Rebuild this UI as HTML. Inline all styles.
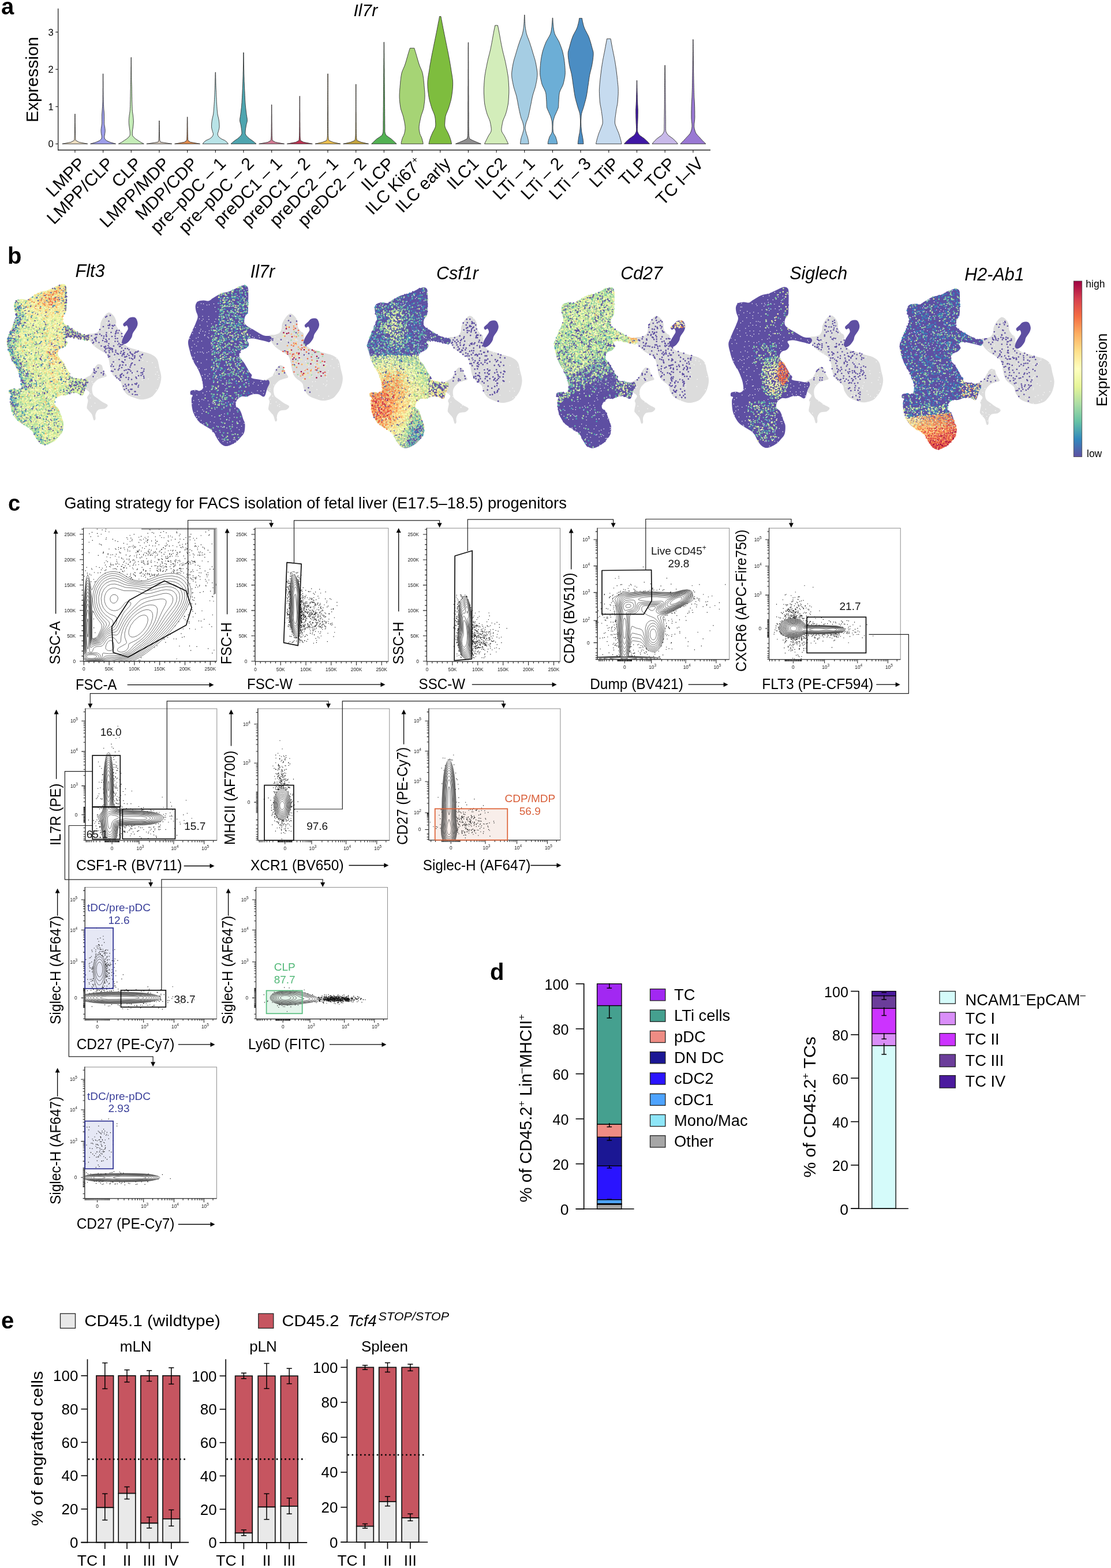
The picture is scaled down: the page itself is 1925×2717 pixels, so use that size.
<!DOCTYPE html>
<html><head><meta charset="utf-8"><title>Figure</title>
<style>html,body{margin:0;padding:0;background:#fff;}svg{display:block;}</style>
</head><body>
<svg width="1925" height="2717" viewBox="0 0 1925 2717" font-family="'Liberation Sans', Arial, Helvetica, sans-serif">
<rect width="1925" height="2717" fill="#fff"/>
<text x="2" y="25" font-size="40" font-weight="bold">a</text>
<text x="612.5" y="27.9" font-size="30" font-style="italic">Il7r</text>
<path d="M151.9 249.3 136.7 246.3 131.1 243.2 130.8 240.2 130.7 237.1 130.6 234.1 130.5 231.1 130.5 228 130.4 225 130.4 222 130.3 218.9 130.3 215.9 130.2 212.8 130.2 209.8 130.2 206.8 130.2 203.7 130.2 200.7 130.2 197.6 129.7 197.6 129.6 200.7 129.6 203.7 129.6 206.8 129.6 209.8 129.6 212.8 129.5 215.9 129.5 218.9 129.4 222 129.4 225 129.3 228 129.3 231.1 129.2 234.1 129.1 237.1 129 240.2 128.7 243.2 123.1 246.3 107.9 249.3Z" fill="#EEDFC2" stroke="#333" stroke-width="0.9" stroke-linejoin="round"/>
<path d="M200.6 249.3 190.4 246.3 184.1 243.4 181.5 240.4 180.8 237.5 181.2 234.5 181.7 231.5 182.1 228.6 182.2 225.6 181.9 222.7 181.5 219.7 180.9 216.7 180.6 213.8 180.6 210.8 180.6 207.8 180.6 204.9 180.6 201.9 180.5 199 180.4 196 180.2 193 179.9 190.1 179.7 187.1 179.6 184.2 179.4 181.2 179.3 178.2 179.2 175.3 179.1 172.3 179.1 169.4 179 166.4 179 163.4 179 160.5 178.9 157.5 178.9 154.6 178.9 151.6 178.9 148.6 178.9 145.7 178.9 142.7 178.8 139.8 178.8 136.8 178.8 133.8 178.8 130.9 178.8 127.9 178.3 127.9 178.3 130.9 178.3 133.8 178.3 136.8 178.3 139.8 178.3 142.7 178.3 145.7 178.3 148.6 178.3 151.6 178.2 154.6 178.2 157.5 178.2 160.5 178.2 163.4 178.1 166.4 178.1 169.4 178.1 172.3 178 175.3 177.9 178.2 177.7 181.2 177.6 184.2 177.4 187.1 177.2 190.1 177 193 176.8 196 176.6 199 176.6 201.9 176.6 204.9 176.6 207.8 176.6 210.8 176.6 213.8 176.2 216.7 175.7 219.7 175.3 222.7 175 225.6 175.1 228.6 175.4 231.5 176 234.5 176.4 237.5 175.7 240.4 173 243.4 166.7 246.3 156.6 249.3Z" fill="#9D9EEA" stroke="#333" stroke-width="0.9" stroke-linejoin="round"/>
<path d="M249.3 249.3 243.7 246.4 239.1 243.4 234.8 240.5 231.6 237.6 229.4 234.6 229.3 231.7 229.3 228.7 229.6 225.8 230.1 222.9 230.5 219.9 230.8 217 231.1 214.1 231.3 211.1 231.2 208.2 231 205.2 230.7 202.3 230.4 199.4 229.9 196.4 229.5 193.5 229.2 190.6 229.1 187.6 229 184.7 228.9 181.7 228.8 178.8 228.7 175.9 228.6 172.9 228.6 170 228.5 167.1 228.5 164.1 228.4 161.2 228.4 158.2 228.3 155.3 228.3 152.4 228.2 149.4 228.1 146.5 228 143.6 227.9 140.6 227.8 137.7 227.8 134.7 227.7 131.8 227.7 128.9 227.7 125.9 227.6 123 227.6 120.1 227.6 117.1 227.6 114.2 227.5 111.2 227.5 108.3 227.5 105.4 227.5 102.4 227.5 99.5 227 99.5 227 102.4 227 105.4 227 108.3 227 111.2 227 114.2 226.9 117.1 226.9 120.1 226.9 123 226.8 125.9 226.8 128.9 226.8 131.8 226.7 134.7 226.7 137.7 226.6 140.6 226.5 143.6 226.4 146.5 226.3 149.4 226.3 152.4 226.2 155.3 226.1 158.2 226.1 161.2 226 164.1 226 167.1 225.9 170 225.9 172.9 225.8 175.9 225.7 178.8 225.7 181.7 225.6 184.7 225.4 187.6 225.3 190.6 225 193.5 224.6 196.4 224.1 199.4 223.8 202.3 223.5 205.2 223.3 208.2 223.3 211.1 223.4 214.1 223.7 217 224 219.9 224.4 222.9 224.9 225.8 225.2 228.7 225.3 231.7 225.1 234.6 223 237.6 219.7 240.5 215.4 243.4 210.9 246.4 205.3 249.3Z" fill="#C5EDB8" stroke="#333" stroke-width="0.9" stroke-linejoin="round"/>
<path d="M297.9 249.3 278.1 246.2 276.8 243.1 276.7 240.1 276.6 237 276.5 233.9 276.5 230.8 276.4 227.7 276.3 224.7 276.3 221.6 276.3 218.5 276.2 215.4 276.2 212.3 276.2 209.3 275.7 209.3 275.7 212.3 275.7 215.4 275.6 218.5 275.6 221.6 275.5 224.7 275.5 227.7 275.4 230.8 275.4 233.9 275.3 237 275.2 240.1 275.1 243.1 273.8 246.2 253.9 249.3Z" fill="#D9CDBF" stroke="#333" stroke-width="0.9" stroke-linejoin="round"/>
<path d="M346.6 249.3 329.6 246.2 325.7 243.1 325.5 240 325.3 236.9 325.3 233.8 325.2 230.7 325.2 227.6 325.1 224.5 325.1 221.4 325 218.3 325 215.2 325 212.1 324.9 209 324.9 205.9 324.9 202.8 324.4 202.8 324.4 205.9 324.3 209 324.3 212.1 324.2 215.2 324.2 218.3 324.2 221.4 324.1 224.5 324.1 227.6 324 230.7 324 233.8 323.9 236.9 323.8 240 323.6 243.1 319.6 246.2 302.6 249.3Z" fill="#DE8A4C" stroke="#333" stroke-width="0.9" stroke-linejoin="round"/>
<path d="M395.5 249.3 393.2 246.3 389.6 243.4 383.1 240.4 379.4 237.5 377.5 234.5 377.1 231.6 378.1 228.6 378.9 225.7 379.7 222.7 380.1 219.8 380 216.8 379.9 213.9 379.6 210.9 379.2 208 378.6 205 377.9 202.1 377.2 199.1 376.8 196.2 376.5 193.2 376.2 190.3 376 187.3 375.8 184.4 375.6 181.4 375.4 178.5 375.2 175.5 375.1 172.6 375 169.6 374.8 166.7 374.7 163.7 374.6 160.7 374.5 157.8 374.3 154.8 374.2 151.9 374.1 148.9 374 146 373.9 143 373.9 140.1 373.8 137.1 373.7 134.2 373.7 131.2 373.6 128.3 373.6 125.3 373.1 125.3 373 128.3 372.9 131.2 372.9 134.2 372.8 137.1 372.7 140.1 372.7 143 372.6 146 372.5 148.9 372.4 151.9 372.3 154.8 372.1 157.8 372 160.7 371.9 163.7 371.8 166.7 371.6 169.6 371.5 172.6 371.4 175.5 371.2 178.5 371 181.4 370.8 184.4 370.6 187.3 370.4 190.3 370.1 193.2 369.8 196.2 369.4 199.1 368.7 202.1 368 205 367.4 208 367 210.9 366.7 213.9 366.6 216.8 366.5 219.8 366.9 222.7 367.7 225.7 368.5 228.6 369.5 231.6 369.1 234.5 367.2 237.5 363.5 240.4 357 243.4 353.4 246.3 351.1 249.3Z" fill="#B8E3E7" stroke="#333" stroke-width="0.9" stroke-linejoin="round"/>
<path d="M444 249.3 440.5 246.3 436.7 243.3 432.2 240.3 429 237.4 426.3 234.4 425 231.4 425.1 228.4 425.3 225.4 425.7 222.4 426.2 219.5 426.7 216.5 427.5 213.5 428.3 210.5 428.4 207.5 428.1 204.5 427.6 201.5 427.1 198.6 426.8 195.6 426.4 192.6 426 189.6 425.7 186.6 425.4 183.6 425.1 180.6 424.9 177.7 424.7 174.7 424.5 171.7 424.4 168.7 424.2 165.7 424.1 162.7 424 159.8 423.8 156.8 423.7 153.8 423.5 150.8 423.4 147.8 423.3 144.8 423.1 141.8 423 138.9 423 135.9 422.9 132.9 422.8 129.9 422.7 126.9 422.7 123.9 422.6 121 422.5 118 422.5 115 422.4 112 422.4 109 422.3 106 422.3 103 422.3 100.1 422.2 97.1 422.2 94.1 422.2 91.1 421.7 91.1 421.7 94.1 421.7 97.1 421.7 100.1 421.7 103 421.6 106 421.6 109 421.5 112 421.5 115 421.4 118 421.4 121 421.3 123.9 421.2 126.9 421.2 129.9 421.1 132.9 421 135.9 420.9 138.9 420.8 141.8 420.7 144.8 420.6 147.8 420.4 150.8 420.3 153.8 420.1 156.8 420 159.8 419.9 162.7 419.7 165.7 419.6 168.7 419.4 171.7 419.2 174.7 419.1 177.7 418.8 180.6 418.6 183.6 418.3 186.6 417.9 189.6 417.6 192.6 417.2 195.6 416.8 198.6 416.4 201.5 415.9 204.5 415.5 207.5 415.7 210.5 416.5 213.5 417.3 216.5 417.8 219.5 418.2 222.4 418.6 225.4 418.9 228.4 419 231.4 417.7 234.4 415 237.4 411.7 240.3 407.2 243.3 403.4 246.3 400 249.3Z" fill="#4EA5AF" stroke="#333" stroke-width="0.9" stroke-linejoin="round"/>
<path d="M492.7 249.3 477.3 246.4 472 243.4 471.7 240.5 471.5 237.5 471.3 234.6 471.3 231.6 471.2 228.7 471.2 225.7 471.2 222.8 471.1 219.8 471.1 216.9 471.1 213.9 471 211 471 208 471 205.1 471 202.1 471 199.2 470.9 196.2 470.9 193.3 470.9 190.3 470.9 187.4 470.9 184.4 470.9 181.5 470.4 181.5 470.4 184.4 470.4 187.4 470.4 190.3 470.4 193.3 470.4 196.2 470.4 199.2 470.3 202.1 470.3 205.1 470.3 208 470.3 211 470.3 213.9 470.2 216.9 470.2 219.8 470.2 222.8 470.1 225.7 470.1 228.7 470 231.6 470 234.6 469.9 237.5 469.6 240.5 469.3 243.4 464.1 246.4 448.7 249.3Z" fill="#D27A93" stroke="#333" stroke-width="0.9" stroke-linejoin="round"/>
<path d="M541.3 249.3 525.9 246.3 520.7 243.4 520.3 240.4 520.1 237.5 520 234.5 520 231.6 519.9 228.6 519.9 225.7 519.9 222.7 519.8 219.8 519.8 216.8 519.8 213.9 519.7 210.9 519.7 208 519.7 205 519.7 202.1 519.7 199.1 519.7 196.2 519.6 193.2 519.6 190.3 519.6 187.3 519.6 184.4 519.6 181.4 519.6 178.5 519.6 175.5 519.6 172.6 519.6 169.6 519.6 166.7 519.1 166.7 519.1 169.6 519.1 172.6 519.1 175.5 519.1 178.5 519.1 181.4 519.1 184.4 519.1 187.3 519 190.3 519 193.2 519 196.2 519 199.1 519 202.1 519 205 519 208 518.9 210.9 518.9 213.9 518.9 216.8 518.9 219.8 518.8 222.7 518.8 225.7 518.8 228.6 518.7 231.6 518.7 234.5 518.5 237.5 518.3 240.4 518 243.4 512.8 246.3 497.3 249.3Z" fill="#BE3352" stroke="#333" stroke-width="0.9" stroke-linejoin="round"/>
<path d="M590 249.3 576.8 246.3 569.9 243.4 569.2 240.4 568.9 237.5 568.7 234.5 568.6 231.5 568.6 228.6 568.6 225.6 568.6 222.7 568.5 219.7 568.5 216.7 568.5 213.8 568.5 210.8 568.5 207.8 568.4 204.9 568.4 201.9 568.4 199 568.4 196 568.4 193 568.4 190.1 568.4 187.1 568.4 184.2 568.3 181.2 568.3 178.2 568.3 175.3 568.3 172.3 568.3 169.4 568.3 166.4 568.3 163.4 568.3 160.5 568.3 157.5 568.3 154.6 568.3 151.6 568.3 148.6 568.3 145.7 568.3 142.7 568.3 139.8 568.3 136.8 568.3 133.8 568.3 130.9 568.3 127.9 567.8 127.9 567.8 130.9 567.8 133.8 567.8 136.8 567.8 139.8 567.8 142.7 567.8 145.7 567.8 148.6 567.8 151.6 567.8 154.6 567.8 157.5 567.7 160.5 567.7 163.4 567.7 166.4 567.7 169.4 567.7 172.3 567.7 175.3 567.7 178.2 567.7 181.2 567.7 184.2 567.7 187.1 567.7 190.1 567.7 193 567.6 196 567.6 199 567.6 201.9 567.6 204.9 567.6 207.8 567.6 210.8 567.5 213.8 567.5 216.7 567.5 219.7 567.5 222.7 567.5 225.6 567.4 228.6 567.4 231.5 567.3 234.5 567.2 237.5 566.9 240.4 566.2 243.4 559.2 246.3 546 249.3Z" fill="#EDC050" stroke="#333" stroke-width="0.9" stroke-linejoin="round"/>
<path d="M638.7 249.3 625.5 246.3 618.6 243.4 617.9 240.4 617.6 237.5 617.4 234.5 617.3 231.6 617.3 228.6 617.3 225.7 617.2 222.7 617.2 219.8 617.2 216.8 617.2 213.9 617.1 210.9 617.1 208 617.1 205 617.1 202.1 617.1 199.1 617.1 196.2 617 193.2 617 190.3 617 187.3 617 184.4 617 181.4 617 178.5 617 175.5 617 172.6 617 169.6 617 166.7 617 163.7 617 160.7 617 157.8 617 154.8 617 151.9 617 148.9 617 146 616.5 146 616.4 148.9 616.4 151.9 616.4 154.8 616.4 157.8 616.4 160.7 616.4 163.7 616.4 166.7 616.4 169.6 616.4 172.6 616.4 175.5 616.4 178.5 616.4 181.4 616.4 184.4 616.4 187.3 616.4 190.3 616.4 193.2 616.3 196.2 616.3 199.1 616.3 202.1 616.3 205 616.3 208 616.3 210.9 616.2 213.9 616.2 216.8 616.2 219.8 616.2 222.7 616.1 225.7 616.1 228.6 616.1 231.6 616 234.5 615.8 237.5 615.5 240.4 614.8 243.4 607.9 246.3 594.7 249.3Z" fill="#C4A43E" stroke="#333" stroke-width="0.9" stroke-linejoin="round"/>
<path d="M687.1 249.3 684.1 246.4 680.9 243.4 677.7 240.5 673.1 237.5 669.2 234.6 667.7 231.7 666.9 228.7 666.8 225.8 666.8 222.9 666.8 219.9 666.8 217 666.7 214 666.7 211.1 666.7 208.2 666.7 205.2 666.7 202.3 666.6 199.4 666.6 196.4 666.6 193.5 666.6 190.5 666.5 187.6 666.5 184.7 666.5 181.7 666.4 178.8 666.4 175.9 666.4 172.9 666.4 170 666.3 167 666.3 164.1 666.3 161.2 666.3 158.2 666.2 155.3 666.2 152.3 666.2 149.4 666.2 146.5 666.1 143.5 666.1 140.6 666.1 137.7 666.1 134.7 666 131.8 666 128.8 666 125.9 666 123 666 120 665.9 117.1 665.9 114.2 665.9 111.2 665.9 108.3 665.8 105.3 665.8 102.4 665.8 99.5 665.8 96.5 665.8 93.6 665.7 90.7 665.7 87.7 665.7 84.8 665.7 81.8 665.7 78.9 665.6 76 665.6 73 665.1 73 665.1 76 665.1 78.9 665.1 81.8 665.1 84.8 665 87.7 665 90.7 665 93.6 665 96.5 665 99.5 664.9 102.4 664.9 105.3 664.9 108.3 664.9 111.2 664.8 114.2 664.8 117.1 664.8 120 664.8 123 664.8 125.9 664.7 128.8 664.7 131.8 664.7 134.7 664.7 137.7 664.6 140.6 664.6 143.5 664.6 146.5 664.6 149.4 664.5 152.3 664.5 155.3 664.5 158.2 664.5 161.2 664.4 164.1 664.4 167 664.4 170 664.4 172.9 664.3 175.9 664.3 178.8 664.3 181.7 664.3 184.7 664.2 187.6 664.2 190.5 664.2 193.5 664.1 196.4 664.1 199.4 664.1 202.3 664.1 205.2 664.1 208.2 664 211.1 664 214 664 217 664 219.9 664 222.9 663.9 225.8 663.8 228.7 663 231.7 661.6 234.6 657.7 237.5 653.1 240.5 649.8 243.4 646.7 246.4 643.7 249.3Z" fill="#52B153" stroke="#333" stroke-width="0.9" stroke-linejoin="round"/>
<path d="M733.2 249.3 732.7 246.3 732 243.4 731.2 240.4 730.1 237.4 728.6 234.5 727.5 231.5 726.9 228.6 726.3 225.6 726.1 222.6 726.1 219.7 726.4 216.7 726.9 213.7 727.5 210.8 728.1 207.8 728.7 204.9 729.4 201.9 730.3 198.9 731.3 196 732.4 193 733.3 190 734.1 187.1 734.5 184.1 734.9 181.1 735.3 178.2 735.6 175.2 735.9 172.3 736 169.3 736.1 166.3 736 163.4 735.9 160.4 735.7 157.4 735.4 154.5 735.2 151.5 734.9 148.5 734.7 145.6 734.4 142.6 734.1 139.7 733.8 136.7 733.4 133.7 732.9 130.8 732.4 127.8 731.6 124.8 730.5 121.9 729.2 118.9 727.9 116 726.7 113 725.7 110 724.8 107.1 723.9 104.1 723.1 101.1 722.2 98.2 721.4 95.2 720.5 92.2 719.6 89.3 718.7 86.3 717.8 83.4 710.4 83.4 709.4 86.3 708.5 89.3 707.6 92.2 706.7 95.2 705.9 98.2 705 101.1 704.2 104.1 703.3 107.1 702.4 110 701.4 113 700.2 116 698.9 118.9 697.6 121.9 696.5 124.8 695.7 127.8 695.2 130.8 694.7 133.7 694.4 136.7 694 139.7 693.7 142.6 693.5 145.6 693.2 148.5 693 151.5 692.7 154.5 692.5 157.4 692.3 160.4 692.1 163.4 692.1 166.3 692.1 169.3 692.3 172.3 692.5 175.2 692.8 178.2 693.2 181.1 693.6 184.1 694.1 187.1 694.8 190 695.8 193 696.8 196 697.8 198.9 698.7 201.9 699.4 204.9 700 207.8 700.7 210.8 701.2 213.7 701.7 216.7 702 219.7 702.1 222.6 701.8 225.6 701.3 228.6 700.6 231.5 699.5 234.5 698.1 237.4 696.9 240.4 696.1 243.4 695.4 246.3 695 249.3Z" fill="#A6D475" stroke="#333" stroke-width="0.9" stroke-linejoin="round"/>
<path d="M782.5 249.3 781.9 246.4 781.2 243.4 780.3 240.5 779.3 237.5 778.1 234.6 776.8 231.6 775.4 228.7 773.8 225.7 772.2 222.8 771.1 219.9 770.6 216.9 770.7 214 770.9 211 771.1 208.1 771.4 205.1 771.8 202.2 772.6 199.2 773.7 196.3 774.9 193.4 776.1 190.4 777.3 187.5 778.2 184.5 779.1 181.6 779.9 178.6 780.7 175.7 781.5 172.7 782.1 169.8 782.6 166.9 783 163.9 783.4 161 783.8 158 784.1 155.1 784.3 152.1 784.5 149.2 784.6 146.2 784.6 143.3 784.5 140.4 784.2 137.4 783.8 134.5 783.4 131.5 782.9 128.6 782.4 125.6 781.9 122.7 781.5 119.7 781 116.8 780.5 113.9 780 110.9 779.5 108 779 105 778.4 102.1 777.9 99.1 777.3 96.2 776.8 93.2 776.2 90.3 775.6 87.4 775 84.4 774.4 81.5 773.8 78.5 773.2 75.6 772.6 72.6 772 69.7 771.4 66.7 770.8 63.8 770.2 60.9 769.6 57.9 769 55 768.4 52 767.8 49.1 767.3 46.1 766.7 43.2 766.1 40.2 765.6 37.3 765 34.4 764.5 31.4 763.9 28.5 761.5 28.5 761 31.4 760.5 34.4 759.9 37.3 759.3 40.2 758.8 43.2 758.2 46.1 757.6 49.1 757.1 52 756.5 55 755.9 57.9 755.3 60.9 754.7 63.8 754.1 66.7 753.5 69.7 752.9 72.6 752.3 75.6 751.7 78.5 751.1 81.5 750.5 84.4 749.9 87.4 749.3 90.3 748.7 93.2 748.1 96.2 747.6 99.1 747 102.1 746.5 105 746 108 745.4 110.9 744.9 113.9 744.5 116.8 744 119.7 743.6 122.7 743.1 125.6 742.6 128.6 742.1 131.5 741.7 134.5 741.3 137.4 741 140.4 740.9 143.3 740.9 146.2 741 149.2 741.1 152.1 741.4 155.1 741.7 158 742.1 161 742.5 163.9 742.9 166.9 743.4 169.8 744 172.7 744.7 175.7 745.6 178.6 746.4 181.6 747.3 184.5 748.2 187.5 749.3 190.4 750.6 193.4 751.8 196.3 752.8 199.2 753.6 202.2 754.1 205.1 754.4 208.1 754.6 211 754.8 214 754.8 216.9 754.4 219.9 753.2 222.8 751.7 225.7 750 228.7 748.7 231.6 747.4 234.6 746.2 237.5 745.2 240.5 744.3 243.4 743.6 246.4 742.9 249.3Z" fill="#7EBD3E" stroke="#333" stroke-width="0.9" stroke-linejoin="round"/>
<path d="M833.4 249.3 825.9 246.3 818.9 243.3 813.5 240.4 812.8 237.4 812.4 234.4 812.3 231.4 812.2 228.5 812.2 225.5 812.2 222.5 812.1 219.5 812.1 216.6 812.1 213.6 812.1 210.6 812.1 207.6 812.1 204.6 812.1 201.7 812.1 198.7 812.1 195.7 812 192.7 812 189.8 812 186.8 812 183.8 812 180.8 812 177.9 812 174.9 812 171.9 812 168.9 812 165.9 811.9 163 811.9 160 811.9 157 811.9 154 811.9 151.1 811.9 148.1 811.9 145.1 811.9 142.1 811.9 139.2 811.8 136.2 811.8 133.2 811.8 130.2 811.8 127.3 811.8 124.3 811.8 121.3 811.8 118.3 811.8 115.3 811.8 112.4 811.8 109.4 811.8 106.4 811.7 103.4 811.7 100.5 811.7 97.5 811.7 94.5 811.7 91.5 811.7 88.6 811.7 85.6 811.7 82.6 811.7 79.6 811.7 76.6 811.7 73.7 811.2 73.7 811.2 76.6 811.2 79.6 811.1 82.6 811.1 85.6 811.1 88.6 811.1 91.5 811.1 94.5 811.1 97.5 811.1 100.5 811.1 103.4 811.1 106.4 811.1 109.4 811.1 112.4 811.1 115.3 811.1 118.3 811 121.3 811 124.3 811 127.3 811 130.2 811 133.2 811 136.2 811 139.2 811 142.1 811 145.1 811 148.1 810.9 151.1 810.9 154 810.9 157 810.9 160 810.9 163 810.9 165.9 810.9 168.9 810.9 171.9 810.9 174.9 810.8 177.9 810.8 180.8 810.8 183.8 810.8 186.8 810.8 189.8 810.8 192.7 810.8 195.7 810.8 198.7 810.8 201.7 810.8 204.6 810.8 207.6 810.7 210.6 810.7 213.6 810.7 216.6 810.7 219.5 810.7 222.5 810.7 225.5 810.6 228.5 810.6 231.4 810.4 234.4 810 237.4 809.4 240.4 803.9 243.3 796.9 246.3 789.4 249.3Z" fill="#8F8F8F" stroke="#333" stroke-width="0.9" stroke-linejoin="round"/>
<path d="M880.7 249.3 879.3 246.3 877.8 243.3 876.4 240.4 874.9 237.4 873.3 234.4 871.3 231.4 869.6 228.5 868.9 225.5 869 222.5 869.4 219.5 869.9 216.6 870.5 213.6 871.1 210.6 872.1 207.6 873.3 204.7 874.6 201.7 875.8 198.7 876.8 195.7 877.6 192.8 878.4 189.8 879.1 186.8 879.7 183.8 880.3 180.9 880.7 177.9 881 174.9 881.2 171.9 881.4 169 881.5 166 881.7 163 881.8 160 881.8 157 881.8 154.1 881.7 151.1 881.5 148.1 881.4 145.1 881.2 142.2 881 139.2 880.7 136.2 880.4 133.2 880 130.3 879.5 127.3 879 124.3 878.5 121.3 877.9 118.4 877.3 115.4 876.7 112.4 876.1 109.4 875.5 106.5 874.8 103.5 874.1 100.5 873.3 97.5 872.6 94.6 871.8 91.6 871.1 88.6 870.4 85.6 869.8 82.7 869.2 79.7 868.6 76.7 868 73.7 867.5 70.7 866.9 67.8 866.4 64.8 865.9 61.8 865.3 58.8 864.8 55.9 864.2 52.9 863.6 49.9 863 46.9 862.4 44 857.8 44 857.2 46.9 856.6 49.9 856 52.9 855.4 55.9 854.9 58.8 854.3 61.8 853.8 64.8 853.3 67.8 852.7 70.7 852.2 73.7 851.6 76.7 851 79.7 850.4 82.7 849.8 85.6 849.1 88.6 848.4 91.6 847.6 94.6 846.9 97.5 846.1 100.5 845.4 103.5 844.7 106.5 844.1 109.4 843.5 112.4 842.9 115.4 842.3 118.4 841.7 121.3 841.2 124.3 840.7 127.3 840.2 130.3 839.8 133.2 839.5 136.2 839.2 139.2 839 142.2 838.8 145.1 838.7 148.1 838.5 151.1 838.4 154.1 838.4 157 838.4 160 838.5 163 838.7 166 838.8 169 839 171.9 839.2 174.9 839.5 177.9 839.9 180.9 840.5 183.8 841.1 186.8 841.8 189.8 842.6 192.8 843.4 195.7 844.4 198.7 845.6 201.7 846.9 204.7 848.1 207.6 849.1 210.6 849.7 213.6 850.3 216.6 850.8 219.5 851.2 222.5 851.3 225.5 850.6 228.5 848.9 231.4 846.9 234.4 845.3 237.4 843.8 240.4 842.4 243.3 840.9 246.3 839.5 249.3Z" fill="#D3EDBA" stroke="#333" stroke-width="0.9" stroke-linejoin="round"/>
<path d="M916.1 249.3 915.8 246.4 915.4 243.4 914.8 240.5 914.1 237.5 913 234.6 912.1 231.7 911.3 228.7 910.5 225.8 910 222.8 910.1 219.9 910.6 217 911.2 214 912.1 211.1 913.3 208.1 914.4 205.2 915.3 202.3 916 199.3 916.7 196.4 917.3 193.4 917.9 190.5 918.5 187.6 919.1 184.6 919.7 181.7 920.3 178.7 920.8 175.8 921.4 172.9 922 169.9 922.6 167 923.4 164.1 924.3 161.1 925.2 158.2 926.2 155.2 927.1 152.3 927.9 149.4 928.5 146.4 929.1 143.5 929.7 140.5 930.2 137.6 930.6 134.7 930.9 131.7 931 128.8 930.9 125.8 930.6 122.9 930.2 120 929.7 117 929.2 114.1 928.7 111.1 928.1 108.2 927.4 105.3 926.6 102.3 925.7 99.4 924.8 96.4 923.9 93.5 923 90.6 922.2 87.6 921.3 84.7 920.4 81.7 919.4 78.8 918.5 75.9 917.5 72.9 916.4 70 915.3 67 914.1 64.1 913.1 61.2 912.2 58.2 911.5 55.3 911 52.3 910.5 49.4 910.1 46.5 909.8 43.5 909.6 40.6 909.5 37.6 909.3 34.7 909.2 31.8 909.1 28.8 909.1 25.9 908.5 25.9 908.5 28.8 908.4 31.8 908.2 34.7 908.1 37.6 907.9 40.6 907.7 43.5 907.4 46.5 907 49.4 906.6 52.3 906 55.3 905.4 58.2 904.5 61.2 903.4 64.1 902.3 67 901.1 70 900.1 72.9 899.1 75.9 898.1 78.8 897.2 81.7 896.3 84.7 895.4 87.6 894.5 90.6 893.7 93.5 892.8 96.4 891.9 99.4 891 102.3 890.2 105.3 889.5 108.2 888.9 111.1 888.4 114.1 887.8 117 887.4 120 887 122.9 886.7 125.8 886.6 128.8 886.7 131.7 886.9 134.7 887.4 137.6 887.9 140.5 888.5 143.5 889.1 146.4 889.7 149.4 890.5 152.3 891.4 155.2 892.3 158.2 893.3 161.1 894.2 164.1 895 167 895.6 169.9 896.2 172.9 896.8 175.8 897.3 178.7 897.8 181.7 898.4 184.6 899 187.6 899.6 190.5 900.2 193.4 900.9 196.4 901.5 199.3 902.3 202.3 903.1 205.2 904.3 208.1 905.5 211.1 906.3 214 907 217 907.4 219.9 907.6 222.8 907.1 225.8 906.3 228.7 905.5 231.7 904.5 234.6 903.5 237.5 902.7 240.5 902.2 243.4 901.8 246.4 901.5 249.3Z" fill="#A5CDE3" stroke="#333" stroke-width="0.9" stroke-linejoin="round"/>
<path d="M965.8 249.3 965.3 246.4 964.7 243.4 963.8 240.5 962.9 237.5 961.4 234.6 959.5 231.6 958.5 228.7 958.2 225.7 958 222.8 958 219.8 958.1 216.9 958.2 213.9 958.4 211 959 208 959.8 205.1 960.7 202.1 961.9 199.2 963.3 196.2 964.6 193.3 965.9 190.3 967.1 187.4 967.7 184.4 967.8 181.5 967.9 178.5 968.1 175.6 968.2 172.6 968.4 169.7 968.6 166.7 968.9 163.8 969.3 160.8 970.3 157.9 971.6 154.9 973.1 152 974.6 149 975.8 146.1 976.6 143.1 977.2 140.2 977.9 137.2 978.5 134.3 978.9 131.3 979.2 128.4 979.3 125.4 979.2 122.5 979.1 119.5 978.9 116.6 978.7 113.6 978.4 110.7 978.1 107.7 977.7 104.8 977.3 101.8 976.8 98.9 976.2 95.9 975.6 93 974.9 90 974.1 87.1 973.1 84.1 972.1 81.2 971 78.2 969.8 75.3 968.6 72.3 967 69.4 965.3 66.4 963.6 63.5 962 60.5 960.8 57.6 960.1 54.6 959.5 51.7 959.1 48.7 958.8 45.8 958.5 42.9 958.2 39.9 958 37 957.9 34 957.8 31.1 957.2 31.1 957.1 34 956.9 37 956.7 39.9 956.4 42.9 956.2 45.8 955.8 48.7 955.4 51.7 954.9 54.6 954.1 57.6 952.9 60.5 951.3 63.5 949.6 66.4 947.9 69.4 946.3 72.3 945.1 75.3 943.9 78.2 942.8 81.2 941.8 84.1 940.8 87.1 940 90 939.3 93 938.7 95.9 938.1 98.9 937.6 101.8 937.2 104.8 936.8 107.7 936.5 110.7 936.3 113.6 936 116.6 935.9 119.5 935.7 122.5 935.7 125.4 935.7 128.4 936 131.3 936.5 134.3 937 137.2 937.7 140.2 938.3 143.1 939.1 146.1 940.3 149 941.8 152 943.3 154.9 944.6 157.9 945.6 160.8 946.1 163.8 946.3 166.7 946.5 169.7 946.7 172.6 946.9 175.6 947 178.5 947.1 181.5 947.2 184.4 947.8 187.4 949 190.3 950.4 193.3 951.6 196.2 953 199.2 954.2 202.1 955.1 205.1 955.9 208 956.5 211 956.7 213.9 956.9 216.9 956.9 219.8 956.9 222.8 956.8 225.7 956.5 228.7 955.4 231.6 953.6 234.6 952 237.5 951.1 240.5 950.2 243.4 949.6 246.4 949.2 249.3Z" fill="#6CAED6" stroke="#333" stroke-width="0.9" stroke-linejoin="round"/>
<path d="M1011 249.3 1010.7 246.4 1010.4 243.4 1010 240.5 1009.5 237.5 1009 234.6 1008.3 231.7 1007.8 228.7 1007.5 225.8 1007.2 222.8 1006.9 219.9 1006.8 217 1006.7 214 1006.6 211.1 1006.7 208.1 1006.9 205.2 1007 202.3 1007.3 199.3 1007.8 196.4 1008.6 193.4 1009.6 190.5 1010.6 187.5 1011.5 184.6 1012.3 181.7 1013.1 178.7 1013.9 175.8 1014.7 172.8 1015.4 169.9 1016.1 167 1016.6 164 1017.1 161.1 1017.6 158.1 1018 155.2 1018.4 152.3 1018.8 149.3 1019.3 146.4 1019.7 143.4 1020.1 140.5 1020.5 137.6 1020.9 134.6 1021.4 131.7 1021.9 128.7 1022.6 125.8 1023.3 122.9 1024.1 119.9 1024.8 117 1025.5 114 1026 111.1 1026.5 108.2 1027 105.2 1027.4 102.3 1027.7 99.3 1028 96.4 1028.1 93.5 1028 90.5 1027.3 87.6 1026.4 84.6 1025.6 81.7 1024.8 78.7 1024 75.8 1023.2 72.9 1022.2 69.9 1021.3 67 1020.2 64 1018.9 61.1 1017.4 58.2 1015.8 55.2 1014.3 52.3 1012.9 49.3 1011.8 46.4 1010.9 43.5 1010.2 40.5 1009.5 37.6 1008.9 34.6 1008.5 31.7 1003.7 31.7 1003.3 34.6 1002.8 37.6 1002.1 40.5 1001.3 43.5 1000.5 46.4 999.4 49.3 998 52.3 996.4 55.2 994.8 58.2 993.3 61.1 992.1 64 991 67 990 69.9 989.1 72.9 988.3 75.8 987.5 78.7 986.7 81.7 985.9 84.6 985 87.6 984.3 90.5 984.2 93.5 984.3 96.4 984.5 99.3 984.9 102.3 985.3 105.2 985.8 108.2 986.2 111.1 986.8 114 987.4 117 988.2 119.9 989 122.9 989.7 125.8 990.4 128.7 990.9 131.7 991.3 134.6 991.8 137.6 992.2 140.5 992.6 143.4 993 146.4 993.4 149.3 993.9 152.3 994.3 155.2 994.7 158.1 995.2 161.1 995.7 164 996.2 167 996.8 169.9 997.6 172.8 998.3 175.8 999.2 178.7 1000 181.7 1000.8 184.6 1001.7 187.5 1002.7 190.5 1003.7 193.4 1004.5 196.4 1005 199.3 1005.2 202.3 1005.4 205.2 1005.6 208.1 1005.6 211.1 1005.6 214 1005.5 217 1005.3 219.9 1005.1 222.8 1004.8 225.8 1004.5 228.7 1003.9 231.7 1003.3 234.6 1002.8 237.5 1002.3 240.5 1001.9 243.4 1001.6 246.4 1001.2 249.3Z" fill="#4B8DC3" stroke="#333" stroke-width="0.9" stroke-linejoin="round"/>
<path d="M1077 249.3 1076.4 246.4 1075.8 243.4 1075 240.5 1074.2 237.6 1073.3 234.6 1072.3 231.7 1071.2 228.7 1069.9 225.8 1068.7 222.9 1067.6 219.9 1066.4 217 1065.6 214.1 1065.4 211.1 1065.6 208.2 1065.8 205.2 1066.2 202.3 1066.6 199.4 1067 196.4 1067.4 193.5 1067.8 190.6 1068.4 187.6 1068.9 184.7 1069.5 181.8 1070 178.8 1070.3 175.9 1070.5 172.9 1070.7 170 1070.9 167.1 1071.1 164.1 1071.2 161.2 1071.2 158.3 1071.2 155.3 1071.1 152.4 1070.9 149.4 1070.6 146.5 1070.3 143.6 1070 140.6 1069.7 137.7 1069.4 134.8 1069.1 131.8 1068.7 128.9 1068.4 126 1068 123 1067.6 120.1 1067.2 117.1 1066.8 114.2 1066.3 111.3 1065.9 108.3 1065.4 105.4 1064.8 102.5 1064.3 99.5 1063.7 96.6 1063.1 93.6 1062.5 90.7 1061.9 87.8 1061.3 84.8 1060.7 81.9 1060.2 79 1059.6 76 1059.1 73.1 1058.6 70.1 1058 67.2 1051.6 67.2 1051.1 70.1 1050.5 73.1 1050 76 1049.4 79 1048.9 81.9 1048.3 84.8 1047.8 87.8 1047.2 90.7 1046.6 93.6 1046 96.6 1045.4 99.5 1044.8 102.5 1044.3 105.4 1043.8 108.3 1043.3 111.3 1042.9 114.2 1042.4 117.1 1042 120.1 1041.6 123 1041.3 126 1040.9 128.9 1040.6 131.8 1040.2 134.8 1039.9 137.7 1039.6 140.6 1039.3 143.6 1039 146.5 1038.8 149.4 1038.6 152.4 1038.4 155.3 1038.4 158.3 1038.5 161.2 1038.6 164.1 1038.7 167.1 1038.9 170 1039.1 172.9 1039.3 175.9 1039.7 178.8 1040.1 181.8 1040.7 184.7 1041.3 187.6 1041.8 190.6 1042.3 193.5 1042.7 196.4 1043.1 199.4 1043.5 202.3 1043.8 205.2 1044.1 208.2 1044.2 211.1 1044.1 214.1 1043.2 217 1042 219.9 1040.9 222.9 1039.7 225.8 1038.5 228.7 1037.3 231.7 1036.4 234.6 1035.5 237.6 1034.6 240.5 1033.9 243.4 1033.2 246.4 1032.6 249.3Z" fill="#C6DBEF" stroke="#333" stroke-width="0.9" stroke-linejoin="round"/>
<path d="M1125.5 249.3 1122.9 246.3 1119.9 243.4 1116.7 240.4 1112.5 237.4 1108.3 234.5 1106.2 231.5 1104.8 228.5 1104.3 225.6 1104.4 222.6 1104.5 219.6 1104.6 216.7 1104.8 213.7 1104.9 210.7 1105 207.8 1105.1 204.8 1105.2 201.8 1105.2 198.9 1105.3 195.9 1105.3 192.9 1105.3 190 1105.1 187 1105 184 1104.8 181.1 1104.7 178.1 1104.5 175.1 1104.4 172.2 1104.3 169.2 1104.3 166.2 1104.2 163.3 1104.1 160.3 1104 157.3 1104 154.4 1103.9 151.4 1103.9 148.4 1103.8 145.5 1103.8 142.5 1103.8 139.5 1103.2 139.5 1103.2 142.5 1103.2 145.5 1103.1 148.4 1103.1 151.4 1103 154.4 1103 157.3 1102.9 160.3 1102.8 163.3 1102.7 166.2 1102.7 169.2 1102.6 172.2 1102.5 175.1 1102.3 178.1 1102.2 181.1 1102 184 1101.9 187 1101.7 190 1101.7 192.9 1101.7 195.9 1101.8 198.9 1101.8 201.8 1101.9 204.8 1102 207.8 1102.1 210.7 1102.2 213.7 1102.4 216.7 1102.5 219.6 1102.6 222.6 1102.7 225.6 1102.2 228.5 1100.8 231.5 1098.7 234.5 1094.5 237.4 1090.3 240.4 1087.1 243.4 1084.1 246.3 1081.5 249.3Z" fill="#3F17A5" stroke="#333" stroke-width="0.9" stroke-linejoin="round"/>
<path d="M1174.4 249.3 1172.1 246.3 1169.3 243.4 1166.2 240.4 1162.2 237.5 1158 234.5 1155.7 231.5 1154 228.6 1153.5 225.6 1153.4 222.6 1153.4 219.7 1153.4 216.7 1153.4 213.8 1153.4 210.8 1153.4 207.8 1153.3 204.9 1153.3 201.9 1153.2 198.9 1153.2 196 1153.2 193 1153.1 190.1 1153.1 187.1 1153.1 184.1 1153.1 181.2 1153 178.2 1153 175.3 1153 172.3 1153 169.3 1153 166.4 1153 163.4 1152.9 160.4 1152.9 157.5 1152.9 154.5 1152.9 151.6 1152.8 148.6 1152.8 145.6 1152.8 142.7 1152.8 139.7 1152.7 136.8 1152.7 133.8 1152.7 130.8 1152.6 127.9 1152.6 124.9 1152.6 121.9 1152.5 119 1152.5 116 1152.4 113.1 1151.9 113.1 1151.9 116 1151.8 119 1151.8 121.9 1151.8 124.9 1151.7 127.9 1151.7 130.8 1151.7 133.8 1151.6 136.8 1151.6 139.7 1151.6 142.7 1151.5 145.6 1151.5 148.6 1151.5 151.6 1151.5 154.5 1151.4 157.5 1151.4 160.4 1151.4 163.4 1151.4 166.4 1151.4 169.3 1151.4 172.3 1151.3 175.3 1151.3 178.2 1151.3 181.2 1151.3 184.1 1151.3 187.1 1151.2 190.1 1151.2 193 1151.2 196 1151.1 198.9 1151.1 201.9 1151 204.9 1151 207.8 1151 210.8 1151 213.8 1150.9 216.7 1150.9 219.7 1150.9 222.6 1150.9 225.6 1150.3 228.6 1148.7 231.5 1146.3 234.5 1142.1 237.5 1138.1 240.4 1135 243.4 1132.3 246.3 1130 249.3Z" fill="#C8B9E9" stroke="#333" stroke-width="0.9" stroke-linejoin="round"/>
<path d="M1222.9 249.3 1219.8 246.3 1217 243.4 1214.2 240.4 1211.6 237.4 1208.7 234.5 1206.3 231.5 1204.8 228.6 1203.9 225.6 1203.1 222.6 1202.7 219.7 1202.7 216.7 1202.9 213.7 1203.3 210.8 1203.6 207.8 1203.8 204.8 1203.9 201.9 1203.8 198.9 1203.8 196 1203.8 193 1203.7 190 1203.7 187.1 1203.6 184.1 1203.5 181.1 1203.4 178.2 1203.2 175.2 1203 172.2 1202.8 169.3 1202.7 166.3 1202.6 163.3 1202.5 160.4 1202.4 157.4 1202.3 154.5 1202.2 151.5 1202.2 148.5 1202.1 145.6 1202 142.6 1202 139.6 1201.9 136.7 1201.9 133.7 1201.8 130.7 1201.8 127.8 1201.7 124.8 1201.7 121.9 1201.6 118.9 1201.6 115.9 1201.6 113 1201.5 110 1201.5 107 1201.4 104.1 1201.4 101.1 1201.4 98.1 1201.3 95.2 1201.3 92.2 1201.3 89.3 1201.2 86.3 1201.2 83.3 1201.2 80.4 1201.2 77.4 1201.1 74.4 1201.1 71.5 1201.1 68.5 1200.6 68.5 1200.6 71.5 1200.6 74.4 1200.6 77.4 1200.5 80.4 1200.5 83.3 1200.5 86.3 1200.5 89.3 1200.4 92.2 1200.4 95.2 1200.4 98.1 1200.3 101.1 1200.3 104.1 1200.2 107 1200.2 110 1200.2 113 1200.1 115.9 1200.1 118.9 1200 121.9 1200 124.8 1199.9 127.8 1199.9 130.7 1199.8 133.7 1199.8 136.7 1199.7 139.6 1199.7 142.6 1199.6 145.6 1199.5 148.5 1199.5 151.5 1199.4 154.5 1199.3 157.4 1199.2 160.4 1199.1 163.3 1199 166.3 1198.9 169.3 1198.7 172.2 1198.5 175.2 1198.3 178.2 1198.2 181.1 1198.1 184.1 1198 187.1 1198 190 1197.9 193 1197.9 196 1197.9 198.9 1197.9 201.9 1197.9 204.8 1198.1 207.8 1198.4 210.8 1198.8 213.7 1199 216.7 1199 219.7 1198.6 222.6 1197.9 225.6 1196.9 228.6 1195.5 231.5 1193 234.5 1190.2 237.4 1187.5 240.4 1184.8 243.4 1181.9 246.3 1178.9 249.3Z" fill="#9978D3" stroke="#333" stroke-width="0.9" stroke-linejoin="round"/>
<line x1="100.7" y1="14.8" x2="100.7" y2="260.6" stroke="#222" stroke-width="1.3"/>
<line x1="100.1" y1="260" x2="1231" y2="260" stroke="#222" stroke-width="1.3"/>
<line x1="96.3" y1="249.3" x2="100.7" y2="249.3" stroke="#222" stroke-width="1.2"/>
<text x="92.8" y="255.3" font-size="16.5" text-anchor="end">0</text>
<line x1="96.3" y1="184.7" x2="100.7" y2="184.7" stroke="#222" stroke-width="1.2"/>
<text x="92.8" y="190.7" font-size="16.5" text-anchor="end">1</text>
<line x1="96.3" y1="120.2" x2="100.7" y2="120.2" stroke="#222" stroke-width="1.2"/>
<text x="92.8" y="126.2" font-size="16.5" text-anchor="end">2</text>
<line x1="96.3" y1="55.6" x2="100.7" y2="55.6" stroke="#222" stroke-width="1.2"/>
<text x="92.8" y="61.6" font-size="16.5" text-anchor="end">3</text>
<text font-size="30" text-anchor="middle" transform="translate(65.6 137.9) rotate(-90)">Expression</text>
<line x1="129.9" y1="260" x2="129.9" y2="264.5" stroke="#222" stroke-width="1.2"/>
<text transform="translate(149.7 285.3) rotate(-45)" font-size="30" text-anchor="end">LMPP</text>
<line x1="178.6" y1="260" x2="178.6" y2="264.5" stroke="#222" stroke-width="1.2"/>
<text transform="translate(198.4 285.3) rotate(-45)" font-size="30" text-anchor="end">LMPP/CLP</text>
<line x1="227.3" y1="260" x2="227.3" y2="264.5" stroke="#222" stroke-width="1.2"/>
<text transform="translate(247.1 285.3) rotate(-45)" font-size="30" text-anchor="end">CLP</text>
<line x1="275.9" y1="260" x2="275.9" y2="264.5" stroke="#222" stroke-width="1.2"/>
<text transform="translate(295.7 285.3) rotate(-45)" font-size="30" text-anchor="end">LMPP/MDP</text>
<line x1="324.6" y1="260" x2="324.6" y2="264.5" stroke="#222" stroke-width="1.2"/>
<text transform="translate(344.4 285.3) rotate(-45)" font-size="30" text-anchor="end">MDP/CDP</text>
<line x1="373.3" y1="260" x2="373.3" y2="264.5" stroke="#222" stroke-width="1.2"/>
<text transform="translate(393.1 285.3) rotate(-45)" font-size="30" text-anchor="end">pre–pDC – 1</text>
<line x1="422" y1="260" x2="422" y2="264.5" stroke="#222" stroke-width="1.2"/>
<text transform="translate(441.8 285.3) rotate(-45)" font-size="30" text-anchor="end">pre–pDC – 2</text>
<line x1="470.7" y1="260" x2="470.7" y2="264.5" stroke="#222" stroke-width="1.2"/>
<text transform="translate(490.5 285.3) rotate(-45)" font-size="30" text-anchor="end">preDC1 – 1</text>
<line x1="519.3" y1="260" x2="519.3" y2="264.5" stroke="#222" stroke-width="1.2"/>
<text transform="translate(539.1 285.3) rotate(-45)" font-size="30" text-anchor="end">preDC1 – 2</text>
<line x1="568" y1="260" x2="568" y2="264.5" stroke="#222" stroke-width="1.2"/>
<text transform="translate(587.8 285.3) rotate(-45)" font-size="30" text-anchor="end">preDC2 – 1</text>
<line x1="616.7" y1="260" x2="616.7" y2="264.5" stroke="#222" stroke-width="1.2"/>
<text transform="translate(636.5 285.3) rotate(-45)" font-size="30" text-anchor="end">preDC2 – 2</text>
<line x1="665.4" y1="260" x2="665.4" y2="264.5" stroke="#222" stroke-width="1.2"/>
<text transform="translate(685.2 285.3) rotate(-45)" font-size="30" text-anchor="end">ILCP</text>
<line x1="714.1" y1="260" x2="714.1" y2="264.5" stroke="#222" stroke-width="1.2"/>
<text transform="translate(733.9 285.3) rotate(-45)" font-size="30" text-anchor="end">ILC Ki67<tspan font-size="17" dy="-11">+</tspan></text>
<line x1="762.7" y1="260" x2="762.7" y2="264.5" stroke="#222" stroke-width="1.2"/>
<text transform="translate(782.5 285.3) rotate(-45)" font-size="30" text-anchor="end">ILC early</text>
<line x1="811.4" y1="260" x2="811.4" y2="264.5" stroke="#222" stroke-width="1.2"/>
<text transform="translate(831.2 285.3) rotate(-45)" font-size="30" text-anchor="end">ILC1</text>
<line x1="860.1" y1="260" x2="860.1" y2="264.5" stroke="#222" stroke-width="1.2"/>
<text transform="translate(879.9 285.3) rotate(-45)" font-size="30" text-anchor="end">ILC2</text>
<line x1="908.8" y1="260" x2="908.8" y2="264.5" stroke="#222" stroke-width="1.2"/>
<text transform="translate(928.6 285.3) rotate(-45)" font-size="30" text-anchor="end">LTi – 1</text>
<line x1="957.5" y1="260" x2="957.5" y2="264.5" stroke="#222" stroke-width="1.2"/>
<text transform="translate(977.3 285.3) rotate(-45)" font-size="30" text-anchor="end">LTi – 2</text>
<line x1="1006.1" y1="260" x2="1006.1" y2="264.5" stroke="#222" stroke-width="1.2"/>
<text transform="translate(1025.9 285.3) rotate(-45)" font-size="30" text-anchor="end">LTi – 3</text>
<line x1="1054.8" y1="260" x2="1054.8" y2="264.5" stroke="#222" stroke-width="1.2"/>
<text transform="translate(1074.6 285.3) rotate(-45)" font-size="30" text-anchor="end">LTiP</text>
<line x1="1103.5" y1="260" x2="1103.5" y2="264.5" stroke="#222" stroke-width="1.2"/>
<text transform="translate(1123.3 285.3) rotate(-45)" font-size="30" text-anchor="end">TLP</text>
<line x1="1152.2" y1="260" x2="1152.2" y2="264.5" stroke="#222" stroke-width="1.2"/>
<text transform="translate(1172 285.3) rotate(-45)" font-size="30" text-anchor="end">TCP</text>
<line x1="1200.9" y1="260" x2="1200.9" y2="264.5" stroke="#222" stroke-width="1.2"/>
<text transform="translate(1220.7 285.3) rotate(-45)" font-size="30" text-anchor="end">TC I–IV</text>
<text x="13" y="457.3" font-size="40" font-weight="bold">b</text>
<text x="156" y="479.5" font-size="30.5" text-anchor="middle" font-style="italic">Flt3</text>
<g transform="translate(0 0)">
<path d="M151.5 580C152.2 577.5 158.5 578.8 161.5 578C164.5 577.2 167.5 576.7 169.5 575C171.5 573.3 172.7 570.7 173.5 568C174.3 565.3 173.4 562.2 174.5 559C175.6 555.8 177.6 551.8 179.9 548.9C182.2 546 185.5 542 188.3 541.6C191.1 541.2 194.6 544.5 196.7 546.8C198.8 549.1 200.1 552.3 200.9 555.2C201.7 558.1 200.6 561.2 201.5 564C202.4 566.8 204.8 570 206.5 572C208.2 574 210.5 573.3 211.5 576C212.5 578.7 211.7 584.5 212.5 588C213.3 591.5 214.7 594.7 216.5 597C218.3 599.3 220.7 600.7 223.5 602C226.3 603.3 229.8 603.8 233.5 605C237.2 606.2 240.8 607.5 245.5 609C250.2 610.5 257.2 611.6 261.6 613.8C266 616 269.7 618.2 272.1 622.2C274.5 626.2 275 632.7 276.2 637.9C277.4 643.1 279.4 648.4 279.4 653.6C279.4 658.8 277.8 664.9 276.2 669.3C274.6 673.7 272.4 676.6 270 679.8C267.6 682.9 265.6 686.1 261.6 688.2C257.6 690.3 251.1 692.3 245.9 692.3C240.7 692.3 234.6 689.8 230.2 688.2C225.8 686.6 222.7 685.5 219.7 682.9C216.7 680.3 214.1 676 212.4 672.5C210.6 669 211.5 665.1 209.2 662C206.9 658.9 201.4 656.3 198.8 653.6C196.2 650.9 194.9 649.3 193.5 646C192.1 642.7 191.4 638 190.5 634C189.6 630 189.4 625.6 188.3 622.2C187.2 618.8 186.4 616.2 184.1 613.8C181.8 611.4 177.8 609.7 174.7 607.6C171.6 605.5 168.2 603.7 165.3 601.3C162.4 598.9 159.8 596.5 157.5 593C155.2 589.5 150.8 582.5 151.5 580Z" fill="#DCDCDC"/>
<path d="M143.5 658C145.2 656 149.2 654.5 151.5 653C153.8 651.5 155.2 652 157.5 649C159.8 646 163.3 638 165.5 635C167.7 632 168.7 631.3 170.5 631C172.3 630.7 175.2 631.5 176.5 633C177.8 634.5 177.5 637.7 178.5 640C179.5 642.3 181.5 645 182.5 647C183.5 649 185.7 650.7 184.5 652C183.3 653.3 178.2 654 175.5 655C172.8 656 170.8 656.2 168.5 658C166.2 659.8 163 663.3 161.5 666C160 668.7 159.5 671 159.5 674C159.5 677 160 681.3 161.5 684C163 686.7 165.8 687.9 168.5 690C171.2 692.1 174.5 694.5 177.5 696.5C180.5 698.5 185.8 700.1 186.5 702C187.2 703.9 184.2 706.7 181.5 708C178.8 709.3 173.2 708.3 170.5 710C167.8 711.7 166.3 715.3 165.5 718C164.7 720.7 166 724.3 165.5 726C165 727.7 163.6 729.3 162.5 728C161.4 726.7 160.8 721 159.1 718C157.4 715 153.9 712 152.5 710C151.1 708 150.5 708.7 150.5 706C150.5 703.3 152.4 696.9 152.5 694C152.6 691.1 150.7 690.8 151.1 688.5C151.5 686.2 155.4 682.8 155.1 680.5C154.8 678.2 151.3 676.6 149.5 675C147.7 673.4 145.8 672.7 144.5 671C143.2 669.3 141.7 667.2 141.5 665C141.3 662.8 141.8 660 143.5 658Z" fill="#DCDCDC"/>
<defs><linearGradient id="g_Flt3" gradientUnits="userSpaceOnUse" x1="0" y1="490" x2="0" y2="775"><stop offset="0.018" stop-color="#D8E9A0"/><stop offset="0.246" stop-color="#E9EBA4"/><stop offset="0.737" stop-color="#C9E4A2"/><stop offset="0.982" stop-color="#C7E3A0"/></linearGradient></defs>
<path d="M109.9 492.4C112 492.7 113.9 493.3 114.9 495.9C115.9 498.4 115.7 502.4 115.8 507.7C115.9 513 115.5 522.1 115.4 527.4C115.2 532.6 115.8 535.9 114.9 539.2C114 542.5 110.9 544.1 109.9 547.1C108.9 550.1 108.2 554.4 108.9 557C109.6 559.6 111.4 560.9 113.9 562.9C116.4 564.9 120.4 566.8 123.7 568.8C127 570.8 130.3 572.9 133.6 574.7C136.9 576.5 140.1 578.6 143.4 579.6C146.7 580.6 151.2 579.7 153.3 580.6C155.4 581.5 156.3 583.3 156.2 585C156.1 586.7 154.1 590 152.5 590.7C150.9 591.5 149.6 590.2 146.4 589.5C143.2 588.8 137.3 587.3 133.5 586.5C129.7 585.7 127 584.5 123.7 584.5C120.4 584.5 115 584.9 113.9 586.5C112.7 588.1 117.1 591.9 116.8 594.4C116.5 596.9 114 599.6 111.9 601.3C109.8 602.9 106 602.6 104 604.3C102 605.9 100.4 608.8 100.1 611.2C99.8 613.7 100.8 616.5 102.1 619C103.4 621.5 106 623.1 108 625.9C110 628.7 112.3 632.9 113.9 635.8C115.5 638.6 116.5 641 117.8 643C119.1 645 121.2 646 121.8 647.7C122.4 649.4 119.5 651.7 121.5 653C123.5 654.3 129.6 654.9 133.6 655.6C137.6 656.4 142.6 657.4 145.4 657.5C148.2 657.6 149.3 655.8 150.5 656.5C151.7 657.2 152.8 659.6 152.5 662C152.2 664.4 150 667.1 148.5 671C147 674.9 145.9 683.4 143.4 685.1C140.9 686.8 136.9 681.9 133.6 681.2C130.3 680.6 127.3 680.6 123.7 681.2C120.1 681.9 115.2 684.5 111.9 685.1C108.6 685.8 106.6 684.1 104 685.1C101.4 686.1 97.7 688.5 96.1 691.1C94.5 693.7 93.5 698.3 94.2 700.9C94.9 703.5 98.5 704.5 100.1 706.8C101.7 709.1 102.9 711.7 104 714.7C105.1 717.7 106 721.7 107 724.6C108 727.5 109.6 728.8 109.9 732.4C110.2 736 109.9 742.6 108.9 746.2C107.9 749.8 106.5 751.1 104 754.1C101.5 757.1 98.3 761.2 94.2 764C90.1 766.8 83.5 770.2 79.4 770.9C75.3 771.5 72.5 770 69.5 767.9C66.5 765.8 63.8 761.3 61.7 758C59.6 754.7 58.7 751 56.7 748.2C54.7 745.4 52.6 743.4 49.8 741.3C47 739.2 43.3 737.5 40 735.4C36.7 733.3 33.1 731.6 30.1 728.5C27.1 725.4 24.2 720.7 22.2 716.7C20.2 712.8 19.1 709.4 18.3 704.8C17.5 700.2 17.1 692.7 17.3 689.1C17.5 685.5 19.6 684.5 19.3 683.2C19 681.9 15.9 682.5 15.4 681.2C14.9 679.9 14.7 676.5 16.3 675.3C17.9 674.1 22.7 673.8 25.2 673.8C27.7 673.8 29.1 675.9 31.1 675.3C33.1 674.7 36.2 673.3 37 670.4C37.8 667.5 36.8 661.7 36 657.6C35.2 653.5 33.6 649.5 32.1 645.7C30.6 641.9 28.7 637.8 27.2 635C25.7 632.2 24.7 631.6 23.2 628.9C21.7 626.2 19.8 622.8 18.3 619C16.8 615.2 15.5 610.8 14.4 606.2C13.2 601.6 11.4 595.5 11.4 591.4C11.4 587.3 13.1 585.2 14.4 581.6C15.7 578 17.7 573.6 19.3 569.8C20.9 566 22.7 562.7 24.2 558.9C25.7 555.1 28 550.7 28.2 547.1C28.4 543.5 25.9 540.6 25.2 537.3C24.5 534 23.7 530.2 24.2 527.4C24.7 524.6 25.9 522 28.2 520.5C30.5 519 34.9 518.7 38 518.5C41.1 518.3 44.4 520 46.9 519.5C49.4 519 50.5 517.1 52.8 515.6C55.1 514.1 57.9 512.3 60.7 510.7C63.5 509.1 66.2 507.4 69.5 506.2C72.8 505 76.6 505 80.4 503.8C84.2 502.6 88.6 500.5 92.2 498.8C95.8 497.1 99.2 495 102.1 493.9C105.1 492.8 107.8 492.1 109.9 492.4Z" fill="url(#g_Flt3)"/>
<path d="M213.4 561.5C214.1 559.8 217.8 557 219.7 555.2C221.6 553.4 222.4 551.3 224.9 550.5C227.3 549.7 232.1 549 234.4 550.5C236.7 552 238.2 556.5 238.5 559.4C238.8 562.3 237.9 564.8 236.5 567.8C235.1 570.8 231.6 574.4 230.2 577.2C228.8 580 229.5 581.9 228.1 584.5C226.7 587.1 223.9 591 221.8 592.9C219.7 594.8 217.2 596 215.5 596C213.8 596 211.6 594.8 211.3 592.9C210.9 591 212.3 587.1 213.4 584.5C214.4 581.9 216.2 579.6 217.6 577.2C219 574.8 221.4 572.1 221.8 569.9C222.1 567.7 220.8 564.7 219.7 564C218.7 563.3 216.6 566.1 215.5 565.7C214.4 565.3 212.7 563.2 213.4 561.5Z" fill="#5E4FA2"/>
<path d="M103 494.5h0m-12 5.5h0m4-0.5h0m0.5 1h0m8.5-0.5h0m5 0h0m4-3h0m0.5 2h0m-4 5.5h0m3.5-2.5h0m-35 10h0m10.5-5h0m25 5.5h0m1.5-5.5h0m-53 10h0m2-1.5h0m5-2h0m32.5 2h0m11.5-0.5h0m2.5-1h0m-87.5 7.5h0m2 1h0m19.5-3h0m16.5 1.5h0m6-1h0m5.5 4h0m25.5-5h0m3 5.5h0m4-5h0m4 4.5h0m0.5-4.5h0m0.5 4.5h0m0-3h0m0-1.5h0m-87.5 9.5h0m4-4h0m3.5 5h0m6.5 1h0m10-5.5h0m1.5 4h0m9 1h0m50.5-5.5h0m0.5 5h0m1 0h0m-86 5h0m2.5-2.5h0m1.5 1.5h0m2-1.5h0m8.5 2h0m2.5-2.5h0m8-1h0m33 5h0m5.5-4.5h0m20.5 3.5h0m1.5 2h0m0.5-3.5h0m-86 4.5h0m5 0h0m6 3h0m4.5-2.5h0m6.5 0.5h0m8 1h0m3 2.5h0m19-1.5h0m29-3h0m-81.5 7h0m0.5-1h0m1.5 0h0m0.5 1.5h0m4.5 1h0m3.5 2h0m2-0.5h0m5-4.5h0m20 1h0m13.5 2.5h0m4.5-2h0m102 3h0m6-1.5h0m-161.5 3.5h0m5.5 1h0m1 3h0m12 0.5h0m6-4.5h0m129-0.5h0m-158 9h0m5-2.5h0m0.5 3.5h0m3 1h0m1.5-3h0m1 3h0m6.5-1.5h0m2 0.5h0m16-4h0m17.5 2.5h0m0.5 2.5h0m16.5-5h0m93.5 1h0m-164.5 5.5h0m4.5 1.5h0m3.5 1h0m0.5-1.5h0m6.5 3.5h0m2-3h0m4 1h0m5 2.5h0m6.5-0.5h0m1-2.5h0m5.5 2.5h0m16.5-4h0m0.5 3h0m23.5-2h0m9 2.5h0m5-1h0m61.5 1h0m8.5-2h0m2.5-2h0m0 2h0m4.5 0h0m1.5 1h0m2.5-1.5h0m-176.5 9.5h0m0-1h0m0.5-3.5h0m1 2.5h0m1.5 2h0m2-5h0m5.5 1h0m2.5 2h0m34-1.5h0m7 2h0m15.5-3h0m9 1h0m8 1.5h0m5.5-0.5h0m0.5-2.5h0m0 4h0m1 1h0m2.5-1.5h0m2-2.5h0m1.5 1.5h0m1 1h0m2-2h0m1 3h0m47.5-1.5h0m15.5-2.5h0m6 0.5h0m8 3.5h0m4 0h0m-189 3h0m0.5 2.5h0m1-4h0m5.5 4.5h0m0.5-5h0m35.5 3.5h0m3.5-3h0m9.5 4h0m25-4.5h0m9 3h0m6-1h0m1 3.5h0m0-6h0m2.5 4h0m0.5-3.5h0m2 1.5h0m0.5 1.5h0m3.5-0.5h0m1.5-1.5h0m1.5 2h0m1.5-1.5h0m1.5 0.5h0m1 0.5h0m0 2h0m3.5-2.5h0m1 2.5h0m3.5 0h0m46-1.5h0m8-0.5h0m7.5 2.5h0m1-1.5h0m0-2.5h0m3.5 2.5h0m6.5 1h0m-191.5 1h0m2 3h0m3 0h0m4 1.5h0m4-1.5h0m1 2h0m16-3.5h0m19.5 3.5h0m29-3h0m15.5 3.5h0m2-5h0m0 4h0m0 1h0m0.5-2h0m2-3.5h0m0.5 2.5h0m0.5-2h0m0.5 3.5h0m2.5-1h0m0 2h0m1.5-2.5h0m1 1.5h0m1-4h0m1 1h0m2 3.5h0m0.5-2h0m1 1h0m1-1.5h0m1.5 2h0m0.5-3h0m1 4.5h0m1.5-2h0m0.5-1.5h0m1.5 3h0m0-1.5h0m1.5-2.5h0m1 4h0m0.5-3.5h0m2.5 2h0m2 1h0m1-3.5h0m0.5 5h0m0.5-1.5h0m2.5-1.5h0m0.5 2h0m2-2.5h0m0 2h0m0.5 0.5h0m1-3h0m0 3.5h0m5-2.5h0m7-2.5h0m1.5 5h0m1-5h0m5-0.5h0m3 2.5h0m4 1h0m4-2.5h0m0.5 3h0m0-0.5h0m9.5 0.5h0m5.5-0.5h0m12 0.5h0m-197 6.5h0m0-4h0m3 4.5h0m0-4h0m1 4h0m0.5-4h0m4.5 0.5h0m2 2h0m2 2.5h0m66-1.5h0m5.5-4.5h0m1 4h0m10-2.5h0m2.5 2h0m15.5-3h0m8 1.5h0m3.5 0.5h0m0.5-2h0m0.5 0h0m5 1.5h0m1-0.5h0m3 0.5h0m1.5 2h0m2-1.5h0m7 2h0m4-3h0m1.5 2h0m0.5-3h0m12 4.5h0m1.5-4h0m4 2h0m1.5 2.5h0m4-3h0m11-1h0m3.5 0h0m-190 10.5h0m0-5h0m1 5h0m0.5-6h0m8.5 3h0m7.5-1.5h0m32.5 3.5h0m5-1h0m16.5 0h0m3.5-1.5h0m1 3h0m2-0.5h0m21.5-4h0m0 2.5h0m1-2h0m47 2h0m1-1.5h0m4.5-2h0m5 2.5h0m10.5-1.5h0m3 0.5h0m3.5 3h0m11-4h0m4.5 0h0m2 3.5h0m2.5 2h0m3.5-3.5h0m1 3h0m1-3.5h0m-197.5 9h0m1-3.5h0m0.5 1h0m1 3h0m1.5-1h0m3.5 0.5h0m4 0.5h0m9-5h0m4.5 2h0m13 0h0m6-2.5h0m11.5 2h0m7.5-1.5h0m12.5 3h0m3-1.5h0m8 1.5h0m6 0h0m3.5-2.5h0m63 1.5h0m5 1.5h0m1.5 1.5h0m1-2.5h0m4.5-1h0m1 2.5h0m3 1.5h0m5.5-3.5h0m7.5-2.5h0m2.5 3.5h0m1.5-0.5h0m2.5 3h0m0-5.5h0m-196.5 8h0m6 0h0m21.5 2.5h0m25-4.5h0m6 2.5h0m25.5-0.5h0m83 2.5h0m1.5-3h0m2.5-1.5h0m3.5 4.5h0m0-4h0m2.5 1.5h0m2.5-1.5h0m0.5 2.5h0m0.5-2h0m5.5 2.5h0m13.5 0.5h0m3-3.5h0m4 0h0m2.5 2h0m16 2.5h0m-218 4h0m0.5-3h0m21.5 5h0m7-3h0m12 0h0m4.5-1.5h0m16.5-0.5h0m2 2h0m2.5 2h0m4-3.5h0m4 1.5h0m87.5-1h0m6 0.5h0m5.5-1.5h0m3.5 5h0m2-4.5h0m2.5 2.5h0m2 1h0m4-1.5h0m1-3h0m2.5 5h0m1.5-2h0m1 2.5h0m0.5-3.5h0m5.5 2.5h0m4.5-3.5h0m0.5 1.5h0m2 2h0m2 0.5h0m3.5-2h0m1.5-2h0m2.5 0h0m8.5 5h0m1-1h0m-226.5 5h0m1.5 0.5h0m1-1h0m1 2.5h0m2-4.5h0m1 3.5h0m4-3.5h0m1 3h0m38 1.5h0m1.5-2.5h0m12.5-0.5h0m103.5-2.5h0m0.5 3h0m2-1h0m21.5-1h0m4.5 2h0m1.5 0h0m2-1h0m4-1.5h0m1 4.5h0m3.5 0.5h0m2-4.5h0m3 4h0m0.5-4h0m0 2h0m9-1.5h0m1.5 3h0m-223.5 2h0m1 3h0m3-3h0m1 5h0m6.5-1.5h0m7 1h0m2.5-5.5h0m4.5 5h0m5.5-2.5h0m18-2h0m1.5 2h0m18.5-1.5h0m5.5 1.5h0m101.5 3.5h0m10-4h0m5 3.5h0m5-3h0m13.5-1h0m11.5 2h0m-213 7h0m4-3.5h0m2.5 2.5h0m0.5-2h0m1 1h0m0.5 2.5h0m23-2.5h0m3 2h0m10.5-1h0m16-2.5h0m7 0h0m6.5 1h0m2-1.5h0m5.5 4h0m83.5 0h0m14 1h0m4.5 0h0m0.5-5h0m1 0.5h0m4 4.5h0m8.5 0.5h0m1-2.5h0m1.5-1.5h0m4.5 3h0m-204 5h0m5.5 1h0m1-0.5h0m2-2.5h0m2 2h0m1-2.5h0m17-0.5h0m7.5 2h0m6.5-2h0m5 4h0m5.5-3h0m3-1.5h0m9 5.5h0m16.5-4h0m1.5 3.5h0m57.5-1h0m22.5-3h0m4 0.5h0m10 3.5h0m0.5-4h0m4 2.5h0m14.5-1h0m20 2h0m-211.5 2.5h0m1 1h0m5.5-2h0m1.5 3h0m6.5 2h0m2-1.5h0m7-3.5h0m55 3h0m50.5-3h0m0.5 2.5h0m3 2h0m13-0.5h0m13.5-0.5h0m2.5 0.5h0m3.5-3.5h0m6 1h0m10.5 1h0m3-1h0m2.5 4h0m1-5h0m2.5 0.5h0m2 2.5h0m11.5 0.5h0m11-0.5h0m0.5-3.5h0m-212 5.5h0m4 5h0m4-2.5h0m0 1.5h0m2-2h0m6 3.5h0m1-3h0m3 0.5h0m11.5-1h0m22-1.5h0m16.5 2h0m8 0.5h0m5 0h0m42.5-2.5h0m1.5 1h0m11-0.5h0m3.5 3.5h0m0.5-2.5h0m29 3h0m1.5-1h0m1.5-1.5h0m2.5 3h0m6.5-4h0m8.5-0.5h0m15.5 0h0m0 4.5h0m2.5-5h0m0 3h0m-213 3h0m11 0h0m2.5 0.5h0m1-0.5h0m18.5 0h0m3.5 4h0m20.5-2h0m15 2.5h0m7.5-1.5h0m0.5-1.5h0m6.5 2.5h0m0.5-3h0m3 4h0m0.5-2.5h0m1.5 2.5h0m6 0h0m29.5-4h0m39-1h0m2 3h0m3.5 2h0m2.5-5h0m0.5 2.5h0m1-0.5h0m8.5 0.5h0m4.5 0.5h0m12.5-1h0m1 2h0m3.5-4.5h0m9 1h0m0.5 3h0m-213 5h0m1.5-1.5h0m1 4h0m0.5-1h0m0.5-2.5h0m5-2h0m7 4h0m1.5-2h0m2 1.5h0m0.5-2h0m5.5 1h0m26 2h0m13.5-3.5h0m12.5 3.5h0m2.5-4h0m3 0h0m3.5 4h0m3.5-0.5h0m4.5 1.5h0m0.5-1.5h0m6 0.5h0m4-4.5h0m4.5 1.5h0m1.5-0.5h0m1.5 1.5h0m0 2.5h0m3.5 0.5h0m56-3.5h0m14.5-1.5h0m5.5 0h0m-187 6h0m2.5 0.5h0m0 3.5h0m1.5-4h0m5 5.5h0m1-2h0m3 0h0m16.5-3.5h0m4.5 1h0m4.5-1h0m14.5 0.5h0m26.5 3h0m0.5 1.5h0m1.5-0.5h0m1.5-4.5h0m0.5 2h0m4 1.5h0m2 0.5h0m1-4h0m0.5 4.5h0m0.5-5h0m1 3.5h0m1-1h0m3.5-2h0m0.5 5h0m1-5.5h0m0 3h0m3-2.5h0m0 3h0m1-1h0m1.5 2h0m2 0.5h0m0 1h0m0.5-4.5h0m1 1.5h0m2-3h0m66.5 3h0m5.5 1.5h0m0.5-1.5h0m6 0.5h0m5-1.5h0m2 1h0m1-2h0m3 3.5h0m-215.5 6.5h0m9.5 0.5h0m4.5-1h0m1.5-2h0m4.5-1.5h0m1 2.5h0m0.5-2.5h0m3 1h0m1 3h0m3-4h0m3.5 2h0m5-2h0m8-1h0m6 4.5h0m40-3h0m3.5 3h0m3-2h0m1.5-2h0m2.5 4.5h0m2-5h0m3 3.5h0m3.5 2h0m2-5h0m0.5 3.5h0m2.5-2h0m2.5 1.5h0m1.5 1.5h0m1.5-4h0m1.5 3.5h0m67.5-4.5h0m1.5 6h0m3-6h0m0.5 4h0m7.5 1.5h0m2 0h0m11-4h0m-221 8.5h0m0.5-1.5h0m3.5 2.5h0m2-1h0m1 2h0m3-1h0m8-2h0m8.5-2h0m19 3.5h0m9.5 0.5h0m4 0.5h0m4.5-1h0m22.5 0.5h0m6-1.5h0m5-3h0m0.5 1.5h0m3.5 3.5h0m2-5.5h0m1.5 5h0m0.5-3h0m0.5-1h0m3.5-0.5h0m0.5 4.5h0m7-3h0m5.5 2.5h0m0-1.5h0m2-2h0m0.5 4.5h0m3-4h0m76.5-0.5h0m1.5 3h0m9.5-0.5h0m1 0h0m-215 3.5h0m3 2h0m3.5 0.5h0m3.5-1.5h0m2.5-2h0m1.5 5.5h0m14.5-3h0m12.5 1.5h0m0 1.5h0m5.5-1h0m7.5-4h0m3.5 0.5h0m15 4h0m18-2.5h0m11-1.5h0m18.5 1.5h0m90-0.5h0m5 1h0m3 0h0m-219 5h0m1.5-1h0m3 1.5h0m3 0.5h0m2 0h0m51.5 0.5h0m1-1.5h0m7.5 2h0m-70 5.5h0m3 1.5h0m1.5-1.5h0m30-2h0m-33 5.5h0m1.5 3.5h0m1.5-2h0m0-1h0m1.5 3h0m2 0h0m0.5-1h0m1.5-2h0m2 3h0m1-3.5h0m13.5 3.5h0m30-3.5h0m11 3h0m-62 4.5h0m3 1.5h0m2 0.5h0m8-4.5h0m8.5 4.5h0m5.5 0.5h0m6-1.5h0m1-3.5h0m5.5 3.5h0m2.5 1.5h0m13-0.5h0m2.5 0.5h0m8 0.5h0m3.5-3h0m1.5 3h0m-69.5 3h0m0.5 3h0m1-5h0m3.5 2h0m0.5 3h0m7-4.5h0m6-0.5h0m34 3h0m7.5-2h0m0-1h0m1.5 5h0m4.5 0.5h0m-62.5 3h0m1 1.5h0m9-2.5h0m4 0h0m11 3.5h0m10.5 0h0m0.5-4.5h0m0.5 4.5h0m18.5-5h0m13.5 4.5h0m-62.5 4.5h0m3.5-2h0m8-1h0m0 5h0m3-4h0m16 0h0m3.5 0.5h0m2-0.5h0m10 2h0m7 0.5h0m2.5 1h0m-53.5 2.5h0m3 2.5h0m2-1.5h0m8 2h0m5-3h0m8 0.5h0m22.5 0.5h0m9.5 1h0m3 0.5h0m4.5-3h0m-46 9h0m8 2h0m7.5-2.5h0m12.5-0.5h0m0.5 2.5h0m0.5-5.5h0m10.5 1.5h0m5 2h0m6.5 1h0m-51 3h0m6.5 0h0m11.5 0.5h0m11.5 1h0m3.5-0.5h0m3.5 2.5h0m13-2.5h0m1-1h0m-46.5 10h0m40.5-3h0m5.5-2.5h0m-34 9.5h0m-3.5 8.5h0m3.5-5.5h0m6.5 4.5h0m3.5-4.5h0m4.5 3h0m7.5-3h0m-10 5.5h0" stroke="#5E4FA2" stroke-width="2.7" stroke-linecap="round" fill="none"/>
<path d="M113.5 509h0m-86 42.5h0m-3.5 75h0m3.5 2.5h0m1.5 6.5h0m11.5 11h0m-3 27h0m1.5-3h0m3-1h0m-18 13h0m54 88h0" stroke="#496AAF" stroke-width="2.7" stroke-linecap="round" fill="none"/>
<path d="M73 507h0m30 0h0m-36.5 5h0m4.5-3h0m-14.5 6h0m6.5 1.5h0m10-0.5h0m12 1h0m11.5-2h0m11 1.5h0m-80.5 8h0m17.5 0h0m36.5-4h0m2 2.5h0m13 0h0m11.5-1.5h0m2.5 0h0m-79.5 7.5h0m3 2h0m3.5-4h0m55 2.5h0m2.5 0h0m-68.5 2h0m0.5 4.5h0m4.5-4h0m1.5 3.5h0m4-1h0m0.5-1.5h0m3.5 1.5h0m30-3h0m-14.5 10h0m14.5-3h0m27.5 2h0m2.5 0.5h0m-72 6h0m6.5-4h0m4.5 3h0m16 1h0m40-3.5h0m16 0h0m-85.5 11h0m4 0h0m1.5-3.5h0m0.5-1h0m3 2h0m4-2.5h0m5.5 0h0m16.5 3h0m19.5-1.5h0m-49.5 8.5h0m0.5-4.5h0m2 3h0m24 3h0m18.5-4h0m24 4h0m-76 4h0m3.5-1h0m0 2h0m12.5-2h0m13.5-2.5h0m-29 8h0m3 1.5h0m2-3h0m1.5 2.5h0m28.5-0.5h0m17.5-1.5h0m1.5 2.5h0m30 0h0m1.5-3.5h0m7 0.5h0m-98.5 8.5h0m2.5-0.5h0m3 0h0m6.5-2h0m35 2.5h0m1-1h0m37.5 0.5h0m6-0.5h0m-94.5 8h0m3-4h0m9 0.5h0m17 0h0m0.5 2.5h0m8-3.5h0m5.5 5h0m2.5-2h0m3 2.5h0m9.5-2h0m19.5-3.5h0m18.5 0.5h0m-98 7.5h0m2 0h0m1 4h0m4-5h0m5.5 1h0m5.5 1.5h0m16.5 0.5h0m8.5-2h0m22.5 4h0m16-3.5h0m3 0.5h0m-73.5 4h0m37.5 1h0m7.5 1h0m2-2h0m37 0.5h0m-87 6.5h0m3 0.5h0m16 2.5h0m3.5 0h0m54.5-4h0m10 4h0m-94 4.5h0m2.5 1.5h0m4.5-1h0m5-2h0m61.5 1h0m8 0h0m7.5-3h0m-85.5 6h0m1 5.5h0m1-3h0m2 2h0m3-2h0m5.5-1h0m1 4h0m22-1h0m2-1h0m37 1.5h0m-56.5 1.5h0m0.5 2.5h0m9.5-2.5h0m27.5-0.5h0m8.5 4.5h0m-58.5 2.5h0m7 1h0m3.5-0.5h0m10-0.5h0m19-0.5h0m9.5 3.5h0m5 1h0m2-3h0m7.5 1.5h0m-61.5 4.5h0m2.5-1h0m1.5 2h0m13 2h0m0-4.5h0m4 4.5h0m25 0h0m11.5-1.5h0m-52 2.5h0m1 5.5h0m2-2.5h0m51 1.5h0m23.5-0.5h0m-74.5 7h0m7 0h0m5-3.5h0m-12.5 7h0m1.5 1.5h0m13.5 0.5h0m0.5-1.5h0m24 1h0m42.5-2h0m-80.5 6.5h0m3 1.5h0m0.5-2h0m4.5-1h0m8 3h0m3 2h0m3-4.5h0m0.5 2h0m13.5-3h0m16 4h0m17.5-2h0m-68 3.5h0m6.5 3h0m20 2.5h0m27-1.5h0m15.5-3h0m1.5 0.5h0m3 2.5h0m29.5-2h0m-102.5 7.5h0m1.5-1h0m3.5-1h0m7 0h0m10 0.5h0m3.5 0h0m1 2.5h0m44-3h0m-64 10h0m31.5 0h0m-58.5 3h0m3-1h0m6.5 0.5h0m6.5 0.5h0m8.5 1.5h0m9.5 0.5h0m28.5-3h0m3 0.5h0m23.5-1h0m4.5-0.5h0m3.5 4.5h0m-92.5 6.5h0m13-3.5h0m34-1.5h0m1.5 3h0m28.5-2.5h0m19 0h0m-99 9.5h0m1-4.5h0m1.5 4.5h0m6.5-0.5h0m70.5-2.5h0m-77 5.5h0m2 3.5h0m1-4.5h0m1.5 4h0m3-2.5h0m53 0h0m14 2h0m-68.5 4.5h0m10 0h0m2.5-1.5h0m24.5 3.5h0m2-1.5h0m9 3.5h0m7-4h0m-56 5.5h0m28.5 1.5h0m2.5-2.5h0m33.5 2.5h0m-57.5 6h0m6.5 2.5h0m0-2.5h0m4.5 2.5h0m1-4h0m1.5-0.5h0m-22.5 6.5h0m4.5-0.5h0m8.5 3.5h0m6.5-3h0m20 0.5h0m6.5 1.5h0m2.5-0.5h0m8.5 3h0m1.5-1h0m-45 6h0m6-0.5h0m9-1h0m1 1.5h0m22.5-2h0m18.5 2h0m0.5-2h0m3.5 1h0m-58.5 5h0m3.5-2h0m40-0.5h0m-9.5 9.5h0m-12 6h0m4-4h0m2.5 0h0m39.5 4h0m-46.5 5.5h0m5.5 2h0m0.5-4h0m35.5 4h0m-37.5 2h0m4.5 1h0m0.5 6.5h0m2.5 0h0m3.5 1h0m12.5-0.5h0m7.5-3h0m-25.5 8.5h0" stroke="#3485BC" stroke-width="2.7" stroke-linecap="round" fill="none"/>
<path d="M113 506.5h0m-78 31.5h0m1.5 8h0m-6 15.5h0m10.5 13h0m-26.5 20h0m2.5-0.5h0m46 8h0m-46 3h0m3 5h0m9 15.5h0m5.5-2h0m-3.5 12.5h0m6 11.5h0m8.5 9h0m-9 8.5h0m18.5 3h0m18.5-1h0m23.5 0h0m52 1.5h0m-106 3.5h0m3 2h0m-17.5 23.5h0m-8.5 5.5h0m8-1h0m3-0.5h0m53.5-1.5h0m2.5 11.5h0m5.5 10.5h0m-61 3.5h0m22-0.5h0m25 5h0m-9.5 6.5h0m-9.5 6.5h0m7.5 13.5h0m-3 3h0m8 5.5h0" stroke="#48A1B3" stroke-width="2.7" stroke-linecap="round" fill="none"/>
<path d="M30 535h0m3.5 7.5h0m1-1h0m-1 6h0m21 0.5h0m-21 5h0m9.5-1.5h0m-5.5 12.5h0m0.5 2.5h0m76-1h0m-83.5 6.5h0m52-1.5h0m37-2h0m-100 6.5h0m9 0.5h0m0.5-0.5h0m3 2h0m15.5-2h0m75.5 0h0m10.5 2.5h0m-117.5 2.5h0m26.5-1h0m10 4h0m-34 4.5h0m1 0h0m4 3h0m4-2h0m119 0.5h0m-125.5 3h0m28 1h0m-34.5 7.5h0m3-3h0m4.5 4h0m5.5-4h0m3 2.5h0m17.5-1.5h0m-31.5 10.5h0m1.5-2.5h0m4-2h0m5 4.5h0m40 4h0m-44.5 2.5h0m38 0h0m-37 10.5h0m4-0.5h0m0.5-3h0m2.5 9h0m0.5-2.5h0m12.5-0.5h0m43 2h0m-0.5 6h0m-51 7.5h0m11.5-2.5h0m-9.5 9h0m7-5.5h0m-4.5 10h0m88 4.5h0m-72.5 5h0m-29.5 10h0m34.5-2h0m18-1h0m55.5-0.5h0m-103 6h0m3.5 3h0m1-4.5h0m86.5 2.5h0m-101 5.5h0m9.5 1h0m61 0h0m-58 4.5h0m3.5 2h0m1.5-3.5h0m2 0h0m-15 6h0m8 5.5h0m20-5.5h0m33 0.5h0m-42.5 5.5h0m32.5 2h0m9.5 2h0m-64.5 9h0m1-1h0m2 5h0m9.5-2.5h0m23 3h0m-25.5 5h0m29.5-2h0m-29.5 8h0m5.5 0.5h0m64-3.5h0m-58.5 10.5h0m15.5 3.5h0m30 2h0m4.5 0.5h0m-32.5 6h0m14 1.5h0m2.5 2h0m-4.5 5h0m27.5 1h0m-31.5 2h0m4 5.5h0" stroke="#61BCA7" stroke-width="2.7" stroke-linecap="round" fill="none"/>
<path d="M31.5 520h0m14 2h0m-20 8h0m1-1.5h0m5.5-2.5h0m-2.5 10h0m0 5h0m10.5 1h0m-8.5 5.5h0m9.5-2h0m-2 7h0m33 0h0m-45 4h0m0.5 1.5h0m0.5 2h0m5.5-4.5h0m0.5-0.5h0m12.5 0.5h0m63 5h0m-86 3.5h0m23.5 2.5h0m36-4h0m-60 6h0m19 1.5h0m1.5 0h0m12.5-2.5h0m11.5 4.5h0m10.5-4.5h0m17.5 5h0m21-3h0m-82.5 5.5h0m10 0h0m34 9h0m3.5-2h0m63-0.5h0m-115 7.5h0m2.5-0.5h0m0.5-3h0m16.5 1h0m63-0.5h0m-86 11h0m10-5.5h0m21.5 3.5h0m2.5-3h0m6.5 4.5h0m-52 1h0m3.5 3h0m17.5-3h0m5 3h0m36.5 1h0m36-2h0m-48 8.5h0m-44.5 6h0m5.5-2h0m6-1h0m13.5 0h0m8.5-1h0m-35.5 6h0m9.5 3.5h0m11.5-4h0m2 3.5h0m1.5 0h0m-3.5 6.5h0m21.5-3.5h0m2.5 1h0m20 1h0m-51.5 6.5h0m4 2.5h0m8 1h0m1 2h0m18-0.5h0m6.5-1h0m2 0.5h0m-35 4.5h0m1.5 3.5h0m0.5-3.5h0m26 1h0m-11 7.5h0m-10.5 8.5h0m2-2h0m4-2h0m12 2.5h0m8 2h0m10.5-2h0m5 1.5h0m35.5-3.5h0m-44.5 8h0m1-0.5h0m22.5-2.5h0m34 2.5h0m-68.5 8h0m4-4.5h0m33.5-0.5h0m11 5.5h0m16.5-5.5h0m6.5 0h0m0 3h0m-90.5 6.5h0m60.5-0.5h0m10.5 2h0m1-2.5h0m8-3h0m16.5 5h0m-121.5 6.5h0m15 0h0m45.5-3h0m35.5 3h0m-94 2h0m5.5 3h0m13.5 0h0m5.5 1h0m48.5-2.5h0m-48 6h0m24.5-2.5h0m20.5 0.5h0m-68.5 8h0m6.5-2.5h0m5 4h0m26.5-3h0m5.5 4h0m1.5-5h0m2.5 4h0m12 0.5h0m-58.5 3h0m41.5-2h0m-39 7.5h0m0.5 4h0m36.5 0h0m4.5 0h0m12-2.5h0m-40.5 7h0m11.5 0.5h0m35.5 1h0m10-1h0m-64.5 5.5h0m3.5-1.5h0m5.5-2h0m12.5 5.5h0m48-4.5h0m-53 16h0m27-0.5h0m8.5 0h0m12-4.5h0m-50.5 8h0m2.5 2h0m2.5-2h0m8.5 1.5h0m14-2h0m2.5 1.5h0m4.5-2.5h0m16.5 0.5h0m2 3.5h0m-46.5 3.5h0m11.5 0h0m2.5 0.5h0m-8 6.5h0m4-2h0m0.5 4.5h0m1-3.5h0m6 3.5h0m29-5.5h0m-32.5 14h0m6.5 6h0m3 0h0m6 1.5h0m3-2.5h0" stroke="#80CCA5" stroke-width="2.7" stroke-linecap="round" fill="none"/>
<path d="M113 504.5h0m1.5 12.5h0m-81 7h0m6.5-1.5h0m-9 6h0m15.5 1.5h0m68.5-4h0m-80.5 10.5h0m8-4h0m71.5-0.5h0m-66 7.5h0m47 0.5h0m-52.5 8h0m0-4h0m8 4.5h0m-10.5 4.5h0m0.5-2h0m2.5 2h0m2 0.5h0m18-3h0m0.5 0.5h0m-25 9.5h0m27-5h0m7.5 5h0m16.5-4.5h0m2.5 1h0m-67.5 7.5h0m0-3.5h0m17.5 0h0m8 3h0m18 2.5h0m20.5-4.5h0m30.5 4h0m-73.5 2h0m8.5 3h0m10.5 1h0m7.5-3h0m26-0.5h0m-68.5 9.5h0m4-0.5h0m23-0.5h0m13.5-1.5h0m3 0h0m6 1.5h0m1 0.5h0m23.5-3h0m-86 9h0m5.5-4h0m6.5 3.5h0m14-0.5h0m13.5-3h0m0 1h0m7 1.5h0m9 2h0m4-1.5h0m34.5-1h0m1.5 0h0m-92 9h0m6.5-4.5h0m7.5 4h0m1.5-2h0m19.5 1h0m3 1.5h0m20.5-1.5h0m64.5-2h0m-125.5 8h0m1 1h0m2.5-4h0m5 2.5h0m4-0.5h0m23.5 1.5h0m25.5-0.5h0m4.5-3h0m16.5 3.5h0m15-2h0m-91.5 5h0m14 2.5h0m7-2h0m17.5-1.5h0m6.5 2h0m-44.5 9h0m3-4h0m26.5 3h0m16.5-3.5h0m4 2.5h0m-50 8h0m8.5-1h0m27.5 1h0m11.5-5.5h0m-48.5 7.5h0m5 0.5h0m69.5-1h0m-39.5 8h0m18-1h0m-45.5 5h0m14.5 1h0m21 1h0m14 2h0m-51 2h0m4.5 0h0m0.5 1h0m48.5 3h0m-44.5 4.5h0m13.5-1h0m36 0.5h0m9.5 0.5h0m-36 5h0m5 1h0m1.5-2.5h0m4 0h0m6.5 4.5h0m2-3h0m21.5-0.5h0m0 2h0m-63.5 3h0m7.5 3h0m2 1h0m5.5-3h0m21.5 3h0m31.5-2h0m16.5 0h0m4.5 2h0m-83.5 1.5h0m1 4h0m6-2.5h0m14.5 1h0m7.5 2.5h0m46.5-0.5h0m2-2.5h0m28.5 1.5h0m-111.5 4.5h0m1.5 2h0m5.5-1.5h0m5.5-1h0m6.5 0h0m1 2.5h0m14.5-3h0m15.5 1.5h0m29 3h0m17.5-5.5h0m6 1h0m-63 10h0m25.5-2h0m16 2.5h0m9.5-4.5h0m15.5 2h0m-95 5h0m8.5 2.5h0m0.5-2.5h0m29.5-1h0m6.5 4h0m7.5-2.5h0m33.5 0h0m-109.5 3.5h0m7.5 2.5h0m2-1.5h0m16.5 2.5h0m12.5-3h0m9.5 2.5h0m10-3h0m6 5h0m5.5-3.5h0m1.5 1h0m16 0h0m23-2.5h0m-113.5 9.5h0m5.5 1h0m0.5-4.5h0m4 4.5h0m11.5-1h0m4 0h0m1.5-3h0m13.5 0.5h0m3.5 0h0m3.5 4h0m0.5-2.5h0m2 1h0m-46 4.5h0m9.5-0.5h0m6.5 1h0m25.5 2h0m14.5-3.5h0m-49.5 7h0m12 1.5h0m3.5-3h0m5.5 0.5h0m4 2h0m10 1h0m-48 7h0m2-2.5h0m8.5 0.5h0m1-3.5h0m5.5 3.5h0m1-0.5h0m12 1h0m2.5 1h0m19-2h0m1 2h0m3-4.5h0m-42.5 5.5h0m3 2h0m5.5-1h0m7.5 1h0m28.5 1.5h0m3.5 1.5h0m6-3h0m11.5-1.5h0m3 1.5h0m-55 5.5h0m0.5 0.5h0m19.5 2h0m21-2h0m4.5-0.5h0m-62 8h0m0-3h0m3 4.5h0m7-2.5h0m19-2.5h0m0.5 4.5h0m3 1h0m14.5-1.5h0m16-0.5h0m-43.5 3h0m5.5 5h0m20.5-1h0m16.5 0.5h0m1 0.5h0m2-2.5h0m8-1.5h0m1-0.5h0m2.5 4h0m-59 5h0m4 0h0m7.5-2.5h0m4.5 2.5h0m0-3.5h0m38 2h0m6.5-2h0m-51.5 10h0m2.5-1.5h0m5 3h0m1.5-0.5h0m9-2.5h0m11 2.5h0m20.5-0.5h0m-45.5 1h0m2.5 3h0m3 1h0m9.5-3h0m4.5 4h0m4-3h0m9.5 1h0m-21 4.5h0m10.5 4h0m0.5-3h0m-15.5 3.5h0m6 4.5h0m7 0.5h0m2-2h0m8 1h0m2.5-1h0m-18.5 4h0" stroke="#A1D9A4" stroke-width="2.7" stroke-linecap="round" fill="none"/>
<path d="M65 510h0m-32 11h0m10.5 1h0m-1.5 4.5h0m64.5 1h0m-58 6.5h0m2-2.5h0m26 2.5h0m18 1.5h0m-68 3.5h0m5 2h0m5-4h0m24 4h0m5.5 0h0m-29.5 6.5h0m2.5-4h0m33 2h0m31.5 3h0m1-4h0m-56.5 8h0m9-1h0m16 2h0m9-3.5h0m9 3.5h0m15.5 0.5h0m-67 5.5h0m11 0h0m15.5 0.5h0m2-1.5h0m21.5 1h0m13.5-1h0m2-2.5h0m-58.5 6h0m22.5 0.5h0m4 4h0m3.5-2.5h0m13.5 0h0m20 0h0m-81.5 6h0m2.5 1h0m1-3h0m2.5 2h0m3-1h0m10.5-0.5h0m1.5 2.5h0m0.5-2.5h0m3.5 3.5h0m9.5 0h0m1.5-5h0m4.5 5.5h0m6-3h0m15-0.5h0m15-2h0m6.5 4h0m9 1.5h0m7-0.5h0m-102 3.5h0m10.5-1.5h0m11.5 4h0m4.5-0.5h0m3.5-3.5h0m11 1h0m16 3h0m3-1h0m2.5 0h0m5.5-3.5h0m12 3.5h0m22.5 1h0m1.5-3.5h0m-100.5 9.5h0m18.5-2.5h0m8.5 2.5h0m2.5-4.5h0m4.5 5h0m13-4h0m1 1h0m13 1h0m7-3h0m9.5 4.5h0m16.5-4.5h0m18 0h0m-103.5 11h0m0.5-2.5h0m2.5 2h0m6-3.5h0m3.5-0.5h0m5 4.5h0m26-5h0m11.5 0h0m19.5 2.5h0m-90.5 5.5h0m7.5 1h0m2 1h0m5.5-1h0m0.5 1.5h0m4.5-1.5h0m14.5 1.5h0m9-3.5h0m16 3.5h0m19.5-2.5h0m3.5-0.5h0m-73.5 5h0m5.5 4.5h0m15.5 0.5h0m3-1.5h0m1-3.5h0m2.5 1.5h0m2-1h0m1 1.5h0m8.5-0.5h0m17.5-0.5h0m-45 6.5h0m14.5-0.5h0m1.5-0.5h0m4 1.5h0m-29.5 4h0m3-0.5h0m1.5 2h0m6 0h0m4.5-1.5h0m2 2.5h0m10.5-2h0m8 0h0m3 0.5h0m5-1h0m8.5 3h0m-58 4.5h0m0.5 0.5h0m24.5 2h0m10-1h0m2.5 0h0m4-2.5h0m13.5 2h0m0.5-1.5h0m8.5 2h0m-56 8h0m14.5-5h0m3 3.5h0m1.5-3.5h0m8 3h0m5.5-3.5h0m5 5.5h0m14 0h0m20.5-1h0m-65 6h0m6-0.5h0m1-2h0m7-0.5h0m13.5 3h0m-22 1.5h0m3.5 0h0m5 1.5h0m4.5 2h0m2.5 0.5h0m13.5-1h0m4 0.5h0m3.5-4h0m17 5.5h0m12.5-3h0m-63 5.5h0m11 3.5h0m0-2.5h0m2.5 2h0m12-3.5h0m13.5 0.5h0m5.5 2.5h0m8-4h0m7.5 1h0m-67 9h0m15.5 0.5h0m0.5-4.5h0m18 0.5h0m19 2h0m5.5-3h0m3.5 3.5h0m9-2h0m-51 5.5h0m1.5 0.5h0m13 1.5h0m2 0h0m0.5 3h0m39.5-5.5h0m-67.5 11.5h0m4.5-0.5h0m3.5-5.5h0m6.5 3h0m16-1h0m31 0.5h0m12-2.5h0m3 4.5h0m10-3h0m3 1h0m-95 5.5h0m23.5 2.5h0m2-4.5h0m1.5 5.5h0m4.5 0h0m17-2.5h0m17.5 1h0m10.5-3h0m4 1h0m-94.5 9.5h0m21-2.5h0m1.5 2h0m5-4h0m10 4.5h0m2-2.5h0m10 1h0m10-2.5h0m2 3.5h0m12-5h0m2.5 0h0m3 3.5h0m14-1.5h0m7.5 3.5h0m14.5-4.5h0m-124.5 5h0m4 1.5h0m14.5 2.5h0m4 1h0m1.5-2.5h0m7 0h0m17-1.5h0m16 3.5h0m3-1h0m8.5 0.5h0m4.5-3.5h0m3 5.5h0m6-5h0m16.5 3h0m1.5 0h0m1.5 0h0m-108 6.5h0m8 1.5h0m24-5.5h0m5 1.5h0m14-0.5h0m0.5 3.5h0m4.5-3h0m20 0h0m14.5 0h0m3.5-0.5h0m25.5-0.5h0m-107.5 10h0m1.5-2.5h0m4 1h0m2.5-3.5h0m11.5 4.5h0m1 1h0m8-5.5h0m10.5 3h0m4 2.5h0m4-1.5h0m0.5-3.5h0m1 5h0m-50.5 1h0m14-0.5h0m3.5 0h0m5 6h0m2.5-2h0m7-1h0m8 0.5h0m0 2h0m3-1h0m0.5-4.5h0m-38 10h0m0.5-1.5h0m8.5-2h0m4.5 3.5h0m0.5-2.5h0m3.5 1h0m10.5 3.5h0m6-1h0m4 0.5h0m2-1h0m4 1h0m2-2h0m9.5-0.5h0m-73.5 5.5h0m16.5-0.5h0m7-1.5h0m5 5h0m12.5 0h0m7.5-2.5h0m4.5-2.5h0m5 5h0m6-2h0m8.5-3h0m1 0.5h0m2 2h0m1 1h0m-51 3h0m10.5-1h0m11 6h0m2.5-1.5h0m29-2h0m3 3h0m-68.5 6h0m2.5-4h0m3.5 3h0m11-1.5h0m4.5-0.5h0m17.5 1h0m2.5 1h0m1.5-1.5h0m23-0.5h0m2.5 2.5h0m-75 1.5h0m6.5 0h0m13 2h0m2 2h0m12.5 1h0m5.5-3h0m13.5-2h0m23 2.5h0m-56.5 8.5h0m13 0h0m1-2h0m1.5 2h0m14-5.5h0m-33 7h0m13.5 0.5h0m13.5 2.5h0m22-1.5h0m5.5 2.5h0m5 1h0m-48.5 3.5h0m22.5 0.5h0m2 2h0m4-4h0m1.5 3h0m8.5-3.5h0m8.5-1h0m-42.5 6h0m23 0h0m2 3h0m5-3h0m1 1.5h0m8 3h0m4.5-1.5h0m3-2.5h0m-39.5 9h0m9 0.5h0m4.5-1h0m11 0.5h0m-14 7.5h0m3.5-3h0m8.5-2h0" stroke="#BFE5A0" stroke-width="2.7" stroke-linecap="round" fill="none"/>
<path d="M94 503.5h0m3.5-1h0m11.5-1h0m-10.5 9h0m-40.5 6h0m10-0.5h0m43.5-3h0m-75 11.5h0m-8 4.5h0m10-4h0m3 4h0m10 0.5h0m1-2h0m11.5 0h0m49-0.5h0m-41 9h0m6 0h0m24 0h0m7-1h0m-79.5 3.5h0m8.5 1.5h0m0.5-1h0m3.5 1.5h0m4.5-3h0m6.5 2h0m3 0h0m9.5-1h0m11.5 4.5h0m10-3h0m-56 4.5h0m14.5 4h0m3.5-3.5h0m10 4h0m4-2.5h0m5-2.5h0m12 2h0m6-1h0m15.5 1.5h0m-47 7h0m6.5 0h0m7-4h0m5 2.5h0m1-1.5h0m4.5-0.5h0m16 2h0m1 1h0m2-0.5h0m0.5 2h0m3-1.5h0m6.5-1h0m-69.5 5h0m3.5-0.5h0m1-1h0m6 1h0m1.5 0h0m2 1h0m6-1.5h0m3.5 2.5h0m8-3.5h0m1 3.5h0m1-1.5h0m5-2h0m1 5h0m3-4h0m3.5 4.5h0m1.5-1h0m7-1.5h0m4 2h0m-63 6.5h0m11.5-3h0m4-2h0m3 5h0m9.5-1.5h0m10-2h0m4 1h0m5 1h0m8-0.5h0m5-1.5h0m6 2.5h0m7-3.5h0m-70.5 9.5h0m1-4.5h0m3.5 5h0m6 0.5h0m8.5-3h0m4 2.5h0m11.5-3.5h0m3 4h0m7-5h0m4 3.5h0m1-2h0m0-0.5h0m9 0.5h0m5.5 3h0m-66 5h0m20-0.5h0m4.5-2h0m8.5 3h0m7-4h0m0.5 2.5h0m1.5 2.5h0m1.5-3.5h0m18.5-1.5h0m2.5 3.5h0m2.5 0.5h0m0.5-3.5h0m17 1.5h0m-91.5 4h0m9 4.5h0m25.5-2.5h0m22-2.5h0m8 3.5h0m3.5-1.5h0m-62 6.5h0m9.5-2h0m0.5 1h0m2 4.5h0m1.5-5.5h0m3.5 3h0m2-2.5h0m0 1.5h0m2-1h0m4 1.5h0m2-0.5h0m7.5 1.5h0m1.5-4h0m6 1h0m7.5 4h0m6.5 0h0m2-1h0m3.5-3h0m12.5 4.5h0m0.5-2.5h0m-85 8.5h0m10 0.5h0m0.5-6h0m1 2.5h0m8.5 2h0m0-4h0m6 4h0m2-4.5h0m1 5h0m0.5-3h0m44.5 4h0m2.5-5h0m8.5 4h0m4 0.5h0m3.5-1h0m-92.5 7h0m6-1.5h0m1.5-3h0m3.5 2h0m9 1h0m4.5 1.5h0m3-1h0m5.5-2h0m1 0h0m9-1h0m12.5-0.5h0m6 3.5h0m2 1h0m13.5-0.5h0m1-4.5h0m-67 9.5h0m2.5 0h0m1.5-1h0m1.5 2.5h0m7.5-1.5h0m4-3.5h0m1.5 2.5h0m6.5 0.5h0m3-0.5h0m27 1.5h0m-62.5 3h0m9 4h0m11.5-5h0m22.5 0.5h0m5.5 4h0m1-1.5h0m4-2.5h0m2 4h0m12-4h0m-73.5 10h0m10-2.5h0m15-0.5h0m5.5-1h0m4 4h0m2.5-3h0m3 3h0m2.5-3h0m1.5 0h0m12-0.5h0m3 1.5h0m1-1.5h0m11 4h0m-57 5.5h0m16.5-2h0m2 2h0m3-1.5h0m9 0h0m10-3h0m29 3.5h0m-63 2.5h0m18 0.5h0m2.5 2.5h0m1-2.5h0m7.5-0.5h0m2.5 2h0m2-1.5h0m4-1h0m-38.5 7h0m1.5 3.5h0m7.5-2.5h0m11 1h0m8-2.5h0m7 2.5h0m20.5 0h0m4.5 0.5h0m-52.5 2.5h0m2.5 2h0m4.5 2.5h0m11-0.5h0m1.5 0h0m3-2.5h0m6 2h0m8-1.5h0m6 3.5h0m12-2h0m-62.5 7h0m3.5-3h0m7.5 3.5h0m2.5-1h0m2 1.5h0m5.5-0.5h0m5.5-3h0m6 1h0m2.5 0h0m11 2h0m0.5-2h0m0.5 3h0m12.5-4h0m9.5 3.5h0m-65.5 2h0m29 2.5h0m39-1.5h0m5.5 2h0m20 1.5h0m-92 5h0m3-1.5h0m0.5-2.5h0m1.5 3h0m5.5 1.5h0m16-4h0m1.5 1h0m1.5-2.5h0m7 3h0m16-2h0m5 4.5h0m21.5-1.5h0m10.5-3h0m8.5 0h0m1 1.5h0m4 1h0m-99.5 3h0m8.5 3.5h0m18.5 2h0m13-4h0m2.5 0.5h0m3.5 3h0m1.5-4.5h0m1-0.5h0m1 5h0m1-4.5h0m3 1.5h0m4-1.5h0m5.5 1h0m4 0.5h0m23.5 2h0m2-1h0m1 2h0m-101 0.5h0m11 2.5h0m2 2.5h0m9.5-2h0m7 3h0m11.5-1.5h0m12.5-3h0m5 0.5h0m2.5 1.5h0m3-3h0m1 4.5h0m3.5-2.5h0m2-1.5h0m18 2.5h0m6 0h0m3.5-1.5h0m2 1.5h0m-118 5.5h0m25.5-1.5h0m4.5 1.5h0m2.5 2.5h0m2.5-1h0m1-1.5h0m4.5-0.5h0m2 0.5h0m1-2.5h0m1 4h0m4.5-2.5h0m4.5 1h0m8-1.5h0m6.5 3.5h0m2-4h0m3 1.5h0m8 3h0m7.5 0h0m13.5-1.5h0m1.5-0.5h0m6.5-0.5h0m5 2h0m1-1.5h0m1.5-2.5h0m-101.5 9h0m2-2.5h0m0.5 3h0m3-0.5h0m1.5-3.5h0m7.5 5h0m10-1h0m8.5-1h0m6 1h0m1.5 0.5h0m1 0h0m4-3.5h0m4 3h0m4-4.5h0m5 5h0m16-2h0m-58.5 3.5h0m2.5 2.5h0m0-2.5h0m4 5.5h0m0.5-4.5h0m2.5 3h0m5.5-2.5h0m1.5 2h0m7.5-0.5h0m-48.5 4h0m4.5 1.5h0m0 3h0m6.5-5.5h0m0 2.5h0m0 1.5h0m8.5-2h0m1 2.5h0m9-4h0m2.5 5h0m5-6h0m1 3h0m6.5-1.5h0m0 2h0m7.5 1h0m9.5-1.5h0m-71.5 7.5h0m14.5 1h0m3-4h0m3 3h0m2.5 0h0m1.5-0.5h0m6 1h0m1.5-2h0m8-1.5h0m9.5-1h0m8.5 0.5h0m12.5 0.5h0m6 4h0m-72 3h0m15.5 3h0m13-2.5h0m7.5-2.5h0m6 4h0m1-0.5h0m7-1.5h0m4-0.5h0m3 0.5h0m6-0.5h0m13 2h0m-73.5 3.5h0m1 2h0m3-2.5h0m3.5 3h0m17-2.5h0m4.5 4.5h0m9-0.5h0m5-3h0m7 0h0m3 3h0m2.5-4h0m1.5 2h0m5.5 0.5h0m1-1.5h0m2.5-2.5h0m2.5 4h0m0.5-2.5h0m1-0.5h0m2.5 3h0m-72 7.5h0m2-4h0m4.5-1h0m12 4h0m1 0.5h0m5-4.5h0m8.5 4h0m4-3h0m13-1h0m3 1.5h0m2.5 0.5h0m3.5 0.5h0m8-1h0m3.5 2h0m0.5-1h0m2.5 1.5h0m4-1h0m1.5 1h0m-70 5h0m7.5 0h0m7-2h0m3.5 2h0m2.5-3h0m8.5 3.5h0m5-0.5h0m3 0h0m1.5-2.5h0m4.5 0h0m6.5 3.5h0m19.5-4h0m-61.5 8.5h0m3-0.5h0m3.5-1.5h0m2 0.5h0m2.5 3h0m2-2h0m3 0.5h0m1.5-1h0m3.5 1.5h0m2 1h0m0 1h0m4.5-5.5h0m5 1h0m14.5 2h0m2-2.5h0m5.5 1h0m6.5 2h0m-52.5 3.5h0m8.5 2h0m10.5 3h0m8-3.5h0m14.5 3h0m3-4h0m7 0h0m3 0h0m-54 5h0m5.5 3h0m13.5 1h0m22.5 1h0m1-1.5h0m1 1h0m3-2.5h0m3 2h0m-29 5.5h0m14-2.5h0m3.5 4.5h0m7.5-4h0m0 3h0m1.5-0.5h0m4-0.5h0m1-3h0m-42.5 7.5h0m0.5 2h0m7-1h0m4-3h0m11 5.5h0m3-1.5h0m5.5-4h0m3 0h0m-18 8h0m7.5 3h0m-15.5 2.5h0m11.5-0.5h0" stroke="#DBF09A" stroke-width="2.7" stroke-linecap="round" fill="none"/>
<path d="M111.5 494h0m-15 4.5h0m12.5-0.5h0m-29 9h0m20-5.5h0m-41 11h0m3.5-1h0m-3.5 4h0m-22.5 4h0m0 0.5h0m1 4h0m1-4h0m1 1.5h0m3 2.5h0m4 0.5h0m10.5-0.5h0m1 0.5h0m0.5-3.5h0m54-0.5h0m-69.5 9.5h0m2.5-1.5h0m10.5-2h0m3 0h0m-33.5 7h0m13.5 3.5h0m12.5-0.5h0m6-3.5h0m16.5 4h0m1-5.5h0m13 4.5h0m4.5-1h0m7.5 1.5h0m4-2.5h0m7-2h0m-51.5 10h0m28.5-2.5h0m-37 9h0m32.5-4.5h0m6 4.5h0m6.5-3.5h0m1.5 2h0m-59.5 3.5h0m4 0.5h0m10.5 3.5h0m5.5-1h0m1.5-1h0m24.5-0.5h0m4.5-2.5h0m1 3h0m4-3h0m2.5 0.5h0m1.5 0h0m1 1.5h0m5-0.5h0m5 1.5h0m-71.5 5.5h0m23.5 1.5h0m1.5 0.5h0m1-2.5h0m4.5 0h0m1 3h0m18.5-1.5h0m6.5-3.5h0m7 0h0m1.5 1.5h0m-67 9h0m7.5 0.5h0m0.5-0.5h0m8.5-3.5h0m1 3.5h0m1.5-4h0m5.5 3h0m1-2.5h0m2.5-0.5h0m1.5 4h0m1-3.5h0m2.5 3h0m4.5-3.5h0m4 2h0m10 1.5h0m5-4h0m5.5 1.5h0m5 2.5h0m12.5-1.5h0m-70 7.5h0m8.5-2.5h0m7.5-0.5h0m0 2h0m29 2h0m2.5-2.5h0m14 0.5h0m-82.5 8h0m14-5h0m0 5h0m0-2.5h0m2-0.5h0m2 2.5h0m2-2.5h0m4 0.5h0m5.5 1h0m1-3.5h0m6 1h0m11.5 0h0m12.5 0.5h0m5.5-1h0m3 4.5h0m1-2.5h0m14.5-1.5h0m1.5 3h0m-87 2.5h0m1.5 4.5h0m13.5-2.5h0m2.5 0.5h0m7.5-0.5h0m18 0h0m4.5-2h0m2.5 1.5h0m10 3.5h0m1-3h0m5-0.5h0m1 3h0m0.5-4h0m4.5 3h0m8 0h0m2 0h0m2-3.5h0m3 2.5h0m-71 8.5h0m2-2.5h0m18 2.5h0m3-0.5h0m1-2.5h0m2 2.5h0m2.5-5h0m1.5 2h0m7-1h0m0.5 4h0m5-3h0m16.5 1h0m6 2h0m0-2h0m2.5-3h0m4.5 4h0m33.5-3.5h0m-116 10h0m12-1h0m5.5 1h0m2-1.5h0m13-1h0m5 1h0m3-3.5h0m4.5 5.5h0m9-3.5h0m22.5 0.5h0m1 3h0m-59 3.5h0m12-3h0m9.5 1.5h0m1 4h0m8-0.5h0m3.5-1h0m12-3.5h0m13.5 1.5h0m-79.5 9h0m3-4.5h0m6.5 1.5h0m4.5 3.5h0m2 0.5h0m2.5-1.5h0m9.5-3h0m2.5-0.5h0m7.5 1.5h0m3.5 3h0m3-1h0m2-2h0m5.5 0.5h0m2 1h0m11-3h0m-61.5 8.5h0m10.5 2h0m0-2h0m7.5-0.5h0m11 0h0m5.5 0.5h0m34 0.5h0m-65.5 4h0m0.5-1.5h0m0.5 5.5h0m5-0.5h0m9.5-1.5h0m5.5 0h0m0.5-2h0m3.5 0.5h0m8.5 1h0m7.5 0.5h0m28.5 1h0m-65.5 2.5h0m0.5 2.5h0m2.5-2h0m7.5 2h0m2 1h0m2 1h0m5-4.5h0m10 0h0m1 1.5h0m17 0.5h0m-44.5 5h0m10.5 1.5h0m6.5-3h0m5 2h0m2-1.5h0m2.5-0.5h0m12 1h0m21.5-1h0m11.5 4.5h0m-71.5 4.5h0m10 0.5h0m2-3.5h0m2 2h0m2.5 1h0m9-4h0m1 5h0m15-3h0m7.5-1.5h0m7 2.5h0m7-2.5h0m7 2.5h0m-54 3.5h0m0.5 4.5h0m2.5-4.5h0m3 1h0m3.5 3.5h0m11.5-0.5h0m4-2h0m1 0.5h0m15-1.5h0m8.5 3h0m8-3.5h0m2.5 1.5h0m0.5 1h0m-56 4.5h0m22 0h0m12-1.5h0m0.5 5h0m6 0h0m5.5-2.5h0m1 1h0m4-0.5h0m0 2h0m7.5-3.5h0m1.5 2h0m-69 5.5h0m6.5 1h0m2.5-1h0m1 1h0m10-2.5h0m8-0.5h0m1 2h0m3 2h0m20.5-1h0m11.5-4h0m1.5 2h0m6 3.5h0m-61.5 5.5h0m4.5-4.5h0m15-1h0m0 6h0m6.5-6h0m12.5 2h0m4.5 3h0m3.5-2h0m6-1.5h0m16 0.5h0m-81 8.5h0m17-3h0m0.5 3.5h0m14 0.5h0m0-3.5h0m1.5-1h0m3 3.5h0m1.5-3.5h0m0.5 3.5h0m18 0.5h0m5-1.5h0m6-1.5h0m18 3.5h0m-92 6h0m8 0h0m16-4h0m9.5 0.5h0m11 0h0m1.5 2h0m1-3h0m16.5 1h0m15 1h0m3.5 0.5h0m3-2.5h0m-93.5 7h0m5 0h0m17.5-1h0m11 1h0m2.5 3h0m7.5-4.5h0m0.5 2.5h0m3-2h0m4.5 4.5h0m8-1.5h0m2-2.5h0m2.5 4h0m8-2h0m6.5 2.5h0m2-2h0m4-4h0m12.5 1h0m6.5 0.5h0m6.5 1h0m-108 7.5h0m6-4h0m12 2h0m5.5 0.5h0m10.5 2.5h0m34-0.5h0m0-3h0m3.5 1.5h0m-49 4h0m15.5 0.5h0m6 0h0m7 2.5h0m0.5-3h0m1.5-0.5h0m4.5 3.5h0m2-0.5h0m-64 4.5h0m4.5-1.5h0m4 5h0m4.5-3h0m0.5-1.5h0m3.5 2.5h0m5 1.5h0m4.5-2.5h0m7 1.5h0m17.5-3h0m4 1h0m1 3h0m4.5 1h0m1-3h0m0-3h0m-50 7h0m13 4.5h0m-24 3h0m0.5-1.5h0m3 1.5h0m11-1.5h0m13.5 3h0m0-2h0m2.5 0h0m19.5 2.5h0m-46 6.5h0m8.5 0.5h0m2 0h0m1.5-1h0m11.5 0h0m2 0.5h0m5 0h0m7.5 0h0m13.5-0.5h0m4.5-0.5h0m1-2.5h0m4.5 0h0m-67 7h0m9.5-1h0m11 0h0m7 1.5h0m1 1.5h0m10.5-3h0m3.5 4.5h0m4.5-1h0m19-4h0m6 1.5h0m-63.5 6.5h0m10.5 0.5h0m11.5-3.5h0m3 3.5h0m15 1.5h0m9.5-4h0m2.5 3h0m4-3.5h0m6.5 5h0m2-4.5h0m3.5 1.5h0m-72 5.5h0m15.5 2h0m14-1.5h0m6-1.5h0m1 2.5h0m2-2.5h0m1.5 4.5h0m7 0h0m1-4.5h0m4.5 3.5h0m4 1h0m7.5-5.5h0m1.5 5h0m-46 3.5h0m10 0h0m14 1h0m12-1.5h0m10-2h0m-30.5 11h0m2-2.5h0m4.5 3.5h0m5-1.5h0m1-3.5h0m8 3h0m3.5-1h0m-28 8h0m5.5-1.5h0m10.5-2.5h0m4 4h0m5.5-1h0m-14.5 5h0m9.5 1h0m0.5-1h0m5.5-1h0m0 1.5h0m4-2h0m0.5 4h0m6-4h0m-29.5 5h0m6.5 1h0m4.5 4.5h0m7-5h0m3 3.5h0m-15.5 4.5h0" stroke="#EDF8A3" stroke-width="2.7" stroke-linecap="round" fill="none"/>
<path d="M108 493h0m1 1h0m-20 8h0m-17.5 8h0m13.5-1h0m26 0h0m-42 4h0m-38 9h0m1.5 0.5h0m21.5-1h0m1.5 0.5h0m20 1h0m-25 3.5h0m6.5 0h0m10.5 4.5h0m4.5-2.5h0m10-2h0m8 0h0m12 3.5h0m3.5-0.5h0m-65.5 2.5h0m2 4h0m7 1h0m5.5-0.5h0m0.5-3h0m2 2h0m1.5-0.5h0m4-2h0m4.5 1h0m11.5-1h0m6 2.5h0m2-1h0m10-3h0m1 2.5h0m11.5 2.5h0m-65 3.5h0m6.5 2h0m2.5 0h0m8.5-5h0m15 1h0m0 3.5h0m13-4h0m2 3.5h0m1.5-2h0m12 2h0m2.5 1.5h0m-61 2h0m0.5 4.5h0m7.5-5.5h0m6 3.5h0m3-3h0m2.5 4.5h0m0 0.5h0m3.5-4.5h0m24.5 3.5h0m7.5-2.5h0m4.5 3h0m3-5.5h0m-62.5 8.5h0m5 0h0m1-0.5h0m4.5-2h0m4.5 4.5h0m5.5-2h0m2 0.5h0m3-1h0m9.5 2h0m4 0.5h0m1-0.5h0m16 1h0m-46 6.5h0m0.5-1.5h0m7-1h0m0 2h0m2-2.5h0m8-0.5h0m1 2.5h0m3-3.5h0m5.5 2.5h0m0.5-2.5h0m12.5 2.5h0m1 1h0m3.5 0h0m8.5-1.5h0m-74 6h0m6 2h0m2.5-4.5h0m1.5 0.5h0m3 3.5h0m2-1h0m6.5 2h0m8.5-2.5h0m1-0.5h0m18.5-0.5h0m8.5 2.5h0m0 1h0m1-3h0m1.5 1h0m6-3.5h0m2.5 3.5h0m1.5-1.5h0m1.5 1h0m1-0.5h0m-66 7.5h0m3.5-1h0m17-1h0m16.5 3h0m0-3h0m8.5 2h0m8-2.5h0m1 4.5h0m6-5h0m-57.5 10h0m1.5-4.5h0m4 0h0m16.5 0.5h0m19 4h0m1-4.5h0m13 4.5h0m3.5 0h0m1.5-5h0m6.5 0.5h0m-88 9.5h0m14.5 1h0m2-2.5h0m1 0h0m2 3h0m11.5-4.5h0m1.5 4.5h0m4.5-3.5h0m3 0h0m3.5 0h0m0.5-1.5h0m3 3h0m14 1h0m12.5 0.5h0m1-1.5h0m4-3h0m-61 11h0m1-2h0m1 1h0m28.5-1.5h0m9.5 3h0m2-4.5h0m6.5 0.5h0m2.5 4h0m0-4.5h0m1.5 4h0m-54 3h0m25.5-1.5h0m2 1.5h0m5.5 1.5h0m3 0h0m1.5-2.5h0m1 4.5h0m20.5-0.5h0m9-3.5h0m2.5 1.5h0m-72 3.5h0m10 3h0m2-3h0m15.5 3.5h0m5.5 1.5h0m2.5-1h0m5.5 0h0m0.5-2h0m5.5-1.5h0m2.5 3h0m6-0.5h0m16.5-2h0m-79 4.5h0m10.5 0h0m2.5 1.5h0m4.5 0.5h0m0.5 1.5h0m3 0h0m7 2h0m0-6h0m9.5 1.5h0m7 1.5h0m5-1.5h0m18 3h0m-61.5 7h0m16-4h0m2 0h0m1 3h0m0.5-1h0m1 2h0m18.5 0h0m3-1.5h0m16.5 1.5h0m-58 6h0m6-0.5h0m6-2h0m3-2.5h0m4 2h0m1 3h0m11.5-2h0m17-0.5h0m1.5 1.5h0m-46 6.5h0m1.5 0h0m14-4h0m13.5 3.5h0m3.5-0.5h0m0-1.5h0m7 3h0m1.5-3h0m3-1h0m6 1h0m8.5 1h0m3-1h0m-51 5h0m6 0.5h0m7.5 3.5h0m9.5-4.5h0m0.5 0.5h0m2 2h0m10.5-0.5h0m0 1.5h0m6.5 1.5h0m2.5-2.5h0m3.5 2h0m8-2.5h0m-65.5 7h0m1.5 1.5h0m7.5 0.5h0m7.5-1.5h0m5 1h0m4-2.5h0m6-2.5h0m0.5 4h0m5 0h0m9.5-2.5h0m2 3.5h0m1-4.5h0m5.5 4h0m2.5-2.5h0m6.5-0.5h0m2.5 2.5h0m-67 2h0m2.5 4h0m4.5 1h0m3.5-3h0m12.5-1h0m5 3h0m7.5 0h0m10-4.5h0m8 6h0m9.5-0.5h0m5.5-0.5h0m6-0.5h0m-72 1.5h0m11.5 5.5h0m13.5-1.5h0m3.5 2h0m0.5-5h0m1.5 3.5h0m6.5-4.5h0m0.5 5.5h0m5 0h0m6.5-1.5h0m6-3h0m13.5-0.5h0m-74 7.5h0m19-1h0m18 0h0m1.5 3h0m16.5 0h0m2.5-3h0m1 4.5h0m1.5-3.5h0m2.5-1.5h0m7 4.5h0m8.5-0.5h0m-60.5 2.5h0m0 2.5h0m0.5 1h0m1-1.5h0m6.5 2h0m18-0.5h0m8.5 0.5h0m11-2h0m7 3h0m2-4.5h0m5 0.5h0m1 1h0m-52 8h0m11.5-4h0m5 3h0m10 0.5h0m6.5-0.5h0m18.5-0.5h0m0-1.5h0m28.5-1.5h0m-89.5 11h0m4.5-3h0m3.5 3h0m7.5 0h0m2-2.5h0m7-2h0m15 1h0m11.5 3h0m14.5 0.5h0m11.5-2h0m-96.5 8h0m2-5h0m2.5 1.5h0m1.5 4h0m19-1h0m11.5-3h0m26.5-2h0m0.5 3.5h0m7.5-2h0m11 1h0m17 1.5h0m-85.5 5h0m5.5 0.5h0m26 0h0m6-3h0m1.5 3h0m1.5-2h0m51.5-1h0m-112.5 6.5h0m9.5 4h0m13.5-2h0m11.5 1.5h0m20-4h0m8.5 5h0m0.5-3.5h0m-64 8.5h0m16.5 0.5h0m8-2h0m2.5 1.5h0m32.5 0.5h0m4.5-1.5h0m-42.5 8h0m10-3h0m2.5 3.5h0m9-4h0m10 1h0m4.5-2h0m4 3h0m-55 7.5h0m13-5h0m5.5 0.5h0m11.5 0h0m3.5 1h0m7 4h0m15.5-1.5h0m-61 7h0m23-0.5h0m1.5-2.5h0m0.5 2.5h0m2.5-2.5h0m3.5-1.5h0m6 1h0m3.5-1.5h0m5.5 1h0m-54.5 4.5h0m3 2.5h0m27.5-0.5h0m17 2h0m4.5-3h0m16 3.5h0m2.5-2.5h0m8-0.5h0m-57.5 5h0m24 3.5h0m2 0.5h0m16.5 0h0m6-4h0m9.5 3.5h0m-61.5 6h0m3 0h0m3.5-0.5h0m9-3.5h0m12 4.5h0m10.5-1.5h0m9.5 2.5h0m0-4.5h0m4.5 1.5h0m10 0.5h0m-47 5h0m11.5 3.5h0m4-4h0m8.5 2.5h0m3.5-0.5h0m3.5-1.5h0m2 2h0m3.5 1.5h0m17.5-0.5h0m-33 2h0m3 2h0m22.5 0h0m-31.5 4h0m17 5h0m3-2.5h0m6.5-2.5h0m-17.5 6h0m1.5 1h0m1.5-2h0m7.5 2h0m11.5 1.5h0m-14 3h0m1.5 3.5h0m8-1.5h0" stroke="#F9FDB6" stroke-width="2.7" stroke-linecap="round" fill="none"/>
<path d="M101.5 497.5h0m6.5 1.5h0m-31 7.5h0m4-2h0m4-2h0m1.5 1h0m4.5-0.5h0m16.5 2.5h0m-38.5 2h0m5-0.5h0m23.5 6h0m3-3.5h0m10 3.5h0m-54 4h0m2 2h0m8.5-3h0m9 0.5h0m16-3h0m9 0.5h0m10.5 3h0m-73 4.5h0m12.5 2h0m9.5 1.5h0m2-0.5h0m11.5-4h0m29.5 3.5h0m-69 3h0m4.5 0h0m7 0h0m8.5-1h0m5 5h0m28 0h0m-49 2.5h0m6 2h0m1.5 0h0m17-2.5h0m9.5-0.5h0m6.5 1.5h0m3-2.5h0m17.5-0.5h0m-53 10h0m0.5-2.5h0m11 0.5h0m6.5 0.5h0m2.5 2.5h0m1-1.5h0m0.5-3.5h0m1 5h0m2-1.5h0m4 0.5h0m5 2h0m7.5-3.5h0m0.5 3.5h0m15-0.5h0m1.5-2.5h0m2.5-2h0m3 2h0m-65 5h0m2 3h0m7-3.5h0m10 3.5h0m6 0.5h0m4-1.5h0m1.5-1.5h0m1 3h0m1.5-4h0m8.5 3h0m5.5-2h0m5.5-1h0m8 1.5h0m2-1.5h0m-57.5 9.5h0m17 0.5h0m3-4.5h0m9.5 2h0m3 2h0m6 0h0m2.5-3h0m8.5 3.5h0m0-3.5h0m3-0.5h0m3-0.5h0m-58 9h0m2.5 1h0m2-3.5h0m2.5 3h0m17-1.5h0m15.5 2.5h0m20-4h0m-76.5 8.5h0m43 1.5h0m0.5-0.5h0m10 0h0m3-2.5h0m13-1.5h0m-43 10h0m25-4.5h0m1 3.5h0m5-3h0m4.5 5h0m3-4h0m4-0.5h0m3 4.5h0m5-6h0m-73.5 10.5h0m15.5-2h0m12 0h0m16.5-1.5h0m11.5 2h0m2-1.5h0m3 1h0m14-1h0m-80 6h0m5 0.5h0m4-0.5h0m12.5 2.5h0m34.5-2.5h0m19.5 0.5h0m7 1h0m-77 4h0m26.5 0.5h0m6 0h0m6 2h0m0.5 0h0m14-1h0m1.5-2h0m13.5 1.5h0m2.5 2.5h0m-56 3.5h0m25.5-1.5h0m2 4.5h0m10-0.5h0m1.5-3h0m5 1h0m0.5 3.5h0m3.5-2h0m6.5-1.5h0m-70 4h0m0.5 4.5h0m19-3h0m13 3h0m4.5-2.5h0m3 0h0m2.5-1.5h0m7 4h0m1-4h0m3.5 4h0m3.5 0h0m13-3.5h0m-74.5 8h0m4-1.5h0m13-0.5h0m13 1.5h0m5 2.5h0m1-4.5h0m12.5 2h0m5 1h0m3.5-2.5h0m3.5 4.5h0m6.5-5h0m-69.5 9.5h0m7.5-2.5h0m29 2h0m5-0.5h0m2.5 1.5h0m1.5-2.5h0m2-1h0m14.5 1h0m1 0h0m-51 7h0m3.5-3.5h0m2.5 3.5h0m4 1.5h0m23.5 0h0m4-2.5h0m1-1h0m2.5 4h0m12-4.5h0m7 1h0m-53.5 6.5h0m1.5-2h0m16.5 5h0m1.5-5h0m16.5 4h0m8 1.5h0m1-1h0m3.5-1.5h0m1-0.5h0m-37 7h0m12-2.5h0m7.5 3.5h0m3-3h0m2 1.5h0m7.5 2h0m6-3.5h0m2 3.5h0m7-2h0m2.5 2h0m-53 5.5h0m9-3h0m6 3.5h0m4-0.5h0m4.5-4h0m13.5 3.5h0m0-0.5h0m8.5-3.5h0m5.5 1.5h0m1 3.5h0m-49.5 4h0m12 2.5h0m2-5h0m14 3.5h0m1-4h0m0.5 4.5h0m6-4.5h0m11 3h0m1 2h0m2.5-4h0m4 1h0m-48 6.5h0m10 2.5h0m14-1h0m4-1h0m6.5 1h0m7 1h0m5-5h0m7-0.5h0m-52 7.5h0m1 1.5h0m0 1h0m2.5-1h0m16.5-0.5h0m2.5 0h0m3 3h0m3-4.5h0m0.5 4h0m3.5-1.5h0m2.5 2h0m11.5 0h0m3-4.5h0m-45 8.5h0m0.5 2h0m7-5h0m7.5 1.5h0m5.5-1.5h0m16.5 5h0m10 0h0m12.5-3.5h0m-57.5 7.5h0m4.5 0.5h0m13.5-3.5h0m13 4.5h0m6-2h0m14-0.5h0m-64 6h0m3.5 2.5h0m21.5-3.5h0m4-1h0m3 4.5h0m9 0.5h0m13.5-3.5h0m2 3.5h0m-85 5.5h0m15.5-2.5h0m3 2.5h0m6.5-4.5h0m3 0h0m7 0.5h0m8 4.5h0m14.5-5h0m1.5 2h0m7.5-1.5h0m12 1h0m-80.5 9.5h0m18.5-1.5h0m1.5-2.5h0m14.5 1h0m0.5 2.5h0m4.5 1h0m4-5h0m8.5 2.5h0m14.5-1.5h0m8 2h0m4-3h0m3 2.5h0m0.5-2.5h0m-69.5 7.5h0m6 0h0m0 3.5h0m2-2h0m5.5-1.5h0m4.5 1.5h0m2 1h0m8-0.5h0m15.5-2.5h0m4.5 0.5h0m2.5 2.5h0m-30.5 3.5h0m2.5-2h0m25 1.5h0m-40.5 10h0m1.5-3.5h0m17 2h0m0.5-4h0m8 2h0m14.5 2h0m-53.5 4.5h0m5-2h0m2.5 3.5h0m5 0h0m11 0.5h0m11.5-5h0m1 0.5h0m12.5 2h0m-22.5 6h0m3 0.5h0m9.5-1.5h0m7 1.5h0m-35 6h0m3.5 2.5h0m17-2.5h0m19 2h0m2 0h0m-47 6h0m1-5h0m16.5 3h0m25 0h0m1.5-1.5h0m2 0h0m11.5-1h0m-40.5 10h0m11-3.5h0m5 0h0m9.5 4h0m1.5-2h0m12 2.5h0m10 0h0m-56.5 3.5h0m13 2.5h0m9-4.5h0m8.5 5h0m25.5-3.5h0m-15.5 4.5h0m7.5-1h0m8 1h0m-32.5 5h0m5.5 2.5h0m9 1h0m4.5-1.5h0m9.5 3h0m-34 3h0m8-1h0m3 2h0m16.5-1.5h0m4 1.5h0m-21.5 4.5h0m-0.5 5.5h0" stroke="#FFF8B3" stroke-width="2.7" stroke-linecap="round" fill="none"/>
<path d="M108 494.5h0m-11 2.5h0m9-1h0m1 4.5h0m4.5-2h0m-40.5 8h0m5-1h0m13.5-4.5h0m4 1.5h0m8.5 3h0m-36.5 3h0m5 3h0m3.5-0.5h0m4.5-2h0m15 3.5h0m2-5h0m9 4.5h0m0.5-2h0m2.5 2h0m4-4h0m-59 9.5h0m9.5 0.5h0m5-4.5h0m13 5h0m3.5-3h0m24.5-1h0m-67 10h0m7.5 0.5h0m1.5-3h0m9-2.5h0m2 2h0m1.5 1h0m0.5-1.5h0m1-1.5h0m0.5 4h0m8 1h0m16-0.5h0m11.5 0.5h0m0.5-1h0m5-2h0m1 1.5h0m0.5 0h0m-59 8h0m10-3.5h0m10.5-1h0m1.5 0.5h0m1.5 2.5h0m4-3h0m9-1h0m0.5 4.5h0m8.5-5h0m-43.5 8.5h0m4 0h0m1.5-1h0m4 3.5h0m5.5-4h0m2.5 0h0m5.5 3.5h0m7.5 0h0m7.5-4.5h0m6 2h0m3.5 3h0m2-0.5h0m4-3.5h0m2.5 4h0m0.5-3h0m2 0.5h0m3 2.5h0m-71.5 2h0m10.5 4.5h0m11-4h0m0.5 2.5h0m9-3.5h0m2 1.5h0m1 3.5h0m7-4.5h0m4.5 2.5h0m8-2h0m0-1.5h0m0.5 6h0m17-3.5h0m-53.5 6.5h0m0.5 1.5h0m2-3h0m8 3.5h0m0-1.5h0m15.5 1.5h0m3.5-3h0m4.5-1.5h0m8.5 5h0m-20 5h0m6-4h0m4.5 0.5h0m-34.5 6h0m23.5 2h0m1 2.5h0m7-5h0m8.5 1h0m11 2h0m-36 5.5h0m38.5 1h0m-43.5 4.5h0m38-1h0m-61 8h0m18.5 1.5h0m20.5-2h0m-30 5.5h0m11.5-2.5h0m23 4h0m2.5-3.5h0m20 1.5h0m-57 9.5h0m19-1h0m28.5-3.5h0m9 3.5h0m-54.5 1.5h0m2 1h0m40 1.5h0m1-1h0m12.5 3h0m-46.5 5h0m28-1h0m7.5 1h0m8 2h0m-75.5 3h0m2 1h0m18 2h0m33.5-0.5h0m11-3.5h0m3-1h0m-51.5 10h0m5-0.5h0m26.5-1h0m1.5-1.5h0m-2.5 10.5h0m14.5-1h0m8 0h0m-19.5 2h0m14.5 4.5h0m5-3.5h0m1 3h0m5-1.5h0m-63 5h0m9.5 3h0m4 0h0m37.5-3h0m2.5 2h0m2.5-0.5h0m6 0.5h0m1-0.5h0m3.5-2h0m-49 5h0m23.5 2h0m18.5 2h0m3.5-4.5h0m-51.5 11h0m19-1h0m1-4h0m6 3.5h0m11.5-1h0m2.5-1.5h0m5-1h0m4.5 1.5h0m8-0.5h0m-29.5 8h0m11-2.5h0m5.5-0.5h0m11 4h0m-36 3.5h0m16 0.5h0m1-1.5h0m11 2h0m-37.5 3h0m12 5h0m8.5-1.5h0m10.5-0.5h0m3.5-0.5h0m8 1.5h0m3.5-2.5h0m-53 10.5h0m3-1.5h0m25.5 0.5h0m9-5h0m17 0.5h0m3 3h0m-48 7h0m2.5-2h0m12.5-2.5h0m19 3h0m0.5-2h0m15 0h0m-55.5 6h0m18.5 4.5h0m6.5-2.5h0m-1.5 6.5h0m17 1.5h0m-2.5 1.5h0m-60.5 7h0m4 2.5h0m5 0.5h0m13 0.5h0m10.5-2h0m19-3h0m-17 7.5h0m6.5 3.5h0m14-3h0m-5 8h0m1-3h0m-20.5 10h0m4.5 0.5h0m-14.5 1.5h0m25 2.5h0m-47.5 3.5h0m23 4.5h0m6.5-0.5h0m11.5-3h0m26 2.5h0m3.5 0.5h0m-33 5.5h0m15-0.5h0m-22.5 4.5h0m8.5 3h0m10-2h0m11 2h0m-27 3h0m29.5-1.5h0m-31 9.5h0m12 1h0m-1 5h0m12 5h0" stroke="#FEE99A" stroke-width="2.7" stroke-linecap="round" fill="none"/>
<path d="M99 499h0m6.5-3.5h0m4.5 2.5h0m-25 7.5h0m2-1h0m3-1.5h0m11 1h0m4.5-0.5h0m-45 7.5h0m10 0h0m10.5 1.5h0m0.5-4h0m1.5 1h0m2 1h0m14 1h0m4-2.5h0m-41.5 4.5h0m11.5 1.5h0m2.5 0h0m1-0.5h0m22 1.5h0m11.5-2h0m0 2.5h0m-61.5 4.5h0m5.5-1.5h0m13.5 4h0m0.5-4.5h0m2 0h0m2.5 4.5h0m9 0.5h0m16.5 0h0m-51.5 1.5h0m16.5 2.5h0m5 2h0m0.5-3h0m5.5 2h0m2.5 1h0m4-2.5h0m13 0h0m6 2h0m2-1h0m1-2.5h0m2.5 0.5h0m1.5 4h0m2-0.5h0m0.5-3h0m1 1.5h0m0-2h0m-54 4.5h0m8.5 5.5h0m15.5-4.5h0m3.5 4h0m10.5-0.5h0m8 0h0m5.5-2h0m-36 9.5h0m11-2h0m0.5-3.5h0m4 4.5h0m9.5-4h0m3-0.5h0m3.5 1.5h0m5.5 1h0m-60.5 3.5h0m4.5 1.5h0m4-1h0m23.5-0.5h0m9.5 2h0m1.5 3h0m11-4h0m8 0h0m-57 7.5h0m21 2.5h0m34.5-1h0m-3.5 7h0m-12.5 4.5h0m2-3.5h0m-10 7.5h0m27.5 1h0m-41.5 9h0m22 2.5h0m-15.5 8.5h0m1-5h0m1.5 1.5h0m7-0.5h0m8.5 4.5h0m4.5-3h0m8.5-1.5h0m-52 8h0m16.5 2h0m5-2h0m7.5 2h0m2-3h0m14.5-0.5h0m-4 8h0m9.5 0.5h0m0.5-2h0m-23.5 5h0m5.5 3.5h0m8 1.5h0m1 0h0m3.5-4h0m-4 6h0m-27.5 4h0m14.5 2h0m5.5 0.5h0m3.5 0.5h0m3 0h0m-38.5 7h0m26.5 2h0m15.5 1h0m-50 9h0m12 4.5h0m17-2h0m5 5h0m7-3h0m-22 6.5h0m8.5-2h0m10 1h0m0.5 2h0m11.5-1h0m11.5-1h0m6 2.5h0m-61 2.5h0m11.5 4h0m25.5-3.5h0m19.5 1.5h0m-19.5 7h0m-13.5 5h0m15.5 2h0m-10 4.5h0m4-2.5h0m-39.5 16h0m0-4.5h0m8 0.5h0m41-1h0m1 3h0m-56.5 4h0m32 1.5h0m2 6.5h0m2 4.5h0m9.5 4.5h0m-37.5 1h0m11 1h0m36 10h0m-18 14.5h0m2 11.5h0m20.5 0h0" stroke="#FED683" stroke-width="2.7" stroke-linecap="round" fill="none"/>
<path d="M83 505.5h0m7 0h0m10-3h0m2.5-1h0m3 5h0m6-5h0m0.5 3h0m-45.5 5h0m9-0.5h0m11.5 3h0m8.5-2.5h0m3.5-1h0m2 4h0m5.5-5h0m-54.5 11h0m29-2.5h0m2 2h0m5.5-4.5h0m0.5 2h0m1 3h0m7.5 0h0m5-5h0m1.5 4h0m2 1h0m-31 0.5h0m3.5 0.5h0m5 2h0m9.5-1h0m1 3.5h0m16.5-0.5h0m-72 5.5h0m40-3.5h0m4 1.5h0m0 3.5h0m7.5-1.5h0m6-2.5h0m1.5 0h0m1.5 1h0m4-1h0m-43 5.5h0m20 5h0m8.5-3.5h0m-20 4.5h0m10 0.5h0m13.5 3.5h0m7 0h0m3.5-1h0m-21 7.5h0m26 0.5h0m-31 3h0m26 18h0m-24.5 7h0m4.5-3.5h0m24 4.5h0m-71.5 5.5h0m19.5 1.5h0m26.5-5h0m19 2h0m-13.5 8.5h0m16.5-5h0m-58 9h0m46.5 0.5h0m-5 5h0m7 2h0m3 0.5h0m8.5-2h0m-66 8h0m42.5 0.5h0m0.5 2.5h0m6 5.5h0m2-1h0m1.5 9.5h0m3.5-4.5h0m1.5 1h0m1 2h0m4-1.5h0m-8 8.5h0m14.5 11.5h0m-17.5 4.5h0m2.5 11.5h0m1.5-1h0m4.5 4.5h0m-12 1h0m-50.5 25.5h0m42.5 8.5h0m17 9h0m5 5h0m-22 40h0" stroke="#FDBF6F" stroke-width="2.7" stroke-linecap="round" fill="none"/>
<path d="M101 499h0m1.5-1.5h0m-1 8h0m-24.5 2.5h0m8.5-0.5h0m2 3h0m3-0.5h0m0.5 1.5h0m6.5-4h0m7 0.5h0m3 2h0m1.5-3h0m-29 8h0m4.5 0.5h0m4 1h0m4.5 1h0m13.5-3.5h0m-54.5 6h0m17 4h0m0.5-3.5h0m2.5 0.5h0m4.5 1h0m3 0h0m7 2.5h0m6-3.5h0m2-1.5h0m6 2h0m2 0.5h0m7-2.5h0m-47 10.5h0m11.5-4.5h0m1.5 1.5h0m21.5 4h0m-49 1.5h0m13.5 2.5h0m9-1h0m14-1.5h0m13.5 0.5h0m11 15h0m-73 52h0m64 8h0m-14 5.5h0m6-1h0m-7 8.5h0m9.5-4h0m3.5 3h0m-7 10.5h0m4.5 43h0m-4 31h0" stroke="#FCA55D" stroke-width="2.7" stroke-linecap="round" fill="none"/>
<path d="M94 505h0m2.5 0h0m1.5 1.5h0m0-2.5h0m9-1.5h0m-31.5 9.5h0m17.5-4h0m-21 9.5h0m7-1.5h0m9.5 2.5h0m1-4.5h0m3.5 4h0m3-1h0m-40.5 5.5h0m3.5 1.5h0m25.5 0.5h0m3.5-3h0m-11.5 5.5h0m1.5 2h0m15.5 85.5h0m-7 16h0" stroke="#F7864E" stroke-width="2.7" stroke-linecap="round" fill="none"/>
<path d="M80.5 510h0m4 1.5h0m7.5-1h0m-6 8h0m12.5-3.5h0m1.5 4h0m-13 3h0m3 1.5h0m1 1h0m-24.5 2h0m19 1.5h0m4.5-1.5h0m-20.5 7.5h0m24.5 74.5h0m-8 2h0" stroke="#F16944" stroke-width="2.7" stroke-linecap="round" fill="none"/>
<path d="M85.5 518h0m9.5-1.5h0m0.5 4h0m-7 7.5h0" stroke="#E2524A" stroke-width="2.7" stroke-linecap="round" fill="none"/>
<path d="M105.5 506.5h0m2.5-5.5h0m2.5 4.5h0m-44.5 5.5h0m14.5-2h0m-21.5 4.5h0m3 2.5h0m19.5-1.5h0m9 0h0m8 1.5h0m7 2.5h0m8-1.5h0m-78.5 4.5h0m4.5-0.5h0m17.5-1.5h0m21 4h0m15-2h0m9 2h0m3.5 0h0m-75 6h0m4-2h0m6-1h0m12-0.5h0m7 1h0m22.5-0.5h0m7.5-1h0m8 1h0m-51 7.5h0m0 1h0m3-0.5h0m11 2h0m1-3.5h0m4.5 0h0m9.5 2h0m1.5-2.5h0m13-1.5h0m3.5 5h0m8-1h0m0.5-3.5h0m-73.5 10h0m6 0.5h0m7.5 0.5h0m7-0.5h0m11 0.5h0m25-1h0m10 0h0m1.5 1h0m13-2h0m-71 6.5h0m10 1h0m24.5-3.5h0m1 3h0m8-2.5h0m1 0.5h0m22-0.5h0m-79 9h0m5.5-3h0m9 2h0m4-2.5h0m24-0.5h0m1 3.5h0m17-3.5h0m6.5 0.5h0m87.5-0.5h0m-135 9h0m4-0.5h0m2-3.5h0m10 5.5h0m9.5-5.5h0m1.5 5h0m6-3h0m6.5-1.5h0m1.5 2.5h0m7 2.5h0m1.5-3h0m10.5-1.5h0m79 3h0m6.5-3.5h0m-132 6.5h0m16 3h0m14-2.5h0m7 1.5h0m104-2.5h0m-179 6.5h0m20.5-1h0m15.5 5.5h0m4-5.5h0m9 1.5h0m22.5 3.5h0m17-2.5h0m6.5-1h0m61.5 2h0m8.5 1.5h0m3.5-0.5h0m-156 2h0m7.5 0.5h0m14.5 2h0m31 0.5h0m9-2.5h0m1 4h0m14.5-0.5h0m22-2h0m56.5 1h0m-173.5 7h0m8-3.5h0m1.5-0.5h0m0.5 2.5h0m16.5-3h0m23 3.5h0m6.5-3h0m4.5 2h0m56.5-1.5h0m17.5 4h0m8.5 0.5h0m35.5-4.5h0m8.5 3.5h0m-122 2h0m11.5 0h0m8 1.5h0m42.5-1h0m17.5 5h0m-143 3.5h0m13-2h0m6 0h0m5.5 4h0m3.5-5.5h0m8.5 4.5h0m14.5-2h0m16 0.5h0m27-0.5h0m3-2.5h0m51.5 5.5h0m30-5h0m8.5 4.5h0m-143 6h0m0-1h0m10.5-3h0m9.5 0.5h0m4 3.5h0m6-5h0m5 3h0m7.5-0.5h0m60-1h0m13 3.5h0m10.5-1.5h0m-154 3.5h0m7.5 0.5h0m8 1.5h0m1 1.5h0m41.5-1h0m2.5 1.5h0m7-0.5h0m-64 2h0m7 2.5h0m10-1h0m16 1h0m7.5-1h0m108.5 1.5h0m10.5 1h0m23-1h0m-201.5 5.5h0m18.5-0.5h0m9 2.5h0m27.5-3.5h0m11 2.5h0m113-1h0m9 1.5h0m-151 5.5h0m19.5-1.5h0m13 1.5h0m2-0.5h0m9 0.5h0m100.5-3.5h0m1.5 5.5h0m13.5-3h0m9-1.5h0m6.5 3.5h0m13.5-5h0m4.5 3.5h0m7.5 2h0m-223 1h0m30 3h0m2 1.5h0m33-1.5h0m95 1h0m4.5-0.5h0m24 1.5h0m4.5-2.5h0m39-1.5h0m-234.5 7h0m9.5-0.5h0m0.5 3.5h0m5.5-2.5h0m8-1h0m14.5 2h0m4.5-2h0m18.5 3h0m2-3h0m4 2.5h0m16-4h0m81 5h0m5.5-2.5h0m4.5 0h0m15 0.5h0m51 0h0m-217.5 5h0m8.5 2.5h0m10 0.5h0m12.5-2.5h0m5.5 0h0m9.5 0.5h0m9.5-1.5h0m5 2h0m53-2h0m12.5 0.5h0m29.5 3h0m12.5 0.5h0m21.5-3.5h0m31 3h0m-238.5 1.5h0m7.5-0.5h0m3 3.5h0m40 0.5h0m30 1h0m6.5-1.5h0m45 0.5h0m15-4h0m14.5 1.5h0m36-0.5h0m1 1.5h0m37 0.5h0m5.5 2h0m-229 2.5h0m12 3h0m6 1h0m16.5-2h0m8.5-2h0m7 1h0m13.5-2.5h0m54.5 1.5h0m4.5 1.5h0m11.5-3h0m18.5 1h0m27-0.5h0m11.5-1h0m2 3.5h0m8-1h0m10 3h0m18.5-2h0m-215.5 7.5h0m2-3.5h0m14.5-0.5h0m21-1h0m7 3.5h0m4-2h0m8 3h0m2.5-1.5h0m5.5-2h0m23 3.5h0m7-1.5h0m5 1.5h0m65.5-4h0m21.5 1h0m27-1h0m-230.5 11h0m4-5h0m5.5 1.5h0m4.5-0.5h0m8 3.5h0m8.5 1h0m6-2.5h0m5.5 2.5h0m13-0.5h0m9-2.5h0m5.5 2h0m5-4h0m11.5 1h0m12 1h0m1-1h0m3-1.5h0m16 1h0m64-0.5h0m14 2.5h0m-199 4.5h0m4.5 0.5h0m3.5-2h0m19.5 5.5h0m9.5-5h0m8.5 4.5h0m1 0.5h0m66-1h0m-113.5 6.5h0m9-1.5h0m5-3h0m5.5 1.5h0m4-2h0m3.5 5h0m22.5 0h0m25.5-3h0m1.5 1h0m155.5-3.5h0m-234.5 7h0m10.5 1.5h0m0.5-0.5h0m11 2.5h0m21 1h0m15.5-2h0m7-3h0m12.5 0.5h0m7.5-1h0m35 1.5h0m78.5 3h0m6.5-0.5h0m-224 4h0m4 3.5h0m9.5-2h0m21 1.5h0m0.5-2h0m5-1h0m9 1h0m13-2h0m8.5 2h0m2 2h0m2-2.5h0m64 0h0m-138.5 5.5h0m43.5 0h0m7-0.5h0m8 4h0m9.5-1h0m78.5 1h0m-129.5 3h0m0 2.5h0m5.5-1.5h0m48.5 1h0m1.5-4.5h0m68 5h0m-129.5 4h0m11 2h0m3.5-4h0m3 3h0m4 0.5h0m2.5-2.5h0m2-0.5h0m6.5 3.5h0m3-2h0m8-2.5h0m5 3.5h0m8.5 0.5h0m7.5-2h0m-67.5 8h0m21 0h0m1-1h0m17 2h0m10-3h0m20.5-1h0m7 3.5h0m-74.5 5h0m1-1h0m18 0.5h0m19.5 0h0m16.5 0h0m-36.5 7.5h0m6-1h0m9 1h0m10-4h0m6 5h0m0.5-3.5h0m22.5-1.5h0m4-0.5h0m-44.5 7h0m9.5 2h0m1.5-3h0m5.5 3h0m18.5-3h0m9 1h0m1.5 2.5h0m-61.5 3h0m6.5 4.5h0m8-1.5h0m5 1h0m8-2h0m13.5-0.5h0m2.5 2.5h0m9.5-2.5h0m0.5 0.5h0m5.5 2.5h0m-29 6.5h0m2-5h0m1 2h0m29 1h0m-37.5 5.5h0m0-2h0m5.5 3h0m30 0.5h0m-21.5 4.5h0m5.5 0h0m8.5 2h0m-25.5 5.5h0m6-2h0m11.5-2h0" stroke="#FFFFFF" stroke-width="1.5" stroke-linecap="round" fill="none"/>
</g>
<text x="455" y="481.1" font-size="30.5" text-anchor="middle" font-style="italic">Il7r</text>
<g transform="translate(314.5 2)">
<path d="M151.5 580C152.2 577.5 158.5 578.8 161.5 578C164.5 577.2 167.5 576.7 169.5 575C171.5 573.3 172.7 570.7 173.5 568C174.3 565.3 173.4 562.2 174.5 559C175.6 555.8 177.6 551.8 179.9 548.9C182.2 546 185.5 542 188.3 541.6C191.1 541.2 194.6 544.5 196.7 546.8C198.8 549.1 200.1 552.3 200.9 555.2C201.7 558.1 200.6 561.2 201.5 564C202.4 566.8 204.8 570 206.5 572C208.2 574 210.5 573.3 211.5 576C212.5 578.7 211.7 584.5 212.5 588C213.3 591.5 214.7 594.7 216.5 597C218.3 599.3 220.7 600.7 223.5 602C226.3 603.3 229.8 603.8 233.5 605C237.2 606.2 240.8 607.5 245.5 609C250.2 610.5 257.2 611.6 261.6 613.8C266 616 269.7 618.2 272.1 622.2C274.5 626.2 275 632.7 276.2 637.9C277.4 643.1 279.4 648.4 279.4 653.6C279.4 658.8 277.8 664.9 276.2 669.3C274.6 673.7 272.4 676.6 270 679.8C267.6 682.9 265.6 686.1 261.6 688.2C257.6 690.3 251.1 692.3 245.9 692.3C240.7 692.3 234.6 689.8 230.2 688.2C225.8 686.6 222.7 685.5 219.7 682.9C216.7 680.3 214.1 676 212.4 672.5C210.6 669 211.5 665.1 209.2 662C206.9 658.9 201.4 656.3 198.8 653.6C196.2 650.9 194.9 649.3 193.5 646C192.1 642.7 191.4 638 190.5 634C189.6 630 189.4 625.6 188.3 622.2C187.2 618.8 186.4 616.2 184.1 613.8C181.8 611.4 177.8 609.7 174.7 607.6C171.6 605.5 168.2 603.7 165.3 601.3C162.4 598.9 159.8 596.5 157.5 593C155.2 589.5 150.8 582.5 151.5 580Z" fill="#DCDCDC"/>
<path d="M143.5 658C145.2 656 149.2 654.5 151.5 653C153.8 651.5 155.2 652 157.5 649C159.8 646 163.3 638 165.5 635C167.7 632 168.7 631.3 170.5 631C172.3 630.7 175.2 631.5 176.5 633C177.8 634.5 177.5 637.7 178.5 640C179.5 642.3 181.5 645 182.5 647C183.5 649 185.7 650.7 184.5 652C183.3 653.3 178.2 654 175.5 655C172.8 656 170.8 656.2 168.5 658C166.2 659.8 163 663.3 161.5 666C160 668.7 159.5 671 159.5 674C159.5 677 160 681.3 161.5 684C163 686.7 165.8 687.9 168.5 690C171.2 692.1 174.5 694.5 177.5 696.5C180.5 698.5 185.8 700.1 186.5 702C187.2 703.9 184.2 706.7 181.5 708C178.8 709.3 173.2 708.3 170.5 710C167.8 711.7 166.3 715.3 165.5 718C164.7 720.7 166 724.3 165.5 726C165 727.7 163.6 729.3 162.5 728C161.4 726.7 160.8 721 159.1 718C157.4 715 153.9 712 152.5 710C151.1 708 150.5 708.7 150.5 706C150.5 703.3 152.4 696.9 152.5 694C152.6 691.1 150.7 690.8 151.1 688.5C151.5 686.2 155.4 682.8 155.1 680.5C154.8 678.2 151.3 676.6 149.5 675C147.7 673.4 145.8 672.7 144.5 671C143.2 669.3 141.7 667.2 141.5 665C141.3 662.8 141.8 660 143.5 658Z" fill="#DCDCDC"/>
<defs><linearGradient id="g_Il7r" gradientUnits="userSpaceOnUse" x1="0" y1="490" x2="0" y2="775"><stop offset="0" stop-color="#5E4FA2"/><stop offset="1" stop-color="#5E4FA2"/></linearGradient></defs>
<path d="M109.9 492.4C112 492.7 113.9 493.3 114.9 495.9C115.9 498.4 115.7 502.4 115.8 507.7C115.9 513 115.5 522.1 115.4 527.4C115.2 532.6 115.8 535.9 114.9 539.2C114 542.5 110.9 544.1 109.9 547.1C108.9 550.1 108.2 554.4 108.9 557C109.6 559.6 111.4 560.9 113.9 562.9C116.4 564.9 120.4 566.8 123.7 568.8C127 570.8 130.3 572.9 133.6 574.7C136.9 576.5 140.1 578.6 143.4 579.6C146.7 580.6 151.2 579.7 153.3 580.6C155.4 581.5 156.3 583.3 156.2 585C156.1 586.7 154.1 590 152.5 590.7C150.9 591.5 149.6 590.2 146.4 589.5C143.2 588.8 137.3 587.3 133.5 586.5C129.7 585.7 127 584.5 123.7 584.5C120.4 584.5 115 584.9 113.9 586.5C112.7 588.1 117.1 591.9 116.8 594.4C116.5 596.9 114 599.6 111.9 601.3C109.8 602.9 106 602.6 104 604.3C102 605.9 100.4 608.8 100.1 611.2C99.8 613.7 100.8 616.5 102.1 619C103.4 621.5 106 623.1 108 625.9C110 628.7 112.3 632.9 113.9 635.8C115.5 638.6 116.5 641 117.8 643C119.1 645 121.2 646 121.8 647.7C122.4 649.4 119.5 651.7 121.5 653C123.5 654.3 129.6 654.9 133.6 655.6C137.6 656.4 142.6 657.4 145.4 657.5C148.2 657.6 149.3 655.8 150.5 656.5C151.7 657.2 152.8 659.6 152.5 662C152.2 664.4 150 667.1 148.5 671C147 674.9 145.9 683.4 143.4 685.1C140.9 686.8 136.9 681.9 133.6 681.2C130.3 680.6 127.3 680.6 123.7 681.2C120.1 681.9 115.2 684.5 111.9 685.1C108.6 685.8 106.6 684.1 104 685.1C101.4 686.1 97.7 688.5 96.1 691.1C94.5 693.7 93.5 698.3 94.2 700.9C94.9 703.5 98.5 704.5 100.1 706.8C101.7 709.1 102.9 711.7 104 714.7C105.1 717.7 106 721.7 107 724.6C108 727.5 109.6 728.8 109.9 732.4C110.2 736 109.9 742.6 108.9 746.2C107.9 749.8 106.5 751.1 104 754.1C101.5 757.1 98.3 761.2 94.2 764C90.1 766.8 83.5 770.2 79.4 770.9C75.3 771.5 72.5 770 69.5 767.9C66.5 765.8 63.8 761.3 61.7 758C59.6 754.7 58.7 751 56.7 748.2C54.7 745.4 52.6 743.4 49.8 741.3C47 739.2 43.3 737.5 40 735.4C36.7 733.3 33.1 731.6 30.1 728.5C27.1 725.4 24.2 720.7 22.2 716.7C20.2 712.8 19.1 709.4 18.3 704.8C17.5 700.2 17.1 692.7 17.3 689.1C17.5 685.5 19.6 684.5 19.3 683.2C19 681.9 15.9 682.5 15.4 681.2C14.9 679.9 14.7 676.5 16.3 675.3C17.9 674.1 22.7 673.8 25.2 673.8C27.7 673.8 29.1 675.9 31.1 675.3C33.1 674.7 36.2 673.3 37 670.4C37.8 667.5 36.8 661.7 36 657.6C35.2 653.5 33.6 649.5 32.1 645.7C30.6 641.9 28.7 637.8 27.2 635C25.7 632.2 24.7 631.6 23.2 628.9C21.7 626.2 19.8 622.8 18.3 619C16.8 615.2 15.5 610.8 14.4 606.2C13.2 601.6 11.4 595.5 11.4 591.4C11.4 587.3 13.1 585.2 14.4 581.6C15.7 578 17.7 573.6 19.3 569.8C20.9 566 22.7 562.7 24.2 558.9C25.7 555.1 28 550.7 28.2 547.1C28.4 543.5 25.9 540.6 25.2 537.3C24.5 534 23.7 530.2 24.2 527.4C24.7 524.6 25.9 522 28.2 520.5C30.5 519 34.9 518.7 38 518.5C41.1 518.3 44.4 520 46.9 519.5C49.4 519 50.5 517.1 52.8 515.6C55.1 514.1 57.9 512.3 60.7 510.7C63.5 509.1 66.2 507.4 69.5 506.2C72.8 505 76.6 505 80.4 503.8C84.2 502.6 88.6 500.5 92.2 498.8C95.8 497.1 99.2 495 102.1 493.9C105.1 492.8 107.8 492.1 109.9 492.4Z" fill="url(#g_Il7r)"/>
<path d="M213.4 561.5C214.1 559.8 217.8 557 219.7 555.2C221.6 553.4 222.4 551.3 224.9 550.5C227.3 549.7 232.1 549 234.4 550.5C236.7 552 238.2 556.5 238.5 559.4C238.8 562.3 237.9 564.8 236.5 567.8C235.1 570.8 231.6 574.4 230.2 577.2C228.8 580 229.5 581.9 228.1 584.5C226.7 587.1 223.9 591 221.8 592.9C219.7 594.8 217.2 596 215.5 596C213.8 596 211.6 594.8 211.3 592.9C210.9 591 212.3 587.1 213.4 584.5C214.4 581.9 216.2 579.6 217.6 577.2C219 574.8 221.4 572.1 221.8 569.9C222.1 567.7 220.8 564.7 219.7 564C218.7 563.3 216.6 566.1 215.5 565.7C214.4 565.3 212.7 563.2 213.4 561.5Z" fill="#5E4FA2"/>
<path d="M91 502.5h0m1.5 3h0m9.5-1h0m5.5 2h0m-38.5 6.5h0m19.5-3h0m17.5 1h0m-30.5 6.5h0m15.5-1h0m5.5 0h0m-68.5 5.5h0m0.5 0.5h0m2.5-0.5h0m16.5 1h0m3-1.5h0m6.5-2.5h0m1.5 4h0m52-0.5h0m-27 6.5h0m6 1.5h0m-54.5 4h0m11 2.5h0m1-4.5h0m43 3.5h0m-57.5 7h0m6-5.5h0m0.5 0h0m2.5 4.5h0m9.5-2h0m8 1h0m5 0.5h0m3.5 0.5h0m38 1.5h0m2 3.5h0m81-1.5h0m-155.5 7.5h0m13.5 0h0m39.5 0.5h0m21.5 0h0m78 0h0m14 1h0m-165 6h0m14.5 0.5h0m3.5-5.5h0m8 5h0m9-0.5h0m9-4h0m1 5h0m14-3h0m3.5-1h0m92-0.5h0m-153.5 6.5h0m11 2h0m13.5 0h0m22.5-0.5h0m98-3h0m-132.5 7h0m45 3.5h0m-63.5 5.5h0m2-2.5h0m24.5-0.5h0m2 3.5h0m39.5-0.5h0m23-1.5h0m14.5 2.5h0m63.5-4h0m-183.5 7.5h0m30.5 2.5h0m1-5h0m1-0.5h0m19.5 5.5h0m4.5-4.5h0m9.5 1.5h0m2.5-1.5h0m39.5 2h0m9-2h0m26 5h0m-144 5.5h0m1.5-3.5h0m10.5 2h0m1-4h0m3 5.5h0m18-5.5h0m15 1.5h0m14.5 3.5h0m1 1h0m2.5-4.5h0m2.5 0.5h0m8.5 3h0m66-2.5h0m14.5-1h0m-138.5 5.5h0m4 3.5h0m12 1h0m21.5-2.5h0m0 1.5h0m24.5-3h0m15 3h0m55-1.5h0m19.5-2.5h0m-168 8h0m18.5 1.5h0m2-1.5h0m9.5-0.5h0m168-2h0m-171.5 11.5h0m3-4.5h0m0.5 2h0m0 3h0m7-5.5h0m13.5 3.5h0m1 1.5h0m18-2h0m14.5 2h0m77.5-2.5h0m52 2.5h0m-202.5 4.5h0m11.5 0.5h0m6.5 0h0m8 0h0m9-2h0m149 1.5h0m8-2.5h0m-188 8h0m165.5 2h0m39.5-2h0m-204 2.5h0m12.5 5.5h0m4.5-2h0m22.5 0h0m8 1h0m13 0.5h0m-65.5 4.5h0m14-1h0m24.5 3h0m128.5-2.5h0m-166.5 6h0m2.5-0.5h0m11.5 0h0m15.5 0h0m4.5 3h0m10-5.5h0m9.5 4h0m82 2h0m4.5-5h0m-123.5 10h0m6-5h0m55 1.5h0m72 3.5h0m56-4.5h0m-196 9.5h0m12 1h0m42.5 0.5h0m76-4.5h0m-132.5 10.5h0m12.5-3.5h0m24-1.5h0m4 2.5h0m2.5 0.5h0m1 1h0m18.5-1h0m10 0h0m10.5 1.5h0m-81.5 6h0m12.5-0.5h0m0-4h0m8 5h0m6-2.5h0m6.5-2.5h0m43.5 5h0m21.5-2h0m4-2.5h0m2.5 4.5h0m1.5-5h0m-96 6h0m15.5 1h0m26 0.5h0m6.5 4h0m18.5-5h0m4.5-0.5h0m3 3h0m1 2h0m10-4h0m-81.5 5.5h0m19-1h0m15.5 0.5h0m25.5 4.5h0m5.5-4h0m5-1h0m10 4h0m82 1.5h0m6-4.5h0m-195 5.5h0m47.5 3h0m10 1h0m0-2.5h0m25-0.5h0m6.5 1.5h0m108.5-0.5h0m-184 4.5h0m1 4h0m37.5-4.5h0m6.5 1h0m31 1.5h0m-86.5 3.5h0m20 4h0m2-1h0m5.5-3h0m12.5 5.5h0m5-1.5h0m-52 3.5h0m22 1.5h0m0 1h0m12.5-0.5h0m12.5-2h0m18 0.5h0m3 1h0m-61.5 7h0m20 0.5h0m18-1h0m5.5 0h0m18.5 0.5h0m1-4h0m-12 7h0m5.5 1.5h0m3 3h0m4.5-4.5h0m1 4h0m-68 0.5h0m12.5 3h0m14.5 0h0m10-2h0m9.5-0.5h0m22.5 3h0m-69.5 3.5h0m23.5 4.5h0m8.5-4h0m7 0h0m10.5-1.5h0m8 1.5h0m-53 5.5h0m26.5 3h0m24 0.5h0m5-1.5h0m7.5-1.5h0m-58.5 5.5h0m1.5-0.5h0m7.5 3.5h0m5-2h0m10 2.5h0m8-3h0m13.5 1.5h0m1-2h0m25-0.5h0m-37.5 7.5h0m7-1h0m28.5 0.5h0m2.5 1h0m0.5 2.5h0m-51 5.5h0m6.5-4h0m6.5 0.5h0m2.5 2h0m24.5-2.5h0m10.5 2.5h0m1.5 3h0m-46.5 5.5h0m6-2.5h0m18.5-1.5h0m14 0h0m0.5 3.5h0m6.5-2.5h0m-39 5.5h0m4 0.5h0m6.5 2.5h0m17 0h0m5-4h0m-6.5 9h0m1 0.5h0m-17.5 4h0m4-1.5h0m9.5 0h0" stroke="#5E4FA2" stroke-width="2.7" stroke-linecap="round" fill="none"/>
<path d="M110 500h0m-44.5 11h0m11 0h0m35.5-2.5h0m-15 5h0m10 7h0m-25 12h0m5 1h0m5 2.5h0m-20.5 11h0m7-3h0m-12.5 5.5h0m10.5 5h0m-9 0.5h0m17 1.5h0m17.5 2.5h0m-38.5 15.5h0m10.5 6.5h0m30 0h0m10 0.5h0m1 15.5h0m-34.5 9.5h0m-27.5 18h0m50.5-2.5h0m-36 16.5h0m-2.5 6.5h0m4 9.5h0m25 5h0m6 7.5h0m12 13h0m3.5-3h0m-42 12.5h0" stroke="#496AAF" stroke-width="2.7" stroke-linecap="round" fill="none"/>
<path d="M102 508.5h0m-36.5 7.5h0m20-1.5h0m17.5-1h0m-39 9.5h0m5-1.5h0m9.5 1.5h0m25.5-3.5h0m11 3h0m-41.5 5.5h0m2-2h0m30 0.5h0m-29 7.5h0m27 2h0m5.5 0.5h0m4-3.5h0m-42.5 9.5h0m22.5-2.5h0m21 0.5h0m-20 7.5h0m2-3h0m8 8.5h0m3.5-3h0m-43 9.5h0m0.5-3h0m34.5 3h0m-9.5 3.5h0m5-2h0m0.5 2h0m15 0.5h0m-24 4.5h0m6 2.5h0m9 13.5h0m9.5 0h0m-58 4h0m16.5 1h0m22.5-2h0m13.5 12h0m6.5 0.5h0m-36 7.5h0m23.5-3.5h0m-26.5 7h0m1.5 5h0m11 7h0m-9 7.5h0m21 1h0m0-3.5h0m2 1.5h0m-32.5 6h0m9 2.5h0m10-2.5h0m22.5-1h0m-56 5.5h0m5 4h0m57-4h0m-45.5 9.5h0m45-3h0m1 3.5h0m-51.5 1.5h0m30.5 7.5h0m22.5 0h0m-7 8.5h0m-48 9h0m55 3h0m-60 5.5h0m4 7h0m2.5 0.5h0m16 4h0m8.5 0h0m-8 3.5h0" stroke="#3485BC" stroke-width="2.7" stroke-linecap="round" fill="none"/>
<path d="M88.5 501h0m7.5 0.5h0m8.5 4.5h0m0-1.5h0m6.5-1h0m-39 4h0m16 0.5h0m4.5-0.5h0m10.5 3h0m3.5 2h0m4.5-3.5h0m-42.5 5h0m6 3.5h0m4-3h0m12.5 0h0m2.5 0h0m3-0.5h0m17.5 4.5h0m-33.5 4.5h0m9 1.5h0m7-3.5h0m2.5 2h0m3.5 1.5h0m-23.5 5h0m5.5-1.5h0m16 2h0m5-0.5h0m1-4h0m-36.5 11h0m18.5-2.5h0m17-1.5h0m-39.5 10h0m2-5h0m3 0h0m17 2h0m19.5 0h0m-30 7h0m26 2.5h0m7-5.5h0m-44.5 10h0m6-4h0m3 4.5h0m9 1h0m2-2h0m20 1.5h0m-35.5 4.5h0m5-0.5h0m9.5 2h0m6.5-0.5h0m6.5-1h0m6 1.5h0m-42 6h0m19-2.5h0m-26 7h0m7-1.5h0m3.5 1h0m10 2h0m2.5-2.5h0m16-2.5h0m0.5 1.5h0m6.5 4h0m8-0.5h0m-51 4h0m8.5 0h0m5.5 1h0m-3 6.5h0m18.5-4h0m1 5h0m26.5-1.5h0m-54 5h0m5.5 1.5h0m9.5-2h0m2-1.5h0m13.5-1.5h0m8 1.5h0m-44.5 6.5h0m47.5 4h0m1.5-4h0m-46.5 6h0m2.5 2h0m5.5-1.5h0m5-0.5h0m8-0.5h0m11 4.5h0m8-0.5h0m15.5-5h0m-57 8.5h0m2 1.5h0m2.5-3.5h0m2.5 4.5h0m13.5-4.5h0m6 3.5h0m24-4.5h0m-20.5 6h0m-28.5 11h0m3.5 0h0m25.5-1.5h0m-30.5 7h0m17.5-3.5h0m27.5-0.5h0m-48 11h0m13-5h0m-3 9h0m6.5 1h0m22 2.5h0m6 1h0m-39.5 6.5h0m23 0.5h0m16.5 1h0m9-2.5h0m-52 6h0m11.5 4h0m-10.5 1h0m26.5 1.5h0m13.5 3.5h0m6.5 4.5h0m2 8h0m-25.5 6h0m21-5h0m-46.5 10.5h0m49.5-2.5h0m1-1.5h0m8.5 2h0m-24.5 2.5h0m-15.5 6.5h0m-2 13.5h0m30 1.5h0m-20 7.5h0" stroke="#48A1B3" stroke-width="2.7" stroke-linecap="round" fill="none"/>
<path d="M109.5 492.5h0m2 2h0m-9.5 5h0m1.5 0.5h0m1-4.5h0m-32 11h0m9.5-0.5h0m5.5 2.5h0m2.5 3.5h0m4.5-5h0m16 1h0m-29 6.5h0m2 4h0m4.5-5h0m10.5 2h0m5 1h0m5 0.5h0m-7 2.5h0m12.5 2.5h0m-46.5 5.5h0m3-1h0m3 2.5h0m14-4h0m13 1.5h0m3.5 0h0m11-0.5h0m-51 7.5h0m3 2h0m2.5-3.5h0m5 1.5h0m11.5 2.5h0m21.5-4.5h0m6 3h0m-46.5 3.5h0m1 5h0m13-4h0m2 2.5h0m12-3h0m11 1.5h0m-16.5 6h0m2-2.5h0m4.5 3h0m2.5 2.5h0m0.5-3h0m-29 5.5h0m18 1h0m6.5-2.5h0m6.5-0.5h0m4.5 1h0m1 0.5h0m-33.5 10h0m4.5-5h0m5 1h0m9-2h0m8 1h0m2 3.5h0m-35.5 6h0m3.5 1.5h0m2-1.5h0m16-3.5h0m2 2.5h0m9.5-2h0m7 2h0m10.5 2h0m-38.5 6h0m9.5-4h0m8.5 4.5h0m17-4h0m-53 8.5h0m3.5-1h0m-8 7.5h0m11.5-1.5h0m1.5-3h0m2 0.5h0m7 4.5h0m18-0.5h0m6.5-5h0m5 3h0m2 0.5h0m-54.5 6h0m1-1h0m4.5-1.5h0m6 0h0m1 1.5h0m16-1.5h0m20.5 0.5h0m7 3h0m2.5 1h0m-57 6.5h0m8-2.5h0m2.5-2.5h0m4.5 0h0m9.5 2.5h0m23.5 2.5h0m1.5-3.5h0m8.5-0.5h0m0 0h0m-58.5 5.5h0m8.5-1.5h0m17.5 3.5h0m13.5-0.5h0m11.5 0h0m3-2.5h0m2.5 0.5h0m-38.5 10h0m17.5-1h0m9-3.5h0m-46.5 7h0m0.5 1.5h0m3-0.5h0m35.5-2.5h0m-32 10h0m4.5 2h0m9.5-3.5h0m15 2h0m-22.5 3.5h0m10-2h0m20 1h0m-40.5 9.5h0m4-3h0m1-0.5h0m2.5 4h0m1-3h0m17-1h0m-22 10h0m10.5-1.5h0m30 1.5h0m4 0.5h0m0.5-3.5h0m-30.5 6h0m11 2.5h0m3.5 1.5h0m9.5-0.5h0m4-3.5h0m9.5 4h0m-56.5 4.5h0m11.5-1.5h0m10-1.5h0m10.5 2.5h0m1-3h0m5.5 2h0m-26 4h0m15 4.5h0m23-3.5h0m8 2.5h0m-61 11.5h0m32 0.5h0m23-3h0m1-1h0m-50.5 9h0m20-1.5h0m-24.5 13.5h0m1-3h0m17.5 0.5h0m0.5 2h0m6 2.5h0m16-4.5h0m-40 7.5h0m10.5 0.5h0m12.5-0.5h0m10.5-1.5h0m-18 11h0m14-1h0m-27 6.5h0m28-2.5h0m-39 12h0m33.5 0h0m17.5-2.5h0m5 8.5h0m-31.5 10.5h0m-26 5h0m40 5.5h0m-19 3h0m7 4h0m2 10.5h0m4 1.5h0" stroke="#61BCA7" stroke-width="2.7" stroke-linecap="round" fill="none"/>
<path d="M99.5 495.5h0m2 1h0m-11.5 4.5h0m10.5 1h0m1 3.5h0m9-0.5h0m-17 6.5h0m-21 3.5h0m2 3.5h0m2.5-0.5h0m3-4.5h0m26.5 1.5h0m-32 6h0m6.5 0.5h0m1.5 3.5h0m6.5-2.5h0m9.5-1h0m3 2.5h0m-21.5 4h0m11-1.5h0m-19.5 8h0m21.5 0h0m3-3h0m2.5 3.5h0m3-3h0m-29 8.5h0m12-1.5h0m2 0h0m4 1h0m18.5-2h0m2.5 0.5h0m-41.5 10.5h0m2.5-3h0m4.5-2.5h0m2 5.5h0m3-3.5h0m0.5-1.5h0m4.5 6h0m13.5 2.5h0m-14 8h0m0.5-2.5h0m4 0h0m-39 8h0m2-2.5h0m1 1.5h0m4-0.5h0m9.5 0h0m13.5-1h0m11.5 2h0m4.5-3.5h0m14 4h0m-60 4h0m4 0.5h0m8.5 0h0m14-3h0m1.5 4h0m1-4h0m6.5 4.5h0m9-4h0m1 0h0m8 0h0m3-1h0m-49.5 8h0m10 0h0m10 2.5h0m0.5-1h0m14.5 2.5h0m0-5h0m3.5 3.5h0m-40.5 2.5h0m17 4.5h0m18.5-4h0m17.5-1h0m7.5 2.5h0m-54.5 8h0m5 1h0m19.5-3.5h0m7.5-0.5h0m-37.5 5h0m10 3h0m14.5-2.5h0m5 2.5h0m6-1.5h0m7.5 2.5h0m0.5-1h0m9.5-3.5h0m-49 6h0m5 1.5h0m2 4h0m4-2.5h0m11-0.5h0m12-1h0m-38.5 10h0m32-4.5h0m-24 4.5h0m3 4h0m9.5-1h0m15.5 0.5h0m-24 6h0m8.5-2.5h0m2.5 4h0m16-0.5h0m2.5-1.5h0m-38 4h0m3 0h0m14.5 5h0m6-4.5h0m6-0.5h0m2 2.5h0m9.5-2h0m0.5 3.5h0m-18.5 2.5h0m2.5 0.5h0m8 3h0m5.5-4h0m-43.5 7.5h0m13 0h0m17-1h0m2.5 3h0m18.5-1.5h0m-34 8.5h0m14.5-2h0m-31 2.5h0m14.5 4h0m3-0.5h0m9-2.5h0m11.5 2h0m20.5 3h0m-40 3h0m16.5 0.5h0m-35.5 5h0m15 3.5h0m11-1h0m2.5-0.5h0m20.5-3h0m11.5 4.5h0m-64.5 10h0m1.5-2.5h0m9 4h0m39.5-5.5h0m-50 11.5h0m26.5-4.5h0m14 2.5h0m15.5 1h0m-51.5 2h0m11 3h0m31.5-2.5h0m0 2.5h0m-40.5 7.5h0m2.5-5h0m6.5 5h0m10-5h0m-12 10.5h0m4 0h0m4 1h0m-12 5.5h0m1.5-4.5h0m10.5 4h0m4.5-2h0m6 6h0m-18.5 11h0m30.5 3h0m-17.5 3.5h0m10 3.5h0m-45.5 2.5h0m54 1h0m-42 7.5h0m8.5-2h0m20-0.5h0m-13 15h0m17.5-1h0m-10.5 5h0m21.5 0h0m-25.5 3.5h0" stroke="#80CCA5" stroke-width="2.7" stroke-linecap="round" fill="none"/>
<path d="M102.5 495h0m-22 10.5h0m6.5 0.5h0m18-0.5h0m-39.5 3.5h0m3.5 0.5h0m7 0h0m2 0h0m9.5 2.5h0m4.5 0h0m-26.5 1h0m44.5 2h0m-42.5 4.5h0m5 3h0m11.5 2.5h0m2.5-4.5h0m22 4.5h0m1.5-3.5h0m3.5 2h0m-43 4h0m5 1.5h0m3-0.5h0m5 0h0m5.5-0.5h0m1 0.5h0m17.5-1.5h0m4.5-1.5h0m-32.5 11.5h0m14-1.5h0m5-2.5h0m10 0.5h0m-38.5 8h0m3.5-3.5h0m14-0.5h0m6 3.5h0m5.5-2h0m13.5-1.5h0m-46.5 9h0m3.5-0.5h0m32-0.5h0m-37 6h0m6 2.5h0m10-1h0m4-1h0m4 1h0m14.5-1.5h0m-24 6.5h0m3 0h0m19-1h0m3.5-1.5h0m4 3h0m-49 3h0m11.5 1.5h0m14 0.5h0m6 2h0m10.5-1.5h0m13 2.5h0m-53.5 6h0m7.5-4h0m19-1h0m-15.5 9h0m20-0.5h0m6.5 2.5h0m10.5-2h0m2-3h0m84.5-0.5h0m5.5 4h0m-149 4h0m19.5 1h0m1 2.5h0m42-5.5h0m3.5 4h0m84.5-3h0m-148.5 6.5h0m4 0.5h0m11.5 0.5h0m3.5 1.5h0m13.5 0.5h0m103.5-2h0m-128.5 9.5h0m14-3.5h0m1.5 3h0m3-1h0m3.5-1.5h0m19-3h0m9 2h0m101.5 1.5h0m-158 6.5h0m12-0.5h0m25.5-2.5h0m10.5 4.5h0m-36 3h0m16.5-2.5h0m10.5 1.5h0m108.5-1h0m33 4h0m2.5 0h0m-185 5h0m7.5-3h0m166 3h0m-168.5 3.5h0m44.5 3.5h0m132-0.5h0m10-3.5h0m-191.5 6h0m6.5 2.5h0m44.5 1h0m97.5-2h0m39.5 3h0m-185 1.5h0m140 4.5h0m23-4.5h0m-155.5 6.5h0m33.5 0.5h0m79 4h0m-103.5 5h0m11.5-4.5h0m17.5 3h0m14 0.5h0m123.5-1h0m-163.5 5h0m15 0h0m4.5-1h0m3.5 4h0m103-2.5h0m24 1h0m-138 7h0m13-3.5h0m2.5 4h0m7.5 1h0m-32.5 5h0m-23 6h0m27.5 0.5h0m-23.5 1.5h0m12.5 9.5h0m2 1h0m21.5-1.5h0m-33 3h0m9 3.5h0m-14.5 7h0m14-4.5h0m4.5 0h0m-17.5 8h0m-9.5 7h0m4.5 3h0m14 13h0m-21.5 15h0m51.5-2.5h0m-23 7h0m14.5-0.5h0m-37 4.5h0m29 6.5h0m13 1.5h0m4.5 1h0m-17 9h0" stroke="#A1D9A4" stroke-width="2.7" stroke-linecap="round" fill="none"/>
<path d="M89 503.5h0m26 0h0m-26 14h0m2.5 0.5h0m17 0.5h0m-33 3h0m-4.5 9h0m35.5-3h0m8 1h0m-45.5 6.5h0m34 5h0m-29.5 8h0m19.5-2h0m-8.5 5h0m-18 9h0m1-4h0m20.5 1.5h0m-13 7.5h0m1 0h0m17-2.5h0m-36 8.5h0m2-0.5h0m17.5-1h0m25-2.5h0m1 2h0m10 2.5h0m-43.5 3.5h0m6.5 0.5h0m6-1h0m2.5 4.5h0m22-2h0m-47 6.5h0m2 0h0m20.5-1h0m7.5 0h0m18.5-1.5h0m-33.5 6h0m20.5-1h0m14.5-0.5h0m1.5 1.5h0m-58.5 6.5h0m34.5 2h0m17-3.5h0m-40.5 9h0m35.5-2h0m-31.5 16h0m4-3h0m4.5-2.5h0m4.5 2h0m4.5 9h0m7-2.5h0m-19.5 3h0m5.5 4h0m7 6h0m-29.5 7.5h0m35.5 4h0m1.5-3.5h0m15.5 5h0m-47 5.5h0m44 0.5h0m-45.5 2.5h0m3.5 8h0m1.5 6.5h0m27 2h0m20.5-0.5h0m-2 7.5h0m-68.5 12h0m34.5 2h0m18.5-0.5h0m-39 4h0m3.5 5h0m7.5-5h0m18.5 6h0m-41.5 12.5h0m32 19.5h0m4.5 22.5h0m12 2.5h0" stroke="#BFE5A0" stroke-width="2.7" stroke-linecap="round" fill="none"/>
<path d="M97.5 496.5h0m-28 10h0m18-3.5h0m-13 11h0m-0.5 8.5h0m9-2.5h0m-8 7.5h0m19 0h0m0 3h0m4-2.5h0m-1 10h0m-24 16h0m37.5 18.5h0m-46.5 4h0m20.5-2.5h0m23.5-0.5h0m-21 6h0m11 2.5h0m-9 7.5h0m-13.5 9.5h0m28.5 0.5h0m-36.5 20h0m4.5-3h0m11 3h0m-21.5 12.5h0m18-1.5h0m14-2h0m7.5 2.5h0m-49 3.5h0m28.5 3.5h0m-10 7.5h0m29 13.5h0m-14.5 25h0m-20 16h0" stroke="#DBF09A" stroke-width="2.7" stroke-linecap="round" fill="none"/>
<path d="M105 497.5h0m-29.5 10h0m-11 5.5h0m119 51.5h0m-5.5 12.5h0m-1.5 4h0m-112 8h0m-4 9h0m1.5 5h0m124.5 0.5h0m2.5 3.5h0m-104 9.5h0m122.5 4.5h0m21.5 3h0m-35 8h0m-95 5h0m149.5-4h0m-73.5 10.5h0m49 0.5h0m-11.5 11.5h0m9.5-3.5h0m-161.5 19h0" stroke="#EDF8A3" stroke-width="2.7" stroke-linecap="round" fill="none"/>
<path d="M104.5 575.5h0m9.5 1.5h0" stroke="#F9FDB6" stroke-width="2.7" stroke-linecap="round" fill="none"/>
<path d="M72 518h0" stroke="#FFF8B3" stroke-width="2.7" stroke-linecap="round" fill="none"/>
<path d="M195.5 586h0m3.5 5h0m-10.5 13h0m27.5-1h0m-17 8h0m-9 6.5h0m8-1h0m11.5 12.5h0m7.5 1h0m21 0.5h0m-25 18h0m2.5-2h0" stroke="#FEE99A" stroke-width="2.7" stroke-linecap="round" fill="none"/>
<path d="M190.5 577h0m5 3.5h0m0 14.5h0m3.5 0h0m16 5.5h0m-32 9.5h0m15.5 16.5h0m36.5 2h0m-10 10h0m13-2.5h0m-19 8.5h0m-11 0.5h0m5 0.5h0" stroke="#FDBF6F" stroke-width="2.7" stroke-linecap="round" fill="none"/>
<path d="M182 564.5h0m12.5-1.5h0m8 12h0m6.5 4.5h0m-25.5 17.5h0m19 2.5h0m3 2.5h0m-17.5 9h0m9 4h0m-4 9.5h0m15.5 5h0m5.5 10h0m-7.5 10h0" stroke="#FCA55D" stroke-width="2.7" stroke-linecap="round" fill="none"/>
<path d="M194.5 566h0m0 3h0m-15.5 11.5h0m20 1h0m11.5 6h0m-20 8.5h0m4-3.5h0m18 7h0m-31 7.5h0m10.5 8h0m34 7h0m-33.5 8h0m7 4.5h0m-21.5 6.5h0m46-0.5h0m13 3h0m12 5h0" stroke="#F7864E" stroke-width="2.7" stroke-linecap="round" fill="none"/>
<path d="M199.5 560h0m-13 5h0m16 5.5h0m6.5 17.5h0m-11 5h0m-4 4.5h0m22.5 10.5h0m4-3.5h0m8.5 1.5h0m-34.5 5.5h0m5.5-2h0m43 2h0m-24.5 8h0m25.5 4.5h0m-26 14h0m14.5-4h0m0 5h0m-57.5 2h0m20 1.5h0" stroke="#F16944" stroke-width="2.7" stroke-linecap="round" fill="none"/>
<path d="M197.5 567h0m10.5 29h0m1 5h0m-33 6h0m31.5-3h0m25 4h0m-40 4h0m10.5 0h0m42 0h0m-20 4.5h0m-48 18.5h0m58.5 1.5h0m13 6.5h0m-38.5 4.5h0m4 7h0" stroke="#E2524A" stroke-width="2.7" stroke-linecap="round" fill="none"/>
<path d="M185.5 575h0m6 6.5h0m-1 23h0m-6.5 7h0m11 6.5h0m9 0h0m31 5.5h0m13 1.5h0m-45 3h0m8.5 17h0m34-0.5h0" stroke="#B81E48" stroke-width="2.7" stroke-linecap="round" fill="none"/>
<path d="M181.5 567.5h0m-4.5 7h0m5.5 1.5h0m1.5 32h0m28.5-4h0m14 0.5h0m-23 5.5h0m-10.5 10.5h0m41.5-5h0m-10.5 13h0m22.5 2.5h0m-39 11h0m33.5 0h0m1 7.5h0m-8 3h0" stroke="#9E0142" stroke-width="2.7" stroke-linecap="round" fill="none"/>
<path d="M99 496h0m7.5 2.5h0m7 1h0m-25 2.5h0m20-0.5h0m-36 6.5h0m24 2h0m3.5 2h0m6.5 1h0m5-3.5h0m1.5 2.5h0m-62.5 5h0m17.5-1h0m11-2.5h0m0 4h0m-45 6.5h0m4 0.5h0m18 0h0m7.5-0.5h0m3.5-0.5h0m17.5 0.5h0m16.5 0.5h0m12-3.5h0m-85 9.5h0m16-4h0m4-0.5h0m10 4.5h0m15-1h0m9 0h0m5-0.5h0m5 1.5h0m21.5-5.5h0m-77 9.5h0m31 0.5h0m18 1.5h0m11.5-1.5h0m2-2.5h0m8 1.5h0m5-1.5h0m-52.5 5.5h0m30 0.5h0m-53 7.5h0m10.5 0.5h0m18 0h0m9 1h0m6.5-4h0m2.5 5.5h0m4.5-4h0m6.5 1.5h0m2.5-3.5h0m10.5 1h0m-76 6.5h0m4.5 3h0m2-2.5h0m10 0.5h0m12-0.5h0m26.5 0h0m13 4h0m1.5-4.5h0m82 1h0m-138.5 4h0m8 3.5h0m5.5-3.5h0m10 0.5h0m6.5 0.5h0m5 1.5h0m1-0.5h0m6 0h0m9 1.5h0m14 1.5h0m85-1h0m-170 6h0m8-4h0m13 1.5h0m16-2h0m116.5 1h0m16.5 4.5h0m-174.5 5h0m13 0h0m1-3h0m3.5 3.5h0m4.5 1h0m6.5-2h0m8-1.5h0m4.5-2h0m5.5 1h0m3.5 2.5h0m3.5 1h0m13-4h0m10.5 0.5h0m23.5 0h0m56 0.5h0m6.5 3h0m-163.5 4h0m11.5-1.5h0m0.5 1h0m9.5 2.5h0m7-2.5h0m16.5 2h0m7.5-0.5h0m17.5 1.5h0m30 0h0m84-2.5h0m-188.5 8.5h0m11-0.5h0m3.5-1.5h0m11-3h0m5.5 2.5h0m1.5 1.5h0m6-4.5h0m36.5 1.5h0m6 4h0m20.5-0.5h0m7-2.5h0m3 1.5h0m8-3.5h0m1 3.5h0m27-1.5h0m-142.5 7h0m9 1.5h0m6.5-1h0m19 1h0m3.5-4.5h0m28 3.5h0m15 1.5h0m6.5-4.5h0m6 4.5h0m41-4h0m6 0.5h0m7.5-1.5h0m5 4h0m10.5-2h0m15.5-1.5h0m0 1.5h0m2.5 0h0m-178.5 7h0m29-3h0m1 5.5h0m1.5-2h0m8-2h0m8.5-1.5h0m24 2.5h0m15.5-2.5h0m52.5 5h0m24.5-5.5h0m18.5 2.5h0m-187.5 6h0m8-2h0m11 3.5h0m27 0.5h0m8-0.5h0m30-2.5h0m4.5-1.5h0m-89.5 8h0m11 3h0m4.5 0h0m3.5 0h0m11-0.5h0m4.5-3.5h0m1.5 3.5h0m1.5-1.5h0m9 1h0m22.5 0h0m9.5-1.5h0m114.5 2.5h0m-187 2h0m15 0h0m6-1h0m19.5 2h0m8.5-1.5h0m2.5 4.5h0m8-4.5h0m6-0.5h0m109 6h0m17-1h0m-196 3h0m3.5 0h0m35.5-1.5h0m10.5 4.5h0m3.5-2h0m19 2h0m5.5-4h0m4 0h0m0.5 2.5h0m104.5-3h0m33.5 4.5h0m22.5 0.5h0m7.5-1h0m-248 3.5h0m7 2h0m0.5-0.5h0m6 2.5h0m9.5-6h0m12.5 5h0m25.5-1.5h0m15 1.5h0m107.5-2h0m11 0.5h0m31.5 2.5h0m-185.5 2h0m13.5 2h0m21.5 1.5h0m1.5-2h0m92.5-1.5h0m7-1h0m2.5 1.5h0m21 3h0m10-2.5h0m10 0h0m8-3h0m3 3h0m7 2h0m13.5-3h0m0 4h0m-241.5 3.5h0m10 2h0m2.5-0.5h0m13-1.5h0m0-1.5h0m26 1h0m4.5-0.5h0m4.5 1h0m122 2h0m21.5-2.5h0m29.5-0.5h0m-205 6.5h0m1.5-1.5h0m7-1h0m37.5 1h0m3.5 1h0m5.5-0.5h0m49 3h0m64.5-5h0m26 4.5h0m1-3h0m-218.5 8h0m4.5-1.5h0m5 2.5h0m3-3.5h0m11.5 4.5h0m6-3h0m0.5 0h0m14-2h0m2.5 4h0m75-0.5h0m5.5-2.5h0m33.5-1.5h0m6 5h0m23.5-0.5h0m7.5-3.5h0m8.5 1.5h0m9-1h0m-210.5 7.5h0m8 0.5h0m13 0h0m26.5 2h0m14-3h0m0.5 1.5h0m8 1h0m99 0h0m41-4.5h0m12.5 2.5h0m-208 7h0m7.5-2h0m5.5-1.5h0m9.5 0.5h0m9 4h0m8-4h0m16.5 3h0m1 0.5h0m13-1h0m12-2h0m2.5 4h0m87-3h0m5-0.5h0m20-1h0m-210 10h0m21.5 1h0m9-5.5h0m3 2h0m2.5-1.5h0m24 4h0m15-1.5h0m7-3.5h0m9 2.5h0m27-0.5h0m66.5 2h0m19.5-3.5h0m4 3h0m1.5-2h0m-228.5 10.5h0m14-5h0m16 2.5h0m11 1.5h0m12.5-2h0m23.5-2h0m53 4.5h0m0-3h0m81.5 1.5h0m-197.5 6h0m6.5-2.5h0m5.5-0.5h0m26.5-1h0m4 1.5h0m42 1.5h0m2.5 2h0m7.5-5h0m6 0.5h0m4.5 4.5h0m1-5h0m-116.5 7.5h0m14.5 0h0m26 0h0m9 1h0m6.5 0h0m13 3.5h0m2.5-5.5h0m1 5h0m59-2h0m80-1h0m17 1h0m-234 7.5h0m8.5-1.5h0m6-0.5h0m3 1h0m7.5 1.5h0m14-1h0m11.5-1h0m82-0.5h0m92-1.5h0m-227 9h0m11.5 1.5h0m1-5.5h0m17 5h0m5.5-2.5h0m1.5 1.5h0m1.5-2h0m13-1.5h0m7 2h0m5-1.5h0m7.5 3.5h0m1.5-3.5h0m3.5 0.5h0m60.5 2.5h0m9.5-3h0m-130 9h0m39.5 1.5h0m21.5-2h0m71.5-2h0m3-2h0m0.5 3.5h0m-142.5 8h0m9-2.5h0m2 2.5h0m5.5-4.5h0m6 3.5h0m8-2.5h0m26 3h0m8.5-4h0m4 3h0m-73.5 4h0m12.5 1.5h0m33.5 2h0m5.5-1.5h0m16 0h0m67.5 2h0m-132 2.5h0m4 1h0m22.5-2h0m5 2h0m16.5-1h0m9.5 2.5h0m8-1h0m74 1h0m-138.5 1.5h0m7 3h0m33.5-2.5h0m10.5 1.5h0m4.5 0.5h0m18.5 1.5h0m-62.5 5h0m11.5-3.5h0m6.5 1.5h0m12.5-1h0m19 4.5h0m8-5h0m2 2.5h0m10.5 0h0m-47.5 5h0m7.5 0.5h0m2.5 1.5h0m3-1.5h0m4.5 2.5h0m17.5-0.5h0m8-2.5h0m-44.5 9.5h0m27-1h0m13.5-2.5h0m-33 4.5h0m23 4h0m15.5-2.5h0m-41.5 9h0m6.5 1.5h0m1.5-5h0m0 9h0m3-1.5h0m9 2h0m6-4h0m2.5 0h0m2.5 2.5h0m-15.5 3h0" stroke="#FFFFFF" stroke-width="1.5" stroke-linecap="round" fill="none"/>
</g>
<text x="792.5" y="484.1" font-size="30.5" text-anchor="middle" font-style="italic">Csf1r</text>
<g transform="translate(625.2 5.7)">
<path d="M151.5 580C152.2 577.5 158.5 578.8 161.5 578C164.5 577.2 167.5 576.7 169.5 575C171.5 573.3 172.7 570.7 173.5 568C174.3 565.3 173.4 562.2 174.5 559C175.6 555.8 177.6 551.8 179.9 548.9C182.2 546 185.5 542 188.3 541.6C191.1 541.2 194.6 544.5 196.7 546.8C198.8 549.1 200.1 552.3 200.9 555.2C201.7 558.1 200.6 561.2 201.5 564C202.4 566.8 204.8 570 206.5 572C208.2 574 210.5 573.3 211.5 576C212.5 578.7 211.7 584.5 212.5 588C213.3 591.5 214.7 594.7 216.5 597C218.3 599.3 220.7 600.7 223.5 602C226.3 603.3 229.8 603.8 233.5 605C237.2 606.2 240.8 607.5 245.5 609C250.2 610.5 257.2 611.6 261.6 613.8C266 616 269.7 618.2 272.1 622.2C274.5 626.2 275 632.7 276.2 637.9C277.4 643.1 279.4 648.4 279.4 653.6C279.4 658.8 277.8 664.9 276.2 669.3C274.6 673.7 272.4 676.6 270 679.8C267.6 682.9 265.6 686.1 261.6 688.2C257.6 690.3 251.1 692.3 245.9 692.3C240.7 692.3 234.6 689.8 230.2 688.2C225.8 686.6 222.7 685.5 219.7 682.9C216.7 680.3 214.1 676 212.4 672.5C210.6 669 211.5 665.1 209.2 662C206.9 658.9 201.4 656.3 198.8 653.6C196.2 650.9 194.9 649.3 193.5 646C192.1 642.7 191.4 638 190.5 634C189.6 630 189.4 625.6 188.3 622.2C187.2 618.8 186.4 616.2 184.1 613.8C181.8 611.4 177.8 609.7 174.7 607.6C171.6 605.5 168.2 603.7 165.3 601.3C162.4 598.9 159.8 596.5 157.5 593C155.2 589.5 150.8 582.5 151.5 580Z" fill="#DCDCDC"/>
<path d="M143.5 658C145.2 656 149.2 654.5 151.5 653C153.8 651.5 155.2 652 157.5 649C159.8 646 163.3 638 165.5 635C167.7 632 168.7 631.3 170.5 631C172.3 630.7 175.2 631.5 176.5 633C177.8 634.5 177.5 637.7 178.5 640C179.5 642.3 181.5 645 182.5 647C183.5 649 185.7 650.7 184.5 652C183.3 653.3 178.2 654 175.5 655C172.8 656 170.8 656.2 168.5 658C166.2 659.8 163 663.3 161.5 666C160 668.7 159.5 671 159.5 674C159.5 677 160 681.3 161.5 684C163 686.7 165.8 687.9 168.5 690C171.2 692.1 174.5 694.5 177.5 696.5C180.5 698.5 185.8 700.1 186.5 702C187.2 703.9 184.2 706.7 181.5 708C178.8 709.3 173.2 708.3 170.5 710C167.8 711.7 166.3 715.3 165.5 718C164.7 720.7 166 724.3 165.5 726C165 727.7 163.6 729.3 162.5 728C161.4 726.7 160.8 721 159.1 718C157.4 715 153.9 712 152.5 710C151.1 708 150.5 708.7 150.5 706C150.5 703.3 152.4 696.9 152.5 694C152.6 691.1 150.7 690.8 151.1 688.5C151.5 686.2 155.4 682.8 155.1 680.5C154.8 678.2 151.3 676.6 149.5 675C147.7 673.4 145.8 672.7 144.5 671C143.2 669.3 141.7 667.2 141.5 665C141.3 662.8 141.8 660 143.5 658Z" fill="#DCDCDC"/>
<defs><linearGradient id="g_Csf1r" gradientUnits="userSpaceOnUse" x1="0" y1="490" x2="0" y2="775"><stop offset="0.018" stop-color="#5A5AA5"/><stop offset="0.386" stop-color="#6474AC"/><stop offset="0.526" stop-color="#A9D6A4"/><stop offset="0.737" stop-color="#F4C27A"/><stop offset="0.877" stop-color="#D9DFA0"/><stop offset="1" stop-color="#7C8BB0"/></linearGradient></defs>
<path d="M109.9 492.4C112 492.7 113.9 493.3 114.9 495.9C115.9 498.4 115.7 502.4 115.8 507.7C115.9 513 115.5 522.1 115.4 527.4C115.2 532.6 115.8 535.9 114.9 539.2C114 542.5 110.9 544.1 109.9 547.1C108.9 550.1 108.2 554.4 108.9 557C109.6 559.6 111.4 560.9 113.9 562.9C116.4 564.9 120.4 566.8 123.7 568.8C127 570.8 130.3 572.9 133.6 574.7C136.9 576.5 140.1 578.6 143.4 579.6C146.7 580.6 151.2 579.7 153.3 580.6C155.4 581.5 156.3 583.3 156.2 585C156.1 586.7 154.1 590 152.5 590.7C150.9 591.5 149.6 590.2 146.4 589.5C143.2 588.8 137.3 587.3 133.5 586.5C129.7 585.7 127 584.5 123.7 584.5C120.4 584.5 115 584.9 113.9 586.5C112.7 588.1 117.1 591.9 116.8 594.4C116.5 596.9 114 599.6 111.9 601.3C109.8 602.9 106 602.6 104 604.3C102 605.9 100.4 608.8 100.1 611.2C99.8 613.7 100.8 616.5 102.1 619C103.4 621.5 106 623.1 108 625.9C110 628.7 112.3 632.9 113.9 635.8C115.5 638.6 116.5 641 117.8 643C119.1 645 121.2 646 121.8 647.7C122.4 649.4 119.5 651.7 121.5 653C123.5 654.3 129.6 654.9 133.6 655.6C137.6 656.4 142.6 657.4 145.4 657.5C148.2 657.6 149.3 655.8 150.5 656.5C151.7 657.2 152.8 659.6 152.5 662C152.2 664.4 150 667.1 148.5 671C147 674.9 145.9 683.4 143.4 685.1C140.9 686.8 136.9 681.9 133.6 681.2C130.3 680.6 127.3 680.6 123.7 681.2C120.1 681.9 115.2 684.5 111.9 685.1C108.6 685.8 106.6 684.1 104 685.1C101.4 686.1 97.7 688.5 96.1 691.1C94.5 693.7 93.5 698.3 94.2 700.9C94.9 703.5 98.5 704.5 100.1 706.8C101.7 709.1 102.9 711.7 104 714.7C105.1 717.7 106 721.7 107 724.6C108 727.5 109.6 728.8 109.9 732.4C110.2 736 109.9 742.6 108.9 746.2C107.9 749.8 106.5 751.1 104 754.1C101.5 757.1 98.3 761.2 94.2 764C90.1 766.8 83.5 770.2 79.4 770.9C75.3 771.5 72.5 770 69.5 767.9C66.5 765.8 63.8 761.3 61.7 758C59.6 754.7 58.7 751 56.7 748.2C54.7 745.4 52.6 743.4 49.8 741.3C47 739.2 43.3 737.5 40 735.4C36.7 733.3 33.1 731.6 30.1 728.5C27.1 725.4 24.2 720.7 22.2 716.7C20.2 712.8 19.1 709.4 18.3 704.8C17.5 700.2 17.1 692.7 17.3 689.1C17.5 685.5 19.6 684.5 19.3 683.2C19 681.9 15.9 682.5 15.4 681.2C14.9 679.9 14.7 676.5 16.3 675.3C17.9 674.1 22.7 673.8 25.2 673.8C27.7 673.8 29.1 675.9 31.1 675.3C33.1 674.7 36.2 673.3 37 670.4C37.8 667.5 36.8 661.7 36 657.6C35.2 653.5 33.6 649.5 32.1 645.7C30.6 641.9 28.7 637.8 27.2 635C25.7 632.2 24.7 631.6 23.2 628.9C21.7 626.2 19.8 622.8 18.3 619C16.8 615.2 15.5 610.8 14.4 606.2C13.2 601.6 11.4 595.5 11.4 591.4C11.4 587.3 13.1 585.2 14.4 581.6C15.7 578 17.7 573.6 19.3 569.8C20.9 566 22.7 562.7 24.2 558.9C25.7 555.1 28 550.7 28.2 547.1C28.4 543.5 25.9 540.6 25.2 537.3C24.5 534 23.7 530.2 24.2 527.4C24.7 524.6 25.9 522 28.2 520.5C30.5 519 34.9 518.7 38 518.5C41.1 518.3 44.4 520 46.9 519.5C49.4 519 50.5 517.1 52.8 515.6C55.1 514.1 57.9 512.3 60.7 510.7C63.5 509.1 66.2 507.4 69.5 506.2C72.8 505 76.6 505 80.4 503.8C84.2 502.6 88.6 500.5 92.2 498.8C95.8 497.1 99.2 495 102.1 493.9C105.1 492.8 107.8 492.1 109.9 492.4Z" fill="url(#g_Csf1r)"/>
<path d="M213.4 561.5C214.1 559.8 217.8 557 219.7 555.2C221.6 553.4 222.4 551.3 224.9 550.5C227.3 549.7 232.1 549 234.4 550.5C236.7 552 238.2 556.5 238.5 559.4C238.8 562.3 237.9 564.8 236.5 567.8C235.1 570.8 231.6 574.4 230.2 577.2C228.8 580 229.5 581.9 228.1 584.5C226.7 587.1 223.9 591 221.8 592.9C219.7 594.8 217.2 596 215.5 596C213.8 596 211.6 594.8 211.3 592.9C210.9 591 212.3 587.1 213.4 584.5C214.4 581.9 216.2 579.6 217.6 577.2C219 574.8 221.4 572.1 221.8 569.9C222.1 567.7 220.8 564.7 219.7 564C218.7 563.3 216.6 566.1 215.5 565.7C214.4 565.3 212.7 563.2 213.4 561.5Z" fill="#5E4FA2"/>
<path d="M101.5 494.5h0m6.5 0.5h0m-18 5h0m0.5 1h0m4-1.5h0m1.5 1h0m1-1.5h0m2-2.5h0m1 3h0m0 1h0m1-0.5h0m0.5-4h0m1 1.5h0m2.5 2.5h0m0-4.5h0m0 0.5h0m2.5 4h0m2.5-2h0m1.5-2.5h0m0.5 3.5h0m0.5-3h0m-36.5 9h0m2.5 0h0m1-0.5h0m2.5 0h0m2-0.5h0m1.5 2.5h0m0.5-3.5h0m2.5 0h0m0 3.5h0m2.5-0.5h0m3-4.5h0m2.5 3.5h0m0.5-1h0m0 3h0m0.5-1h0m0-4h0m2.5 1h0m1 3.5h0m0-3h0m1.5-2h0m2.5 1h0m1.5-1.5h0m0.5 3.5h0m0 0.5h0m3-4h0m0 4.5h0m2-1.5h0m0.5 1h0m0-3.5h0m1 5.5h0m-55 6h0m6-1h0m1.5-1h0m1.5-2h0m4.5-1.5h0m1 2h0m1 2.5h0m0.5-4.5h0m1 4.5h0m1-3.5h0m0.5 2h0m2.5-3h0m0.5 3h0m2 1.5h0m1.5-2h0m1-1.5h0m1.5 2h0m0.5-2.5h0m0 3.5h0m2-2.5h0m3.5 2.5h0m0-4.5h0m1.5 3h0m0.5-3h0m1.5 5.5h0m0.5 0h0m0.5-1.5h0m2-2h0m2 0.5h0m1.5 0.5h0m3.5-2.5h0m0 3h0m0.5 2.5h0m1.5-5h0m1-1h0m1.5 4h0m1-4h0m2 3h0m2 2h0m-65.5 6.5h0m3-0.5h0m2.5-1h0m2-1.5h0m1 1h0m1-1h0m1 3h0m1-2.5h0m2 2.5h0m0-4h0m1 2h0m1.5-0.5h0m2.5 0.5h0m0.5-3.5h0m0 5.5h0m0.5 0.5h0m0.5-5.5h0m2 4h0m0.5-2.5h0m4-1h0m1.5 0h0m2 5h0m1.5-2.5h0m0.5-1.5h0m1.5 1h0m0.5-1.5h0m0.5-1.5h0m1 5.5h0m2-1h0m0-3h0m1.5 4.5h0m0.5-1.5h0m1-3.5h0m0.5 4h0m1-2h0m1-1h0m2-1.5h0m0 2.5h0m3 1.5h0m1-2.5h0m0 2h0m2 1.5h0m0.5-4h0m4 2h0m1.5 1.5h0m0-4h0m0.5 3.5h0m1.5-2h0m1-2h0m0.5 2.5h0m0 2h0m2.5-1h0m1.5-2h0m-86.5 7.5h0m0.5 1.5h0m3-2.5h0m1.5-1h0m2-0.5h0m0 3h0m1.5 1h0m0-2.5h0m2.5-1h0m0 3h0m0.5 1.5h0m3-3h0m1 2h0m0.5-3h0m1 2h0m1.5 1.5h0m0-2.5h0m0.5 1h0m1-1.5h0m3 1.5h0m5.5-3h0m1.5 2.5h0m2.5-0.5h0m4 1.5h0m2.5-2h0m1.5 3h0m1-3.5h0m0 3h0m4.5-1h0m0-3.5h0m1 0h0m0.5 1h0m0.5 0.5h0m2.5 0h0m0.5-2h0m2 1.5h0m0 2.5h0m4.5-2h0m2.5-1h0m1 2.5h0m3 1.5h0m1-1.5h0m0-2h0m0 4.5h0m1-3.5h0m1.5 2.5h0m1-4h0m0.5-0.5h0m3 2.5h0m0-1.5h0m3 3.5h0m0 0.5h0m0-3.5h0m1.5-1h0m0 1.5h0m2.5 1h0m0.5-1.5h0m0.5-2h0m1.5 3.5h0m0.5-0.5h0m1 0.5h0m1-1h0m2 1.5h0m1-3h0m0.5 0.5h0m0 2.5h0m-86.5 3h0m0.5 2h0m3.5-0.5h0m1 1.5h0m0.5-3h0m0 5h0m4-1.5h0m2-2h0m1.5-1h0m0 2.5h0m2.5-2h0m2.5 3.5h0m3-3h0m0.5-2.5h0m0 6h0m2-3h0m2 2h0m1.5-5h0m1 4.5h0m1-1.5h0m1.5-2h0m1.5 1.5h0m0-1h0m1 3h0m2-3h0m2.5 1h0m0 1.5h0m0.5-2.5h0m1.5 1h0m2 2.5h0m2 1h0m1-2h0m0-3h0m2.5 1.5h0m0.5-1.5h0m2 1.5h0m2-1.5h0m4 1h0m0-2h0m0.5 4.5h0m2 1h0m0.5-4.5h0m0.5 2.5h0m1 2.5h0m1-5.5h0m1.5 3.5h0m1-1h0m2 1h0m2-1.5h0m0 1.5h0m1.5-1h0m0-3h0m1 5h0m1-4h0m1.5 2.5h0m2.5 0h0m0-2h0m2.5 0.5h0m0 3.5h0m4.5 0.5h0m0-3h0m2-1.5h0m0.5 1.5h0m0.5 1h0m1.5-3.5h0m-88.5 9h0m0.5-2h0m2 3h0m1.5-0.5h0m0.5 1.5h0m2.5-1h0m1-3.5h0m0.5 1.5h0m2.5-1h0m1 1h0m3-1.5h0m1 3.5h0m3-1h0m2 1.5h0m0-3.5h0m1.5-1.5h0m0 2h0m0.5 0h0m3-1.5h0m6.5 2.5h0m5-3h0m4 5h0m1-1h0m5.5-1h0m0.5-2.5h0m2 3h0m2 0h0m0.5-3.5h0m1.5 1h0m0.5 2h0m2-0.5h0m3 0h0m0.5 2h0m2-1h0m0.5-1.5h0m2 1.5h0m3 0h0m1.5 0h0m0.5-2h0m2-1h0m0 3h0m2.5-0.5h0m0-1h0m3 1h0m0-1h0m1-2h0m1 3.5h0m2 1h0m1 0h0m1-2.5h0m1.5 1h0m0.5 2.5h0m1-1h0m0-3h0m2 1.5h0m-89.5 4h0m1.5 1h0m5.5 2h0m2-3.5h0m2 0h0m0.5 3h0m0.5-1h0m4-1.5h0m0.5 2.5h0m0.5-0.5h0m5.5 1.5h0m0.5-0.5h0m2.5 0.5h0m1.5-4h0m0.5 0h0m4 3.5h0m3 1.5h0m2-1h0m0.5-2.5h0m1.5 3h0m1.5-4h0m2.5 3h0m1.5 1h0m3.5 1h0m0.5-5.5h0m2 0h0m0.5 2.5h0m0-1h0m2 1.5h0m1.5-3h0m1.5-0.5h0m0 4.5h0m1 0.5h0m0.5-2h0m3 2h0m0-4.5h0m0.5 1.5h0m2.5 0.5h0m4 0h0m0-2h0m1 3.5h0m0.5-1h0m2.5 1.5h0m0-3h0m1.5 3h0m0 0.5h0m2-4h0m1.5-0.5h0m0 2.5h0m4-0.5h0m0.5 2.5h0m0-3h0m0.5-1.5h0m0.5 5h0m0.5-0.5h0m2.5-2h0m1.5-0.5h0m-82.5 7.5h0m1-0.5h0m1 2h0m0.5-5.5h0m0.5 2h0m2-0.5h0m1.5 4h0m2.5-0.5h0m1-4h0m0.5 2.5h0m2 1h0m1.5 0h0m1-4.5h0m0.5 3.5h0m1.5 0h0m0-1h0m4.5-0.5h0m10 4h0m3-2.5h0m0.5 1h0m0.5 1.5h0m2-4h0m0.5-1.5h0m5 3h0m3.5-0.5h0m3 0.5h0m2 1.5h0m1.5-3.5h0m4 4h0m1-4.5h0m3.5 2.5h0m3-2.5h0m1.5 2h0m0.5 1.5h0m2.5-3h0m0.5-0.5h0m1.5 3h0m1.5 0h0m0-3.5h0m0.5 3h0m3 2h0m1-4h0m1 2.5h0m3-2.5h0m73.5 3h0m5.5 0h0m-162.5 5.5h0m1-2h0m1.5-1h0m5 4.5h0m0.5-5.5h0m2.5 0.5h0m0.5 2.5h0m3-2h0m0 2.5h0m2-2.5h0m1-1h0m1 2.5h0m6 2h0m0.5-1h0m5.5-3h0m6 2.5h0m1 0.5h0m1.5 1.5h0m1.5-5h0m0.5 2h0m3 0h0m1 1.5h0m0 2h0m1-0.5h0m3-1h0m0.5 0h0m0.5-3h0m1 0h0m0.5 5h0m2-4.5h0m1.5 2.5h0m1.5 1.5h0m2-5.5h0m0.5 4.5h0m0-2h0m3.5-2h0m0.5 5h0m0.5-4h0m0.5 4.5h0m3-5h0m1 1h0m2.5-0.5h0m1 3.5h0m1-4h0m1.5 1h0m2 3.5h0m2-2h0m2.5-1h0m1 3h0m0-5h0m70 4.5h0m7-0.5h0m8 1.5h0m0-3h0m1.5 2h0m2.5 0.5h0m-172.5 4.5h0m2-3h0m1 4.5h0m0.5-4.5h0m0 3h0m3 1h0m0.5-3.5h0m0 1h0m1.5 3h0m0-4.5h0m3 1.5h0m2.5-2h0m6 0h0m3 3.5h0m1.5-0.5h0m0.5 2h0m2.5-5h0m4 2.5h0m1 1h0m4-1h0m3.5 2h0m0.5-1h0m8.5 1h0m0-4h0m0 2h0m5 2.5h0m1-2h0m3-0.5h0m0-0.5h0m2.5 3.5h0m1-1h0m1-1h0m1-1.5h0m1-0.5h0m1 1.5h0m1.5 2h0m1.5-5h0m1 0h0m0.5 2h0m0 2.5h0m2-4.5h0m0 2.5h0m2 1h0m1.5-3.5h0m2 2h0m1 1h0m1.5 1.5h0m2-4.5h0m0 0.5h0m0.5 1.5h0m1 3h0m0.5-2h0m2 2.5h0m72.5-3.5h0m6 2.5h0m0.5-1.5h0m2 1.5h0m4.5 1h0m3.5-3.5h0m-175.5 3.5h0m1 5.5h0m3-3.5h0m1 1.5h0m2.5 0h0m0.5 2h0m8.5 0.5h0m0.5-4.5h0m1 2h0m1.5-1h0m5-1h0m0 4h0m2.5-1.5h0m2-2h0m3.5 3.5h0m0.5-2.5h0m3.5 2.5h0m4.5-1h0m2.5-0.5h0m1 0h0m1.5-2.5h0m2.5 3.5h0m1 0h0m0.5 0.5h0m0-4h0m3.5 3h0m1.5-2h0m1.5 0.5h0m1-2.5h0m2 4.5h0m0.5-3h0m2-0.5h0m1 2.5h0m2.5-3h0m1 1h0m0.5 2h0m3.5-1.5h0m2.5-1.5h0m1.5 0.5h0m1.5-1.5h0m0 5h0m1.5-3.5h0m0.5 2.5h0m2-1h0m0 2.5h0m1.5-2h0m0.5 2h0m2-3.5h0m1 3.5h0m0-1h0m2.5-2.5h0m3.5 1.5h0m0-1h0m3.5 3h0m60.5-0.5h0m4.5-3h0m1.5 4h0m0.5-5h0m6.5 5h0m0.5-2.5h0m2-2h0m6.5 2h0m-181 5.5h0m1-1.5h0m0.5 4.5h0m1.5-4h0m2 2h0m1.5-2.5h0m1-1.5h0m0.5 5h0m1.5-4.5h0m2 3h0m3-0.5h0m2-2.5h0m0.5 5h0m1-3h0m7 2h0m2 0h0m6.5 0h0m1-2h0m1-1.5h0m6 3h0m0.5 1h0m2.5-0.5h0m1.5-1.5h0m3-0.5h0m4 0.5h0m1 2h0m1-4.5h0m2.5 1.5h0m1.5 2.5h0m0.5-3h0m1 3h0m2.5 0h0m1-4h0m1.5 1.5h0m1-2h0m1.5 4h0m0.5-2.5h0m2 2h0m0 0.5h0m0.5-2.5h0m2.5 4.5h0m0.5-6h0m1 2h0m2 3h0m0.5 0.5h0m0.5-4h0m2.5 1h0m1-2h0m3 4h0m0.5-3h0m4.5 4h0m1-1h0m0.5-2.5h0m1.5-0.5h0m1.5-1h0m0.5 2h0m2-1h0m0 4h0m1.5-4.5h0m0.5 2.5h0m0.5 2.5h0m0.5-4h0m1-1h0m1.5 2h0m0.5 2h0m2 0.5h0m2 0h0m58.5-2h0m3-3h0m3.5 2h0m6-2.5h0m2 4h0m0.5-0.5h0m-182.5 8.5h0m2.5-3.5h0m2.5 0.5h0m1 2.5h0m3-3.5h0m1.5-0.5h0m1.5 2.5h0m1-2h0m1.5 4h0m1-2.5h0m1.5-3h0m0 2h0m1 2h0m1.5-2.5h0m1.5-1h0m2 0.5h0m3 1.5h0m0.5-3h0m0.5 5h0m0.5-1h0m1 1h0m1-3.5h0m1 1.5h0m1-1.5h0m0.5 1.5h0m3.5 2.5h0m2.5-1h0m3.5 0.5h0m2-2h0m1-3h0m2.5 5h0m2 0.5h0m2-3.5h0m1.5 0.5h0m1.5-2h0m1 3.5h0m3-0.5h0m2-2.5h0m0 4h0m1.5-2h0m1.5 0h0m2-2.5h0m2.5 1.5h0m2.5 0h0m1.5-1.5h0m1 5.5h0m2-5.5h0m0 2h0m1.5 0.5h0m0.5 2.5h0m1-5h0m1.5 1h0m1.5 1.5h0m1-1h0m2.5-1.5h0m0 3.5h0m3.5 1.5h0m2-1.5h0m0.5 1h0m1.5-1h0m3-0.5h0m1.5-3.5h0m0 1.5h0m1 0.5h0m3 1h0m0.5 2.5h0m0.5-5h0m1 2h0m1.5-1.5h0m0.5 1.5h0m1-0.5h0m1 2.5h0m1.5-1h0m1-3.5h0m0.5 3h0m0.5-1h0m1.5 4h0m2-1.5h0m0.5-3h0m0.5 1.5h0m1.5-1.5h0m0.5 4h0m1-1h0m1.5 0h0m1.5 0.5h0m2 0.5h0m32.5-2h0m7.5 1.5h0m11-2.5h0m10 1.5h0m1-2h0m2 0h0m4.5 0.5h0m-192.5 8.5h0m1.5-3.5h0m0 4.5h0m3-4h0m0.5 1.5h0m1.5 2h0m2-0.5h0m2 0h0m1-3h0m0.5-1.5h0m1.5 4.5h0m1-4h0m2 1.5h0m0 3h0m2-0.5h0m0-4.5h0m3.5 0h0m0.5 2.5h0m2.5-1.5h0m1 2.5h0m1.5-1.5h0m6 1.5h0m1-3.5h0m0 5h0m2-2h0m2 0h0m2.5-3h0m0.5 4.5h0m3-4h0m4 3.5h0m2-2.5h0m4 3h0m2-0.5h0m4-2.5h0m0.5 3.5h0m1-3h0m3 0.5h0m7.5 1.5h0m0-3.5h0m2.5 0h0m1-0.5h0m0.5 5h0m0.5-1.5h0m1.5-1.5h0m2-1.5h0m2 1.5h0m0-2h0m1.5 3h0m0.5-1.5h0m1 3h0m4 0.5h0m0-0.5h0m1-4h0m1.5 3h0m2-2.5h0m0.5-1h0m1 2.5h0m0.5-1.5h0m1.5 1.5h0m0 2.5h0m0-3h0m0.5-2h0m1 2.5h0m1-3h0m0 0.5h0m2 4.5h0m1.5-4h0m0.5-0.5h0m1 4.5h0m0.5-3.5h0m0 4.5h0m1.5-2h0m2-0.5h0m0.5 2h0m0.5-3.5h0m3-1h0m0 3.5h0m2.5 1h0m0.5-2.5h0m0.5-2h0m1 0h0m1 2h0m0.5 0h0m1.5-2.5h0m1 5h0m0-5h0m0.5 3h0m3 0.5h0m1.5-2h0m0-2h0m1 3.5h0m1-2.5h0m2.5 3.5h0m1.5-3h0m1.5 3h0m0.5 0h0m2-2h0m0.5 2h0m0.5 1h0m1 0h0m6.5-1h0m2.5-4h0m4 3.5h0m6.5 1.5h0m1.5-2h0m3.5-2h0m21.5-1h0m2.5 0h0m3.5 4.5h0m-191.5 3h0m1.5 3.5h0m3.5-0.5h0m3-0.5h0m1.5-0.5h0m1.5-0.5h0m1-2.5h0m0 3.5h0m3.5-2h0m3 1h0m0.5 1.5h0m2-3h0m1 3.5h0m3-4h0m3 4.5h0m0.5-6h0m0.5 3h0m1 2.5h0m2.5-5.5h0m1 3.5h0m3 2.5h0m6-0.5h0m1-2h0m1.5-2.5h0m1.5 4h0m2-0.5h0m3.5 0.5h0m1.5-2.5h0m5 0h0m1.5 0.5h0m1.5 0.5h0m0.5 2.5h0m2.5-5.5h0m1.5 4.5h0m3-0.5h0m1-1.5h0m0.5-2.5h0m0.5 5h0m0.5-4h0m0.5 3.5h0m1.5 0.5h0m0.5-5h0m5 4h0m0.5-4h0m0 1.5h0m1-1h0m0 4h0m3-2h0m0 1h0m1.5-2.5h0m0.5 3.5h0m3-2h0m1 0.5h0m0.5-2h0m2.5 3.5h0m0-5h0m1 5h0m0.5-2h0m1-2h0m1-0.5h0m0 1.5h0m2.5 0h0m1.5 3.5h0m15-5.5h0m4 1h0m3.5 0.5h0m2.5-0.5h0m0.5-0.5h0m2 0.5h0m0.5 2.5h0m2-2.5h0m1 2h0m1-2h0m0.5 3h0m1-3h0m2 0h0m2 3.5h0m1-3h0m5 2.5h0m1-1.5h0m4.5-1.5h0m2.5 2.5h0m3-2.5h0m3.5 2.5h0m8-3h0m10.5 4.5h0m2-1h0m3.5 1.5h0m1.5-2h0m7-1.5h0m4 1h0m1.5 0.5h0m-198 3.5h0m0 3h0m3 1.5h0m1-4.5h0m1.5 3h0m0.5-4h0m2.5 3.5h0m1-2h0m0.5 4h0m1.5-4h0m2 2.5h0m1.5-3h0m0.5 3h0m0.5 0.5h0m1.5-2.5h0m4.5-2h0m0.5 3h0m1-1.5h0m1.5 1.5h0m0.5-2h0m2 2.5h0m2 2.5h0m1.5-0.5h0m0.5-4.5h0m1.5 1.5h0m1.5-2h0m7.5 4.5h0m1 0.5h0m3.5-3h0m0.5 0.5h0m0 2h0m4-4h0m1 3.5h0m2.5-2.5h0m2 2.5h0m1.5-1.5h0m1-1.5h0m3.5 1.5h0m2 0h0m1.5-2.5h0m3 4h0m0-0.5h0m1-2h0m0.5-1.5h0m1.5 4h0m2-0.5h0m0.5 0.5h0m1-3h0m1.5 4h0m0-3h0m0.5-1h0m0.5 1h0m4-1h0m1 3h0m0-2.5h0m3 2.5h0m0-1.5h0m3 2h0m0-4.5h0m2.5 3.5h0m0.5 1.5h0m1-4h0m1.5 2h0m0 1h0m1-2h0m0.5-2h0m1.5 5h0m0.5-5h0m1 1.5h0m2-1.5h0m0.5 2h0m2-2h0m43.5 0.5h0m2.5 5h0m5-5h0m2 3.5h0m4-3h0m5.5 0.5h0m1-1.5h0m9.5 1.5h0m4-2h0m9 2h0m4.5 3.5h0m0-2.5h0m5-0.5h0m-197.5 4.5h0m2-0.5h0m0.5 3h0m1.5 0.5h0m2-1.5h0m0 0.5h0m1 2.5h0m5-1h0m1.5 0h0m3.5 0h0m1-2h0m1 2.5h0m1-4h0m0.5-1h0m0.5 5h0m1-1h0m0.5-2h0m1.5 3h0m0.5-1.5h0m1 2.5h0m2-1h0m1-1h0m0.5-1.5h0m1-1.5h0m4.5 0h0m0.5 3h0m1.5 0h0m0.5-4h0m0 0.5h0m1 1.5h0m4.5 2.5h0m1.5 0.5h0m1-3.5h0m0.5 2h0m1.5 0h0m1-3h0m0.5 4.5h0m3.5-2h0m1.5-0.5h0m3-0.5h0m0.5 2h0m1 1.5h0m0-3.5h0m2 1h0m0.5-1h0m0.5 3.5h0m1.5-2h0m2.5-3h0m1.5 2h0m3.5 2h0m2.5-4h0m1 0.5h0m0 4h0m0.5-2.5h0m2 1.5h0m2-1.5h0m0.5 1h0m0-1.5h0m4 0.5h0m1 0.5h0m3-1h0m2-0.5h0m0.5 2h0m0 1.5h0m2.5-4.5h0m2.5 4.5h0m0.5-2.5h0m0.5 0h0m0.5 0.5h0m3.5-2h0m0.5-1h0m55 4h0m2.5-2.5h0m0 1h0m4.5 1.5h0m1 0.5h0m1.5-4h0m3.5 3h0m1.5-3h0m6 5.5h0m3.5-1h0m3.5-4.5h0m0 4.5h0m12 0.5h0m-191 3.5h0m0-1h0m0.5-1.5h0m1.5 2.5h0m0 3h0m1.5-6h0m0 5h0m0.5-3h0m0.5 2h0m2-3.5h0m0 2h0m0 1h0m4.5 1.5h0m1 0.5h0m0-1.5h0m0.5-1h0m2.5-1h0m0.5 3h0m0.5 0.5h0m2-0.5h0m1-2h0m2.5 1h0m2.5-2h0m2 4h0m1-4.5h0m1.5 4h0m1-4.5h0m3 1h0m1 0.5h0m2-2h0m2 0.5h0m1.5 4h0m1-3.5h0m1 2.5h0m1.5-2.5h0m1 4.5h0m1-4h0m1.5 1.5h0m1.5 0.5h0m0.5-3.5h0m3 0.5h0m2 4h0m0-4.5h0m0.5 5h0m2-4.5h0m1 4h0m1-3.5h0m2.5-0.5h0m2 3.5h0m0.5-3h0m1.5 2h0m1.5-1h0m0 3.5h0m0.5-2h0m2-3h0m0.5 0.5h0m0.5 2.5h0m3-0.5h0m1.5 1.5h0m2-3.5h0m1.5 4h0m0-2.5h0m2-2.5h0m0.5 5h0m1.5-3h0m0.5-2h0m0.5 4.5h0m1-2h0m2 0h0m3.5-2.5h0m67 1h0m1.5-0.5h0m3.5 4.5h0m5-2.5h0m3.5 1.5h0m9-1.5h0m5.5 2.5h0m5-0.5h0m4 0h0m4-3h0m1 0h0m6-1h0m0-1h0m18 5h0m-220.5 4h0m2-3h0m6 5h0m4-3h0m0.5-2h0m9 1h0m7.5 3h0m1.5-4h0m4.5 3h0m6.5-1.5h0m2.5 4.5h0m2-2h0m7.5-3h0m15.5-1h0m1 2h0m1-1h0m10.5-0.5h0m82 2h0m3-0.5h0m3.5 0h0m4-2h0m1.5 6h0m5-5.5h0m4 0h0m0 1.5h0m13.5 0h0m2.5 0h0m9-1h0m14.5 4h0m1-4.5h0m7 5h0m-227.5 3h0m17-0.5h0m26.5 1.5h0m5-2h0m0.5 4h0m18-5h0m9.5 2.5h0m89-1h0m6.5 0.5h0m4 2h0m7.5-0.5h0m0.5-4h0m9 3.5h0m2.5 0h0m2.5-2h0m13 1h0m2 3.5h0m2-2h0m-211 5h0m19-0.5h0m10 2.5h0m9.5 0h0m5 0h0m14 1h0m20-3h0m85.5 0.5h0m2.5 0h0m4.5-2h0m6 1.5h0m1-1.5h0m1.5 3.5h0m4-2.5h0m3 2.5h0m3.5-4h0m4 2h0m4.5-3h0m15 5.5h0m4-4.5h0m-199.5 7.5h0m16.5-2h0m8 2h0m0.5 3h0m1.5 0h0m123.5-4.5h0m8.5 0.5h0m2 1h0m28-2h0m9 1.5h0m7-1.5h0m-204 11h0m18-5.5h0m3 3h0m9-1.5h0m1 4.5h0m89-0.5h0m9.5-5h0m0.5 3.5h0m3.5 0h0m20.5-3h0m4.5-0.5h0m12 1.5h0m5.5-1h0m2 3h0m2-1h0m11.5-1h0m1 4h0m12-1.5h0m1.5 1h0m-211 2.5h0m4.5-1h0m8.5 0h0m10.5 3.5h0m7-2h0m18.5-0.5h0m11.5 0h0m4-1h0m8.5 2h0m5 1h0m47.5 0h0m35-1.5h0m5.5 3.5h0m1-4.5h0m9.5 0h0m4.5 0h0m2 2.5h0m1-0.5h0m9.5-2h0m5.5 3h0m5-3.5h0m4.5 2.5h0m-205.5 3.5h0m8.5 2.5h0m15.5-3.5h0m15.5 4h0m9-3.5h0m2.5 4h0m23 0.5h0m5-2h0m0 2h0m1 0h0m39.5-1.5h0m8.5 2.5h0m10.5-5h0m1 4.5h0m15-1.5h0m0-2h0m3-0.5h0m0.5 4h0m3-5.5h0m3.5 2h0m1 3.5h0m8.5 0h0m1-3.5h0m2.5 0h0m4.5 3.5h0m5.5-3h0m3.5 2.5h0m6 0h0m0-4h0m2.5 1.5h0m5.5 0h0m-200 8.5h0m6.5-1h0m28.5-1h0m14.5-0.5h0m21.5-2h0m1 3h0m0.5 2h0m6.5-0.5h0m34.5-1.5h0m9-0.5h0m3-1h0m30 3h0m1.5 0h0m0.5-4h0m0.5 2h0m6 1.5h0m9-1.5h0m11-1h0m0.5-1h0m3 2.5h0m2.5-2h0m10 1.5h0m1.5 1h0m-206.5 3h0m3.5-0.5h0m39-0.5h0m5.5 4.5h0m5 0.5h0m0.5-3h0m22 1h0m2.5 1.5h0m4 1h0m1-2.5h0m0.5-3h0m2.5 1.5h0m0.5 3h0m1.5-2h0m1.5 1.5h0m2 0.5h0m2.5 1h0m1.5-1h0m0-2.5h0m1.5 2h0m2-4h0m2 5h0m2-4h0m4.5 3.5h0m0 0.5h0m64.5-4h0m22.5 4.5h0m0-4h0m1 0h0m-197.5 9h0m2-3.5h0m1-0.5h0m4.5 3h0m11-2.5h0m13.5 3h0m5.5 1.5h0m41-4.5h0m0.5 4.5h0m2.5-4.5h0m3.5 1.5h0m1.5 0.5h0m2-1h0m0 3.5h0m1.5-5h0m3 3h0m2-1.5h0m1 1h0m1.5-1.5h0m0.5 2h0m2 1.5h0m0-3h0m2 2.5h0m0.5 1h0m3-1h0m0-4h0m0.5 1h0m0.5-1.5h0m1 3.5h0m2.5-2h0m1 0h0m70-1h0m6.5 3.5h0m5-3h0m7 4.5h0m-190.5 2h0m7 4h0m11.5-2h0m29.5 2h0m2.5-4.5h0m19 3h0m2-1h0m1.5 1h0m1.5-3h0m0 0h0m2.5 2.5h0m0.5-2h0m1.5 4.5h0m1.5-0.5h0m0.5 0h0m1-4.5h0m0 4.5h0m0.5-3.5h0m9.5-0.5h0m1.5 0.5h0m2.5-2h0m3 2.5h0m65 0h0m7-1.5h0m12 3.5h0m4.5 0.5h0m1-2h0m0-1h0m-217 5h0m1 4.5h0m1-4.5h0m5.5 1h0m5-2h0m3 1.5h0m31-1h0m16 1.5h0m1.5 3.5h0m1-2.5h0m12 2h0m15.5-2.5h0m7.5-0.5h0m1.5 0.5h0m3.5 2.5h0m3.5-1.5h0m2 0.5h0m0.5 1.5h0m1.5-0.5h0m4-1h0m0 1h0m3.5-3.5h0m1.5 2h0m2 2h0m0-5.5h0m80.5 3.5h0m4-0.5h0m4-2.5h0m-207 5.5h0m11 1.5h0m2 2.5h0m5-0.5h0m7-3.5h0m3 3h0m12.5 1h0m3.5-2h0m4 1.5h0m3-2.5h0m43.5-1h0m18.5 0.5h0m2.5 2h0m0.5-2.5h0m2.5 2h0m-98 5h0m25.5 3h0m26.5-3h0m140.5 1.5h0m-195 9h0m5.5 0h0m9.5-4.5h0m26.5 4h0m-58.5 2.5h0m7.5-1h0m38.5-0.5h0m6.5 5h0m4-4h0m11 4.5h0m-67.5 4.5h0m5.5-4h0m24.5 2.5h0m2.5-2.5h0m27 5h0m2.5-1.5h0m7 1.5h0m2.5-2h0m-74 6h0m6-0.5h0m11 0h0m15.5 3h0m31-1.5h0m0.5-1h0m1.5 2.5h0m8-0.5h0m5-1h0m-79 2.5h0m14 5h0m7-2h0m14 1.5h0m6-2h0m2.5-2.5h0m17.5 1.5h0m1-1.5h0m-40 8.5h0m23 2h0m4-2h0m15.5 0h0m0.5 2.5h0m2-4h0m15.5-1h0m-51.5 9h0m9-2.5h0m2.5 1.5h0m15.5-0.5h0m3.5-1.5h0m4 4h0m4-1h0m6 0h0m3 2.5h0m2-2.5h0m0 2h0m4-4.5h0m-49.5 10h0m16 1h0m1.5-3.5h0m9.5 0h0m0.5 0h0m7 0.5h0m0.5 0h0m1 3h0m2-2h0m1.5 1h0m0.5-2h0m4-1h0m2-0.5h0m3.5 1h0m-55.5 4h0m7.5 1.5h0m8 3.5h0m20-5.5h0m3 4h0m5.5-0.5h0m2-1h0m0.5-1.5h0m7-0.5h0m1 0.5h0m-46.5 7h0m1.5 0h0m4.5 2.5h0m5-4h0m12.5 2h0m1.5 2.5h0m2-3.5h0m4.5 0.5h0m3.5-2h0m6 5h0m1-1.5h0m1.5-2h0m0 1.5h0m-28.5 4.5h0m5.5 2.5h0m0.5-3.5h0m2 4h0m2.5-0.5h0m1.5-2h0m1 1.5h0m1.5 1.5h0m1.5-3.5h0m1-0.5h0m0.5 3h0m2.5 1h0m2-2.5h0m2-0.5h0m4.5-1.5h0m-24 6.5h0m2.5-0.5h0m2 2h0m1 2.5h0m3.5-3h0m1 2h0m2-2.5h0m1.5 1h0m-20 4h0m1.5 0h0" stroke="#5E4FA2" stroke-width="2.7" stroke-linecap="round" fill="none"/>
<path d="M109.5 504h0m-38 7h0m7.5 1h0m-1.5 4.5h0m24-0.5h0m-70.5 9h0m40-4h0m11-1.5h0m1 4.5h0m-57 3.5h0m67.5 4h0m0.5 14.5h0m-41 4.5h0m48.5-1h0m-24.5 7.5h0m27-1h0m-10 10.5h0m9-5.5h0m9 4.5h0m-6 3.5h0m-84 4.5h0m21 10.5h0m-13 6h0m52.5-4.5h0m-59 12h0m26.5 5h0m43-3h0m1 3h0m-18.5 4.5h0m-12.5 2.5h0m15 0h0m22.5 116.5h0m-3.5 8h0m2.5 3.5h0m1.5 2.5h0m2 1h0m2-2h0m0.5-3.5h0m-12 8.5h0m6.5-0.5h0m8-0.5h0" stroke="#496AAF" stroke-width="2.7" stroke-linecap="round" fill="none"/>
<path d="M106.5 498h0m-25.5 7.5h0m3.5-3h0m10 0.5h0m-4.5 8h0m9-3.5h0m3-0.5h0m5 4h0m-21 3.5h0m17 0.5h0m-77 9.5h0m25.5-1h0m26.5-1.5h0m7 2.5h0m4-3.5h0m5 5h0m14 0h0m2-1h0m-83 10h0m2.5-2h0m55-1.5h0m7 4h0m13.5-2.5h0m-71.5 9h0m77.5-1h0m-82.5 2.5h0m13.5 3h0m37 1h0m7.5-1h0m6-2.5h0m15.5 2h0m-15 6h0m9 0h0m2.5-2h0m-20 7h0m4 2h0m7.5-4h0m6.5 0.5h0m-12.5 6.5h0m1 4.5h0m15.5-3.5h0m-87 9h0m16-2h0m52 2.5h0m14-3.5h0m-80 10h0m58.5-1h0m5-1h0m3 0.5h0m-71.5 4.5h0m6-2h0m11.5 1h0m0 2.5h0m7.5-4h0m40.5 1.5h0m1.5 2h0m5.5-0.5h0m13.5-2.5h0m-77.5 10.5h0m4-4h0m17.5 1h0m44.5 2h0m-59.5 3h0m14.5 3.5h0m2.5 0h0m31.5-0.5h0m-53.5 7h0m26-2h0m10.5-0.5h0m1.5-0.5h0m18 1.5h0m-35.5 2.5h0m21 4.5h0m15.5 1h0m-43 1h0m29.5 9h0m36 21h0m-21 94.5h0m15.5-3.5h0m0.5-1.5h0m5 3h0m-16 3.5h0m0 3.5h0m19 0.5h0m-18 2h0m3.5 0.5h0m1.5-0.5h0m6.5 2h0m-13 3h0m4 2.5h0m1 0h0m2 1.5h0m3.5 0.5h0m7-2.5h0m-12.5 4h0m-10.5 7h0m7 4h0m2.5-4h0m-6 5.5h0" stroke="#3485BC" stroke-width="2.7" stroke-linecap="round" fill="none"/>
<path d="M109 496.5h0m-17 7.5h0m11 1.5h0m-41 7h0m20.5-5h0m6.5-0.5h0m12.5 4.5h0m10 1h0m-58.5 8h0m8 0h0m4.5-1h0m33-0.5h0m-74 8h0m10 2.5h0m8 0.5h0m5.5-5h0m28.5 5h0m4.5-3.5h0m5.5 1h0m21 0.5h0m-75.5 4.5h0m9 2.5h0m47-2h0m-54 9.5h0m14.5-5.5h0m1.5 2.5h0m3.5 2.5h0m17.5-1h0m29 0h0m-70.5 6h0m7-0.5h0m50.5 0h0m14-0.5h0m3-2.5h0m-74.5 11.5h0m46.5-2h0m10.5-1h0m-56.5 5.5h0m62.5-2.5h0m-69 11.5h0m72.5-4.5h0m2 4.5h0m-69 6.5h0m4-0.5h0m52 0h0m7-3h0m5.5-2h0m9 4h0m-80 4.5h0m55.5-0.5h0m-62.5 9h0m5-4h0m0-1h0m2 3h0m11.5-3h0m8.5 3.5h0m3-2h0m25.5 2.5h0m11-4h0m16.5-0.5h0m-87.5 11h0m4.5-2.5h0m9.5-1.5h0m11 4h0m1.5-3.5h0m25 4.5h0m6-0.5h0m7.5-4.5h0m8.5 2.5h0m-77 4.5h0m2 1h0m4-1h0m7 1h0m14 2h0m8-1h0m1.5-2h0m48-1h0m2.5 4.5h0m-38 6h0m6.5-5h0m14 5h0m17.5-2.5h0m13-1.5h0m-76.5 10h0m3.5-3.5h0m2.5 3h0m6.5-1h0m1.5-1h0m3 2h0m8.5 0h0m3.5-2h0m18-2.5h0m14 2.5h0m5.5 0h0m-45 3h0m17.5 0.5h0m31 31h0m-6.5 5.5h0m8.5 17h0m31.5 14.5h0m-45 36.5h0m1.5 8.5h0m3.5-4h0m0.5 4.5h0m3-2h0m-16 7.5h0m6.5-0.5h0m3.5-4.5h0m10.5 2h0m-9.5 9h0m1.5-4h0m3 3.5h0m5-2h0m-18 6.5h0m13.5 2h0m-20 4.5h0m20.5 0.5h0m5 1h0m-18 4.5h0m7.5-1.5h0m8.5-2h0m-21 8h0m17 0h0m-31.5 9h0m13.5 2.5h0" stroke="#48A1B3" stroke-width="2.7" stroke-linecap="round" fill="none"/>
<path d="M106 506h0m-40 3.5h0m4.5 0h0m18.5 2.5h0m14.5 0h0m-35.5 2.5h0m10.5 3h0m-40 2h0m5.5 5.5h0m11-0.5h0m9-3h0m4.5 3.5h0m23.5-5h0m7 4h0m-51.5 3.5h0m6-1h0m16 1.5h0m1.5-2h0m1 1h0m8.5 3.5h0m1-2.5h0m-36.5 5h0m50 2.5h0m7 1h0m7.5-4h0m-80.5 9h0m7 1.5h0m3.5-3h0m7 2h0m32 1h0m5.5-4.5h0m-43.5 4.5h0m7.5 5.5h0m22-3h0m4.5 2h0m1-0.5h0m1.5-3.5h0m11 0h0m4.5 5h0m5-2h0m-66 5.5h0m0 1.5h0m7.5 0.5h0m41.5-2.5h0m15.5 1.5h0m5.5 2h0m0.5-5.5h0m-77 10.5h0m-1.5 2.5h0m12 3.5h0m44-0.5h0m28.5 0.5h0m-68 5h0m2 1.5h0m69-5h0m-93.5 8.5h0m2-3h0m17.5 4h0m43-2.5h0m15.5 1.5h0m7 0.5h0m1.5-3h0m2 1h0m3.5 0h0m-80 7.5h0m6 2h0m30.5-1.5h0m16.5-3.5h0m14.5 5h0m2 0.5h0m4-2h0m-80.5 6h0m15.5-3.5h0m1 0h0m6.5 1.5h0m5 1h0m5-1h0m6 1h0m0 3.5h0m14-2.5h0m6-1.5h0m11 1h0m-73.5 5.5h0m11 2.5h0m5 1h0m7-3.5h0m12.5 0.5h0m7.5 0h0m0 3h0m14-0.5h0m16.5-4.5h0m7-1h0m0.5 2.5h0m-86.5 6.5h0m12.5-2h0m6 2.5h0m36-1h0m12-0.5h0m19 0.5h0m2.5 3h0m3-2h0m-76 2.5h0m10 4.5h0m7-4h0m45.5-0.5h0m-51 9.5h0m11.5-3h0m25 5.5h0m0-5.5h0m17.5 2h0m-27 9.5h0m19 0h0m13 0.5h0m-2.5 11h0m18.5 9h0m-1.5 18.5h0m12 8.5h0m-37 34.5h0m6.5 10h0m5 1h0m-5.5 5.5h0m5 3h0m-9 3.5h0m1.5 1.5h0m6 0.5h0m0.5-5h0m4 7.5h0m-18 8.5h0m3.5 0.5h0m4.5-4h0m3.5 0.5h0m12-0.5h0m-28 9.5h0m4.5-2h0m2.5 3h0m1.5-3h0m0-1h0m7.5 4.5h0m-11 6.5h0m2.5-1.5h0m1 1.5h0m5-2.5h0m7-3h0m-32 7.5h0m19 2h0m7-3h0m4.5 0h0m0 2.5h0m-18 5h0m5.5 0.5h0m0 2.5h0m5-2h0m-12.5 3h0" stroke="#61BCA7" stroke-width="2.7" stroke-linecap="round" fill="none"/>
<path d="M110 499h0m-17.5 6.5h0m8 6h0m-45 3h0m9 0h0m47.5 0h0m-79 10h0m21.5-5h0m7.5 4.5h0m-31.5 6h0m6-3.5h0m28 0h0m-7 5.5h0m7.5 4.5h0m2.5-5h0m4-0.5h0m-44 6.5h0m3 0.5h0m1.5 1.5h0m4-0.5h0m9.5-1.5h0m1 1.5h0m11-0.5h0m3 3h0m11 1h0m3-3h0m7.5-2h0m1 0h0m1.5 4.5h0m4.5 0h0m1.5-2h0m13 0h0m-71.5 7h0m57 0.5h0m-56.5 4h0m2.5 0h0m12 1.5h0m0 0.5h0m2-4h0m0 2h0m30.5 1h0m4-3.5h0m6 3h0m-54 7.5h0m17-2h0m12-2h0m1.5 5.5h0m5.5-3.5h0m4.5 0.5h0m-53.5 8h0m6-3.5h0m4.5 1.5h0m0.5-1h0m0 1h0m1 2.5h0m8.5-0.5h0m38 1h0m-48.5 5.5h0m12.5-5h0m13.5 1h0m7-1.5h0m2 5h0m2-5h0m11.5 1.5h0m19 3.5h0m-75 4.5h0m15 0h0m24.5 0h0m9.5 1.5h0m26.5 0h0m-85 1h0m31.5 2h0m4 4h0m11.5-5h0m9-0.5h0m5.5 3.5h0m3.5 0.5h0m0.5-2h0m4-1.5h0m8.5 3.5h0m-58.5 6.5h0m11-1h0m21-3.5h0m3.5 5h0m3-4.5h0m5 3h0m33.5 1h0m-63.5 3h0m4-2h0m6 0.5h0m11 0h0m-48.5 5.5h0m1.5 2h0m0.5 1.5h0m17-3h0m6 3.5h0m31.5 1h0m5.5-4.5h0m-58 7.5h0m7 0.5h0m24-2h0m12.5 1.5h0m-49 7.5h0m3-3.5h0m9 6h0m3.5-2.5h0m10.5-0.5h0m50-3h0m-69.5 7h0m22 4.5h0m33-2.5h0m13.5-1h0m-4.5 6h0m15 8h0m-7.5 7.5h0m9-2.5h0m2.5 5.5h0m5.5 0.5h0m1 10.5h0m1 0h0m9 8.5h0m6.5 1.5h0m-25 2h0m36.5 8.5h0m-51 5h0m21.5-1.5h0m2-0.5h0m-26 25h0m2.5 0.5h0m0.5-0.5h0m1 6h0m-3 9.5h0m1.5 0.5h0m3-2h0m-18.5 6h0m14-1.5h0m10-0.5h0m2-1h0m-11.5 7.5h0m6.5 2h0m5-3h0m1 2.5h0m0.5 1.5h0m-17.5 2.5h0m7.5 1h0m0.5 0.5h0m-16 8.5h0m4-6h0m-1.5 7.5h0m0 3.5h0m1.5 0.5h0m2.5-2h0m23.5-3h0m-44 11h0m11-2.5h0m4.5 0.5h0m10.5 0h0m0 2h0m-12 2h0m-6 6h0m6 0.5h0m1 2h0m6.5-3.5h0m3.5-0.5h0m4.5 1.5h0m-18.5 8h0m10-1.5h0" stroke="#80CCA5" stroke-width="2.7" stroke-linecap="round" fill="none"/>
<path d="M108.5 494.5h0m6.5 9.5h0m-40 5h0m-21.5 8.5h0m19.5-1h0m42.5-2.5h0m-64.5 8h0m24 1.5h0m-37 4.5h0m3.5-2h0m17 3.5h0m31-3h0m23.5 4h0m-63 3h0m5 2h0m0.5-3h0m0.5 1h0m9.5 1h0m5.5-1.5h0m5.5-2h0m2 4.5h0m5-2h0m14 4h0m15 4.5h0m-48.5 2h0m21 3.5h0m-41.5 6.5h0m-7.5 4h0m3.5 1h0m2.5-3.5h0m10.5 1h0m16 2.5h0m10-0.5h0m0-2.5h0m-42.5 7h0m1 2h0m1.5-3.5h0m9 5.5h0m2.5-5h0m4.5 2h0m15-3h0m3 0h0m4.5 0h0m4 5h0m-40 3.5h0m8.5-0.5h0m14 0h0m31.5-0.5h0m30.5 2h0m-73.5 5h0m1-2h0m5 3h0m15-1.5h0m39.5 0.5h0m13.5 3h0m3-1h0m-77.5 2h0m15.5 0.5h0m1.5-0.5h0m2 5.5h0m52-5.5h0m17 1.5h0m-120.5 5.5h0m31.5 3.5h0m2-0.5h0m1.5-0.5h0m0.5-3.5h0m13.5 4.5h0m11.5-3h0m37.5-1.5h0m33.5 3h0m-98.5 6h0m18.5 2h0m2.5-3.5h0m0.5 2.5h0m1-3h0m17.5 2.5h0m1-2h0m23.5 0.5h0m-88.5 4.5h0m14.5 1.5h0m11 0h0m7.5-1h0m5.5 4h0m20.5 2h0m1.5 0.5h0m-69.5 8h0m5.5-1.5h0m1.5-1h0m12.5 2.5h0m9-2.5h0m5 3h0m9 0.5h0m5 0h0m4.5-2h0m7.5 2h0m-56.5 2.5h0m0.5 4h0m4.5-0.5h0m3.5-2h0m2.5 1.5h0m17.5-4h0m14 0h0m8.5 2.5h0m3 2.5h0m0.5-2.5h0m3 1h0m4 0.5h0m5-2.5h0m11-1h0m-37.5 11h0m20-3h0m5.5 2h0m8.5-3.5h0m3 2.5h0m0.5-3.5h0m-17 6.5h0m13 1.5h0m2 3h0m4-4h0m4 1.5h0m4.5 2.5h0m-21 3h0m1 3h0m8-3.5h0m1.5-0.5h0m7.5 4h0m1.5-2.5h0m2.5 1.5h0m-15.5 7h0m11.5-1.5h0m10.5 0.5h0m-26.5 3.5h0m15.5-1.5h0m3 1h0m0 2h0m2.5 2h0m2.5-5h0m0.5 1h0m-11 5.5h0m4.5 0.5h0m3 0h0m0.5 1h0m-10.5 6h0m8-2h0m7.5 0h0m12-0.5h0m18 4.5h0m-33.5 3h0m2.5 3h0m26-1.5h0m-29 6.5h0m23.5 0.5h0m-42 7.5h0m9.5-0.5h0m4-2.5h0m8.5 3h0m20-5.5h0m-36 11h0m4-2.5h0m11-0.5h0m-23.5 13.5h0m3 6h0m1 3h0m2.5-0.5h0m0.5 5h0m1-2.5h0m-8.5 5h0m8.5 3h0m2.5-1.5h0m-20.5 7h0m3.5 2h0m1.5-1h0m1.5-2h0m2.5 1h0m2 1.5h0m2.5-4.5h0m5-0.5h0m3 2h0m-27.5 6h0m2.5 2.5h0m2.5 0h0m2.5-3h0m10.5-0.5h0m1 4h0m1.5-2h0m-15 7h0m0.5-3h0m5 2.5h0m0.5 1.5h0m18.5-5h0m-29 10.5h0m5-0.5h0m-9.5 7h0m19.5-0.5h0m-34 4h0m14.5-2h0m4 0.5h0m2 2h0m20-3h0m-32.5 9h0m5.5-1h0m-1 7h0m3 2.5h0m8.5 0h0m-3 2h0m3.5 1.5h0" stroke="#A1D9A4" stroke-width="2.7" stroke-linecap="round" fill="none"/>
<path d="M57.5 520h0m1 2h0m-31.5 7.5h0m27.5-2.5h0m10 3.5h0m-25 2.5h0m2.5 2.5h0m17.5-4h0m1 4.5h0m0.5-1h0m1.5-1.5h0m1 1.5h0m6.5 0.5h0m-16 6.5h0m4-4.5h0m11 1h0m1.5 1h0m-20.5 4h0m1.5 2.5h0m0 0.5h0m4 0h0m0 2h0m2.5-4h0m1 1.5h0m12.5 2h0m8-2h0m31-3h0m-55.5 7h0m0.5 3.5h0m14-0.5h0m2.5-3.5h0m-30.5 8h0m1 1h0m2 1h0m0 1h0m4.5-4.5h0m12.5 0h0m1.5 1.5h0m4-0.5h0m2.5 0h0m1.5 2.5h0m-36 2h0m6 5h0m8 0h0m11-5h0m8.5 1h0m7.5 1.5h0m-48 6.5h0m27-0.5h0m0.5 3h0m0.5 0h0m11.5-5.5h0m3 5.5h0m2.5-3.5h0m1 2.5h0m3.5-3.5h0m-18.5 6.5h0m8.5 1h0m-12.5 4.5h0m1.5-0.5h0m4 3.5h0m8.5-2h0m-27.5 9h0m12.5-4h0m7.5-0.5h0m2.5 0h0m-33 7.5h0m-2.5 21h0m4-3h0m9.5 2h0m14.5-2.5h0m3 3h0m9 0h0m5 0.5h0m7.5-3h0m1.5 1.5h0m3.5-0.5h0m0.5 2h0m3 0h0m1.5-1.5h0m3.5 0h0m4.5 1.5h0m-72.5 5h0m3-3h0m2 3h0m2 0.5h0m5.5-1.5h0m5.5 0h0m12.5-2.5h0m3.5 3h0m0.5 1h0m10-3h0m7-1h0m3 0.5h0m2-0.5h0m1.5 1.5h0m2 1.5h0m2 1.5h0m2.5-2.5h0m0.5-2.5h0m1.5 1.5h0m5.5 2.5h0m-74 2h0m5 2h0m10.5-1h0m15.5 4h0m4-1.5h0m9.5-2h0m10.5 1.5h0m1-2h0m11.5 1.5h0m2.5-1.5h0m0-1.5h0m1 3.5h0m9.5-1h0m3 3h0m-80.5 4h0m0-3.5h0m17 5.5h0m34-1.5h0m6.5-1.5h0m14 2.5h0m5-4h0m0 0.5h0m-27.5 4.5h0m20 4.5h0m15-3h0m-17 8.5h0m8-4h0m6.5 6h0m0-3h0m-25 6.5h0m2-3h0m18.5 5h0m8 0.5h0m-17 0h0m5.5 2h0m4 4h0m0.5-2h0m5.5 1h0m3 0h0m-27.5 5h0m16.5 1.5h0m3.5-5h0m12.5 3h0m13-3h0m-26 9.5h0m1.5-2h0m6.5 2.5h0m3.5-4h0m14.5 1.5h0m-54 6.5h0m14.5 2.5h0m12 0h0m1.5-5h0m1 3h0m1 2.5h0m2.5-2h0m0.5 0h0m3-0.5h0m2.5-0.5h0m-15.5 4h0m8 4.5h0m0.5-1h0m1.5-3.5h0m3.5 5h0m0.5-3.5h0m30.5 0.5h0m-65 8.5h0m6.5-1.5h0m17.5-2.5h0m11 2h0m-28 4h0m4.5 2.5h0m-3 10.5h0m6 3h0m-6 6h0m2-0.5h0m2 0.5h0m0 0.5h0m7.5-2h0m-23 3.5h0m2.5 4.5h0m2-4.5h0m3 1h0m4.5 2.5h0m7-4.5h0m2 2.5h0m-17.5 5.5h0m18.5 0h0m-23.5 5.5h0m4 1h0m2.5 2h0m15 1h0m-30.5 4h0m6.5-3h0m9.5 3.5h0m1.5-1h0m6-0.5h0m2 0.5h0m-19.5 7h0m5.5-2.5h0m-6.5 6.5h0m0 2h0m5.5 1.5h0m0-1.5h0m28.5-2h0m-34 8h0m2-2.5h0m6.5 1h0m-18.5 8.5h0m1.5-4h0m4.5 0h0m2 4.5h0m6-1h0m0.5-2h0m4-0.5h0m3-1h0m-11.5 5.5h0m7 8.5h0" stroke="#BFE5A0" stroke-width="2.7" stroke-linecap="round" fill="none"/>
<path d="M101 529.5h0m-47.5 4h0m15.5 3h0m-29 0.5h0m8.5 1h0m24.5 3h0m-13.5 2h0m6 1.5h0m0.5 3.5h0m-30 7h0m10.5-4.5h0m5.5 4h0m8 0h0m1.5-1h0m7 1.5h0m-27 6h0m13.5-5h0m-11.5 6h0m5.5 1h0m6.5 2.5h0m0.5-3.5h0m4 3h0m5-1.5h0m-21 7h0m2 0h0m3.5 1.5h0m7-1h0m5 7h0m5.5-3h0m-23 4.5h0m9 1.5h0m20.5-1h0m11-0.5h0m-20.5 7h0m5.5 1h0m-5 7.5h0m-42.5 18h0m0.5-0.5h0m2.5-2h0m17.5 3h0m6.5-2h0m0.5 3h0m1.5-0.5h0m2.5-2.5h0m5.5 0h0m2.5 1h0m4.5-0.5h0m6 1h0m0.5-2h0m3.5 2h0m1.5-1h0m13-1.5h0m-69 8h0m8.5 1.5h0m6.5-1.5h0m0.5 1.5h0m5.5-2h0m0-2h0m0 4h0m2.5 0h0m8 0h0m0.5-2h0m2 0h0m12-2.5h0m5.5 4h0m0.5-4h0m1 1h0m4 3h0m2 0.5h0m4-3.5h0m8.5 3.5h0m6-4.5h0m2 3h0m-71 7h0m3.5-1.5h0m1 1h0m10-0.5h0m3.5-2h0m7.5 0h0m2-0.5h0m5 2h0m3-2h0m1 3h0m2.5 1h0m2.5 0.5h0m3-1.5h0m2.5-1.5h0m8-2h0m1.5 1h0m13.5 4h0m1.5-1.5h0m-77.5 5h0m2-2.5h0m3.5 3h0m5.5-2.5h0m2.5 0h0m6 0.5h0m5 1.5h0m6.5-0.5h0m0.5 3h0m13.5-2h0m3 2h0m4-3h0m4-1h0m5.5 2.5h0m3-2.5h0m2 1h0m3 0.5h0m4-0.5h0m0-1.5h0m3.5 3.5h0m6.5-2h0m-64.5 4h0m3.5 0h0m8 3.5h0m6-3h0m22 2h0m3.5 0h0m0-1.5h0m6 4h0m8-2h0m1 1h0m2.5-4h0m0 3.5h0m9-1.5h0m0.5 1.5h0m-34 2.5h0m16.5 0.5h0m7 3h0m15.5 1.5h0m-29.5 2.5h0m4-1h0m1.5 2.5h0m6 1h0m0-2h0m1.5 3h0m1-0.5h0m2.5-3h0m1.5 1.5h0m3.5-1h0m7 1.5h0m-42 7.5h0m19-5h0m4.5 3.5h0m2-1.5h0m1.5 2.5h0m5-2h0m0.5-1.5h0m1 3h0m-30 1.5h0m8.5 4.5h0m5-4h0m3 2.5h0m1 2h0m8-1h0m5.5-0.5h0m3.5 1.5h0m2-3h0m10.5 2.5h0m8.5-4h0m6.5 5h0m9-1.5h0m-47.5 3h0m3.5 2.5h0m6.5 1h0m15-3h0m3.5 1.5h0m5 2.5h0m-42.5 6.5h0m7-3h0m1-2h0m7.5 3.5h0m38-3.5h0m-77.5 5.5h0m19.5 3h0m6.5-2h0m1 2.5h0m1-1.5h0m2 1.5h0m1.5-3.5h0m3.5-0.5h0m3.5 5h0m5 0h0m9.5-3.5h0m11 2h0m-43 8h0m4.5 0h0m0.5-2.5h0m4 0.5h0m0 1.5h0m2-3.5h0m1.5 1h0m9 1h0m-28 5.5h0m4 2h0m4.5-2.5h0m-2 7.5h0m4-3.5h0m-14.5 9.5h0m6.5 6h0m4.5-2h0m4.5 1.5h0m-14 7.5h0m-3 1h0m9.5 2.5h0m9.5-0.5h0m-12 7.5h0m1.5-3.5h0m-18.5 9.5h0m5.5-1h0m0.5 1.5h0m-8.5 2h0m2 1.5h0m2 2.5h0m1-3.5h0m7 0h0m2 3h0m1-2h0m0 1h0m-16.5 8h0m12-1.5h0m1.5-1h0m-18.5 9h0m4.5-1h0m6 1.5h0m16-4h0m-17.5 8h0m3.5 1h0m2-3.5h0m5.5-0.5h0m-14.5 6h0m1.5 1h0m1 0h0m2-1.5h0m5.5 2h0m-4.5 6.5h0m0.5-0.5h0m0 1h0m7-3h0" stroke="#DBF09A" stroke-width="2.7" stroke-linecap="round" fill="none"/>
<path d="M63 536h0m-14 6h0m8-4.5h0m3.5 0.5h0m-7 10h0m14.5 0h0m-14 4h0m4 1h0m3.5-3.5h0m-15 6.5h0m10 3.5h0m-10 6h0m7.5-4.5h0m5.5 3.5h0m2.5-2.5h0m-11 7h0m0.5-2h0m8.5 6h0m3-4.5h0m-11 6.5h0m12-1h0m-7 9h0m0.5-0.5h0m-40 31h0m15.5-0.5h0m9-0.5h0m14 2h0m9.5-4h0m2 1h0m15 1h0m2 1.5h0m6.5-3.5h0m6.5 3.5h0m1-2h0m-80 6h0m5-2h0m8-0.5h0m6 1h0m13.5 2.5h0m6 1h0m33.5 0.5h0m7-2.5h0m-75.5 5h0m0 1h0m2.5-0.5h0m10.5 0.5h0m18-0.5h0m8.5-1h0m1-1.5h0m2 5.5h0m0-3h0m1.5 2.5h0m8-3.5h0m3.5 2.5h0m15-3.5h0m1 5h0m8-4.5h0m-75.5 10h0m7 0.5h0m12-4h0m8-1h0m24.5 3h0m14.5 1h0m0.5-4.5h0m9 1h0m4 5h0m-70.5 0h0m4 2.5h0m11-1.5h0m15.5 2h0m11.5 0h0m3-2.5h0m2.5 1.5h0m6-0.5h0m2 2h0m1-2h0m3 1.5h0m3-0.5h0m9 3h0m3-4h0m-74.5 5.5h0m26 3h0m22.5-4h0m1.5 1.5h0m3.5 2h0m9.5 0h0m4 2h0m3.5-0.5h0m-9 5h0m1 2h0m6-5h0m10 0.5h0m1.5 4h0m2.5-3.5h0m-42.5 4.5h0m9.5 2.5h0m5 2.5h0m3-2h0m0 1.5h0m4-1h0m7.5-1h0m12 2.5h0m5 0h0m7-1.5h0m-46.5 6.5h0m7.5 0h0m8-4h0m5.5-0.5h0m9 3h0m11-1.5h0m22 1.5h0m-70.5 3.5h0m4.5 4h0m9.5 0h0m0.5-2h0m2.5-1h0m1 4h0m1-5h0m7.5 2.5h0m10.5 2.5h0m0.5-3h0m1.5 3h0m2.5-5h0m1 2.5h0m-29.5 7h0m9 1.5h0m9-3.5h0m4.5-1.5h0m6.5 3h0m17-1h0m5.5-0.5h0m-48.5 8.5h0m1 1.5h0m10-3h0m6 0.5h0m18.5-3h0m0.5 2.5h0m8 1h0m2-3h0m3.5 3h0m3.5-2h0m-65 9.5h0m0.5-4h0m6.5 3.5h0m4.5-2.5h0m3-0.5h0m0 2.5h0m3.5-2h0m12.5-1.5h0m6-0.5h0m-34.5 7h0m8.5-1h0m2 4.5h0m4.5 0h0m4.5-3.5h0m-20 9h0m1.5-1h0m6 2h0m4-3.5h0m-17 8h0m10.5-1.5h0m0.5-0.5h0m-6.5 6.5h0m0.5 3h0m3-3.5h0m0.5 2.5h0m1.5-2.5h0m7.5-1h0m-19.5 5.5h0m1.5 1.5h0m2.5 2.5h0m8-4.5h0m8 4h0m-15.5 6h0m4.5 1.5h0m2.5-4h0m-13 7h0m6.5 3h0m5-4.5h0m-25 7.5h0m3.5 0.5h0m3.5 1h0m6.5 1h0m4-3.5h0m3 1h0m0 1.5h0m-19.5 4.5h0m9.5 3.5h0m6.5-1.5h0m1-4.5h0m-15.5 8h0m7 0.5h0m2.5 2h0m-1 3.5h0m0 1.5h0m5 1h0m3 1h0m-14.5 1.5h0m17 3.5h0m-13.5 3.5h0m6.5 2.5h0m2-2h0m0.5 7h0" stroke="#EDF8A3" stroke-width="2.7" stroke-linecap="round" fill="none"/>
<path d="M45 541h0m11.5 2.5h0m3 4h0m1.5 1h0m-5 4.5h0m0 0.5h0m3 7.5h0m-14.5 2.5h0m17 13h0m-26.5 37h0m2.5-3h0m9-0.5h0m1 5h0m47-4h0m-76 5.5h0m22.5 1h0m8.5 3.5h0m11-4.5h0m4 1h0m0.5 3h0m29-2h0m-66.5 4h0m2.5 4.5h0m7-1.5h0m1-3h0m5-1h0m3.5 5h0m0-1.5h0m4 1h0m0.5-4h0m3.5-0.5h0m1.5 3h0m23 2h0m0-3h0m7 2h0m5.5 0h0m10.5-4.5h0m-74.5 7.5h0m4 1h0m1-1.5h0m5 2h0m11 1.5h0m3-4.5h0m0 5h0m10.5-3.5h0m0.5 2.5h0m4.5 2h0m5.5-3.5h0m1-1.5h0m3.5-0.5h0m9 0h0m2 1h0m0 2.5h0m5-0.5h0m0 2h0m-63.5 2h0m2-0.5h0m3 3.5h0m16-1.5h0m18 3h0m4-0.5h0m5.5-5h0m0.5 2h0m4.5 1.5h0m2 0h0m16-1.5h0m-49.5 3.5h0m25 4h0m10-1h0m3-1.5h0m1 2h0m1 1.5h0m1.5-1h0m2 1.5h0m1.5-5h0m2.5 5h0m2.5-2.5h0m-62.5 5h0m18.5-1h0m23.5-0.5h0m3.5 0.5h0m2 2.5h0m2 2h0m1.5-2h0m0.5 2h0m4.5-4h0m-18.5 7h0m8.5-1.5h0m2 1.5h0m8 0h0m7 1.5h0m3 6.5h0m1-1h0m5.5-3h0m10.5 3h0m16.5-2.5h0m3 3h0m-54 6h0m4.5 0.5h0m1.5 0h0m2.5-2.5h0m4 1h0m1.5 0.5h0m7 0h0m12.5 1h0m7.5-0.5h0m-55.5 2.5h0m5 5.5h0m4-0.5h0m1-4h0m2-1h0m2 2.5h0m1 2.5h0m3-3.5h0m4-1h0m2 1h0m0.5 3.5h0m3-1h0m12.5 1h0m3-4.5h0m4.5-0.5h0m7.5 2h0m6-2h0m12.5-0.5h0m-60.5 11h0m15.5 0h0m1.5-1.5h0m16.5 0.5h0m0.5 1h0m1.5-0.5h0m-49.5 6.5h0m11-1.5h0m2-1.5h0m7.5 3.5h0m4-2.5h0m10-2h0m2.5 2.5h0m13-3h0m-56.5 9h0m11-2.5h0m2 3h0m2.5-1.5h0m3.5 3.5h0m1.5-2h0m0.5 1.5h0m2.5-4.5h0m3 4.5h0m2.5-4.5h0m-34 11h0m11.5-4.5h0m7-0.5h0m5 1h0m2 0h0m2.5 0h0m0-1h0m2.5 4h0m-15 3h0m0 1.5h0m9 2.5h0m2-1h0m4.5-0.5h0m-28.5 7.5h0m0.5-3h0m7.5 1h0m15.5-2h0m-23.5 8.5h0m4.5-2.5h0m9.5-1h0m-31 8.5h0m25.5 2.5h0m8-5.5h0m-20 11h0m21.5-1.5h0m-25 4h0m12.5 1h0m4 2.5h0m6.5-1h0m-24.5 1.5h0m2 3.5h0m4 2.5h0m0-1.5h0m0.5-1.5h0m4.5 3h0m2-5h0m2 2h0m-9 8.5h0m3.5-3.5h0m9 3h0m7 0h0m-22.5 2h0m3.5 2.5h0m1 4.5h0m14 5.5h0" stroke="#F9FDB6" stroke-width="2.7" stroke-linecap="round" fill="none"/>
<path d="M59.5 556h0m-6 54.5h0m-25.5 9h0m5.5-4h0m5 4.5h0m6.5-3h0m2.5 1.5h0m4.5-3h0m2 1h0m5 1h0m-34.5 8h0m7-1.5h0m7 0h0m3 1.5h0m7.5 0.5h0m22.5-2.5h0m0.5 0.5h0m-35.5 4h0m2 2h0m0.5 2.5h0m2-1h0m3.5 1h0m2-3.5h0m0.5 2.5h0m11.5-2.5h0m0 3.5h0m6-3.5h0m0 4h0m1-2h0m11.5 1.5h0m5.5-1.5h0m2.5-0.5h0m21.5 0h0m-80 2.5h0m4 5h0m2.5-1.5h0m4.5 1.5h0m9.5 0.5h0m9-2.5h0m2-1.5h0m0 2h0m2 0h0m9-1h0m2 1h0m3.5 0.5h0m5.5 0.5h0m8.5 1h0m-58.5 0.5h0m7 3.5h0m2.5 0h0m1.5-1h0m9 2.5h0m9-3.5h0m13.5-1.5h0m3.5 0h0m5.5 1.5h0m2.5 1h0m1 3h0m7.5-4.5h0m-57.5 7h0m36-1h0m6.5 4h0m2 0h0m3.5 1h0m-14 5h0m8 0.5h0m2-5h0m4.5 3.5h0m4.5 0.5h0m1.5-1h0m-37 7h0m20.5-4h0m5 3.5h0m14 1h0m6-1h0m2.5-4h0m19.5 1h0m-47 7.5h0m7.5-2h0m3 4.5h0m1-0.5h0m0.5-4h0m11.5 3.5h0m1-1.5h0m5 3h0m6.5-5h0m12.5 2.5h0m19-2.5h0m10 2.5h0m-82.5 3.5h0m17.5 5h0m4.5-3.5h0m0.5-2h0m4.5 1.5h0m9 4h0m18.5-1.5h0m-47 2h0m1.5 6h0m4-4h0m1-0.5h0m8 0.5h0m42.5 0h0m-92.5 6.5h0m36 2h0m6-4h0m0 4.5h0m5-2.5h0m3 0h0m7.5-1h0m14.5-0.5h0m-37 7h0m-6 9h0m5.5-2h0m6.5 3h0m13-1.5h0m-27.5 4.5h0m1-2.5h0m3 5.5h0m5.5-1h0m1.5-3.5h0m3.5 0.5h0m1.5 3h0m-15 1h0m0 5.5h0m13-2h0m-55.5 2.5h0m41 2.5h0m5-0.5h0m3.5-1h0m0 3.5h0m4.5-2.5h0m4 0h0m-30.5 7.5h0m13.5-1h0m1.5 2.5h0m2-1h0m5-1.5h0m4.5-0.5h0m-21.5 6.5h0m4 2h0m2.5-2.5h0m2 3h0m6.5-3.5h0m4 1.5h0m-21 7.5h0m-8 5h0m1.5 2h0m5-3.5h0m10.5 0h0m0.5 2.5h0m6.5-1h0m2-1.5h0m-21 6.5h0m0.5-0.5h0m1.5 1.5h0m1 1.5h0m7-1h0m3.5 0h0m4 0h0m-5 4.5h0m1.5 14h0" stroke="#FFF8B3" stroke-width="2.7" stroke-linecap="round" fill="none"/>
<path d="M56.5 592.5h0m-16.5 34h0m-8.5 5h0m20-2h0m4 3h0m5-3.5h0m13.5 3h0m9-1.5h0m-54.5 6h0m8-1h0m4-2h0m1.5 2.5h0m9.5-1h0m1.5 1h0m8 2h0m-28.5 2h0m0.5 4h0m20.5-4.5h0m1 3h0m3.5 0.5h0m3.5-2h0m9.5 0h0m3 3h0m1.5-2h0m36-2.5h0m-78.5 8.5h0m2 1.5h0m0-4.5h0m4 0.5h0m2 3.5h0m2.5-0.5h0m6 0.5h0m4.5-3.5h0m2 2h0m3 3h0m0.5-2h0m2-2h0m2.5 4h0m0.5-3.5h0m6.5 3.5h0m1.5-3.5h0m6 0h0m3.5 0h0m29-1.5h0m-75.5 6.5h0m2.5 1h0m8 0.5h0m3-0.5h0m2.5-0.5h0m0 4.5h0m20-4.5h0m7-0.5h0m0 1.5h0m0.5 2.5h0m6-0.5h0m20.5-3h0m18.5 3.5h0m8-0.5h0m-82 7h0m3-3h0m7 0.5h0m6.5-3h0m8.5 2h0m8 1.5h0m0.5 1.5h0m2.5 0.5h0m1.5-4.5h0m0.5-1h0m5 4.5h0m54-4h0m-87 6.5h0m7.5 1.5h0m9.5-1h0m3.5 2h0m18.5-3h0m-62 6.5h0m14 0.5h0m6 4.5h0m3-0.5h0m4.5-5.5h0m11 2h0m0 2h0m12 1.5h0m0.5-5.5h0m2.5 4.5h0m11-2.5h0m34.5 0h0m3 2.5h0m10-4h0m-86 7.5h0m2.5 0h0m3 2.5h0m3.5-1.5h0m6.5 0.5h0m1 2.5h0m1.5-0.5h0m43.5-2h0m21-3h0m-126 11h0m4-2.5h0m37-0.5h0m9.5 0.5h0m11-1.5h0m47.5-1.5h0m7.5 1h0m-74 8.5h0m5.5 1.5h0m2-3.5h0m4 4h0m2-2h0m5 2h0m-14 3.5h0m0.5 1h0m3-2h0m1.5 2h0m4.5-3.5h0m-25.5 8h0m21.5 1h0m14-0.5h0m-28 3.5h0m7 0.5h0m8.5 2.5h0m5-0.5h0m-28.5 8h0m5.5-4.5h0m2.5 2.5h0m1-1.5h0m0.5 4h0m3-2.5h0m12.5-0.5h0m8 1h0m-38.5 3h0m14 2.5h0m4 3h0m2-0.5h0m3-2h0m4.5-1h0m4-1.5h0m-29.5 8.5h0m2.5 1.5h0m2.5 1h0m4-6h0m6.5 5h0m1.5-0.5h0m2-0.5h0m2.5 0.5h0m2-4h0m-26 9h0m2.5 0h0m1.5 1.5h0m12.5 0h0m-10.5 1.5h0m0.5 2h0m1.5 2h0m2.5 0h0m7-0.5h0m0-2.5h0m-5.5 6h0m12.5-0.5h0" stroke="#FEE99A" stroke-width="2.7" stroke-linecap="round" fill="none"/>
<path d="M60 562.5h0m-7.5 62.5h0m-16.5 5.5h0m18.5 1h0m7 1h0m-32 2.5h0m3 4h0m3.5-4.5h0m4.5 2.5h0m1 0.5h0m0-2.5h0m5 0.5h0m1.5 1.5h0m1.5 2h0m7-1h0m12.5 0h0m8 1h0m-45 3.5h0m9 2h0m1-1h0m2 0h0m3.5 1h0m4.5-3h0m4-1.5h0m12 4h0m0.5-0.5h0m1-1h0m10 1h0m-43 2.5h0m1.5 4h0m16.5-1.5h0m4-3h0m2.5 2.5h0m0.5-2.5h0m4 3h0m2-1h0m0.5 3h0m1-1.5h0m1.5-0.5h0m5-1h0m2-2h0m0.5 0h0m3 1h0m-45.5 6h0m0.5-1h0m0.5 3.5h0m6-2h0m4-1.5h0m25.5 5.5h0m0-1.5h0m52-1.5h0m-83 8h0m8-3h0m5.5 1h0m1.5 2h0m0-3h0m11.5 0h0m5 1.5h0m3.5 1h0m1-4h0m1.5 5.5h0m2-4.5h0m-34.5 6.5h0m5-0.5h0m11 3h0m7.5-3h0m1.5 4.5h0m3.5-4.5h0m0.5 4h0m-13 2.5h0m7.5 3.5h0m2-3h0m9.5-0.5h0m53.5 3.5h0m8-1h0m5-1h0m-131.5 4.5h0m35-1h0m2 3.5h0m5.5 1h0m4.5-1h0m0.5-3h0m9.5 4h0m10.5-3.5h0m-38.5 6h0m7-0.5h0m7.5 3.5h0m2-5h0m5 1.5h0m4.5 2h0m4.5 0h0m3 0.5h0m2.5 0.5h0m62-1.5h0m-89 4h0m12.5 4h0m0.5-2.5h0m5.5 2.5h0m11-1.5h0m-66 3h0m15.5 4.5h0m15.5-4.5h0m4.5 3h0m4.5 1.5h0m2-2.5h0m8.5-2h0m5 1.5h0m2.5 2h0m2.5-2.5h0m-58 6h0m39.5 4.5h0m6.5-1.5h0m4.5-4h0m10.5 1.5h0m-17 7.5h0m3 1.5h0m0.5-1h0m1.5-2.5h0m2-1h0m0.5 0h0m3 2h0m1 0h0m4-2h0m-29 5.5h0m4 6h0m6.5-5h0m7.5 2.5h0m2 0h0m2.5 2.5h0m-34 3.5h0m13-2h0m5.5 0h0m7-1h0m-27 7h0m3.5 0.5h0m5.5-2h0m3 0h0m3.5 1h0m2.5 2.5h0m0.5-1.5h0m4.5 2.5h0m0-3.5h0m5.5 0.5h0m7.5-0.5h0m2-1h0m-35.5 6.5h0m0.5 5.5h0m6.5-5h0m3.5 2.5h0m2.5-3h0m0 5h0m5-1h0m11-1.5h0m3-2.5h0m-15.5 6.5h0m3-1h0m-2 9h0m2 1.5h0m6 9h0" stroke="#FED683" stroke-width="2.7" stroke-linecap="round" fill="none"/>
<path d="M64 638.5h0m-21.5 5.5h0m3 0.5h0m0.5-4.5h0m2 3.5h0m16-1.5h0m3-1.5h0m3 3.5h0m2.5-0.5h0m-31.5 7h0m5.5-0.5h0m2 0.5h0m6.5 0h0m5-1.5h0m14.5 0.5h0m-34 2.5h0m2 5h0m2.5-5.5h0m8 0h0m4 1.5h0m3 2.5h0m2 1.5h0m3.5-3h0m0.5 3h0m2.5-2.5h0m4.5 0h0m-36.5 3h0m1.5 5h0m5-2h0m0.5 0h0m0.5-2h0m13 1h0m9 3.5h0m3-6h0m-32 8h0m1.5 3h0m11.5-1.5h0m7.5-3h0m6.5 4h0m5.5-1.5h0m7 0.5h0m4-2h0m2 0h0m-48.5 9.5h0m8 0h0m6 0.5h0m13.5-4.5h0m2.5 2h0m2 0.5h0m2-1.5h0m6.5 1h0m5.5-3h0m0.5 4.5h0m28 1h0m-92 2.5h0m8-1.5h0m2.5 1h0m19-0.5h0m2 0h0m2 3h0m2-2h0m1-1.5h0m6 0h0m11.5 4h0m0-3h0m4-1h0m-27 6.5h0m2.5-1h0m0.5 3.5h0m7-1h0m4 1.5h0m2.5-3.5h0m0.5 4.5h0m5 0h0m-34 6.5h0m13.5-4.5h0m8.5 1h0m5.5-1h0m5.5-1h0m3.5 1.5h0m8.5 1.5h0m-39.5 7.5h0m6-2.5h0m7.5 0h0m0.5-1h0m1.5 3h0m1-0.5h0m4.5-3h0m0.5 1h0m0.5 3.5h0m2-3h0m9 2.5h0m-55.5 6h0m10-1.5h0m24.5 3h0m0.5-3.5h0m2 3h0m2-5.5h0m1.5 3h0m4-0.5h0m-43 4.5h0m11 3h0m29.5-1h0m2-2.5h0m0 1h0m13.5 1.5h0m-50.5 7.5h0m10-3h0m18.5 0h0m0.5 4h0m6.5-1h0m5.5 0h0m-33 4.5h0m7.5-0.5h0m19-2h0m1 2.5h0m-31 3h0m5 4.5h0m8-1.5h0m9-1.5h0m6.5 0h0m-11 10h0m3-3.5h0m1.5-0.5h0m-8 5h0" stroke="#FDBF6F" stroke-width="2.7" stroke-linecap="round" fill="none"/>
<path d="M61.5 637.5h0m-27 4.5h0m15-1h0m0 2h0m15-2.5h0m-19.5 7.5h0m1.5-1.5h0m18 3.5h0m-26 6h0m17.5-0.5h0m0.5-4h0m1 1.5h0m5-0.5h0m4.5 4h0m4-2.5h0m-34 7h0m15.5-2.5h0m5-1.5h0m4 3.5h0m1.5-3h0m7.5 2.5h0m1 2h0m-31.5 6.5h0m3-0.5h0m1-2.5h0m1 3h0m2.5-1.5h0m3.5-3h0m3.5 4h0m3.5-2h0m3.5-2h0m6.5-0.5h0m6.5 3.5h0m-33.5 5h0m2.5 1.5h0m4.5-3.5h0m3.5 2.5h0m1-3h0m4.5 0h0m3 0h0m2 5.5h0m1-0.5h0m15-0.5h0m-59.5 1.5h0m9.5 4.5h0m5.5-2.5h0m26 1h0m6 2h0m1-2.5h0m3.5-1h0m4.5 1.5h0m-50.5 7h0m2-4.5h0m2.5 0h0m4.5 0h0m25 6h0m4.5-1h0m0-1.5h0m0.5-2h0m9-0.5h0m-47 8.5h0m9-1h0m2.5-2h0m2.5 2h0m3.5 0.5h0m5 0.5h0m2 0.5h0m2-1.5h0m2.5 2h0m2.5-2h0m2.5 2h0m-35 2.5h0m0.5 1.5h0m3 0h0m2.5-1h0m2 1.5h0m1.5 0.5h0m10-3h0m1.5 0h0m6 0.5h0m-25 8h0m1.5 3h0m10-5h0m0.5 4.5h0m1.5-1.5h0m0.5-2.5h0m1 4h0m4-2.5h0m10 0h0m4-1.5h0m2.5 2.5h0m3.5-3.5h0m3 2h0m-47 8h0m3.5-3.5h0m3 0h0m7 1.5h0m7.5 0.5h0m1.5-3h0m7 5h0m1-2h0m6 0h0m1.5 2.5h0m-29.5 0.5h0m0.5 5.5h0m3.5 0h0m1.5-1h0m2.5 1.5h0m4.5-4h0m2.5 0h0m0-1.5h0m4.5 5h0m-18.5 3h0m4 2.5h0m11.5-4h0m10.5 2.5h0m3 2.5h0m10.5-6h0m-40.5 9.5h0m7 1.5h0m3.5-0.5h0m4 0.5h0m0.5-4h0m0.5 0.5h0m-7.5 5.5h0m1-1h0m1 3h0m1.5 3h0m3-4.5h0m2.5-0.5h0m9.5-1h0" stroke="#FCA55D" stroke-width="2.7" stroke-linecap="round" fill="none"/>
<path d="M57 644.5h0m-8.5 2h0m4 0h0m10-1h0m-9 7.5h0m1.5 3h0m7-2h0m2 0h0m-16.5 6h0m1.5 1h0m11.5-2h0m0.5 3.5h0m3-3h0m0 2.5h0m-14 7h0m5.5-1h0m1-2h0m9-0.5h0m-33 9h0m6.5-0.5h0m3.5-4.5h0m1.5 0.5h0m10 2.5h0m1 0h0m3 2h0m7.5-3.5h0m6.5 3h0m-54 6h0m2-3h0m4 3h0m1-2h0m6.5-2.5h0m0.5 3.5h0m5.5 0h0m0-4h0m0.5 5.5h0m1.5-1h0m3.5 0.5h0m2-1h0m9-2h0m4.5 1.5h0m-39.5 3.5h0m1.5 2.5h0m5.5-1.5h0m2.5 2h0m3.5-3h0m8.5 0.5h0m2-0.5h0m1 3.5h0m14-3.5h0m-39 6.5h0m2.5 2.5h0m10-1h0m0 0h0m3.5 1h0m0.5-2h0m3.5 2.5h0m3-3h0m2 1.5h0m0.5 0.5h0m8-3h0m2.5 0.5h0m0 5h0m2.5-1h0m3.5-4h0m-39.5 8h0m1.5 2.5h0m6.5-4.5h0m3.5-1h0m7 5.5h0m5.5-4h0m7.5 4.5h0m1.5 0h0m9-3.5h0m-41 5h0m0.5 3.5h0m10-1.5h0m2.5 2h0m4 0.5h0m2-5h0m1.5 1.5h0m4.5-1h0m1 1h0m2-0.5h0m2-2h0m10 2h0m-39.5 5.5h0m17.5 3h0m0-3h0m9-1h0m3.5 5h0m0.5-3h0m0.5 1h0m8.5-2h0m-39.5 8.5h0m4.5-2h0m3.5 2h0m3.5-3.5h0m2.5 1.5h0m2.5 2h0m4.5 0.5h0m4.5-2h0m1.5 0h0m2-1.5h0m-19.5 6.5h0m3.5 1h0m3.5 3.5h0m4-1h0m7.5-1h0m0 5.5h0m1 0h0m-18.5 3h0m5 2.5h0m2.5 2h0m2.5-3h0m2 7h0" stroke="#F7864E" stroke-width="2.7" stroke-linecap="round" fill="none"/>
<path d="M56.5 650h0m-6.5 5.5h0m-10.5 5h0m5.5 2.5h0m4-1h0m-10.5 4h0m15.5-1h0m11 0.5h0m-27 7.5h0m0.5-1h0m7-1.5h0m4.5 3.5h0m9.5-2.5h0m-39 6h0m9 2h0m0-2h0m10 0h0m1-1.5h0m0.5 3h0m1-2.5h0m-13.5 10h0m3.5-0.5h0m1-1h0m1.5-2.5h0m-14.5 9.5h0m0.5 0.5h0m1.5-5.5h0m8 5.5h0m4-5h0m16-0.5h0m2.5 5h0m-24.5 5h0m7.5 0h0m2-1h0m12.5 0.5h0m0.5 1.5h0m-31 4h0m5-2h0m5 0h0m14.5 0.5h0m2.5 3.5h0m-26.5 4h0m4 3h0m1-3h0m4 1h0m2.5-1.5h0m5 2.5h0m5.5-4h0m4.5 0h0m-20 10.5h0m15 0h0m1 0h0m5.5-4.5h0m1.5 5h0m-23 2h0m1.5 1h0m4 3h0m12-1.5h0m4.5-2h0m3 0h0m0.5 2h0m9.5-3.5h0m-30.5 8h0m0-1.5h0m1.5-0.5h0m4.5 1.5h0" stroke="#F16944" stroke-width="2.7" stroke-linecap="round" fill="none"/>
<path d="M44 656.5h0m-5.5 1.5h0m-3 21h0m9-2h0m-22 5h0m8.5 3.5h0m7.5 0.5h0m7-1h0m3 0h0m8.5-1h0m-36 5h0m2 0.5h0m3 3.5h0m1-5.5h0m0.5 2h0m2.5 1h0m-9.5 7.5h0m4-0.5h0m14-2.5h0m8.5 4h0m-25 3.5h0m3 1.5h0m6.5-3h0m7.5 5h0m4 4h0m2.5-1.5h0m1-0.5h0m2-0.5h0m3-2h0m-29.5 7.5h0m5.5 2.5h0m4-1.5h0m7-2.5h0m1 5h0m1.5-4.5h0m-14.5 9h0m9.5 4.5h0" stroke="#E2524A" stroke-width="2.7" stroke-linecap="round" fill="none"/>
<path d="M40.5 653.5h0m6 25h0m1 1.5h0m9.5-0.5h0m-32 5h0m11 1h0m6.5 1.5h0m-17.5 3h0m12.5 3h0m0.5-2h0m2.5 3h0m-10 10h0m0.5-2h0m10 1h0m-8 4h0m0.5 3h0m2.5-1h0m-7.5 2.5h0m5.5 5.5h0" stroke="#D23B4E" stroke-width="2.7" stroke-linecap="round" fill="none"/>
<path d="M55.5 682h0m-29 9.5h0m20-4h0m-27 9h0m10 0h0m12.5-0.5h0m-6 7h0m10 11.5h0" stroke="#B81E48" stroke-width="2.7" stroke-linecap="round" fill="none"/>
<path d="M107.5 500.5h0m7.5 0h0m-23.5 3.5h0m1 2.5h0m10.5-5h0m12 0h0m-47.5 11h0m7-2h0m14-2h0m6 3h0m2-2h0m-16.5 7h0m29.5-1h0m-82.5 8.5h0m7.5-3h0m2.5 2.5h0m1.5-1h0m5 1h0m8.5-2h0m10-1h0m7.5 0h0m3.5 4h0m0.5-5h0m3.5 2h0m7.5 2h0m16.5-0.5h0m3 0h0m-50.5 3h0m12.5 1h0m7.5 3h0m24.5-0.5h0m7.5-4h0m-69.5 10.5h0m3-1.5h0m15.5 2.5h0m7.5-5h0m-34 8h0m12.5 0.5h0m28.5-0.5h0m2 1h0m8-1h0m5.5 0h0m-50 6.5h0m1.5-1.5h0m13.5 4h0m8-3h0m1.5 0.5h0m7-2.5h0m3 4.5h0m7-1.5h0m24.5-1.5h0m5-0.5h0m89.5 1h0m-148.5 7.5h0m17-3h0m24 1h0m11.5 0h0m6.5-1.5h0m74.5 4.5h0m-155 4.5h0m9.5-1h0m10.5 3h0m9.5-1.5h0m9.5 1.5h0m7-1h0m3.5-5h0m5 3.5h0m4-1.5h0m4.5 1h0m5-1h0m9.5 1.5h0m-55 4h0m5.5 0.5h0m8.5 0h0m28.5 4h0m10-0.5h0m8.5-1.5h0m80-0.5h0m-158.5 4h0m6 2.5h0m15-3h0m1.5 0.5h0m4 3h0m9.5 1h0m8-2h0m6.5 1.5h0m12-3.5h0m0.5 3.5h0m7.5-4h0m5.5 1h0m14.5 2h0m56.5-3h0m25 1h0m-181 9h0m20 0h0m21-1.5h0m16-2h0m15 3.5h0m15.5-1h0m1.5 1.5h0m11-2.5h0m13-1h0m58.5 3.5h0m19 0h0m-188.5 3.5h0m7 2.5h0m10-3.5h0m2.5-1.5h0m19.5 4h0m5 0.5h0m17-4.5h0m5 2.5h0m5 1h0m16-3.5h0m3 1h0m7.5 3h0m2-3.5h0m43 1.5h0m-145 4h0m9.5 5h0m2-2.5h0m12-2.5h0m7.5 0h0m4.5 3h0m9.5 1h0m14-4.5h0m5.5 0.5h0m5 2.5h0m9 2h0m1.5-4.5h0m40-0.5h0m2.5 2h0m43.5 0.5h0m-147.5 8h0m8.5 1h0m10.5 0h0m4.5-5h0m7.5 5h0m4-5h0m8 1.5h0m10.5-1.5h0m3 1h0m5 4.5h0m3.5-4h0m3.5 0h0m50.5-2h0m27.5 3.5h0m15-3h0m9 5h0m-195 2h0m6.5-1.5h0m15 5h0m13-3.5h0m13-0.5h0m1 4.5h0m4-1.5h0m3.5-2h0m15 3h0m6.5-1h0m6.5 1.5h0m4-3h0m8.5 1h0m75 1.5h0m18-2h0m2.5-0.5h0m-187.5 8h0m12-1.5h0m5.5-0.5h0m2.5 2.5h0m8.5-3.5h0m25 2.5h0m17-2h0m9.5 3.5h0m1.5-2h0m111.5 1.5h0m17.5-3h0m-213.5 6.5h0m3.5 3h0m0.5-3h0m6.5 0.5h0m19.5 1.5h0m2.5 1.5h0m7.5-2h0m6.5-2.5h0m5 4h0m8-3.5h0m5 0.5h0m4.5-1h0m5 0h0m116 0h0m15 2h0m7-3.5h0m-191.5 7.5h0m18.5 4h0m11-5h0m31.5 3h0m2.5 1.5h0m93.5-3.5h0m26.5 3.5h0m19.5-2.5h0m-212.5 5.5h0m21-1.5h0m12.5 3h0m20.5 0.5h0m3-0.5h0m4.5-0.5h0m3.5-1.5h0m131 2.5h0m7.5-2h0m5.5 1h0m-209.5 3h0m9 3.5h0m21 0h0m13-2h0m18.5-0.5h0m3.5 4.5h0m4-3.5h0m7.5 1h0m87-0.5h0m7-2.5h0m1 4h0m20.5-0.5h0m40-3h0m13.5 3h0m-238 7.5h0m5.5-1h0m2-1.5h0m16-2h0m3.5 3.5h0m4-1h0m19.5-2h0m3 1.5h0m10.5 0.5h0m2-1.5h0m8.5 0.5h0m3 1h0m88 2h0m14-4.5h0m32 0h0m-213.5 9.5h0m14.5-3.5h0m9 2.5h0m4 1h0m19.5-1.5h0m7-0.5h0m3 4h0m5.5-0.5h0m18.5-0.5h0m52-4.5h0m3 4h0m10.5-3.5h0m61.5 1.5h0m33.5 1.5h0m-233 3h0m10 4h0m0.5-5h0m19 1h0m1.5 4h0m6.5 0.5h0m2-0.5h0m3-3h0m31.5 0h0m4-0.5h0m45 4.5h0m13.5-3.5h0m34.5-0.5h0m17.5 3.5h0m-184.5 5.5h0m10.5-4.5h0m5.5 4.5h0m4.5-4h0m22 0h0m1.5 1.5h0m1.5 0h0m7.5 1h0m7-2.5h0m5.5 0.5h0m110.5-1h0m26.5-0.5h0m10.5 5h0m-217.5 2.5h0m15.5-1h0m8.5 2h0m5.5-0.5h0m4.5 0.5h0m9 1.5h0m7 0h0m25.5-3h0m22.5 4h0m3.5-1h0m7.5-4h0m84.5 0h0m4 5.5h0m6-3h0m-205.5 5h0m29 0h0m6.5 1.5h0m8 3h0m2.5-1h0m10-4h0m14-1h0m3 3h0m10.5-3h0m22 3h0m0.5 2h0m5.5-3h0m63 0.5h0m9 2h0m41.5-0.5h0m-214.5 6h0m6 1.5h0m4-5h0m20 3h0m8.5-0.5h0m11.5 2h0m4.5-2.5h0m17 3h0m5-5h0m4.5 2h0m15.5 2h0m2 1.5h0m111-3h0m8 0h0m-246.5 6h0m14.5 3h0m5-4h0m40 2.5h0m6-4.5h0m2 2h0m14-1h0m6-1h0m6 5.5h0m40-5h0m64 0.5h0m6.5 0h0m0.5 5h0m17-2h0m-207.5 2h0m3.5 4h0m7.5 2h0m9-3.5h0m5 2h0m24-3h0m4.5 4.5h0m34.5-6h0m21.5 1h0m16.5-0.5h0m104 2h0m4-2h0m-249.5 10h0m2 0.5h0m0.5 0.5h0m8.5-2h0m8.5-3h0m11 4.5h0m9.5 0h0m29.5-2h0m68.5 1h0m-128 5h0m11 1h0m7-3h0m4 0h0m5 5h0m22-5.5h0m9.5-0.5h0m89.5 3.5h0m-147 6h0m0.5 2h0m10.5-2h0m25-3h0m6.5 4h0m9 1.5h0m93-5h0m-139 6h0m8.5-1h0m4 5.5h0m2-1h0m6.5-2.5h0m3 4h0m17.5-3h0m12.5-2.5h0m-63.5 9h0m6-2.5h0m9.5-0.5h0m14.5 1.5h0m42-1h0m4.5 5h0m-64 2.5h0m3 0.5h0m4 3h0m2-4h0m6.5 1.5h0m11-1h0m4.5-1h0m6 2.5h0m12.5 1h0m-55 6.5h0m8.5-2h0m26.5 1h0m2.5-2h0m10 0h0m24.5-2h0m-63.5 8h0m7 0h0m33 3h0m1-3.5h0m6.5-0.5h0m4.5 4h0m8.5-3.5h0m-50 7h0m1-1.5h0m6 3h0m11.5-2h0m35.5-2h0m-30 10h0m9-3.5h0m7 0.5h0m12 1.5h0m-41 7h0m6-0.5h0m8 1.5h0m12.5 0.5h0m5.5-5h0m-20.5 8.5h0m-6.5 4h0m1.5-0.5h0m10 3.5h0m1.5-3h0" stroke="#FFFFFF" stroke-width="1.5" stroke-linecap="round" fill="none"/>
</g>
<text x="1111.6" y="484.1" font-size="30.5" text-anchor="middle" font-style="italic">Cd27</text>
<g transform="translate(948.7 5.7)">
<path d="M151.5 580C152.2 577.5 158.5 578.8 161.5 578C164.5 577.2 167.5 576.7 169.5 575C171.5 573.3 172.7 570.7 173.5 568C174.3 565.3 173.4 562.2 174.5 559C175.6 555.8 177.6 551.8 179.9 548.9C182.2 546 185.5 542 188.3 541.6C191.1 541.2 194.6 544.5 196.7 546.8C198.8 549.1 200.1 552.3 200.9 555.2C201.7 558.1 200.6 561.2 201.5 564C202.4 566.8 204.8 570 206.5 572C208.2 574 210.5 573.3 211.5 576C212.5 578.7 211.7 584.5 212.5 588C213.3 591.5 214.7 594.7 216.5 597C218.3 599.3 220.7 600.7 223.5 602C226.3 603.3 229.8 603.8 233.5 605C237.2 606.2 240.8 607.5 245.5 609C250.2 610.5 257.2 611.6 261.6 613.8C266 616 269.7 618.2 272.1 622.2C274.5 626.2 275 632.7 276.2 637.9C277.4 643.1 279.4 648.4 279.4 653.6C279.4 658.8 277.8 664.9 276.2 669.3C274.6 673.7 272.4 676.6 270 679.8C267.6 682.9 265.6 686.1 261.6 688.2C257.6 690.3 251.1 692.3 245.9 692.3C240.7 692.3 234.6 689.8 230.2 688.2C225.8 686.6 222.7 685.5 219.7 682.9C216.7 680.3 214.1 676 212.4 672.5C210.6 669 211.5 665.1 209.2 662C206.9 658.9 201.4 656.3 198.8 653.6C196.2 650.9 194.9 649.3 193.5 646C192.1 642.7 191.4 638 190.5 634C189.6 630 189.4 625.6 188.3 622.2C187.2 618.8 186.4 616.2 184.1 613.8C181.8 611.4 177.8 609.7 174.7 607.6C171.6 605.5 168.2 603.7 165.3 601.3C162.4 598.9 159.8 596.5 157.5 593C155.2 589.5 150.8 582.5 151.5 580Z" fill="#DCDCDC"/>
<path d="M143.5 658C145.2 656 149.2 654.5 151.5 653C153.8 651.5 155.2 652 157.5 649C159.8 646 163.3 638 165.5 635C167.7 632 168.7 631.3 170.5 631C172.3 630.7 175.2 631.5 176.5 633C177.8 634.5 177.5 637.7 178.5 640C179.5 642.3 181.5 645 182.5 647C183.5 649 185.7 650.7 184.5 652C183.3 653.3 178.2 654 175.5 655C172.8 656 170.8 656.2 168.5 658C166.2 659.8 163 663.3 161.5 666C160 668.7 159.5 671 159.5 674C159.5 677 160 681.3 161.5 684C163 686.7 165.8 687.9 168.5 690C171.2 692.1 174.5 694.5 177.5 696.5C180.5 698.5 185.8 700.1 186.5 702C187.2 703.9 184.2 706.7 181.5 708C178.8 709.3 173.2 708.3 170.5 710C167.8 711.7 166.3 715.3 165.5 718C164.7 720.7 166 724.3 165.5 726C165 727.7 163.6 729.3 162.5 728C161.4 726.7 160.8 721 159.1 718C157.4 715 153.9 712 152.5 710C151.1 708 150.5 708.7 150.5 706C150.5 703.3 152.4 696.9 152.5 694C152.6 691.1 150.7 690.8 151.1 688.5C151.5 686.2 155.4 682.8 155.1 680.5C154.8 678.2 151.3 676.6 149.5 675C147.7 673.4 145.8 672.7 144.5 671C143.2 669.3 141.7 667.2 141.5 665C141.3 662.8 141.8 660 143.5 658Z" fill="#DCDCDC"/>
<defs><linearGradient id="g_Cd27" gradientUnits="userSpaceOnUse" x1="0" y1="490" x2="0" y2="775"><stop offset="0.018" stop-color="#A5D6A6"/><stop offset="0.421" stop-color="#9FD3A6"/><stop offset="0.561" stop-color="#7A86AC"/><stop offset="0.667" stop-color="#5E4FA2"/><stop offset="1" stop-color="#5E4FA2"/></linearGradient></defs>
<path d="M109.9 492.4C112 492.7 113.9 493.3 114.9 495.9C115.9 498.4 115.7 502.4 115.8 507.7C115.9 513 115.5 522.1 115.4 527.4C115.2 532.6 115.8 535.9 114.9 539.2C114 542.5 110.9 544.1 109.9 547.1C108.9 550.1 108.2 554.4 108.9 557C109.6 559.6 111.4 560.9 113.9 562.9C116.4 564.9 120.4 566.8 123.7 568.8C127 570.8 130.3 572.9 133.6 574.7C136.9 576.5 140.1 578.6 143.4 579.6C146.7 580.6 151.2 579.7 153.3 580.6C155.4 581.5 156.3 583.3 156.2 585C156.1 586.7 154.1 590 152.5 590.7C150.9 591.5 149.6 590.2 146.4 589.5C143.2 588.8 137.3 587.3 133.5 586.5C129.7 585.7 127 584.5 123.7 584.5C120.4 584.5 115 584.9 113.9 586.5C112.7 588.1 117.1 591.9 116.8 594.4C116.5 596.9 114 599.6 111.9 601.3C109.8 602.9 106 602.6 104 604.3C102 605.9 100.4 608.8 100.1 611.2C99.8 613.7 100.8 616.5 102.1 619C103.4 621.5 106 623.1 108 625.9C110 628.7 112.3 632.9 113.9 635.8C115.5 638.6 116.5 641 117.8 643C119.1 645 121.2 646 121.8 647.7C122.4 649.4 119.5 651.7 121.5 653C123.5 654.3 129.6 654.9 133.6 655.6C137.6 656.4 142.6 657.4 145.4 657.5C148.2 657.6 149.3 655.8 150.5 656.5C151.7 657.2 152.8 659.6 152.5 662C152.2 664.4 150 667.1 148.5 671C147 674.9 145.9 683.4 143.4 685.1C140.9 686.8 136.9 681.9 133.6 681.2C130.3 680.6 127.3 680.6 123.7 681.2C120.1 681.9 115.2 684.5 111.9 685.1C108.6 685.8 106.6 684.1 104 685.1C101.4 686.1 97.7 688.5 96.1 691.1C94.5 693.7 93.5 698.3 94.2 700.9C94.9 703.5 98.5 704.5 100.1 706.8C101.7 709.1 102.9 711.7 104 714.7C105.1 717.7 106 721.7 107 724.6C108 727.5 109.6 728.8 109.9 732.4C110.2 736 109.9 742.6 108.9 746.2C107.9 749.8 106.5 751.1 104 754.1C101.5 757.1 98.3 761.2 94.2 764C90.1 766.8 83.5 770.2 79.4 770.9C75.3 771.5 72.5 770 69.5 767.9C66.5 765.8 63.8 761.3 61.7 758C59.6 754.7 58.7 751 56.7 748.2C54.7 745.4 52.6 743.4 49.8 741.3C47 739.2 43.3 737.5 40 735.4C36.7 733.3 33.1 731.6 30.1 728.5C27.1 725.4 24.2 720.7 22.2 716.7C20.2 712.8 19.1 709.4 18.3 704.8C17.5 700.2 17.1 692.7 17.3 689.1C17.5 685.5 19.6 684.5 19.3 683.2C19 681.9 15.9 682.5 15.4 681.2C14.9 679.9 14.7 676.5 16.3 675.3C17.9 674.1 22.7 673.8 25.2 673.8C27.7 673.8 29.1 675.9 31.1 675.3C33.1 674.7 36.2 673.3 37 670.4C37.8 667.5 36.8 661.7 36 657.6C35.2 653.5 33.6 649.5 32.1 645.7C30.6 641.9 28.7 637.8 27.2 635C25.7 632.2 24.7 631.6 23.2 628.9C21.7 626.2 19.8 622.8 18.3 619C16.8 615.2 15.5 610.8 14.4 606.2C13.2 601.6 11.4 595.5 11.4 591.4C11.4 587.3 13.1 585.2 14.4 581.6C15.7 578 17.7 573.6 19.3 569.8C20.9 566 22.7 562.7 24.2 558.9C25.7 555.1 28 550.7 28.2 547.1C28.4 543.5 25.9 540.6 25.2 537.3C24.5 534 23.7 530.2 24.2 527.4C24.7 524.6 25.9 522 28.2 520.5C30.5 519 34.9 518.7 38 518.5C41.1 518.3 44.4 520 46.9 519.5C49.4 519 50.5 517.1 52.8 515.6C55.1 514.1 57.9 512.3 60.7 510.7C63.5 509.1 66.2 507.4 69.5 506.2C72.8 505 76.6 505 80.4 503.8C84.2 502.6 88.6 500.5 92.2 498.8C95.8 497.1 99.2 495 102.1 493.9C105.1 492.8 107.8 492.1 109.9 492.4Z" fill="url(#g_Cd27)"/>
<path d="M213.4 561.5C214.1 559.8 217.8 557 219.7 555.2C221.6 553.4 222.4 551.3 224.9 550.5C227.3 549.7 232.1 549 234.4 550.5C236.7 552 238.2 556.5 238.5 559.4C238.8 562.3 237.9 564.8 236.5 567.8C235.1 570.8 231.6 574.4 230.2 577.2C228.8 580 229.5 581.9 228.1 584.5C226.7 587.1 223.9 591 221.8 592.9C219.7 594.8 217.2 596 215.5 596C213.8 596 211.6 594.8 211.3 592.9C210.9 591 212.3 587.1 213.4 584.5C214.4 581.9 216.2 579.6 217.6 577.2C219 574.8 221.4 572.1 221.8 569.9C222.1 567.7 220.8 564.7 219.7 564C218.7 563.3 216.6 566.1 215.5 565.7C214.4 565.3 212.7 563.2 213.4 561.5Z" fill="#5E4FA2"/>
<path d="M107.5 494h0m-5.5 6h0m1.5 0h0m1-4.5h0m1.5 2h0m1 3h0m2.5-4.5h0m0.5 3h0m3.5-3h0m-34 9.5h0m9-4h0m2.5 3.5h0m0.5 2h0m3.5-4.5h0m16.5-1h0m-42.5 9h0m4 0h0m1.5 0h0m3-1.5h0m1-0.5h0m2 0h0m6.5 4.5h0m0.5-2h0m4.5 1h0m1.5-1h0m1.5-3.5h0m0 3.5h0m9 1.5h0m4.5-3.5h0m-57.5 9h0m6-1.5h0m6-3h0m3.5 4.5h0m4 0.5h0m10-2.5h0m15 0.5h0m3-0.5h0m1.5-1.5h0m5 0h0m2.5 1.5h0m-73.5 7h0m4 1.5h0m0.5-4h0m1-1h0m5.5 0h0m4.5 3h0m6-1h0m10 2h0m3-1h0m3 0.5h0m1-4h0m9.5 5.5h0m11.5-1.5h0m0.5-1.5h0m1-2.5h0m1.5 3.5h0m1 1h0m5-0.5h0m8.5-3h0m1.5 2h0m-82.5 4h0m2 0h0m2 3h0m0.5-2.5h0m4.5 3.5h0m5-5h0m9.5 4.5h0m0.5-4h0m8.5-0.5h0m1.5 5h0m0.5-2.5h0m5 2.5h0m0.5-3.5h0m2.5 2h0m0.5-2h0m4-1h0m0.5 2h0m4 0.5h0m3 0h0m0 1.5h0m6-1.5h0m8 0h0m2-1h0m3.5-0.5h0m0 3.5h0m8.5 0h0m-87 6h0m2.5-4.5h0m2.5-0.5h0m0.5 0h0m0.5 4.5h0m8.5-0.5h0m8.5-3h0m2 5h0m1.5-3h0m0 1.5h0m1.5-2.5h0m3-0.5h0m12.5 1h0m2 3h0m6 0h0m6.5-2.5h0m1.5-1h0m7.5 0h0m3-1h0m2 0h0m1 3h0m7.5-2.5h0m6.5 2h0m-80 8h0m3-2.5h0m5 1h0m2-1.5h0m2 2.5h0m10.5-0.5h0m11-1.5h0m2 1.5h0m3-3.5h0m1 4.5h0m10.5-5h0m2.5 3.5h0m2 1h0m4.5-4.5h0m1.5 2.5h0m3-2.5h0m0.5 4h0m5-2.5h0m5.5-2h0m4.5 3h0m-83 3h0m8 1.5h0m3 2h0m2.5 1h0m8.5-0.5h0m13-1h0m6 0h0m13 1.5h0m0.5-3h0m4.5 1h0m0.5-2.5h0m2.5 5.5h0m3-3.5h0m2 2h0m0.5-3h0m6.5 2.5h0m1 0h0m4 1h0m1-0.5h0m1-3h0m71.5 4.5h0m6.5-3h0m1.5-2h0m-162.5 10.5h0m5.5-4.5h0m4 1h0m4 3h0m0.5-2.5h0m1.5 2.5h0m0.5-0.5h0m0-3h0m3 3.5h0m3-3h0m14-0.5h0m12.5 5h0m5-2h0m0 1.5h0m3.5-3h0m0-1.5h0m2.5 0.5h0m0 2.5h0m9.5-3.5h0m2 4h0m3-2h0m4.5 0h0m3 1.5h0m75 1.5h0m5.5-5h0m1.5 4h0m3-1.5h0m3-2h0m2.5 2h0m-166 6h0m1 3h0m5.5-4.5h0m0.5 2.5h0m6-3.5h0m2.5 0.5h0m12 1.5h0m10.5-1h0m0 3.5h0m0.5-1.5h0m19 1h0m2.5 1h0m4.5-3.5h0m9.5 0h0m2.5 0.5h0m66.5 0h0m1-1h0m10.5 3.5h0m8.5-1.5h0m2.5 2h0m-168.5 2h0m5-0.5h0m6-1h0m7.5 5.5h0m2 0h0m1-3h0m2 2h0m7.5-2h0m2.5-0.5h0m1.5-2h0m1 3h0m10.5 0h0m0-2.5h0m1 1h0m5 2h0m1 0h0m5.5-0.5h0m6.5-2h0m8.5-1h0m8 0h0m5.5 4h0m58.5-3.5h0m6 3h0m3.5 0.5h0m5-3.5h0m0.5 2h0m6.5 0h0m-176 8h0m5.5-1.5h0m5 2h0m5.5-1h0m3-4h0m10 1.5h0m0 2.5h0m2-3h0m0.5 4.5h0m1.5-5.5h0m1.5 6h0m0.5-4h0m6-0.5h0m0 1.5h0m0 1h0m4.5 0.5h0m1.5-2.5h0m2.5-0.5h0m3 4h0m6-5.5h0m7 1h0m3.5 4h0m4.5-3.5h0m2 4h0m1 0.5h0m0.5-5.5h0m3.5 0.5h0m1 1h0m1-2h0m4 4.5h0m0-1h0m11.5 0h0m7.5 1.5h0m50-2h0m5.5-0.5h0m1.5 3.5h0m1.5-1h0m0.5-1.5h0m3.5-0.5h0m10-2.5h0m1 2h0m1.5 0.5h0m-177 6.5h0m1.5-1.5h0m6 3h0m4.5-3.5h0m2.5 3h0m3.5-2.5h0m1-1h0m2 1.5h0m2.5 1.5h0m2.5 1h0m7-2.5h0m1-1.5h0m2.5 1h0m7 1h0m3.5 2.5h0m9-2.5h0m3-0.5h0m4.5 1h0m4-2.5h0m7.5 2h0m0.5-2h0m18.5 2h0m3.5-0.5h0m5.5-0.5h0m8.5 1h0m29 2h0m9-3.5h0m5 1h0m0.5-1.5h0m2 4.5h0m6-3h0m1.5 2.5h0m9.5 0h0m-182.5 7h0m2-2h0m13 1.5h0m9-0.5h0m2.5-2.5h0m10.5-0.5h0m2.5-0.5h0m0.5 3h0m2-2.5h0m0.5-1.5h0m14.5 3h0m0 2.5h0m2 0h0m1-2h0m1-1.5h0m2.5 0.5h0m3 2.5h0m4.5-5h0m2 4h0m4-3h0m0.5 4h0m4 0h0m3.5-2.5h0m10-0.5h0m8.5-0.5h0m2-0.5h0m7.5-1h0m1 0.5h0m9.5 1h0m10.5 3h0m8-0.5h0m1.5 1h0m4.5-3h0m7.5 0h0m0.5 2h0m11-4h0m1.5 3h0m4.5-0.5h0m7.5 0h0m9.5-0.5h0m3.5-0.5h0m2.5 0.5h0m-198.5 9h0m2-0.5h0m4-0.5h0m2-1h0m4.5 1.5h0m10-4h0m1 3h0m4.5 1.5h0m2.5-4h0m0.5 4h0m2-1h0m2-3.5h0m7.5 0.5h0m2.5 0.5h0m0 2.5h0m1-3.5h0m1 1.5h0m3 3h0m4.5 0h0m4.5-3h0m0 3h0m3.5-3.5h0m5.5 0h0m2.5 0h0m0.5 2.5h0m4.5-4h0m3 2h0m3.5 0.5h0m6 2h0m0-4.5h0m1.5 1h0m2 3h0m9 1.5h0m20-6h0m9 3.5h0m3.5-3h0m19.5 2.5h0m4 2.5h0m1-1.5h0m18-3h0m9.5 0.5h0m3.5-1h0m1.5 3.5h0m0.5 1h0m5 0h0m2.5-1.5h0m0.5-2h0m-194.5 6.5h0m2.5 1h0m8 0.5h0m0.5 1.5h0m1.5-0.5h0m4-4h0m4.5 1.5h0m3.5 2h0m3-3h0m4 0.5h0m1.5 2h0m13.5-2.5h0m4.5 5h0m2-3.5h0m0.5 2h0m1.5-2.5h0m1.5 2.5h0m1.5 0h0m0-3.5h0m12 0.5h0m3.5 1h0m5.5 2h0m3-4h0m2.5 5.5h0m1.5-3h0m0.5-2h0m2 1h0m0.5-2h0m2.5 0.5h0m0 2.5h0m1.5-1h0m3.5 0.5h0m2 0.5h0m43 0h0m8-0.5h0m3 0.5h0m4 0h0m3 0.5h0m4.5 1.5h0m4 0h0m1-4h0m2.5 0h0m2 2.5h0m3.5-0.5h0m9-0.5h0m0.5 1h0m2.5-1.5h0m4 1h0m0 0.5h0m6 2.5h0m-192 5h0m6.5 0.5h0m0.5-3.5h0m2.5 2h0m1-1h0m3.5-3h0m4 2h0m5.5-2h0m1.5 2h0m9.5-1.5h0m9.5 3.5h0m3-1.5h0m5 3h0m9-1h0m3 1h0m4-3.5h0m10.5 1.5h0m1.5 1.5h0m3.5-4h0m56.5-1h0m3 2.5h0m13 3h0m10.5-4.5h0m1.5 4h0m4-0.5h0m8.5 0h0m4-2.5h0m5.5 2h0m-198 4.5h0m2.5 1.5h0m1.5-2h0m1-1.5h0m4 3.5h0m1-3h0m2.5 4h0m2-4h0m2.5 1h0m3-0.5h0m3.5 0.5h0m1.5 3h0m3 0.5h0m3-1.5h0m1-0.5h0m8-2h0m6.5 0.5h0m2.5-1h0m3.5 4.5h0m2-3h0m2 3.5h0m2.5-5h0m2.5 5h0m0-1.5h0m3.5 1.5h0m3.5-3h0m0.5 2.5h0m1.5-3h0m2.5-1h0m1-1h0m1 3h0m2-3h0m5.5 4.5h0m1-2h0m0-0.5h0m77.5 3h0m12.5-0.5h0m8.5-1h0m2-2.5h0m2 3h0m2.5-2.5h0m0.5 2.5h0m5.5-1h0m7-1h0m8.5-2h0m9.5 3h0m-219 6h0m3-1.5h0m0.5 4h0m7.5-5.5h0m6 2.5h0m0 1h0m3.5 1.5h0m5-3h0m1 0h0m14 2.5h0m1.5-5h0m3 4h0m2.5-1h0m1.5 1.5h0m11.5-4.5h0m1 5h0m3.5 0h0m5.5-0.5h0m3.5-4h0m4.5 3.5h0m4.5-3.5h0m83.5 0.5h0m1.5 3h0m1 2h0m12.5-1.5h0m2.5-4h0m8 1.5h0m3.5-1.5h0m2 0h0m13 0.5h0m3 3.5h0m18.5 1h0m0.5-4h0m-231 6h0m3-0.5h0m4.5 3.5h0m3-2.5h0m5-1.5h0m0 4h0m3 1h0m0.5-3h0m1.5-0.5h0m0 4h0m2.5-2.5h0m1.5-2.5h0m18 3h0m3-3.5h0m3-0.5h0m7 2h0m0 3.5h0m3-3.5h0m4 1.5h0m2.5 1h0m5.5-1.5h0m2.5 0h0m2 2.5h0m0.5-5h0m2.5 0.5h0m1.5 4.5h0m96.5-4h0m3 1h0m3 1h0m9.5-1h0m5 2h0m0.5-3h0m1.5 1.5h0m13 2.5h0m5.5-4h0m3 3h0m5-4h0m4 0h0m0.5 2.5h0m-221 6h0m1.5 1.5h0m3.5 0h0m8-3.5h0m1.5 2h0m2.5-3h0m1 2.5h0m1.5-2h0m1.5 1.5h0m5.5 0h0m3 2h0m2.5 0.5h0m12-4.5h0m1.5 1.5h0m4 2h0m2-2h0m1.5 3.5h0m0.5-5h0m0.5 2.5h0m0.5 0.5h0m2.5-0.5h0m2.5-1h0m0 4h0m2.5-5h0m2.5 4.5h0m0.5-1h0m0.5-2.5h0m2 3h0m1.5-3h0m1 2h0m1.5 1.5h0m1-2h0m0.5-2h0m2.5 4.5h0m1.5-1.5h0m1-2.5h0m1 1.5h0m1 2.5h0m94-5h0m0.5 1.5h0m15.5 3.5h0m4.5-4.5h0m6 5h0m14-3h0m3-2.5h0m1 3.5h0m-218 7.5h0m5.5-4h0m3-1h0m1.5 3.5h0m4 1h0m3.5-2h0m7.5 0h0m3 2.5h0m0-4h0m9 3h0m2.5-2.5h0m0 3h0m3.5-2.5h0m0.5 2h0m1-3.5h0m2.5-0.5h0m0 0.5h0m4 4.5h0m1.5-3h0m1-1.5h0m0 3h0m3-0.5h0m0.5-2h0m2.5 0.5h0m3.5-0.5h0m2.5 1h0m4.5 2h0m0.5 1.5h0m0.5-4.5h0m2.5-0.5h0m7.5 1.5h0m0.5-1.5h0m0.5 3.5h0m81-4h0m7 1.5h0m5.5 3h0m2.5-1.5h0m5-2.5h0m2 0h0m0.5 4.5h0m0.5-1h0m1-4.5h0m3.5 5.5h0m6-3h0m4.5 0h0m6-2.5h0m2.5 5h0m3.5-3h0m2 2h0m4.5 1h0m-218 6.5h0m0-2h0m10 0h0m2-2h0m15.5 4h0m0.5-2.5h0m4-3h0m0 4h0m1.5-1.5h0m1 3h0m2-4.5h0m0.5 3h0m0.5-0.5h0m0 1.5h0m0.5-4.5h0m1 3h0m4-3h0m4 1.5h0m2.5 1h0m1.5 1.5h0m0-4.5h0m2 4h0m1.5-2h0m1.5-0.5h0m3 0.5h0m0 3h0m1-3h0m2.5 1h0m2.5-3h0m2 1h0m0 2.5h0m4-1h0m0 2.5h0m2-2h0m0.5 1h0m0.5-2.5h0m4 2.5h0m1.5-2.5h0m1 3h0m2-2h0m0-2h0m3 4h0m57.5 1.5h0m1-5h0m20 1.5h0m3.5 2.5h0m0.5-4.5h0m18 5h0m3-4h0m6.5 0h0m5 4.5h0m6-4.5h0m6 0.5h0m1-2h0m1.5 5.5h0m-213.5 2h0m3-0.5h0m3 2.5h0m2.5-3.5h0m0.5 2.5h0m1.5 3h0m4-1.5h0m1.5-0.5h0m5-2.5h0m0 3.5h0m1-4h0m2.5 4h0m0.5-3.5h0m0.5 2h0m1 1h0m0.5-2h0m0.5 3h0m3 1h0m0.5-5h0m2.5 2.5h0m1.5 2.5h0m0-4h0m1.5 1h0m3 1.5h0m1-0.5h0m2.5-1h0m0.5 1h0m0.5-3h0m1.5-1h0m0 0.5h0m1 3.5h0m0-4h0m6.5 1h0m3.5 0h0m0.5 2h0m1-2h0m1.5 3h0m1.5 1h0m0.5-2h0m3.5-1.5h0m1.5 4h0m2.5-1h0m2-1.5h0m3-2h0m0.5 5h0m1-1.5h0m1.5-3h0m0.5 1.5h0m0.5 2h0m2-4.5h0m0 3.5h0m1.5-1.5h0m1.5-0.5h0m0.5 2h0m0.5 1.5h0m3 0h0m46.5-0.5h0m0-2.5h0m5 1.5h0m30-2.5h0m3 3h0m6-3h0m3.5 1h0m2 2h0m4.5-4h0m16 4h0m0-2h0m2 1.5h0m-202 6h0m1-2h0m1 2.5h0m5.5-1.5h0m0 2.5h0m2.5 0h0m1.5-4.5h0m0 3.5h0m1-4h0m1.5 4.5h0m1-4h0m0.5 4.5h0m2-5h0m2-0.5h0m4.5 4h0m3.5-1.5h0m3 0h0m2 0.5h0m0.5 0.5h0m1-3h0m1.5 4.5h0m0 1h0m0.5-5h0m1.5 0h0m2.5 4h0m0-4.5h0m2 5h0m1-5h0m1 0.5h0m0 4h0m2 0.5h0m1-3.5h0m0 1h0m1.5-1.5h0m1 2.5h0m2.5 1.5h0m0-2h0m1-0.5h0m3 2.5h0m2-4h0m3 1.5h0m2.5 0.5h0m1 0h0m0.5-2h0m2 2.5h0m0.5-3.5h0m0 2.5h0m2-1.5h0m1 3h0m2-1h0m0-3h0m0 2.5h0m2.5-1.5h0m0.5 3.5h0m1-3.5h0m1 3.5h0m0.5-4.5h0m2 2h0m1 2h0m2-3.5h0m1.5 3h0m2.5-2h0m37 2h0m10 1.5h0m12-5.5h0m16.5 2.5h0m1.5-2h0m16 4.5h0m1-2h0m2 2.5h0m1-3h0m19.5-1h0m4 0h0m5.5 0.5h0m-210.5 4.5h0m3 2h0m0.5-1.5h0m0.5 3.5h0m5-0.5h0m0.5-4h0m0.5 5.5h0m2-2h0m3.5 1h0m4 0h0m1.5-3.5h0m0 5h0m1.5-4.5h0m0 1.5h0m3 0h0m1-1.5h0m1.5 2.5h0m2-0.5h0m0 1h0m2.5-1.5h0m1 1.5h0m1.5-4.5h0m1 5.5h0m2.5-2.5h0m1 3h0m2.5-2h0m0-3h0m2 3.5h0m2.5 0.5h0m0.5-2.5h0m2 2.5h0m1-2.5h0m2 0h0m0-1h0m1.5 3.5h0m1-3h0m1 3.5h0m2-2h0m2-1h0m0.5 2.5h0m0-4.5h0m2 2h0m0 2.5h0m0.5-4h0m1 5h0m3-4h0m0-1h0m0.5 3h0m0.5-1.5h0m1-2.5h0m1 5h0m0.5-3h0m1-1.5h0m1 2.5h0m1 1.5h0m1.5 0h0m0.5-4h0m0.5 1h0m0.5-0.5h0m1 3h0m1.5-1h0m0-2.5h0m0.5 3.5h0m2-2h0m0.5 2.5h0m1-3h0m2 0h0m1 4h0m0.5-1.5h0m7 1h0m1.5 0h0m24.5-3.5h0m14 0.5h0m32.5-0.5h0m12.5 0h0m1 2h0m5 2.5h0m2-2.5h0m3.5 2h0m3.5-4.5h0m4.5 1h0m0.5 3.5h0m2-1h0m7.5-4.5h0m-207.5 6.5h0m4 1h0m2.5 0h0m3.5 0.5h0m1.5-0.5h0m0 2.5h0m3.5-3h0m1 2h0m1 2.5h0m0-4h0m1 1.5h0m3 0h0m0.5 2.5h0m0-5h0m2 5h0m4.5-4.5h0m2 3.5h0m0-1.5h0m1-2h0m3 0h0m0 3h0m1.5-1h0m2.5 3h0m1.5-3.5h0m1.5 2h0m0-1h0m1.5-2.5h0m0 2h0m3.5-2h0m1 4.5h0m0-1.5h0m1-3h0m0.5 3h0m1.5-2h0m0.5 0.5h0m1-1.5h0m1 4.5h0m1.5-2.5h0m1.5-3h0m0.5 3.5h0m0 2.5h0m2-4h0m1 1.5h0m2 1h0m0-4.5h0m1 4h0m0.5 2h0m1-4h0m1-2h0m2.5 5.5h0m0.5-3h0m1-0.5h0m0.5 2h0m2-1.5h0m0 2.5h0m0.5-5h0m0.5 5.5h0m1.5-5.5h0m1 3h0m2 1.5h0m0-3.5h0m0 4h0m1-4h0m1.5 3h0m2.5-2.5h0m1 1.5h0m3.5 3h0m2-0.5h0m0.5-5h0m2 3.5h0m2 0.5h0m0.5-2h0m2 0h0m1.5-1.5h0m1.5 5h0m3.5-4h0m4 0.5h0m0-0.5h0m3.5 2.5h0m0-2h0m1-0.5h0m0.5-0.5h0m1.5 3.5h0m1-4.5h0m62 4h0m1.5-3.5h0m3 4.5h0m4.5-4.5h0m15 5h0m0.5-3h0m1-1.5h0m-200 6.5h0m0 0.5h0m3 2h0m0 1h0m2-1.5h0m1-2.5h0m0.5 4h0m2-5.5h0m0 3h0m2-1h0m0 3.5h0m1-2.5h0m0.5-3h0m2 3.5h0m1.5 2h0m0.5-2.5h0m2 1.5h0m3-0.5h0m0.5-2h0m0.5 0.5h0m1 1.5h0m2.5 2h0m2.5-3.5h0m2-1.5h0m0.5 4h0m0 0.5h0m1-2.5h0m0.5-2.5h0m1.5 1.5h0m0.5 3h0m0.5-0.5h0m1-4.5h0m0.5 4.5h0m0.5-2.5h0m1.5 0.5h0m2 0h0m0.5 1.5h0m2-3.5h0m0.5 2.5h0m0.5-3h0m1 4h0m1.5-2.5h0m3 0h0m1 2h0m0.5-1h0m0-2h0m1 3.5h0m1-2.5h0m1.5 2.5h0m2-1.5h0m1-2h0m1 4h0m1-2.5h0m0 4h0m0-2h0m1-1.5h0m1.5 1h0m0 2.5h0m2.5-4h0m0.5 3h0m0-4.5h0m1.5 4.5h0m0.5-4h0m0.5 2h0m0.5 2.5h0m1-4.5h0m2 2h0m1-2h0m0.5 3.5h0m1.5 1.5h0m1.5-3.5h0m1 2.5h0m2-5h0m0.5 3.5h0m0.5 2h0m0.5-5h0m0-0.5h0m0.5 3.5h0m2-1.5h0m2-1h0m0.5 4h0m2.5 0h0m1.5 0h0m2-1h0m0.5-2.5h0m6-0.5h0m1 3.5h0m2-4h0m1 4.5h0m1.5-4.5h0m0.5 1h0m0.5 3h0m2-1.5h0m0.5-3h0m1.5 1h0m0.5 3.5h0m2-1.5h0m0.5 0h0m0.5-0.5h0m2.5 1h0m0.5-3.5h0m1 0h0m62 0.5h0m6.5 2h0m1.5-2.5h0m8.5 5.5h0m-203 6h0m9-3h0m1 3h0m0.5-3h0m3 3h0m0 0h0m0-5h0m2.5 2.5h0m0.5 2.5h0m4.5-4h0m0 4h0m4.5-1.5h0m0.5 1h0m2.5-2.5h0m0.5 3.5h0m1.5-6h0m0.5 5h0m0.5-2.5h0m0.5 3h0m0.5-4.5h0m1 3.5h0m1-2.5h0m1 0h0m0 2h0m2-2.5h0m1 2.5h0m0-3.5h0m1.5 4h0m1-1.5h0m1.5 2h0m0.5-2.5h0m2.5 3h0m0-5h0m0.5 2h0m1-2.5h0m1.5 5h0m0.5-2h0m1-3h0m0.5 5h0m0.5 1h0m2-5h0m1 0.5h0m1-1h0m1.5 4.5h0m1-2h0m1-2.5h0m0 3.5h0m1.5-1.5h0m0.5-0.5h0m0 3h0m0.5-4h0m2.5 4.5h0m0 0.5h0m0.5-5h0m0.5-0.5h0m0.5 1h0m0.5 4.5h0m1-5h0m0 3h0m1.5 1.5h0m0.5-2.5h0m1.5 2.5h0m1-1.5h0m1.5-3h0m1.5 3.5h0m0 1h0m1.5-3h0m0.5 3h0m0-5h0m2 5h0m1-4h0m2-0.5h0m0.5 2h0m0 1h0m2 1.5h0m0.5-3h0m1 3h0m2-4h0m2 4h0m1.5-2h0m0-1h0m1 3.5h0m1-5.5h0m0 1.5h0m1.5 0.5h0m1.5 1.5h0m2.5-1.5h0m0.5 3h0m0.5-3.5h0m2-2h0m0.5 1.5h0m3 4h0m1 0h0m0.5-4.5h0m1.5 0.5h0m2 3.5h0m3-1.5h0m0.5-3h0m0 2.5h0m2 2h0m0.5-4h0m0.5 0h0m2 2h0m1.5-2h0m1-1h0m70.5 1.5h0m1.5 2.5h0m2 1h0m0-1.5h0m1.5-1.5h0m10 2.5h0m4-2h0m-219 8h0m1-2h0m0.5 3h0m1.5-2.5h0m1.5 1.5h0m1.5-4h0m0 1.5h0m0.5 3h0m2.5-0.5h0m2.5 1h0m0-4h0m2 4h0m3-2h0m6-1h0m0.5 2.5h0m2.5 0.5h0m1.5-3h0m0 2.5h0m1.5-1.5h0m0.5-2.5h0m1.5 2.5h0m2.5-2.5h0m0.5 4h0m0-2h0m1.5 2.5h0m1-4h0m0.5 0.5h0m1.5 2h0m0.5 1.5h0m0.5-1h0m2.5-3h0m1 0.5h0m0.5 1h0m0 2h0m1.5-3.5h0m1 3h0m1.5-2h0m1.5-1.5h0m1-0.5h0m0 2.5h0m1 0.5h0m2-3h0m2 3h0m1-3h0m1.5 3.5h0m1-2.5h0m0 2.5h0m0.5 1.5h0m2 0.5h0m1-3.5h0m2 1.5h0m0-3.5h0m1.5 4.5h0m1-5h0m1 2.5h0m1.5 3.5h0m0.5-5h0m1.5-0.5h0m0 2h0m0 3h0m1-2.5h0m2 2h0m1.5-2h0m0.5 3h0m2-3h0m0 2h0m1-1h0m2.5-2.5h0m0.5 4.5h0m1.5-3.5h0m1.5 2h0m0-2h0m1.5-1.5h0m1 3h0m2.5 1h0m0-5h0m2 0.5h0m0.5 4h0m0.5-2.5h0m0.5 4h0m0.5-4.5h0m1.5 1h0m0.5-2.5h0m0.5 5.5h0m2-2h0m0-2h0m3 1h0m1 1.5h0m0.5-0.5h0m1-2h0m0.5 3h0m3-3h0m3 1.5h0m0.5 1h0m0.5-2.5h0m4 1h0m0.5 3.5h0m2-5.5h0m1.5 2h0m0.5 2.5h0m1-4h0m1 4.5h0m6-5h0m0 1.5h0m70.5-1.5h0m13 3.5h0m6 1h0m2.5-2.5h0m-222 3.5h0m4 0.5h0m1 4.5h0m5-4h0m4 3h0m3.5 0h0m0.5 1.5h0m0.5-1h0m2-2h0m1 1.5h0m0 1.5h0m2-4h0m0 4.5h0m2.5-2.5h0m0.5-3h0m0 4h0m1.5-4h0m1 4h0m1.5 1.5h0m1-5.5h0m1.5 4h0m0.5-4.5h0m0.5 2h0m0.5 3h0m0.5-2h0m2.5 1h0m0.5-2.5h0m1.5 4.5h0m0.5-2.5h0m1.5 1h0m1-4h0m1 2h0m1 3.5h0m0-4h0m0.5 1h0m1-0.5h0m0 3.5h0m2-4h0m0.5 2h0m0 0.5h0m2.5-0.5h0m0-4h0m1.5 0h0m1 5h0m0-1.5h0m0.5-3h0m2 2.5h0m1-2.5h0m1.5 4.5h0m0.5-2h0m1-2.5h0m1 1.5h0m0 2h0m1.5-1h0m0 2.5h0m1.5-3.5h0m2-2h0m0.5 4h0m0-3.5h0m1 3.5h0m1-4h0m1.5 5.5h0m1.5-2h0m1-2.5h0m1 0.5h0m0.5 1.5h0m0.5 2.5h0m1-2.5h0m2 2h0m0.5-3.5h0m0.5 3h0m1-3.5h0m0.5 1.5h0m2 2.5h0m0.5-3h0m1-1h0m1 4.5h0m1.5-2h0m0.5-3h0m2 2.5h0m0.5-3h0m1 2h0m2.5 0h0m0 1h0m1.5-2h0m3 2.5h0m0.5-1.5h0m1.5-0.5h0m17.5-1.5h0m10 1.5h0m0 1.5h0m1.5-2.5h0m78.5 1h0m10 0.5h0m6 0.5h0m-220.5 9h0m1-4.5h0m1-1h0m1 5.5h0m5.5-2.5h0m1-3h0m1 4h0m0-2h0m0 4h0m1.5-5h0m0 1h0m1.5 3.5h0m1-5h0m0 3.5h0m0-1h0m1.5 0.5h0m1.5-2h0m2 0h0m0 1.5h0m1.5 2h0m1-1h0m1.5-2h0m0.5 1.5h0m1.5-3h0m2 4.5h0m1-3h0m1 3.5h0m1-3h0m1.5 3h0m0.5-1.5h0m0-1h0m1.5 0.5h0m0.5-1h0m1 2.5h0m1.5-2h0m2.5 2h0m1-2h0m0.5 1h0m2 1.5h0m1-4.5h0m1 2.5h0m0.5-2.5h0m1 2.5h0m2 0h0m0.5-2.5h0m0 1h0m1 3.5h0m1-2.5h0m1 1.5h0m0.5 1h0m1-3h0m0-2h0m0 3h0m2 2.5h0m0.5-4.5h0m2 2.5h0m0.5-3h0m1.5 1h0m0.5 3h0m2-4.5h0m0 1.5h0m0.5 1.5h0m1.5 2.5h0m0-3h0m0.5-2.5h0m0 1.5h0m3 3h0m1.5-2h0m1 0.5h0m0-2.5h0m0.5-1h0m0.5 4.5h0m2-3h0m1.5 2.5h0m0.5-1.5h0m1 3h0m1-4.5h0m0 3.5h0m2-2h0m1.5-0.5h0m-81 9.5h0m3-2h0m1-2.5h0m1.5 5h0m0.5-4.5h0m0.5 4h0m0.5-4h0m1.5 4.5h0m0.5-3h0m0 2.5h0m2.5-1h0m1-2.5h0m2 0h0m1 2.5h0m0-3.5h0m1 2h0m0.5 0.5h0m0.5-3h0m1.5 1.5h0m1.5 3h0m2-2h0m0.5-1.5h0m0.5 2.5h0m1-2h0m0-1h0m1 2.5h0m0.5 2h0m1-5h0m1.5 3.5h0m0.5-1.5h0m1 2h0m1-4.5h0m0.5 2.5h0m0 3.5h0m2-1.5h0m0.5-3h0m1 0h0m0 3h0m1.5-2h0m2.5 1.5h0m0-2.5h0m1 1.5h0m0.5-1.5h0m0 2.5h0m1-2h0m1 3.5h0m3-2.5h0m0.5 1h0m0.5-3h0m1 2h0m1 0h0m0-1.5h0m1 3h0m2-1h0m0 2h0m1-1.5h0m3 2h0m0-3h0m0.5-0.5h0m2-1.5h0m1 4.5h0m0.5-2h0m1.5-1.5h0m0 3h0m0-3.5h0m2 4h0m1.5-2.5h0m0.5-2h0m1 2.5h0m1.5-1h0m1-1h0m1 4h0m0.5-3h0m1 2.5h0m0-4h0m1 1h0m2.5 2.5h0m0-3.5h0m1.5 0.5h0m-75 9.5h0m0.5-1.5h0m1-2h0m1 3h0m1.5-2.5h0m1 3h0m1-4.5h0m1.5 3.5h0m0.5-1h0m1.5 3h0m0.5-4.5h0m1.5 1.5h0m0.5-2.5h0m0.5 5h0m1.5-2.5h0m0.5 2.5h0m0.5-3.5h0m1.5 2.5h0m1 0.5h0m1.5-4h0m0 2.5h0m2-2.5h0m1.5-0.5h0m1.5 4h0m0-1h0m1.5-3h0m2 1h0m0.5 2h0m1 2h0m0.5-3h0m1 3h0m2-4h0m0.5 1h0m0.5 1.5h0m0.5 1.5h0m2.5-1h0m1-1h0m0.5-2h0m0.5 4.5h0m1.5-3.5h0m0.5-2.5h0m1 5.5h0m0.5-1h0m0.5-3.5h0m2 3h0m0.5 1h0m1.5-1.5h0m0.5-1.5h0m0.5 3.5h0m1-5.5h0m2 4h0m1.5-1.5h0m1.5-0.5h0m1.5 1h0m1.5 1h0m0.5-2.5h0m0.5 0h0m0.5 3h0m2.5 0h0m0-3h0m1.5 4h0m0.5-2h0m0.5-3h0m1.5 2h0m1 3h0m1.5-3.5h0m0.5 0h0m0.5-1.5h0m1.5 3.5h0m1 1h0m1.5-4.5h0m0 3.5h0m1.5-2h0m1 3h0m-73 1.5h0m0.5 5.5h0m1.5-2h0m2 1h0m0.5-0.5h0m1 0h0m0-3h0m2.5 0h0m0 2.5h0m2.5-0.5h0m0.5-1.5h0m1.5 3h0m1-3h0m0 1h0m1.5-1.5h0m0.5 2.5h0m2.5 1.5h0m0-5.5h0m0 3.5h0m0.5-1.5h0m2.5 0.5h0m0.5 2h0m2-4h0m0.5-0.5h0m1 2.5h0m0-1h0m1 3.5h0m2-3h0m1.5 1.5h0m0-1.5h0m3 2h0m1 0.5h0m0.5-2h0m1.5-0.5h0m2 0.5h0m0.5 2h0m1.5-3h0m1 3h0m1.5-1h0m1.5 0.5h0m0-2h0m3-0.5h0m1 3.5h0m0-1h0m1.5-3.5h0m0.5 0.5h0m2-0.5h0m1.5 4h0m0.5-3.5h0m1.5 0h0m0.5 3h0m0.5-4h0m0.5 3h0m0.5 2h0m2-1h0m0.5 1.5h0m0-3h0m1.5-1.5h0m0.5 3.5h0m1-4h0m2 3.5h0m2-2h0m0-1.5h0m1.5 0.5h0m1 4.5h0m2-1.5h0m0.5-2h0m0.5 1h0m0.5-2.5h0m1.5 0h0m0.5 4h0m3-3.5h0m0.5 0h0m0 4h0m1.5 0h0m2 0.5h0m-81 2h0m1.5-1.5h0m0.5 4.5h0m0-3h0m3 0h0m0.5 2h0m1.5-3h0m0 3h0m0.5-2h0m1 3.5h0m0-4h0m2.5 3h0m0.5-1.5h0m3-1.5h0m1 3.5h0m0.5 1.5h0m1-4.5h0m0.5 3h0m1-3h0m0.5-1.5h0m2.5 1h0m0 2.5h0m0.5-3h0m2.5 2.5h0m0.5 1h0m0-3h0m0.5 2h0m2.5-3h0m1.5 3h0m0.5-2.5h0m1 3h0m1 0h0m0.5-3h0m0.5 4h0m0-1h0m2-3h0m0.5 3h0m0.5-2h0m1-0.5h0m1 2.5h0m0.5-2.5h0m2.5-1h0m1 3h0m1 2h0m0-4h0m0.5 1.5h0m0.5-2h0m1.5 4h0m2-1.5h0m1 1.5h0m0.5-3.5h0m0 5h0m0.5-5.5h0m1 4.5h0m1.5 0h0m0.5-2h0m1.5-2h0m0.5 0.5h0m0 4.5h0m0.5-2.5h0m1.5-1.5h0m1.5 2.5h0m1.5-3h0m1.5 3h0m0.5-4.5h0m1 1h0m0.5 4.5h0m1-2.5h0m1-2.5h0m0.5 4h0m1.5-3h0m1 3h0m0.5-2h0m2.5-2.5h0m0.5 3.5h0m0 0.5h0m2 1h0m0.5-1.5h0m0-3.5h0m1 0h0m1 3h0m0.5 2h0m1 0.5h0m1.5-5.5h0m1 5h0m0.5-3h0m-76.5 4.5h0m1 2.5h0m0.5-2.5h0m1 4h0m0.5-3h0m0.5 4h0m0.5-3.5h0m1.5 1.5h0m1.5-2h0m0.5 3h0m2-1.5h0m1 1.5h0m2.5-0.5h0m0.5 2h0m0-5h0m0 2h0m2 0.5h0m1 2h0m0.5-4.5h0m1 0.5h0m0.5 3.5h0m1-4h0m2 0.5h0m0.5-1h0m0.5 3.5h0m0 1.5h0m1.5-4h0m2.5 3.5h0m1-4.5h0m0.5 2h0m1 2.5h0m0.5-4.5h0m0.5 2h0m1.5-1h0m2 3.5h0m0.5 0h0m0.5-2.5h0m0.5-2h0m2.5 4h0m0.5-4h0m1 3h0m1-1.5h0m0 3.5h0m0.5-3h0m1 2.5h0m0.5-3.5h0m2 0.5h0m1 4h0m0.5-2.5h0m2-2.5h0m0.5 4h0m0.5-2h0m0.5 2.5h0m1.5-3h0m2.5 3.5h0m0.5-3h0m1.5 1.5h0m0-3h0m1 2h0m1 1h0m0.5-4.5h0m2 4h0m0-2.5h0m1.5 1h0m0 1.5h0m2 0.5h0m1-3h0m0.5 0h0m0.5 2.5h0m0.5-0.5h0m2.5-3.5h0m0 4h0m2-3h0m0 2h0m1.5 2.5h0m1-5h0m0 2.5h0m0.5 1.5h0m1.5-2h0m1.5-0.5h0m0.5-0.5h0m0 2.5h0m1.5-4h0m1 4.5h0m1-0.5h0m0.5 0h0m-77.5 4h0m2-1.5h0m0 2h0m1.5 2h0m0.5 1h0m1-1h0m1-3h0m1 0h0m0 1h0m1 0h0m1 3.5h0m0.5-5.5h0m2.5 3.5h0m1-3.5h0m0.5 4h0m3-2.5h0m0.5 2.5h0m1-4.5h0m0.5 3h0m1.5-3h0m0 5.5h0m1.5-5.5h0m0.5 4h0m0 1h0m1-3h0m1 1h0m1 3h0m0-4h0m1.5 1h0m0.5-1h0m1.5 4h0m1-2.5h0m0.5-3h0m1 4h0m1-1.5h0m1.5-1h0m0 4h0m0.5-1.5h0m1-2.5h0m2.5 1h0m0.5-2h0m2 2h0m1-1.5h0m0.5 3h0m1 0.5h0m0.5-2h0m0.5-2.5h0m2 3h0m0.5-3.5h0m1 3h0m0.5-1.5h0m1.5 3.5h0m1-2.5h0m1.5 3h0m0-4h0m1 2h0m1.5-1.5h0m0.5 3.5h0m1-1.5h0m1 1h0m0.5-1.5h0m2-2.5h0m0.5 4h0m0.5-1.5h0m1.5 1h0m0.5-3h0m1 2.5h0m0.5-4h0m0 0.5h0m1 2.5h0m0.5 2h0m0.5-0.5h0m1.5-3.5h0m1.5 3h0m0.5-2.5h0m0.5 3h0m2-4.5h0m2 4h0m0.5-1.5h0m1 0h0m2-0.5h0m1-1h0m0.5 2h0m1 2.5h0m-72.5 2h0m0-0.5h0m2.5 1.5h0m0.5 2.5h0m0.5-3h0m1.5 3.5h0m0.5-0.5h0m0.5-4.5h0m0.5 0.5h0m1 0h0m0 2.5h0m1.5 2h0m0.5-3.5h0m0.5 2h0m2-3.5h0m0.5 2h0m2.5 2.5h0m0.5-2.5h0m2 2.5h0m0-4h0m2 0h0m1 4h0m1.5-3h0m2 1h0m0.5-1h0m0.5 4h0m2-1h0m1.5-3h0m0-1.5h0m0.5 2.5h0m0.5 1.5h0m1 1h0m0.5-1.5h0m1-3.5h0m1 0.5h0m1 2h0m1.5-0.5h0m0.5 1.5h0m2-1.5h0m1-2.5h0m0.5 3h0m1 0h0m0.5-1h0m2.5 3h0m0-3.5h0m0.5 4.5h0m1-4h0m1.5 2h0m1.5-1h0m1.5 0.5h0m0.5-1h0m2 1.5h0m0 1.5h0m1-1h0m0.5-1.5h0m2 0.5h0m0.5 2h0m0.5-4h0m2.5-0.5h0m1.5 2h0m0 3h0m0-2h0m0.5-3h0m1-0.5h0m2 0.5h0m0.5 2h0m0-2.5h0m1 5h0m0.5-0.5h0m0-3h0m1.5-2h0m0 1h0m1 4h0m1-5h0m2 2.5h0m0.5 3h0m0.5-3.5h0m0.5 3h0m1-1h0m-67 2.5h0m3 2.5h0m1.5 1.5h0m0.5-4h0m0.5 1.5h0m2 4h0m0.5-1.5h0m0.5-4.5h0m0 6h0m0.5-3h0m0 1.5h0m0.5-4h0m2 1.5h0m0.5 3.5h0m0.5-4.5h0m1 0.5h0m1 4h0m1-5h0m0 3h0m3.5 1.5h0m0.5-3.5h0m0.5-0.5h0m0 4.5h0m1-4h0m1 3h0m2 1.5h0m1-5.5h0m0.5 4.5h0m2-1h0m0.5-1h0m1-2h0m0.5 5h0m0-1h0m0.5-4h0m1.5 1h0m1-1.5h0m0 4h0m0.5 1.5h0m2.5-3.5h0m0 2.5h0m2.5-3.5h0m0.5 3.5h0m0-3.5h0m1.5 0h0m1 1.5h0m0.5 0.5h0m0-3h0m2.5 5h0m0-5.5h0m1.5 2.5h0m0.5 1.5h0m2-2.5h0m0 3h0m1.5-2.5h0m1.5-1.5h0m0 1.5h0m0 2.5h0m2 0h0m0.5 1.5h0m0.5-3.5h0m1 2h0m1.5-2.5h0m0.5-1h0m2.5 3.5h0m0.5-3.5h0m0.5 5h0m0-3h0m0.5 1.5h0m0.5-2h0m2.5-2.5h0m0 4.5h0m0.5-3h0m2.5 3h0m-55 3h0m0.5 1h0m1.5-1.5h0m1 2.5h0m0 2h0m1-0.5h0m1.5-1h0m0-2h0m1.5-2h0m1 5h0m0-1.5h0m0.5-2.5h0m3 5h0m0.5-3.5h0m1.5-1h0m0.5 1h0m1.5 1h0m0 2h0m1-0.5h0m3-1h0m0.5 0.5h0m0.5-1.5h0m1.5-1.5h0m2.5 1h0m0-1.5h0m2 2.5h0m1.5-2h0m1.5 3.5h0m0-2.5h0m0.5-1h0m0.5 1h0m1 2h0m2-3h0m0.5 1.5h0m2-1.5h0m0.5 1h0m1-1.5h0m2.5 3h0m0.5 0.5h0m0.5-1h0m1-2h0m0 4h0m2.5-2h0m0-3h0m0 4h0m2.5-0.5h0m1.5-2h0m2 3h0m0.5-3h0m0 1h0m2-1.5h0m0.5 1.5h0m0.5 2h0m-48.5 5.5h0m0.5-3h0m1.5 2.5h0m1.5 2h0m0-4h0m1 3h0m0.5-5h0m0.5 5.5h0m0.5-4.5h0m1 3.5h0m1-2.5h0m1.5 1h0m0.5 2h0m1.5-2.5h0m1 2.5h0m0.5-3.5h0m0 2h0m1 0h0m1 2h0m1-5h0m0 2.5h0m1.5-1.5h0m1.5 3.5h0m0.5-0.5h0m1-4.5h0m0.5 6h0m0.5-2h0m0-3h0m0.5 0.5h0m2.5 1.5h0m0-1h0m0.5 3.5h0m1-2h0m2-1.5h0m1.5 1h0m0-2.5h0m0.5 1.5h0m0 4h0m3-1.5h0m0.5-3.5h0m1 1.5h0m1-2h0m1 5.5h0m1-2h0m1-3h0m1.5 3.5h0m1-3.5h0m1 4h0m0 1h0m0.5-5.5h0m1 5h0m0.5-4.5h0m1.5 1h0m-45 4.5h0m1.5 2h0m2 1h0m0-0.5h0m2-1.5h0m2 4h0m0.5-4.5h0m1.5 0.5h0m2.5 0.5h0m0 3h0m1-2h0m1 0.5h0m3.5 1.5h0m0-2.5h0m1.5-1.5h0m2 4h0m0.5-2.5h0m1.5 2.5h0m0-4h0m1 2h0m2.5 1h0m0.5-3h0m0.5 2h0m0 2.5h0m1.5 0.5h0m0.5-2h0m0-2h0m1.5-1h0m2.5-1h0m0 4h0m0-1h0m1.5 0.5h0m1-0.5h0m1 2h0m1.5-4h0m1 5h0m0-3h0m0.5 0.5h0m1.5-1h0m-37 4h0m1.5 1h0m0.5 3h0m1.5-1h0m1-2h0m0 3h0m0.5-1h0m1 2h0m0.5-4h0m2.5 2.5h0m1.5-1.5h0m0-2h0m0.5 0h0m0 4.5h0m1.5-1.5h0m2 2.5h0m0.5-4.5h0m0.5 2.5h0m1-3h0m1 5h0m0.5-3.5h0m1 1.5h0m0.5-3h0m2.5 2.5h0m0.5-2h0m0.5 3.5h0m1.5 0.5h0m0-3h0m0.5 0h0m2.5 1h0m0.5 0.5h0m0-3h0m1-1h0m3 2h0m1.5-1.5h0m-30 6.5h0m1.5 1.5h0m0 0h0m3.5-1h0m2.5 0.5h0m0.5 1h0m3-2h0m2 2h0m0-1.5h0m1-1.5h0m2.5 2.5h0m1.5-0.5h0m2-0.5h0" stroke="#5E4FA2" stroke-width="2.7" stroke-linecap="round" fill="none"/>
<path d="M55.5 648.5h0" stroke="#496AAF" stroke-width="2.7" stroke-linecap="round" fill="none"/>
<path d="M42 528.5h0m12 6.5h0m45 41h0m16.5 5h0m-102 16.5h0m22 11h0m43 11h0m11.5 8h0m15.5 10h0m-67 11.5h0m23.5 2h0m3 1h0m-8 10h0m-26 57h0" stroke="#3485BC" stroke-width="2.7" stroke-linecap="round" fill="none"/>
<path d="M100 496h0m-69.5 33.5h0m-5.5 34h0m7.5 7h0m8.5-1.5h0m66.5 9h0m-92 1.5h0m7.5 3h0m0 7h0m66.5-1.5h0m-71.5 8.5h0m77.5 1.5h0m11 1h0m-69.5 8h0m57.5 4.5h0m-8.5 3.5h0m9 3h0m2.5 8h0m-23 5h0m4-2.5h0m21 3.5h0m8-1h0m-37 8.5h0m19.5 9.5h0m-36 3.5h0m39-0.5h0m28 8h0m-81 5.5h0m44.5 2h0m-43.5 3.5h0m77 9h0m-90.5 24h0m14-2h0m21.5 2h0m-13 16h0m35 4.5h0m-3.5 22.5h0m-10.5 11h0m-5.5 4h0m7.5 3h0" stroke="#48A1B3" stroke-width="2.7" stroke-linecap="round" fill="none"/>
<path d="M106 500h0m-16 2h0m11 4.5h0m3-3.5h0m-27.5 10h0m-43.5 8.5h0m11 0.5h0m33-2h0m8 1h0m-58.5 6h0m18 0.5h0m48.5 9.5h0m-62 1.5h0m2 2h0m2.5 2h0m18 0.5h0m25 3h0m1 1.5h0m-11.5 6.5h0m0 3.5h0m25-0.5h0m-44 7h0m61-2.5h0m-69 10h0m1.5-2.5h0m18.5-0.5h0m3.5 0h0m22.5 3.5h0m4-4h0m22 4.5h0m-92.5 5.5h0m17-4h0m18.5 0h0m18 4.5h0m2-0.5h0m-55 6.5h0m44-3.5h0m1.5 1.5h0m1 2h0m58-4.5h0m-107.5 6.5h0m8 1h0m4.5 0h0m32.5-1h0m30 3h0m4.5-2h0m11-2h0m-62 8h0m13 0.5h0m18 0h0m-22 6.5h0m19.5-0.5h0m10-0.5h0m21 0h0m-77 6h0m38 3h0m28 0h0m-75 1h0m36 5.5h0m13.5-2h0m1-1h0m12.5-1.5h0m-35 8.5h0m4.5 1h0m1-1h0m18.5 0h0m11-1.5h0m15.5-1h0m0.5 1.5h0m3 2h0m-75 3h0m23.5-1.5h0m5 2.5h0m-30.5 3h0m51.5 5.5h0m8-4.5h0m6 3h0m-61 4h0m5.5-1.5h0m4.5 2h0m43.5 2h0m13.5 0.5h0m-61 6h0m25.5-2.5h0m27.5 2.5h0m26.5-0.5h0m-65 6.5h0m13.5-1h0m12 0h0m9-3.5h0m5.5 1h0m11.5 4.5h0m-31.5 3.5h0m-28.5 8h0m0.5-3h0m1 3h0m14-4h0m8 0.5h0m-28 9.5h0m13-4.5h0m1 0h0m28.5 0.5h0m34 0h0m14.5-1h0m-109.5 13h0m20.5 0.5h0m33.5 2.5h0m35-0.5h0m36.5-2h0m-125 13h0m23.5-1.5h0m-23.5 7.5h0m0.5 1h0m36.5 4h0m26 3.5h0m-59 1.5h0m46 1.5h0m-19.5 8.5h0m27.5 1h0m-29.5 15.5h0" stroke="#61BCA7" stroke-width="2.7" stroke-linecap="round" fill="none"/>
<path d="M84.5 505.5h0m16.5-2.5h0m8 0.5h0m2.5 2h0m1.5 0h0m-53.5 7h0m19 0.5h0m5.5-1h0m2.5-3h0m22 0.5h0m-33 5.5h0m3-0.5h0m2 4.5h0m13.5-5h0m4 4h0m-52 3h0m22-2h0m42 4.5h0m-62 2h0m17.5 0h0m41 4h0m1.5-2.5h0m-74.5 9.5h0m3.5-2h0m60 1h0m4-3.5h0m-52.5 7.5h0m11.5-0.5h0m11 1h0m19-2.5h0m20 4.5h0m-81.5 3h0m5 0h0m4 3h0m53-0.5h0m4-4h0m-40.5 8.5h0m15.5 1h0m4 0.5h0m-39.5 4.5h0m24-1h0m15.5 1h0m2 1.5h0m27-0.5h0m2.5-3h0m-77 5.5h0m41.5-0.5h0m2 3.5h0m20 1.5h0m2.5-2.5h0m3.5 1h0m5-2.5h0m5.5 0h0m-77 8h0m4.5-1.5h0m56 1h0m7.5 1.5h0m5.5-3h0m0.5 0.5h0m9.5 1.5h0m-86 5.5h0m9.5 2h0m42-2.5h0m15-1.5h0m1 3.5h0m8 1.5h0m7.5-2.5h0m3.5-1.5h0m-80.5 5.5h0m4 3.5h0m23-4h0m5 2h0m1.5 1.5h0m11 0.5h0m3.5-1.5h0m0.5-2h0m23 0h0m2.5 0.5h0m-70 8h0m4-3h0m2.5 2h0m9 0.5h0m11.5 1.5h0m23 0.5h0m2.5-1.5h0m2.5 2.5h0m3.5-2h0m13-3.5h0m-97 9.5h0m20.5 2h0m0-3h0m1.5 2.5h0m16 0h0m19.5-5h0m27-0.5h0m-78 11.5h0m3.5-3h0m5.5-1h0m2 3h0m4.5 1.5h0m25-3h0m12 2.5h0m3.5 0h0m2.5-2h0m6.5-0.5h0m20.5 1.5h0m6.5-3.5h0m-73.5 10.5h0m5.5-3h0m1-1.5h0m7.5-0.5h0m33.5 3h0m9-2h0m1.5 4.5h0m-69 2h0m13-1h0m1 5h0m5.5-2.5h0m9-0.5h0m44 1h0m-71 6h0m1 1.5h0m2-5h0m23.5 5.5h0m1-2h0m34 1h0m6-1.5h0m-50.5 8.5h0m11-6h0m0 1.5h0m10.5 1.5h0m2.5 2.5h0m24-5h0m9.5 1.5h0m-69 6h0m38.5 1h0m11 0h0m13-0.5h0m6.5 2.5h0m1 0.5h0m-42 2h0m22 0.5h0m0.5 2h0m20-2.5h0m-73 7.5h0m1 3h0m32.5-5h0m3 1h0m11-1h0m7.5 5h0m5-4.5h0m-53 4.5h0m1.5 4.5h0m2.5-4h0m11 1h0m0.5 3h0m5-3.5h0m8 4.5h0m52.5-1.5h0m-84.5 5h0m1.5 1h0m7-2h0m7.5 1h0m29.5 0.5h0m7 1.5h0m45.5-0.5h0m-93 4.5h0m83-1.5h0m9.5 4h0m2-4.5h0m-89 6h0m9.5 0.5h0m9 3h0m-23.5 5h0m5.5 1h0m32-1h0m40-2.5h0m2 4h0m19 1h0m4.5-2.5h0m-120 2.5h0m8.5 2.5h0m3-0.5h0m1.5 1h0m7.5-2.5h0m1 0h0m79 2h0m17 1.5h0m1-2.5h0m-117.5 6h0m27.5 4h0m46.5-2.5h0m20.5-1.5h0m-93 5.5h0m43.5 12h0m0.5 9h0m17-0.5h0m-47 6h0m41.5-0.5h0m-20.5 5.5h0m5 17.5h0m4.5 1h0m-16 8h0m37.5 1h0" stroke="#80CCA5" stroke-width="2.7" stroke-linecap="round" fill="none"/>
<path d="M112 494h0m-16.5 5.5h0m0.5-1h0m4.5 1h0m-17 3.5h0m4 1.5h0m10.5-3h0m0 5h0m0.5-4h0m-28 6h0m26.5-0.5h0m17.5 1h0m-54 8h0m22-2h0m13.5-1h0m12.5-0.5h0m1 0h0m2 3h0m-84 7h0m8.5-4.5h0m1.5 3.5h0m2.5 2h0m1-4.5h0m18 2.5h0m10-1.5h0m5 3h0m7-1h0m2 0h0m7-1.5h0m1 0.5h0m7.5 2.5h0m17-2.5h0m-69 4.5h0m0.5 4h0m6-3.5h0m28 2h0m16-4h0m5.5 1.5h0m12.5 3h0m-88.5 4h0m17.5 1.5h0m3.5 0.5h0m19.5-4h0m3 0.5h0m5 4.5h0m5-4.5h0m1 3.5h0m21.5-4h0m-61.5 10.5h0m5-1h0m4 1.5h0m8-3.5h0m4-2h0m32.5 1.5h0m-59 9h0m31 0h0m10.5 1h0m23-3h0m3 0.5h0m3.5 3h0m-77 4h0m23.5 1h0m4-0.5h0m14-2h0m11.5 3h0m7 0h0m1.5-3h0m1.5-1h0m14 4h0m-76 1h0m9.5 2h0m3-1.5h0m4.5 1.5h0m17-2h0m2 4.5h0m8-2.5h0m4 0.5h0m-57.5 8.5h0m5-5h0m1.5 5h0m11.5-2.5h0m5 0.5h0m13.5-1.5h0m6.5 2.5h0m4.5-0.5h0m5-2.5h0m4 3.5h0m3-3h0m14 4h0m-75 5.5h0m4-4.5h0m3.5 1.5h0m11.5 2h0m2.5-4.5h0m5.5 4h0m11.5-1h0m18.5 1h0m0-2h0m10 3.5h0m22-5h0m1 3h0m-82.5 5h0m7-1.5h0m7 3.5h0m4 0h0m11 0h0m4.5-0.5h0m0-4h0m2.5 1h0m11 0.5h0m23.5 4h0m4-1h0m2-3.5h0m23 4.5h0m4-5h0m-101.5 6h0m16.5 2.5h0m0 2h0m13-1.5h0m2.5 0.5h0m1-3h0m2.5-1h0m19 5h0m5-4.5h0m15.5 1.5h0m3.5 2.5h0m6-3h0m17.5 3.5h0m4-0.5h0m-123 6h0m1-3h0m9.5 0h0m9.5 4h0m19-4h0m23 0.5h0m12.5 1h0m15-1.5h0m6 1.5h0m4.5 2.5h0m1-2.5h0m-97 3.5h0m1.5 2.5h0m6.5 2.5h0m4.5-4.5h0m11.5 4h0m12.5 0h0m1.5-1h0m1.5-2h0m8 0.5h0m3 2h0m15-4.5h0m6.5 0.5h0m3.5 4h0m3-1h0m0 0.5h0m3.5-2h0m3.5 2h0m6.5 2h0m-90.5 5.5h0m4.5-4h0m2.5 1h0m11.5-1h0m1.5 1.5h0m18-2h0m4 2h0m2-2.5h0m13.5 0h0m-51.5 8.5h0m0 2h0m3.5-4h0m26 1h0m20 1.5h0m2 2h0m6.5-5h0m1 1.5h0m1 3h0m18.5-2.5h0m-85 3.5h0m9 6h0m6-3.5h0m11 3h0m14-4h0m11-1.5h0m20 5.5h0m1-4.5h0m8.5 4.5h0m-76.5 4h0m0 2h0m6.5-4.5h0m4 1.5h0m1 0.5h0m17-2.5h0m10 1h0m16-1h0m10 5h0m1-1h0m2.5-2.5h0m2.5-1h0m-69 6.5h0m16.5-0.5h0m3.5 0.5h0m7 2.5h0m8-3h0m7 2h0m21.5 1.5h0m-59.5 6.5h0m3-4.5h0m1 3h0m6.5 2.5h0m9.5 0h0m4-1.5h0m5-4.5h0m2.5 1h0m18-0.5h0m10 4h0m2.5 1h0m6-5.5h0m-63.5 11h0m3-2h0m1 2.5h0m3.5-4h0m6.5 1h0m3 2h0m3-1.5h0m0.5 1h0m2.5 2h0m3.5-5.5h0m0 3.5h0m3 0h0m9-2.5h0m1.5 3.5h0m3-3h0m4.5 0h0m19.5 3.5h0m12 0h0m0-2h0m-48 6h0m34.5-1h0m0.5 1.5h0m0.5-2.5h0m-50.5 7.5h0m35.5 2.5h0m9.5-2h0m1.5-3h0m25.5 2h0m-81 5h0m3.5 2.5h0m34.5 1.5h0m0-3.5h0m49.5 3.5h0m-87.5 5h0m0-2h0m12.5 0.5h0m12 1h0m38-1.5h0m22.5 0.5h0m5-2.5h0m9.5 0h0m3.5 1.5h0m3.5 1h0m-89 9h0m57-1.5h0m16.5-1.5h0m12.5-2h0m-107.5 10.5h0m47-1h0m24-3.5h0m32-1h0m10 4h0m-119.5 5h0m7.5 2.5h0m31.5 0h0m6.5 0.5h0m53.5-4h0m0-1.5h0m-105 9.5h0m1.5 1h0m12.5-3h0m6.5 4h0m95.5-5.5h0m1.5 0.5h0m-118 8.5h0m14 22.5h0m-1 5h0m42.5 27h0m-11.5 11.5h0m14 12.5h0" stroke="#A1D9A4" stroke-width="2.7" stroke-linecap="round" fill="none"/>
<path d="M101 494.5h0m8-1h0m-16 6h0m5-3.5h0m-27 10.5h0m12-0.5h0m9.5-1h0m11 0h0m4.5-1h0m-41 7h0m15.5-0.5h0m2-1.5h0m5.5 2.5h0m3-1h0m9 1h0m2-4.5h0m3.5 2h0m2.5 2h0m-43.5 4.5h0m10 1.5h0m3.5 0h0m7.5-1.5h0m2-0.5h0m4 1.5h0m3.5-2.5h0m6.5 2h0m5 2h0m2-4h0m-79 8h0m1.5 0.5h0m11.5 0.5h0m2-0.5h0m6.5 0.5h0m2.5 0h0m1 2h0m5-3.5h0m2 0h0m19-2h0m3.5 1h0m14-1h0m-72.5 6.5h0m8 4h0m2-3h0m13 0h0m1.5-0.5h0m18.5 3.5h0m0-5h0m3.5 5.5h0m11.5-5h0m7 1.5h0m3 1.5h0m11.5-1h0m2-2h0m4.5 0h0m-77 7h0m7.5-1.5h0m4.5 3.5h0m6.5-0.5h0m15.5 0.5h0m1.5 1h0m1.5-4h0m4 3.5h0m4-1h0m4-0.5h0m3 0h0m0.5-1h0m5-1h0m6.5 4.5h0m5.5-2h0m2-2h0m2.5 1h0m3.5 2h0m-87 7h0m1.5-3.5h0m5.5 3h0m41 0.5h0m5.5 0.5h0m15.5-4h0m-65.5 5h0m2.5 5h0m15.5 0h0m4.5-1.5h0m1.5 1.5h0m0-3h0m3.5 0.5h0m3-2.5h0m1.5 0h0m5.5 4h0m3-0.5h0m9-1h0m6-2h0m4.5 2.5h0m0.5-3h0m8 0h0m6 2h0m-74 5.5h0m1 3.5h0m2 0.5h0m4-1.5h0m2-2.5h0m6 3.5h0m5.5-2.5h0m3.5 0.5h0m5.5-0.5h0m0 2h0m8.5-3h0m0 2.5h0m13-2h0m6-1.5h0m1.5 2.5h0m13 0.5h0m6-3h0m-82.5 7h0m19.5 1.5h0m3 0.5h0m17-1.5h0m15 2.5h0m3-4h0m2.5 5h0m1.5-1.5h0m2.5 1h0m2-1h0m4 0h0m10-1.5h0m1.5 1.5h0m-77.5 2.5h0m1 1.5h0m1 2.5h0m3 0.5h0m0-0.5h0m1.5 0.5h0m10.5-5h0m6.5 0h0m11 5.5h0m4-0.5h0m17.5-4.5h0m2.5 1.5h0m9-1.5h0m3.5 2.5h0m5-1.5h0m5.5 1.5h0m2.5-1.5h0m-87 9.5h0m8.5-1h0m9.5-1.5h0m9.5 0.5h0m16 1.5h0m17-4.5h0m24.5 0.5h0m0 1.5h0m-91.5 7h0m6.5-2.5h0m1 4.5h0m5.5-1h0m5 0h0m9.5-3.5h0m1 1h0m4.5 0h0m0 3.5h0m25-1.5h0m0.5 1.5h0m6 0h0m9.5 0h0m12-2.5h0m3.5-3h0m0.5 5h0m9 0h0m9.5-2.5h0m7 2.5h0m0.5-0.5h0m-118 6.5h0m0.5-2.5h0m7.5-2h0m4 0h0m5.5 0h0m2 1.5h0m8.5 1.5h0m0.5 2.5h0m21-5.5h0m16.5 1h0m3-0.5h0m2.5 4h0m1.5-0.5h0m3.5 0h0m0.5-3h0m5-1h0m23 5h0m15-0.5h0m-116.5 4.5h0m11.5-1.5h0m1-1h0m0 3.5h0m3-2h0m6 3.5h0m5.5-1h0m2 0h0m3.5-4.5h0m1 5h0m6-5h0m2.5-0.5h0m2.5 2h0m3 0h0m0 2.5h0m8.5 1h0m0.5-0.5h0m1-1.5h0m6.5-3h0m5 5.5h0m12 0h0m5.5-4.5h0m4.5 3.5h0m18.5-4h0m6-0.5h0m-121.5 11.5h0m4-1h0m3.5-5h0m3.5 4h0m12-3h0m3.5 5h0m3.5-1.5h0m9.5 0h0m6-3.5h0m4.5 0h0m8 0.5h0m9 2.5h0m1.5-3.5h0m4 5.5h0m10.5-1.5h0m10 1.5h0m-93.5 3.5h0m0.5-1h0m9.5-0.5h0m1.5 1h0m11.5 2.5h0m2-4h0m3 2.5h0m1.5 1.5h0m1-5h0m3 2h0m3.5-1h0m1.5 4h0m0.5-1h0m2-3.5h0m6.5 3h0m1.5-2h0m11.5 2.5h0m10.5-1h0m7 0h0m5.5 1h0m0.5-4h0m2 4h0m8.5-1.5h0m-93 7.5h0m5.5 0h0m9.5 0.5h0m3.5-1.5h0m19.5 1.5h0m13.5-4h0m14.5-0.5h0m8.5 2h0m1 2h0m3.5-2h0m-73 4.5h0m2 1.5h0m4 0h0m4.5-2h0m2.5 4h0m13.5 0h0m11-1.5h0m2.5-2.5h0m11.5 5h0m2-2h0m4.5-2h0m3.5-1.5h0m0 2h0m3.5 0.5h0m-70.5 3.5h0m5 3.5h0m14.5-3h0m5.5 3h0m10-3h0m6.5 5.5h0m4.5-3h0m2 2.5h0m0.5-1.5h0m5.5-3.5h0m8.5 0.5h0m2-1h0m6 6h0m7.5-1.5h0m6 1h0m-77.5 4h0m2.5-1h0m4-2h0m3 0h0m6.5 3h0m0 2h0m11.5-1h0m17.5-2.5h0m3 1h0m3-1h0m2-1h0m10 2.5h0m-57.5 5h0m9-1.5h0m18.5 0h0m4 4h0m4.5-3h0m37.5-1h0m3 0.5h0m-76.5 8.5h0m5.5 0h0m9 0.5h0m27-0.5h0m1 1.5h0m2.5-4h0m12 2.5h0m3-3h0m15 3h0m-69 6h0m2-2h0m6.5-0.5h0m5 1.5h0m33.5 2h0m1-2.5h0m9.5-2.5h0m7.5 1.5h0m1.5 0h0m-58 10h0m12.5-2.5h0m4 2h0m2.5-4.5h0m8 3.5h0m5-2h0m-25.5 8.5h0m1-4h0m4.5 2.5h0m4.5 1.5h0m2-1h0m17.5-1.5h0m-43 4.5h0m8.5 4h0m14.5-2h0m0.5-2.5h0m3 4.5h0m-14.5 6.5h0m1.5-4.5h0m12.5 1.5h0m61.5 0h0m-79.5 6h0m6.5-0.5h0m75.5 8.5h0m12 0h0m-118 3h0m1 2h0m3.5-0.5h0m2 0.5h0m1-2.5h0m24 1h0m9.5 32.5h0" stroke="#BFE5A0" stroke-width="2.7" stroke-linecap="round" fill="none"/>
<path d="M93.5 500.5h0m2.5 0.5h0m6.5-4.5h0m-26.5 8.5h0m1 0h0m19.5-2h0m4.5-1h0m13.5 2.5h0m0.5 1h0m-51 4.5h0m3-1.5h0m1 4h0m2.5 0h0m6-4.5h0m4.5 1h0m3.5-0.5h0m13 2h0m2.5 0.5h0m1.5-2.5h0m1.5 1.5h0m4 2.5h0m4.5-5.5h0m2 4h0m-61 5h0m8.5-0.5h0m1.5-0.5h0m1.5 3.5h0m7-4.5h0m3-1h0m0.5 5h0m18-2.5h0m1 3h0m9-3h0m0 1h0m8 0h0m3.5-1h0m-85.5 7h0m6.5-2h0m4 3h0m8.5-1.5h0m3-2h0m4.5-1h0m4.5 0.5h0m19.5 2.5h0m10 2.5h0m1-4.5h0m0.5 4.5h0m9-4h0m0.5 3.5h0m1-2h0m4.5-2.5h0m2.5 4h0m-82.5 7h0m5-3.5h0m9 0.5h0m9.5 1.5h0m9-0.5h0m3.5 0.5h0m1-1h0m16 2.5h0m5-2h0m29-2.5h0m-85.5 9h0m6-1h0m1.5-1h0m11.5-1.5h0m6.5 0.5h0m2.5 4h0m8-4h0m0.5 2h0m4.5 1.5h0m6-0.5h0m2.5-2h0m6 2.5h0m3.5-4.5h0m0 5h0m28-3h0m0 4h0m-84 0h0m3 2.5h0m6-2h0m2.5 2h0m4.5 0.5h0m3 0h0m9.5 2.5h0m6-5h0m1.5 0.5h0m1.5 4.5h0m22-2h0m8 1h0m8.5-3h0m1 4h0m-78.5 5h0m12.5 1h0m0-4h0m8 0.5h0m7-1.5h0m2.5 4.5h0m5.5-3h0m4.5 0h0m5.5 1h0m2-2.5h0m8.5 2.5h0m0 1h0m10.5-2h0m4 2h0m11.5-2.5h0m-81.5 5.5h0m4 1h0m1-0.5h0m30.5-0.5h0m1.5 1.5h0m7.5 1h0m3.5-3h0m4 0h0m7.5 5h0m8.5-4h0m12 4h0m-82 1h0m3.5 4h0m6 0h0m5-1.5h0m9-2h0m4 0h0m2 4.5h0m3-0.5h0m7.5-4.5h0m15 0h0m1.5 3.5h0m11.5 2h0m6.5-4h0m-76 6h0m2 2.5h0m6-2.5h0m6.5 3h0m5-2.5h0m1 1h0m1.5-1h0m7.5 0.5h0m1-1.5h0m6-0.5h0m0 3h0m8-1.5h0m13.5 3h0m0-4h0m7.5 0.5h0m3 3.5h0m5-2h0m3.5-3.5h0m9 2.5h0m2.5 0.5h0m-90 8.5h0m14.5-2h0m11.5 2.5h0m1.5-2.5h0m5 2h0m14.5-4h0m4.5 0h0m3-0.5h0m7.5 2h0m6.5 2h0m4.5-3.5h0m6 4h0m20 0.5h0m-102 1.5h0m10.5 2.5h0m10-4h0m13 2h0m0.5 1.5h0m14-3h0m4 2h0m13 1.5h0m3.5 0h0m0.5-4h0m12 1h0m7 1.5h0m16-0.5h0m-107.5 5h0m2.5 3.5h0m2-2.5h0m2 0h0m1.5-1h0m1 2.5h0m3.5 0h0m1-1h0m9.5 1.5h0m3.5 0h0m3-1h0m1 0h0m2-0.5h0m4 1.5h0m15.5 1h0m20-4h0m3-0.5h0m2.5 5h0m1.5-2h0m2-0.5h0m7 1h0m1.5 2h0m10-2h0m1 1.5h0m5.5-1h0m9-0.5h0m5-3h0m2 2.5h0m3 0.5h0m-114 7.5h0m1-4.5h0m6 4.5h0m1-2.5h0m4.5-1.5h0m8 1.5h0m4-2.5h0m24-0.5h0m6 5.5h0m17-4h0m3 4h0m4.5-1h0m26.5-3h0m-113 7.5h0m4 0.5h0m0-3.5h0m5.5 1h0m2.5 1h0m11.5 1.5h0m8.5-1.5h0m23 0.5h0m2 2h0m5 1.5h0m3-3.5h0m6 0.5h0m22.5 2.5h0m-95 2h0m10 4h0m4.5-3h0m12 2.5h0m3.5-0.5h0m2-0.5h0m7.5-4h0m3.5 2h0m1.5 3h0m3-1.5h0m2-3h0m3 4h0m6-2.5h0m10-1h0m8.5 4h0m2.5 0h0m3.5 0h0m-64 4h0m3-2h0m7.5 4.5h0m1.5 0h0m2 0h0m3.5-1.5h0m3.5 0h0m0.5-3h0m2.5 3.5h0m5 0h0m21.5 0.5h0m5.5 0.5h0m-72 4h0m5.5 1h0m2 0h0m1-3.5h0m19 5h0m3.5 0h0m4.5-4h0m6 2h0m4.5-2h0m2-1.5h0m1.5 5h0m1-3h0m3.5 2.5h0m8.5 0h0m4.5-3.5h0m3 3.5h0m-69.5 6.5h0m1-4h0m10.5 2h0m8.5 1.5h0m1-5h0m2 0.5h0m9.5 1h0m6 4h0m7-2h0m2-2.5h0m8 1h0m0.5 3h0m-53.5 1h0m2 5h0m7.5-2h0m2 0.5h0m6 2.5h0m2-3h0m3 1.5h0m2.5-2h0m12 2.5h0m13.5-1.5h0m4 0h0m-53.5 6h0m6.5 1.5h0m2-0.5h0m2.5-1.5h0m4 0h0m2 2h0m3-2h0m0 0.5h0m3-1.5h0m1-1.5h0m0 5.5h0m3-0.5h0m1-5h0m6 2h0m6.5-2.5h0m0.5 4.5h0m27.5 0h0m4.5 1.5h0m-62.5 5.5h0m12-1h0m4-2.5h0m38 3.5h0m3.5-3h0m-55 4h0m2 2.5h0m5-2.5h0m32.5 4h0m23.5-1h0m-64.5 3.5h0m2 0h0m9.5 0h0m35 0h0m10.5 1.5h0m-27 9.5h0m6.5 1.5h0m46-1h0m29.5 4h0m-29.5 5h0m3 1.5h0m2-2h0m10.5-1h0m-100.5 9.5h0m3 0.5h0m16-4h0m73.5 3.5h0m3-5.5h0m2 1.5h0m5.5-0.5h0m-108 7.5h0m99.5 0h0m13.5 3h0m-112 1.5h0m-14 7h0m5.5 0.5h0m0 1.5h0" stroke="#DBF09A" stroke-width="2.7" stroke-linecap="round" fill="none"/>
<path d="M105 500h0m1-1h0m-16 5h0m1-0.5h0m5 2h0m-35.5 6h0m20 1.5h0m7.5-4.5h0m2.5 2h0m9-2h0m6.5 0.5h0m-56.5 10h0m9.5-3h0m4 0.5h0m1.5-2h0m15.5 0h0m3.5 2h0m15-3.5h0m3.5 5.5h0m-59 5h0m14-4h0m0.5 2.5h0m5-2.5h0m0.5 3h0m2.5-2h0m6.5 0.5h0m24.5 1h0m11.5 2.5h0m2-3h0m2.5 1h0m-78.5 5.5h0m7 1.5h0m6.5-1h0m4 2h0m2.5-3h0m4.5 1.5h0m0-4h0m9 6h0m16-5h0m10 3h0m3 0.5h0m3 0h0m2.5-0.5h0m8.5 0h0m-75.5 5.5h0m9 2.5h0m2-2h0m13-3h0m0.5 3.5h0m5-4h0m25 0.5h0m11.5 1.5h0m2.5 1h0m3 1.5h0m-76 5.5h0m5.5-1.5h0m5 3h0m9-5h0m1.5 3.5h0m5-2.5h0m1.5 1.5h0m1.5 0h0m2.5-0.5h0m7.5-2h0m9 4.5h0m5.5-5h0m0.5 5h0m14.5-5h0m6 0.5h0m1 3h0m4.5-1h0m-78 6h0m5.5-2h0m8.5 4h0m1-4.5h0m11 5.5h0m2-2h0m2.5 0h0m11.5-3h0m19.5 3h0m3-2.5h0m7-0.5h0m4.5 2h0m-70 6.5h0m9.5-2.5h0m1.5 3.5h0m5.5 1h0m11 0h0m6-4.5h0m4.5 3h0m2 0.5h0m7.5-0.5h0m12 0h0m-71.5 4.5h0m10-1h0m15 4h0m4.5-4h0m7 3h0m6.5-3.5h0m30 1.5h0m-68.5 7.5h0m6.5-2.5h0m5.5-0.5h0m0.5 0h0m6 2.5h0m9.5 0.5h0m5.5-2h0m2.5 0h0m6.5 3.5h0m10-5h0m11.5 4h0m6.5-2h0m3 2h0m4 1h0m-88.5 2.5h0m9 2.5h0m1-3.5h0m14 4.5h0m3.5-3h0m17.5 3.5h0m8-4.5h0m1.5 0.5h0m5 0h0m9.5 1h0m10.5 3h0m16-5h0m1.5 1.5h0m0.5-1.5h0m1.5 3h0m-100 5h0m24.5 2.5h0m21.5-3h0m1.5-2h0m3 3.5h0m2-3.5h0m9 4h0m6-4h0m7 2h0m2.5-2.5h0m3 5.5h0m8-3.5h0m5 3.5h0m0.5-4.5h0m2.5 4h0m3 0h0m0-3h0m3.5-0.5h0m2 4.5h0m0.5-2h0m6-1.5h0m-114 7.5h0m1-4h0m11 5h0m5-2h0m31 2h0m8.5-2h0m1-1.5h0m24-1h0m11.5 4h0m14.5-3.5h0m3 3h0m3-3h0m3-0.5h0m2 1h0m-109.5 6h0m0.5-0.5h0m32 4h0m18-1.5h0m6-2.5h0m34-0.5h0m-95 7h0m4.5 3h0m11-2.5h0m4.5-1.5h0m11 1h0m1.5-0.5h0m4 2h0m0.5-2.5h0m7.5 3h0m15.5 0h0m7 1h0m0-2h0m24.5 1.5h0m-97.5 7.5h0m4-2.5h0m1.5 1.5h0m20-0.5h0m4-2.5h0m22.5-1h0m13 1h0m9 3h0m1-2h0m7 1h0m1-2h0m6 0h0m-88.5 6.5h0m10 3.5h0m12-5h0m8 3.5h0m3.5-1h0m4 1.5h0m5-1.5h0m1.5-2.5h0m5 3.5h0m9-2.5h0m8 3.5h0m-63 6h0m25.5-4.5h0m1.5 3.5h0m49-2h0m-43.5 7.5h0m7-1.5h0m2 2h0m14 1.5h0m-35.5 6.5h0m10.5-0.5h0m18-5h0m1.5 0h0m2 3.5h0m21.5 0.5h0m-66.5 2.5h0m20.5 5h0m13-2h0m2-3.5h0m1 2h0m-17.5 6h0m9.5 0h0m-17.5 6h0m11.5-1.5h0m34 0h0m2.5 2.5h0m-28.5 4h0m22.5-1.5h0m-33 9.5h0m8-0.5h0m80 7h0m3.5-1h0m-4.5 4.5h0m5.5 8h0m-99.5 7.5h0" stroke="#EDF8A3" stroke-width="2.7" stroke-linecap="round" fill="none"/>
<path d="M109 497h0m-4 9h0m3-1h0m4.5-2.5h0m1-1.5h0m-50 9.5h0m6-3h0m27.5 5h0m15.5-0.5h0m2 0.5h0m-56.5 2h0m11 2.5h0m2.5 0.5h0m3.5-2h0m3.5 3.5h0m6-5.5h0m3.5 2.5h0m-14.5 5h0m9 0.5h0m3.5 0.5h0m1 2h0m16.5-3h0m3 0h0m8.5 2h0m-53 3.5h0m8.5 0h0m5.5 1.5h0m1 1.5h0m10-2.5h0m8-1.5h0m9 1h0m6.5 2.5h0m-81 6.5h0m9-4h0m23 4h0m5-1.5h0m12-1h0m32 3.5h0m-73.5 1h0m5.5 4.5h0m0-4.5h0m1 4.5h0m20-2h0m9.5 1h0m3-3h0m2.5 3.5h0m1.5-1.5h0m9.5-2.5h0m10.5 1h0m3 4h0m0.5-5.5h0m5.5 3.5h0m-78.5 7h0m29-3h0m14 1.5h0m13 2h0m15 1h0m-73 3h0m7.5 1h0m9 0h0m6.5-2.5h0m7.5 1.5h0m1-2.5h0m4.5 2.5h0m3.5-1.5h0m7.5 0h0m15-0.5h0m11 3.5h0m1.5-3h0m131 4h0m-185 6h0m4.5-2h0m20.5 1.5h0m3.5-4h0m1 3.5h0m7-0.5h0m4-2h0m1.5-0.5h0m2.5-1h0m2.5-0.5h0m1 5h0m2.5-1h0m122 1.5h0m3.5-5h0m4 5h0m1-2h0m6-1.5h0m-210.5 8.5h0m53.5-1h0m8 1.5h0m19.5-4.5h0m1.5 3h0m122-3.5h0m-197 7.5h0m47.5 0h0m0.5 4h0m2.5-3h0m0 2h0m23-0.5h0m15-1.5h0m6.5 2h0m-105.5 6.5h0m8-3h0m15.5-1.5h0m16.5 2h0m4 3h0m9-3h0m9-1h0m29.5 2.5h0m3-1.5h0m8.5 2h0m-90 5.5h0m3-2.5h0m11.5 3h0m25.5-4h0m12 3.5h0m25 0h0m2-1h0m5.5 1.5h0m8.5 1h0m14-3.5h0m-128 6h0m12.5 1h0m29.5-2h0m24 3.5h0m14.5 0h0m9-2.5h0m36-2h0m11.5 4.5h0m2.5-2.5h0m-84 4h0m34.5 5h0m-79.5 2h0m22 3h0m16.5 1h0m18.5-2.5h0m-41.5 6.5h0m9.5 0h0m-26.5 9h0m14.5-4h0m12 0.5h0m1-0.5h0m11-2h0m1.5 2h0m11.5-0.5h0m22 2h0m-65.5 7.5h0m13.5-1.5h0m17-3.5h0m-28.5 10.5h0m28-3h0m1 1.5h0m1-2.5h0m40.5 5h0m-56.5 4.5h0m9 0.5h0m-25 2.5h0m18 2.5h0m-8 3h0m77.5 22.5h0m10-4.5h0m2.5 9.5h0m-7.5 13h0m9-3.5h0" stroke="#F9FDB6" stroke-width="2.7" stroke-linecap="round" fill="none"/>
<path d="M112.5 500h0m-26 2.5h0m-14 13h0m13 2.5h0m-27.5 4.5h0m13 0.5h0m6 0.5h0m13 0.5h0m-64 1h0m6.5 2h0m11.5 3h0m12 1h0m32.5-0.5h0m25-2h0m-72 4.5h0m16 3.5h0m2-3h0m23-0.5h0m4.5 3.5h0m8-3h0m14 0h0m-54.5 4.5h0m18.5 1h0m6 0.5h0m22 2.5h0m3.5-1.5h0m-59 4.5h0m2.5 0h0m5 0h0m14-2h0m-23.5 7h0m50 3h0m130 0.5h0m2-0.5h0m2 0.5h0m2.5-2.5h0m1.5 3h0m-198.5 2h0m4.5 4h0m15.5-1.5h0m3 0.5h0m23-3.5h0m1 3h0m6.5-3h0m12.5 3h0m1 2h0m114.5 0h0m11.5-1h0m0.5-3.5h0m2-0.5h0m-205 10.5h0m15-1.5h0m74 2.5h0m115.5-5h0m-205.5 8h0m21.5-2h0m31 3h0m41 1h0m5.5 1h0m-17.5 2.5h0m6-1h0m17 1h0m6 1.5h0m-74 3h0m66.5 2.5h0m-11.5 4h0m0-0.5h0m-102 5h0m50.5 5.5h0m4-3.5h0m15.5 3.5h0m30.5-5.5h0m-54.5 11.5h0m24-3h0m-12.5 6.5h0m9 0h0m-39.5 5.5h0m-11.5 21.5h0" stroke="#FFF8B3" stroke-width="2.7" stroke-linecap="round" fill="none"/>
<path d="M115 501.5h0m-27.5 14h0m27-1h0m-62 7h0m53 1.5h0m8-3h0m-52.5 8.5h0m7-1.5h0m24 3.5h0m-14 3.5h0m-39.5 5h0m48 1h0m-30.5 7h0m17.5 1.5h0m-11 6h0m38.5-2h0m-40.5 6h0m160.5 3.5h0m-164 5.5h0m9 1.5h0m-44 5h0m25.5 4.5h0m34.5-3.5h0m-12 6h0m77 2h0m-2 2.5h0m4 4h0m1.5-1.5h0m2.5-2h0m2 0.5h0m-63 14h0m-58.5 27h0" stroke="#FEE99A" stroke-width="2.7" stroke-linecap="round" fill="none"/>
<path d="M67 513h0m6-5h0m15.5 10h0m-60 11.5h0m49.5-3.5h0m-29.5 25h0m175.5 6h0m1 3h0m12 0.5h0m-21.5 1h0m-138.5 13.5h0m43-1h0m30 8h0m2 0.5h0m2.5 0.5h0m-13.5 5h0m5.5-0.5h0m6-1.5h0m-81.5 16h0" stroke="#FED683" stroke-width="2.7" stroke-linecap="round" fill="none"/>
<path d="M83 540h0m58 39h0m3 1.5h0m1.5 2.5h0m5-2h0m-9 4.5h0" stroke="#FDBF6F" stroke-width="2.7" stroke-linecap="round" fill="none"/>
<path d="M232.5 551h0m-11.5 6.5h0m10 3h0m-84.5 21h0m2-0.5h0m5 0.5h0m-5.5 5h0" stroke="#FCA55D" stroke-width="2.7" stroke-linecap="round" fill="none"/>
<path d="M233 561.5h0" stroke="#F7864E" stroke-width="2.7" stroke-linecap="round" fill="none"/>
<path d="M97.5 501h0m15.5-5h0m-31 11h0m11 0h0m11-3.5h0m7.5 3h0m-45.5 3h0m6 2.5h0m27-0.5h0m3.5 0h0m-29 7h0m5.5-1h0m4 0h0m14.5 0.5h0m6.5-2.5h0m3.5-2h0m7.5 5h0m-49.5 1h0m12 3h0m10-2.5h0m0.5 4.5h0m3.5-5h0m16 3.5h0m2.5 0.5h0m4 1.5h0m-81.5 2h0m36 2h0m4-3.5h0m2.5 4.5h0m1-4.5h0m4.5 3h0m17.5 1h0m3-2h0m-63.5 7.5h0m7.5-1h0m3 2.5h0m14.5-1h0m14-3.5h0m23 3h0m-71 2.5h0m6.5 0.5h0m8.5 3h0m1 0h0m1-3h0m5 2.5h0m9 0h0m15-1h0m3 1.5h0m12 1h0m9-2.5h0m1.5 2.5h0m-68.5 1h0m15.5 5.5h0m10 0.5h0m3-0.5h0m13-5.5h0m23 6h0m7.5-3h0m-65 5.5h0m20 0.5h0m19 1.5h0m3.5-4h0m20 3h0m86.5 0.5h0m0.5-1h0m-155.5 5.5h0m5 3h0m5.5 0h0m38.5-0.5h0m7.5-1.5h0m1.5-2.5h0m97.5 1h0m-166 10h0m6.5-4h0m20 0.5h0m4.5-0.5h0m3.5-1.5h0m19 0h0m6.5 2h0m10 2h0m6-4h0m1-0.5h0m2 2.5h0m2.5 2h0m90 1h0m4-2.5h0m5 2.5h0m-166 4h0m6.5-2.5h0m9.5 1.5h0m7 2.5h0m12-1.5h0m6 1h0m26-2.5h0m21 3h0m-97 6.5h0m12-4.5h0m13.5 0.5h0m20 2.5h0m7-2.5h0m3-0.5h0m44.5 2h0m1.5 1h0m40.5 0h0m-153.5 5h0m32-1h0m29.5 0h0m10.5-1h0m16.5-0.5h0m7.5 0h0m2.5 5h0m10.5-1h0m6-3h0m40-0.5h0m25.5 3h0m-171.5 5.5h0m11 2.5h0m4.5-2.5h0m28.5-2.5h0m2.5 3h0m5 0h0m0.5 1.5h0m17-5.5h0m2 2h0m4-2h0m42.5 0.5h0m7 4h0m-128.5 2h0m2.5 5h0m9.5-4h0m16 1.5h0m2 3h0m8-2.5h0m19 2.5h0m8-0.5h0m8.5-1.5h0m5.5-2.5h0m10.5-1h0m-95.5 8h0m17.5-1.5h0m26-0.5h0m17 4.5h0m97.5 0h0m46.5 1h0m-200 0h0m13.5 3.5h0m11-3h0m11 0.5h0m3 4h0m13.5-0.5h0m23.5 0h0m92.5-4h0m3.5 3.5h0m18.5-1.5h0m3-2.5h0m7 3h0m-201 8h0m3.5 0h0m13.5-1.5h0m4-2h0m30 1h0m14.5 1.5h0m105.5 1.5h0m15-1.5h0m28-1.5h0m-206.5 8.5h0m30.5-1.5h0m7-1h0m2.5 2h0m10.5-2h0m11.5-1.5h0m3 3h0m116.5-1h0m18.5-1h0m30.5 2h0m0.5-3h0m5.5 4h0m-224 5.5h0m0.5-1.5h0m5.5-1h0m1 3.5h0m6.5-2h0m4-3.5h0m24 1h0m146.5-0.5h0m3 3h0m21 0h0m3.5 2h0m11-1.5h0m7.5-0.5h0m-245.5 5h0m24.5 3.5h0m5.5-3.5h0m5 0.5h0m1.5 2.5h0m7-4.5h0m4.5 3h0m5.5-3h0m19.5 2.5h0m-71.5 5.5h0m0.5-2.5h0m12.5 1h0m3 3.5h0m4-1.5h0m45-2h0m6.5 2.5h0m12 0.5h0m56-1.5h0m7.5 0h0m2 2h0m22-3.5h0m12 3h0m-178.5 4.5h0m3.5-2.5h0m31.5-0.5h0m8 5h0m12 0.5h0m8.5-1.5h0m2-2.5h0m69-1.5h0m37 3.5h0m31.5-2.5h0m12-0.5h0m-214.5 9h0m5-1h0m6 2.5h0m4 0.5h0m64-3h0m51 2h0m9.5 1h0m56.5-5h0m1 3h0m19-2.5h0m26.5 1h0m-237.5 8.5h0m8.5-1.5h0m13-1h0m1-1.5h0m6 1.5h0m13.5-1h0m3.5 1h0m4.5 0h0m4 2h0m8-2.5h0m2 0h0m17 2h0m14 2h0m32-5h0m65 1h0m29-1h0m-207.5 8.5h0m9-2h0m12 0h0m10.5 2h0m7.5 0.5h0m13.5 1.5h0m1-4.5h0m24 2h0m3 1h0m14.5 1h0m60.5-3.5h0m7.5 3.5h0m3.5-3.5h0m21 2.5h0m-197 4.5h0m3-1.5h0m4.5 1.5h0m24.5 3h0m7-0.5h0m10 0h0m7-1h0m11-1h0m32.5-2h0m2 2h0m9.5 0.5h0m2-1.5h0m84-0.5h0m0 2.5h0m19-2.5h0m-212.5 6.5h0m7 0.5h0m2-0.5h0m8-1h0m20 0h0m5.5 5h0m4.5-3h0m33.5-1h0m5-0.5h0m13.5 3.5h0m84-3h0m3 4.5h0m41.5-5.5h0m-254.5 9.5h0m9-1h0m10.5-3h0m17 1.5h0m8-1h0m0 0.5h0m13 1.5h0m9.5 1.5h0m22.5 0.5h0m17-4.5h0m5 5.5h0m7-5.5h0m1 6h0m3.5-5.5h0m17.5 2h0m62-1h0m5-0.5h0m5.5 2h0m6 1.5h0m-215 7.5h0m21.5-4h0m7-0.5h0m5.5 3h0m16.5-4.5h0m12 3h0m1.5 3h0m15.5-4.5h0m6-0.5h0m121.5 2.5h0m-204.5 5.5h0m21-0.5h0m6.5 0.5h0m18 2.5h0m10.5-3h0m87.5 1.5h0m61.5-3.5h0m-201.5 11h0m9.5-0.5h0m4-1h0m22 1h0m9-1.5h0m6.5 0h0m14.5 1h0m62 0.5h0m-135 5.5h0m22.5 0h0m4.5 0.5h0m0.5-4h0m11.5 0h0m5.5 0.5h0m10 2.5h0m6-2.5h0m91.5 2h0m-151 3h0m7.5 0h0m32.5-0.5h0m11.5 0.5h0m9 3h0m0.5 1.5h0m7-1.5h0m68-2h0m-134.5 6h0m4.5 3h0m9-3.5h0m2 3h0m4-3h0m2 2h0m2 1.5h0m3-1h0m16.5 2h0m3-4.5h0m9 2.5h0m16-1.5h0m1.5 2.5h0m1-3h0m-61 8.5h0m7.5 0h0m16-3h0m7.5 4h0m17-1.5h0m4.5-0.5h0m0.5 0h0m15 0h0m-45.5 9h0m-3.5 4.5h0m11.5-2h0m17.5 0.5h0m-42 3.5h0m6.5 1.5h0m14-1h0m17.5 1.5h0m9 3.5h0m3.5-1.5h0m4.5-2h0m11-2.5h0m0.5 3.5h0m-52.5 4.5h0m12 4h0m3-4h0m2 1h0m33 0.5h0m-38 7.5h0m6 0h0m9.5-4h0m1.5-1h0m4 4.5h0m3.5-1h0m2-3h0m2 1.5h0m-31 5.5h0m23.5 4h0m11-4.5h0m2.5 1h0m0-1.5h0m-36 9h0m9-1.5h0m14.5 4.5h0" stroke="#FFFFFF" stroke-width="1.5" stroke-linecap="round" fill="none"/>
</g>
<text x="1418.2" y="483.5" font-size="30.5" text-anchor="middle" font-style="italic">Siglech</text>
<g transform="translate(1250.8 5)">
<path d="M151.5 580C152.2 577.5 158.5 578.8 161.5 578C164.5 577.2 167.5 576.7 169.5 575C171.5 573.3 172.7 570.7 173.5 568C174.3 565.3 173.4 562.2 174.5 559C175.6 555.8 177.6 551.8 179.9 548.9C182.2 546 185.5 542 188.3 541.6C191.1 541.2 194.6 544.5 196.7 546.8C198.8 549.1 200.1 552.3 200.9 555.2C201.7 558.1 200.6 561.2 201.5 564C202.4 566.8 204.8 570 206.5 572C208.2 574 210.5 573.3 211.5 576C212.5 578.7 211.7 584.5 212.5 588C213.3 591.5 214.7 594.7 216.5 597C218.3 599.3 220.7 600.7 223.5 602C226.3 603.3 229.8 603.8 233.5 605C237.2 606.2 240.8 607.5 245.5 609C250.2 610.5 257.2 611.6 261.6 613.8C266 616 269.7 618.2 272.1 622.2C274.5 626.2 275 632.7 276.2 637.9C277.4 643.1 279.4 648.4 279.4 653.6C279.4 658.8 277.8 664.9 276.2 669.3C274.6 673.7 272.4 676.6 270 679.8C267.6 682.9 265.6 686.1 261.6 688.2C257.6 690.3 251.1 692.3 245.9 692.3C240.7 692.3 234.6 689.8 230.2 688.2C225.8 686.6 222.7 685.5 219.7 682.9C216.7 680.3 214.1 676 212.4 672.5C210.6 669 211.5 665.1 209.2 662C206.9 658.9 201.4 656.3 198.8 653.6C196.2 650.9 194.9 649.3 193.5 646C192.1 642.7 191.4 638 190.5 634C189.6 630 189.4 625.6 188.3 622.2C187.2 618.8 186.4 616.2 184.1 613.8C181.8 611.4 177.8 609.7 174.7 607.6C171.6 605.5 168.2 603.7 165.3 601.3C162.4 598.9 159.8 596.5 157.5 593C155.2 589.5 150.8 582.5 151.5 580Z" fill="#DCDCDC"/>
<path d="M143.5 658C145.2 656 149.2 654.5 151.5 653C153.8 651.5 155.2 652 157.5 649C159.8 646 163.3 638 165.5 635C167.7 632 168.7 631.3 170.5 631C172.3 630.7 175.2 631.5 176.5 633C177.8 634.5 177.5 637.7 178.5 640C179.5 642.3 181.5 645 182.5 647C183.5 649 185.7 650.7 184.5 652C183.3 653.3 178.2 654 175.5 655C172.8 656 170.8 656.2 168.5 658C166.2 659.8 163 663.3 161.5 666C160 668.7 159.5 671 159.5 674C159.5 677 160 681.3 161.5 684C163 686.7 165.8 687.9 168.5 690C171.2 692.1 174.5 694.5 177.5 696.5C180.5 698.5 185.8 700.1 186.5 702C187.2 703.9 184.2 706.7 181.5 708C178.8 709.3 173.2 708.3 170.5 710C167.8 711.7 166.3 715.3 165.5 718C164.7 720.7 166 724.3 165.5 726C165 727.7 163.6 729.3 162.5 728C161.4 726.7 160.8 721 159.1 718C157.4 715 153.9 712 152.5 710C151.1 708 150.5 708.7 150.5 706C150.5 703.3 152.4 696.9 152.5 694C152.6 691.1 150.7 690.8 151.1 688.5C151.5 686.2 155.4 682.8 155.1 680.5C154.8 678.2 151.3 676.6 149.5 675C147.7 673.4 145.8 672.7 144.5 671C143.2 669.3 141.7 667.2 141.5 665C141.3 662.8 141.8 660 143.5 658Z" fill="#DCDCDC"/>
<defs><linearGradient id="g_Siglech" gradientUnits="userSpaceOnUse" x1="0" y1="490" x2="0" y2="775"><stop offset="0" stop-color="#5E4FA2"/><stop offset="1" stop-color="#5E4FA2"/></linearGradient></defs>
<path d="M109.9 492.4C112 492.7 113.9 493.3 114.9 495.9C115.9 498.4 115.7 502.4 115.8 507.7C115.9 513 115.5 522.1 115.4 527.4C115.2 532.6 115.8 535.9 114.9 539.2C114 542.5 110.9 544.1 109.9 547.1C108.9 550.1 108.2 554.4 108.9 557C109.6 559.6 111.4 560.9 113.9 562.9C116.4 564.9 120.4 566.8 123.7 568.8C127 570.8 130.3 572.9 133.6 574.7C136.9 576.5 140.1 578.6 143.4 579.6C146.7 580.6 151.2 579.7 153.3 580.6C155.4 581.5 156.3 583.3 156.2 585C156.1 586.7 154.1 590 152.5 590.7C150.9 591.5 149.6 590.2 146.4 589.5C143.2 588.8 137.3 587.3 133.5 586.5C129.7 585.7 127 584.5 123.7 584.5C120.4 584.5 115 584.9 113.9 586.5C112.7 588.1 117.1 591.9 116.8 594.4C116.5 596.9 114 599.6 111.9 601.3C109.8 602.9 106 602.6 104 604.3C102 605.9 100.4 608.8 100.1 611.2C99.8 613.7 100.8 616.5 102.1 619C103.4 621.5 106 623.1 108 625.9C110 628.7 112.3 632.9 113.9 635.8C115.5 638.6 116.5 641 117.8 643C119.1 645 121.2 646 121.8 647.7C122.4 649.4 119.5 651.7 121.5 653C123.5 654.3 129.6 654.9 133.6 655.6C137.6 656.4 142.6 657.4 145.4 657.5C148.2 657.6 149.3 655.8 150.5 656.5C151.7 657.2 152.8 659.6 152.5 662C152.2 664.4 150 667.1 148.5 671C147 674.9 145.9 683.4 143.4 685.1C140.9 686.8 136.9 681.9 133.6 681.2C130.3 680.6 127.3 680.6 123.7 681.2C120.1 681.9 115.2 684.5 111.9 685.1C108.6 685.8 106.6 684.1 104 685.1C101.4 686.1 97.7 688.5 96.1 691.1C94.5 693.7 93.5 698.3 94.2 700.9C94.9 703.5 98.5 704.5 100.1 706.8C101.7 709.1 102.9 711.7 104 714.7C105.1 717.7 106 721.7 107 724.6C108 727.5 109.6 728.8 109.9 732.4C110.2 736 109.9 742.6 108.9 746.2C107.9 749.8 106.5 751.1 104 754.1C101.5 757.1 98.3 761.2 94.2 764C90.1 766.8 83.5 770.2 79.4 770.9C75.3 771.5 72.5 770 69.5 767.9C66.5 765.8 63.8 761.3 61.7 758C59.6 754.7 58.7 751 56.7 748.2C54.7 745.4 52.6 743.4 49.8 741.3C47 739.2 43.3 737.5 40 735.4C36.7 733.3 33.1 731.6 30.1 728.5C27.1 725.4 24.2 720.7 22.2 716.7C20.2 712.8 19.1 709.4 18.3 704.8C17.5 700.2 17.1 692.7 17.3 689.1C17.5 685.5 19.6 684.5 19.3 683.2C19 681.9 15.9 682.5 15.4 681.2C14.9 679.9 14.7 676.5 16.3 675.3C17.9 674.1 22.7 673.8 25.2 673.8C27.7 673.8 29.1 675.9 31.1 675.3C33.1 674.7 36.2 673.3 37 670.4C37.8 667.5 36.8 661.7 36 657.6C35.2 653.5 33.6 649.5 32.1 645.7C30.6 641.9 28.7 637.8 27.2 635C25.7 632.2 24.7 631.6 23.2 628.9C21.7 626.2 19.8 622.8 18.3 619C16.8 615.2 15.5 610.8 14.4 606.2C13.2 601.6 11.4 595.5 11.4 591.4C11.4 587.3 13.1 585.2 14.4 581.6C15.7 578 17.7 573.6 19.3 569.8C20.9 566 22.7 562.7 24.2 558.9C25.7 555.1 28 550.7 28.2 547.1C28.4 543.5 25.9 540.6 25.2 537.3C24.5 534 23.7 530.2 24.2 527.4C24.7 524.6 25.9 522 28.2 520.5C30.5 519 34.9 518.7 38 518.5C41.1 518.3 44.4 520 46.9 519.5C49.4 519 50.5 517.1 52.8 515.6C55.1 514.1 57.9 512.3 60.7 510.7C63.5 509.1 66.2 507.4 69.5 506.2C72.8 505 76.6 505 80.4 503.8C84.2 502.6 88.6 500.5 92.2 498.8C95.8 497.1 99.2 495 102.1 493.9C105.1 492.8 107.8 492.1 109.9 492.4Z" fill="url(#g_Siglech)"/>
<path d="M213.4 561.5C214.1 559.8 217.8 557 219.7 555.2C221.6 553.4 222.4 551.3 224.9 550.5C227.3 549.7 232.1 549 234.4 550.5C236.7 552 238.2 556.5 238.5 559.4C238.8 562.3 237.9 564.8 236.5 567.8C235.1 570.8 231.6 574.4 230.2 577.2C228.8 580 229.5 581.9 228.1 584.5C226.7 587.1 223.9 591 221.8 592.9C219.7 594.8 217.2 596 215.5 596C213.8 596 211.6 594.8 211.3 592.9C210.9 591 212.3 587.1 213.4 584.5C214.4 581.9 216.2 579.6 217.6 577.2C219 574.8 221.4 572.1 221.8 569.9C222.1 567.7 220.8 564.7 219.7 564C218.7 563.3 216.6 566.1 215.5 565.7C214.4 565.3 212.7 563.2 213.4 561.5Z" fill="#5E4FA2"/>
<path d="M96 500h0m13.5 0.5h0m-18.5 4h0m-11 6.5h0m1.5-3.5h0m9.5 0h0m0 10.5h0m4.5 0.5h0m6.5-2h0m-74 4.5h0m9.5-1h0m25-0.5h0m16 1h0m5 2h0m6-2.5h0m25.5 3.5h0m-89 3.5h0m3-1h0m31.5-0.5h0m2.5 2.5h0m4.5 0.5h0m18 0.5h0m1-2.5h0m11 1.5h0m-68 8h0m5.5-0.5h0m23 1h0m2.5-0.5h0m9 0.5h0m2.5-4.5h0m12.5 3h0m5-3h0m13 2.5h0m-68.5 7.5h0m14.5-0.5h0m35-4h0m15 0h0m3.5 1.5h0m85 4h0m-127 6h0m25-5h0m0.5 2h0m-49 6h0m10.5 3h0m17.5-2.5h0m38.5-3h0m77 4h0m4.5-4h0m7.5 2.5h0m3-2h0m0.5 4h0m-169 3.5h0m7.5-1.5h0m28 0.5h0m11.5 1.5h0m34.5 0h0m71 1.5h0m2 1h0m11-4.5h0m2 3h0m3 0.5h0m-155.5 1.5h0m7.5 5h0m6-0.5h0m0-4h0m10.5 2h0m113 3h0m7-5h0m4 0h0m4 5h0m1-3h0m5 1.5h0m-174.5 4.5h0m19.5-1.5h0m16 4.5h0m1 0h0m15-3.5h0m8.5 2.5h0m9.5-0.5h0m3.5 2h0m83-2.5h0m3-1.5h0m4.5-0.5h0m2 3.5h0m8-3h0m2.5 2h0m-143.5 6h0m18-1h0m14.5-3h0m12.5 5.5h0m3.5 0.5h0m15.5-4.5h0m12 3h0m44.5-2h0m0 2h0m-159.5 7.5h0m8-1.5h0m12.5-4h0m20.5 0h0m17.5 0.5h0m14-0.5h0m3 5.5h0m11.5 0h0m5.5-3.5h0m0 2.5h0m2.5-4.5h0m7 3.5h0m9-3h0m14 3h0m22 0h0m0.5-3h0m0.5 4h0m2 1h0m3-1h0m17-5h0m2.5 3.5h0m2 1h0m1-2.5h0m3 0.5h0m15 3h0m-191.5 6h0m22-5h0m4.5 0.5h0m9.5 1.5h0m39.5 0h0m44-1h0m6 0h0m1 2h0m13.5 1.5h0m7 0.5h0m6 0.5h0m7.5-2h0m17.5 1.5h0m8-3h0m-191 6.5h0m7.5-2h0m10 1h0m6 2h0m13.5-2h0m12.5 2h0m12.5 2h0m0.5-1h0m18-2h0m7.5 2.5h0m2-5h0m9.5 1h0m42.5 0.5h0m3.5 2.5h0m3 1h0m1.5-4h0m1 3.5h0m3-4h0m4 2h0m10 1.5h0m1.5 0h0m11 0.5h0m2 0.5h0m0.5-1.5h0m4.5-2.5h0m0.5-1h0m5.5 0.5h0m5.5 3.5h0m-200 2h0m31.5 0.5h0m3.5 2h0m3.5 2.5h0m0.5-5h0m4 4.5h0m39.5-2.5h0m8 1.5h0m61-4h0m2 2.5h0m4 1.5h0m1.5-4h0m12 2.5h0m20.5-0.5h0m10 0.5h0m-194 9h0m162.5-3.5h0m6 0h0m2 2h0m1.5 1h0m6.5-2.5h0m8-1h0m9 2.5h0m5.5-1.5h0m3-0.5h0m2-0.5h0m1.5 3.5h0m9.5-1h0m3.5 1.5h0m-216 6h0m3 0h0m5.5-1.5h0m3.5-2h0m4.5 2.5h0m27.5-1h0m18-2h0m7 1h0m3-0.5h0m87.5-0.5h0m5.5-0.5h0m9.5 4h0m4.5-2.5h0m7-1.5h0m6.5 2h0m1.5 1h0m3 1.5h0m2-2h0m1-1.5h0m7.5-1.5h0m6.5 2h0m2 3.5h0m-215 3h0m8.5 0h0m20 0.5h0m1 1.5h0m130.5-0.5h0m1-4h0m3.5 0h0m0.5-0.5h0m3 2.5h0m2.5 2h0m1.5 1.5h0m5.5-5h0m8.5-0.5h0m0.5 3h0m0.5 2.5h0m6-2h0m3-3.5h0m9.5 1h0m9 1.5h0m3.5-2.5h0m-224.5 6.5h0m17 0h0m13 4h0m47-0.5h0m99.5-1h0m14.5 0.5h0m0-2h0m5-0.5h0m0.5 4.5h0m9.5-3.5h0m2 2.5h0m9 0h0m-212 6h0m1.5-1h0m7.5-1h0m6.5-2h0m7 3.5h0m14.5-2.5h0m110 3h0m1 0.5h0m25.5-3.5h0m7 2.5h0m9.5-2h0m15 2h0m0-2.5h0m3.5 2.5h0m6.5 0h0m4.5-2h0m3.5 1.5h0m-209 3h0m18-0.5h0m106 5h0m1.5-2h0m2-1.5h0m7.5 3.5h0m16-4.5h0m8.5-0.5h0m1.5 5h0m1-3h0m3 2h0m2.5-2.5h0m7 1.5h0m6.5-2h0m5 3h0m3.5 0h0m11.5-2h0m0.5 1h0m3 1h0m-173.5 7h0m107.5-4.5h0m18 3h0m0.5 1h0m3.5-4h0m7 2h0m11-2.5h0m1 2.5h0m2-3h0m5 2h0m3.5-1.5h0m2 2h0m3 1.5h0m4-1h0m2-3h0m2.5 5.5h0m1-1.5h0m1.5-2.5h0m-201.5 6h0m26.5 4h0m13.5 0.5h0m9-3h0m2.5-1h0m64 3h0m10-0.5h0m4 0h0m20.5-3h0m4.5 3.5h0m11.5 0.5h0m0.5-4h0m10 1h0m8.5 0.5h0m1.5-0.5h0m1 3.5h0m4.5-3h0m2.5-2h0m9.5 0h0m0.5 4.5h0m-126 6h0m36.5-3.5h0m10 0.5h0m4 0h0m27.5-1h0m3.5 1h0m1.5-1h0m7 3h0m2.5-3.5h0m3.5 2h0m6-3h0m1.5 4h0m1-2h0m12-1h0m-198 5.5h0m6 0.5h0m2.5 0h0m6.5 0.5h0m70.5 2.5h0m4.5-3.5h0m12 3.5h0m62.5-3.5h0m14 1.5h0m1.5-1h0m3 0.5h0m5.5 1h0m5.5-1h0m-186 4.5h0m8 2h0m22.5 2.5h0m4.5-1h0m135 2h0m2-1.5h0m9 0h0m1-3.5h0m6 4h0m-198.5 5h0m1-2h0m5.5 4h0m16.5-1.5h0m7.5 0.5h0m45 0h0m27.5-3.5h0m81.5 2h0m7-1h0m5.5 0.5h0m3.5 3h0m-198.5 4.5h0m16.5 1h0m8 0h0m6-5h0m28.5 3h0m25.5 2.5h0m3 0h0m5-1h0m1-1h0m98 2h0m4.5-4h0m2.5 2h0m-189 8h0m2.5-4h0m15.5 1h0m158-0.5h0m12 0h0m-212 7h0m3.5 0h0m0 2h0m9-0.5h0m12.5-2.5h0m11.5 1.5h0m0-2.5h0m2-0.5h0m170 0.5h0m0-0.5h0m1 1h0m3-1h0m-202.5 8h0m-15.5 9h0m4.5-1.5h0m8-2h0m-8.5 4.5h0m31.5 4.5h0m-32 6h0m51-5h0m3.5 5.5h0m18.5-3h0m-69.5 7h0m0-3h0m3 3.5h0m11.5 1h0m2.5-2.5h0m0.5 2.5h0m11.5-4.5h0m23.5 1h0m14 1.5h0m-41.5 5h0m31 3h0m13 0.5h0m9.5-3h0m-65.5 7h0m15-0.5h0m30 2h0m12.5 0.5h0m5.5-5h0m-24.5 9h0m17 2.5h0m-23 9.5h0m8-2.5h0m5.5-1h0m9 3h0m-24 3.5h0m4.5 6h0m19.5 1.5h0m-17 8h0" stroke="#5E4FA2" stroke-width="2.7" stroke-linecap="round" fill="none"/>
<path d="M77 562h0m12.5 123h0m-18.5 18.5h0m-20.5 5.5h0m15.5 0h0m-12 9h0m38 0.5h0m-42.5 18.5h0m2.5-0.5h0" stroke="#496AAF" stroke-width="2.7" stroke-linecap="round" fill="none"/>
<path d="M83.5 530h0m-18 61h0m22-1h0m-2.5 5h0m1.5 6h0m-29 11.5h0m27 4.5h0m2.5 3.5h0m-17.5 15h0m1 4h0m11.5 51.5h0m1 5.5h0m-19.5 10h0m18.5 5.5h0m-19.5 9h0m15 1.5h0m2.5 2.5h0m12.5 4h0m-42 3h0m23.5 10h0m16 1.5h0m-4 13h0" stroke="#3485BC" stroke-width="2.7" stroke-linecap="round" fill="none"/>
<path d="M109.5 537.5h0m-34.5 54h0m18.5 1h0m-11 10.5h0m2-5.5h0m-28.5 5.5h0m32 0h0m-4.5 11h0m-9.5 4.5h0m3-2.5h0m6 0h0m-14 26h0m0.5 2.5h0m5.5 29.5h0m23.5 1.5h0m-41.5 17.5h0m15.5-1h0m2 4h0m4.5 2h0m-27.5 2.5h0m16 4.5h0m3.5 5.5h0m7.5-4.5h0m10 1h0m-15 21.5h0m-19.5 0.5h0m19.5 4.5h0m3.5 8h0m2.5 1h0m-21 6h0m9 2h0m3.5 4h0m19 1.5h0" stroke="#48A1B3" stroke-width="2.7" stroke-linecap="round" fill="none"/>
<path d="M79 523.5h0m6-1.5h0m-5.5 19h0m29 0.5h0m-10.5 4.5h0m-25.5 49h0m11.5-1h0m-8.5 14.5h0m18-4h0m0 4h0m-30.5 6.5h0m29.5-2.5h0m0 8.5h0m-35 3.5h0m12-1h0m14 7h0m-11 20h0m43-1h0m-46 15h0m40.5 2h0m-32 6h0m16 0.5h0m-12 6.5h0m1-1.5h0m5 2h0m-2.5 1.5h0m-17.5 11h0m2-1h0m4.5 0.5h0m-24.5 2h0m9 4.5h0m29-4.5h0m-42.5 10.5h0m11-2.5h0m-5.5 6h0m20.5-1h0m6 1.5h0m7-1.5h0m5.5-1.5h0m-18 13h0m3.5 3.5h0m1-3.5h0m5.5 4h0m-32 4.5h0m11.5-3.5h0m1 3h0m7-0.5h0m7.5 7h0m1.5-2h0m3 9.5h0m8.5-0.5h0m-20 3h0m8.5 2h0m-1 9h0m3.5 5h0" stroke="#61BCA7" stroke-width="2.7" stroke-linecap="round" fill="none"/>
<path d="M93 511h0m12 3.5h0m-24 8h0m21.5 8h0m-11 15h0m11.5 13h0m2.5-3h0m-2 11.5h0m19.5 3.5h0m-50 20h0m-17.5 4.5h0m0.5 2h0m32-3h0m0 1.5h0m6 0.5h0m-20 2h0m2.5-0.5h0m8 6.5h0m-17 6.5h0m24 3.5h0m2 0.5h0m-28 4h0m1-2.5h0m9 0.5h0m1.5 2h0m2 1.5h0m0.5-4.5h0m1.5 2h0m11.5-1h0m-17 5.5h0m3.5 0h0m3 1.5h0m0.5 2h0m1 1.5h0m13.5-0.5h0m-23.5 13h0m-0.5 9.5h0m4.5 2.5h0m2 5h0m34.5-3h0m-44 13.5h0m2-2h0m5 0.5h0m-4.5 7.5h0m4.5-1h0m2.5-2.5h0m21.5 2.5h0m-25 5h0m11.5-0.5h0m7.5 2.5h0m2.5-0.5h0m3.5 1h0m-17 5h0m3.5 1h0m8-3h0m-31.5 10.5h0m0-2.5h0m-13 6.5h0m19.5-4h0m3.5 5h0m-28 2h0m4 1h0m22-2h0m3.5 6h0m5-3.5h0m3.5 2.5h0m2-3.5h0m8 3h0m-40 6h0m25.5 0.5h0m-15 3h0m16.5 0.5h0m3.5 1.5h0m8-3h0m-27.5 6h0m13.5-1h0m-23.5 8.5h0m32 0h0m-38.5 8.5h0m5-1.5h0m4.5 1h0m-4 7h0m10.5-5h0m7.5 4.5h0m12.5-5h0m1.5 2.5h0m8 0.5h0m-32.5 5.5h0m5 2.5h0m3-0.5h0m7.5 0h0m6-3.5h0m5.5 1.5h0m-27 7.5h0m4-2.5h0m3 4.5h0m7.5-3.5h0m1.5 3.5h0m1.5-6h0m13 0.5h0m-25 9h0m19.5-0.5h0" stroke="#80CCA5" stroke-width="2.7" stroke-linecap="round" fill="none"/>
<path d="M101 502h0m-7 11h0m-16 19h0m-2 7h0m0.5 13h0m2 7.5h0m11-1h0m-7.5 16.5h0m14.5-2h0m-7 17.5h0m-29.5 5.5h0m30.5-1h0m-22 2h0m1.5 2h0m10 2h0m0-3h0m-20.5 7.5h0m1.5-1h0m18.5-1h0m12 0.5h0m-26.5 8h0m22 2.5h0m8 0.5h0m-34.5 1h0m25.5 1h0m0.5 4h0m2.5-3.5h0m3.5 0h0m4.5 1.5h0m-41.5 4h0m21.5 1h0m2.5-2.5h0m4.5 1h0m11 3h0m2-4h0m-24 9h0m1-2.5h0m4 1h0m1.5-1.5h0m11 3h0m3.5-3h0m-23 10h0m9-3h0m-5 8.5h0m0.5-2.5h0m3 4.5h0m10.5-5.5h0m-21 11h0m7.5-4h0m41 0h0m-46 9.5h0m5.5-4.5h0m-5 8h0m0-0.5h0m3.5-0.5h0m1.5-1.5h0m4 2.5h0m3.5 0h0m17.5 2h0m8.5 0.5h0m4-0.5h0m-37.5 5h0m20.5 0h0m11 0.5h0m-33.5 3h0m22.5 1h0m7.5 1h0m4 1.5h0m1.5-3h0m-30.5 8.5h0m13-1.5h0m1 6h0m1 1.5h0m-36.5 7h0m11 2.5h0m14-0.5h0m3.5-0.5h0m7 0h0m-35.5 11h0m6-5h0m26 3h0m3.5-1.5h0m-47.5 6.5h0m31-1h0m-21 6h0m9 8.5h0m-14 4.5h0m7 1.5h0m0-3h0m34 2h0m-28.5 8h0m8-4.5h0m8.5-0.5h0m2 4h0m-17.5 5.5h0m30.5-3.5h0m-29 9h0m8 0h0m0.5 0.5h0m-13.5 4h0m34 3.5h0m-18 6h0" stroke="#A1D9A4" stroke-width="2.7" stroke-linecap="round" fill="none"/>
<path d="M106.5 495h0m-10 11h0m17-4h0m-3.5 32h0m2 9.5h0m-35.5 6h0m11 3.5h0m-2.5 5h0m31.5 14.5h0m5-1h0m-51 22.5h0m7 0.5h0m11-3.5h0m-16.5 10.5h0m12.5 5.5h0m-12 4h0m11.5-1h0m5.5 1h0m6.5 2.5h0m-24.5 4.5h0m18 1.5h0m10-4h0m-25 10h0m16-2.5h0m1-1h0m-15.5 6.5h0m10 0h0m3-1h0m1 5.5h0m5.5-1h0m-24.5 2h0m2 4.5h0m-4.5 4.5h0m9.5 0h0m4 7h0m4.5 2.5h0m-1.5 8.5h0m2 0.5h0m5.5 1.5h0m7-1.5h0m-10 3h0m6 2.5h0m8.5-2h0m8 1h0m1-1.5h0m-35 6.5h0m3.5 4h0m2-3h0m4-0.5h0m-3 6h0m18 0.5h0m-5 4h0m0 3h0m4-3.5h0m-49.5 13.5h0m35.5 2h0m1.5 0h0m-24.5 4.5h0m7 1.5h0m-10.5 5.5h0m3.5-3.5h0m2.5 5.5h0m2-3h0m21.5 3h0m-42.5 6.5h0m29.5-4h0m10.5 2.5h0m4-0.5h0m-45.5 7.5h0m41 4.5h0m-37 3.5h0m10 4h0m29.5-3h0m1 1h0m-24 7.5h0m15.5-3.5h0m4.5-0.5h0m1 2h0m0.5 1.5h0m-24.5 2h0m0.5 6h0m11 3.5h0m13.5 0h0m-19 3h0" stroke="#BFE5A0" stroke-width="2.7" stroke-linecap="round" fill="none"/>
<path d="M111 505h0m-0.5 4.5h0m-5 11.5h0m7.5 9.5h0m-37 32.5h0m-7 52h0m10.5 3h0m6.5 0.5h0m13-2.5h0m2.5 2h0m-42 4h0m14 1.5h0m7.5 1h0m11 0h0m-20.5 6h0m11-1.5h0m8-2h0m-19.5 8.5h0m2.5 0h0m3-1.5h0m2 3h0m3.5-2h0m2.5-1.5h0m3 5.5h0m-9.5 2h0m9.5 0h0m3.5 2.5h0m25 1h0m-46.5 1.5h0m2 3h0m1.5-2h0m7.5-1.5h0m6.5 0h0m-11.5 9h0m5-3h0m4 4.5h0m5.5-3.5h0m5 4h0m20-1h0m-25.5 3h0m-16.5 10h0m9.5-1.5h0m9.5 0h0m10 0.5h0m5.5-2.5h0m-22 8.5h0m2.5-3.5h0m6 2h0m3.5-2h0m4 0h0m9 3h0m-34 4h0m12.5-2h0m1.5 3.5h0m2 1h0m11-4.5h0m-10.5 9.5h0m-36 14h0m4 3.5h0m7.5 7h0m1 0.5h0m25.5-1h0m-36 8h0m4-3.5h0m23 7.5h0m8.5 2.5h0m-38.5 14h0m36 14.5h0m-20.5 6h0" stroke="#DBF09A" stroke-width="2.7" stroke-linecap="round" fill="none"/>
<path d="M106 500.5h0m-19.5 50.5h0m6-1h0m22 15h0m-32.5 41h0m8.5 18.5h0m-11 6h0m11.5-0.5h0m1.5-1.5h0m4.5 3h0m-20.5 4.5h0m16 1h0m4-1.5h0m-16 12.5h0m10-1h0m5.5 2.5h0m-23 7h0m22.5-2h0m-11.5 8.5h0m1-5h0m8.5 3.5h0m6.5 1h0m-7 1h0m2 4.5h0m5-2.5h0m2.5 3.5h0m-22.5 5.5h0m7.5-0.5h0m10.5 0h0m-9.5 3.5h0m6.5-1h0m4.5 3.5h0m-38.5 18.5h0m15 3.5h0m4.5 2h0m5.5 23.5h0m-23.5 7h0m18.5-4h0m-10.5 5.5h0m14.5 15.5h0m-22.5 7.5h0m12-5h0" stroke="#EDF8A3" stroke-width="2.7" stroke-linecap="round" fill="none"/>
<path d="M111 526.5h0m-19 46.5h0m-27.5 37.5h0m32.5 19h0m-16 7.5h0m3 2h0m4-5.5h0m2 5h0m2.5-5h0m2 5.5h0m-12 1.5h0m0.5 1h0m1 0h0m1.5-2.5h0m6.5 1h0m3.5 11h0m-11.5 3h0m-2.5 8h0m6.5-1h0m6-2h0m5 1h0m-13 3.5h0m0.5 4.5h0m1.5-3.5h0m5.5 3.5h0m4-2.5h0m-6.5 5.5h0m7 4h0m-14.5 4h0m-35.5 13h0m7.5 7h0m-7.5 25h0m21.5 15h0m18 19h0" stroke="#F9FDB6" stroke-width="2.7" stroke-linecap="round" fill="none"/>
<path d="M97 539h0m-9.5 90h0m-7.5 8h0m6-1.5h0m8.5-1.5h0m-20 5h0m9.5 5.5h0m0.5 4.5h0m3-2h0m4-1.5h0m-12 7.5h0m2.5-1h0m1 3.5h0m9.5-1.5h0m-16.5 7.5h0m2.5 0h0m1-3.5h0m15 2.5h0m4.5-3h0m-16.5 7h0m2.5 4h0m11-5.5h0" stroke="#FFF8B3" stroke-width="2.7" stroke-linecap="round" fill="none"/>
<path d="M93.5 644.5h0m3-2h0m-7.5 7h0m4.5 1h0m-2.5 2h0m5 6.5h0m-12.5 14h0m7.5 0.5h0" stroke="#FEE99A" stroke-width="2.7" stroke-linecap="round" fill="none"/>
<path d="M94 544.5h0m1 95.5h0m17 1.5h0m-23.5 10h0" stroke="#FED683" stroke-width="2.7" stroke-linecap="round" fill="none"/>
<path d="M99.5 623.5h0m1.5-2h0m5.5 3h0m-14 13h0m17.5 17h0m-7.5 4h0m1.5 1.5h0m-15 12h0" stroke="#FDBF6F" stroke-width="2.7" stroke-linecap="round" fill="none"/>
<path d="M98.5 626h0m3 0h0m6.5 0.5h0m-8 6h0m4.5-1.5h0m5 1.5h0m-11.5 1.5h0m1.5 5h0m5-2.5h0m6.5 2.5h0m-13 2.5h0m1.5-1.5h0m1 4h0m8.5-1h0m-14 7.5h0m9-1h0m-5 2h0m1.5 3.5h0m8 2h0m3-4h0m1-1.5h0m-5.5 7h0" stroke="#FCA55D" stroke-width="2.7" stroke-linecap="round" fill="none"/>
<path d="M101 625.5h0m0.5-1.5h0m3.5-0.5h0m-5 4.5h0m3.5 2h0m1.5-1h0m-7.5 9.5h0m2-5h0m6-0.5h0m0.5 4h0m3.5 0.5h0m0.5-2.5h0m-12 8h0m2.5 0.5h0m4 0h0m1-2h0m0 3h0m1-5h0m2.5 5h0m1-5h0m-12.5 6h0m4 3h0m0.5-3h0m3.5 0.5h0m5.5 4.5h0m1.5-0.5h0m-13 3h0m3.5 0h0m0.5 2.5h0m4-1.5h0m-2.5 7.5h0m1.5-0.5h0m1 0h0" stroke="#F7864E" stroke-width="2.7" stroke-linecap="round" fill="none"/>
<path d="M104 628h0m2 2.5h0m-6.5 6h0m2.5-3.5h0m0.5 5h0m10.5-1.5h0m-10 3h0m1 1.5h0m2.5-2h0m4.5 3.5h0m3-3.5h0m0.5 1h0m-15.5 7.5h0m1.5 2h0m0-1.5h0m2-1.5h0m0.5 4h0m3-0.5h0m2-2.5h0m0.5 2h0m1.5-2.5h0m4.5 0.5h0m-15 4.5h0m4.5 2h0m1-2.5h0m3-0.5h0m-3 7.5h0" stroke="#F16944" stroke-width="2.7" stroke-linecap="round" fill="none"/>
<path d="M103.5 624.5h0m-2 6.5h0m7.5-1.5h0m-7 7h0m8.5-3h0m-4.5 11.5h0m7-2h0m-7.5 12.5h0m4.5 0.5h0m3-1h0m-3.5 2.5h0" stroke="#E2524A" stroke-width="2.7" stroke-linecap="round" fill="none"/>
<path d="M108.5 634.5h0m4.5 11h0" stroke="#D23B4E" stroke-width="2.7" stroke-linecap="round" fill="none"/>
<path d="M114 645h0" stroke="#B81E48" stroke-width="2.7" stroke-linecap="round" fill="none"/>
<path d="M81.5 504h0m10-2.5h0m6.5 4h0m16.5-1h0m-43 4h0m10.5-1h0m15.5 2h0m8-1.5h0m2.5 4.5h0m1.5-3h0m-30 5h0m1 4.5h0m8-4.5h0m14.5 1.5h0m-69 4.5h0m18.5 0.5h0m7 1h0m1.5 2.5h0m8-3.5h0m5-0.5h0m1 2.5h0m9.5-2h0m6.5 1h0m11.5-2.5h0m-70 7.5h0m2 0h0m38.5-1.5h0m3.5 5.5h0m4.5-2h0m4 1.5h0m7.5-0.5h0m6.5-4h0m1 0h0m-68 7h0m6 4h0m6-2.5h0m11 1.5h0m14.5-4h0m12.5 1h0m17.5-1h0m-70 8.5h0m19-3h0m5 4.5h0m9.5-4.5h0m5 5.5h0m9-4h0m30.5-1h0m-64.5 7.5h0m10.5 1h0m38-1h0m0.5 0.5h0m9.5 1.5h0m85.5-0.5h0m-154.5 7.5h0m3.5-3h0m13.5 3h0m10-2.5h0m3.5 0h0m3 1h0m11.5-1.5h0m14 3h0m15.5-2h0m75 2h0m-135.5 5.5h0m7-1.5h0m6 0h0m124.5 1h0m10-2.5h0m2 2h0m-169.5 5.5h0m14.5-0.5h0m25.5-3h0m12.5 0.5h0m2 1.5h0m12-2h0m9 3h0m87 0.5h0m7-0.5h0m-165 4h0m10.5 4h0m7-3.5h0m6.5 0h0m11 0h0m8.5 0h0m9.5 1h0m5 3.5h0m6-5.5h0m4.5 5h0m16.5-5h0m69.5-0.5h0m-158.5 7.5h0m5 3.5h0m11.5-2h0m6 0.5h0m3 1.5h0m3-4h0m8.5-0.5h0m20.5 3.5h0m17-2h0m21.5-1h0m45.5 2h0m34.5-1.5h0m-187 6.5h0m7 3h0m46.5-0.5h0m9.5-1h0m3-1.5h0m16 1.5h0m9.5-3h0m12.5 1h0m7.5 1.5h0m9.5 0h0m11.5 2.5h0m16.5 0.5h0m29-1.5h0m5-1.5h0m10.5 0h0m-192 8.5h0m8-0.5h0m15-3h0m6-0.5h0m9 2h0m5 0.5h0m3.5-2h0m19.5 0.5h0m8.5 1.5h0m7.5 0.5h0m6-4h0m44.5 1.5h0m6.5 1.5h0m9-1h0m10.5-2.5h0m11 5h0m-148 6h0m8.5-1.5h0m23.5-2.5h0m7 4h0m16.5-2.5h0m9 0.5h0m81-1.5h0m-131 6h0m9 1h0m1.5 2h0m22.5 0.5h0m3-1h0m10.5-2.5h0m2 4h0m77 0h0m25.5-4h0m-186.5 4.5h0m14.5 2h0m8-2h0m4 2h0m15.5 3h0m24 1h0m92.5-2h0m-140 5.5h0m10 1h0m5.5-2h0m38.5-1.5h0m6.5 2h0m95.5 1h0m15-2h0m18.5 3.5h0m2.5 0.5h0m21.5-1h0m-230 2h0m0.5 5h0m8-0.5h0m3-2.5h0m3 1.5h0m4-1.5h0m5.5-2h0m12.5 2.5h0m22.5-0.5h0m14 1h0m5.5-0.5h0m98-1h0m2.5-2h0m14.5 3h0m-175 6h0m14.5 0h0m4.5-2.5h0m10.5 2.5h0m0.5 0.5h0m3.5-0.5h0m9.5-3.5h0m4 0h0m0 5h0m104 1h0m17-0.5h0m22-3h0m6-2h0m5.5 3h0m27.5-2.5h0m-231.5 8.5h0m11 1.5h0m12-3.5h0m25.5 1.5h0m120-1h0m33.5-2h0m2 3.5h0m-208 4.5h0m11 0h0m13 3h0m5-4.5h0m8.5 2.5h0m0.5-1h0m22 1.5h0m14-2.5h0m5 2.5h0m87.5 1h0m48.5-2.5h0m9 2.5h0m-218 2.5h0m27 4h0m5-3h0m3.5 0h0m9 2h0m15-2h0m5.5-1.5h0m4-0.5h0m12 5.5h0m55-4.5h0m3.5 5h0m25-5h0m1.5 2.5h0m7.5 1.5h0m17-2h0m28.5 0.5h0m16.5-2h0m-230.5 5.5h0m6.5 1.5h0m25.5 0h0m10 1h0m5.5-3h0m0 2.5h0m13.5-0.5h0m61.5-2h0m2.5 3.5h0m6.5-2h0m48.5-1.5h0m1.5 2.5h0m9 3h0m39-2h0m-230.5 7.5h0m2.5-2.5h0m8-1h0m21.5 3.5h0m20-3h0m18.5 0.5h0m39.5 1h0m9-4h0m49.5 2.5h0m4.5 3h0m1.5-2.5h0m54.5-0.5h0m-228 6.5h0m36-2.5h0m6 1h0m4.5 0h0m7 0.5h0m22.5 1h0m15-2.5h0m2 4.5h0m7.5-0.5h0m4-4h0m14.5 4h0m84.5-4h0m13 0.5h0m15 2h0m-234 8.5h0m12.5-4.5h0m1.5-0.5h0m18 3.5h0m39 1h0m8-1h0m5-3h0m9 3.5h0m10-2h0m4.5-1h0m67 0h0m22.5-1h0m5.5 3h0m1 1.5h0m0.5-4.5h0m-206.5 7h0m19.5-1h0m4.5-0.5h0m1.5 3h0m2-3h0m25 0.5h0m28 4h0m10 0.5h0m7.5 0h0m5-0.5h0m92-2h0m18.5 1h0m21-1h0m-249 3.5h0m11.5 4.5h0m13.5-0.5h0m4.5 0.5h0m4.5-1h0m20.5 0h0m9.5-2.5h0m14 2h0m12 1.5h0m8.5-1.5h0m7 0.5h0m7.5 0h0m88 1.5h0m1-4h0m4 4.5h0m0.5-3.5h0m4.5 3h0m19-1.5h0m15.5 0h0m-243.5 6h0m21-3.5h0m8 3.5h0m25.5 2.5h0m7-2.5h0m36.5-3.5h0m21 0h0m79.5 0.5h0m33.5 0h0m7 2h0m-243 4h0m51.5 2h0m23.5-1h0m56 2.5h0m15-1h0m-147 5h0m22 3h0m5-3h0m12 2.5h0m0.5 1h0m5.5-1h0m4 0.5h0m11.5 0h0m9-5h0m85.5 2.5h0m-151 4.5h0m3-1h0m1 6h0m6.5-4.5h0m11.5-1.5h0m5 4h0m12 1h0m-41.5 6h0m2-3h0m15.5 2.5h0m6.5-3h0m51 4h0m60 0.5h0m-135.5 3.5h0m21.5 2.5h0m23-2h0m9.5-0.5h0m11 0.5h0m17.5 1h0m-74.5 1.5h0m20 5h0m5-0.5h0m22.5-4h0m1 5h0m14-5h0m2.5 4h0m1-1.5h0m-60.5 4.5h0m5.5-1h0m25.5 3.5h0m2.5-3h0m14.5 0h0m3 1.5h0m16-0.5h0m2 3.5h0m0-3.5h0m-67 6h0m1 1.5h0m8-3.5h0m1 5h0m20.5 0.5h0m4.5-2.5h0m0.5-2.5h0m1.5 1h0m19.5-1h0m-35.5 7h0m10 3h0m12-3h0m12.5 3.5h0m2.5-4h0m4.5 1h0m-46.5 5.5h0m29.5 3h0m6-3.5h0m3.5 0.5h0m13.5 0h0m-32.5 9h0m2.5-2.5h0m23 3.5h0m-14 0.5h0m5 3h0m2-3h0m6.5 0.5h0m-23.5 6h0m2.5 0h0m14.5-0.5h0m5 1.5h0m-14 7h0" stroke="#FFFFFF" stroke-width="1.5" stroke-linecap="round" fill="none"/>
</g>
<text x="1723" y="485.9" font-size="30.5" text-anchor="middle" font-style="italic">H2-Ab1</text>
<g transform="translate(1547.3 8)">
<path d="M151.5 580C152.2 577.5 158.5 578.8 161.5 578C164.5 577.2 167.5 576.7 169.5 575C171.5 573.3 172.7 570.7 173.5 568C174.3 565.3 173.4 562.2 174.5 559C175.6 555.8 177.6 551.8 179.9 548.9C182.2 546 185.5 542 188.3 541.6C191.1 541.2 194.6 544.5 196.7 546.8C198.8 549.1 200.1 552.3 200.9 555.2C201.7 558.1 200.6 561.2 201.5 564C202.4 566.8 204.8 570 206.5 572C208.2 574 210.5 573.3 211.5 576C212.5 578.7 211.7 584.5 212.5 588C213.3 591.5 214.7 594.7 216.5 597C218.3 599.3 220.7 600.7 223.5 602C226.3 603.3 229.8 603.8 233.5 605C237.2 606.2 240.8 607.5 245.5 609C250.2 610.5 257.2 611.6 261.6 613.8C266 616 269.7 618.2 272.1 622.2C274.5 626.2 275 632.7 276.2 637.9C277.4 643.1 279.4 648.4 279.4 653.6C279.4 658.8 277.8 664.9 276.2 669.3C274.6 673.7 272.4 676.6 270 679.8C267.6 682.9 265.6 686.1 261.6 688.2C257.6 690.3 251.1 692.3 245.9 692.3C240.7 692.3 234.6 689.8 230.2 688.2C225.8 686.6 222.7 685.5 219.7 682.9C216.7 680.3 214.1 676 212.4 672.5C210.6 669 211.5 665.1 209.2 662C206.9 658.9 201.4 656.3 198.8 653.6C196.2 650.9 194.9 649.3 193.5 646C192.1 642.7 191.4 638 190.5 634C189.6 630 189.4 625.6 188.3 622.2C187.2 618.8 186.4 616.2 184.1 613.8C181.8 611.4 177.8 609.7 174.7 607.6C171.6 605.5 168.2 603.7 165.3 601.3C162.4 598.9 159.8 596.5 157.5 593C155.2 589.5 150.8 582.5 151.5 580Z" fill="#DCDCDC"/>
<path d="M143.5 658C145.2 656 149.2 654.5 151.5 653C153.8 651.5 155.2 652 157.5 649C159.8 646 163.3 638 165.5 635C167.7 632 168.7 631.3 170.5 631C172.3 630.7 175.2 631.5 176.5 633C177.8 634.5 177.5 637.7 178.5 640C179.5 642.3 181.5 645 182.5 647C183.5 649 185.7 650.7 184.5 652C183.3 653.3 178.2 654 175.5 655C172.8 656 170.8 656.2 168.5 658C166.2 659.8 163 663.3 161.5 666C160 668.7 159.5 671 159.5 674C159.5 677 160 681.3 161.5 684C163 686.7 165.8 687.9 168.5 690C171.2 692.1 174.5 694.5 177.5 696.5C180.5 698.5 185.8 700.1 186.5 702C187.2 703.9 184.2 706.7 181.5 708C178.8 709.3 173.2 708.3 170.5 710C167.8 711.7 166.3 715.3 165.5 718C164.7 720.7 166 724.3 165.5 726C165 727.7 163.6 729.3 162.5 728C161.4 726.7 160.8 721 159.1 718C157.4 715 153.9 712 152.5 710C151.1 708 150.5 708.7 150.5 706C150.5 703.3 152.4 696.9 152.5 694C152.6 691.1 150.7 690.8 151.1 688.5C151.5 686.2 155.4 682.8 155.1 680.5C154.8 678.2 151.3 676.6 149.5 675C147.7 673.4 145.8 672.7 144.5 671C143.2 669.3 141.7 667.2 141.5 665C141.3 662.8 141.8 660 143.5 658Z" fill="#DCDCDC"/>
<defs><linearGradient id="g_H2Ab1" gradientUnits="userSpaceOnUse" x1="0" y1="490" x2="0" y2="775"><stop offset="0" stop-color="#5B52A4"/><stop offset="0.779" stop-color="#6058A6"/><stop offset="0.86" stop-color="#F6D98C"/><stop offset="0.947" stop-color="#F07A4E"/><stop offset="1" stop-color="#E05A45"/></linearGradient></defs>
<path d="M109.9 492.4C112 492.7 113.9 493.3 114.9 495.9C115.9 498.4 115.7 502.4 115.8 507.7C115.9 513 115.5 522.1 115.4 527.4C115.2 532.6 115.8 535.9 114.9 539.2C114 542.5 110.9 544.1 109.9 547.1C108.9 550.1 108.2 554.4 108.9 557C109.6 559.6 111.4 560.9 113.9 562.9C116.4 564.9 120.4 566.8 123.7 568.8C127 570.8 130.3 572.9 133.6 574.7C136.9 576.5 140.1 578.6 143.4 579.6C146.7 580.6 151.2 579.7 153.3 580.6C155.4 581.5 156.3 583.3 156.2 585C156.1 586.7 154.1 590 152.5 590.7C150.9 591.5 149.6 590.2 146.4 589.5C143.2 588.8 137.3 587.3 133.5 586.5C129.7 585.7 127 584.5 123.7 584.5C120.4 584.5 115 584.9 113.9 586.5C112.7 588.1 117.1 591.9 116.8 594.4C116.5 596.9 114 599.6 111.9 601.3C109.8 602.9 106 602.6 104 604.3C102 605.9 100.4 608.8 100.1 611.2C99.8 613.7 100.8 616.5 102.1 619C103.4 621.5 106 623.1 108 625.9C110 628.7 112.3 632.9 113.9 635.8C115.5 638.6 116.5 641 117.8 643C119.1 645 121.2 646 121.8 647.7C122.4 649.4 119.5 651.7 121.5 653C123.5 654.3 129.6 654.9 133.6 655.6C137.6 656.4 142.6 657.4 145.4 657.5C148.2 657.6 149.3 655.8 150.5 656.5C151.7 657.2 152.8 659.6 152.5 662C152.2 664.4 150 667.1 148.5 671C147 674.9 145.9 683.4 143.4 685.1C140.9 686.8 136.9 681.9 133.6 681.2C130.3 680.6 127.3 680.6 123.7 681.2C120.1 681.9 115.2 684.5 111.9 685.1C108.6 685.8 106.6 684.1 104 685.1C101.4 686.1 97.7 688.5 96.1 691.1C94.5 693.7 93.5 698.3 94.2 700.9C94.9 703.5 98.5 704.5 100.1 706.8C101.7 709.1 102.9 711.7 104 714.7C105.1 717.7 106 721.7 107 724.6C108 727.5 109.6 728.8 109.9 732.4C110.2 736 109.9 742.6 108.9 746.2C107.9 749.8 106.5 751.1 104 754.1C101.5 757.1 98.3 761.2 94.2 764C90.1 766.8 83.5 770.2 79.4 770.9C75.3 771.5 72.5 770 69.5 767.9C66.5 765.8 63.8 761.3 61.7 758C59.6 754.7 58.7 751 56.7 748.2C54.7 745.4 52.6 743.4 49.8 741.3C47 739.2 43.3 737.5 40 735.4C36.7 733.3 33.1 731.6 30.1 728.5C27.1 725.4 24.2 720.7 22.2 716.7C20.2 712.8 19.1 709.4 18.3 704.8C17.5 700.2 17.1 692.7 17.3 689.1C17.5 685.5 19.6 684.5 19.3 683.2C19 681.9 15.9 682.5 15.4 681.2C14.9 679.9 14.7 676.5 16.3 675.3C17.9 674.1 22.7 673.8 25.2 673.8C27.7 673.8 29.1 675.9 31.1 675.3C33.1 674.7 36.2 673.3 37 670.4C37.8 667.5 36.8 661.7 36 657.6C35.2 653.5 33.6 649.5 32.1 645.7C30.6 641.9 28.7 637.8 27.2 635C25.7 632.2 24.7 631.6 23.2 628.9C21.7 626.2 19.8 622.8 18.3 619C16.8 615.2 15.5 610.8 14.4 606.2C13.2 601.6 11.4 595.5 11.4 591.4C11.4 587.3 13.1 585.2 14.4 581.6C15.7 578 17.7 573.6 19.3 569.8C20.9 566 22.7 562.7 24.2 558.9C25.7 555.1 28 550.7 28.2 547.1C28.4 543.5 25.9 540.6 25.2 537.3C24.5 534 23.7 530.2 24.2 527.4C24.7 524.6 25.9 522 28.2 520.5C30.5 519 34.9 518.7 38 518.5C41.1 518.3 44.4 520 46.9 519.5C49.4 519 50.5 517.1 52.8 515.6C55.1 514.1 57.9 512.3 60.7 510.7C63.5 509.1 66.2 507.4 69.5 506.2C72.8 505 76.6 505 80.4 503.8C84.2 502.6 88.6 500.5 92.2 498.8C95.8 497.1 99.2 495 102.1 493.9C105.1 492.8 107.8 492.1 109.9 492.4Z" fill="url(#g_H2Ab1)"/>
<path d="M213.4 561.5C214.1 559.8 217.8 557 219.7 555.2C221.6 553.4 222.4 551.3 224.9 550.5C227.3 549.7 232.1 549 234.4 550.5C236.7 552 238.2 556.5 238.5 559.4C238.8 562.3 237.9 564.8 236.5 567.8C235.1 570.8 231.6 574.4 230.2 577.2C228.8 580 229.5 581.9 228.1 584.5C226.7 587.1 223.9 591 221.8 592.9C219.7 594.8 217.2 596 215.5 596C213.8 596 211.6 594.8 211.3 592.9C210.9 591 212.3 587.1 213.4 584.5C214.4 581.9 216.2 579.6 217.6 577.2C219 574.8 221.4 572.1 221.8 569.9C222.1 567.7 220.8 564.7 219.7 564C218.7 563.3 216.6 566.1 215.5 565.7C214.4 565.3 212.7 563.2 213.4 561.5Z" fill="#5E4FA2"/>
<path d="M90 500.5h0m2.5-1.5h0m1.5-1h0m2.5-1h0m1 3h0m5-2.5h0m0.5 2.5h0m0.5 0.5h0m0-5h0m2.5 1.5h0m1.5 0.5h0m0 1h0m2.5 1h0m1 1.5h0m0-3.5h0m2-2h0m1 2.5h0m-40.5 8.5h0m1.5-0.5h0m3-1h0m2-1h0m2 2.5h0m1-2h0m6-3h0m0 4h0m1.5 0h0m1-2.5h0m2 2.5h0m1.5-1h0m1.5 2.5h0m0-4h0m0-1.5h0m2.5 1h0m1 2h0m4 2h0m1 0h0m2-3h0m1 2h0m1-3.5h0m0 1.5h0m3-0.5h0m1.5 2h0m1-1.5h0m-49.5 6.5h0m2 3h0m0.5-3.5h0m1.5-0.5h0m1.5-1h0m3 3h0m1-1h0m2 2.5h0m0-4h0m1.5 2.5h0m0.5 0h0m2.5-4h0m1.5 4.5h0m0.5-2.5h0m0.5-0.5h0m1.5 3h0m1.5-1.5h0m0 2.5h0m1-4.5h0m3 3.5h0m2 1h0m2.5-1.5h0m2-0.5h0m5.5-3.5h0m1.5 0h0m3.5 4.5h0m0-2.5h0m1 2h0m1.5-3h0m1.5 3.5h0m0-1.5h0m3-0.5h0m-64.5 9.5h0m4-2.5h0m2 0h0m1.5-1h0m0.5 2.5h0m0.5 0h0m2-0.5h0m1.5 1.5h0m1-1.5h0m0.5-3h0m1-1h0m0 5.5h0m0.5-4.5h0m1 3h0m1.5 0.5h0m0.5-3.5h0m1-1h0m0.5 4h0m0 1h0m1-4h0m1 2h0m0.5-3.5h0m0 1h0m0.5 4.5h0m1-2h0m1-3h0m2.5 1.5h0m1 3h0m0-0.5h0m2 1h0m1-3.5h0m0.5-1h0m3 1.5h0m1-0.5h0m1 1h0m2 0h0m0.5-2h0m1.5 1h0m1 0.5h0m3.5 0.5h0m1-0.5h0m0 3h0m3-3.5h0m2.5 4h0m0-4.5h0m2 0.5h0m0.5 4h0m1-2h0m2 1h0m0.5 0.5h0m0-4h0m2.5 3.5h0m3-4.5h0m1.5-0.5h0m0.5 0.5h0m-86 9h0m3.5 2h0m0.5-4.5h0m0 5h0m2.5-3h0m0.5 2h0m3-4h0m1 4h0m1.5-3.5h0m0.5 2h0m2-1h0m0.5 3h0m0-1h0m1.5-2.5h0m1.5 1.5h0m1.5 0h0m0-0.5h0m1-1.5h0m2.5-0.5h0m0.5 3.5h0m2.5-0.5h0m1-1h0m1 2h0m0.5-2.5h0m0.5 2h0m1-4h0m2 1h0m4 4h0m1.5-3.5h0m1.5 0h0m1 1.5h0m4.5-3h0m0.5 1h0m3 3h0m2-2h0m1.5 2.5h0m1-1.5h0m0.5-1h0m3.5 1h0m1-1h0m2.5 0.5h0m1 1.5h0m2.5-0.5h0m0-1.5h0m2 2.5h0m1-2.5h0m1.5 1.5h0m5 1h0m2.5-5h0m0.5 5h0m1-2h0m0.5 3h0m1-1h0m4.5-3.5h0m0 4h0m1-5.5h0m0.5 5.5h0m1.5-1.5h0m-89 4h0m1 4h0m1-4h0m0-0.5h0m2.5 2.5h0m0 0.5h0m1 0h0m4 0h0m1-3h0m1.5-1h0m1 3.5h0m1-1h0m1-1h0m2 0h0m1.5-1h0m1.5 3.5h0m0.5-2h0m0.5 3.5h0m1.5-3.5h0m2.5-1h0m2.5 3h0m0.5-3.5h0m1 1h0m1.5 3.5h0m0.5-3h0m0 1.5h0m3.5-1h0m0.5-0.5h0m0.5 2h0m0.5-3h0m0-1.5h0m1 4.5h0m4-3.5h0m1.5 3.5h0m1-2.5h0m1 3.5h0m2.5-2.5h0m1-0.5h0m0.5-1h0m1.5 2.5h0m0.5-2h0m0.5-2h0m1 0h0m0.5 6h0m0.5-3h0m2 3h0m1-3h0m1 2h0m1-1.5h0m0.5-2h0m0.5-1h0m1 5.5h0m0.5-3h0m2-3h0m0.5 5h0m0-2h0m4.5-1.5h0m0 3.5h0m0-1.5h0m2.5-3h0m1 2h0m1 2.5h0m1.5-3h0m1 4h0m2-2h0m1-3h0m1 3.5h0m1.5 0.5h0m0-3.5h0m2.5 3.5h0m0.5-3.5h0m1 1h0m2.5 0h0m1.5 2h0m-89.5 6h0m1 0h0m0.5-3h0m1.5 1h0m1.5 0h0m0.5-2.5h0m1 0.5h0m1 4.5h0m4-2.5h0m0 3h0m1-5.5h0m2.5 0h0m0.5 3.5h0m4-0.5h0m0.5-2h0m1 2h0m1 1.5h0m2-0.5h0m0-2h0m4-2h0m1.5 4h0m1.5 1.5h0m1.5-2.5h0m0.5-1h0m1 2h0m0-3h0m1.5 3h0m1.5-2h0m2 0.5h0m1 2.5h0m0.5-3h0m0.5 1h0m5.5 2.5h0m0-4h0m1.5 2.5h0m1-3h0m0 3.5h0m1-0.5h0m0.5-3.5h0m1 2h0m1-1.5h0m1.5 2h0m0.5-1h0m4-1.5h0m2 0h0m1 5h0m1-5h0m1 4.5h0m0.5-1h0m2-3.5h0m2-0.5h0m1 4.5h0m5.5-4.5h0m1.5 3h0m1 2h0m0.5-4h0m0 3h0m1-2h0m1.5 1.5h0m3 2.5h0m1-5.5h0m2.5 1.5h0m2 3h0m1-2h0m0.5-2h0m-87 9.5h0m1.5-4h0m0 0.5h0m2.5 1.5h0m1-1.5h0m0 4h0m2 0h0m0-4.5h0m0.5 5h0m3-1.5h0m2-2h0m0 2h0m2 0.5h0m0.5-2.5h0m1.5 1.5h0m3-2h0m1 3.5h0m0.5-3h0m0.5 1h0m3.5-3h0m1.5 2.5h0m4 1h0m1-0.5h0m0-1h0m2.5 1h0m1-2.5h0m1.5 2.5h0m0.5 1h0m1.5-3h0m2.5-0.5h0m0.5 0.5h0m2.5 5h0m1-5h0m0.5 3.5h0m1.5 0h0m0.5-4h0m1.5 3h0m1-1.5h0m2-1.5h0m0 5h0m4-0.5h0m3.5-4h0m1 2.5h0m1 2h0m0.5-3.5h0m1-1.5h0m0 1.5h0m1.5 1.5h0m3.5 0.5h0m2-4h0m2 2h0m1.5 1.5h0m0.5-1h0m2.5 0.5h0m1-1h0m0 2h0m2-2h0m2 1.5h0m0.5-2h0m0 2h0m3.5-1.5h0m-85 9.5h0m0.5-5.5h0m1 4h0m1.5-2h0m2 2.5h0m0.5-2.5h0m0.5-1h0m2 3.5h0m1.5-4h0m0.5 5h0m0-3h0m0.5 0.5h0m2.5 2.5h0m1-3h0m1-2h0m1 3.5h0m1 0h0m1-3h0m1 2h0m1.5-3h0m0.5 2.5h0m1 3h0m3.5-4.5h0m0.5 1.5h0m1 3h0m2-2.5h0m2 2h0m0.5-3h0m0.5 2h0m3-0.5h0m0.5-3.5h0m1 5.5h0m2-4.5h0m0.5 1.5h0m1-2.5h0m1.5 2.5h0m0.5 2h0m2.5 0h0m1-4.5h0m1 4.5h0m0-3h0m2-1.5h0m1 5.5h0m0.5-3.5h0m2 1.5h0m1-1.5h0m1.5-0.5h0m1 4h0m2-4.5h0m0.5 2h0m0.5 3h0m2-1h0m2 0.5h0m1-4h0m2.5 2h0m1-3h0m0.5 3.5h0m0 0h0m0.5-1.5h0m3 1h0m0-3.5h0m1 5.5h0m1.5-3.5h0m0-1.5h0m0.5 4.5h0m3.5-3.5h0m2.5 0h0m0-0.5h0m0.5 3h0m0.5-3.5h0m85 5.5h0m-167 4h0m1 0.5h0m1.5-3.5h0m1.5 0h0m2 3.5h0m0.5-1h0m1-1.5h0m0.5 4h0m2-0.5h0m0-5h0m1.5 3h0m2.5-1h0m0.5 2.5h0m0-4h0m5 1h0m1.5-0.5h0m1.5 1.5h0m0.5 0h0m0 2h0m2.5-2h0m0.5-1h0m0 3h0m1.5 1h0m2-2.5h0m0.5-2h0m0.5 1.5h0m0.5 2h0m2-4.5h0m1.5 0.5h0m0.5 1.5h0m0.5 2h0m2.5-2h0m1 2h0m0-4h0m1 0h0m1 5h0m1-3h0m1.5 0h0m0-1.5h0m1.5 0h0m1 3.5h0m2.5-3h0m0.5 3.5h0m1 0h0m0-4.5h0m0.5 2.5h0m2 2.5h0m0-1.5h0m1-0.5h0m0.5-3h0m2 3.5h0m1-3h0m0 2.5h0m2.5-1.5h0m0 2.5h0m0.5 1h0m1-4.5h0m3 1.5h0m1.5-2h0m2.5 4.5h0m0.5-3h0m0.5 1.5h0m3-1.5h0m3 2h0m1-3h0m1.5 4.5h0m0-3h0m0.5 2.5h0m1-1.5h0m2.5-2.5h0m0 2h0m71 2h0m5.5 0h0m6.5-2h0m1.5 2.5h0m1.5-3.5h0m-170 6.5h0m2 0.5h0m1-1h0m1.5 3.5h0m3.5-3.5h0m0.5 2.5h0m0 0.5h0m1.5-0.5h0m1.5-1.5h0m0-1.5h0m0.5 4.5h0m1.5-1h0m1-4h0m1 2h0m1-0.5h0m0.5 1.5h0m2-2h0m0 1.5h0m1-3.5h0m1.5 4h0m2 1h0m0.5-4h0m3 1.5h0m2.5-0.5h0m0.5 3h0m1.5-3.5h0m0.5 4h0m1-2h0m2 2h0m1-5.5h0m0.5 5h0m5.5-0.5h0m3-3.5h0m0 4h0m1 1h0m0.5-2.5h0m1-2h0m1.5 3.5h0m3 0.5h0m0.5-4h0m1.5-0.5h0m0 4.5h0m0-1h0m2-3h0m2.5 3h0m0.5 0.5h0m0.5-4h0m1.5 1h0m0.5 1.5h0m2.5-0.5h0m1.5-2.5h0m0.5 2.5h0m1.5-1h0m0 3h0m0.5-1h0m2.5-3h0m2.5 2.5h0m2 2.5h0m0.5-2.5h0m0.5-1.5h0m0.5-1.5h0m0.5 5h0m2-2.5h0m1.5 1h0m1 0.5h0m1.5 0h0m1.5-4h0m1.5 5.5h0m73-2h0m15-2h0m-175 5h0m1.5 5h0m1-1h0m2-3h0m0.5 4h0m0-1h0m1-4h0m0.5 2.5h0m2-2h0m1 2.5h0m0.5-2h0m1.5 1h0m4.5 0.5h0m0.5-2.5h0m0.5 0h0m1 0h0m2 4h0m1-3.5h0m0.5-1.5h0m1.5 3h0m1 1.5h0m2.5-1.5h0m2.5 0h0m1.5 1h0m1.5-2h0m0 3h0m1.5-4h0m1.5 4h0m1.5-3h0m0.5 3.5h0m0.5-1.5h0m2-3h0m0.5 2.5h0m0-1h0m1 0h0m1.5 3h0m1-4.5h0m1.5 0h0m0 3h0m1.5 1.5h0m2 0h0m0.5-0.5h0m3-4h0m1.5 0.5h0m1 3.5h0m2.5-2h0m2.5-1h0m2 0.5h0m0 1.5h0m2.5 0.5h0m0.5-2.5h0m2.5-1h0m1.5 3.5h0m1-2.5h0m1-2h0m0.5 5h0m1-3h0m2.5-0.5h0m1 3h0m1.5-3.5h0m0.5 4h0m2.5-4h0m0.5 1.5h0m2 3h0m0-3h0m1.5 0.5h0m0.5 2h0m1.5-3h0m1 3h0m2 0.5h0m0.5-1.5h0m0.5-2.5h0m2 4h0m0.5-0.5h0m2.5 0.5h0m57 0.5h0m14.5-3h0m1 0.5h0m-172.5 8.5h0m2-0.5h0m3-3h0m0.5 1.5h0m0.5-1h0m2-1.5h0m3 3h0m1-1.5h0m0-1.5h0m2 3h0m0.5-1h0m0.5 0.5h0m0.5-4h0m2.5 4h0m0-0.5h0m2-1h0m0.5 1.5h0m0-3h0m2 3.5h0m2.5-1h0m2-2h0m0.5-0.5h0m0 2.5h0m2.5-2h0m0.5 3.5h0m2-0.5h0m3.5-3h0m3.5 3h0m0-4h0m1.5 4h0m2-2h0m0.5 3.5h0m2-4h0m0-0.5h0m0.5 4h0m1.5-3.5h0m2.5 3h0m4.5 0.5h0m1-5.5h0m0.5 2h0m1 1.5h0m1-3.5h0m3.5 1h0m0.5 1.5h0m1.5-1h0m2.5 0.5h0m2.5 1.5h0m0 0.5h0m2-4h0m0 2.5h0m2 1h0m4 0h0m1.5-3h0m0.5 0.5h0m1 5h0m1-2.5h0m1 0.5h0m1 0h0m2.5-3h0m0.5 2h0m2 3h0m0.5-3h0m1 1.5h0m1.5-4h0m0 2h0m4 1h0m1-2h0m1-0.5h0m1 3.5h0m1-1.5h0m3 2.5h0m5 0h0m3.5 0.5h0m60-1h0m5.5-3h0m-171.5 7.5h0m1 0.5h0m2-2.5h0m0.5 3.5h0m0-1h0m1.5-3h0m2 0.5h0m0 2.5h0m2.5-1h0m2 0.5h0m1-2h0m3 1.5h0m1.5-1.5h0m0.5 0h0m0.5 2h0m1-1h0m0.5-2h0m1.5 2.5h0m2.5-2.5h0m2.5 0h0m0 2h0m1 3h0m0.5-1h0m1-4.5h0m2 5h0m3-0.5h0m1.5-2h0m1-0.5h0m1 2h0m0.5 0.5h0m0-3h0m1.5 2h0m2 1.5h0m0.5-5h0m0 4h0m2 1.5h0m1-4.5h0m1 3.5h0m1.5-0.5h0m0-3.5h0m1.5 0.5h0m1 2.5h0m2.5-1.5h0m2 4h0m1-4.5h0m0.5-1h0m0 3.5h0m5-3.5h0m0.5 2h0m1 0.5h0m2-1h0m3 2h0m1.5-3.5h0m1 5.5h0m1.5-5h0m2 3h0m1.5 1h0m0-1.5h0m1.5 1.5h0m1.5-4h0m1 3.5h0m3-3h0m0 2h0m5-3.5h0m1.5 5.5h0m1-3.5h0m0 2.5h0m1 0.5h0m1 0.5h0m0.5-3.5h0m3 3.5h0m1-1.5h0m1.5-2h0m3 2.5h0m2.5 1h0m0.5-5.5h0m3.5 2.5h0m0.5-0.5h0m3 0h0m0.5 3.5h0m2.5-2h0m0.5 2h0m2.5-1h0m2.5 1h0m18.5 0.5h0m2.5 0h0m10.5-1.5h0m3.5-3.5h0m1 2h0m1 2.5h0m4.5 0.5h0m4.5-2.5h0m1.5-3.5h0m2 4.5h0m1 0.5h0m4.5-1.5h0m3 1h0m0 0.5h0m-185.5 7h0m2.5-2.5h0m2 0h0m0-2h0m1.5-1h0m1.5 1h0m1.5 3.5h0m2.5-4.5h0m0 2.5h0m2 0.5h0m0.5-3h0m1 1h0m3.5 3h0m1.5-4h0m1 2h0m0.5 1.5h0m1-4h0m2 1h0m0-0.5h0m2 0h0m4 2.5h0m0.5-1h0m0.5 3h0m1-4h0m2 2h0m0.5-0.5h0m1 2.5h0m1 0h0m1.5-4h0m1 4h0m2 0h0m0.5-2.5h0m4 0h0m1 3h0m0.5-2h0m1-2.5h0m1.5 3.5h0m3.5-2h0m0.5 1h0m0.5 2h0m0.5-1.5h0m2 1h0m3-1.5h0m0-1.5h0m2 0h0m1 1.5h0m2.5-2.5h0m0.5-0.5h0m2 3.5h0m0.5-4h0m1 0.5h0m1.5 4h0m1-3h0m0.5 3h0m1-3h0m1.5 3h0m1.5-3.5h0m2 2.5h0m1.5-1h0m1 2h0m0-3h0m2.5 3h0m1-2h0m2.5 0.5h0m0.5-2h0m0.5 2.5h0m1 2h0m1.5-4.5h0m0.5 3.5h0m0-3.5h0m0.5 4.5h0m3-1.5h0m3.5-2.5h0m2 4h0m2.5-3h0m1 1.5h0m1.5 0.5h0m0.5-2h0m3 0h0m1.5 2h0m0.5-3.5h0m0.5 4.5h0m1.5-2.5h0m0.5-2.5h0m1 3h0m1.5 0.5h0m0.5 1h0m0.5-4.5h0m1.5 5h0m0-3h0m1.5 2.5h0m1-1h0m0.5 1h0m2.5 0h0m1.5-3.5h0m2.5 3h0m1-2h0m0.5 3h0m1-2h0m1.5-1h0m0.5 1h0m0.5 2h0m0.5-4h0m0.5 2.5h0m2 1h0m0.5-3.5h0m1.5 0h0m1 4h0m7-4h0m14-0.5h0m1.5 1h0m4 0h0m3 1h0m8-1.5h0m6-0.5h0m0.5 0.5h0m2 4h0m1.5-0.5h0m3-1.5h0m2.5-0.5h0m0-2.5h0m-191.5 8h0m3.5 3.5h0m0.5-5h0m0 3h0m1.5-1h0m0.5-1h0m3.5 2.5h0m2-3.5h0m1 1.5h0m0.5-2h0m1 5h0m0.5-3h0m2.5 2h0m1-3h0m0 3h0m1.5-2.5h0m0.5 2.5h0m0.5-4.5h0m2 2h0m0 3.5h0m0.5-4.5h0m0 4.5h0m4-5h0m0 1.5h0m0 3h0m0.5 0.5h0m0.5-4.5h0m2 1.5h0m0.5 2.5h0m0.5-4h0m1.5 3h0m0.5-1.5h0m1 3.5h0m1-3h0m1 1.5h0m2-4.5h0m3 1h0m0.5 1h0m0.5 2.5h0m0 1.5h0m1.5-1.5h0m1.5-1.5h0m3 0.5h0m0.5 2.5h0m0.5-5.5h0m2 0.5h0m0.5 3h0m2.5-1.5h0m0.5 1h0m1-1h0m1 3h0m1.5-3.5h0m0.5 2h0m0.5-3.5h0m2 1.5h0m1.5 2h0m1.5-3.5h0m0.5 5h0m1-2h0m0.5 1.5h0m0.5-4h0m3.5 3h0m2.5-4h0m1.5 4.5h0m0.5-4h0m1.5 4.5h0m1.5-4h0m1 1h0m9 0.5h0m0.5 2h0m2.5 0.5h0m0.5-3.5h0m2.5 4h0m0-4h0m1.5-0.5h0m0 2.5h0m0 1.5h0m2-4h0m1 4h0m1.5 0h0m22.5-5h0m4 1.5h0m4 0h0m1-1h0m1 1.5h0m2 1.5h0m2-1.5h0m4 0h0m1.5-1h0m11-0.5h0m3.5 3h0m3-3.5h0m16 3.5h0m9 0h0m5.5 1h0m-190.5 3h0m1 1h0m1-1h0m0.5 4h0m1.5-3.5h0m2 1.5h0m1-3h0m0.5 4.5h0m2-0.5h0m0-1.5h0m1-3h0m2 5.5h0m0.5-3.5h0m0.5 1h0m2 1.5h0m2-0.5h0m1-1.5h0m0-1h0m3 2h0m3.5-2h0m2.5 3h0m0.5-1.5h0m0.5-1h0m2.5-0.5h0m1 1h0m1.5-0.5h0m0.5 3.5h0m1-1.5h0m1.5 1h0m1.5-1h0m0-3h0m0 2h0m1-0.5h0m2 2.5h0m0.5-4.5h0m2 4h0m2.5-1.5h0m1 2h0m2-0.5h0m2-1.5h0m0.5-1h0m1 1.5h0m0.5-2.5h0m2 0h0m1 2.5h0m0.5-1.5h0m0.5 2.5h0m2-4h0m1 5.5h0m0.5-5.5h0m0 2.5h0m2 1h0m1.5 1h0m1.5-4h0m0.5 1.5h0m2.5-2h0m1 1.5h0m1-2h0m1 5h0m1-3h0m0.5 3.5h0m1.5-5h0m1 0h0m1 2h0m1.5 3.5h0m2.5-3h0m0-3h0m0.5 2h0m4.5 0h0m0.5-2h0m1.5 3.5h0m0.5 2h0m1-4.5h0m2.5-0.5h0m0.5 3h0m3 0.5h0m3-2.5h0m1 1.5h0m0-1.5h0m0.5 4h0m1-3h0m3 1.5h0m0 0h0m55.5 0.5h0m27.5-2h0m9.5 3h0m-194 3h0m1 3h0m1.5-2h0m2 2h0m0.5-2h0m0.5-3h0m2 0h0m1.5 2h0m3-1h0m0 3h0m0.5-1h0m2.5-1h0m2 0h0m0 2.5h0m0.5-0.5h0m1.5-4.5h0m1 1.5h0m0.5 1.5h0m2.5-1h0m1.5 2.5h0m0.5 1.5h0m0.5-5.5h0m1 4h0m2 0.5h0m2-2.5h0m1-2h0m4 0h0m1.5 4.5h0m0-4h0m2 2.5h0m2 0.5h0m2 0h0m0.5-1.5h0m1-2h0m1 5.5h0m1-1.5h0m1.5-3h0m0.5 2.5h0m2-3.5h0m0-0.5h0m0.5 4h0m0.5 0.5h0m2-2h0m0-1h0m4 1h0m1.5 1h0m2-3h0m1.5 3.5h0m1.5 2h0m0-5.5h0m0.5 2.5h0m2.5 0.5h0m0.5-1h0m1 0.5h0m2.5-1.5h0m0 2.5h0m0.5 2h0m2.5-5h0m1.5 2.5h0m0.5 0.5h0m0.5 1h0m2.5-3h0m2.5 2h0m3 0.5h0m0 0h0m2-4h0m1 3.5h0m0.5 1h0m1.5-0.5h0m1.5 1.5h0m0-4h0m2.5 1h0m1 0h0m5-2.5h0m62.5 3h0m0.5 1h0m8.5-1.5h0m2 2.5h0m1.5-5.5h0m9.5 6h0m0.5-3h0m0.5-1h0m11.5 1h0m-195.5 7.5h0m3-3.5h0m0.5 2.5h0m1.5 2.5h0m0.5-3.5h0m1.5-1h0m2.5 3.5h0m0.5-4h0m1-1h0m0.5 4h0m1-2.5h0m0.5-1.5h0m1 4.5h0m2.5-0.5h0m1-1h0m1 1.5h0m1.5-4.5h0m0 2.5h0m0.5-2h0m5.5 3h0m0.5-2.5h0m1 0h0m1.5-1h0m0 5h0m2-2h0m1-1.5h0m2-1h0m0.5 1.5h0m1.5 2h0m3.5-1.5h0m0.5 1h0m1 0.5h0m1 2h0m0-5.5h0m1 0.5h0m1.5 2.5h0m1-2h0m1-1.5h0m1.5 4.5h0m1-2.5h0m0 1.5h0m1-1.5h0m2 3h0m1-4h0m1 3.5h0m0.5-1.5h0m0.5 2.5h0m0.5-4.5h0m0-0.5h0m2.5 0.5h0m0 2.5h0m2.5-2.5h0m1 1.5h0m1.5 2.5h0m1.5-4h0m1 4.5h0m0-2h0m0.5-2.5h0m1 0h0m1 3h0m0-3h0m1 3.5h0m2-1.5h0m2 0.5h0m0.5-2h0m2.5 0.5h0m0.5-1h0m1.5 3.5h0m1-2h0m0.5 3h0m0.5-0.5h0m0.5-3h0m0.5 4h0m2-2.5h0m2-2.5h0m73.5 0.5h0m11 1h0m0.5 1.5h0m8 1.5h0m6.5-5h0m14.5 0h0m6 2h0m5.5 3h0m2-4.5h0m4.5 3h0m-214.5 3h0m0.5 4.5h0m2 0h0m2-4.5h0m0.5 5h0m1.5-0.5h0m1.5-1.5h0m1 0.5h0m2.5-2h0m0.5 2h0m3-2.5h0m0 3.5h0m2.5-3.5h0m0-0.5h0m1.5 0.5h0m1.5 1.5h0m0.5-2.5h0m0.5 0.5h0m0.5 3h0m0.5-3.5h0m0.5 2h0m2-1.5h0m1 3.5h0m1-3h0m1.5 1h0m0-2h0m1.5 4h0m2-1h0m2-0.5h0m1-2h0m0 2.5h0m2.5-1.5h0m3.5 1.5h0m1-2h0m0.5 4h0m1.5-4h0m0.5-2h0m0.5 5.5h0m2.5-1.5h0m0.5 0h0m2-1h0m0-2h0m3 2h0m0 3h0m0.5-4h0m2 2h0m3.5-0.5h0m0.5 1.5h0m1.5 1h0m2.5-1.5h0m2.5-0.5h0m2-0.5h0m0-3h0m0.5 5h0m2-3h0m0-2h0m4.5 3h0m0 1.5h0m0.5-0.5h0m3-0.5h0m2-3h0m1 4h0m0.5-1.5h0m81.5-1h0m2-2.5h0m4.5 1h0m7.5 2.5h0m2.5 2h0m2.5-5h0m1 4.5h0m2 0h0m4-3h0m1.5 2h0m1-0.5h0m3.5 0h0m0 2.5h0m0.5-0.5h0m3.5-4h0m9 1.5h0m11-1h0m4 0h0m3-1.5h0m0 1.5h0m2.5 4h0m-227 2h0m0 3h0m1-0.5h0m1 0h0m0-2.5h0m1.5 2.5h0m0 0h0m0.5-4.5h0m0.5 3h0m1 2h0m2-3h0m2 4h0m0.5-4.5h0m0.5 2.5h0m4 1.5h0m0-2.5h0m2 3h0m1-3h0m2.5-1h0m0.5 1.5h0m2-3h0m0.5 5h0m1-3.5h0m1-1h0m1.5 2.5h0m1 2h0m1.5-3h0m1 3.5h0m3-6h0m1.5 4h0m0.5-3.5h0m0 2h0m2.5 3h0m2.5-2h0m1-3h0m0.5-0.5h0m0.5 5.5h0m2-4h0m2.5 1h0m1-0.5h0m0.5 1.5h0m1 2.5h0m0.5-5h0m2 1.5h0m2 2.5h0m1-1h0m2.5 1.5h0m0.5-3.5h0m1 0h0m1 2.5h0m0.5-4h0m0.5 4h0m2 1.5h0m1.5-3.5h0m1 3.5h0m0-6h0m2 2.5h0m1 1.5h0m1-3h0m2 2.5h0m0 1.5h0m0.5-4.5h0m1 0h0m1.5 3.5h0m0.5-3h0m1.5 3.5h0m1-1.5h0m1.5-0.5h0m0.5 2.5h0m1.5-0.5h0m88-1h0m2 1h0m27 0h0m9-4h0m7 0.5h0m3 1.5h0m-214 6.5h0m3.5-1h0m1.5 3h0m3 0h0m1-1.5h0m2 1h0m0-2.5h0m1-1h0m3 2h0m1 0.5h0m1-3.5h0m1 1h0m2.5 1h0m3 2.5h0m0.5-4h0m1 5h0m1.5-4h0m1.5 2.5h0m0.5-2h0m0 3h0m1.5-2h0m3-0.5h0m1.5 3h0m1.5-3h0m3.5-1h0m1 1.5h0m0-1h0m2.5 0h0m0 1.5h0m0.5 1.5h0m4.5-0.5h0m1.5 1h0m0.5-1h0m1-2h0m1 2.5h0m0 0h0m1.5-2.5h0m0-2.5h0m1 3h0m1.5-2h0m2 2.5h0m1.5 2.5h0m0.5-2h0m2 1h0m0.5-4h0m2.5 0h0m1.5-1h0m1 6h0m1-1h0m1.5-4.5h0m0.5 2.5h0m0.5-2.5h0m3 4h0m2-1h0m0.5-1h0m3.5-1.5h0m1 3.5h0m1-2h0m0.5 3.5h0m2-2h0m83-2h0m8-0.5h0m1-0.5h0m3 1h0m4.5 2h0m12.5 1.5h0m3-3h0m4 2h0m1-3.5h0m3-0.5h0m3.5 0h0m14 3.5h0m2-2.5h0m-225 4.5h0m0.5 3.5h0m1-0.5h0m1.5 0.5h0m0-3.5h0m5 3.5h0m0.5-1.5h0m2 0h0m0 2.5h0m1.5-4h0m1 0.5h0m1.5 3.5h0m0-2h0m0.5-2h0m1.5 2.5h0m1 1.5h0m0.5-1h0m1.5-3h0m2 5h0m0-4.5h0m1.5 0.5h0m3 0h0m0.5 1.5h0m1.5-2h0m1.5 4.5h0m1-4.5h0m0.5 3.5h0m1-1.5h0m0.5 2.5h0m2-5h0m1 4h0m3.5-2h0m1.5 1.5h0m3.5-2.5h0m0.5 2h0m0-0.5h0m0.5 2.5h0m1-1.5h0m1.5-1.5h0m2.5 3h0m1-4h0m1.5 2.5h0m2-0.5h0m2.5-1h0m0.5 2.5h0m3-0.5h0m0.5-3.5h0m1.5 3.5h0m3-1.5h0m1.5 1h0m2-2.5h0m4-1.5h0m1.5 3h0m1.5-2.5h0m0 4h0m1-2h0m2 1h0m1-1h0m2 2.5h0m0.5-4h0m0.5 1h0m1.5 4h0m1-1h0m82.5-4h0m2.5-1h0m5.5 3h0m0.5 2.5h0m0.5-3.5h0m13 3h0m17 0h0m3-3h0m8 3h0m-215 1h0m1 2.5h0m1-1.5h0m1.5 2.5h0m0.5-3h0m2 5.5h0m3.5-5.5h0m0.5 5h0m2.5 0h0m0.5-5h0m0 2.5h0m2 1.5h0m2.5 1h0m1-2.5h0m1.5-0.5h0m1-1h0m3 2.5h0m0.5-2.5h0m1.5 0h0m0.5 1h0m2.5-0.5h0m2.5 0.5h0m3 1h0m0 1h0m0.5-3h0m1.5 0.5h0m0.5-0.5h0m0 2.5h0m3 2h0m2-3.5h0m1.5 1h0m1.5-3.5h0m0 4.5h0m2.5 1.5h0m0-5h0m0.5 2h0m3 1h0m1 1.5h0m3 0h0m2.5-5.5h0m0.5 4h0m1-2h0m0.5-0.5h0m1.5 1.5h0m4-0.5h0m1 2h0m0-3.5h0m1 3h0m1 0.5h0m0.5-4h0m1.5 4h0m3-1h0m0.5 0h0m0.5 1.5h0m1-3.5h0m1.5 4h0m0.5-1.5h0m1-3.5h0m0.5 2.5h0m3.5-0.5h0m2 1h0m2.5 1.5h0m80-1.5h0m8 1h0m5.5-4h0m2 4h0m9 1h0m9.5 0h0m8-1h0m10-3h0m-216.5 5h0m3 4h0m2-2h0m0.5 3h0m0.5-3h0m2 1.5h0m0.5-2h0m1 2h0m2.5-2h0m2 3h0m0.5-2.5h0m2.5-2h0m0.5 5h0m1-3h0m1.5 2h0m1-3h0m1 2.5h0m3.5 0.5h0m0.5-2h0m3-2h0m1 3.5h0m0.5-2h0m2 0.5h0m2.5 0h0m1 1.5h0m0-3.5h0m2.5 4h0m2.5-0.5h0m1.5 2h0m1.5 0h0m0-2h0m1-1h0m2.5 2.5h0m0-4.5h0m0 3.5h0m2-0.5h0m1.5-1.5h0m3 0h0m1 0h0m1.5 0.5h0m0.5 1.5h0m1.5-0.5h0m0.5 1.5h0m1.5-2h0m0.5-3h0m0.5 0.5h0m0.5 4.5h0m0.5-3h0m3 2h0m0.5-2h0m0 2h0m2-0.5h0m0.5-3.5h0m1 1h0m3.5-0.5h0m0.5 4h0m0.5 0h0m0.5-2h0m2 1.5h0m0-4.5h0m3 3h0m1-3h0m0.5 3h0m1.5-1.5h0m5 4h0m48.5-1h0m2.5-1.5h0m8 2h0m19.5 0.5h0m6-2h0m3.5 0.5h0m9 1h0m13-3.5h0m5.5-1h0m4 5h0m13 0h0m-216 2.5h0m0 1.5h0m4.5 2h0m2.5-4.5h0m1 4h0m1.5-0.5h0m2.5 0.5h0m2-4.5h0m3 3h0m0-0.5h0m1-2h0m1.5 3.5h0m0-3.5h0m2 5h0m1.5-5h0m0.5 4h0m2-1h0m1.5-3.5h0m2 0h0m0.5 3.5h0m0-3h0m2 1h0m1.5 3.5h0m0.5-4.5h0m0.5 1h0m1.5-1.5h0m1.5 2.5h0m1-1.5h0m3 4h0m2-3h0m2-2h0m2.5 1.5h0m0.5-2h0m0 3h0m0.5 0h0m2-3h0m1 2.5h0m2 2.5h0m1-3.5h0m0.5 1.5h0m1.5 3h0m1-4.5h0m0.5 2.5h0m3-0.5h0m1-1.5h0m0-1h0m0 5h0m1-1.5h0m2.5-1.5h0m0.5 1h0m1.5-2h0m2 1h0m0.5-1h0m1.5 1.5h0m0.5-2h0m1.5 3h0m1-4h0m1.5 0h0m0.5 4h0m0-2.5h0m3.5-1h0m1.5 3h0m0.5-4h0m2.5 5h0m1.5-2.5h0m0 1h0m39 0.5h0m6-1.5h0m35-0.5h0m9 0h0m0.5 4h0m2.5-2.5h0m7-1h0m2.5-0.5h0m4-2h0m7 5h0m8.5 0.5h0m-204 4.5h0m2-0.5h0m0 0.5h0m1-3.5h0m2-0.5h0m4 5h0m0.5-1.5h0m0.5-0.5h0m0.5 3h0m0-5.5h0m1 3h0m0.5-2.5h0m0.5 3h0m2.5 1.5h0m2.5 0h0m2.5-5h0m1 5h0m1-3h0m0.5-1h0m1.5 3h0m1.5-1.5h0m1 2.5h0m2-3.5h0m1.5-0.5h0m4.5 3.5h0m2-0.5h0m0-2.5h0m0-1.5h0m1.5 5h0m3.5-0.5h0m0.5-4.5h0m1.5-0.5h0m0.5 2.5h0m1 2h0m2-3h0m0 1h0m0 2h0m1 1h0m0-5.5h0m1 2.5h0m1.5 2.5h0m2.5 1h0m3.5-1h0m2.5 0.5h0m1-2h0m0.5-2.5h0m1 4h0m1-3.5h0m2.5-1h0m1 1.5h0m0.5-0.5h0m0.5 2.5h0m1-2h0m1-1h0m1.5 1.5h0m1.5-2h0m0 3h0m0.5 0.5h0m2-0.5h0m0.5 2h0m1-5h0m1.5 5h0m1-4.5h0m2 1h0m7.5 2h0m1.5 0.5h0m2.5 1h0m5.5 0h0m2-0.5h0m16.5-3h0m11-1h0m6 1.5h0m8-2h0m25.5 0.5h0m7.5 4.5h0m2.5-1h0m20-4h0m6 2h0m-202 7h0m0.5-2h0m1 4.5h0m1.5-4.5h0m4.5-1h0m1 2h0m2-1h0m1 4h0m1.5-4.5h0m1.5 4h0m2 0.5h0m0.5-3.5h0m0.5 0h0m3 0.5h0m1-2.5h0m0 5.5h0m1.5-1h0m1.5-3h0m3 1.5h0m0.5-2.5h0m0 4h0m2-2h0m2.5-2h0m1 0.5h0m0.5 2h0m0 1.5h0m1.5-0.5h0m0.5 2h0m0.5-4h0m2 3h0m0.5-3h0m0.5-1.5h0m1 3.5h0m1.5-2.5h0m0.5 3.5h0m1.5-1.5h0m1.5-2.5h0m0.5 4h0m1-3.5h0m1.5 2h0m0.5-2.5h0m5 1.5h0m1 1h0m1-2h0m0-0.5h0m3 4h0m0-3h0m2.5-1h0m0 2h0m1.5 1.5h0m1.5-1h0m1-2.5h0m1.5 2.5h0m2 0h0m0.5-3h0m5.5 2h0m3.5-2.5h0m0.5 2.5h0m1.5-1.5h0m0 1.5h0m2.5 0h0m4.5 0h0m0.5 2.5h0m3.5-1.5h0m1.5-1h0m3.5 0h0m3.5-2h0m0.5 4.5h0m0.5-1.5h0m3.5-2.5h0m4-0.5h0m0.5 1.5h0m0 2.5h0m3-1h0m1.5 2h0m1-2h0m71-3h0m0.5 3h0m5 1h0m1-2.5h0m6 0h0m2.5 2h0m2-1h0m-202 8.5h0m5.5-1h0m0-3h0m2.5 1h0m1-1.5h0m1 4.5h0m0.5-2.5h0m1.5 2.5h0m0.5-4.5h0m3 2.5h0m1.5 2h0m2-4h0m0.5 3.5h0m1-1.5h0m3-3.5h0m0.5 1h0m0 4.5h0m0-0.5h0m1.5-5h0m1.5 5h0m1.5 0h0m0.5 0h0m0.5-3h0m0.5-1.5h0m0.5 4h0m2 1h0m4.5-2h0m1-2.5h0m2 0.5h0m3.5 2h0m1.5-3h0m0 5h0m1-0.5h0m2-4.5h0m1.5 0h0m2.5 2.5h0m0-1h0m1 4h0m0.5-5.5h0m1.5 3.5h0m1-3h0m4 3h0m0.5-2.5h0m5-1.5h0m0.5 2.5h0m2 2.5h0m1.5-1h0m2.5-4h0m1 1h0m0 1.5h0m1 1.5h0m1.5 1h0m1.5-3h0m0.5 0h0m1 2h0m0.5-4h0m5 0.5h0m0.5 0h0m1 4.5h0m0-3h0m2.5-1h0m0.5 3h0m2-0.5h0m2.5-0.5h0m5.5 1.5h0m1 1h0m1-1h0m1.5-2.5h0m0 3h0m4.5-1h0m2.5-1h0m69.5 2.5h0m2.5-3h0m5-2h0m1.5 3h0m5.5 1.5h0m3.5-2h0m2-2.5h0m-210 11h0m6.5 0.5h0m4-3.5h0m2.5 3h0m1-4.5h0m1.5 1h0m1 0.5h0m0.5 1h0m2-2.5h0m0.5 4.5h0m1-2h0m3.5 2.5h0m0.5-2h0m2-3.5h0m1.5 1.5h0m1.5 1h0m2 1h0m0-1h0m8 2.5h0m1-2h0m0.5-3.5h0m1.5 5.5h0m0.5-2.5h0m0 2h0m3.5 0h0m0.5-5h0m1.5 0.5h0m0.5 1h0m2.5-0.5h0m2 1h0m0.5-2h0m1.5 5h0m3-1h0m4 1.5h0m1-2.5h0m3.5-1.5h0m0.5 0.5h0m1 1.5h0m2-3h0m0 5h0m1.5-2h0m0.5-2.5h0m0 0h0m2 4h0m0-4.5h0m1.5 0.5h0m4 4h0m0.5-1.5h0m1 2h0m1-2.5h0m0.5-3h0m2 0.5h0m2 2.5h0m1.5 0.5h0m0.5-0.5h0m0.5 0.5h0m1.5 0h0m1-2.5h0m1 2.5h0m0.5-1.5h0m3-2h0m0.5 2h0m12.5 1.5h0m0-2h0m1.5 0.5h0m2.5 2.5h0m2.5 0.5h0m2-4h0m1 0.5h0m1 3h0m67.5-4.5h0m8.5 0.5h0m-203.5 8.5h0m2-1h0m0 3h0m1-4h0m1 4h0m2-3.5h0m0 4h0m0-2h0m3.5-2h0m1 1.5h0m2 2.5h0m0.5-5h0m2 4h0m0.5-1h0m2 2h0m0.5-5h0m0.5 3h0m0.5 2h0m1.5-3.5h0m3.5-1.5h0m1.5 1.5h0m0 3h0m1-3.5h0m3-1h0m1 3.5h0m0.5-1h0m1.5 3h0m2.5-5.5h0m1 2h0m1.5 3h0m1-4h0m0 1h0m2.5-1h0m1 2.5h0m1-3.5h0m0.5 4.5h0m0.5-1h0m4 1h0m0.5-4h0m1.5 2.5h0m0.5-2h0m0.5 3h0m1-1h0m1 1.5h0m0.5-3h0m1 2.5h0m3-2h0m2.5 1h0m1.5 2h0m1-5.5h0m1.5 6h0m0-3h0m2.5-2h0m0.5 1.5h0m1.5-1h0m2 0h0m0.5 3h0m1.5-2h0m0 3.5h0m1-2.5h0m3 0.5h0m1-1.5h0m1.5 3h0m0.5-1.5h0m1.5-3.5h0m1.5 5h0m0.5-2.5h0m1-2.5h0m0.5 2h0m1.5 2h0m0-2h0m3.5-0.5h0m0 3.5h0m1.5-5h0m1 2h0m1.5-0.5h0m1.5-0.5h0m0.5 3h0m2.5-4h0m0 4.5h0m2.5-2h0m2.5 0h0m4 2.5h0m1 0h0m0.5-2h0m0.5-0.5h0m3-2.5h0m1 3.5h0m0 1.5h0m4.5-3.5h0m0-1h0m0.5 0h0m2 3.5h0m0.5-1.5h0m2.5-1h0m0.5 3h0m4.5-4h0m71.5 3h0m9-3.5h0m9 5h0m-216.5 6h0m1.5-1.5h0m1-2.5h0m2 3.5h0m0.5-1h0m0.5-3h0m1.5-0.5h0m3.5 2h0m2-1h0m1 3h0m2-4h0m1 2h0m0.5 2.5h0m1-3.5h0m0 2h0m3-1h0m1.5 1h0m2 2h0m0.5-1h0m3-1.5h0m0.5-2.5h0m1 5.5h0m1.5-5h0m0.5 2.5h0m1-1h0m2 0h0m0.5 0.5h0m3 2.5h0m0-5h0m1.5 2h0m0.5-1h0m2 0h0m2 2.5h0m2-2.5h0m1.5 1.5h0m1 2h0m1-1h0m3.5-1.5h0m0.5 2h0m0.5-3.5h0m1-1h0m0.5 5.5h0m2-3.5h0m0.5 2.5h0m1 0.5h0m2-4.5h0m1.5 3.5h0m1-4h0m0.5 5h0m1.5-1h0m1 1.5h0m0-1.5h0m0.5-3.5h0m1 1.5h0m1 1.5h0m5 2.5h0m0.5-5.5h0m1 2h0m0.5 3h0m0.5-4.5h0m2 0.5h0m1 4h0m1-4h0m2.5 0.5h0m2 1.5h0m1-3h0m3-0.5h0m1.5 3h0m2.5-0.5h0m2-2h0m2 0.5h0m1.5-0.5h0m-99 8h0m1-1h0m1.5 2h0m2.5 2.5h0m0-1.5h0m0-3h0m1 4h0m0-4h0m2 2.5h0m0.5-3h0m1.5 4.5h0m5-1.5h0m1.5-4h0m0 2h0m1 2h0m0.5-2h0m2.5 2h0m3.5-3.5h0m0 3h0m1.5-2.5h0m0.5 3.5h0m2.5-2h0m2.5-1.5h0m2 4h0m0.5-5h0m1 2h0m1-2h0m4 4h0m0.5-2.5h0m0-1h0m2 5h0m0.5-4.5h0m2.5 0.5h0m0.5-1h0m2 2.5h0m0 2.5h0m1.5-4.5h0m0 2.5h0m4-2.5h0m1 2h0m0.5 0h0m1 2.5h0m0 0h0m3.5-2h0m2-3.5h0m2 1.5h0m0.5 4h0m0.5-0.5h0m1.5-4h0m0.5 2.5h0m2 0.5h0m0.5-1h0m0.5-3h0m1 1.5h0m2-1.5h0m0.5 4h0m2 1h0m1.5-1.5h0m0-2h0m1 1.5h0m138.5-3h0m-216 10h0m1-0.5h0m1 1.5h0m0.5-4h0m0.5 1h0m2.5 1.5h0m2 1.5h0m1-1h0m5.5-1h0m0.5-2.5h0m0 3.5h0m1.5-1.5h0m3.5 0h0m0.5 2.5h0m1.5-3h0m3 1h0m0.5-2.5h0m0 1h0m0 2.5h0m2-4h0m2 2.5h0m0.5-2.5h0m0.5 4.5h0m3-2h0m2.5-2.5h0m1 3h0m3-1h0m3 2.5h0m3-1h0m3.5 0h0m3-3h0m0.5 2h0m4-0.5h0m1.5 2h0m1-0.5h0m1.5-3h0m4 1h0m1-1h0m7 2.5h0m1.5 1.5h0m2.5-3h0m-74.5 9h0m1-2.5h0m2.5-1.5h0m0.5 2h0m2.5 1h0m0 1.5h0m3-3.5h0m1 3.5h0m3.5-0.5h0m3-3h0m0.5 2h0m3.5 1.5h0m3 0.5h0m2-1.5h0m1.5-3h0m1 2h0m1.5 0h0m0.5-1h0m3.5-1.5h0m1 1.5h0m2 0h0m8.5 3.5h0m4.5-5h0m8 4.5h0m0.5-0.5h0m2-1h0m0-3.5h0m1 1h0m1 2.5h0m2 1.5h0m8.5-0.5h0m3 1h0m-76.5 1.5h0m1 3.5h0m0.5-2.5h0m2-2h0m0.5 3.5h0m5 1.5h0m0-3h0m1-0.5h0m3.5 2.5h0m1.5-1.5h0m2.5 1.5h0m3 0h0m0.5-3.5h0m1.5 5.5h0m1-4.5h0m2.5 1h0m0.5-1.5h0m4-0.5h0m1 3h0m1 2h0m1-3h0m1 1h0m0.5-3h0m1.5 0h0m0.5-0.5h0m1 1.5h0m0 2h0m2 1h0m0 1.5h0m7-1h0m1-3.5h0m4.5 3.5h0m6.5-0.5h0m3.5-4h0m0 1h0m1 1h0m2 1.5h0m2.5 0h0m0-4h0m2 1h0m0.5-0.5h0m4 1.5h0m5.5 0.5h0m-72 7.5h0m7.5-3h0m3.5 0h0m1.5 1h0m4.5-1.5h0" stroke="#5E4FA2" stroke-width="2.7" stroke-linecap="round" fill="none"/>
<path d="M34 713h0" stroke="#496AAF" stroke-width="2.7" stroke-linecap="round" fill="none"/>
<path d="M106.5 493.5h0m-1.5 6.5h0m0.5 0.5h0m4.5-5.5h0m1.5 4h0m2.5 2h0m-34 4.5h0m5 0h0m4.5-3h0m3-1h0m2 5.5h0m5-4.5h0m5.5 1h0m-31.5 4h0m1 5.5h0m5-6h0m10 2h0m3 1.5h0m2 2.5h0m3.5-5h0m2.5 3.5h0m4 0h0m6-0.5h0m-51.5 4.5h0m23.5 2h0m7.5 0.5h0m8.5-2.5h0m8-1.5h0m3.5 4h0m1-4h0m0.5 2h0m-80.5 4.5h0m2.5 2.5h0m8-3.5h0m11.5 2h0m19.5 3h0m1-2h0m1 0.5h0m1.5-1h0m7-2.5h0m2.5-0.5h0m3 4h0m12.5 1.5h0m2.5-2.5h0m6-1.5h0m5.5 1.5h0m0.5-2.5h0m-91 10.5h0m10-2h0m2.5-1.5h0m4-1h0m2.5 5h0m4-5h0m3 4.5h0m2.5-1.5h0m12.5-1.5h0m8 3.5h0m7-5h0m11.5 0h0m4 4h0m0.5-1h0m-62.5 5.5h0m0.5-2h0m10 4h0m2.5-5h0m2 5h0m3-2.5h0m8.5 2.5h0m19.5 0.5h0m1.5-1.5h0m3.5 0h0m6-4h0m2 2h0m0.5 2.5h0m11.5 1h0m4.5-1.5h0m-72.5 4h0m4-2h0m11.5 3.5h0m2.5 1h0m0.5-3h0m4 4h0m1-4h0m6 3.5h0m11.5-4.5h0m4.5 5h0m1-5.5h0m2 4.5h0m4.5-0.5h0m6.5-3.5h0m7.5 0h0m8.5 3h0m-82.5 4h0m0 1h0m18 2.5h0m0.5 1h0m2.5-5.5h0m0.5 1h0m5.5-0.5h0m8.5 3h0m24 2h0m7-5h0m4.5 4.5h0m2-3.5h0m0.5 3.5h0m3-1h0m-73 1.5h0m9.5 2.5h0m4.5 2.5h0m7.5-4h0m14 4.5h0m4-3h0m16 1h0m2 2h0m2.5-0.5h0m3.5-3h0m-71.5 10h0m4.5-2.5h0m1-1.5h0m12 3h0m3.5-3h0m12.5-1h0m0.5 4h0m2.5-1h0m2.5-1.5h0m1 1.5h0m0.5-3.5h0m8.5 0.5h0m1.5 3h0m19 0.5h0m2.5 1h0m3.5-4h0m5-1h0m-84 10.5h0m15-3.5h0m3.5 3.5h0m2 0.5h0m3.5-1.5h0m4 0h0m2.5 1.5h0m11 0.5h0m9.5-2h0m0-3h0m9 0h0m14 3h0m8.5 1h0m-84.5 3h0m7 2.5h0m9-3.5h0m4 1.5h0m12.5-1h0m1 3h0m2.5-2h0m2.5 1h0m20.5 2.5h0m4-2h0m7-3h0m6.5 4.5h0m0-3.5h0m13.5 2h0m9 0h0m0.5-1.5h0m3.5 2.5h0m0.5-1.5h0m1-1h0m-108 7.5h0m0 1h0m3.5-3.5h0m2.5 3.5h0m1-4.5h0m8 4h0m11.5 1h0m3.5-0.5h0m0.5-1.5h0m7.5-1h0m3.5 2h0m10.5-0.5h0m6.5-1.5h0m5.5 1h0m3 2h0m3-1h0m1.5-1h0m0.5-1.5h0m6.5 3h0m6.5 0h0m3-1h0m1 1h0m13-3.5h0m3 3.5h0m0.5-4h0m5 2.5h0m0-3h0m-111.5 8.5h0m4.5 2.5h0m11.5-2.5h0m1.5-1h0m4.5 3h0m20-3h0m0 1h0m7.5 2h0m4.5-2h0m6.5 2.5h0m19.5 0h0m17-3h0m0.5 1.5h0m15.5-1.5h0m5.5-1h0m20 1.5h0m-139.5 7.5h0m6 0h0m1.5-1.5h0m6.5-2h0m26 0.5h0m7.5 1h0m19.5-0.5h0m1-1.5h0m2 3.5h0m4-2h0m4.5-1h0m3 3.5h0m4.5-2.5h0m1-2h0m5 4.5h0m8.5-3.5h0m-97.5 10h0m9.5-4h0m5.5-0.5h0m6 4h0m3-3h0m16.5 0h0m18.5-1.5h0m5.5 5.5h0m8-3.5h0m7-1.5h0m7 1.5h0m3.5 3.5h0m-90.5 1h0m3.5 4.5h0m2.5 0h0m7-5h0m2.5 2h0m10 0.5h0m4.5 1h0m25-1h0m6-0.5h0m2-0.5h0m14.5 3h0m2.5-4h0m4 0.5h0m1.5 0h0m9.5-0.5h0m-91.5 9h0m11 2h0m6.5-2h0m1.5 1.5h0m7 0h0m7-3.5h0m18.5-0.5h0m4 5h0m4-3h0m4.5 2.5h0m17-3h0m-85 6.5h0m3.5-1h0m5.5 1.5h0m0-3.5h0m3 0.5h0m6.5 4h0m2.5 1.5h0m10-5h0m8.5 3h0m5-3h0m13.5-0.5h0m1.5 1h0m2.5 0h0m1.5 1h0m3 1.5h0m5.5 0h0m2.5-1h0m4 0.5h0m-64 3.5h0m1 1h0m12.5 2.5h0m6 0h0m0-3.5h0m6.5 0h0m2 2h0m1 2.5h0m2.5-2h0m5.5 1.5h0m30-3h0m-76.5 5h0m2 3h0m5-3.5h0m1 2.5h0m4 2h0m10.5-1.5h0m8.5-1h0m5 1.5h0m2.5-0.5h0m4.5-3.5h0m2 3.5h0m3 2h0m18.5-2.5h0m5 2h0m2 0h0m1.5-4h0m5 2h0m-72.5 6h0m8-1.5h0m7 0h0m7.5 3.5h0m6.5 0.5h0m6.5-5.5h0m2.5 4h0m18.5-2.5h0m5 2h0m6-1h0m4.5-2.5h0m10 5.5h0m-78.5 5h0m0.5-1h0m2 0h0m8-1.5h0m0.5-1.5h0m4 0h0m2.5 4.5h0m1.5-1h0m14-1h0m4.5 1.5h0m12.5-2.5h0m2 1.5h0m13.5-0.5h0m1-2h0m1 0h0m8 3.5h0m2.5-3.5h0m-77.5 11h0m6-0.5h0m3.5-1h0m15.5 0.5h0m12.5-3h0m4.5-1h0m5 0h0m6 0h0m26.5 2.5h0m2-1.5h0m0.5 1h0m-82.5 4h0m9 0.5h0m3.5 4h0m0.5-4.5h0m10 1.5h0m5.5-1h0m8.5 2h0m2 0.5h0m3-0.5h0m3.5-1h0m6 3h0m9-3h0m16-1.5h0m2.5-0.5h0m4 1h0m4.5 0.5h0m-84 7.5h0m6.5 2h0m1.5-3.5h0m8-1h0m12 4h0m3.5 0h0m3.5-3.5h0m8 0h0m8-1.5h0m3 3h0m3-1h0m7.5 3.5h0m5-0.5h0m8.5-2.5h0m-73 7h0m2.5 2.5h0m4.5-2h0m1.5-2h0m7 3.5h0m5.5-1h0m21.5-1.5h0m6.5 2h0m4 0h0m3-4.5h0m7 5.5h0m1-4.5h0m2.5 4h0m1-2.5h0m4.5-1.5h0m1 1.5h0m5-1.5h0m16 2.5h0m7-0.5h0m-104.5 5h0m1-1h0m3 2.5h0m3.5 1h0m10-3h0m0.5 1.5h0m4.5 2h0m10-3.5h0m2 1.5h0m7.5 0.5h0m0.5-2.5h0m3-0.5h0m4.5 4.5h0m7.5-2.5h0m1.5-2h0m4 3h0m1-3h0m1 3h0m33.5-3.5h0m5.5 5h0m10-4.5h0m-127.5 10.5h0m1 0h0m12.5-4h0m4-1h0m6 1.5h0m2.5 0.5h0m10.5-0.5h0m0.5 2.5h0m2 1h0m14-1.5h0m10.5-1h0m5.5 2.5h0m3-3.5h0m7 3.5h0m4-5h0m4 5h0m12-1h0m5-4.5h0m2 2h0m16.5 1h0m-114 6.5h0m7-2.5h0m1.5 3.5h0m1-2h0m16 3h0m4-3.5h0m3.5 1.5h0m6-3h0m5 4.5h0m3-3.5h0m2 1h0m12.5-2h0m10.5 1.5h0m6 2.5h0m1.5-0.5h0m1.5-0.5h0m9 1.5h0m-101 6.5h0m1-2.5h0m6.5 0.5h0m17-0.5h0m1.5 2.5h0m9.5-2.5h0m4 0h0m5.5-1h0m4 3h0m2 0h0m13.5-5h0m5 0h0m0 4h0m8 0.5h0m1-4.5h0m1 4h0m-82.5 6h0m7-4h0m4 4.5h0m0.5 1h0m0.5-3h0m2.5 0.5h0m6.5-2.5h0m2 5.5h0m4.5-3h0m2 2h0m11-1h0m5.5-0.5h0m5.5-0.5h0m9.5-0.5h0m1.5 1h0m-54.5 5.5h0m9-2h0m3-1h0m12.5 1h0m8.5 5h0m0-1h0m9.5-4.5h0m3 3h0m4-2h0m16.5 0.5h0m-54 8.5h0m14-0.5h0m7 1h0m6.5-4.5h0m6.5 4h0m17-1.5h0m3 1h0m-48 5h0m11 3h0m10-4h0m1.5 3h0m6.5-0.5h0m1-4h0m-48.5 8h0m5-1.5h0m1.5-0.5h0m7.5 0.5h0" stroke="#3485BC" stroke-width="2.7" stroke-linecap="round" fill="none"/>
<path d="M86.5 503h0m11 3.5h0m4 11h0m-39 6.5h0m21 17.5h0m-14 21h0m19.5 2.5h0m-42.5 7.5h0m3-5h0m20 2h0m5.5 2h0m-10.5 8.5h0m30 6.5h0m1.5 1h0m56.5 2h0m-63.5 6h0m0 8h0m-31 9h0m42 3.5h0m-22 11h0m-39 8h0m22 3.5h0m-9 21h0m60 3h0m-74.5 5.5h0m17 11h0m87 3.5h0m-81.5 13h0m27 3h0m-67 4h0m25.5-2.5h0m1.5 4h0m6-0.5h0m14-0.5h0m-35.5 6.5h0m38.5-2h0m22.5-2h0m-69 8.5h0m4.5-2.5h0m1 2.5h0" stroke="#48A1B3" stroke-width="2.7" stroke-linecap="round" fill="none"/>
<path d="M111.5 505.5h0m-50.5 6.5h0m42-0.5h0m11.5-3h0m-37 8h0m16.5-3h0m-3 8.5h0m7.5-2h0m3.5 0h0m-60 12.5h0m15.5 3.5h0m47.5-4.5h0m-55 7.5h0m23.5 0.5h0m-21 8h0m13-2.5h0m6.5 0h0m-28 5h0m62.5-0.5h0m-45.5 6h0m42.5 0h0m-35 11h0m-16.5 2h0m18.5 4.5h0m10.5-2h0m3.5-2.5h0m17-1h0m-44.5 7.5h0m37 0.5h0m-51.5 4.5h0m28-0.5h0m8 3.5h0m36 0.5h0m10.5-4h0m25 4h0m-89 6h0m8.5-3.5h0m7.5 0.5h0m-39 7h0m35 2h0m7.5-2.5h0m-56 6.5h0m29-0.5h0m-14.5 7h0m-18 5h0m25.5 3h0m4-4h0m2.5 9.5h0m18.5-2.5h0m-16.5 4h0m14 1.5h0m-9 7h0m41 1.5h0m-45.5 7h0m22-0.5h0m-45.5 2.5h0m35.5-0.5h0m34 2h0m3.5-1h0m-27.5 8h0m-9.5 4.5h0m41 6h0m15-0.5h0m-16 6.5h0m8.5 1.5h0m-27 7.5h0m3-4.5h0m11.5 1h0m40 1h0m-97 7.5h0m-17 4h0m11.5-1.5h0m70 0.5h0m-55.5 15.5h0m1-4h0m22.5 4h0m1-0.5h0m8.5-4h0m3.5 0h0m-70.5 10h0m11.5-3.5h0m2 3.5h0m4.5-1h0m32.5-2h0m4.5 3.5h0m17-4h0m-60 6.5h0m31 2.5h0m26.5-1h0m-41.5 3.5h0" stroke="#61BCA7" stroke-width="2.7" stroke-linecap="round" fill="none"/>
<path d="M100.5 496h0m-31.5 10.5h0m26.5 0.5h0m6-3.5h0m-22 7h0m9 0.5h0m2.5-4h0m4.5 4.5h0m9.5-0.5h0m-8.5 5h0m17.5 0.5h0m-80 4h0m4-0.5h0m1 2h0m24.5-1.5h0m2 4h0m5-4.5h0m14 0.5h0m14.5-1.5h0m2.5 5h0m10.5-1.5h0m-55.5 3.5h0m2-0.5h0m8 2h0m32-1h0m13.5 0h0m-74 7h0m16-2h0m14 0.5h0m18.5 3.5h0m11.5-1h0m13.5 0h0m-82.5 7.5h0m41-2h0m9.5 0h0m1.5-1h0m4-0.5h0m10-1h0m-8 10h0m4-3h0m-51 6.5h0m0.5 3h0m-11 1.5h0m22.5 4.5h0m1-0.5h0m34 1h0m10-4.5h0m-66 5.5h0m44.5 3.5h0m34.5 1.5h0m-89 1.5h0m60.5 5h0m8.5-1.5h0m24 1h0m-95 4h0m33.5 0.5h0m21.5 1h0m16 1h0m25-3.5h0m4.5 3.5h0m1.5-2.5h0m13 0.5h0m-15 7h0m17-4h0m-120 8h0m3 1.5h0m27.5-3.5h0m10 0h0m27.5 1.5h0m27.5 0h0m28-1.5h0m-116 7h0m31 1h0m9.5 2h0m31-2.5h0m-51 3.5h0m1 0.5h0m2.5 5.5h0m2.5-2h0m20.5-2h0m-56 7h0m17-0.5h0m19 1.5h0m24.5 0.5h0m14.5 0h0m11-1h0m1-3.5h0m-69 7.5h0m34.5-0.5h0m2.5 3.5h0m22-4.5h0m-64.5 9h0m6-1.5h0m15 0h0m-24 7h0m6.5-1.5h0m7.5 0h0m17.5 2.5h0m25.5-1h0m8.5 0.5h0m-54 8.5h0m29-3.5h0m20.5-1h0m2 2.5h0m-8 2.5h0m10.5 0h0m16.5 4h0m-65 6.5h0m7-4.5h0m6 1.5h0m4 2h0m52.5-3h0m-62 9h0m3-1.5h0m9 2h0m51.5 0.5h0m-58 3h0m8-1h0m14 1h0m19 1.5h0m16.5-1.5h0m5 2.5h0m-76.5 7.5h0m15-5h0m33 2h0m1.5-2h0m33.5 1.5h0m-76.5 4.5h0m0.5 3.5h0m4.5-1h0m9-1h0m26.5 3h0m1-3.5h0m27 4.5h0m29.5-3.5h0m5.5 1h0m-113.5 6.5h0m17 1.5h0m9-0.5h0m1-3h0m17.5 3h0m0.5-3.5h0m3 1.5h0m1.5-2.5h0m40 4.5h0m6-5h0m-104 10.5h0m24.5-2h0m21.5-2.5h0m13.5 2.5h0m20.5 0h0m7 0h0m4-2h0m12.5 1h0m-35 8h0m3 2h0m-51 5h0m6 0.5h0m0.5-3.5h0m8.5-1h0m29 1.5h0m-51 10h0m9-3h0m0 2h0m8-4h0m3.5 2h0m1-3h0m7.5 4.5h0m15-1.5h0m9 2h0m-65.5 6.5h0m1.5-2h0m8.5-3h0m3.5 1.5h0m20.5 3h0m6.5 0.5h0m8-4h0m-50.5 9.5h0m9.5-5h0m38 2.5h0m1 0h0m0.5 0.5h0m3-0.5h0m-48 7h0m23-2h0" stroke="#80CCA5" stroke-width="2.7" stroke-linecap="round" fill="none"/>
<path d="M109 492.5h0m-11.5 4.5h0m2.5 2.5h0m-0.5 2.5h0m-8.5 8h0m10.5-1h0m-42.5 4.5h0m35 4.5h0m-64 6.5h0m25.5-5h0m33-0.5h0m21.5 6h0m-71.5 4h0m74.5 1h0m-74 5.5h0m57.5 1.5h0m10-3h0m-66.5 10h0m22-0.5h0m27 1.5h0m21 0.5h0m-78.5 6.5h0m31.5 1h0m-13 7h0m5.5-1.5h0m18-0.5h0m6.5 1h0m19-4h0m-16.5 9.5h0m5.5-3h0m-59 8h0m15.5 2h0m33.5-1h0m14.5-2.5h0m1.5 4h0m8.5 0.5h0m-75 6h0m6.5-4.5h0m8 3.5h0m10.5-3h0m44.5 0h0m6 0h0m4-1h0m0 5.5h0m1.5-2.5h0m5-2h0m-92.5 9.5h0m10.5 0h0m50-3.5h0m17.5 4.5h0m10-4.5h0m1.5 1.5h0m-89.5 3h0m32 5.5h0m33-4h0m7.5 3.5h0m4.5 0h0m-63 6.5h0m23-1.5h0m38 0.5h0m-53.5 3.5h0m13 3h0m35.5-3.5h0m4-1h0m13 1.5h0m-12 5h0m1.5 7.5h0m-64.5 8.5h0m42.5-3h0m6.5-1.5h0m0 2.5h0m-10 4h0m4.5 4h0m-45.5 5h0m16.5-0.5h0m14-2.5h0m16 1.5h0m3 0h0m17.5 1.5h0m4-1.5h0m-45 9.5h0m2.5-5h0m7 1h0m6 1h0m8-1h0m0.5-1h0m-35 9h0m10-2h0m32.5-2h0m2 0h0m8 5.5h0m-63 5.5h0m2-4h0m42 3h0m13 1.5h0m-52.5 3h0m11.5-0.5h0m13 1.5h0m5-2.5h0m-29 7.5h0m22.5-1h0m52 4h0m14 0h0m-76 2h0m11-0.5h0m11.5 2.5h0m30-1.5h0m26.5 0.5h0m12.5 2.5h0m-92.5 5h0m23.5 0h0m1-2h0m16.5 4h0m-75 4.5h0m9-2h0m14-2h0m34.5 0.5h0m-46 10.5h0m17.5-5.5h0m22.5 1h0m10 1.5h0m-48.5 4h0m10 1.5h0m21 2.5h0m-31.5 6h0m33.5-1.5h0m4.5 2h0m16.5 0h0m2-2.5h0m-55.5 4h0m18 0h0m21 3.5h0m3.5-1h0m0.5-1h0m-49 4.5h0m45.5 1.5h0m27-0.5h0m-51.5 6h0" stroke="#A1D9A4" stroke-width="2.7" stroke-linecap="round" fill="none"/>
<path d="M112.5 507h0m-10.5 3.5h0m-34.5 12h0m-2.5 8h0m3 3.5h0m27.5-2h0m15 4h0m-72.5 3.5h0m60.5 2h0m7 1.5h0m-60 3.5h0m35 1.5h0m-9 21.5h0m13 2.5h0m46.5 4h0m-92 12h0m11 0.5h0m55 8.5h0m3.5-0.5h0m-14 1h0m-39.5 11.5h0m-6 3h0m44.5 7.5h0m-52.5 6h0m52 6h0m-52 2h0m2 6h0m5 8.5h0m-11 3.5h0m18 2.5h0m9-1.5h0m57.5-0.5h0m10.5 6h0m10-0.5h0m-69.5 8.5h0m74 2.5h0m-45 2h0m-18.5 10.5h0m36-0.5h0m17 0.5h0m-103.5 9h0m43.5-1.5h0m-52.5 8.5h0m6.5-2h0m15.5 3.5h0m43.5 0h0m-62 1.5h0m30.5 3h0m3.5-1.5h0m6.5-0.5h0m0.5 1.5h0m0.5 1h0m-44 6.5h0m25 1h0m0-2h0m11.5-1.5h0m2.5-1h0m20 2.5h0m11.5-1h0m-72.5 8h0m14-2.5h0" stroke="#BFE5A0" stroke-width="2.7" stroke-linecap="round" fill="none"/>
<path d="M70.5 510h0m23 41.5h0m-53 30.5h0m-27 17h0m137.5 59h0m-29.5 16h0m12-1.5h0m10 2h0m-4.5 5.5h0m-93.5 3h0m29.5 15.5h0m-56.5 4h0m31 2h0m12-5h0m1.5 2h0m23-2h0m1.5 1.5h0m-49 5.5h0m3.5 3.5h0m7-3.5h0m31-1.5h0m-21.5 6.5h0" stroke="#DBF09A" stroke-width="2.7" stroke-linecap="round" fill="none"/>
<path d="M120 653.5h0m25 7.5h0m-4 2.5h0m-70 8h0m56.5-0.5h0m13.5 4h0m-2 7.5h0m-103 16.5h0m51-5h0m-67 6.5h0m21-0.5h0m45.5 7h0m-50 11h0m0 8h0" stroke="#EDF8A3" stroke-width="2.7" stroke-linecap="round" fill="none"/>
<path d="M118.5 651h0m9.5 10.5h0m7 11h0m-81 24.5h0m27.5-1h0m-47.5 5.5h0m-14 8h0m2.5 4h0m8.5 2.5h0m16 0h0m-19 4.5h0m10.5-2.5h0m7 0.5h0m-12.5 8h0m2 1.5h0m12-1h0" stroke="#F9FDB6" stroke-width="2.7" stroke-linecap="round" fill="none"/>
<path d="M121 655.5h0m3.5-1.5h0m-4 7.5h0m6-1h0m16.5 2.5h0m-17.5 6h0m2-3.5h0m20.5 3h0m-18 6h0m-3 0.5h0m14.5 9.5h0m-74.5 13.5h0m-48 6h0m67.5-1.5h0m3-2.5h0m-66 10.5h0m39.5-2h0m15 0h0m-53 6.5h0m13.5 1.5h0m2 0h0m4-2.5h0m-20.5 4.5h0m2 0.5h0m1.5-0.5h0m2.5-0.5h0m4.5 1.5h0m11 2h0m3-1h0m-18 6h0m2.5-3.5h0m9.5 3h0m42.5 2h0m-45.5 4h0m22.5-1.5h0" stroke="#FFF8B3" stroke-width="2.7" stroke-linecap="round" fill="none"/>
<path d="M119 655h0m17 3h0m-4 10h0m9.5-2.5h0m7-1h0m-8 7.5h0m-10.5 8h0m14.5-2h0m-122 39h0m9.5-1.5h0m16.5-1h0m3 1.5h0m8.5-3h0m25 1h0m-59 7.5h0m3.5-1.5h0m8 0.5h0m1 0.5h0m1-0.5h0m4-1h0m7-1h0m16.5 1.5h0m-38.5 3h0m0.5 2h0m4.5-2h0m0.5 6h0m0.5-1.5h0m2-3h0m2.5 0.5h0m12.5-1h0m1.5 0.5h0m3 1h0m13-2h0m-32.5 9h0m3-2.5h0m0.5-1h0m25.5 2h0m-17.5 6.5h0" stroke="#FEE99A" stroke-width="2.7" stroke-linecap="round" fill="none"/>
<path d="M126.5 657.5h0m4 1.5h0m17-0.5h0m0 3h0m-29.5 2.5h0m22 3h0m7 1h0m-21 3.5h0m5 2h0m-7 2h0m-40 34.5h0m15.5-0.5h0m-64.5 6.5h0m8.5-1h0m9.5-1h0m1 0.5h0m3 2.5h0m3.5-0.5h0m11-5h0m3 1.5h0m0.5 2.5h0m2.5-2.5h0m-46.5 9.5h0m3-2.5h0m3.5 3h0m5-5.5h0m0.5 4.5h0m2-1.5h0m1 2h0m3-1.5h0m6.5 1h0m2.5-2.5h0m2.5 0.5h0m13 0h0m11.5 2.5h0m0-3h0m-44.5 6h0m2-0.5h0m10.5 0.5h0m3-2.5h0m0.5 5.5h0m4.5-4h0m6.5 1h0m-28.5 8h0m3.5-2h0m3.5 2h0m0-4h0m5.5 4.5h0m20-4h0m0 3h0m15-2h0m-44.5 5.5h0m3.5 0.5h0m8.5-0.5h0m3-0.5h0m7.5 5h0m6 3.5h0m-10.5 9.5h0" stroke="#FED683" stroke-width="2.7" stroke-linecap="round" fill="none"/>
<path d="M145 673h0m-23.5 3.5h0m1.5 1.5h0m10-0.5h0m-56 33h0m11.5 0.5h0m1.5-1.5h0m-40 4h0m6.5 0.5h0m6.5-2h0m1.5 4h0m0.5-3.5h0m1.5 3.5h0m2-0.5h0m5-3.5h0m4.5 3h0m1-3h0m10 2.5h0m1.5-2h0m2.5 4h0m0.5-2h0m6.5-0.5h0m-68.5 4.5h0m15-1h0m5 3.5h0m1.5 0.5h0m1-1h0m1-3h0m10 0h0m2.5 3h0m7-2.5h0m11.5 2h0m4 1h0m4.5-1.5h0m1.5-2h0m2 0h0m-67.5 8h0m10.5-0.5h0m3 3.5h0m0-1.5h0m1-2h0m9 1.5h0m5 2h0m0.5-4h0m3 0.5h0m3-0.5h0m0.5 1.5h0m9.5-3h0m11.5 1h0m4 2h0m-38.5 7h0m6.5-1h0m4-2h0m2.5 3.5h0m11.5-4.5h0m2.5 1.5h0m1.5 3h0m9-4.5h0m17.5 3.5h0m-67.5 2.5h0m1 0.5h0m11 4h0m7-2.5h0m19.5 4h0m-26.5 1.5h0m0.5 0.5h0m13.5 1h0m10-2.5h0m2 20h0" stroke="#FDBF6F" stroke-width="2.7" stroke-linecap="round" fill="none"/>
<path d="M132 661.5h0m-12 6h0m13.5-3h0m-12 5h0m22 11.5h0m-57 29.5h0m6-1.5h0m6.5 2h0m-44 5h0m2.5 0h0m5-2.5h0m13.5 2.5h0m5-1.5h0m2-0.5h0m4.5 0h0m4.5-2.5h0m0.5 4.5h0m0.5-2h0m4.5 2h0m1.5-1.5h0m-64 3h0m25 4.5h0m0.5-3.5h0m2.5 3.5h0m3.5 0.5h0m3-5.5h0m2.5 4.5h0m0-3.5h0m3 4.5h0m1.5-2.5h0m1.5 1h0m3-2.5h0m1.5 3.5h0m1-3.5h0m1-1.5h0m2.5 4h0m2.5-0.5h0m2 0.5h0m6.5 0.5h0m2 1.5h0m0.5-5h0m3 3h0m1.5-0.5h0m-67 8.5h0m11-4.5h0m0.5 1h0m3.5 2.5h0m14.5 0h0m2.5-1h0m2.5-0.5h0m5.5-1h0m1.5 0h0m8.5 0h0m0.5-0.5h0m2.5 0h0m5-1.5h0m4 2.5h0m3 2h0m-66.5 3h0m7 0h0m4.5 3h0m1-2h0m0.5-2.5h0m2.5 1.5h0m2-1h0m2.5 0.5h0m0 2h0m4-2.5h0m1 3h0m2 0h0m3.5-4h0m1.5 1.5h0m0.5 0.5h0m9.5-1.5h0m0 5h0m3.5-3.5h0m5 3.5h0m3-1.5h0m2-0.5h0m2.5-2h0m-42.5 7h0m16.5 1h0m3.5-0.5h0m3.5 1.5h0m3-2.5h0m1-1.5h0m4.5 2.5h0m2.5 3h0m0.5-3h0m8 1h0m-39.5 5h0m1.5 0h0m2 0h0m0.5 2.5h0m6.5-3.5h0m3 3.5h0m7-1.5h0m-16.5 3.5h0m6.5-0.5h0m7.5 3.5h0m26.5-1.5h0m-33.5 8h0m5-2.5h0m14 2.5h0m6 5h0" stroke="#FCA55D" stroke-width="2.7" stroke-linecap="round" fill="none"/>
<path d="M137 665h0m-3 4h0m-36 40h0m-56 5h0m26.5-2h0m0.5 0h0m8.5 5h0m2-4h0m2-2h0m1.5 4h0m11-3h0m-37.5 9h0m5-2.5h0m3 2h0m0 2h0m3-5.5h0m3.5 4.5h0m0-2h0m8 2.5h0m2 0h0m9-4.5h0m3.5 3.5h0m12 0.5h0m-49.5 3.5h0m3.5 2h0m4-1.5h0m7.5-0.5h0m3-1h0m0.5 2.5h0m2.5 0h0m4-2h0m1 1.5h0m2.5-0.5h0m2.5 3h0m18-2h0m-62 7h0m6 1h0m6.5 0h0m3-2h0m10.5 1h0m0.5 0.5h0m4.5-0.5h0m5 0.5h0m10.5-2.5h0m7 2h0m5-3.5h0m-54.5 6h0m8 2.5h0m6 1.5h0m4.5-1.5h0m4 0h0m2.5 0h0m9 0h0m2 2h0m2.5-1h0m4 1h0m3-3h0m1 2.5h0m-37.5 1.5h0m7.5 4.5h0m9 0h0m0.5-4.5h0m8.5 0.5h0m5 2h0m3-0.5h0m5-2h0m8 2.5h0m-33 6.5h0m1-1h0m6.5-1h0m0.5 3.5h0m3-1h0m5.5-2.5h0m4 0.5h0m3 3.5h0m1.5-3h0m0.5-2h0m7.5 4h0m-39 4h0m11.5 2h0m7-4h0m6.5 3.5h0m-4 4.5h0m-6.5 5h0" stroke="#F7864E" stroke-width="2.7" stroke-linecap="round" fill="none"/>
<path d="M70.5 714h0m25.5-0.5h0m-44.5 3.5h0m30.5 4h0m5.5-3h0m9 4h0m5-3h0m1-0.5h0m-31.5 10h0m2-1h0m9.5 1h0m1.5-4.5h0m9 2h0m1-1h0m2.5 2h0m1.5-1h0m5-2.5h0m-56.5 8h0m19.5 3h0m8-3h0m0.5 3h0m3-3.5h0m15-1.5h0m1 4.5h0m1 0h0m4.5-0.5h0m2.5 1h0m3.5-0.5h0m1.5-2h0m-62 3.5h0m5.5 4.5h0m6.5 0h0m5.5-3h0m0.5 2h0m1-1h0m2 1h0m2.5 0h0m10.5 0h0m2 1h0m4.5-4.5h0m3.5 3h0m6-1h0m2 1h0m5-1h0m8-0.5h0m-50.5 5.5h0m2-1.5h0m2.5 3.5h0m5-1.5h0m3 2h0m4.5-1.5h0m4 1.5h0m2-1h0m10-1h0m9.5 1.5h0m6 0h0m-51 2.5h0m1.5 4h0m8.5 0.5h0m1.5-2h0m2-0.5h0m1.5-1.5h0m1 4.5h0m12.5-1h0m17-3.5h0m-34 11.5h0m5-3h0m8-3h0m10 1h0m4.5 2.5h0m2-1.5h0m1 0.5h0m2-2h0m-29 6.5h0m2 0h0m0.5 4h0m3-4.5h0m1 0h0m3 5h0m-1 5.5h0m1-1h0m2.5-2.5h0" stroke="#F16944" stroke-width="2.7" stroke-linecap="round" fill="none"/>
<path d="M97.5 710.5h0m-26.5 4.5h0m14.5 0.5h0m12.5-1h0m3.5 0h0m-3 5h0m-47 9h0m49-4h0m2.5 2h0m2.5 1h0m2 0.5h0m-48 6.5h0m3.5 0h0m20.5-1h0m4.5-3.5h0m5.5 1.5h0m1.5-2h0m3.5 0.5h0m0.5-0.5h0m5 2h0m4.5-1.5h0m-56.5 6h0m3.5 4.5h0m11.5-5h0m8.5 1.5h0m17.5-2h0m5 1h0m1 1h0m0 2h0m7-2h0m1.5 4h0m-54 0.5h0m15 2.5h0m10 0h0m4 2.5h0m2-4h0m4-0.5h0m2.5 4.5h0m2.5-0.5h0m1.5-2.5h0m2.5 0h0m0.5 3.5h0m1.5-4h0m3 3.5h0m1.5 0h0m4-0.5h0m1-4h0m-51 7.5h0m2.5 2.5h0m1.5 0.5h0m3-1h0m0.5 1h0m1.5 0h0m3-0.5h0m3-5h0m1 5h0m1.5-4.5h0m2 3h0m1.5 1h0m8.5-0.5h0m8.5 0.5h0m0.5 1h0m0.5-3h0m5.5 0h0m4.5-1h0m-45.5 7.5h0m2 2.5h0m6-2h0m7 1.5h0m2-3.5h0m4 1h0m1 3.5h0m1-5.5h0m2 1h0m3.5 0h0m3.5 4.5h0m3.5-6h0m4 1.5h0m-37.5 5h0m3 3h0m4 2.5h0m12-4.5h0m4 0h0m4.5 0h0m-19 7.5h0m5 1h0m6.5-1h0m5-2.5h0" stroke="#E2524A" stroke-width="2.7" stroke-linecap="round" fill="none"/>
<path d="M96 720.5h0m0.5 7.5h0m8-4h0m-29 8h0m10.5 2h0m15-1h0m-27 5.5h0m7.5-3h0m6 3.5h0m2.5-3.5h0m9.5 5h0m4.5-1.5h0m1-0.5h0m0.5-2.5h0m3.5-0.5h0m-48 11h0m5.5 0.5h0m5.5-4.5h0m11.5 3.5h0m2 1h0m3-1h0m0-1h0m4-2h0m3.5-1.5h0m3.5 5h0m1.5-4.5h0m4.5 3h0m-43 2.5h0m16 0h0m2.5 0.5h0m7.5 4.5h0m3-1h0m1-3h0m12.5-0.5h0m-24 10.5h0m2.5-2.5h0m7.5-2h0m9 4h0m-34 2h0m1.5 3.5h0m2 0h0m3.5-3h0m6.5 3h0m8-2.5h0m0 4h0m0.5-5h0m1.5 4h0m4.5-3h0m-24.5 5.5h0m3.5-1h0m1.5-0.5h0m6 0.5h0" stroke="#D23B4E" stroke-width="2.7" stroke-linecap="round" fill="none"/>
<path d="M72.5 734.5h0m30 2h0m4.5 4h0m2-1h0m-25.5 8.5h0m5 1.5h0m0 0.5h0m15.5 3h0m-39.5 5h0m1-2.5h0m4 0h0m3 1.5h0m11 0h0m7.5 0.5h0m1.5 0h0m1-1h0m5 0.5h0m-22.5 4.5h0m0.5 2.5h0m2.5-2h0m13 2.5h0m3-2h0m-20.5 5.5h0m4.5 2.5h0m1-2.5h0m5.5-3h0" stroke="#B81E48" stroke-width="2.7" stroke-linecap="round" fill="none"/>
<path d="M103.5 742h0m1 9h0m-27 3.5h0m19 4h0m-26 3.5h0m12 0h0m2.5 1.5h0" stroke="#9E0142" stroke-width="2.7" stroke-linecap="round" fill="none"/>
<path d="M103 495.5h0m-41.5 15.5h0m2 0h0m-4.5 2h0m12.5 2h0m25.5 3.5h0m12.5-1.5h0m-75 7h0m18.5-1h0m7 0.5h0m7-1h0m11 1.5h0m3.5-3.5h0m11.5 1h0m12 1.5h0m-79.5 2h0m11.5 4h0m14.5-3.5h0m3.5 0h0m20.5 3.5h0m7.5-0.5h0m8-2.5h0m4.5 1h0m2 2h0m-58.5 5.5h0m6-2.5h0m2 2.5h0m5-2.5h0m6 0.5h0m6-1.5h0m7.5 4.5h0m9.5-4h0m6.5-0.5h0m2.5 4h0m16 1h0m-80 2.5h0m4.5 4h0m4-2h0m29 0h0m0.5-0.5h0m8 2.5h0m21-2.5h0m10.5-2h0m10 2.5h0m-70.5 7.5h0m18.5-1.5h0m1-3.5h0m18.5 0h0m0.5 4.5h0m18.5 1h0m2.5-2.5h0m-62.5 4.5h0m6 2.5h0m4.5-4h0m2 6h0m36-1h0m2 1h0m7 0h0m10-1h0m74.5-3.5h0m6-0.5h0m3.5 2.5h0m-144 5h0m25-1h0m27.5 0.5h0m84.5 3.5h0m14.5-1.5h0m-173 3h0m9.5 0.5h0m1.5 4h0m10.5-1h0m6-2h0m6 1.5h0m19.5 0.5h0m7-2.5h0m1 4h0m2.5-1h0m8.5-3.5h0m-70.5 8.5h0m5-2.5h0m5.5-0.5h0m1 4.5h0m3.5-4h0m5.5 2h0m18 0.5h0m3-3.5h0m1.5 0h0m12.5 1h0m7.5 0h0m8.5 4h0m2.5-3.5h0m11-0.5h0m62.5 1h0m2.5-0.5h0m-151 7h0m13.5-1h0m14.5-1.5h0m4.5 0.5h0m7 4h0m11.5-5h0m38.5 2h0m7.5 0.5h0m1-2h0m56.5 0h0m13 0.5h0m15.5 1.5h0m2 1h0m-198 8h0m5.5-3h0m7.5-0.5h0m3-1h0m8 3h0m17-3h0m18.5 2.5h0m4 0h0m9.5-3.5h0m3.5 5h0m7 0.5h0m21.5-3h0m8.5-1h0m41 1.5h0m-153 5.5h0m16 0.5h0m12.5-1.5h0m7 3.5h0m11-3.5h0m1.5 4.5h0m5-2h0m20.5-3h0m2.5 2h0m8 0h0m9.5 2.5h0m6-2h0m27-2.5h0m3 1h0m31 3h0m35-5h0m-187 9.5h0m9-1.5h0m6 4h0m2-5h0m16.5-1h0m13 3.5h0m5-3.5h0m6 0h0m2 6h0m6 0h0m9-5h0m7 1.5h0m63.5 3h0m24-2.5h0m3.5 2.5h0m-174.5 6h0m19 0.5h0m4.5-4.5h0m15 0.5h0m11.5-1h0m15.5 1h0m78-1h0m3 1.5h0m55.5 3.5h0m-207.5 3.5h0m15-3.5h0m10.5 3.5h0m15.5-0.5h0m25-2.5h0m12.5 5.5h0m4-4.5h0m93.5 3h0m13 1h0m4-3.5h0m21 0.5h0m-203.5 5h0m8 1.5h0m16 3h0m5-3h0m142.5-0.5h0m8.5-2.5h0m50 4.5h0m-230.5 2h0m20 0.5h0m4.5 4h0m14-4h0m2.5-0.5h0m2.5 5.5h0m9-4.5h0m2 0.5h0m19.5 2h0m2-1h0m112 2.5h0m15.5-5h0m9 4h0m15-2h0m2.5-1h0m-232.5 6h0m2-1h0m9.5 5h0m21.5-1.5h0m17.5-3.5h0m10.5 3h0m2.5 0h0m8 0h0m8.5 0h0m100-2h0m28 4.5h0m11-4h0m2.5 0.5h0m7-1.5h0m18.5 0h0m-248 5h0m8.5 3h0m1.5 0.5h0m52.5 0h0m17-1.5h0m71.5 3h0m16.5-3h0m6 1h0m16-2.5h0m7 3.5h0m1-3h0m7.5 0h0m-198.5 9h0m26.5-3h0m11 2h0m5 0h0m9 1.5h0m1-1.5h0m6 2.5h0m7.5-5.5h0m10.5 3.5h0m3.5-0.5h0m55 2h0m7.5-3.5h0m28 2h0m37-1h0m-176 6h0m22.5 1.5h0m15-2.5h0m6 1h0m4.5 0.5h0m10 2.5h0m84 0h0m42.5-1h0m-211 2.5h0m18 0.5h0m13.5 1h0m12.5-2h0m13.5 1h0m20.5-1h0m63 1.5h0m4 0h0m63.5 0.5h0m1-1.5h0m-203.5 9.5h0m5 0.5h0m19-3.5h0m16 4.5h0m2-4.5h0m3.5 1.5h0m20-2.5h0m5.5-0.5h0m7.5 3.5h0m35.5 1.5h0m21.5-4h0m50 4h0m24.5 1h0m23.5-4.5h0m-237 5.5h0m2 3h0m36-2h0m11.5 2.5h0m14-3.5h0m33 0.5h0m6.5 2h0m75-1.5h0m1.5 2.5h0m38.5-1.5h0m-216 8h0m3.5-4h0m8.5-1h0m4 2.5h0m3.5 0.5h0m7.5-2h0m1.5 4h0m3-4.5h0m9 3.5h0m8.5-2h0m12.5 3.5h0m3-5.5h0m13 0.5h0m6.5 2h0m11.5-0.5h0m4.5-1h0m5.5 3.5h0m3 0h0m3-2.5h0m9.5 0h0m83.5 2h0m0.5-2.5h0m-181 10.5h0m2-1.5h0m7.5 1h0m3-5h0m3 0h0m3.5 4h0m13.5-3.5h0m7.5-0.5h0m18 3h0m10.5 1.5h0m8.5-1.5h0m16-0.5h0m73 0.5h0m33.5-0.5h0m9.5-1.5h0m-238 9h0m4.5-4.5h0m5 0.5h0m12 0.5h0m29 1.5h0m7.5-1.5h0m5.5 4.5h0m14-4.5h0m7.5 0h0m14-0.5h0m5 3h0m109 1h0m5-2.5h0m8.5-1h0m-236.5 10h0m6.5-2h0m10-1.5h0m20 2h0m2.5 0.5h0m20.5-0.5h0m14-3h0m133 0h0m27.5 3.5h0m-237.5 5h0m27.5-2.5h0m25.5-0.5h0m2.5 0h0m1 4h0m12 1h0m3.5-2.5h0m60-2h0m91 3.5h0m10.5-3.5h0m-229 11h0m22-3h0m7 1.5h0m114.5-3h0m-142 9h0m17-4h0m13 2.5h0m10 2.5h0m7.5-3.5h0m8-1h0m5 4h0m74-2.5h0m17 2.5h0m8-1.5h0m-152.5 3.5h0m3.5 3h0m5.5 0.5h0m3-2.5h0m8 0.5h0m16 3.5h0m2.5-5h0m0 5.5h0m83.5-5.5h0m1 1.5h0m5 0.5h0m5.5 3h0m-144.5 3.5h0m3 1.5h0m26-4h0m50 4h0m54.5-4h0m7 2h0m-133 5h0m14 0.5h0m1.5 1.5h0m5-1h0m11.5-1h0m12.5 2.5h0m17.5 1h0m8 0h0m64-0.5h0m-131 6.5h0m8-2h0m3.5-2.5h0m19.5 1h0m9 2h0m7.5-0.5h0m16.5 0h0m-44.5 5h0m3.5 0h0m2.5 2h0m11-1h0m4.5-0.5h0m4 0h0m25.5 0h0m4-2h0m-48.5 11.5h0m4.5-1.5h0m7.5 0h0m3.5-3.5h0m12 2.5h0m1-1.5h0m15-0.5h0m-47 9.5h0m2.5-2h0m14.5 1h0m8.5 0.5h0m6.5-1.5h0m14 3h0m4.5-3.5h0m3.5-0.5h0m-49.5 7.5h0m9.5-1.5h0m14 3h0m17-1h0m-28 3.5h0m5 1h0m13-1h0m-13 7h0m0 7.5h0" stroke="#FFFFFF" stroke-width="1.5" stroke-linecap="round" fill="none"/>
</g>
<defs><linearGradient id="cb" x1="0" y1="0" x2="0" y2="1"><stop offset="0" stop-color="#9E0142"/><stop offset="0.1" stop-color="#D53E4F"/><stop offset="0.2" stop-color="#F46D43"/><stop offset="0.3" stop-color="#FDAE61"/><stop offset="0.4" stop-color="#FEE08B"/><stop offset="0.5" stop-color="#FFFFBF"/><stop offset="0.6" stop-color="#E6F598"/><stop offset="0.7" stop-color="#ABDDA4"/><stop offset="0.8" stop-color="#66C2A5"/><stop offset="0.9" stop-color="#3288BD"/><stop offset="1" stop-color="#5E4FA2"/></linearGradient></defs>
<rect x="1860.3" y="487" width="14.4" height="304.5" fill="url(#cb)" stroke="#444" stroke-width="0.8"/>
<text x="1881.3" y="497.5" font-size="17.5">high</text>
<text x="1883" y="791.5" font-size="17.5">low</text>
<text font-size="25.5" text-anchor="middle" textLength="126.6" lengthAdjust="spacingAndGlyphs" transform="translate(1918 640.9) rotate(-90)">Expression</text>
<text x="14" y="885.3" font-size="38" font-weight="bold">c</text>
<text x="111.2" y="881" font-size="27.4" textLength="870.7" lengthAdjust="spacingAndGlyphs">Gating strategy for FACS isolation of fetal liver (E17.5–18.5) progenitors</text>
<path d="M163 1140.7 159 1141.1 152.5 1140.7 150.3 1139.2 150 1137.2 151 1135.7 153 1134.7 160.5 1134.5 164.5 1135.1 167 1136.3 167.6 1138.2 166 1139.7Z M232.5 1103.7 229 1104 226.5 1103.3 224.5 1101.6 223.3 1099.2 222.9 1096.2 223.3 1092.2 226.5 1083.7 232.5 1075.4 240 1069 244 1066.9 247.5 1065.9 250.5 1065.8 253 1066.6 254.5 1067.8 255.7 1069.7 256.4 1074.2 255.3 1079.7 252.5 1086.2 248.4 1092.2 243.2 1097.7 237.5 1101.7Z M152 1103.7 151 1097.7 150.8 1088.2 151 1078.6 152 1072.3 153 1078.6 153.2 1088.2 153 1097.7Z M162.5 1142.2 151.5 1142.1 148.1 1139.7 147.6 1137.2 150 1134.2 152.5 1132.8 163 1132.9 167 1133.6 170.6 1135.7 171.3 1137.2 170.9 1138.7 168 1140.9Z M213 1129.8 209.5 1130.1 206 1129.3 203.9 1127.7 203.4 1125.7 204.1 1124.2 206.4 1122.2 217.8 1115.7 219.3 1114.2 219.1 1112.2 216.2 1104.2 216 1097.2 218.7 1087.7 223.8 1078.2 227.9 1072.7 232.5 1067.9 237.5 1063.6 243 1060 248 1057.7 253 1056.5 257.5 1056.6 261 1058.1 263 1060.2 264.3 1063.2 264.7 1066.7 264.4 1070.7 261.6 1080.2 256.2 1090.2 249.9 1098.2 242.5 1105 236 1109.3 223.9 1115.2 223 1116.7 222.3 1121.7 220.8 1124.7 217.5 1127.8Z M152.5 1124.4 152 1124.3 151.5 1122.9 150.9 1118.7 149.5 1090.7 150.2 1067.2 151 1059.5 152 1056.8 153 1059.4 153.6 1064.7 154.5 1085.2 154 1106.2 153.2 1121.2Z M192 1127.3 188.5 1127.5 185.5 1126.5 183.6 1124.7 182.9 1122.2 183.9 1117.7 186.2 1113.2 188.6 1110.7 191.5 1109.7 194 1110.4 195.7 1112.2 196.9 1115.2 197.4 1119.7 197.2 1122.7 196.3 1124.7 194.6 1126.2Z M163 1143.2 151.5 1143.4 146.3 1140.2 145.3 1138.7 145.3 1137.2 152 1130.3 156.5 1131.7 165 1130.9 168.5 1131.4 171.5 1133 173.4 1134.7 174.3 1136.7 174.1 1138.2 173 1139.7 170.5 1141.3Z M144.5 1135.3 148.9 1131.7 150.1 1128.7 148.8 1099.7 148.8 1076.7 150 1055.3 151 1048.7 152 1046.7 153 1048.6 153.8 1053.2 155 1070.2 155 1127.7 155.5 1129.3 157 1130.1 159 1129.7 160.3 1128.7 161.8 1123.7 164.5 1121.3 168 1120.3 175 1119.9 177.6 1118.7 179.5 1116.7 185 1108.1 187.5 1105.8 190 1104.5 193.5 1104 197 1105.1 200.6 1108.2 204.2 1114.2 206 1114.7 207.8 1113.7 209.2 1111.2 209.9 1102.2 211.7 1094.2 214.7 1086.2 218.4 1079.2 223.1 1072.2 229 1065.3 235.5 1059.4 242.5 1054.4 248 1051.4 254 1049.2 259.5 1048.2 264.5 1048.3 268 1049.2 270.8 1051.2 272.4 1054.2 272.8 1058.2 271.7 1066.2 268.8 1075.7 264.2 1085.2 258.6 1093.7 248.9 1104.7 243 1109.7 232 1117.7 224.6 1126.2 220.4 1129.7 215 1132.3 209 1133.4 198 1132.3 188.5 1132.8 179 1131.6 177.5 1132.7 177.4 1137.2 175.8 1139.7 171.5 1142.2 165 1143.9 152 1144.7 144.5 1140.6 M144.5 1133.8 148 1131.3 149 1128.7 148.1 1095.2 148.3 1069.7 149.8 1047.2 151 1040.3 152 1038.7 153 1040.2 153.7 1043.2 155.1 1057.2 155.9 1081.2 155.7 1113.7 156.2 1119.2 157.5 1122 164 1118.3 173.3 1116.7 176 1115.5 178.3 1113.2 184 1104.7 189 1100.9 194 1099.8 201.5 1100.5 204 1099.4 206.5 1095.8 214.4 1078.7 221.4 1068.2 226.5 1062.3 232.5 1056.6 239.5 1050.8 245.5 1046.6 251.5 1043.6 258 1041.4 267 1039.5 278 1037.9 282.5 1037.9 285.6 1038.7 287.5 1040.5 288.1 1043.2 286.9 1047.7 281 1059.2 272.7 1077.7 268.3 1085.7 263 1093.7 256.9 1101.2 250.5 1107.8 235.1 1120.2 223.9 1130.2 218 1133.5 211 1135.5 197.5 1135.7 183 1136.9 174.5 1142.2 166 1144.5 156.5 1145.1 152 1146 144.5 1142.1 M144.5 1132.7 147.3 1130.7 148.2 1128.2 147.5 1091.2 147.9 1064.7 149.6 1040.7 150.7 1034.2 152 1031.7 153 1033 153.8 1036.2 155.3 1049.2 156.4 1075.2 156.3 1112.2 157 1116.8 157.5 1117.7 158.5 1118.2 164 1116 174.1 1113.7 176.9 1111.2 182.5 1102.7 186.5 1099 190.5 1097 199 1095.4 202.2 1093.7 205 1089.9 213.1 1073.7 218.8 1065.2 240 1042.8 244 1039.4 251 1036.6 283 1028.4 288 1028.1 291.9 1028.7 295 1030 297.6 1032.2 299.4 1035.7 299.7 1039.7 298.6 1044.2 296.3 1048.7 285.5 1063.6 274.1 1083.2 266.6 1094.2 256.4 1106.2 245.5 1116.1 226.5 1131 221.5 1134 216.5 1136 209.5 1137.6 198.6 1138.2 184 1139.8 170 1144.6 155.2 1146.2 M197 1045.2 194.5 1044.7 192.5 1043.1 191.1 1040.2 190.8 1037.2 191.5 1034.4 193 1032.2 195.2 1030.7 198 1030.2 200.5 1030.8 202.5 1032.2 203.9 1034.2 204.4 1036.7 203.7 1039.7 201.8 1042.7 199.5 1044.6Z M144.5 1131.7 146.6 1130.2 147.5 1127.7 147 1085.2 147.7 1056.7 149.5 1034.2 150.6 1028.2 152 1025.5 153 1026.7 154 1030.5 155.7 1044.7 156.8 1072.2 156.9 1110.2 157.5 1114.5 159 1115.7 171 1112.7 173.2 1111.7 175.8 1109.2 181.4 1100.7 185 1097.1 189.5 1094.3 198 1091.2 200.5 1089.4 203.9 1084.2 213.6 1063.2 216.9 1058.7 224.5 1050.7 226.6 1047.2 226.7 1045.2 225.5 1043.4 223 1042.5 220.5 1042.6 216.5 1044.8 209.4 1053.7 204.5 1057 200.5 1058.1 196.5 1058.1 192.5 1057.1 189 1055.1 185.5 1051.8 183 1047.7 181.3 1042.7 180.9 1037.7 181.5 1032.6 183.3 1027.7 186 1023.7 189.5 1020.8 194 1019 199.5 1018.8 215 1023.6 234 1023.8 239 1025 248 1028.2 253 1029 261 1028.1 279 1023.1 287 1021.8 295 1022.4 298.5 1023.6 301.5 1025.5 305 1029.7 306.5 1035.7 305.6 1042.2 302.7 1048.7 288.5 1067.9 277.1 1085.2 270.2 1094.7 260.8 1105.7 251 1115.1 229.5 1131.5 223.5 1135 218 1137.4 209.5 1139.3 182 1142.3 170 1145.3 162.8 1146.2 M144.5 1130.8 146.3 1129.2 146.8 1126.7 146.6 1077.2 147.7 1045.7 149.4 1028.2 150.5 1022.6 151.5 1020.3 152.5 1020.2 153.8 1023.7 155.8 1037.7 157.2 1067.7 157.4 1108.7 158 1112.8 159.5 1113.8 169.9 1111.2 173 1109.5 179.8 1099.7 183.5 1095.6 187 1092.8 195 1088.5 198 1086.2 200.3 1082.7 202 1078.2 202.7 1072.7 201.5 1069.3 199.3 1067.7 189.5 1063.6 184.1 1059.7 179 1053.2 176.1 1045.7 175.2 1036.7 176.9 1027.7 180.8 1020.2 186.5 1014.8 192.5 1012.3 199 1012 203.5 1013 217 1017.8 236 1019.3 254.5 1023.4 262 1022.7 279 1017.9 288 1016.5 297 1017.1 304 1020 306.7 1022.2 309 1025 310.6 1028.2 311.5 1031.7 311.3 1039.2 308.3 1047.7 303.4 1055.7 276.9 1091.2 266.8 1103.2 257 1113.2 247.5 1121.3 235.5 1130.1 227.5 1135.1 220 1138.5 212.5 1140.6 191.5 1143.8 180 1144.2 168.8 1146.2 M144.5 1129.9 145.7 1128.7 146.1 1126.2 146.2 1075.2 147.3 1044.2 149.2 1023.7 150.4 1017.7 151.5 1015.1 152.5 1015 153 1015.7 154 1018.8 156.2 1034.7 157.6 1065.7 157.8 1107.7 158.5 1111.3 160 1112.1 169 1109.8 172 1108.1 180.5 1095.9 185 1091.4 193.1 1085.2 195 1082.7 196 1080.2 196 1077.2 194.5 1074.2 183 1065.7 177.1 1059.2 173.4 1052.2 171.3 1044.7 170.9 1034.7 173.1 1024.7 175.1 1020.2 177.7 1016.2 180.5 1013.1 184 1010.2 191 1007 195 1006.4 199 1006.5 204.5 1007.9 215 1012.5 220 1014 237 1016 254 1018.9 261.5 1018.3 278.5 1013.3 288 1011.7 298 1012.2 302.5 1013.5 306 1015.1 309.5 1017.6 312.3 1020.7 314.3 1024.2 315.6 1028.2 316.2 1032.7 315.9 1037.2 313.1 1046.7 306.6 1057.7 286.2 1084.7 275.1 1098.2 263.8 1110.2 253.5 1119.6 243.5 1127.4 232 1134.9 222.5 1139.5 214 1142 201.5 1143.8 191.5 1145.9 187.5 1146.2 179.5 1145.5 173.2 1146.2 M144.5 1128.8 145.4 1126.2 145.9 1114.7 145.8 1076.7 146.8 1043.7 148.8 1020.7 150 1014.1 151.5 1010.2 152 1009.9 153 1010.8 154.3 1014.7 156.8 1033.2 157.9 1057.2 158.2 1105.7 158.6 1109.2 160 1110.6 167.9 1108.7 171.2 1106.7 178.5 1095.6 187.8 1085.2 189.6 1081.7 189.6 1079.2 188.3 1076.7 178 1067 172.6 1059.7 169.1 1051.7 167.2 1042.7 167.3 1032.2 169.9 1022.2 174.8 1013.2 178 1009.5 181.5 1006.5 185.5 1004.2 190 1002.5 194.5 1001.7 199 1001.8 205.5 1003.5 217.1 1009.2 222.9 1011.2 253 1015.2 261 1014.3 276.5 1009.4 286 1007.4 295 1007 303 1008.5 310 1011.8 315.6 1017.2 319.1 1024.2 320.2 1032.2 319.1 1040.2 315.8 1049.2 310.8 1057.7 302.2 1069.7 288.3 1087.7 275.9 1101.7 261.5 1115.9 248 1127 235.5 1135.3 224 1141 214.5 1143.8 199.6 1146.2 M144.5 1126.9 145.5 1113.7 145.6 1069.2 146.7 1038.2 148.8 1015.7 150 1009.3 151.5 1005.7 152 1005.4 153 1006.2 154.5 1010.8 157.3 1031.2 158.4 1051.7 158.6 1104.2 159 1108 159.5 1108.9 160.5 1109.2 167.5 1107.4 170.6 1105.2 176.7 1095.2 182.7 1086.7 184.3 1083.2 184.3 1080.7 183.1 1078.2 173.7 1067.7 168.6 1059.7 165.2 1050.7 163.7 1041.2 164.3 1029.7 167.3 1019.2 172.5 1010.2 176 1006.2 179.5 1003.2 184 1000.4 189 998.5 194 997.6 199.5 997.7 207.5 1000 219.5 1006.6 225 1008.7 233.5 1010.2 251 1012 259.5 1010.8 275.5 1005.4 285.5 1003 295.5 1002.4 304 1003.7 311 1006.6 317 1011.5 321.2 1017.7 323.5 1024.7 323.9 1032.7 322.4 1041.2 319.1 1049.7 313.7 1059.2 301.3 1076.7 289.2 1091.7 275.5 1106.2 261 1119.6 248 1129.9 235.5 1137.9 223.5 1143.4 212.8 1146.2 M144.5 1119.7 145.2 1111.7 145.2 1070.2 146.3 1037.2 148.7 1011.7 150 1004.8 151.5 1001.4 152 1001.2 153 1001.9 154.8 1007.7 159.3 1038.7 158.9 1103.2 159.5 1107.1 161 1107.9 166.8 1106.2 170 1103.7 178.6 1088.7 180.1 1084.7 180.1 1082.2 179 1079.7 169.9 1068.2 165.1 1059.7 161.8 1049.7 160.3 1039.7 161.6 1027.2 165.2 1016.2 170.6 1007.2 174 1003.3 178 999.9 183 996.8 188.5 994.8 194 993.8 200 994 204.5 995 209 996.8 221.5 1004.2 226.1 1006.2 235.5 1008.1 248 1009.1 257 1008 276 1001.1 287 998.5 298 997.9 308 999.8 315 1003.3 320.5 1008.2 324.6 1014.7 327.1 1022.7 327.5 1030.7 326.2 1039.2 323.2 1048.2 318.3 1057.7 308.7 1072.2 297.6 1086.7 287 1098.7 274.2 1111.2 259.5 1124 246 1134 233.5 1141.4 222.3 1146.2 M144.5 1115.5 145.1 1059.2 146.2 1031.7 148.6 1007.2 150 1000.6 151.5 997.3 152 997.1 153 997.8 154.2 1000.7 158 1020 159 1022.4 160 1021.3 165.5 1009.2 172 1000.9 176 997.3 180.5 994.4 185.5 992.1 190.5 990.8 198 990.3 205 991.6 212 994.6 222.9 1001.7 227 1003.8 234 1005.7 243 1006.6 249 1006.5 254.5 1005.5 275.5 997.4 288 994.2 294.5 993.5 300.5 993.5 306 994.3 311 995.7 318 999.3 323.8 1004.7 327.8 1011.2 330.4 1019.2 331.1 1027.7 329.9 1037.2 327.2 1046.2 322.2 1056.7 314.2 1069.7 303.6 1084.2 293.8 1095.7 283.1 1106.7 268 1120.1 253.5 1131.5 240.5 1140.1 228.6 1146.2 M163.2 1106.2 167 1104.5 169.6 1101.7 175.6 1089.7 176.7 1084.7 175.3 1080.7 167.2 1069.7 161.5 1059 160.5 1058.1 159.5 1067.5 159.4 1103.2 159.8 1105.7 160.5 1106.6Z" fill="none" stroke="#3a3a3a" stroke-width="0.7" stroke-linejoin="round"/>
<path d="M168.4 916.9h0m8.7 1.2h0m6.4-1.2h0m75.3 0h0m1.2 1.2h0m15.7-1h0m31.5-0.2h0m6.1-0.9h0m48.5 3.1h0m-206.9 5.7h0m4.6-2.5h0m9.1 2h0m6.7 1.4h0m7.5-5.4h0m6.1 1.4h0m36.3 6h0m7.1-1.8h0m23.8-1.8h0m7.5-1.5h0m2.8 1.3h0m12.2-1.3h0m4.9-1.8h0m4.6 2.3h0m17.7-0.1h0m0.3-1.8h0m0.7 2h0m5.3 2.4h0m18.7 0h0m25.7-3.8h0m5.2 5.9h0m1.1-1.1h0m-205.6 3.3h0m12.8-0.8h0m13.7 5.2h0m0.6-2.6h0m11.1 2.7h0m24.5-2.8h0m1.3 2.6h0m5.6-1.8h0m2.2 2.2h0m11.6-3.6h0m2.1 4.4h0m1.9-6.1h0m4 4.9h0m2.7-3h0m1.7 2.3h0m2.8 2.3h0m0.6-0.8h0m0.4-4.8h0m12.5-0.2h0m0.2 5.8h0m7.7-7.7h0m2.8 3.4h0m4.1 0.2h0m7.5-3.2h0m0.2 2.2h0m3.6-2h0m1.4 7h0m1.7-5h0m5.1 3.7h0m7.1-6.1h0m1.3 5.8h0m6.4 0.5h0m3.6-3.1h0m5.9-1.2h0m1.4 5.2h0m0.4-5.4h0m5.5 2.6h0m2.2 3.3h0m3.3-3.1h0m7.6-4.9h0m23.5 2.4h0m-217.5 9.1h0m5.9-3.2h0m12.1 6.3h0m2.6 0.7h0m24.8-6.5h0m4.4 1.6h0m10.2 2.9h0m6 1.7h0m5.1-4.8h0m3.2-1.4h0m12 3h0m4.4-3.8h0m5.2 4.6h0m2.9-2.9h0m2.3 2.2h0m0.1-2.9h0m7.1 0.4h0m7.2 2.8h0m0.1 1.3h0m1.8-3.3h0m0.9-0.2h0m2.7 5.8h0m13-2.6h0m1.5 2.5h0m1.1-6.7h0m1.2 0.9h0m17.1 2.5h0m1.6-1.4h0m5.4 4.2h0m5.5-0.2h0m0.2-0.7h0m2.7-1.1h0m13.5 0.3h0m10.3 2.4h0m18.8-1.4h0m-191.4 2.2h0m13.2 6.5h0m10.9-0.5h0m1.1 1.1h0m4.2 0.2h0m0.2-3.4h0m3.4 1.5h0m0.9-0.4h0m5.3-0.4h0m6 2.5h0m1.9-3.7h0m2.3-0.8h0m3.8-0.3h0m1.8-2h0m0.6 4.7h0m0.9-2.9h0m1.4 1.6h0m1.3-0.7h0m7.8-2.2h0m3.9 3.9h0m3.8 1.1h0m2.6-3.6h0m5.7-2h0m5.8 0.9h0m4.3 0.2h0m2.5 5.4h0m9.2 0.5h0m2.3-2.7h0m0.2-0.6h0m3-2.9h0m0.1 5.1h0m1.1-4.1h0m1.4-1.7h0m4.6 1h0m0.1 0.4h0m6.1-0.9h0m7 2h0m5.1-2.6h0m1.3 3.6h0m1.5 0.5h0m2.1-2.1h0m0.6 1.8h0m5.1 1h0m1.9 1.1h0m0.8 0.5h0m12.7-4.5h0m0.8-1.2h0m1.7 1h0m2.2 3.1h0m1.3-3h0m7.7 1.4h0m2.4 0.9h0m0.7 1.9h0m-200 6.8h0m24.1 0.8h0m0.7-2.1h0m0 1.5h0m8 1.5h0m19.8-3.4h0m0.5 1.7h0m1.5 0.4h0m7-5.9h0m5.5 2.4h0m3.4 0.2h0m10.7 2.9h0m2-2.9h0m0.4 2.2h0m0.7-1.6h0m1 1h0m0.3-2.2h0m1.4-1.3h0m3.3 2.1h0m6.5 2.7h0m2.8 0.5h0m0.3 0.6h0m2.4-3.3h0m0.3-0.6h0m0.2 0.2h0m0.4 2.7h0m0.8-5.7h0m0.9 6.5h0m0.5-2.4h0m2.3-2.9h0m3.2 5.8h0m1.3-2.5h0m1.5 0.9h0m1.3-1.9h0m1.1 2.5h0m5.6-2h0m1.3-1.6h0m2-2.4h0m0 5.4h0m0.5 0.2h0m6.1-0.7h0m5.5-2.8h0m2.4 5.1h0m2-5.8h0m3.2 1.4h0m0.7-1.6h0m0.1 5.5h0m4.4-4.9h0m2.5 3.2h0m0.9 1.5h0m3.5-1.7h0m0.9-0.6h0m7.9-3.4h0m2.2-0.6h0m1.4 4.7h0m1 1.6h0m3.6-1.1h0m0.9-5.1h0m3.2 2h0m2.4 5.2h0m7.6-7.1h0m1.9 4h0m1.2 1.7h0m1.8-1.8h0m3.1 1.4h0m10.1-4.5h0m3.4 3.9h0m-193.5 5.2h0m14.8 2.6h0m2-4.1h0m4 5.3h0m0.8-4.7h0m3.2-0.4h0m4.6 2.6h0m1.7-3.4h0m4.7 4.9h0m4.5 1.5h0m0.5 0.8h0m7.4-5.9h0m5.8 2.6h0m1.3-1.4h0m7.2 0.4h0m3.7 0.3h0m0.3 2.6h0m0.3-4.9h0m4.5-0.6h0m1.1 5.7h0m0.1 0.6h0m2.8-1.9h0m0.1 0.4h0m2.8-3.6h0m0.3-1.6h0m3.6 2.8h0m1.6 4.8h0m2.4-6.1h0m0.5-0.4h0m3.2 0.4h0m1.1 0.7h0m0.9-2.2h0m2 2.2h0m4.6 3.8h0m0.3-2.5h0m3.4-1.3h0m0.8-2.2h0m6.6 7.3h0m0.5-4h0m3.8-3.1h0m0.2 0.1h0m2.9 6.3h0m0.1-2.4h0m1.8 3.1h0m0.4 0.3h0m1-4h0m0.4 3.2h0m0.5-1h0m2.4-5.6h0m0.6 4.2h0m0.5-1.4h0m2-2.3h0m0.3-0.5h0m1.2 3.3h0m6.5-0.2h0m0.7-2.9h0m1.7 0.6h0m1.1 3h0m9.8-0.8h0m2.3 4.5h0m8.5-5.9h0m6.4 3.2h0m0.9-3.6h0m6.5 0.3h0m2.7-0.5h0m0.2 1.1h0m2.4-0.5h0m3.1-0.4h0m3.4-1.2h0m0.2 5.2h0m-173.7 9.6h0m3-3.5h0m2.3 1.6h0m15.7-3.3h0m0.4 3.1h0m1.2 2.7h0m9.6-6.8h0m1 5.4h0m1.1-2h0m3.3 3.6h0m1.2-7.2h0m3.8 1.5h0m0-1.8h0m1.7 5.9h0m0.6-1.5h0m4.3-1.6h0m0.7-1.7h0m2.1 1.2h0m1.1 3.1h0m5.5-0.8h0m5.4-1.1h0m0 2.5h0m1.2-0.5h0m1.8-2.4h0m0.3 4h0m0.4-2.7h0m6.8 1h0m0.8-1.8h0m0.7 3.6h0m4.5-2.7h0m0.3 1.6h0m0.2-3.6h0m6 2.2h0m4.6 1.6h0m1.1-5.8h0m1.4 1.6h0m0.4-1.3h0m4.7 3.9h0m0.5-3.8h0m0.4 4.9h0m0.2-5h0m5.4 2.7h0m4 0.1h0m0.5 0.5h0m0.4-0.4h0m0.9 0.7h0m3-1.1h0m0.5 0.2h0m0.1 2.3h0m6.4-2.5h0m1 1.9h0m0.5-0.1h0m0.5-2.4h0m0.2-1.4h0m2.9 5.1h0m1.1-3.4h0m2.4-0.7h0m0.6 2h0m5.3 3.1h0m6.5-0.8h0m0.9-1.2h0m2.1 2h0m0-3.3h0m2.3 1.2h0m0.6 1.2h0m2.6-3.5h0m2.3 1h0m0.1 0.8h0m2 0h0m0.9-1.2h0m0.4 1.4h0m0.3 1.4h0m12.2-2.9h0m10.2 1.4h0m-210.4 9.7h0m16.8-1.4h0m5.3 1.6h0m10.3-4.2h0m2 3.3h0m5.2-0.8h0m1.8 0.6h0m0.2-3.6h0m0-2.5h0m1.1 2.7h0m2.6-0.1h0m1 0.3h0m4.4-1.9h0m0.4 0.6h0m2.4 3.9h0m2.7-3.9h0m3.9 3.6h0m1 0.2h0m1.4-3h0m2 4.8h0m0.6 0.3h0m1.8-3.1h0m5-2.6h0m0.6 0h0m2.4 2.9h0m5.6-1.2h0m0.9-1.9h0m0.9-1.7h0m2.7 3h0m5.1-0.8h0m5.9 4.9h0m3.9-7h0m1 2.2h0m4-0.6h0m0.5-0.6h0m1.5 0.6h0m0.1 0h0m5.6 3.6h0m5.5-0.9h0m2.1-0.3h0m3 2.2h0m0.5-1.3h0m3-0.4h0m1.1-2.7h0m0.8 3.1h0m0.6 1.4h0m1.9-6.1h0m1.1 4.3h0m3.4 1.8h0m0-5.9h0m1.5 4.5h0m0.5-3.8h0m0.5 4.4h0m0.3-3.6h0m0.1 5h0m6.1-1.2h0m1.6-3.4h0m3.2-1.8h0m0.7-0.1h0m0.2 1.2h0m0.5 4.7h0m0.7-1.2h0m0.4-1.2h0m1.2-2.6h0m0.8 2.4h0m7.3-1h0m2.6-2.1h0m1.5 3.3h0m1.2-1.4h0m0.2 0.2h0m2-0.1h0m1.8-2.1h0m1.7-0.2h0m0.5 0.3h0m4.3 0.7h0m3.4 0h0m3.7-1.4h0m4.1 3h0m4.8 0.6h0m2.9 1.7h0m0.2 0h0m21.3 0.6h0m5.3 0.8h0m-224.6 6.1h0m10.5-3.8h0m0.7 1.7h0m16.1 0.6h0m1.8-2.8h0m4.6 4.1h0m1.7-1.2h0m12.5-1.7h0m2.4-0.3h0m2.1 0h0m1.4 1.3h0m5.4 4.8h0m1.6-5.3h0m1.3 0.8h0m2.1 2.6h0m0.8 1.1h0m0.8-6.6h0m1.7 5.1h0m3.7-4.9h0m10.2-0.3h0m1.3 2h0m1.9 6h0m4.6-4.9h0m0.8-1.2h0m6.9 5.2h0m3.2-4.4h0m0.2 1.7h0m0.2-1.9h0m3.4 3.5h0m0.6-1.5h0m0.1 1.5h0m0-1.3h0m7.3 0.3h0m0-3.6h0m11.8 3h0m0.5-3.6h0m0.6 3.9h0m0.7 1.5h0m0-0.1h0m1.4-3.9h0m2.3 2.8h0m0.5-1.7h0m0.1-1.5h0m0.3 3.6h0m3.6 0.8h0m0.7-0.3h0m0.3-5.7h0m0.5 4.1h0m3.4 1.8h0m0.1 0h0m1.2-2.5h0m1.1-0.5h0m7.2-1.7h0m0.8 6.4h0m2.5-2h0m1.2-2.6h0m0.3 3.5h0m0.4-2.4h0m0.8 0.5h0m4.1-0.6h0m0.5 3.4h0m0.9-4.1h0m2.9-2.2h0m0.6-0.7h0m1 3.4h0m0.7-3.4h0m0 5.4h0m0.5-4.2h0m1.5 4.3h0m2-4.6h0m6.4-0.4h0m2.8 2.1h0m3.7 4h0m2.3-0.6h0m1.5-2.9h0m1.5 2.8h0m6.2-2.2h0m5-3.2h0m8.8 4.3h0m8.5-3h0m5.8 0h0m-223.5 12.1h0m5.2-5.4h0m0.5 2.9h0m3.7-1.1h0m2.4 1.6h0m5.6-4.5h0m6.3 0.6h0m4.2-0.2h0m8.2 0.8h0m37.2 5.9h0m1-4h0m3.6 4.4h0m1.9-0.7h0m0.2-2.6h0m0.3-2.4h0m4.8 0.8h0m1.2 1.6h0m1.8 0.9h0m0.2-4.6h0m0.2 5.9h0m7.6-5.1h0m0.8-0.1h0m1.6-0.5h0m0.3 5.5h0m2.9-3.7h0m0.7 4.3h0m1.7-2.7h0m0.8 0.5h0m1.4-2.8h0m2.7 2h0m0.4-2.4h0m0.4 0.9h0m2.5-0.1h0m0.2 0.7h0m0.5 0.7h0m1 3.1h0m0.8-0.2h0m1.4-3.7h0m1.2 2.9h0m0.2-1.6h0m2.1 0.2h0m1.7-0.3h0m0.1 1.6h0m0.6-2.4h0m3.4 1.7h0m0.8-0.6h0m2-1.1h0m0.3-1h0m26.2-2.1h0m6 1.4h0m2.1-0.8h0m1.7-0.5h0m2.2 1h0m5.2-0.4h0m5.6 2.4h0m0.4-0.5h0m0.8 2.7h0m0.7-0.5h0m1.8-1h0m2-0.1h0m5.1 1.8h0m9.6-0.3h0m1.1-4.8h0m1.3 6.9h0m1.8-6.8h0m9.4 2.5h0m0.8 1.6h0m0.4 2.8h0m1.4-7.1h0m0.5 3.6h0m-203 11.8h0m4.5-3.8h0m3.6 3.7h0m60.2-4.3h0m1.3-1.8h0m0.1-1.1h0m2 3.5h0m0.1-0.1h0m11.2-0.4h0m4.4 2.7h0m7-6.1h0m3.6 3h0m67.8-3h0m2.5 0.8h0m3.6 0.7h0m1.8 0.9h0m0.4 1.7h0m2.4-0.1h0m0.4-3.6h0m0.1 6.3h0m2.9-5.3h0m0.5-1.3h0m0.7 2.9h0m0.6-1.2h0m1-1.9h0m6.4 4h0m9.1 0.1h0m1.2 3h0m4.7-2.1h0m-198 3.2h0m165.1 3.3h0m10-2.9h0m1.3 5.3h0m5.1 1.8h0m0.4-1.6h0m10.8 0.1h0m0.3 1.3h0m2.4-5.5h0m8.5-0.1h0m6.3 2.4h0m0 1.9h0m-41.4 6.2h0m5.9-2.6h0m4.1-0.6h0m26.3 1.3h0m-35.9 9h0m1-0.7h0m12.5-0.2h0m5.8-1.5h0m12.3-0.7h0m6 5h0m-40.1 4.6h0m2.9 0.4h0m0.3 5h0m3.2-3.5h0m30.8-2.5h0m1 0.7h0m-41.3 12.9h0m1.2-3.2h0m1.3 1.8h0m2.3 0.8h0m3.7-6.1h0m2.5 6.3h0m0.5-0.1h0m24.6-5.5h0m6.4 0.7h0m-208 19h0m161.1-4.7h0m7.1 1h0m2.8-0.6h0m1 3h0m4.6 3.5h0m11.4-4.4h0m-31.7 12.7h0m0.9-3.3h0m1.2 0.3h0m5.8-2.8h0m8.3 3.6h0m33.8-3.5h0m-205.9 7h0m147.5 4.7h0m11-3.4h0m2.9 2.3h0m3.8 1.3h0m0.1 2.5h0m16.8-4h0m3.9 0.2h0m5.4-3h0m-191.2 14.7h0m140.9-3.3h0m46.2 2.2h0m13.2-4.9h0m3.9 4h0m-49.5 3.9h0m11.2-0.4h0m10 0.9h0m-173.7 6h0m130.7 2.8h0m18.5-1.1h0m5.3 5.5h0m-34.8 3.9h0m6-2.8h0m10.7 2.5h0m4.1 0.1h0m10.4-2.7h0m-43.6 14.5h0m14.8-5.8h0m24 6.4h0m17.6-0.1h0m-60.7 2.6h0m62.8 5.1h0m10.4-6.8h0m19.7 3.6h0m10.2 2.6h0m-3 5.1h0m-127.2 12.2h0m3.8-4.2h0m61.7 2.1h0m-63.3 2.3h0" stroke="#111" stroke-width="1.15" stroke-linecap="square" fill="none"/>
<rect x="370.3" y="916" width="3.6" height="113" fill="#8a8a8a"/>
<rect x="245" y="915.6" width="129" height="1.8" fill="#777"/>
<rect x="144.5" y="915.2" width="230.9" height="230.7" fill="none" stroke="#8c8c8c" stroke-width="1"/>
<line x1="144.5" y1="914.7" x2="144.5" y2="1145.9" stroke="#222" stroke-width="1.1"/>
<line x1="144.5" y1="1145.9" x2="375.4" y2="1145.9" stroke="#222" stroke-width="1.1"/>
<text x="145.3" y="1162.4" font-size="8.3" text-anchor="middle" fill="#222">0</text>
<text x="189.1" y="1162.4" font-size="8.3" text-anchor="middle" fill="#222">50K</text>
<text x="232.9" y="1162.4" font-size="8.3" text-anchor="middle" fill="#222">100K</text>
<text x="276.7" y="1162.4" font-size="8.3" text-anchor="middle" fill="#222">150K</text>
<text x="320.5" y="1162.4" font-size="8.3" text-anchor="middle" fill="#222">200K</text>
<text x="364.3" y="1162.4" font-size="8.3" text-anchor="middle" fill="#222">250K</text>
<path d="M145.3 1145.9v6.5M154.1 1145.9v3.2M162.8 1145.9v3.2M171.6 1145.9v3.2M180.3 1145.9v3.2M189.1 1145.9v6.5M197.9 1145.9v3.2M206.6 1145.9v3.2M215.4 1145.9v3.2M224.1 1145.9v3.2M232.9 1145.9v6.5M241.7 1145.9v3.2M250.4 1145.9v3.2M259.2 1145.9v3.2M267.9 1145.9v3.2M276.7 1145.9v6.5M285.5 1145.9v3.2M294.2 1145.9v3.2M303 1145.9v3.2M311.7 1145.9v3.2M320.5 1145.9v6.5M329.3 1145.9v3.2M338 1145.9v3.2M346.8 1145.9v3.2M355.5 1145.9v3.2M364.3 1145.9v6.5M373.1 1145.9v3.2" stroke="#222" stroke-width="1.1" fill="none"/>
<text x="131" y="1148.7" font-size="8.3" text-anchor="end" fill="#222">0</text>
<text x="131" y="1104.7" font-size="8.3" text-anchor="end" fill="#222">50K</text>
<text x="131" y="1060.7" font-size="8.3" text-anchor="end" fill="#222">100K</text>
<text x="131" y="1016.7" font-size="8.3" text-anchor="end" fill="#222">150K</text>
<text x="131" y="972.7" font-size="8.3" text-anchor="end" fill="#222">200K</text>
<text x="131" y="928.7" font-size="8.3" text-anchor="end" fill="#222">250K</text>
<path d="M138 1145.7h6.5M141.3 1136.9h3.2M141.3 1128.1h3.2M141.3 1119.3h3.2M141.3 1110.5h3.2M138 1101.7h6.5M141.3 1092.9h3.2M141.3 1084.1h3.2M141.3 1075.3h3.2M141.3 1066.5h3.2M138 1057.7h6.5M141.3 1048.9h3.2M141.3 1040.1h3.2M141.3 1031.3h3.2M141.3 1022.5h3.2M138 1013.7h6.5M141.3 1004.9h3.2M141.3 996.1h3.2M141.3 987.3h3.2M141.3 978.5h3.2M138 969.7h6.5M141.3 960.9h3.2M141.3 952.1h3.2M141.3 943.3h3.2M141.3 934.5h3.2M138 925.7h6.5M141.3 916.9h3.2" stroke="#222" stroke-width="1.1" fill="none"/>
<path d="M284.8 1006.4 322.2 1023.7 332.1 1052.7 322.6 1083.3 221.7 1138.8 196.1 1130.5 193.7 1086.2 223.7 1040.3Z" fill="none" stroke="#111" stroke-width="1.7" stroke-linejoin="round"/>
<text transform="translate(104 1113.8) rotate(-90)" font-size="25" text-anchor="middle" textLength="74.8" lengthAdjust="spacingAndGlyphs">SSC-A</text>
<line x1="96.6" y1="1063.5" x2="96.6" y2="921.5" stroke="#000" stroke-width="1.3"/><path d="M96.6 916.7 92.6 924.7 100.6 924.7Z" fill="#000"/>
<text x="131" y="1194.6" font-size="25" textLength="71.4" lengthAdjust="spacingAndGlyphs">FSC-A</text>
<line x1="220.7" y1="1186.7" x2="365.7" y2="1186.7" stroke="#000" stroke-width="1.3"/><path d="M370.5 1186.7 362.5 1182.7 362.5 1190.7Z" fill="#000"/>
<path d="M512.4 1080.2 510.9 1080.3 509.8 1078.7 508.8 1075.2 508.4 1070.7 509.1 1057.2 509 1038.2 509.9 1032.7 511.4 1029.7 511.9 1029.8 512.4 1032.3 514.5 1062.7 514.1 1074.7 513.4 1078.4Z M512.9 1084.8 511.9 1085.2 510.9 1084.8 508.9 1081.7 507.6 1076.7 507 1070.2 507.9 1055.3 508 1031.2 509.9 1020.4 510.9 1017.7 511.9 1016.9 512.9 1017.7 513.9 1019.9 515 1026.2 514.6 1041.7 515.7 1065.7 515.1 1078.7 514.2 1082.7Z M512.9 1088.5 511.9 1088.6 510.4 1087.6 508.2 1083.7 506.7 1077.7 506 1070.2 507 1054.2 506.7 1035.7 507.2 1026.7 509 1016.2 509.9 1013.7 511.4 1012.4 512.9 1013.5 514.7 1017.7 515.8 1023.2 516.4 1029.7 515.7 1043.7 516.6 1065.2 516.5 1076.2 515.3 1084.7 514.2 1087.2Z M513.4 1091.3 511.9 1091.4 510.4 1090.4 508 1086.2 506 1079.2 505.2 1070.7 506.2 1052.2 506 1033.2 506.4 1023.2 508.3 1012.7 509.4 1010.2 510.9 1009.1 512.9 1010.4 515 1015.2 516.5 1022.2 517.2 1029.7 516.5 1045.7 517.4 1067.2 517.2 1078.7 515.9 1087.3 514.9 1089.8Z M513.9 1093.8 512.4 1094 510.9 1093.2 507.7 1088.2 505.6 1080.7 504.5 1071.2 505.6 1051.2 505.3 1031.7 505.8 1020.7 507.6 1010.2 508.9 1007.4 510.4 1006.3 511.4 1006.4 512.9 1007.9 515.2 1013.2 517.1 1021.7 517.9 1030.2 517.3 1047.2 518.1 1069.2 517.8 1080.7 516.5 1089.7 515.4 1092.3Z M513.9 1096.3 512.4 1096.2 510.4 1094.8 507.1 1089.2 504.8 1080.2 503.8 1070.2 505 1050.2 504.6 1029.2 505.2 1017.7 507.2 1007.2 508.9 1004.4 510.4 1003.8 512.9 1005.8 515.6 1012.2 517.6 1021.2 518.6 1031.2 517.9 1048.7 518.7 1070.2 518.5 1082.2 516.9 1092.2 515.4 1095.2Z M514.9 1098.2 512.9 1098.4 510.9 1097.2 507.3 1091.7 504.6 1082.7 503.2 1071.2 503.2 1063.2 504.4 1048.7 504 1027.7 504.6 1015.7 506.6 1005.2 507.9 1002.7 509.9 1001.5 511.4 1002.1 512.9 1003.8 515.7 1010.2 518.1 1020.7 519.1 1030.7 518.6 1050.2 519.3 1071.2 519.1 1083.2 517.6 1093.7 516.4 1096.6Z M515.4 1100.3 513.4 1100.6 511.4 1099.5 509.3 1097.2 507.1 1093.2 504.1 1083.2 502.7 1071.7 502.7 1063.2 503.8 1047.7 503.5 1026.2 504.1 1013.7 506.1 1003.2 507.4 1000.6 509.4 999.3 510.9 999.8 512.4 1001.3 515.7 1008.2 518.1 1018.2 519.6 1030.2 519.2 1051.2 519.9 1071.7 519.7 1084.2 518.2 1095.2 516.9 1098.6Z M514.9 1102.7 512.9 1102.3 510.4 1100.3 506.5 1093.7 503.7 1083.7 502.2 1071.7 502.1 1062.7 503.3 1046.7 503 1025.2 503.5 1012.2 505.5 1001.2 506.9 998.5 508.9 997.3 510.4 997.7 512.4 999.6 516.1 1007.7 518.7 1018.7 520.1 1031.2 519.7 1051.7 520.4 1074.2 520.1 1086.7 519.3 1094.2 518.2 1098.7 516.9 1101.4Z M515.4 1104.8 513.4 1104.4 510.9 1102.4 508.7 1099.7 506.7 1095.7 503.6 1085.7 501.7 1071.7 501.6 1062.2 502.8 1046.2 502.4 1023.7 503.1 1010.2 505.1 999.2 506.4 996.6 508.4 995.3 510.4 995.9 512.4 998 516.2 1006.2 519.1 1018.7 520.5 1031.2 520.3 1053.7 521 1076.7 520.6 1088.2 518.8 1100.2 517.4 1103.4Z" fill="none" stroke="#3a3a3a" stroke-width="0.7" stroke-linejoin="round"/>
<path d="M499.3 991.4h0m5.8 0.5h0m2.7-1.3h0m2.2 0.3h0m5.9 0.9h0m-13.1 6.4h0m0.3-5.5h0m0.4 0.1h0m0.2 2h0m0.2 3.6h0m0-3.4h0m2 2.1h0m0.3-2.9h0m4.6 1.6h0m2.2-3.1h0m1.5 0.3h0m1.1 6.4h0m0.7-1.7h0m5.6-1.1h0m-24.4 11.1h0m1.6-2.4h0m1.2 1.8h0m0.5 0.7h0m2-4.9h0m13.8 1.8h0m1.1 1.7h0m0.3-5.7h0m0 7h0m0.3-7h0m0.9 2.4h0m0.9 4.4h0m-23.4 0.9h0m1.5 0.7h0m1 2.2h0m1.4-1.1h0m0.5 0.6h0m0.4 4.1h0m0.6 0h0m0.6-3.6h0m14.1-2.6h0m0.4 1.5h0m0.6 2.1h0m0.4-0.4h0m1.9 2.5h0m-23.8 7.2h0m0.9-4.3h0m1.2-0.2h0m1 2.5h0m0.5-1.3h0m0.2-2.2h0m0 5.7h0m0.7-1.1h0m0 0.5h0m0.5 2.5h0m1.1-6.7h0m17.8 5.9h0m0.2-6.2h0m1.3 6.2h0m1.4-0.9h0m2.2-3.7h0m4.4 4.6h0m10-2.7h0m14 1h0m-57.7 6.1h0m1.1-3.1h0m1.6 7.2h0m0-1.6h0m1.4-4.3h0m0 2.9h0m0.4-2h0m0.8 1.6h0m0.1 0h0m0.1-2.2h0m0.2-1.5h0m0 7h0m0.2 0h0m0.2-0.9h0m0.1-5.8h0m0.1 6.3h0m0.2-1.4h0m0.1-3.4h0m17.7 3h0m0.3-1.6h0m0.1 3.7h0m0.1-4.3h0m1.1-2.6h0m0.3 6.2h0m1.7-5.7h0m0.6 3.6h0m0.1 3.2h0m5.6-0.1h0m4.1-6.6h0m1.3 0.5h0m2.4-0.4h0m5.1 3.1h0m1.7 1.5h0m1.8-3.7h0m9 1.9h0m8.5-2.2h0m-66.7 10.2h0m1 2h0m0.1-0.6h0m1.1-2.9h0m1.1 0.1h0m0.4-0.4h0m0.3 4.6h0m1.1-1.5h0m18.5 0.6h0m0.3-0.5h0m1.7-2.1h0m1.1 1.4h0m0.2-3h0m0.7 5.3h0m0.4-3.1h0m1.4-1.6h0m1.3 3.1h0m0.7-3.1h0m0.7 0.1h0m3.1 1.6h0m3 3.1h0m1.1-2.6h0m2.3 0.3h0m0.1 1.6h0m0.9 0.9h0m1.3-2h0m1.2 2.6h0m1.2-4.2h0m4.1 3.6h0m3.2-6h0m1.5 3.4h0m11.2 1.1h0m8.1-0.2h0m1.9 1.3h0m-76.5 7h0m0.4-2.9h0m0.6-2.5h0m1.1 1.1h0m1.4 4.1h0m0.6 1.2h0m0.1-4.8h0m0.2 5.9h0m0.3-3.2h0m0.2-2.9h0m18.1 5.6h0m0.4-0.3h0m0.2-4.3h0m0.2-2.3h0m0 6.4h0m0.1 0.7h0m0.4-3.7h0m0.4-1.3h0m0 4.5h0m0.2-5.5h0m0.2 3.2h0m0.3-4.2h0m0.1 0.5h0m0.1 3.8h0m0.3-2.9h0m1.2 1.5h0m0.7-2.6h0m0 2.6h0m0.3 2.8h0m1.3-0.5h0m0.2 1.6h0m0.1-2.5h0m1.8 0.5h0m0.3 2.2h0m0.7-2.3h0m0.1-2.6h0m0 2.1h0m2-1.5h0m0.1 2.4h0m4.1-0.3h0m1.5-1.1h0m0.4 1.1h0m0.9-2.3h0m1.5 0h0m0.7-0.2h0m0.2 1.3h0m0.9 0h0m0.9-0.8h0m0.8 0.6h0m0-3h0m1 3.5h0m0.4 2.4h0m1.3 0.5h0m0.3-1.1h0m2.8 1.6h0m0.7-1.4h0m0.5-1.8h0m0.1 0.4h0m3.3 2.9h0m0.5-0.4h0m0.2-2h0m7.1 2.5h0m4-3.9h0m0.5-2.6h0m17.4 2.2h0m-86.3 12.1h0m3.2-2.2h0m0.2-1.8h0m0-3.2h0m0.1 0.7h0m0.8 5.6h0m0-4.6h0m0.1 3.3h0m0.4-0.7h0m18-1h0m0.2-3.4h0m0.2 7.5h0m0-0.6h0m0.2-6.3h0m0 3.5h0m0.2-3.7h0m0 6.3h0m0.1-0.5h0m0.2-0.4h0m0-4.3h0m0.1 2h0m0-0.1h0m0.3 1.1h0m0.4 1.6h0m1.9-2.8h0m0.1 3.4h0m0.4-7h0m1.8 5.2h0m0.1 1.5h0m0-0.2h0m0.3-1.9h0m0.1-3.9h0m0 0.6h0m0.4 2.4h0m0.2-1.6h0m0.5 0h0m0.2 4h0m1.3-4.6h0m0 2.3h0m1-1.9h0m0.8 5.3h0m0.1-3.3h0m0.6-0.3h0m0.5-2.4h0m0.6 2.4h0m0.2-2.5h0m0.6-0.4h0m0 1.3h0m0.6 5.3h0m0.5-4.4h0m0.6-2.8h0m1.8 4.9h0m0.2-1.1h0m0.1 0h0m1.2-0.1h0m3.9-0.3h0m1.3 3.1h0m0.8-5.4h0m0.2 2.6h0m1.6-2.8h0m0.2-0.8h0m2.3 7.6h0m2.6-3.2h0m0.8-3.3h0m2.7 3.1h0m0.3-0.1h0m0 1.7h0m0.3-3h0m0.8 3.6h0m3-1.6h0m7-1.3h0m1.7-1.7h0m5.6 5.4h0m3.2 0.3h0m0.1-1.2h0m6.6-5.2h0m-87 11.9h0m1.2-5.3h0m0.1 6.6h0m0.1 0.8h0m0.2-5h0m0.3 1.9h0m0.1-1.6h0m21.8 2.8h0m0.2-2.1h0m0.2 1h0m0 0.1h0m0.1-3.8h0m0.2 4.5h0m0.1-2.3h0m0 3h0m0.4-4.2h0m0-1h0m0.1-0.6h0m0.1 5.9h0m0.6-3.3h0m0 1.3h0m0.2 0.9h0m0.2 2.5h0m0.4-4.4h0m0.1 0.8h0m0.3-1h0m1 2.3h0m0.5 1.5h0m0-5.3h0m0.3 5h0m1-6.1h0m0.8 1.2h0m0.3 4.8h0m0.2-2h0m0.1-1h0m0.3 0.4h0m0.8 0.7h0m0.8-0.3h0m0.4-2.8h0m0.3-0.6h0m0.6 4.2h0m0.6 0.3h0m0.5 1.9h0m0.2-1.1h0m0.6-2.6h0m0 2.3h0m1.7-1.2h0m0.6 0.8h0m0.6-4h0m0.1 0.7h0m0.1 5.7h0m1.1-0.5h0m0.9-5.5h0m0 3.4h0m0.9 2.7h0m0.2-3.2h0m1.3 1.8h0m0.1 0.9h0m0.1-6.2h0m0.3 6.7h0m0.9-6.2h0m0.3 1.7h0m0.4 1.3h0m1.1-1.2h0m1.6 3.9h0m0-1.3h0m0.5 1.6h0m0.5-2.1h0m0.4-2.3h0m0.4 3.4h0m0.2-1.1h0m0.7 0.9h0m1.7-0.4h0m2.1-5h0m0.4-0.4h0m1.2 4.5h0m0.6 1.3h0m0.9-2h0m1.7-1.8h0m0.3 4.3h0m1.7-6.1h0m0.3 1.7h0m0.1-0.5h0m3.6 3.8h0m1.4 1.4h0m5.4 0.5h0m1.2-0.1h0m3.8-3.4h0m-77.7 10.8h0m0.6-6.8h0m0.9 1.9h0m0.2-1.3h0m0.5 6h0m0.9-6.1h0m0 0.5h0m0.8-0.5h0m0.3 5.2h0m0-3.9h0m0.2 2.3h0m19.4 1.9h0m0.1 0.3h0m0.1-1h0m0.1-4.8h0m0.1 3.6h0m0.1-0.9h0m0.3-1.2h0m0.2 5.5h0m0-5.6h0m0 4.8h0m0.3-3h0m0-1h0m0.4 0.7h0m0.1 3.4h0m0.1-0.1h0m0.2-3.9h0m0.1-1.1h0m0.1 0.8h0m0.2-0.8h0m0.3 4.4h0m0.9-6.3h0m0.2 1.5h0m0.6-0.2h0m0 3.4h0m0.4-0.2h0m0-3.5h0m0.2 1.3h0m0.2-0.2h0m0.1 5h0m0.1-4h0m0.2-2.2h0m0.5 4.2h0m0.1-0.1h0m0.6 0.1h0m0.3 0.9h0m0.1-4.1h0m0.1 0.6h0m0.7 1.1h0m0.3 1.5h0m0.5 0h0m0.1-1.2h0m0 1.6h0m1.2 1.6h0m0.7 0.8h0m2.2-3.4h0m0.5-1h0m0.5-3.3h0m0.1 3.2h0m0.8-1.8h0m0.7 3.8h0m0.3-2h0m0.1 0.7h0m0 0.6h0m0.7 2.8h0m0.3-6.3h0m0.2 0.3h0m0.5 1.4h0m1.5-2.5h0m0.5 0.6h0m0.3-0.9h0m0.1 5.5h0m0.9 1.3h0m0.5-2.6h0m0.8-3.1h0m0.6 4.9h0m0.2-5h0m0.3 0.3h0m0.1 5.2h0m0.7-2h0m0.1-4h0m1.2 0.3h0m0.3 2.4h0m2.9-2.2h0m0.9 4.6h0m0.4-1.9h0m0.3 1.5h0m0.7-2.3h0m0.2-2.2h0m2.6 6.5h0m0-2.8h0m0.3-1.4h0m1.1-2.4h0m0.6 5.9h0m1.9-4.7h0m1.8 0.2h0m0.2 2.3h0m1.5-1.9h0m0.6 2.6h0m0.7-0.4h0m1.2 0h0m14.8 1.5h0m-85.7 8.7h0m6.4-4.2h0m0.6 3.6h0m0.6 0.4h0m0.1-6.3h0m0.3 3.7h0m0.2-0.3h0m0 1.7h0m19.5-1.4h0m0.2-3h0m0.1 1.4h0m0 2.1h0m0-1.4h0m0.3 4.7h0m0.1-1.2h0m0-1.8h0m0.2-4.2h0m0 5.1h0m0.1-2.2h0m0.1 2.4h0m0.1-5.3h0m0.2-0.1h0m0.3 5.8h0m0.1-0.7h0m0.7 1h0m0.4-4.6h0m0.9-0.9h0m0.2-0.8h0m1 6.8h0m0.3-5.8h0m0.8 4.5h0m1.8-0.5h0m0.1-5.4h0m0.1 3.3h0m0-1.6h0m0.2 1.9h0m0.2-0.3h0m0-1h0m5.9 3.4h0m0.6 0.5h0m0.8 0.1h0m0.7-1.4h0m1-4.5h0m1.9 1.6h0m0.8 5.9h0m0-1.5h0m0.9 0.7h0m1.2-4.5h0m0.8-1.4h0m0.4-0.8h0m1.6 1.2h0m0.2 4.6h0m0.3-4h0m0.2-2h0m0.8 2h0m0.3 5.1h0m0.1-3.7h0m0.9 3.1h0m0 1h0m1.9-0.8h0m0.3-2.9h0m0.6-1.9h0m0.4-0.1h0m1 3.3h0m0.8-1.1h0m1.2-3.2h0m2.6 4.9h0m0.9-4.8h0m0.2 4.9h0m0.1-1.6h0m2.9-0.3h0m1.2 0.7h0m1.3 1.9h0m0.7-1h0m3.2-0.9h0m1.3-3.9h0m5.7 7h0m-76.4 5h0m0.8 1.1h0m0-3.6h0m1.4 0.8h0m1 2.8h0m0.7-2.6h0m1 3.8h0m16.8-3.5h0m0.1 0.5h0m0.2 3.3h0m0.3-4.4h0m0.4 1h0m0 3.2h0m0.6-2.4h0m0.2 2.1h0m0.3 0.1h0m0.5-1.7h0m0.5-2.7h0m1.6 3.4h0m0.1-2.4h0m0.3 0.1h0m0.4 0.4h0m0.3 1.5h0m0.4-3.6h0m0.1 2.4h0m0 1.3h0m0.4-1h0m0.9 2.9h0m0.5-4.3h0m0.1-1.9h0m2.3 5.9h0m0.2 0.4h0m1.2-7.2h0m0.2 1.7h0m0.2 5.2h0m0.1-3.3h0m0.1-3h0m0.2 6.6h0m0.2-2.3h0m1.5-3.2h0m0.1 2.8h0m0 1.2h0m0.2-2.2h0m0.2 0.8h0m0.1 2.4h0m1.3-0.8h0m0.9-5.4h0m1.1 0.4h0m0 5.7h0m0.9-3.8h0m1.6 2.9h0m0.1 1h0m2.2-1.1h0m1.6-1.5h0m0.3 1.4h0m0.2-1.4h0m1 0h0m0.5-1.7h0m0.4 0.9h0m0.2-2.4h0m1.2 0h0m2 3.5h0m1.6-0.6h0m0.1 2.4h0m0.7-4.8h0m0.5 3.6h0m0.2-4.3h0m0.6-1.2h0m0.1 5.8h0m0.2 0.6h0m1.3 1.1h0m0.5-2.9h0m0.7-2.1h0m0.8 4.1h0m0.6-5.9h0m0.3 1.8h0m1.4-1.1h0m1.4 2.7h0m0.8 1.2h0m1.4 0.4h0m0.2-5.7h0m4.7 0.2h0m3 1.1h0m1.1-1.1h0m0.4 2.9h0m2.1-0.7h0m4.5 4.5h0m-77.8 3.2h0m2.7 4.6h0m0.7 0.3h0m14.5-2.4h0m0.8-2.1h0m0.1 1.1h0m0.2 2h0m0.5 1.3h0m0.2 0.2h0m0.2-2.2h0m1.3-2.7h0m0.4 2h0m0.5-1.8h0m2-1.5h0m0.3 5.5h0m0.1-5.2h0m0.2 2.1h0m1.6-0.6h0m0.2-1.9h0m0.1 0.4h0m7.4 0.7h0m1 3.1h0m3.9-3.2h0m0 5.9h0m0.2-3.4h0m1.2 0.6h0m1-1.7h0m0.2-1.7h0m2.3 4.5h0m0.4-4.1h0m1.3-1.6h0m3.4 6.3h0m3.9 0.2h0m1.3-6.7h0m1.9 2.3h0m4.6-0.5h0m0.8-1.9h0m15.5 7.6h0m-77.8 6.7h0m2.2 0.5h0m0.5-0.1h0m1.5-3.8h0m2.4 2.3h0m1.5 2.5h0m7.7-0.9h0m0.7-1.2h0m1-3.4h0m0.2 2.4h0m0.4 2.2h0m0.9-6h0m0.7-0.2h0m1.5 2.5h0m0 4.1h0m0.7-6.1h0m0.3-0.9h0m1.2 4.4h0m2.7 2.8h0m1.1-1.2h0m1.7-2.7h0m1.8 1.2h0m4.9-3.8h0m0.2 0.5h0m3.4 0.8h0m3.4 1.4h0m0.1 0.4h0m6.3 3.5h0m3.6-6h0m1.9 4.4h0m11.7-4.8h0m9.9 5.9h0m-69.7 8.8h0m1.4-1.8h0m0.3-5.1h0m1.8 0.5h0m1-0.4h0m0.1-0.8h0m0.3 0.2h0m0.5 6.3h0m0.7-5.3h0m3.4-1.1h0m0.5 2.5h0m0.7 0.3h0m0.4 3.8h0m0.1-2.9h0m0.2 1.2h0m0-0.3h0m0.8 1h0m0.7-5.6h0m1.4 5h0m0.7 1.5h0m4.5-1.2h0m0.1 0.8h0m3.4 0.9h0m1.9-3.6h0m13.9-1.4h0m1.5 3.3h0m4.4-4.2h0m14.3 6.1h0m-67.2 2.2h0m2.4-1.7h0m3.4 1.4h0m1.3-0.6h0m12.2 0.3h0m5-1.1h0m0.7 1.4h0m18.3 1h0m5-1.2h0" stroke="#111" stroke-width="1.15" stroke-linecap="square" fill="none"/>
<rect x="441.9" y="915.2" width="231" height="231" fill="none" stroke="#8c8c8c" stroke-width="1"/>
<line x1="441.9" y1="914.7" x2="441.9" y2="1146.2" stroke="#222" stroke-width="1.1"/>
<line x1="441.9" y1="1146.2" x2="672.9" y2="1146.2" stroke="#222" stroke-width="1.1"/>
<text x="442.5" y="1162.7" font-size="8.3" text-anchor="middle" fill="#222">0</text>
<text x="486.2" y="1162.7" font-size="8.3" text-anchor="middle" fill="#222">50K</text>
<text x="530" y="1162.7" font-size="8.3" text-anchor="middle" fill="#222">100K</text>
<text x="573.8" y="1162.7" font-size="8.3" text-anchor="middle" fill="#222">150K</text>
<text x="617.5" y="1162.7" font-size="8.3" text-anchor="middle" fill="#222">200K</text>
<text x="661.2" y="1162.7" font-size="8.3" text-anchor="middle" fill="#222">250K</text>
<path d="M442.5 1146.2v6.5M451.2 1146.2v3.2M460 1146.2v3.2M468.8 1146.2v3.2M477.5 1146.2v3.2M486.2 1146.2v6.5M495 1146.2v3.2M503.8 1146.2v3.2M512.5 1146.2v3.2M521.2 1146.2v3.2M530 1146.2v6.5M538.8 1146.2v3.2M547.5 1146.2v3.2M556.2 1146.2v3.2M565 1146.2v3.2M573.8 1146.2v6.5M582.5 1146.2v3.2M591.2 1146.2v3.2M600 1146.2v3.2M608.8 1146.2v3.2M617.5 1146.2v6.5M626.2 1146.2v3.2M635 1146.2v3.2M643.8 1146.2v3.2M652.5 1146.2v3.2M661.2 1146.2v6.5M670 1146.2v3.2" stroke="#222" stroke-width="1.1" fill="none"/>
<text x="428.4" y="1148.8" font-size="8.3" text-anchor="end" fill="#222">0</text>
<text x="428.4" y="1104.8" font-size="8.3" text-anchor="end" fill="#222">50K</text>
<text x="428.4" y="1060.9" font-size="8.3" text-anchor="end" fill="#222">100K</text>
<text x="428.4" y="1016.9" font-size="8.3" text-anchor="end" fill="#222">150K</text>
<text x="428.4" y="973" font-size="8.3" text-anchor="end" fill="#222">200K</text>
<text x="428.4" y="929" font-size="8.3" text-anchor="end" fill="#222">250K</text>
<path d="M435.4 1145.8h6.5M438.7 1137h3.2M438.7 1128.2h3.2M438.7 1119.4h3.2M438.7 1110.6h3.2M435.4 1101.8h6.5M438.7 1093.1h3.2M438.7 1084.3h3.2M438.7 1075.5h3.2M438.7 1066.7h3.2M435.4 1057.9h6.5M438.7 1049.1h3.2M438.7 1040.3h3.2M438.7 1031.5h3.2M438.7 1022.7h3.2M435.4 1013.9h6.5M438.7 1005.2h3.2M438.7 996.4h3.2M438.7 987.6h3.2M438.7 978.8h3.2M435.4 970h6.5M438.7 961.2h3.2M438.7 952.4h3.2M438.7 943.6h3.2M438.7 934.8h3.2M435.4 926h6.5M438.7 917.3h3.2" stroke="#222" stroke-width="1.1" fill="none"/>
<path d="M497.1 974.7 522.1 977.1 516.4 1118.6 491.6 1113.7Z" fill="none" stroke="#111" stroke-width="1.7" stroke-linejoin="round"/>
<text transform="translate(401 1114.7) rotate(-90)" font-size="25" text-anchor="middle" textLength="72.9" lengthAdjust="spacingAndGlyphs">FSC-H</text>
<line x1="393.6" y1="1064.4" x2="393.6" y2="920.4" stroke="#000" stroke-width="1.3"/><path d="M393.6 915.6 389.6 923.6 397.6 923.6Z" fill="#000"/>
<text x="428.1" y="1194.4" font-size="25" textLength="78.9" lengthAdjust="spacingAndGlyphs">FSC-W</text>
<line x1="517.8" y1="1186.2" x2="662.7" y2="1186.2" stroke="#000" stroke-width="1.3"/><path d="M667.5 1186.2 659.5 1182.2 659.5 1190.2Z" fill="#000"/>
<path d="M804.9 1121.7 803.4 1121.3 801.9 1119.3 800.8 1115.7 800.3 1111.7 800.8 1107.2 803.1 1099.2 802.7 1079.7 803.4 1075.3 804.4 1074.6 806.4 1078 807.9 1084.2 809.1 1092.7 809.6 1101.2 809.3 1108.7 808.4 1115.4 806.9 1119.8Z M809.9 1062.7 809.3 1061.2 809.4 1058.7 810.3 1060.7Z M805.9 1125.3 803.4 1124.9 801.4 1122.3 799.7 1117.7 798.9 1111.7 799.2 1106.2 801.7 1095.7 801.4 1072.7 802.3 1068.7 803.4 1067.5 804.4 1067.9 805.7 1069.7 807.7 1075.7 809.8 1087.7 810.9 1100.7 810.9 1110.2 810 1117.7 808.3 1122.7Z M805.9 1128.3 804.4 1128.1 802.9 1127.2 800.1 1122.7 798.3 1115.7 797.8 1108.7 798.3 1104.2 800.6 1094.2 800 1074.7 800.7 1066.2 801.4 1063.7 802.4 1062.3 805.4 1062.6 806 1062.2 807.2 1053.2 808.4 1050.9 809.4 1051.3 810.9 1054.2 812.5 1062.7 812.1 1068.7 811.4 1070.6 809.9 1072.3 809.4 1074.7 811.7 1097.7 812.1 1111.2 811.5 1118.2 810.3 1123.2 808.4 1126.7Z M805.9 1130.7 803.9 1130.2 802.4 1129 799.6 1124.2 797.6 1116.7 796.9 1107.7 799.6 1092.2 799.1 1072.2 799.9 1062.2 801.4 1058.2 804.4 1056.6 806.6 1048.7 807.4 1047.4 808.4 1047.1 809.9 1048.6 811.5 1052.2 813.5 1063.2 813.4 1070.7 811.4 1076.8 811.1 1079.7 812.8 1100.7 813 1113.2 812.4 1120.7 811 1126.2 808.9 1129.4Z M807.4 1132.7 805.4 1132.8 803.4 1131.9 801.4 1129.7 799.7 1126.7 797.1 1118.2 796.1 1108.2 796.6 1102.2 798.8 1091.2 798.2 1070.2 799 1059.2 800.4 1055 803.7 1052.2 806 1045.7 806.9 1044.4 807.9 1044.1 808.9 1044.7 810.4 1046.8 812.5 1052.7 814 1060.7 814.5 1068.2 814.1 1073.2 812.2 1082.7 813.8 1106.2 813.5 1120.7 812.7 1125.7 811.5 1129.2 809.9 1131.4Z M807.9 1134.8 805.4 1134.7 803.4 1133.7 801.4 1131.6 799.4 1128.2 796.6 1119.2 795.4 1108.2 795.8 1101.7 798 1089.7 797.4 1068.2 798.2 1056.7 799.9 1051.5 802.9 1049 805.8 1042.7 807.4 1041.6 808.4 1042 809.9 1043.7 812.7 1050.7 814.6 1060.2 815.2 1068.7 814.8 1074.7 813.1 1084.7 814.7 1108.7 814.2 1123.2 813.4 1128.2 812.1 1131.7 810.4 1133.7Z M808.9 1136.7 806.4 1136.7 803.9 1135.7 801.7 1133.7 799.5 1130.2 796.1 1120.2 794.8 1108.7 795.1 1101.2 797.3 1088.7 796.7 1066.2 797.6 1053.7 799.4 1048.3 802.4 1045.8 805.4 1040.4 806.9 1039.4 808.4 1039.9 809.9 1041.8 812.6 1048.2 814.8 1057.7 815.8 1068.7 815.6 1075.2 814 1086.2 815.4 1109.7 815 1124.2 814.2 1129.7 812.9 1133.6 811.3 1135.7Z M809.9 1138.7 806.4 1138.4 803.9 1137.3 801.4 1134.8 799.1 1131.2 795.6 1120.7 794.2 1108.7 794.5 1100.7 796.6 1088.2 796 1064.2 797 1051.2 798.9 1045.4 802.4 1042.5 805.4 1038 806.9 1037.4 808.4 1038.1 809.9 1040 813.1 1047.7 815.2 1057.2 816.3 1068.7 816.2 1076.2 814.7 1087.7 816.1 1111.7 815.8 1125.7 814.9 1131.7 813.6 1135.7 811.9 1138Z M811.4 1140.8 807.9 1140.5 804.4 1139.1 801.9 1136.9 799.6 1133.7 797.5 1129.2 795.6 1123.2 793.7 1109.7 793.8 1101.2 795.9 1086.9 795.3 1063.7 796.3 1049.7 798.5 1042.7 802.4 1039.6 804.9 1036.3 806.4 1035.5 807.9 1036 809.4 1037.6 812.7 1044.7 815.2 1054.7 816.8 1067.7 816.8 1076.2 815.5 1089.2 816.7 1111.2 816.6 1125.7 814.7 1136.7 813.4 1139.3Z M812.4 1142.9 809.9 1142.9 804.9 1140.8 802.3 1138.7 799.7 1135.2 797.1 1129.7 795.2 1123.7 793.2 1110.2 793.3 1100.7 795.2 1086.2 794.6 1062.2 795.7 1047.7 796.8 1042.7 798.3 1039.7 801.9 1037.4 804.4 1034.7 805.9 1033.8 807.4 1034.1 809.4 1036.1 812.7 1043.2 815.7 1054.7 817.2 1067.2 817.3 1076.7 816.2 1090.2 817.4 1111.7 817.2 1126.7 815.5 1138.2 814.2 1141.2Z" fill="none" stroke="#3a3a3a" stroke-width="0.7" stroke-linejoin="round"/>
<path d="M791.1 1031.4h0m6.5-0.7h0m1.5 0.2h0m6.7 0.1h0m-15.1 3.7h0m1.5 2.8h0m1.5 2.3h0m5.3-6.2h0m0.1-1.1h0m0.3 6.2h0m1.1-2.9h0m0.6-1.7h0m0.3 2.7h0m1-2.5h0m1.8-1h0m2.7-0.1h0m1.2 1h0m0.3-1.4h0m0.1 1.3h0m0.9 0.3h0m1.8 4.8h0m-24.6 8.1h0m1.9-5.5h0m4.5 5h0m0 0.6h0m1-4.1h0m0.3 2h0m1.1-2.7h0m0.7-0.3h0m0.2 1.5h0m-8.4 10.7h0m0.1-2h0m4 1.5h0m0.6-2.9h0m0.1 4.2h0m0.3-3.6h0m0.2 1.5h0m1.5-2.8h0m0.1-1.5h0m0.2 1.9h0m19.6-2.5h0m1.1 4.3h0m-28.5 9.8h0m1.7-3.8h0m2.7 1.6h0m0.8 0h0m1.5-2.4h0m23 1.7h0m1.5-1.6h0m5.1 4.3h0m6.6-2.2h0m17 2h0m-58.3 2.3h0m1.9 7h0m0.5-3h0m0.2 3.5h0m0.7-1.3h0m0.2-2.7h0m2.1-3.1h0m0.1 4.7h0m0.1-2.9h0m24.5 4.4h0m1.1-1.5h0m1.1-2.4h0m6.6 3.4h0m2.5-2.4h0m17.7-0.9h0m-60.9 5.2h0m0.6 3.8h0m1.6-0.7h0m2 1.5h0m0 0.9h0m1.3-0.8h0m0.4-3.3h0m0.4 0.2h0m0.1 4.6h0m0.8-1.5h0m0.2-1.8h0m0.2 2.4h0m0.2-0.8h0m22.2-0.9h0m0.2 0.3h0m0.2-0.4h0m2 1.9h0m0.9 1.3h0m0.2-2.3h0m1 1.8h0m1.7-0.9h0m2.8-4.1h0m17.4 4h0m2.8-4h0m5.8 6h0m8.9-1.1h0m-75 8.5h0m2.7-3.3h0m1 0.2h0m1.8 0.5h0m1.2-3.2h0m0.3 0h0m0.2 0.5h0m1-0.8h0m0.1 5.3h0m0.2-4.1h0m0.4-1.3h0m21.8 5.3h0m0.9 0.2h0m0.2-1.8h0m0.6-2.6h0m0.5 1.7h0m0.1-0.8h0m0.1 4.7h0m1.1-0.7h0m0.5-2h0m0.2-1.9h0m1.1 5h0m0.3-1.4h0m0.3 1h0m0.2-6.6h0m0.2 3.6h0m0.2 0.5h0m0.6-0.1h0m1.3-1.6h0m0.3 1.4h0m0.5 0.3h0m0.4-1.9h0m0.2 2.1h0m1-0.9h0m0.3-0.2h0m2 2.4h0m0.2-1.6h0m0.3-4.4h0m1.8 5.8h0m3.2-3.4h0m1.1 2.6h0m0-0.1h0m4.6 1.8h0m3-3.1h0m0.5 1.1h0m2.4 0.7h0m2.6-1.8h0m7.7-2.9h0m7.9 1h0m0.2 5.1h0m-79.1 1.3h0m1.5 2.6h0m1.2-1.8h0m3.9 3.3h0m0.2-0.4h0m0.3-2.8h0m0.1 2.3h0m0.1 3.4h0m0-5.9h0m0.4 1.6h0m0.1 4.4h0m0.2-6.2h0m0.2 2.4h0m0.5-2h0m21.7 3.9h0m0.2-2.5h0m0.1 3.9h0m0.1 0.4h0m0.1-3.1h0m0.5 2.8h0m0.4-6h0m0.1 2.9h0m0.2-1.3h0m0 3.7h0m0.1-4.6h0m0.6 5.8h0m0.8-6.3h0m1.7 2.7h0m0.9 3.6h0m0.5-4.5h0m0.6 1.2h0m0.3-0.2h0m0.8 0.6h0m0.7-4.1h0m0.6 6h0m0.3 0.7h0m0-2.1h0m0.3 0.4h0m0.5 0.9h0m1.5 1.1h0m0-4h0m0.4-0.6h0m4.3 3.5h0m0.5-2.8h0m0.9 2.1h0m0.6-3.4h0m0.2 3.8h0m0.7-0.3h0m0.2 0.3h0m0.5 1.8h0m0.8-7.4h0m0.8 6.5h0m1.3-1.8h0m0.6 2.7h0m0.1-5.1h0m2.7 4h0m2.9 0.6h0m1.7-0.6h0m1.3 0.1h0m0.7-3h0m4.5-1h0m4.7 1.8h0m4.2 1.1h0m14.9-4.7h0m-87.9 12.8h0m0.2 2.1h0m0.8-7.4h0m0.8 4.1h0m0.6 3.2h0m0.1-6.6h0m0.7 0.2h0m23.3 0.4h0m0 4.7h0m0.1-5h0m0.1 4.3h0m0.1-2.7h0m0.1-1.8h0m0 5.2h0m0.2-0.8h0m0.1-4h0m0.1 6.1h0m0.1-4.2h0m0-3.2h0m0.3 2.5h0m0 3.5h0m0.1-2.3h0m0.1 1.9h0m0 1.4h0m0.3-0.6h0m0.7-5h0m0.3 0.8h0m0.3 3.4h0m1.2-1.5h0m0.3-3.2h0m0.2 5h0m0.1-2.6h0m0.4 2.9h0m0.6 0.2h0m0.1 1.1h0m0-3.4h0m0.2-2.1h0m0 3h0m0-4.8h0m0.2 1.9h0m0.4 3.7h0m0.1-1h0m0.9-1.1h0m0.4 1.9h0m1.1 1.5h0m0-0.7h0m0.5 1.1h0m0-6.5h0m0.8 5.9h0m0.7-1.6h0m0.1-4.2h0m0.5 2.9h0m0.2 0h0m0.9 2h0m0.1-4.8h0m0.4 5.7h0m0.1 0.6h0m0.3-3.5h0m1-1.6h0m0.4-1h0m0.7 6h0m0.2-4.1h0m0.8-0.8h0m1 1.3h0m1.3-3.1h0m0.1 0.2h0m0.2 0.9h0m0.8 3.2h0m0.1 1.9h0m0 0.1h0m1.6-1.8h0m0.1-1.8h0m0.7 3.4h0m1.2-2.2h0m1.2 1.9h0m0.1-1.9h0m0.2-0.2h0m0.3-3.8h0m1.1 2.4h0m0.7 0.9h0m2.7-2.9h0m2.3 2.6h0m0.9-2.5h0m0.7 5.5h0m3.5-1h0m0.1-4.5h0m0.4-1.4h0m6 7.9h0m0.8-4.7h0m6.9 4.8h0m-80.7 2.6h0m2 1.9h0m1.9-2.5h0m0.3 3.1h0m0.3-0.6h0m0.4-2.8h0m24.4 3h0m0-0.1h0m0.1-4.2h0m0.3 5.5h0m0-2.1h0m0.3-0.1h0m0.1 4.1h0m0.6-1.1h0m0.1-6.1h0m0.1 5.8h0m0.7-0.7h0m0.6 1.3h0m0.3-6.8h0m0.1 0.2h0m0.1 4.1h0m0.5 3.1h0m0.8-4.6h0m0.5-0.8h0m0.3 0h0m0.5 5.4h0m0.7 0.1h0m1.5-3.5h0m0.1 3.7h0m0.5-6.8h0m0 0.6h0m0.4-0.7h0m0.1 6.4h0m0.6-1.2h0m0.5 1.1h0m1.7-6.6h0m0.3 4h0m0.1 1.6h0m0-5.5h0m1.6 4.7h0m0.7 2h0m0.5-6.7h0m0 1.5h0m0.1-1.9h0m1.2 0.2h0m0.5 3.3h0m1 0.8h0m0.4-4.1h0m1.5 7.3h0m0.5-1.8h0m0.4-4.7h0m0.2-1.2h0m0.2 2.2h0m0.8-0.2h0m0.1 5.2h0m0.5-6h0m1.4 3h0m0.9 1.3h0m0.5-3.8h0m0.7 0.9h0m1.9 2.9h0m1-3.9h0m1.2-1h0m0.2 4.3h0m0-4.3h0m0.4 2.8h0m0.2-2.1h0m0.4 0.4h0m0.8 2.3h0m2 1.9h0m0.8 1.4h0m0.6-5.7h0m0.5 5.5h0m1.7-0.2h0m0.5-0.8h0m9.4-4.6h0m-73.8 8.1h0m0.3-1.2h0m1.2 0.3h0m0.2 6h0m0.7-1.9h0m0.5 0.8h0m23.4-5.6h0m0.7 5.8h0m0.4-2.7h0m0 0.8h0m0.1-1.6h0m0.8-1.5h0m0.1-1h0m0.5 0h0m0.1 4.2h0m0.1-2.5h0m0.1 6.2h0m1.6-6.9h0m0.4 1.3h0m0.3 1h0m0.4-1.8h0m0.7 5.9h0m0-3h0m0.2 2.6h0m0.1-3.6h0m1-2.1h0m0.4-0.8h0m0.1 6.4h0m0.2 0.2h0m0.3-4.7h0m0.6 3.6h0m1.1-2.3h0m0 2.3h0m0.3-4.9h0m2.2 1h0m0-1.5h0m0.1 4.4h0m1.3-0.6h0m0.2 1.4h0m0.6-1.1h0m0.1-2.7h0m0.1 4.2h0m0.1-3.7h0m1.2-1.5h0m0.1-0.3h0m0.3 0.6h0m0.6 1.5h0m0.2 0h0m1.6 1.4h0m0.4-2.1h0m0.8-0.3h0m0.5 0.5h0m0.4 1.5h0m0.1 1.4h0m1-2.3h0m0.3 3.4h0m0.4-3.3h0m0.1-0.9h0m0.1 2.8h0m0.1 1h0m0.4-1h0m0.6 0.3h0m0.2 1.4h0m0.1-2.4h0m0.1-3.5h0m1 6.7h0m0.4-5.6h0m2 2.9h0m2.1 1.5h0m1-2.1h0m0.5 3.7h0m0.5-5.3h0m0 1.2h0m8.7-3.1h0m2.7 4.2h0m7.6-3.2h0m-82.4 6.5h0m7.7 1.9h0m0.6 4.7h0m23.1 0.1h0m0.6-2.2h0m0.1 2.5h0m1.1-1.1h0m0.5-2.6h0m2.1-2.2h0m0.5-1.1h0m0.2 3h0m0.5 4.8h0m0.4-7.7h0m0.2 4.3h0m0.3-1.5h0m0.2 1.3h0m0.2-3.1h0m0.1 3h0m1.4-2.4h0m0.8 1.8h0m0.5-0.9h0m0.5-1h0m0.8-0.7h0m0 6.7h0m0.4-6.2h0m0.6 1.1h0m0.1-1.1h0m1 0.8h0m1.8-0.5h0m0.7 0.2h0m1.3 3.1h0m0.7-4.3h0m0.4-0.5h0m0.5 2.9h0m0.3-1.7h0m0.8 4h0m0.8-0.6h0m1.7 1.8h0m5.7-1.9h0m4.1-1.7h0m3 2.9h0m4.2-2.8h0m3.2-0.7h0m4.9 1.3h0m-73.3 9.3h0m3.1-4.7h0m0.3 7.1h0m1.2-7.3h0m2 5.2h0m0.2 1h0m18.8-5.5h0m0.5 2.7h0m0.1 2h0m0.4-0.9h0m0.6-1.2h0m0.2 2.7h0m1.1 0.4h0m0.1 1h0m0.3-7.1h0m1.8 4h0m0.2-2.3h0m1.4 2.4h0m1.9 0.6h0m0.8-3.5h0m1.4-0.3h0m1.9 3.4h0m0.3-2.2h0m1.4-1.4h0m7.8 5.3h0m0.5-1.7h0m4.5-3.5h0m5.2 4.3h0m10-3.9h0m-67.9 7h0m6.1 1.9h0m1.5 0.8h0m0.6-3.1h0m15.3 2.9h0m1.2-3h0m0.9 1.9h0m2.6 1.3h0m1.5 0.4h0m2.6-2.1h0m10.9 1.9h0m3.3 0.2h0m1.9-2h0" stroke="#111" stroke-width="1.15" stroke-linecap="square" fill="none"/>
<rect x="739.4" y="915.2" width="231.1" height="231" fill="none" stroke="#8c8c8c" stroke-width="1"/>
<line x1="739.4" y1="914.7" x2="739.4" y2="1146.2" stroke="#222" stroke-width="1.1"/>
<line x1="739.4" y1="1146.2" x2="970.5" y2="1146.2" stroke="#222" stroke-width="1.1"/>
<text x="740" y="1162.7" font-size="8.3" text-anchor="middle" fill="#222">0</text>
<text x="783.9" y="1162.7" font-size="8.3" text-anchor="middle" fill="#222">50K</text>
<text x="827.8" y="1162.7" font-size="8.3" text-anchor="middle" fill="#222">100K</text>
<text x="871.7" y="1162.7" font-size="8.3" text-anchor="middle" fill="#222">150K</text>
<text x="915.6" y="1162.7" font-size="8.3" text-anchor="middle" fill="#222">200K</text>
<text x="959.5" y="1162.7" font-size="8.3" text-anchor="middle" fill="#222">250K</text>
<path d="M740 1146.2v6.5M748.8 1146.2v3.2M757.6 1146.2v3.2M766.3 1146.2v3.2M775.1 1146.2v3.2M783.9 1146.2v6.5M792.7 1146.2v3.2M801.5 1146.2v3.2M810.2 1146.2v3.2M819 1146.2v3.2M827.8 1146.2v6.5M836.6 1146.2v3.2M845.4 1146.2v3.2M854.1 1146.2v3.2M862.9 1146.2v3.2M871.7 1146.2v6.5M880.5 1146.2v3.2M889.3 1146.2v3.2M898 1146.2v3.2M906.8 1146.2v3.2M915.6 1146.2v6.5M924.4 1146.2v3.2M933.2 1146.2v3.2M941.9 1146.2v3.2M950.7 1146.2v3.2M959.5 1146.2v6.5M968.3 1146.2v3.2" stroke="#222" stroke-width="1.1" fill="none"/>
<text x="725.9" y="1148.8" font-size="8.3" text-anchor="end" fill="#222">0</text>
<text x="725.9" y="1104.8" font-size="8.3" text-anchor="end" fill="#222">50K</text>
<text x="725.9" y="1060.9" font-size="8.3" text-anchor="end" fill="#222">100K</text>
<text x="725.9" y="1016.9" font-size="8.3" text-anchor="end" fill="#222">150K</text>
<text x="725.9" y="973" font-size="8.3" text-anchor="end" fill="#222">200K</text>
<text x="725.9" y="929" font-size="8.3" text-anchor="end" fill="#222">250K</text>
<path d="M732.9 1145.8h6.5M736.2 1137h3.2M736.2 1128.2h3.2M736.2 1119.4h3.2M736.2 1110.6h3.2M732.9 1101.8h6.5M736.2 1093.1h3.2M736.2 1084.3h3.2M736.2 1075.5h3.2M736.2 1066.7h3.2M732.9 1057.9h6.5M736.2 1049.1h3.2M736.2 1040.3h3.2M736.2 1031.5h3.2M736.2 1022.7h3.2M732.9 1013.9h6.5M736.2 1005.2h3.2M736.2 996.4h3.2M736.2 987.6h3.2M736.2 978.8h3.2M732.9 970h6.5M736.2 961.2h3.2M736.2 952.4h3.2M736.2 943.6h3.2M736.2 934.8h3.2M732.9 926h6.5M736.2 917.3h3.2" stroke="#222" stroke-width="1.1" fill="none"/>
<path d="M788.2 963.3 818.2 954.2 817.4 1141.8 787.2 1144.6Z" fill="none" stroke="#111" stroke-width="1.7" stroke-linejoin="round"/>
<text transform="translate(699 1114.2) rotate(-90)" font-size="25" text-anchor="middle" textLength="73.9" lengthAdjust="spacingAndGlyphs">SSC-H</text>
<line x1="690.7" y1="1059.5" x2="690.7" y2="919.8" stroke="#000" stroke-width="1.3"/><path d="M690.7 915 686.7 923 694.7 923Z" fill="#000"/>
<text x="725.6" y="1194.4" font-size="25" textLength="80.4" lengthAdjust="spacingAndGlyphs">SSC-W</text>
<line x1="817.8" y1="1186.2" x2="959.8" y2="1186.2" stroke="#000" stroke-width="1.3"/><path d="M964.6 1186.2 956.6 1182.2 956.6 1190.2Z" fill="#000"/>
<path d="M1165 1047.3 1161.5 1047.2 1160.8 1045.7 1162.5 1042.7 1166.1 1039.7 1171.3 1036.7 1176 1035 1179.5 1034.6 1181.7 1035.7 1181.4 1038.2 1177.9 1041.7 1172 1045Z M1160.5 1050.7 1156.6 1050.2 1155.8 1049.2 1155.8 1047.7 1158 1043.7 1162.4 1039.7 1169 1035.9 1176.5 1033 1181.5 1032.4 1184.6 1033.7 1185.1 1035.7 1184.3 1037.7 1182.4 1040.2 1179.5 1042.6 1169.5 1047.9Z M1160 1052.7 1154.5 1053 1153 1052.2 1152.2 1050.7 1152.6 1048.2 1154.1 1045.2 1159 1039.8 1167 1035.4 1177 1031.5 1183 1030.7 1185.2 1031.2 1186.7 1032.2 1187.4 1034.2 1186.9 1036.7 1184.8 1039.7 1182 1042.3 1171.5 1048.4Z M1090 1052.7 1087 1053 1085 1052.4 1084.1 1050.7 1084.5 1049.1 1086 1047.8 1088 1047.1 1090.5 1047.2 1092 1047.8 1093.1 1049.2 1093 1050.7 1092 1051.9Z M1158 1054.7 1152 1054.9 1150 1053.7 1149.3 1052.2 1149.6 1049.7 1151.2 1046.2 1153.6 1041.7 1156 1039.2 1166 1034.4 1178.5 1030 1185 1029.4 1187 1030 1188.6 1031.2 1189.4 1033.7 1188.6 1036.7 1186.5 1039.7 1183 1042.9 1177.5 1046.5 1170.5 1050.1 1163.5 1053.1Z M1084.5 1057.8 1083 1057.8 1082 1057.1 1080.1 1053.2 1080.1 1049.2 1081.8 1045.7 1084.5 1043.8 1089 1043 1093 1043.3 1096 1044.9 1097.4 1046.7 1098.1 1049.2 1097.9 1051.2 1096.8 1053.2 1093.5 1055.5Z M1082 1106.9 1081 1105.8 1079.9 1101.7 1079 1088.7 1079.9 1076.2 1081 1072 1082 1070.9 1083 1071.7 1084.2 1075.7 1085.1 1088.2 1084.2 1101.7 1083 1105.9Z M1154.5 1056.7 1150 1056.6 1148 1055.7 1147.2 1054.7 1146.9 1051.7 1149.4 1044.2 1149 1042.7 1148 1042 1145 1041.7 1129.5 1042.3 1119.5 1041.8 1109.2 1040.2 1106.4 1039.2 1106.1 1038.2 1108.4 1036.7 1112.5 1035.5 1125 1034 1138.5 1034.1 1156 1035.9 1163 1034.2 1179 1028.8 1184 1028.1 1188 1028.7 1190.6 1030.7 1191 1034.2 1189.2 1038.2 1185.4 1042.2 1178.5 1046.9 1169 1051.9 1161.5 1055Z M1082 1116.8 1080.5 1115.2 1079.3 1111.7 1077.6 1097.7 1077.5 1079.7 1079.6 1062.2 1077.8 1052.7 1077.9 1048.7 1080 1043.7 1083.5 1040.8 1091 1039.6 1097.5 1039.8 1099.6 1040.7 1100.3 1042.2 1101.2 1049.2 1100.2 1053.2 1098.6 1055.2 1096.5 1056.8 1087.5 1059.9 1086.1 1061.2 1085.3 1063.2 1086.8 1081.7 1086.6 1096.7 1084.8 1111.2 1083.5 1115.3Z M1132.5 1108.8 1130.5 1108.5 1128.5 1106.8 1127 1103.8 1126.3 1100.2 1126.5 1096.6 1127.5 1093.2 1129.4 1090.7 1131.5 1089.9 1133.5 1090.4 1135.5 1092.4 1136.7 1095.2 1137.3 1098.7 1137.1 1102.2 1136 1105.6 1134.5 1107.7Z M1085 1141.7 1080.5 1141.9 1075.3 1141.2 1075.6 1140.7 1078.6 1140.2 1083 1140 1087.5 1140.7 1087.7 1141.2Z M1082.5 1123.8 1081.5 1123.8 1080.2 1122.2 1078.2 1115.7 1076.8 1105.2 1076.1 1092.2 1076.2 1078.7 1077.5 1062.2 1076 1049.7 1077.5 1043.9 1080.6 1039.2 1084.5 1037.3 1115.5 1032.6 1135 1032 1158.5 1033.5 1164 1032.6 1177 1028.4 1182.5 1027.2 1188 1027.3 1191.6 1029.2 1192.7 1032.2 1191.8 1036.2 1189.4 1039.7 1185.5 1043.3 1178.5 1047.9 1168.5 1053.1 1160.5 1056.4 1154.5 1058 1148.5 1058.2 1146.5 1057.6 1145 1056.2 1144.5 1053.2 1146.4 1046.2 1146 1045.2 1144.5 1044.4 1110.5 1043.7 1107.5 1043.9 1105.5 1044.8 1104.3 1046.7 1102.9 1053.2 1100.9 1056.2 1097 1058.9 1089.7 1061.2 1087.7 1063.7 1087.3 1067.2 1088.3 1086.2 1087.6 1102.2 1085.5 1117.2 1084 1121.9Z M1132.5 1113.7 1129 1112.9 1126.3 1110.2 1124.2 1105.7 1123.2 1099.7 1123.5 1094.2 1125.1 1089.2 1127.8 1085.7 1131 1084.4 1134.5 1085.3 1137.3 1088.2 1139.3 1092.7 1140.2 1098.2 1139.9 1103.7 1138.2 1108.7 1135.5 1112.3Z M1084.5 1142.7 1064 1142 1056.5 1141.2 1056.9 1140.7 1060.8 1140.2 1083 1139 1099.3 1140.2 1103.3 1140.7 1103.6 1141.2Z M1082.5 1129.8 1081 1129.5 1080 1128.1 1077.8 1121.2 1076.1 1110.2 1075 1094.7 1075 1079.7 1076.1 1062.7 1074.4 1049.2 1076.3 1041.7 1079.5 1036.7 1083.5 1034.8 1114.5 1031 1135 1030.5 1160 1032 1165.5 1031.2 1178 1027.3 1184 1026.1 1189.5 1026.4 1192.8 1028.2 1194.1 1031.2 1193.5 1035.2 1191.2 1039.2 1187.6 1042.7 1180.5 1047.6 1170.5 1053 1162 1056.9 1155 1059.1 1148 1059.8 1145 1059.3 1143.3 1058.2 1142.4 1056.7 1142.2 1054.7 1143.9 1047.7 1143.4 1046.7 1142 1046.1 1113 1045.7 1109.5 1046.2 1107.7 1047.2 1106.7 1048.7 1104.8 1054.7 1102.5 1057.9 1098.5 1060.5 1091 1063 1089.3 1065.2 1089.6 1087.7 1088.3 1107.7 1085.8 1123.2 1084 1128.1Z M1133 1117.3 1129 1116.7 1125 1113.1 1122.1 1107.2 1120.7 1099.7 1121 1092.2 1123 1085.8 1126.5 1081.4 1130.5 1079.8 1133 1080.1 1135 1081.1 1138.5 1084.6 1141.1 1090.2 1142.3 1096.7 1142.1 1103.7 1140.3 1110.2 1137 1115.1Z M1077.6 1143.2 1053.1 1142.2 1048.1 1141.7 1046 1141.2 1046.2 1140.7 1054.5 1139.7 1082 1138.2 1106.5 1139.8 1113.9 1140.7 1114.1 1141.2 1113 1141.5 1108 1142.1 1086.1 1143.2 M1083 1134.7 1081.5 1135 1080 1133.5 1077.6 1126.7 1075.6 1115.2 1074.2 1098.7 1073.9 1082.2 1074.8 1062.7 1073 1049.2 1074.9 1039.7 1077.8 1035.2 1080.5 1033.4 1083 1032.6 1090 1032.4 1112.5 1029.8 1135 1029.3 1161 1030.7 1167.5 1029.7 1178.5 1026.4 1184.5 1025.2 1190 1025.4 1193.8 1027.2 1195.4 1030.2 1195.3 1033.7 1193.7 1037.7 1190.7 1041.2 1186 1044.9 1178.5 1049.6 1168.5 1054.8 1160.5 1058.3 1151 1061 1144 1061.1 1141.1 1059.7 1140 1057.7 1140 1055.2 1141.6 1049.7 1141.5 1048.7 1140.5 1047.8 1136 1047.3 1113.5 1047.7 1111 1048.4 1109.5 1049.6 1106.9 1056.7 1103.5 1060.8 1100 1062.9 1093.5 1064.6 1092 1065.5 1091 1068.2 1091.1 1086.2 1088.7 1113.7 1086.1 1128.2 1084.5 1132.6Z M1133 1120.3 1130.5 1120.2 1128 1119.3 1125.5 1117.4 1123.3 1114.7 1119.9 1107.2 1118.2 1098.2 1118.2 1088.7 1120.1 1081.7 1121.7 1079.2 1124 1077 1126.5 1075.7 1129 1075.2 1132 1075.5 1134.5 1076.5 1139 1080.6 1142.4 1087.2 1144.1 1095.2 1143.9 1104.2 1141.8 1111.7 1138 1117.6 1135.5 1119.4Z M1062.9 1143.2 1043.5 1142.2 1039.5 1141.6 1038.1 1141.2 1038.2 1140.7 1049 1139.4 1074.5 1138.4 1082 1137 1089.5 1138.5 1112.5 1139.5 1122 1140.7 1122.2 1141.2 1120.5 1141.7 1116.6 1142.2 1097.3 1143.2 M1035 1139.9 1048.5 1138.9 1073 1138.1 1076.5 1137.7 1078.5 1136.7 1075.6 1122.7 1073.8 1106.2 1072.9 1084.7 1073.6 1062.7 1071.5 1050.2 1072.7 1038.7 1074.1 1036.2 1077.5 1033 1080 1031.5 1082.5 1030.7 1090 1030.9 1117 1028.4 1137 1028.2 1163.5 1029.5 1168.2 1028.7 1181.5 1024.9 1188.5 1024.2 1193.5 1025.4 1195.2 1026.7 1196.4 1028.7 1196.8 1031.7 1196.4 1034.7 1193.7 1039.7 1189 1043.8 1180 1049.5 1168 1055.9 1158.5 1060 1147 1062.8 1142.5 1062.9 1139 1062.1 1137.5 1060.7 1136.9 1058.7 1139.1 1050.2 1137 1048.9 1117 1049.6 1114.3 1050.2 1112.5 1051.7 1111.9 1053.7 1111.9 1057.2 1113.5 1060.5 1122.4 1066.2 1133 1070.4 1137 1073.6 1140 1077.1 1142.6 1081.7 1144.4 1086.7 1145.6 1093.2 1145.9 1099.2 1144.4 1109.7 1142.6 1114.2 1140.6 1117.7 1138 1120.5 1135.5 1122.2 1132.5 1123 1129.5 1122.6 1124.7 1119.7 1120.7 1114.2 1117.7 1107.2 1114 1094.5 1112.3 1091.7 1110 1090.2 1101.9 1088.2 1096 1085.1 1094.5 1085.7 1092.5 1092.5 1088.6 1121.7 1085.4 1136.2 1086.5 1137.3 1090.5 1138.1 1115.5 1139.1 1128 1140.4 1129 1141.2 1126 1141.9 1110.2 1143.2 M1035 1139.2 1073 1137.8 1076 1137.2 1077 1136.2 1074.7 1122.7 1072.8 1104.7 1071.8 1083.2 1072.3 1063.2 1070.1 1052.2 1069.4 1039.7 1070.3 1036.7 1073 1034.2 1079 1030.1 1082.5 1028.9 1090.5 1029.5 1108.5 1027.8 1126.5 1027.1 1163.5 1028.5 1169.1 1027.7 1182.5 1023.9 1189.5 1023.3 1192.5 1023.8 1195 1024.9 1196.8 1026.7 1197.7 1028.7 1198 1032.2 1197.3 1036.2 1196.1 1038.7 1193.9 1041.2 1184 1047.9 1166.5 1057.4 1155.5 1062 1141.8 1065.7 1139.5 1067.2 1139.5 1069.7 1143.7 1078.2 1145.9 1084.7 1147.2 1091.7 1147.5 1098.7 1146.7 1106.2 1144.8 1113.2 1141.7 1119.2 1138 1123.1 1135 1124.8 1131.5 1125.4 1128 1124.5 1125 1122.7 1120.2 1117.2 1113.5 1103.8 1110.5 1100.5 1096.5 1097 1095 1097.3 1094 1098.4 1092 1105.5 1087 1135.2 1087.2 1136.7 1091 1137.8 1120 1138.8 1133.4 1140.2 1134.9 1140.7 1135 1141.2 1133.7 1141.7 1119 1143.2 M1131.6 1057.7 1135.1 1054.2 1135.8 1052.2 1135.3 1051.2 1133 1050.8 1128.5 1051.2 1124.7 1052.2 1123.4 1053.2 1123.7 1054.7 1126.9 1057.2 1129.5 1058.1Z M1035 1138.7 1071.5 1137.5 1074.2 1137.2 1075.8 1136.2 1073.2 1117.2 1070.8 1090.2 1070.3 1078.2 1070.7 1062.2 1068.7 1053.7 1068 1045.2 1065.5 1038.7 1066.2 1036.7 1067.7 1035.2 1079.5 1028 1082 1027.1 1090.5 1028.2 1111 1026.6 1129 1026.2 1164 1027.6 1170.1 1026.7 1183.5 1023 1190 1022.5 1195.5 1023.9 1197.2 1025.2 1198.5 1027.2 1199.3 1030.7 1199.2 1035.7 1198.5 1038.2 1197.1 1040.2 1191 1044.5 1172.5 1055.1 1161.5 1060.5 1147.3 1066.2 1144.5 1068.7 1144.4 1071.2 1147.1 1080.2 1148.5 1087.7 1149.1 1094.7 1148.8 1101.7 1147.7 1108.7 1145.6 1115.2 1142.7 1120.7 1139.5 1124.3 1137 1126.1 1134 1127.3 1131 1127.5 1128 1126.8 1125 1125.2 1121.7 1122.2 1113.5 1110.1 1110.5 1107.3 1107.5 1106.2 1097 1104.4 1095.5 1104.5 1094 1106 1091.5 1115.7 1088.2 1135.2 1088.6 1136.7 1092.5 1137.5 1121.5 1138.5 1136.3 1139.7 1140.1 1140.7 1140.2 1141.2 1139 1141.7 1126.4 1143.2 M1035 1138.3 1071.8 1137.2 1074.1 1136.7 1074.9 1135.7 1068.1 1081.7 1067.7 1074.2 1068.5 1063.2 1066.5 1048.2 1065.5 1044.9 1062.2 1040.7 1061.4 1038.7 1061.9 1036.7 1063.5 1035.1 1073.5 1030.2 1079.5 1026 1082 1025 1090.5 1027 1109.5 1025.6 1123.5 1025.2 1164.5 1026.8 1169.5 1026.1 1183.5 1022.4 1191 1021.7 1196 1022.9 1198 1024.3 1199.4 1026.2 1201.5 1036.7 1201.2 1038.7 1200.1 1040.2 1196.6 1042.7 1169.5 1057.4 1152.4 1065.7 1149 1068.7 1148.7 1071.2 1150.2 1081.7 1150.8 1090.7 1149.9 1104.7 1148.3 1111.7 1146.3 1117.2 1143.8 1121.7 1140.5 1125.7 1138 1127.7 1135 1129.1 1132 1129.6 1128.5 1129.1 1125 1127.5 1122.1 1125.2 1113.5 1114.9 1110.5 1112.6 1107.5 1111.7 1097 1110.2 1095.5 1110.5 1094 1112 1092 1119 1089.3 1134.7 1089.3 1136.2 1089.9 1136.7 1093 1137.3 1128.5 1138.4 1140 1139.5 1143.6 1140.2 1144.9 1141.2 1141.6 1142.2 1132.8 1143.2" fill="none" stroke="#3a3a3a" stroke-width="0.7" stroke-linejoin="round"/>
<path d="M1114.5 982.4h0m-42.4 16.3h0m-5.9 3.5h0m6.1-0.5h0m83.1 0.2h0m-86.2 13h0m6.2-1.8h0m2-0.3h0m12.8 2.2h0m2.3-2.8h0m1.2 1.4h0m6.6 2.1h0m16-6.8h0m10.9 2.8h0m17.9 3.7h0m17.7-3.3h0m36.5 2.6h0m12.6-1.9h0m44.9 0.1h0m-193.3 6.1h0m16.9 2.2h0m3 0.9h0m5-2.6h0m9.9 1.4h0m1.7 1.4h0m3.3-4.8h0m14.6 6.3h0m8.3-0.9h0m2.9-3.7h0m0.6 4.8h0m0.4-2.9h0m0.8-2.1h0m0.2 0.6h0m1.7 2.8h0m5.4 0.3h0m4.4-1.6h0m5.8 1.7h0m2-1.2h0m21.3-0.8h0m30 2.8h0m-154.7 7h0m0.4-1.1h0m9.3-1.5h0m5.6 2.7h0m7.1-2.7h0m2.1 2.6h0m0.3-4.2h0m0.7 2.8h0m1.9-3.1h0m1-1.9h0m0.6 3.9h0m3.3-3.1h0m9.4-1h0m1.8 0.1h0m9.4 0.7h0m1.2-0.8h0m2.4 0.5h0m5.7-0.3h0m6.2 0.1h0m7.8 0.1h0m38.4 2.2h0m0.5-1.1h0m41.5 0.4h0m15.1 4.1h0m-162.9 5.9h0m0.4-1.2h0m1.3-1.1h0m3.7-1.5h0m0.4 4.7h0m141.1 0.1h0m0.7-3.1h0m0.3 4h0m4.2-1.5h0m2.2 0.9h0m0.3 2.4h0m1.7-1.8h0m15.3-3.6h0m6.3-1.5h0m-192.8 11.6h0m6.4 2.3h0m9.9 1h0m2.2-3.1h0m1.7-2.3h0m129.7 3.9h0m7.6 0.8h0m5.8-0.5h0m1.5-3.9h0m6.4-1.3h0m10.8 1.6h0m1.7 5.1h0m1.4-5.5h0m20.4 2h0m-205 10.5h0m2.1-0.9h0m7 0.4h0m2.8 0.7h0m4.8-5.9h0m4.7 0.5h0m0.1 5.6h0m0.6-2.8h0m2.6-3h0m112.9 3.1h0m6.1-1.7h0m3.1-1.4h0m8 4.2h0m10.6-2h0m0.5-3.5h0m10.9 2.9h0m6.2-2.4h0m5.8 3.6h0m8.5-2.8h0m7.7 6h0m-210 2.9h0m7.4 4.5h0m4.9 0.9h0m8.8-6h0m3.3 5.9h0m3.5-4.8h0m0.4 3.5h0m0.4-2.1h0m98.2 2.2h0m1.8 0.2h0m2.3-4.2h0m1.4 2.6h0m0.4 1.6h0m2.2-3.9h0m20.2 4.1h0m2.4-3.7h0m0 2.3h0m5.4-4.2h0m1 4.1h0m24.9-0.2h0m-189 8.8h0m2.6-1.8h0m5-2.2h0m0.3 0.5h0m2.6 3.5h0m4.6 1.2h0m0.6-2.1h0m1 2.1h0m4.2-5.1h0m1 3.3h0m7.3-3.6h0m85.3 3.9h0m3.2-3.2h0m2.5-0.4h0m16.2 0.5h0m15.2 1.7h0m-151.2 9.9h0m5.9 1.8h0m5.9-5.7h0m1.2 0.9h0m8.7 2.6h0m3.9 0.3h0m3.7-2.1h0m0.2 1.4h0m0.4-0.6h0m0.1-2.6h0m0.9 1.2h0m82.7-1.7h0m2.1 2h0m0.1-2.6h0m6.1 2.4h0m5.3-2.5h0m0.5 6.8h0m0.4-3.5h0m6.4 2.1h0m6.2-4.6h0m11.4 1.3h0m-136.9 8.7h0m3.6 3.8h0m4-0.3h0m1.4-1h0m3.3-3.5h0m1.1 4.8h0m2.8-5.3h0m0.3 4h0m84.2 1.7h0m1.8-2.7h0m0.2-5.3h0m0.2 3.8h0m3.4 1.9h0m0.3 1.6h0m0.7 0.4h0m17.2-0.8h0m59.5-3.1h0m-182.6 4.9h0m0.9 3.8h0m5 0.9h0m0.3-3.5h0m2.2 3.7h0m3-2.2h0m1.9-1.9h0m86 4h0m0.1-3.6h0m6.9-0.9h0m0.4 0.4h0m13.4-1.3h0m4.4 6.2h0m31.3 1.2h0m21-2.5h0m-183.3 4.4h0m2.2-1.2h0m3.8 7.5h0m5.8-3.8h0m2.1 0.2h0m2.9-1.1h0m2.1 0.3h0m2.4-0.6h0m1.8 0.1h0m0.2 4.3h0m0-2.4h0m0.1-4.3h0m83.2 2.4h0m1.6 2.7h0m1.1-2h0m2.6 1.7h0m5 1.4h0m0.4-2.9h0m5.3-0.9h0m8.5-2h0m-138.4 9.1h0m4.8-0.5h0m3.1-0.8h0m4.6 7h0m11.6-6.7h0m2.5 0.6h0m0.5-1.1h0m0.2 4.5h0m2.6-2.3h0m0.5-0.6h0m79.6 2.2h0m0.3-1.5h0m6.3 0.5h0m31.8-1.9h0m4.5 6.5h0m25.8-5h0m-163.8 11.4h0m7.8-1.7h0m1.4-2h0m1.8 4h0m0.6-1.4h0m1.4 1.6h0m0.2-3.4h0m1.3 4.1h0m1.2-6.1h0m1.1 5.2h0m26.5-1.4h0m7.2 0.3h0m1.9-1.2h0m3.8 2.4h0m3.1 1h0m3.5 0h0m28.9-0.2h0m2.2-6h0m0.4-0.7h0m14.2 1.7h0m0.5-1.1h0m28.5 6.2h0m23.4-0.1h0m-175.1 5.1h0m22.7-1.9h0m0.6 3.7h0m8-5.2h0m0.3-0.5h0m0 0.9h0m0.2 6.2h0m19.8-6.7h0m0.3-0.2h0m0.2 6.8h0m1.4-7.2h0m3.9 6.1h0m10.2-4.2h0m2.6 0.1h0m2 3.3h0m1.6-3.6h0m1 4.6h0m4.5-3.8h0m0.3 1.1h0m0.9 1.4h0m2.4 2.1h0m31.2-2.3h0m0.4-4h0m4.4 2.7h0m5.2 0.6h0m39.1 1.4h0m-159.1 8.4h0m10.9-3.2h0m6.4 3.2h0m7.3 1.5h0m3.7-1.9h0m0.9-3.9h0m16.8-1h0m1.1 0.1h0m1.8 1.2h0m0.8 3h0m3.1-0.8h0m1.4-0.3h0m0.6-0.9h0m0.8 0.5h0m6.2-3.5h0m3.2 2.8h0m0.5 2.8h0m1.5-5.8h0m5.1 3h0m1.5 1.2h0m1.5-3.2h0m0.7 1.1h0m1.7 3.8h0m12.9-3.4h0m0 3.1h0m6.5-5.5h0m7.4 6.7h0m-79.2 1.4h0m4.5 0.1h0m19.8 0.1h0m0-0.4h0m2.1 0.3h0m3.7-0.3h0m25.5 1.2h0m7.6 0.1h0m9.2 0.5h0m1.3 0.3h0" stroke="#111" stroke-width="1.15" stroke-linecap="square" fill="none"/>
<rect x="1035" y="915.2" width="228.6" height="227.6" fill="none" stroke="#8c8c8c" stroke-width="1"/>
<line x1="1035" y1="914.7" x2="1035" y2="1142.8" stroke="#222" stroke-width="1.1"/>
<line x1="1035" y1="1142.8" x2="1263.6" y2="1142.8" stroke="#222" stroke-width="1.1"/>
<path d="M1146.5 1142.8v3.2M1128.6 1142.8v6.5M1037.7 1142.8v3.2M1039.7 1142.8v3.2M1041.9 1142.8v3.2M1044.4 1142.8v3.2M1047.4 1142.8v3.2M1051 1142.8v3.2M1055.5 1142.8v3.2M1061.5 1142.8v3.2M1070.1 1142.8v3.2M1071.1 1142.8v3.2M1072.2 1142.8v3.2M1073.4 1142.8v3.2M1074.6 1142.8v3.2M1075.8 1142.8v3.2M1077.1 1142.8v3.2M1078.3 1142.8v3.2M1079.6 1142.8v3.2M1081 1142.8v3.2M1082.3 1142.8v6.5M1083.6 1142.8v3.2M1085 1142.8v3.2M1086.3 1142.8v3.2M1087.5 1142.8v3.2M1088.8 1142.8v3.2M1090 1142.8v3.2M1091.2 1142.8v3.2M1092.4 1142.8v3.2M1093.5 1142.8v3.2M1094.5 1142.8v3.2M1103.1 1142.8v3.2M1109.1 1142.8v3.2M1113.6 1142.8v3.2M1117.2 1142.8v3.2M1120.2 1142.8v3.2M1122.7 1142.8v3.2M1124.9 1142.8v3.2M1126.9 1142.8v3.2M1128.6 1142.8v6.5M1146.5 1142.8v3.2M1157 1142.8v3.2M1164.4 1142.8v3.2M1170.2 1142.8v3.2M1174.9 1142.8v3.2M1178.9 1142.8v3.2M1182.3 1142.8v3.2M1185.4 1142.8v3.2M1188.1 1142.8v6.5M1204 1142.8v3.2M1213.3 1142.8v3.2M1219.9 1142.8v3.2M1225 1142.8v3.2M1229.2 1142.8v3.2M1232.7 1142.8v3.2M1235.8 1142.8v3.2M1238.5 1142.8v3.2M1240.9 1142.8v6.5M1256.8 1142.8v3.2" stroke="#222" stroke-width="1.05" fill="none"/>
<text x="1082.3" y="1159.3" font-size="8.3" text-anchor="middle" fill="#222">0</text>
<text x="1130.6" y="1159.3" font-size="8.3" text-anchor="middle" fill="#222">10<tspan font-size="6.5" dy="-4">3</tspan></text>
<text x="1190.1" y="1159.3" font-size="8.3" text-anchor="middle" fill="#222">10<tspan font-size="6.5" dy="-4">4</tspan></text>
<text x="1242.9" y="1159.3" font-size="8.3" text-anchor="middle" fill="#222">10<tspan font-size="6.5" dy="-4">5</tspan></text>
<path d="M1031.8 1012.8h3.2M1028.5 1026.6h6.5M1031.8 1028.8h3.2M1031.8 1031.3h3.2M1031.8 1034.1h3.2M1031.8 1037.4h3.2M1031.8 1041.2h3.2M1031.8 1045.9h3.2M1031.8 1052h3.2M1031.8 1060.6h3.2M1028.5 1075.2h6.5M1031.8 1142.6h3.2M1031.8 1139.6h3.2M1031.8 1135.9h3.2M1031.8 1130.9h3.2M1031.8 1123.7h3.2M1028.5 1113.6h6.5M1031.8 1103.5h3.2M1031.8 1096.3h3.2M1031.8 1091.3h3.2M1031.8 1087.6h3.2M1031.8 1084.6h3.2M1031.8 1082.2h3.2M1031.8 1080.1h3.2M1031.8 1078.3h3.2M1031.8 1076.6h3.2M1028.5 1075.2h6.5M1031.8 1060.6h3.2M1031.8 1052h3.2M1031.8 1045.9h3.2M1031.8 1041.2h3.2M1031.8 1037.4h3.2M1031.8 1034.1h3.2M1031.8 1031.3h3.2M1031.8 1028.8h3.2M1028.5 1026.6h6.5M1031.8 1012.8h3.2M1031.8 1004.7h3.2M1031.8 998.9h3.2M1031.8 994.4h3.2M1031.8 990.8h3.2M1031.8 987.7h3.2M1031.8 985.1h3.2M1031.8 982.7h3.2M1028.5 980.6h6.5M1031.8 966.8h3.2M1031.8 958.8h3.2M1031.8 953.1h3.2M1031.8 948.7h3.2M1031.8 945h3.2M1031.8 942h3.2M1031.8 939.3h3.2M1031.8 937h3.2M1028.5 934.9h6.5M1031.8 921.1h3.2" stroke="#222" stroke-width="1.05" fill="none"/>
<text x="1021.5" y="1116.6" font-size="8.3" text-anchor="end" fill="#222">0</text>
<text x="1022" y="1078.2" font-size="8.3" text-anchor="end" fill="#222">10<tspan font-size="6.5" dy="-4">2</tspan></text>
<text x="1022" y="1029.6" font-size="8.3" text-anchor="end" fill="#222">10<tspan font-size="6.5" dy="-4">3</tspan></text>
<text x="1022" y="983.6" font-size="8.3" text-anchor="end" fill="#222">10<tspan font-size="6.5" dy="-4">4</tspan></text>
<text x="1022" y="937.9" font-size="8.3" text-anchor="end" fill="#222">10<tspan font-size="6.5" dy="-4">5</tspan></text>
<path d="M1043 988.5 1128.6 987.5 1129.2 1040.7 1115.4 1064.4 1043 1064.4Z" fill="none" stroke="#111" stroke-width="1.7" stroke-linejoin="round"/>
<text x="1175.9" y="960.9" font-size="19" text-anchor="middle" fill="#111">Live CD45<tspan font-size="12" dy="-8">+</tspan></text>
<text x="1175.9" y="982.6" font-size="19" text-anchor="middle" fill="#111">29.8</text>
<text transform="translate(995 1071.3) rotate(-90)" font-size="25" text-anchor="middle" textLength="157.5" lengthAdjust="spacingAndGlyphs">CD45 (BV510)</text>
<line x1="989.7" y1="986.6" x2="989.7" y2="920.4" stroke="#000" stroke-width="1.3"/><path d="M989.7 915.6 985.7 923.6 993.7 923.6Z" fill="#000"/>
<text x="1022.2" y="1194.4" font-size="25" textLength="161.6" lengthAdjust="spacingAndGlyphs">Dump (BV421)</text>
<line x1="1192.7" y1="1186.2" x2="1256.8" y2="1186.2" stroke="#000" stroke-width="1.3"/><path d="M1261.6 1186.2 1253.6 1182.2 1253.6 1190.2Z" fill="#000"/>
<path d="M1377.5 1092.8 1374 1093.1 1370.5 1091.8 1369 1089.2 1369.9 1086.7 1372 1085.2 1374.5 1084.7 1377 1085 1379.3 1086.2 1380.5 1087.7 1380.7 1089.7 1379.5 1091.7Z M1377 1094.8 1372 1094.6 1367.9 1092.2 1366.9 1090.7 1366.5 1088.7 1367.1 1086.7 1368.5 1085 1371.5 1083.3 1375.5 1082.9 1379 1083.7 1381.8 1085.7 1383.3 1088.7 1382.8 1091.2 1380.5 1093.4Z M1376.5 1096.2 1373 1096.2 1370 1095.4 1367.5 1094.1 1365.7 1092.2 1364.7 1090.2 1364.7 1087.7 1365.9 1085.2 1368 1083.3 1372.5 1081.6 1377 1081.6 1381.2 1083.2 1384.3 1086.2 1385.4 1089.7 1384.4 1092.2 1381 1094.9Z M1377.5 1097.3 1373.5 1097.4 1370 1096.8 1367 1095.4 1364.5 1093.2 1363.1 1090.7 1362.9 1087.7 1363.9 1085.2 1366 1082.9 1370.5 1080.7 1376 1080.2 1381 1081.6 1385 1084.7 1387.3 1088.7 1386.9 1091.7 1383 1095.2Z M1378 1098.2 1373.5 1098.5 1369.5 1097.8 1366 1096.2 1363.1 1093.7 1361.5 1090.7 1361.3 1087.7 1362.5 1084.7 1364.5 1082.4 1370 1079.6 1376 1079.1 1382 1080.7 1386.3 1084.2 1389.5 1089.2 1389.6 1091.2 1387.8 1093.2 1384 1095.9Z M1418.5 1093.2 1409 1092.9 1403 1091.7 1402.4 1090.7 1403.2 1090.2 1410 1089 1419.5 1088.8 1431.5 1089.9 1444 1088.8 1448 1089.4 1450.1 1090.7 1449 1092.2 1445 1093.1 1431.5 1092.1Z M1378 1099.2 1372.5 1099.4 1367 1098 1362.8 1095.2 1360.2 1091.2 1360 1086.7 1362.3 1082.7 1366.5 1079.6 1372 1078.1 1378 1078.3 1383 1080 1386.5 1082.6 1391 1088 1394 1089.4 1412.5 1087.7 1432 1088.3 1443.5 1087.9 1449.8 1088.7 1452 1089.7 1452.9 1090.7 1452.5 1091.9 1450.5 1093.1 1444 1094.1 1432 1093.7 1411.5 1094.3 1393.5 1092.3 1390 1093.5 1382.5 1097.9Z M1377.5 1100.2 1371 1100.2 1365.5 1098.4 1361.1 1095.2 1358.6 1090.7 1358.7 1086.2 1361.4 1081.7 1366 1078.6 1371.5 1077.1 1377.5 1077.2 1383 1078.8 1387 1081.5 1391.5 1086.5 1394.5 1087.7 1414.5 1086.8 1445 1087.2 1452 1088.4 1454 1089.4 1455 1090.7 1454.5 1092.2 1452.5 1093.4 1445 1094.8 1414 1095.2 1393 1094 1389.5 1095.1 1382.5 1098.9Z M1376.5 1101.2 1370 1100.9 1364 1098.8 1359.5 1095.2 1357.1 1090.7 1357.4 1085.7 1360.1 1081.2 1365 1077.8 1371 1076.1 1377 1076.1 1383 1077.7 1387.5 1080.6 1392.4 1085.7 1395 1086.7 1416 1086.1 1445.5 1086.6 1453.5 1088.1 1455.7 1089.2 1456.8 1090.7 1456.4 1092.2 1454 1093.7 1445.5 1095.4 1415 1095.9 1393 1095.1 1389.5 1096.2 1382.5 1099.9Z M1379 1101.7 1371.5 1102 1364.5 1100.1 1358.8 1096.2 1356.9 1093.7 1355.9 1091.2 1355.5 1088.7 1355.9 1085.7 1358.8 1080.7 1364 1077 1370.5 1075.2 1377 1075.1 1383.5 1076.9 1388 1079.6 1392.9 1084.7 1395.5 1085.8 1417.5 1085.4 1446 1086.1 1454.5 1087.7 1457.5 1089.2 1458.5 1090.7 1458 1092.2 1455.5 1093.9 1452 1095 1446.5 1095.8 1416.5 1096.6 1393.5 1095.9 1390.5 1096.7 1383.5 1100.4Z M1378 1102.7 1370.5 1102.8 1363 1100.5 1357.7 1096.7 1354.6 1091.7 1354.1 1089.2 1354.3 1086.2 1355.4 1083.2 1357.1 1080.7 1362.5 1076.5 1369.5 1074.3 1376.5 1074.1 1383.5 1075.8 1388.5 1078.7 1393.9 1084.2 1396.5 1085.1 1419 1084.9 1448 1085.8 1456 1087.5 1459 1089.1 1460 1090.7 1459.6 1092.2 1457.5 1093.8 1450 1096 1418.5 1097.1 1394.5 1096.6 1391 1097.4 1383 1101.5Z M1376.5 1103.7 1369 1103.4 1361.5 1100.8 1356.2 1096.7 1354.3 1094.2 1353.1 1091.2 1352.7 1088.2 1353.2 1085.2 1354.5 1082.2 1356.3 1079.7 1362 1075.5 1369 1073.3 1376.5 1073.1 1384 1075 1389 1077.9 1394.5 1083.4 1397 1084.5 1420.5 1084.4 1448.5 1085.4 1457.5 1087.4 1460.5 1089.1 1461.5 1090.7 1461.1 1092.2 1459 1093.9 1455 1095.5 1450.5 1096.4 1420 1097.6 1395.1 1097.2 1391.3 1098.2 1383 1102.4Z M1379 1104.2 1370.5 1104.5 1362 1102.1 1358.5 1100.2 1355.6 1097.7 1353.2 1094.7 1351.8 1091.7 1351.4 1088.7 1351.6 1085.7 1352.7 1082.7 1354.7 1079.7 1357.2 1077.2 1360.5 1075.1 1368.5 1072.4 1376 1072.1 1384 1074 1389.5 1077 1395.1 1082.7 1397.5 1083.8 1421.5 1084 1449 1085 1458.5 1087.1 1461.5 1088.7 1462.9 1090.7 1462.6 1092.2 1460.5 1094 1452.5 1096.5 1444.5 1097.3 1422 1098 1396 1097.7 1392 1098.7 1384 1102.9Z M1377.5 1105.3 1368.5 1105 1360.5 1102.5 1357 1100.3 1354 1097.7 1351.8 1094.7 1350.5 1091.7 1350 1088.7 1350.4 1085.2 1351.8 1081.7 1353.9 1078.7 1360 1074.1 1368 1071.5 1376 1071.2 1384 1072.9 1389.5 1075.8 1396 1082.2 1398.5 1083.3 1422 1083.5 1449 1084.6 1454.5 1085.4 1459.5 1086.8 1463 1088.7 1464.4 1090.7 1463.6 1092.7 1461.5 1094.2 1457.5 1095.8 1452.5 1097 1444 1097.8 1422.5 1098.5 1396.5 1098.3 1392.8 1099.2 1384.5 1103.6Z" fill="none" stroke="#3a3a3a" stroke-width="0.7" stroke-linejoin="round"/>
<path d="M1394 1014.7h0m14.8 2.8h0m-48.4 13.4h0m1.7-0.9h0m16.2-4h0m-21.9 13.2h0m14.3-7.2h0m3.2 7.3h0m0.3-3.4h0m3.1-0.7h0m5.3 3.2h0m0.2 0.4h0m0.2-4.2h0m0.8-0.9h0m1.4 0.4h0m-39.7 13h0m12.5 0.1h0m3.6 0.7h0m1.6 0.1h0m1.5-0.2h0m4.5-1.5h0m2.7 1.4h0m0.2-4.7h0m0.2-1h0m1.8-0.3h0m4.1 4.4h0m2.5-2.7h0m1.2 1.2h0m1.3 3.4h0m2.5-5.9h0m1.6 4.1h0m1 1.7h0m0.2-6.8h0m3.4-0.7h0m7.5 5.8h0m-42.2 8.2h0m5.9-4.7h0m2.1 6h0m0.8-1.5h0m0.4 1.4h0m2.1-2.9h0m0.3 3.2h0m1.4-3.6h0m0 0.9h0m0.5-2h0m0-3.1h0m1.7 6.7h0m4-5.2h0m1.6 4.6h0m0.7 1.4h0m2.2-3.5h0m0.2 1.2h0m0.2-0.4h0m1.8-4.4h0m0.8 2.3h0m0.1-1.3h0m1.3 4.9h0m1.2-5.2h0m2.5 1.9h0m1.8 1.3h0m0.9 1.7h0m0.5-0.1h0m0.3 1h0m2.7-4.6h0m0.1-1.2h0m1.5 4.3h0m3 2.2h0m1.7 0h0m1.6-5.9h0m2.8 1.9h0m-52.2 9.6h0m1.6 1.4h0m0.3 0.7h0m1.9-2.5h0m3.9-2.3h0m0.9 0.9h0m0.5 4.3h0m0.8-6.8h0m0.4 1.2h0m0.4-1h0m1.3 2.6h0m0.2-3h0m0.3 7h0m0.3-4.3h0m1 0.8h0m0.1-2.9h0m1 0.7h0m0.6 1.6h0m0.7 0.3h0m1.1 0.5h0m0.3 1h0m0-4.6h0m1.1 3.8h0m1-3h0m0.3 4.7h0m0.2-4h0m0.4 0.8h0m0.1-0.9h0m0 3.1h0m0.8-2.5h0m0-1.1h0m0.6 5.7h0m1.1-3.4h0m0.6 1.2h0m0.1 0.9h0m0-6h0m0.9 4.7h0m0.5 0.3h0m0-0.3h0m0.2-4.2h0m0.4 2.8h0m2.2 1.2h0m0.1 1.5h0m0.7-2.2h0m0.2-2h0m0.8 3h0m0.9 2.8h0m2-7.7h0m0 7.1h0m5.7-0.7h0m1.8-1.5h0m1.6 1.2h0m1.6-0.6h0m4.3-4.4h0m1.5 5.8h0m1.7-2.9h0m15.3-1.6h0m-74.3 10.3h0m3.8 0.9h0m1.8 1.3h0m1.4-0.3h0m4.5 0.5h0m2-6.1h0m0.2 2.8h0m1.2-0.8h0m0.3 4.8h0m0.1-4.3h0m0.7-0.7h0m0.2 2.7h0m0.4-4.8h0m2.5-0.7h0m0.8 2.2h0m0.1 3.8h0m0-3.2h0m1.1 4.3h0m0.3-2h0m1.6-2.8h0m0 2.9h0m0.4 0.5h0m0.4 1.5h0m0.8-3.9h0m0.1-2.2h0m0.7 2.6h0m0.4 0h0m0.8-1.9h0m0.3 1.4h0m1 2.4h0m0.9 0.3h0m0.1-4h0m0.3 2.9h0m0.1 0h0m0.2 1.7h0m0-2.2h0m0.1-2h0m0.3-0.4h0m0.5-1.7h0m0.4 5.5h0m0-0.8h0m0-2.8h0m0.1 1.8h0m0.2 2.1h0m0.4 1.2h0m0.3-0.2h0m0.4-3.1h0m0.2 2.7h0m0.5-5.9h0m0.1 4.4h0m0 0.9h0m0.1-1.7h0m0.6-1.2h0m0.9 0.6h0m0.2 2.2h0m0 0.2h0m0.2-0.1h0m0.5-3.6h0m2.3 3.5h0m1.5-1.9h0m0.1 2.6h0m1-3.6h0m0.1 3.2h0m0.9-2.2h0m0.3-2.3h0m0.5 1h0m1.1-0.5h0m0.3 4.2h0m0.1-2.7h0m0.3-0.7h0m0.9 4.2h0m2.2 0.1h0m0.4 0.2h0m4.2-4.3h0m0.8 4.1h0m0.9-0.9h0m0.3-1h0m0.6-1.1h0m0.3 1.1h0m3.9-4.6h0m7.3 4.1h0m1.8 2.7h0m10.1-1.3h0m-71.2 6.8h0m2.1 0.5h0m0.6-1.7h0m0.2-0.7h0m4-1.7h0m27.1-0.4h0m5.1-0.8h0m0.8 2.8h0m4.1 0.5h0m0.4 3.8h0m0.1-3.5h0m1.5-2.1h0m0.9 2.7h0m3.5 2.2h0m0.9-2.1h0m0.3 0.6h0m0.4-0.7h0m4.5 1.1h0m14.7 0.5h0m3-4.8h0m10.1 2.2h0m2.2 1.4h0m0.4 1h0m5.3-0.1h0m3.1-0.2h0m0.7 1.6h0m9.7-3.4h0m1.4 1.9h0m1 0.2h0m7.2-2.6h0m2.9 0.4h0m10.2 2.3h0m-136 6.6h0m0.1-0.3h0m1.6-4h0m0.3 1.1h0m1.4 0.5h0m0.5 4.9h0m0.7 0.4h0m1.4-6.7h0m0.7 0.6h0m46.3 0.6h0m1 1.4h0m0.8-0.6h0m1.2 0h0m0.6-2h0m5.2 1.5h0m2.1-2h0m1.3 1h0m1.7-0.6h0m2.5 2.9h0m1.2-2h0m4.3 1.9h0m7.7-1.6h0m0.6 0.5h0m1.7-1.5h0m4.2 0h0m0-0.2h0m8.9 1.1h0m11.5-0.3h0m2.1 1.8h0m1.8-2.2h0m2.1 5.6h0m2.5-5.1h0m1.5 0.3h0m4.2 0.4h0m1.9 4.6h0m2.7-1.3h0m5-2.7h0m12.5 2.1h0m11.7-2.5h0m-160.3 13.3h0m1.1-4.2h0m1.5-3.3h0m0.9 5h0m1.5-0.1h0m2.1-3h0m0.5-0.3h0m1.1 4.8h0m1.2 1.1h0m107.8-0.2h0m3.2-1.7h0m0.1 2h0m2.3-6.5h0m0 4.9h0m2.7 1.7h0m0.4-1.8h0m0.1 1.5h0m1.5-6.5h0m1 2.3h0m0.2 2.9h0m1.7-4.5h0m5.4 2.9h0m3.1 2.8h0m0.4-5h0m1.3 5.2h0m3-6.7h0m0.6 4.5h0m2.7 1.6h0m-148 3.8h0m11.8-0.8h0m0-1.1h0m0.4 1.7h0m1.2 0.4h0m1.9 1.2h0m0.2 0.9h0m4.5 2.6h0m24.8 0.2h0m2.2-1.2h0m1.5-0.1h0m2.3 0.2h0m0.6 0.9h0m1-3.9h0m1.7 2.1h0m1.5-3.4h0m0 3h0m3.8-0.6h0m0.4 0.8h0m0.1-2.5h0m4.3 0h0m1.4 3.4h0m0.6-1.9h0m1.3 0.2h0m1.2-1.6h0m1.7 2.9h0m2-1.8h0m0.4 0.5h0m0.9-1.7h0m2.8-0.5h0m1.4 1.7h0m1.5 1.6h0m4 0h0m0.3-1.4h0m1.1-1.1h0m0.8-0.3h0m0.3 4.7h0m1.4-5h0m0.8 1.5h0m4.5-1.2h0m0.4 2.9h0m1.2-1.3h0m3.2-2.1h0m0.6 2.5h0m0.9-0.8h0m0.2-0.1h0m0-1.5h0m1.8 1.1h0m2.3-0.6h0m0.1 2.3h0m1.3-1.6h0m0.1 2.9h0m0.7-0.5h0m0.3-4.3h0m0.6 1.6h0m1-1.3h0m0.1 3.9h0m0.1-4.2h0m0.8 5h0m0.3 0.2h0m0-3.7h0m0.5 0.6h0m1.6-0.4h0m0.6 4.1h0m0.7-6.5h0m0.6 3.6h0m0.5-2.2h0m2.1 3.9h0m1.8-6.5h0m3.5 1.5h0m5.1-0.4h0m2.2 0.6h0m1.9-1.7h0m0.5 0.9h0m1.2 5.8h0m4.4-5.9h0m1.3 2.8h0m6.7-0.3h0m2.7-0.2h0m9.9 1.9h0m15.1 0.8h0m-165.8 5.7h0m10 1.4h0m3.7-1.9h0m0 4h0m0.1 0.1h0m1.2-1.8h0m0.1-2.9h0m0.9 3.7h0m2.3-5h0m0.5 0.5h0m0.1-0.6h0m0.4-0.5h0m3.8 1.3h0m0.1 5.9h0m0.5-4.1h0m1.2-0.6h0m0.5-1.3h0m0 2h0m1.1 1.8h0m0.5-2.7h0m0.6 4.1h0m0.2-4.6h0m0.3-1h0m0.3 0h0m0.2 2.9h0m1-1.5h0m0.8 2.1h0m1.3 1.2h0m0.1-1.9h0m0.5-1.4h0m0.9 0.9h0m0-2.5h0m0.4 2.2h0m0.4 4.3h0m0-3.5h0m1-3.3h0m0.5 1.7h0m0.2-0.5h0m1.1 5.3h0m1-4.8h0m0.3-1.8h0m0.2 6.5h0m0.2-4.7h0m2.6-1h0m0.4 2.6h0m0.4 0.2h0m0.1-3.6h0m0.1 0.8h0m0.3 4.2h0m0-1.6h0m0.2-0.4h0m0-1.6h0m3.2 0.2h0m0.3-0.5h0m0.7-1.1h0m1.8 1.5h0m0.7-0.9h0m3.1 2.8h0m11.6 2.5h0m0.1-5.9h0m1.2 0h0m0.3 0.6h0m3.8 1.3h0m0.7 1.3h0m0.9-2.3h0m2-0.5h0m6 5.6h0m7.1-6.8h0m5 0.5h0m3.7 1.4h0m3.2 4.4h0m1.5-1.3h0m3.6-5h0m11.9 1.1h0m32.3-0.1h0m-134.6 8.7h0m1.8-1.5h0m4.2 7.5h0m2.9-1.7h0m0.9-1.9h0m1.9 2.7h0m0.4-6.7h0m1.8 4.1h0m0.2-3.4h0m0 6.5h0m0.8-6h0m0.4 4h0m1.3-1.6h0m1.5-2.3h0m1.9 1.1h0m0.9-1.7h0m0.6 3.9h0m0.4-2.5h0m3.2-0.1h0m1-1.5h0m0.3 6h0m0.2-1.5h0m3.4-2.7h0m0.8 0h0m0.3 2.7h0m1.5 1h0m0.3-5.5h0m0.8-0.1h0m0.7 3.8h0m2-2.2h0m1.6-0.7h0m1.6 0.2h0m6.1 0.5h0m8.1 0.3h0m56.8-0.8h0m-111.3 8.9h0m6.8-2.1h0m0 1.2h0m1 5.3h0m2.5-1.8h0m0.8-3h0m0.1 1.1h0m0.3 4.5h0m1.8-1.9h0m0.8 0.9h0m1.1-4.4h0m2.9 2.9h0m7.6-1.6h0m0.2 1.5h0m0.1-1.4h0m0.5 0.6h0m0.3-4.3h0m6.7 4.1h0m0.2 3.1h0m0.4-4.1h0m3 0h0m2.1-3h0m43.4 1.7h0m-81 9.7h0m17-1.6h0m2.1 5.3h0m2.7-0.8h0m7.8-4.1h0m-16.5 10.1h0m2.9 1.2h0m6.6-5.5h0m1.5 1.7h0m3.5 3.4h0m0.7-3.8h0" stroke="#111" stroke-width="1.15" stroke-linecap="square" fill="none"/>
<rect x="1332.5" y="915.2" width="227.7" height="227.6" fill="none" stroke="#8c8c8c" stroke-width="1"/>
<line x1="1332.5" y1="914.7" x2="1332.5" y2="1142.8" stroke="#222" stroke-width="1.1"/>
<line x1="1332.5" y1="1142.8" x2="1560.2" y2="1142.8" stroke="#222" stroke-width="1.1"/>
<path d="M1445.8 1142.8v3.2M1428.6 1142.8v6.5M1333.5 1142.8v3.2M1337.7 1142.8v3.2M1343 1142.8v3.2M1350 1142.8v3.2M1360.1 1142.8v3.2M1361.3 1142.8v3.2M1362.6 1142.8v3.2M1364 1142.8v3.2M1365.4 1142.8v3.2M1366.8 1142.8v3.2M1368.3 1142.8v3.2M1369.8 1142.8v3.2M1371.3 1142.8v3.2M1372.8 1142.8v3.2M1374.4 1142.8v6.5M1376 1142.8v3.2M1377.5 1142.8v3.2M1379 1142.8v3.2M1380.5 1142.8v3.2M1382 1142.8v3.2M1383.4 1142.8v3.2M1384.8 1142.8v3.2M1386.2 1142.8v3.2M1387.5 1142.8v3.2M1388.7 1142.8v3.2M1398.8 1142.8v3.2M1405.8 1142.8v3.2M1411.1 1142.8v3.2M1415.3 1142.8v3.2M1418.8 1142.8v3.2M1421.7 1142.8v3.2M1424.3 1142.8v3.2M1426.6 1142.8v3.2M1428.6 1142.8v6.5M1445.8 1142.8v3.2M1455.9 1142.8v3.2M1463 1142.8v3.2M1468.6 1142.8v3.2M1473.1 1142.8v3.2M1476.9 1142.8v3.2M1480.3 1142.8v3.2M1483.2 1142.8v3.2M1485.8 1142.8v6.5M1501.6 1142.8v3.2M1510.9 1142.8v3.2M1517.5 1142.8v3.2M1522.6 1142.8v3.2M1526.7 1142.8v3.2M1530.3 1142.8v3.2M1533.3 1142.8v3.2M1536 1142.8v3.2M1538.4 1142.8v6.5M1554.2 1142.8v3.2" stroke="#222" stroke-width="1.05" fill="none"/>
<text x="1374.4" y="1159.3" font-size="8.3" text-anchor="middle" fill="#222">0</text>
<text x="1430.6" y="1159.3" font-size="8.3" text-anchor="middle" fill="#222">10<tspan font-size="6.5" dy="-4">3</tspan></text>
<text x="1487.8" y="1159.3" font-size="8.3" text-anchor="middle" fill="#222">10<tspan font-size="6.5" dy="-4">4</tspan></text>
<text x="1540.4" y="1159.3" font-size="8.3" text-anchor="middle" fill="#222">10<tspan font-size="6.5" dy="-4">5</tspan></text>
<path d="M1329.3 1016h3.2M1326 1031.1h6.5M1329.3 1142.3h3.2M1329.3 1139.5h3.2M1329.3 1136.4h3.2M1329.3 1132.7h3.2M1329.3 1128.2h3.2M1329.3 1122.6h3.2M1329.3 1115h3.2M1329.3 1104.3h3.2M1329.3 1103h3.2M1329.3 1101.6h3.2M1329.3 1100.1h3.2M1329.3 1098.7h3.2M1329.3 1097.1h3.2M1329.3 1095.6h3.2M1329.3 1094h3.2M1329.3 1092.3h3.2M1329.3 1090.7h3.2M1326 1089h6.5M1329.3 1087.3h3.2M1329.3 1085.7h3.2M1329.3 1084h3.2M1329.3 1082.4h3.2M1329.3 1080.9h3.2M1329.3 1079.3h3.2M1329.3 1077.9h3.2M1329.3 1076.4h3.2M1329.3 1075h3.2M1329.3 1073.7h3.2M1329.3 1063h3.2M1329.3 1055.4h3.2M1329.3 1049.8h3.2M1329.3 1045.3h3.2M1329.3 1041.6h3.2M1329.3 1038.5h3.2M1329.3 1035.7h3.2M1329.3 1033.3h3.2M1326 1031.1h6.5M1329.3 1016h3.2M1329.3 1007.2h3.2M1329.3 1000.9h3.2M1329.3 996.1h3.2M1329.3 992.1h3.2M1329.3 988.8h3.2M1329.3 985.9h3.2M1329.3 983.3h3.2M1326 981h6.5M1329.3 967.1h3.2M1329.3 959h3.2M1329.3 953.2h3.2M1329.3 948.8h3.2M1329.3 945.1h3.2M1329.3 942h3.2M1329.3 939.4h3.2M1329.3 937h3.2M1326 934.9h6.5M1329.3 921h3.2" stroke="#222" stroke-width="1.05" fill="none"/>
<text x="1319" y="1092" font-size="8.3" text-anchor="end" fill="#222">0</text>
<text x="1319.5" y="1034.1" font-size="8.3" text-anchor="end" fill="#222">10<tspan font-size="6.5" dy="-4">3</tspan></text>
<text x="1319.5" y="984" font-size="8.3" text-anchor="end" fill="#222">10<tspan font-size="6.5" dy="-4">4</tspan></text>
<text x="1319.5" y="937.9" font-size="8.3" text-anchor="end" fill="#222">10<tspan font-size="6.5" dy="-4">5</tspan></text>
<rect x="1398.1" y="1069.3" width="102.4" height="62.1" fill="none" stroke="#111" stroke-width="1.7"/>
<text x="1473" y="1056.5" font-size="19" text-anchor="middle" fill="#111">21.7</text>
<text transform="translate(1293 1040.8) rotate(-90)" font-size="25" text-anchor="middle" textLength="246.3" lengthAdjust="spacingAndGlyphs">CXCR6 (APC-Fire750)</text>
<text x="1320.2" y="1194.4" font-size="25" textLength="193.1" lengthAdjust="spacingAndGlyphs">FLT3 (PE-CF594)</text>
<line x1="1518.3" y1="1186.2" x2="1554.9" y2="1186.2" stroke="#000" stroke-width="1.3"/><path d="M1559.7 1186.2 1551.7 1182.2 1551.7 1190.2Z" fill="#000"/>
<path d="M188.3 1370 187.8 1370.2 187.3 1368.8 186.8 1364 186.9 1358 187.8 1353.8 188.3 1354 188.8 1355.7 189.2 1360.5 189 1366.5Z M190.8 1435.7 189.8 1436 188.5 1435 187 1430.5 186.2 1419 186.6 1416 187.6 1414 189.8 1412.1 192.3 1411.7 201 1413.5 204.6 1415 205.7 1416.5 205.2 1417.5 197.8 1420.8 195 1423.5 193.9 1426 192.3 1433.3Z M187.8 1382 186.8 1380.4 185.8 1375.6 185 1362 185.8 1348.4 186.8 1343.6 187.8 1342 188.9 1343 190.1 1347.5 191 1362 190.1 1376.5 188.9 1381Z M190.8 1442.1 189.3 1442.2 188.3 1441.6 186.5 1439 185.1 1434.5 184.4 1429 184 1419.5 184.3 1416 186 1412 188.8 1409.3 192.8 1409.2 204.8 1411.8 216.3 1415.1 244.8 1414.4 251.6 1415.5 253.8 1416.5 254.6 1417.5 254.2 1418.5 252.5 1419.5 247.3 1420.5 239.3 1420.4 216.8 1418.7 200.3 1422.3 198.2 1423.5 196.7 1425.5 194.1 1437.5 192.7 1440.5Z M187.8 1389.5 186.3 1386.8 185 1380.5 183.9 1362 185 1343.5 186.3 1337.4 187.8 1335 189.3 1336.3 190.8 1342.4 191.7 1351 192.1 1362 191.7 1373 190.8 1381.7 189.3 1388Z M190.3 1446.5 188.8 1446.3 187.1 1445 184.4 1439.5 183.1 1432.5 182.4 1420.5 182.5 1416.5 183.5 1413 185.8 1408.9 188.3 1406.3 190.3 1406.1 197.8 1408.6 215.3 1412.2 239.8 1412.3 250.8 1413.1 257.3 1414.7 260.5 1417 260.4 1418.5 258.8 1420 255.3 1421.3 250.8 1422.2 241.8 1422.5 215.3 1421.5 205.8 1422.7 200.8 1424 198.8 1425.5 197.8 1427.5 196.1 1437.5 194.5 1442.5 192.4 1445.5Z M190.3 1450 188.3 1449.6 186.5 1448 183.5 1442 181.8 1434 180.9 1419 181.9 1413 186.4 1404 187.7 1400 185.3 1389.8 184.2 1382.5 183.1 1362 183.5 1349.5 184.4 1339.5 185.9 1332.5 186.8 1330.3 187.8 1329.4 189.3 1330.5 190.8 1335.2 192.7 1352.5 192.9 1365.5 192.2 1378.5 191.1 1388 188.9 1399 189.5 1401 190.9 1403 193.8 1405.3 197.6 1407 213.8 1410.4 242.3 1410.9 254.8 1412.2 262.1 1414.5 264.1 1416 264.8 1417.5 263.9 1419.5 261.8 1421 257.8 1422.4 252.8 1423.4 242.8 1423.9 214.8 1423.2 206.7 1424 202.2 1425 200.3 1426.2 199.2 1428 197.3 1439 195.3 1445.2 192.8 1448.8Z M189.8 1453 187.8 1452.3 185.8 1450.5 182.4 1443.5 180.8 1435 179.6 1418.5 180.2 1414 184.1 1405 185.1 1400.5 182.7 1374.5 182.5 1353.5 183.2 1343 184.5 1333 186 1327 187.8 1324.6 189.3 1325.6 190.9 1330 193.1 1346 193.5 1370 191.4 1396.5 191.9 1400 193.3 1402.5 195.6 1404.5 198.8 1406 213.4 1409 243.3 1409.8 256.8 1411.3 265.1 1414 267.2 1415.5 268.2 1417.5 267.3 1419.7 264.3 1421.8 259.8 1423.3 254.3 1424.4 243.3 1425 214.4 1424.5 206.8 1425.2 202.8 1426.1 201.3 1427.1 200.2 1429 198.2 1441 196 1447.5 193.3 1451.5 191.8 1452.6Z M190.8 1455.6 188.3 1455.3 185.8 1453.4 183.5 1450 181.9 1446 179.9 1437 178.3 1418 178.9 1414 182.8 1405 183.8 1400.5 181.9 1371.5 182.1 1349 184.2 1329 185.8 1323.1 187.8 1320.4 189.3 1321.3 191 1325.5 193.4 1341.5 194.2 1366.5 192.7 1395 193.3 1399 195 1402 197.3 1404 200.3 1405.3 214.3 1408 243.3 1408.8 258.3 1410.4 263.8 1411.8 267.7 1413.5 270.3 1415.5 271.1 1417.5 270.1 1420 266.8 1422.3 262.3 1423.9 255.8 1425.2 244.3 1425.9 214.3 1425.6 206.8 1426.3 203.3 1427.2 201.8 1428.4 201.1 1430 199.2 1442 196.9 1449 194.1 1453.5Z M186.3 1456.5 182.8 1451.5 180.1 1443.5 178.9 1437 177 1417.5 177.6 1414 181.8 1404.5 182.8 1400 181.2 1368 181.6 1346 182.6 1334.5 184 1325 185.8 1319 187.8 1316.6 189.3 1317.4 191.1 1321.5 193.7 1336.5 194.8 1362 193.6 1393.5 194.3 1398 196.3 1401.4 198.8 1403.5 201.3 1404.5 214.2 1407 243.8 1407.9 260.3 1409.8 265.8 1411.2 270.3 1413.2 273.1 1415.5 273.8 1417.5 272.8 1420 269.4 1422.5 264.8 1424.3 257.8 1425.8 244.8 1426.8 213.8 1426.6 207.3 1427.2 204.1 1428 202.8 1429 201.9 1431 200.5 1441 198.5 1448.5 196.3 1453.3 193.7 1456.5 M184.1 1456.5 181.1 1450.5 179.1 1443.5 178 1436.5 177.3 1426 175.6 1417 176.4 1413.5 180.8 1404.4 181.9 1399.5 180.7 1364.5 181.4 1340.5 182.5 1329.5 184 1321 185.8 1315.3 187.8 1313.1 188.8 1313.3 189.8 1314.5 191.3 1318.3 194 1334 195.3 1360 194.4 1392.5 195.3 1397.2 197.3 1400.6 201.3 1403.5 213.8 1406 246.3 1407.2 262.3 1409.2 268.3 1410.9 272.8 1412.9 275.3 1415 276.4 1417.5 275.4 1420 271.8 1422.8 266.8 1424.8 259.8 1426.4 245.3 1427.6 213.5 1427.5 207.7 1428 204.8 1428.8 202.8 1431.2 200.1 1447 198.1 1452.5 195.9 1456.5 M182.5 1456.5 180.1 1451 178.5 1445 177.2 1437 176.3 1425.5 174.1 1417 175 1413.5 179.8 1404.4 181.2 1399 181.4 1393 180.1 1363 181 1338.5 183.7 1318.5 185.7 1312 187.8 1309.8 188.8 1310 189.8 1311.2 191.3 1314.6 194.1 1329.5 195.8 1355.5 195.1 1391.5 196 1396 198.3 1400 200.3 1401.9 202.7 1403 214.3 1405.2 245.8 1406.3 263.8 1408.6 269.8 1410.3 274.3 1412.2 277.4 1414.5 278.8 1417 277.8 1420 274 1423 268.3 1425.3 260.3 1427.1 246.3 1428.3 213.3 1428.3 205.5 1429.5 204.2 1430.5 203.5 1432 201.1 1447 197.5 1456.5 M181.3 1456.5 179.1 1451 177.5 1444.5 175.3 1425.1 172.3 1417 173.1 1414 178.3 1405.7 180.4 1398.5 180.8 1392.5 179.7 1361.5 180.6 1337 182 1324 183.6 1315 185.6 1309 187.8 1306.7 189.8 1308 191.6 1312 194.5 1327.5 196.2 1354 195.8 1390.5 196.8 1395.2 199.7 1400 201.5 1401.5 203.8 1402.4 214.6 1404.5 246.8 1405.7 263.8 1407.8 271.3 1409.7 276.3 1411.8 279.9 1414.5 281.1 1417 280.2 1420 276.3 1423.1 269.8 1425.8 261.8 1427.6 249.3 1428.9 215.3 1429 206.3 1430.1 205 1431 204.3 1432.5 202.1 1446.5 198.7 1456.5 M180.1 1456.5 178.1 1450.5 176.6 1444 174.8 1426.5 173.8 1423.8 170.6 1419 170.1 1417 171.1 1414 177.3 1405.8 179.8 1398 180.2 1391.5 179.3 1359 180.4 1332.5 181.6 1322 183.5 1312 185.6 1306 187.8 1303.8 189.8 1305 191.5 1308.5 193.1 1314.5 194.6 1323.5 196.6 1351.5 196.3 1389.1 197.3 1393.8 200.5 1399.5 204.3 1401.8 215.8 1403.9 245.3 1404.9 265.3 1407.3 272.8 1409.2 278.3 1411.5 281.9 1414 283.5 1417 283.1 1419 282.1 1420.5 278 1423.5 271.3 1426.2 262.8 1428.2 248.8 1429.6 214.8 1429.8 206.8 1430.8 205.4 1432 204.8 1433.5 203 1446 199.9 1456.5" fill="none" stroke="#3a3a3a" stroke-width="0.7" stroke-linejoin="round"/>
<path d="M204.2 1258.2h0m-8.8 15.4h0m5.5 5.9h0m6.1-1.5h0m-14 11.4h0m0.9 4.8h0m-14.2 2.3h0m16.6 0.1h0m3.3 6.3h0m6.5-1.3h0m-6.9 8.6h0m-6.3 2.9h0m3.8-1h0m0.7 4h0m-26.9 4.1h0m2.4 7.6h0m23.8-3.3h0m2.4 0h0m1.9 2.2h0m0.2-6.2h0m1.3 6.5h0m-26.6 4.5h0m20.1 1.9h0m1.5-3.8h0m3.6 0.3h0m0.1-0.7h0m1.3 6.1h0m0.6-0.7h0m0.7-3.3h0m0.4-0.1h0m-26.7 11.3h0m0.7-0.7h0m18.3-2.4h0m0.4-1.1h0m0.1 5.6h0m3.7-4h0m7.2-2.5h0m1.9 2.6h0m-32.9 11.8h0m20.7-2.2h0m2.1-3.7h0m0.7 0.7h0m1.8 3.1h0m0.9-1.3h0m4.2 2.6h0m-35.5 4.2h0m3.9 0.4h0m3.4-0.4h0m19.6-2.3h0m2.3 5.6h0m1.5-3h0m6.2 3.8h0m1.5-0.4h0m-40.6 7.3h0m4.3-1.2h0m5.1 2.2h0m18.8-7.1h0m0.3 2.4h0m1.1 2.6h0m0.4-1.6h0m1.5 2.6h0m0.1-4.7h0m0.5 2.5h0m1.5 1.7h0m4.3-3.5h0m10 4.7h0m-46 8.7h0m7.9-1.4h0m17.3-1.5h0m0.2-1.2h0m0.2 2.4h0m1.6 0.7h0m2.6-0.1h0m2.4-5.2h0m9.7 2.3h0m15-0.8h0m-61.4 13.2h0m1.7-1.8h0m1.2-2.7h0m4.5 4.5h0m21.7-1.6h0m1.4-2.8h0m2.1-2.8h0m0.4-0.2h0m0 2.2h0m1.4 5h0m1.7-3.5h0m3.2 1.9h0m2.9-3.9h0m7.7-1.2h0m64.3 4.2h0m-104.7 3.8h0m0.5-1h0m19.6 1.5h0m2.1 2.4h0m2.2 3.5h0m1.2-6.3h0m0.8 1.4h0m0.2 1h0m3.3-1.2h0m7.4 1.1h0m81.7 2.8h0m27-3.5h0m-152.3 12.5h0m7.6-3.1h0m2.1-1.6h0m18.4-0.5h0m1.2 3.4h0m2.7-5h0m0.8-0.1h0m1.6 6.5h0m0.2-5.1h0m0.8-1.2h0m1.5 5.5h0m2.4-1.3h0m2.1 1.7h0m3.6-6.1h0m5.3 0.6h0m6.4-0.3h0m13.5 5.1h0m8.1 1.6h0m34.5-0.3h0m14.3-2.2h0m-124.7 4.8h0m2.8-1.1h0m2.7 0.5h0m24.5-0.7h0m7.8 1h0m0.8 1.5h0m7.8-2.2h0m7.3 0.6h0m3.7 1.7h0m4.3-0.7h0m10.8-1.9h0m0.4 3.8h0m1.4-0.7h0m1.9-0.4h0m6.7 2.7h0m5.7-2h0m0.8 1.3h0m4.5-0.5h0m5.3 3h0m4.1 0.2h0m23.6-4.2h0m-139 6.3h0m8 2.3h0m0.4 3h0m0.8-3.1h0m113.7-0.8h0m2.8 2.3h0m1.3-3.4h0m7.1 4.3h0m0.2-5.9h0m2.5 4.3h0m0.5 1.8h0m20-2.8h0m6.6-2.6h0m-171 11.7h0m8.8 0.7h0m3.6 2.3h0m2.1-3.3h0m3.1 3.1h0m0.1-0.1h0m1.9-0.8h0m104.9 1h0m4.4 0h0m1.9-7.5h0m1.5 3.9h0m1.2-3.9h0m9.7 2.7h0m4.1 4h0m5.9-3.6h0m12.4 2.2h0m13.3-3.6h0m-168.3 8.7h0m2.3 4.4h0m4.5-4.4h0m1 0.1h0m36.1 3.9h0m3.2 1.2h0m3.7-0.3h0m3.3-1h0m1.1-0.1h0m2.6-0.7h0m2 1.8h0m3.6-1.2h0m1.6 1.2h0m1.7-1.1h0m2.6-0.7h0m36.8-1.6h0m4.4-0.8h0m3.4 2.2h0m14-4.9h0m19.9 0h0m0.6 3.2h0m6.9-1.1h0m-159 5.9h0m7.4 3.2h0m0.1 0.1h0m2.9 3.5h0m1.7-7h0m0.5 0.9h0m0.8-0.4h0m0.1-0.7h0m0.1 6.7h0m32.8-5h0m1.9 1h0m0.1 0.4h0m3 1.6h0m3.5 2.9h0m0.4-6.8h0m1.2 1.5h0m1.2-2h0m5.6 6.6h0m1.3-1.6h0m1.5-2.9h0m0.6 1.2h0m0.6-3.7h0m1.1 3.9h0m5.3-1h0m5 4.8h0m1.5-7.3h0m0.1 6.5h0m3.1-4.8h0m3.1-0.1h0m2.1 3.3h0m9.3-3.5h0m0.2-0.7h0m1.8 5.4h0m0.7-5h0m1.2 2.9h0m4.2-2.8h0m0.3-1.6h0m1.5 6h0m0.4-2.1h0m5.9-3h0m0.6 3.4h0m0.5 1.4h0m0.3-5.9h0m1 1h0m0.2-0.1h0m0.8 4.2h0m0-0.1h0m9.3 0.3h0m15.2-1.6h0m-128.5 7.4h0m0.9-1h0m1.2 4.4h0m31-0.2h0m1.9 1.7h0m1.5-3.4h0m2.6-4.6h0m1.9 0.9h0m0.1 0.2h0m0.7 0.5h0m1.1-1.4h0m0.2 1.9h0m3.8-0.2h0m6.6 3h0m3.3-3.4h0m2.1 3.9h0m5.3-4.8h0m15.6 1.1h0m3.5 1.9h0m0.6-2.1h0m3.3 3.5h0m4.6-4.2h0m0.8 0.4h0m0.2 5.6h0m39.9 0.6h0m-104.1 3.4h0m0.9-2.6h0m4.2 0.4h0m1.2 2h0m5.9 3.2h0m11.2-5.6h0m16.6 1.4h0m2.4 2.5h0m11.9 0.4h0m13.7-3.9h0m0.6 2.6h0m0.3-0.6h0m15.2 4.7h0" stroke="#111" stroke-width="1.15" stroke-linecap="square" fill="none"/>
<rect x="147.8" y="1228" width="228" height="228.2" fill="none" stroke="#8c8c8c" stroke-width="1"/>
<line x1="147.8" y1="1227.5" x2="147.8" y2="1456.2" stroke="#222" stroke-width="1.1"/>
<line x1="147.8" y1="1456.2" x2="375.8" y2="1456.2" stroke="#222" stroke-width="1.1"/>
<path d="M259 1456.2v3.2M241 1456.2v6.5M149 1456.2v3.2M150.9 1456.2v3.2M153.2 1456.2v3.2M155.7 1456.2v3.2M158.7 1456.2v3.2M162.3 1456.2v3.2M166.9 1456.2v3.2M173 1456.2v3.2M181.7 1456.2v3.2M182.8 1456.2v3.2M183.9 1456.2v3.2M185.1 1456.2v3.2M186.3 1456.2v3.2M187.5 1456.2v3.2M188.8 1456.2v3.2M190.1 1456.2v3.2M191.4 1456.2v3.2M192.8 1456.2v3.2M194.1 1456.2v6.5M195.4 1456.2v3.2M196.8 1456.2v3.2M198.1 1456.2v3.2M199.4 1456.2v3.2M200.7 1456.2v3.2M201.9 1456.2v3.2M203.1 1456.2v3.2M204.3 1456.2v3.2M205.4 1456.2v3.2M206.5 1456.2v3.2M215.2 1456.2v3.2M221.3 1456.2v3.2M225.9 1456.2v3.2M229.5 1456.2v3.2M232.5 1456.2v3.2M235 1456.2v3.2M237.3 1456.2v3.2M239.2 1456.2v3.2M241 1456.2v6.5M259 1456.2v3.2M269.6 1456.2v3.2M277.1 1456.2v3.2M282.9 1456.2v3.2M287.6 1456.2v3.2M291.6 1456.2v3.2M295.1 1456.2v3.2M298.2 1456.2v3.2M300.9 1456.2v6.5M316.8 1456.2v3.2M326.1 1456.2v3.2M332.7 1456.2v3.2M337.8 1456.2v3.2M342 1456.2v3.2M345.5 1456.2v3.2M348.6 1456.2v3.2M351.3 1456.2v3.2M353.7 1456.2v6.5M369.6 1456.2v3.2" stroke="#222" stroke-width="1.05" fill="none"/>
<text x="194.1" y="1472.7" font-size="8.3" text-anchor="middle" fill="#222">0</text>
<text x="243" y="1472.7" font-size="8.3" text-anchor="middle" fill="#222">10<tspan font-size="6.5" dy="-4">3</tspan></text>
<text x="302.9" y="1472.7" font-size="8.3" text-anchor="middle" fill="#222">10<tspan font-size="6.5" dy="-4">4</tspan></text>
<text x="355.7" y="1472.7" font-size="8.3" text-anchor="middle" fill="#222">10<tspan font-size="6.5" dy="-4">5</tspan></text>
<path d="M144.6 1343.7h3.2M141.3 1361.6h6.5M144.6 1455.6h3.2M144.6 1452.9h3.2M144.6 1449.7h3.2M144.6 1445.8h3.2M144.6 1440.9h3.2M144.6 1434.4h3.2M144.6 1425h3.2M144.6 1423.9h3.2M144.6 1422.7h3.2M144.6 1421.5h3.2M144.6 1420.2h3.2M144.6 1418.9h3.2M144.6 1417.5h3.2M144.6 1416.1h3.2M144.6 1414.7h3.2M144.6 1413.2h3.2M141.3 1411.8h6.5M144.6 1410.4h3.2M144.6 1408.9h3.2M144.6 1407.5h3.2M144.6 1406.1h3.2M144.6 1404.7h3.2M144.6 1403.4h3.2M144.6 1402.1h3.2M144.6 1400.9h3.2M144.6 1399.7h3.2M144.6 1398.6h3.2M144.6 1389.2h3.2M144.6 1382.7h3.2M144.6 1377.8h3.2M144.6 1373.9h3.2M144.6 1370.7h3.2M144.6 1368h3.2M144.6 1365.6h3.2M144.6 1363.5h3.2M141.3 1361.6h6.5M144.6 1343.7h3.2M144.6 1333.2h3.2M144.6 1325.8h3.2M144.6 1320h3.2M144.6 1315.3h3.2M144.6 1311.3h3.2M144.6 1307.9h3.2M144.6 1304.8h3.2M141.3 1302.1h6.5M144.6 1286.2h3.2M144.6 1276.9h3.2M144.6 1270.3h3.2M144.6 1265.2h3.2M144.6 1261h3.2M144.6 1257.5h3.2M144.6 1254.4h3.2M144.6 1251.7h3.2M141.3 1249.3h6.5M144.6 1233.4h3.2" stroke="#222" stroke-width="1.05" fill="none"/>
<text x="134.3" y="1414.8" font-size="8.3" text-anchor="end" fill="#222">0</text>
<text x="134.8" y="1364.6" font-size="8.3" text-anchor="end" fill="#222">10<tspan font-size="6.5" dy="-4">3</tspan></text>
<text x="134.8" y="1305.1" font-size="8.3" text-anchor="end" fill="#222">10<tspan font-size="6.5" dy="-4">4</tspan></text>
<text x="134.8" y="1252.3" font-size="8.3" text-anchor="end" fill="#222">10<tspan font-size="6.5" dy="-4">5</tspan></text>
<rect x="160.2" y="1309" width="48.1" height="89" fill="none" stroke="#111" stroke-width="1.7"/>
<rect x="160.2" y="1398.6" width="47.7" height="55.6" fill="none" stroke="#111" stroke-width="1.7"/>
<rect x="212.3" y="1402" width="91.2" height="51.6" fill="none" stroke="#111" stroke-width="1.7"/>
<text x="192.2" y="1274.9" font-size="19" text-anchor="middle" fill="#111">16.0</text>
<text x="149.8" y="1451.8" font-size="19" fill="#111">65.1</text>
<text x="319.3" y="1438.4" font-size="19" fill="#111">15.7</text>
<text transform="translate(104.8 1411.3) rotate(-90)" font-size="25" text-anchor="middle" textLength="107.4" lengthAdjust="spacingAndGlyphs">IL7R (PE)</text>
<line x1="97.6" y1="1349.8" x2="97.6" y2="1234.4" stroke="#000" stroke-width="1.3"/><path d="M97.6 1229.6 93.6 1237.6 101.6 1237.6Z" fill="#000"/>
<text x="132.1" y="1508.4" font-size="25" textLength="183.2" lengthAdjust="spacingAndGlyphs">CSF1-R (BV711)</text>
<line x1="318.7" y1="1500.5" x2="366.7" y2="1500.5" stroke="#000" stroke-width="1.3"/><path d="M371.5 1500.5 363.5 1496.5 363.5 1504.5Z" fill="#000"/>
<path d="M490.3 1402.6 488.3 1402.9 486.8 1402 485.5 1400 484.8 1397 484.8 1394 485.8 1391 487.3 1389.1 488.8 1388.5 490.3 1388.8 491.8 1390.2 493.2 1394.5 492.7 1399.5Z M490.8 1405.5 488.3 1405.9 485.8 1404.5 484 1401.5 483 1397.5 483.1 1393 484.3 1389.1 486.3 1386.4 488.8 1385.3 490.8 1385.8 492.8 1387.6 494.3 1390.5 495 1394 495 1397.5 494.2 1401 492.8 1403.8Z M490.3 1408.2 487.3 1408 484.6 1406 482.5 1402 481.5 1397 481.9 1391.5 483.4 1387 485.8 1383.9 488.8 1382.7 491.8 1383.6 494 1386 495.6 1389.5 496.5 1394.5 496.2 1399.5 494.9 1403.5 492.8 1406.6Z M490.8 1410.1 487.3 1410.1 483.8 1407.5 481.4 1403 480.3 1397 480.6 1391 482.4 1385.5 485.3 1381.8 488.8 1380.3 491.8 1381.1 494.7 1384 496.6 1388 497.7 1393.5 497.5 1399 496.2 1404 493.8 1407.9Z M490.3 1412.1 488.3 1412.2 486.3 1411.6 482.8 1408.5 480.2 1403 479.1 1396.5 479.6 1390 481.6 1384 484.8 1379.7 486.8 1378.5 488.8 1378 492.3 1379 495.6 1382.5 497.9 1388 498.9 1394 498.5 1400 496.7 1406 493.8 1410.1Z M491.3 1413.5 489.3 1413.9 486.8 1413.6 482.7 1410.5 479.5 1404.5 478.1 1397 478.6 1389 481 1382 484.8 1377.2 488.8 1375.7 492.8 1376.9 496.1 1380.5 498.6 1386 499.9 1393 499.6 1400 498 1406 494.9 1411Z M489.8 1415.6 487.3 1415.4 485.3 1414.6 481.1 1410.5 478.1 1403.5 477 1396 477.9 1387 480.4 1380 484.3 1375.1 486.3 1373.9 488.8 1373.3 491.3 1373.7 493.3 1374.8 497 1379 499.7 1385.5 501 1394 500.3 1402 498.1 1408.5 494.3 1413.5 492.3 1414.8Z M490.8 1417 488.3 1417.2 485.8 1416.6 483.3 1415 481 1412.5 477.6 1405.5 476.1 1396.5 476.7 1387.5 479.6 1378.5 483.8 1373 486.3 1371.5 488.8 1371 491.3 1371.3 493.3 1372.3 497.6 1377 500.5 1384 501.9 1393 501.5 1401 499 1409 495.3 1414.4Z M491.3 1418.6 488.3 1418.9 485.8 1418.3 483.3 1416.8 480.6 1414 478.5 1410.5 476.7 1406 475.1 1396.5 475.7 1387 478.5 1377.5 480.8 1373.7 483.3 1370.9 485.8 1369.3 488.8 1368.6 491.3 1369 493.8 1370.2 496.3 1372.5 498.4 1375.5 501.6 1383.5 502.9 1392.5 502.4 1401 500 1409.5 496.1 1415.5 493.8 1417.4Z M489.8 1420.5 486.8 1420.3 484.3 1419.2 481.5 1417 479.1 1414 477 1410 475.5 1405.5 474.1 1395 475 1384.5 478.3 1375 480.4 1371.5 483.3 1368.6 485.8 1367.1 488.8 1366.5 491.3 1366.8 494.3 1368.3 496.8 1370.6 499.2 1374 502.5 1382.5 503.9 1393 503.1 1403 500 1412 497.8 1415.5 495.3 1418.1 492.8 1419.7Z" fill="none" stroke="#3a3a3a" stroke-width="0.7" stroke-linejoin="round"/>
<path d="M485 1283.2h0m4.1 14.6h0m-11.4 10.6h0m3.9-3.2h0m2.9 4h0m3 1.8h0m3.9-1.1h0m1.6 1.1h0m2.5-1.6h0m-17.4 4.3h0m6.5 0.6h0m0.1 1.1h0m2.4 3.6h0m1.3-1.6h0m3 2.4h0m2.2-4.1h0m0.3 1.2h0m0.2-2.8h0m1.7-1.6h0m6.1 1.7h0m-28.9 13.1h0m4.7-5.6h0m4.5 4.7h0m0.3-2h0m0.1 0.9h0m0.3 2.4h0m0.4-0.4h0m1.1-0.4h0m5.9-5.2h0m0.4-1.3h0m3.3 6.3h0m1 0.3h0m4.8-5.1h0m0.3-0.5h0m0.2 4.9h0m2.1-2.7h0m-27.4 7.7h0m2.4 1.5h0m0.8 0.6h0m3.1 0.9h0m0.6-2.3h0m1.6-0.4h0m0.1 1.9h0m0.1-3.6h0m1.6-0.5h0m2.2 4.1h0m1.1-5.5h0m0.1 7.5h0m0.2 0.2h0m0.3-1.6h0m0.7-4.2h0m3 4.9h0m0.9-1.6h0m2.6-0.1h0m-18.2 7.2h0m1.8 1.5h0m1-1.2h0m1.5-0.8h0m0.4-0.5h0m0.1 1.9h0m0.4 2.2h0m3.8-7.1h0m0.1 3h0m0.1 2.2h0m0.5 0.8h0m1.5 0.4h0m0.3-5.6h0m0.1 3.7h0m1.2 0.1h0m2.1-1.5h0m0.9 4h0m1.2-3.4h0m-19.5 5.2h0m1.5 4.6h0m3.6-1.1h0m0.7-3.6h0m0.1 1.3h0m0.5-2.1h0m1.4 6.1h0m0.7-3.4h0m0.4 1.6h0m0.1-1.7h0m0.2 0.6h0m0.5 0.5h0m0.4 1.1h0m0.6-3.8h0m0.1-0.1h0m0.3 4.8h0m0.5 1h0m0-0.4h0m0.9-5.3h0m0.9 1.4h0m0.3-2.6h0m0.4 7.9h0m0.1-4.8h0m0.2 4h0m0.4-6.4h0m0.3 6.7h0m1-4.3h0m0.2 2.7h0m0.3-4.7h0m1.2 4.8h0m0.3 1.6h0m0.2-7.2h0m1.3 5.2h0m2 2h0m1.4 0.2h0m0.2-1.7h0m9.6 0.1h0m-34.1 7.3h0m1.5-2.7h0m0.1 1.6h0m0.5 0.8h0m3.4 0.9h0m0.2-3h0m2.1 3.2h0m1.6-3h0m0.3-2.3h0m0.2 2.7h0m1.7 0.2h0m0.3-3.9h0m0.2 5.7h0m0.1-2.9h0m0.1 0.5h0m0-2.4h0m0.2-0.3h0m0.2 0.8h0m0.3 4.6h0m0.3-3.9h0m0.1-1.3h0m0.7 5.5h0m0.6-3.3h0m1.4 2.7h0m1.5 1.7h0m0.2-1.5h0m0.4 0.3h0m0.4-3.8h0m0.3 1.6h0m0.4 1.7h0m0-0.2h0m0.1 0.8h0m1.9-5.6h0m0.1 7.1h0m0.2 0.1h0m2.4 0h0m0.3-0.5h0m2.1-3.9h0m-27.2 9.4h0m3.2-3.8h0m0.5 4h0m0.2 2.2h0m1-4.3h0m0 0.4h0m1.5-1.4h0m1-1.9h0m0 7.2h0m0.4-2.5h0m0.2 2.5h0m0.4 0.5h0m0.3-0.5h0m0.3-0.6h0m0 1.3h0m0.1-0.6h0m0.3-6.7h0m0.1 3.6h0m0-2.7h0m0.1-0.9h0m0.4 2.1h0m0.1-2.2h0m0.6 6.9h0m0.1-6h0m0.5 2.6h0m0.3 0.7h0m0.1-3.3h0m0.1 3.9h0m0-0.6h0m1.3-3.2h0m0.1-0.7h0m0.1 2.5h0m0.8-0.9h0m0.2 1.4h0m0.1 1h0m0.1 1.2h0m0.9-4.6h0m0.8-0.4h0m0.5 0.4h0m0 0.8h0m0.2 1.9h0m0 0.4h0m0.3-2.3h0m0.3-0.1h0m0.5 2.7h0m0.2 1.6h0m0.3-1.5h0m2 0.2h0m1.2 2.7h0m0.4-2.5h0m1.2 2.4h0m1.1-1h0m1.3-3.4h0m0.2 1h0m1.1 0.2h0m1.1-0.8h0m0.4 1.4h0m-27.4 6.5h0m0.4 0.2h0m1 1.4h0m0.1 1h0m1.7-2.2h0m0.8-3.7h0m0.8 4.5h0m1.7-4.5h0m0.7 0.1h0m13.3 0.2h0m0.1 0.4h0m4.1 2.3h0m0.6 2.1h0m3.5 2.4h0m-38.4 6.8h0m9.2-0.1h0m0.7-2.6h0m2.3-3.4h0m24.4 2.2h0m1.3 1.6h0m3.7-2.5h0m0.4-1.9h0m-49.7 8.9h0m11.5 1.9h0m4.6 3.9h0m0.5 0.5h0m30.2-4.7h0m0.3 4.8h0m0-5.7h0m0.7 4.2h0m0.4 1h0m0.5-2h0m0.2-0.3h0m1.9-0.7h0m8 1.3h0m-45.8 10.8h0m0.1-3.7h0m1-2.2h0m32.6-0.7h0m0.1 3.3h0m0-3.1h0m0.4 5.4h0m0.2-2h0m0.7 0.9h0m0.5-0.1h0m2.1-1.8h0m1.9-1h0m-39.8 9.1h0m0.7 0.2h0m2.1 3.4h0m0.8-5h0m0 4.4h0m29.8-3.8h0m7-0.5h0m4.5 3.6h0m-44 6.9h0m0.8-2.3h0m0.2-0.6h0m3.1 0.3h0m0.6 5.1h0m0.5-1.1h0m0.5-4.5h0m0.6 1.1h0m1.2 2.2h0m1.3 1.6h0m18.6 0.9h0m0.4-1.1h0m2.1-3.6h0m1.4 1.3h0m1.3-4.2h0m2 0.5h0m0.2 4.6h0m3-4.8h0m-33.2 13.8h0m0.2-6.2h0m1.2 2h0m1.7 5.4h0m0.7-7.2h0m0.6 0.8h0m1.1 6.3h0m1.2-3.6h0m0-1.5h0m1.8 0.9h0m0.1 2.7h0m1.6-2.2h0m2.1 3.7h0m0.1-2.7h0m0.7 0.9h0m0.2 0.1h0m0.1 2.2h0m0.3-2.2h0m0.5-0.3h0m0.3-0.7h0m0.5 2.1h0m0.8 0.2h0m0.2-2.3h0m0.4 1.4h0m3.3-1.8h0m0.5 2.5h0m0.3-2.3h0m0 2h0m2-5.6h0m0.1 0.4h0m0.2 4.5h0m1.1-1.1h0m0.8-1.8h0m1.3 4.4h0m1.9-1.6h0m0.4-3.6h0m0.6 4.2h0m-32.8 6.7h0m8.8-4.2h0m1.9 2.2h0m0-2.1h0m0.4 0.7h0m1.6 3.8h0m1.5-0.6h0m1.2 2.2h0m0-1.3h0m1.3-4.1h0m0.1 1.3h0m0.5 1h0m0.6 3h0m1.8-1.7h0m0.1-1.6h0m1.3-0.4h0m2.4 2.6h0m0.1-1h0m3.1-1.2h0m0.6-0.2h0m2.6 2h0m-21.4 5.2h0m4.2-0.3h0m2.8 2.1h0m0.3 2.1h0m0.2-0.5h0m0.3-4.4h0m4.3 2.6h0m2.1 1.8h0m0-2.5h0m0.4 4.1h0m0-7h0m1.4 7.1h0m2.7-4.4h0m2 3.9h0m3.2-7.3h0m-26.8 8.2h0m10 3.4h0m3.9-1h0m2.4 1.4h0m10.6-3.6h0m-16 13.3h0" stroke="#111" stroke-width="1.15" stroke-linecap="square" fill="none"/>
<rect x="446.8" y="1228" width="228" height="228.2" fill="none" stroke="#8c8c8c" stroke-width="1"/>
<line x1="446.8" y1="1227.5" x2="446.8" y2="1456.2" stroke="#222" stroke-width="1.1"/>
<line x1="446.8" y1="1456.2" x2="674.8" y2="1456.2" stroke="#222" stroke-width="1.1"/>
<path d="M557.9 1456.2v3.2M540 1456.2v6.5M449.1 1456.2v3.2M451.1 1456.2v3.2M453.3 1456.2v3.2M455.8 1456.2v3.2M458.8 1456.2v3.2M462.4 1456.2v3.2M466.9 1456.2v3.2M472.9 1456.2v3.2M481.5 1456.2v3.2M482.5 1456.2v3.2M483.6 1456.2v3.2M484.8 1456.2v3.2M486 1456.2v3.2M487.2 1456.2v3.2M488.5 1456.2v3.2M489.7 1456.2v3.2M491 1456.2v3.2M492.4 1456.2v3.2M493.7 1456.2v6.5M495 1456.2v3.2M496.4 1456.2v3.2M497.7 1456.2v3.2M498.9 1456.2v3.2M500.2 1456.2v3.2M501.4 1456.2v3.2M502.6 1456.2v3.2M503.8 1456.2v3.2M504.9 1456.2v3.2M505.9 1456.2v3.2M514.5 1456.2v3.2M520.5 1456.2v3.2M525 1456.2v3.2M528.6 1456.2v3.2M531.6 1456.2v3.2M534.1 1456.2v3.2M536.3 1456.2v3.2M538.3 1456.2v3.2M540 1456.2v6.5M557.9 1456.2v3.2M568.4 1456.2v3.2M575.9 1456.2v3.2M581.7 1456.2v3.2M586.4 1456.2v3.2M590.4 1456.2v3.2M593.8 1456.2v3.2M596.9 1456.2v3.2M599.6 1456.2v6.5M615.6 1456.2v3.2M625 1456.2v3.2M631.6 1456.2v3.2M636.8 1456.2v3.2M641 1456.2v3.2M644.6 1456.2v3.2M647.6 1456.2v3.2M650.4 1456.2v3.2M652.8 1456.2v6.5M668.8 1456.2v3.2" stroke="#222" stroke-width="1.05" fill="none"/>
<text x="493.7" y="1472.7" font-size="8.3" text-anchor="middle" fill="#222">0</text>
<text x="542" y="1472.7" font-size="8.3" text-anchor="middle" fill="#222">10<tspan font-size="6.5" dy="-4">3</tspan></text>
<text x="601.6" y="1472.7" font-size="8.3" text-anchor="middle" fill="#222">10<tspan font-size="6.5" dy="-4">4</tspan></text>
<text x="654.8" y="1472.7" font-size="8.3" text-anchor="middle" fill="#222">10<tspan font-size="6.5" dy="-4">5</tspan></text>
<path d="M443.6 1301.9h3.2M440.3 1322.2h6.5M443.6 1455.4h3.2M443.6 1452.6h3.2M443.6 1449.4h3.2M443.6 1445.7h3.2M443.6 1441.3h3.2M443.6 1436.1h3.2M443.6 1429.5h3.2M443.6 1420.6h3.2M443.6 1408h3.2M443.6 1406.5h3.2M443.6 1404.8h3.2M443.6 1403.2h3.2M443.6 1401.4h3.2M443.6 1399.6h3.2M443.6 1397.8h3.2M443.6 1395.9h3.2M443.6 1394h3.2M443.6 1392.1h3.2M440.3 1390.1h6.5M443.6 1388.1h3.2M443.6 1386.2h3.2M443.6 1384.3h3.2M443.6 1382.4h3.2M443.6 1380.6h3.2M443.6 1378.8h3.2M443.6 1377h3.2M443.6 1375.4h3.2M443.6 1373.7h3.2M443.6 1372.2h3.2M443.6 1359.6h3.2M443.6 1350.7h3.2M443.6 1344.1h3.2M443.6 1338.9h3.2M443.6 1334.5h3.2M443.6 1330.8h3.2M443.6 1327.6h3.2M443.6 1324.8h3.2M440.3 1322.2h6.5M443.6 1301.9h3.2M443.6 1290h3.2M443.6 1281.6h3.2M443.6 1275.1h3.2M443.6 1269.8h3.2M443.6 1265.2h3.2M443.6 1261.3h3.2M443.6 1257.9h3.2M440.3 1254.8h6.5M443.6 1234.5h3.2" stroke="#222" stroke-width="1.05" fill="none"/>
<text x="433.3" y="1393.1" font-size="8.3" text-anchor="end" fill="#222">0</text>
<text x="433.8" y="1325.2" font-size="8.3" text-anchor="end" fill="#222">10<tspan font-size="6.5" dy="-4">3</tspan></text>
<text x="433.8" y="1257.8" font-size="8.3" text-anchor="end" fill="#222">10<tspan font-size="6.5" dy="-4">4</tspan></text>
<rect x="458.1" y="1360.6" width="50.8" height="95.6" fill="none" stroke="#111" stroke-width="1.7"/>
<text x="531.2" y="1438.4" font-size="19" fill="#111">97.6</text>
<text transform="translate(406.7 1382.3) rotate(-90)" font-size="25" text-anchor="middle" textLength="163.5" lengthAdjust="spacingAndGlyphs">MHCII (AF700)</text>
<line x1="400.5" y1="1292.6" x2="400.5" y2="1234.4" stroke="#000" stroke-width="1.3"/><path d="M400.5 1229.6 396.5 1237.6 404.5 1237.6Z" fill="#000"/>
<text x="434" y="1508.4" font-size="25" textLength="161.6" lengthAdjust="spacingAndGlyphs">XCR1 (BV650)</text>
<line x1="604.5" y1="1499.5" x2="668.6" y2="1499.5" stroke="#000" stroke-width="1.3"/><path d="M673.4 1499.5 665.4 1495.5 665.4 1503.5Z" fill="#000"/>
<rect x="753.7" y="1401.4" width="125.6" height="54.2" fill="#F8EEEA"/>
<path d="M777.9 1412.1 776.4 1405.7 775.9 1394.5 776.4 1371 776.9 1366 777.9 1363.1 778.9 1365 779.5 1369.5 780.1 1394.5 779.4 1407.3 778.4 1411.7Z M778.9 1446.2 777.4 1446.3 775.6 1444.5 774.5 1441.5 773.9 1437.5 774.9 1428.2 776.9 1421.6 777.9 1419.9 778.9 1421.1 780.4 1425.6 782.1 1435 781.4 1442.1 780.4 1444.6Z M777.9 1450.5 775.9 1449.6 773.9 1446.5 772.6 1442 772.2 1436.5 774.2 1417.5 773.7 1395 774.5 1365.5 775.9 1354.7 776.9 1351.9 777.9 1350.9 778.9 1351.5 780 1354.5 781.5 1365 782.3 1394.5 781.8 1417.5 783.8 1436.5 783.4 1442 782.1 1446.5 780.2 1449.5Z M778.9 1453.5 777.4 1453.6 775.9 1452.9 773.3 1449.5 771.6 1444 770.9 1437 772.6 1418 772.3 1392.5 773.4 1361.5 775.2 1349 776.4 1345.7 777.9 1344.3 779.4 1345.4 780.8 1349 782.6 1361.5 783.7 1392.5 783.4 1417.5 785.1 1436 784.8 1442 783.5 1447.5 781.4 1451.6Z M776.4 1456 773.8 1453.5 771.6 1449 770.2 1443 769.8 1436 771.3 1418 771.2 1390.5 772.6 1358.5 774.7 1344.5 776.4 1340.4 777.9 1339.3 779.6 1340.5 781.3 1344.5 783.5 1359 784.8 1390.5 784.7 1418 786.2 1436 785.8 1443 784.6 1448.5 782.4 1453.3 779.6 1456 M773.6 1456 771.6 1452.5 770.2 1448.5 768.8 1439 770.3 1417 770.5 1380 771.6 1359 773 1347 775.1 1338.5 776.4 1336 777.9 1335 779.4 1335.8 780.9 1338.5 783.1 1347.5 784.6 1361 785.5 1381.5 785.7 1417 787.2 1439 785.6 1449 782.4 1456 M772 1456 769.1 1448 767.9 1438.5 769.4 1417 769.3 1393.5 770.1 1370 771.2 1354 772.8 1342.5 775.1 1334.5 776.4 1332.3 777.9 1331.4 779.4 1332 780.7 1334 783 1341.5 784.7 1352.5 785.8 1367.5 786.7 1392.5 786.6 1417.5 788.1 1438 787 1447.5 784 1456 M770.7 1456 768.2 1448 767.1 1438 768.5 1417.5 768.5 1390.5 769.6 1365 770.7 1350.5 772.6 1338.5 775 1331 776.4 1328.9 777.9 1328.1 779.4 1328.7 780.7 1330.5 783.2 1337.5 785.1 1349 786.3 1363 787.5 1391.5 787.5 1417 788.9 1437.5 788 1447 785.3 1456 M769.6 1456 767.1 1447 766.3 1437.5 767.8 1417 767.8 1390.5 769.1 1362 770.6 1345.5 772.5 1335 774.9 1327.9 776.4 1325.8 777.9 1325 779.4 1325.6 780.9 1327.5 783.7 1335.5 785.7 1347.5 787 1364 788.2 1390 788.3 1417.5 789.7 1437.5 788.8 1447.5 786.4 1456 M768.7 1456 766.3 1446.5 765.6 1437 767 1417.5 767.2 1388.5 768.6 1359.5 770.1 1343.5 772.2 1332.5 774.9 1324.9 776.4 1322.9 777.9 1322.2 779.4 1322.7 780.9 1324.5 783.7 1332 786 1345 787.5 1361.5 788.8 1388 788.9 1416.5 790.4 1437.5 789.6 1447 787.3 1456 M767.8 1456 765.6 1447 764.9 1437 766.4 1416.5 766.6 1386.5 768.1 1357.5 769.7 1342 772 1329.5 774.9 1322 776.4 1320.2 777.9 1319.6 779.4 1320 780.9 1321.7 783.7 1328.5 786.1 1340.5 787.7 1355.5 789.4 1387.5 789.6 1417 791.1 1437 790.3 1447.5 788.2 1456 M767 1456 765 1447.5 764.3 1437 765.7 1416.5 766 1384.5 767.6 1356 769.2 1340.5 771.7 1327.5 774.5 1320 776.4 1317.7 777.9 1317 779.4 1317.5 781.2 1319.5 784.1 1327 786.6 1339.5 788.2 1354 790 1386 790.3 1417.5 791.7 1436.5 791.1 1446.5 789 1456" fill="none" stroke="#3a3a3a" stroke-width="0.7" stroke-linejoin="round"/>
<path d="M785.8 1308.2h0m-18.2 5.3h0m3.2 0.2h0m5.9 2.7h0m2.7-1h0m0.6 1.1h0m2.3 0.4h0m1.7 0.1h0m-12.5 9.5h0m15.1-1.3h0m-21.5 5.8h0m4 4h0m20.5 4.5h0m1.2 9.9h0m1.4 1.7h0m-26.5 6.8h0m28.1 1.1h0m-4.5 8.9h0m5.3-1h0m-35.5 14.6h0m35.7 0.7h0m-3.7 7.8h0m3.9 0.7h0m11.6-0.4h0m15.3-5.7h0m-27.6 12.6h0m5.3 2.7h0m9.1-5.2h0m25.8 5.3h0m3-4.1h0m-73.4 7.2h0m0.4 0.2h0m1 3.8h0m25.5-0.8h0m2.2 1.5h0m1.5-2.8h0m0.4-1.8h0m0.1 3.5h0m0.5-0.2h0m2 0.7h0m5.1 0h0m3.5 0.6h0m5.8-3.8h0m2.8-1.3h0m2.9 3.9h0m0.6-3.2h0m1.4 3.4h0m0.6-5.9h0m4 3h0m1.1 0.5h0m0.9-1.7h0m3.5 3h0m4.4-1.4h0m5.5 0.6h0m5.9 2.7h0m-84.7 4.9h0m29.9 3.1h0m4.3 0.4h0m0.3-3.2h0m3.6-4.2h0m0.7 6.3h0m0.9-0.8h0m0.5 1.8h0m1.7-0.1h0m0.4-5.8h0m0.3 1.3h0m0.5 3.9h0m1.5-3.8h0m6.1 4.1h0m4.7-2.6h0m0.2 0.7h0m0.6 2.1h0m0.5 0.3h0m0.5-0.8h0m3.2-1h0m8.1-1.8h0m2.5-0.6h0m0.8-1.1h0m7.7-1.9h0m-77.7 9.8h0m29.1-1.6h0m0.2 4.9h0m0.2 0.2h0m0.3-2.8h0m0.2 3.9h0m0.2-4.1h0m0.5-1.3h0m0.1 0.5h0m1.8 1.4h0m1.1-0.3h0m0.3 3.4h0m2.1-4.9h0m0.6 0.7h0m0.1 1.5h0m0.4-4h0m0.9 6.5h0m0.3-5.6h0m0.5-0.1h0m1.9 2h0m4.7-2.1h0m0.2 3.4h0m0.4-1h0m0.7-0.4h0m0.5 2.3h0m0.6-4.7h0m0.4 6.9h0m2.2-4.7h0m0.4 2.2h0m0 2.7h0m0-2.7h0m1.1 2.8h0m0.5-0.1h0m0.1-2.8h0m0.4 1h0m0.6-4.1h0m3.8 1.2h0m0.5-0.5h0m1.2-2.2h0m0.2 1.2h0m0.6-0.7h0m2.1 4h0m3.2 1.4h0m2 0.2h0m0 0.9h0m0-5.4h0m2.8 0.4h0m0.1 4.5h0m0.8 0.7h0m7.4-5.1h0m0.5 1.6h0m13.9 3.4h0m-110.1 1.6h0m17.4 4h0m30.7-3h0m0 0.1h0m0.8 1.8h0m0.7 1.4h0m1.1-0.4h0m0.5-4.6h0m0.3 7.3h0m2.2-6.3h0m2.3-0.6h0m0 6.2h0m0.4-5.2h0m0.4-0.8h0m0.1 5h0m0.1-0.4h0m1.5-1.1h0m1.4 1.2h0m0.5 1.1h0m0-3.4h0m0.6 2.1h0m0.3-4.6h0m0.7 7.2h0m0.3-2.3h0m0.6-1.6h0m1 1.5h0m0.1 0.1h0m3-1.1h0m0-0.4h0m0.1 3.3h0m1.1-7h0m0.1 4h0m1.3-3.4h0m0.5-0.5h0m0.1 5.4h0m0.1-3.5h0m0.8 0.6h0m0.3 4.8h0m1.9-7.2h0m2.6 6h0m0-3.9h0m0.2 0h0m0.1-1.7h0m0.4 3.8h0m0.3-4.1h0m3 4.2h0m0-1.1h0m2.4-1.3h0m1.8 5.2h0m2.2-3h0m0.7-1.3h0m2.1 3.2h0m3.4-3h0m1.2 0.5h0m3.5-0.4h0m1.9-0.4h0m0.6 4.2h0m2.9-5.5h0m8.1 0h0m-105.2 6.4h0m4.9 3.4h0m0.3-3.3h0m1.8 1h0m5.1 1.8h0m29.2 4.7h0m0.5-0.7h0m0.3-3.5h0m0 1.3h0m0 0.8h0m0.7-4.7h0m1.5 0.9h0m5 5.4h0m2.5 0.3h0m2.8-6.4h0m0.9 2.7h0m1.1-1.4h0m0.2 1.4h0m1.7 0.9h0m0.5 1.3h0m0.2-1.1h0m1.7 1.1h0m1.9-0.3h0m2.8 0.7h0m0.8-0.5h0m1.5-1.1h0m0.9-0.2h0m1.8 2.4h0m0.8-0.8h0m0.6 0.7h0m2.4-7h0m1.7 6.2h0m1.9 0.2h0m2.7-2.8h0m2-2.6h0m4.6 2.1h0m7.6-2h0m0.8 4.2h0m1.6 1.6h0m-55.2 3.2h0m0.5 0.1h0m1.4 2.5h0m5.3-2.5h0m0.3-1.4h0m0.1 3.6h0m0.2-1.2h0m2.6 4.2h0m1-5.8h0m0.8 1.8h0m0.5-1.7h0m0.2 4.8h0m1.4 0.7h0m1.6-5.8h0m0.8-0.3h0m2.7 2.6h0m0.1-3.6h0m5.3 2.7h0m0.6-1.1h0m1.6 4h0m2-4.5h0m2.3 2.3h0m4.5 4.2h0m4-6.5h0m4.6 2.9h0m0.5-3.1h0m-31.6 10.8h0m42.7-3h0" stroke="#111" stroke-width="1.15" stroke-linecap="square" fill="none"/>
<rect x="742.9" y="1228" width="228" height="227.8" fill="none" stroke="#8c8c8c" stroke-width="1"/>
<line x1="742.9" y1="1227.5" x2="742.9" y2="1455.8" stroke="#222" stroke-width="1.1"/>
<line x1="742.9" y1="1455.8" x2="970.9" y2="1455.8" stroke="#222" stroke-width="1.1"/>
<path d="M857.4 1455.8v3.2M841 1455.8v6.5M746.7 1455.8v3.2M754.4 1455.8v3.2M765.5 1455.8v3.2M766.9 1455.8v3.2M768.3 1455.8v3.2M769.8 1455.8v3.2M771.3 1455.8v3.2M772.9 1455.8v3.2M774.5 1455.8v3.2M776.2 1455.8v3.2M777.9 1455.8v3.2M779.6 1455.8v3.2M781.3 1455.8v6.5M783 1455.8v3.2M784.7 1455.8v3.2M786.4 1455.8v3.2M788.1 1455.8v3.2M789.7 1455.8v3.2M791.3 1455.8v3.2M792.8 1455.8v3.2M794.3 1455.8v3.2M795.7 1455.8v3.2M797.1 1455.8v3.2M808.2 1455.8v3.2M815.9 1455.8v3.2M821.7 1455.8v3.2M826.3 1455.8v3.2M830.2 1455.8v3.2M833.4 1455.8v3.2M836.2 1455.8v3.2M838.8 1455.8v3.2M841 1455.8v6.5M857.4 1455.8v3.2M867.1 1455.8v3.2M873.9 1455.8v3.2M879.2 1455.8v3.2M883.5 1455.8v3.2M887.1 1455.8v3.2M890.3 1455.8v3.2M893.1 1455.8v3.2M895.6 1455.8v6.5M911.5 1455.8v3.2M920.8 1455.8v3.2M927.4 1455.8v3.2M932.5 1455.8v3.2M936.7 1455.8v3.2M940.2 1455.8v3.2M943.3 1455.8v3.2M946 1455.8v3.2M948.4 1455.8v6.5M964.3 1455.8v3.2" stroke="#222" stroke-width="1.05" fill="none"/>
<text x="781.3" y="1472.3" font-size="8.3" text-anchor="middle" fill="#222">0</text>
<text x="843" y="1472.3" font-size="8.3" text-anchor="middle" fill="#222">10<tspan font-size="6.5" dy="-4">3</tspan></text>
<text x="897.6" y="1472.3" font-size="8.3" text-anchor="middle" fill="#222">10<tspan font-size="6.5" dy="-4">4</tspan></text>
<text x="950.4" y="1472.3" font-size="8.3" text-anchor="middle" fill="#222">10<tspan font-size="6.5" dy="-4">5</tspan></text>
<path d="M739.7 1338.4h3.2M736.4 1354.3h6.5M739.7 1356.8h3.2M739.7 1359.5h3.2M739.7 1362.7h3.2M739.7 1366.3h3.2M739.7 1370.6h3.2M739.7 1375.8h3.2M739.7 1382.5h3.2M739.7 1392h3.2M736.4 1408.3h6.5M739.7 1454.3h3.2M739.7 1450.5h3.2M739.7 1445.1h3.2M736.4 1437.4h6.5M739.7 1429.7h3.2M739.7 1424.3h3.2M739.7 1420.5h3.2M739.7 1417.7h3.2M739.7 1415.4h3.2M739.7 1413.6h3.2M739.7 1412h3.2M739.7 1410.6h3.2M739.7 1409.4h3.2M736.4 1408.3h6.5M739.7 1392h3.2M739.7 1382.5h3.2M739.7 1375.8h3.2M739.7 1370.6h3.2M739.7 1366.3h3.2M739.7 1362.7h3.2M739.7 1359.5h3.2M739.7 1356.8h3.2M736.4 1354.3h6.5M739.7 1338.4h3.2M739.7 1329.1h3.2M739.7 1322.5h3.2M739.7 1317.4h3.2M739.7 1313.2h3.2M739.7 1309.7h3.2M739.7 1306.6h3.2M739.7 1303.9h3.2M736.4 1301.5h6.5M739.7 1285.8h3.2M739.7 1276.6h3.2M739.7 1270.1h3.2M739.7 1265h3.2M739.7 1260.9h3.2M739.7 1257.4h3.2M739.7 1254.4h3.2M739.7 1251.7h3.2M736.4 1249.3h6.5M739.7 1233.6h3.2" stroke="#222" stroke-width="1.05" fill="none"/>
<text x="729.4" y="1440.4" font-size="8.3" text-anchor="end" fill="#222">0</text>
<text x="729.9" y="1411.3" font-size="8.3" text-anchor="end" fill="#222">10<tspan font-size="6.5" dy="-4">2</tspan></text>
<text x="729.9" y="1357.3" font-size="8.3" text-anchor="end" fill="#222">10<tspan font-size="6.5" dy="-4">3</tspan></text>
<text x="729.9" y="1304.5" font-size="8.3" text-anchor="end" fill="#222">10<tspan font-size="6.5" dy="-4">4</tspan></text>
<text x="729.9" y="1252.3" font-size="8.3" text-anchor="end" fill="#222">10<tspan font-size="6.5" dy="-4">5</tspan></text>
<rect x="753.7" y="1401.4" width="125.6" height="54.2" fill="none" stroke="#DD6236" stroke-width="1.7"/>
<text x="918.3" y="1390.1" font-size="19" text-anchor="middle" fill="#D9603B">CDP/MDP</text>
<text x="918.3" y="1411.8" font-size="19" text-anchor="middle" fill="#D9603B">56.9</text>
<text transform="translate(705.7 1379.3) rotate(-90)" font-size="25" text-anchor="middle" textLength="169.4" lengthAdjust="spacingAndGlyphs">CD27 (PE-Cy7)</text>
<line x1="699.6" y1="1289.7" x2="699.6" y2="1234.4" stroke="#000" stroke-width="1.3"/><path d="M699.6 1229.6 695.6 1237.6 703.6 1237.6Z" fill="#000"/>
<text x="732.7" y="1508.4" font-size="25" textLength="186.6" lengthAdjust="spacingAndGlyphs">Siglec-H (AF647)</text>
<line x1="919.3" y1="1499.5" x2="967.7" y2="1499.5" stroke="#000" stroke-width="1.3"/><path d="M972.5 1499.5 964.5 1495.5 964.5 1503.5Z" fill="#000"/>
<rect x="147.2" y="1607.9" width="48.9" height="105.1" fill="#E6E8F5"/>
<path d="M172.7 1692.7 170.7 1692.1 168.7 1689.2 167.4 1685.1 166.9 1680.6 167.2 1675.6 168.2 1671.6 170.2 1668.2 172.2 1667.1 174.2 1667.8 176.2 1670.5 177.5 1674.6 177.9 1679.1 177.6 1684.1 176.6 1688.1 174.7 1691.5Z M173.7 1699.1 172.2 1699.5 170.7 1699 167.7 1695.4 165.5 1689.1 164.6 1681.6 165 1674.6 166.5 1668.1 169.2 1663.5 172.2 1661.9 175.2 1663.1 177.7 1666.6 179.4 1671.6 180.2 1678.1 179.9 1685.1 178.5 1691.6 176.2 1696.7Z M173.2 1706.6 171.2 1706.7 169.7 1705.8 166.5 1700.6 163.9 1692.1 162.7 1681.6 163.3 1672.6 165.3 1665.1 168.2 1660.1 170.2 1658.4 172.2 1657.8 174.2 1658.2 175.7 1659.1 178.9 1663.6 181 1670.1 182.1 1679.1 181.5 1688.1 179.5 1696.6 176.7 1703 175.2 1705.1Z M173.2 1715.2 171.2 1715.3 169.2 1714 167.2 1711.2 165.4 1707.1 162.4 1695.1 161.1 1682.1 161.9 1671.1 164.2 1662.6 167.7 1656.6 169.7 1654.9 172.2 1654.2 174.2 1654.5 176.2 1655.7 180 1661.1 182.5 1669.1 183.6 1679.6 182.9 1690.6 180.4 1702.1 176.9 1711.1 175.2 1713.7Z" fill="none" stroke="#3a3a3a" stroke-width="0.7" stroke-linejoin="round"/>
<path d="M202.7 1731.6 187.7 1731.9 176.5 1730.6 174.2 1729.6 174 1728.6 174.6 1728.1 178.7 1726.9 185.2 1726.2 232.2 1727 238.7 1727.7 241.3 1729.1 239.2 1730.2 233.2 1731 213.7 1731Z M200.2 1733.1 181.2 1732.9 173.7 1732 168.5 1730.6 166.7 1729.1 168 1727.6 173.2 1726.1 180.7 1725.1 193.7 1724.7 235.2 1725.6 245.7 1727 248.6 1728.1 249.2 1729.1 248.2 1730.1 245.7 1731 237.7 1732.2Z M201.2 1734.1 179.2 1733.8 170.2 1732.7 163.7 1731.1 161.9 1730.1 161.2 1729.1 161.6 1728.1 163.2 1727.1 168.7 1725.5 177.2 1724.4 193.7 1723.7 237.7 1724.7 250.2 1726.4 253.5 1727.6 254.7 1729.1 253.7 1730.2 250.7 1731.4 241.2 1733Z M194.7 1735.1 182.2 1734.9 171.7 1734 163.7 1732.7 158.2 1730.8 156.7 1729.6 156.6 1728.6 159.2 1726.7 165.7 1724.9 174.2 1723.7 193.2 1722.9 238.7 1723.9 253.7 1725.9 258.1 1727.6 259.1 1729.1 257.8 1730.6 254.7 1731.8 242.7 1733.8Z M206.7 1735.6 190.7 1735.9 177.2 1735.4 164.7 1734 156.7 1732.1 154.2 1731 152.5 1729.6 152.7 1728.1 153.9 1727.1 160.2 1724.9 169.7 1723.3 192.7 1722.1 240.2 1723.2 250.2 1724.2 256.7 1725.5 261.3 1727.1 262.6 1728.1 262.9 1729.1 261.8 1730.6 258.7 1732 246.7 1734.2 234.7 1735Z M216.7 1736.1 188.7 1736.5 169.2 1735.4 154.2 1732.7 150.3 1731.1 148.6 1729.1 148.9 1728.1 150.7 1726.7 156.2 1724.7 166.2 1722.9 178.2 1721.8 200.2 1721.5 234.7 1722.3 248.2 1723.2 258.7 1724.9 264.9 1727.1 266.1 1728.1 266.2 1729.6 263.2 1731.7 257.2 1733.4 246.7 1735Z M147.2 1726.6 155.7 1723.8 168.7 1721.9 185.2 1720.9 203.2 1720.8 237.2 1721.7 251.7 1722.9 264.7 1725.5 268.2 1727.1 269.6 1729.1 267.9 1731.1 264.2 1732.7 250.2 1735.3 235.2 1736.4 201.7 1737.2 182.2 1737 167.2 1735.9 154.7 1734 147.2 1731.4 M147.2 1725 159.7 1722.3 179.7 1720.4 199.2 1720.1 230.7 1720.8 248.2 1721.8 261.7 1723.8 269.7 1726.2 271.9 1727.6 272.5 1729.1 271.6 1730.6 269.1 1732.1 259.2 1734.7 245.7 1736.4 228.2 1737.3 197.2 1737.9 177.7 1737.5 160.2 1735.8 147.2 1733 M147.2 1723.9 161.2 1721.3 180.7 1719.8 201.2 1719.4 233.7 1720.3 250.2 1721.4 263.7 1723.4 272.6 1726.1 274.7 1727.6 275.4 1729.1 274.5 1730.6 272.1 1732.1 262.7 1734.8 248.2 1736.8 231.2 1737.8 202.2 1738.5 181.7 1738.3 162.7 1736.8 147.2 1734.1 M147.2 1723 164.2 1720.3 185.2 1719 206.2 1718.8 235.7 1719.8 254.7 1721.3 267.2 1723.3 275.4 1726.1 277.5 1727.6 278.1 1729.1 277.3 1730.6 275.1 1732.1 266.2 1734.9 253.2 1736.9 233.2 1738.4 203.2 1739.2 182.2 1738.9 161.7 1737.4 147.2 1735" fill="none" stroke="#3a3a3a" stroke-width="0.7" stroke-linejoin="round"/>
<path d="M167.4 1607.9h0m11.5 14.3h0m-9.6 4.6h0m1.7 4.4h0m2.8-5.9h0m5.4 2.4h0m-12.2 11.5h0m2.5 0h0m1-2.4h0m1.1 0.3h0m0.8 1h0m4.2-0.2h0m4.1-4.8h0m-21.6 13.2h0m4.2-3.3h0m2.7 2.9h0m2.4-3.8h0m1.6 2h0m1.8-3.1h0m1.3 3.2h0m0.6-1.7h0m0.2 2.9h0m1.5-0.3h0m2.9-0.1h0m3.7 2.5h0m0.6-1h0m1.4-0.6h0m2.6 0.5h0m9 0.6h0m3.1-1.7h0m-38.9 3.5h0m5.8 4.6h0m0.2-4.3h0m0.3 6.7h0m1.4-2.5h0m2.4 0.7h0m1.3-2.8h0m0.7-0.2h0m0.9-2.3h0m0.7 3.7h0m0.6 0.7h0m1.4-4.3h0m0.8 7h0m0.4 0.2h0m0.7-6.8h0m0.1 6.1h0m1.2-7.2h0m1.7 4.3h0m0.1-2.9h0m0.6 1.8h0m0-0.2h0m1 4.4h0m0.1-2h0m0.9-3.5h0m0.1 1.7h0m2.3-0.2h0m4.6 0.4h0m-41.3 10.8h0m6.1-2.7h0m1.8-0.6h0m1.7-2.1h0m5.1 6.3h0m1.1-4.8h0m1.3-1.8h0m13.1 0.4h0m3.5 4.8h0m0.3-0.2h0m1.1-1.8h0m1.4-1.6h0m0.3-1.2h0m0.6 5.2h0m2.8-5.5h0m0.1 5.8h0m10-1.4h0m-44.6 8.6h0m1.5-1.3h0m2.8-1.9h0m23-1.2h0m0.5 0.5h0m0.9 5.2h0m0.2-0.6h0m0.4-0.6h0m0.8-1.2h0m1.3-4.6h0m0.1 3.5h0m0.1 3.5h0m1.8-0.8h0m0.1 0.3h0m2.9-2.2h0m0.2 2.5h0m1.4 0h0m1.9-6.6h0m1 6.6h0m2.4-6.1h0m2.1 4.8h0m4-5.6h0m-49.1 9.5h0m0.7 3h0m2.1 0.6h0m1.5 2h0m0.2 0.2h0m0.9-2.3h0m0.3-1.8h0m0.3 2.7h0m22.4-5.7h0m0.3 3.1h0m1.1 2.6h0m0.2-4.3h0m0.6 3.8h0m0-3.1h0m0 0.1h0m0.1-0.8h0m0-1.3h0m0.1 5.2h0m0.4-3.3h0m0.8 2.3h0m1.6-4.3h0m0.3-0.2h0m0.3 1.2h0m0.2 6h0m1.5-6.4h0m7.5 3.3h0m-43 6.2h0m4.7 1.6h0m24.6-1.6h0m0.1-1.8h0m0.1 6.7h0m0.7-3.8h0m0.1 0.1h0m0.2-0.6h0m0.3 1.9h0m0.8-3.7h0m1.3 4.1h0m0.7 1.4h0m0.7-0.6h0m0.3-5.1h0m3.6 4h0m0.6-4.9h0m1.5 3.8h0m1.8 2.8h0m3.4-4.6h0m-52.3 7.1h0m13.1 6.3h0m22.2-5.9h0m0 0.8h0m0.1 2.5h0m0.6-0.4h0m1-1.1h0m0.3-1.4h0m0.6 2.4h0m0.4-4.3h0m1.5 7.1h0m0.9-4h0m1 4.2h0m3.4-5.5h0m7.2 0.7h0m12.7-1.9h0m-61.6 8.2h0m2.7 5.5h0m1.8-5.4h0m1.6 3.3h0m1.2-3.6h0m0.8 2.3h0m1 0.3h0m20.1 3.6h0m0.7-2.2h0m0.5 2.5h0m2.1-5.8h0m0.2 1.5h0m1.1 2.3h0m3.8 2.5h0m5.3-7.1h0m1.5 0h0m1.3 4.2h0m5.2 0.6h0m8.2-5.2h0m-56.1 8.8h0m4.6 5h0m1 1.6h0m0.2-5.8h0m0.5-0.1h0m0.5 0.1h0m0.4 2.8h0m0.4-0.8h0m1.9-2.5h0m13.7 5h0m0.1 0.4h0m0.7-0.3h0m0 1h0m2.3-2.8h0m4.2-0.2h0m2.8-3.3h0m1.4-1.2h0m5 7.8h0m3.6-3.5h0m0.3-3.7h0m1.3 3.5h0m1 2.5h0m55.5-0.8h0m43-0.1h0m-147.7 6.9h0m6.1-0.6h0m0.8-3.2h0m3.1 1.1h0m0.7 0.7h0m2.9 3.3h0m0.8-4.2h0m1.7 5h0m0.1-1.9h0m0-1.8h0m0.1-2.5h0m1.4 3.1h0m3 0.5h0m2.6 2.7h0m0.5-1.1h0m0.7-3.8h0m0.4 3.1h0m0.8-3.6h0m0.5 0.8h0m1.6 1.6h0m1.7 0h0m0.1 2.1h0m3.7-5.6h0m0.1 1.4h0m0 0.7h0m1 3.1h0m3.7-5.3h0m0.1 4.9h0m2.6 0h0m1-0.1h0m3-0.9h0m8.5-2.3h0m0.3 3.6h0m10.9-0.5h0m2.9-2.4h0m1.4 1.8h0m1 0.8h0m1.3-0.1h0m5.4-1h0m4.1-0.4h0m3.7-1.1h0m8.9 3.3h0m4.1-2h0m0.6 1.4h0m7.7 2h0m1.2-2.6h0m0.2-2.8h0m13.7 5.5h0m0.8 0.5h0m5.9-5.3h0m-124 6.6h0m7-0.4h0m0.1-0.5h0m94.3 0.4h0m4.7 0h0m15.3 5.2h0m1.2 0.8h0m1.3-2.4h0m0.1-1.8h0m5.4 0.9h0m7.7 4.6h0m7.4-1.1h0m-39.3 9.1h0m7.5-0.5h0m3.3 0.3h0m3-2.1h0m2 1.4h0m0.3-0.3h0m1.4-2.1h0m0.2-0.6h0m0.7-2.1h0m0.7 2.7h0m2.6 2.7h0m8.5-1.8h0m2.7 0.1h0m4.9-3.6h0m38.6 2.2h0m-154.9 8.8h0m6 2.2h0m2.6-0.3h0m3.3-2.4h0m11 0.5h0m2.5 1.6h0m3.4-3.5h0m9.8 0.2h0m3.6-0.2h0m3.3 0.2h0m0.4 0.6h0m5.9 2.2h0m3.6-0.3h0m0.2 1.2h0m6.5-1.4h0m3.1 0.3h0m1.6-3.3h0m0.8 0h0m4 0.3h0m3 3.2h0m3.4-0.9h0m4.6 2.3h0m2.5-0.7h0m0.2-1.4h0m23.9-4.3h0m21 1.8h0m-152.4 5.1h0m53.3 3.8h0m8.8 0.8h0m1.3-4.5h0m4.1 3.1h0m16.9-0.7h0m31.2 0.3h0m6.4 1.8h0" stroke="#111" stroke-width="1.15" stroke-linecap="square" fill="none"/>
<rect x="147.2" y="1537.6" width="228.2" height="228" fill="none" stroke="#8c8c8c" stroke-width="1"/>
<line x1="147.2" y1="1537.1" x2="147.2" y2="1765.6" stroke="#222" stroke-width="1.1"/>
<line x1="147.2" y1="1765.6" x2="375.4" y2="1765.6" stroke="#222" stroke-width="1.1"/>
<path d="M264.6 1765.6v3.2M248.7 1765.6v6.5M147.3 1765.6v3.2M149.2 1765.6v3.2M151.1 1765.6v3.2M153.1 1765.6v3.2M155.1 1765.6v3.2M157.2 1765.6v3.2M159.4 1765.6v3.2M161.6 1765.6v3.2M163.9 1765.6v3.2M166.2 1765.6v3.2M168.5 1765.6v6.5M170.8 1765.6v3.2M173.1 1765.6v3.2M175.4 1765.6v3.2M177.6 1765.6v3.2M179.8 1765.6v3.2M181.9 1765.6v3.2M183.9 1765.6v3.2M185.9 1765.6v3.2M187.8 1765.6v3.2M189.7 1765.6v3.2M204.6 1765.6v3.2M215 1765.6v3.2M222.8 1765.6v3.2M229 1765.6v3.2M234.1 1765.6v3.2M238.5 1765.6v3.2M242.3 1765.6v3.2M245.7 1765.6v3.2M248.7 1765.6v6.5M264.6 1765.6v3.2M273.9 1765.6v3.2M280.5 1765.6v3.2M285.6 1765.6v3.2M289.8 1765.6v3.2M293.3 1765.6v3.2M296.4 1765.6v3.2M299.1 1765.6v3.2M301.5 1765.6v6.5M317.1 1765.6v3.2M326.3 1765.6v3.2M332.7 1765.6v3.2M337.8 1765.6v3.2M341.9 1765.6v3.2M345.4 1765.6v3.2M348.4 1765.6v3.2M351 1765.6v3.2M353.4 1765.6v6.5M369 1765.6v3.2" stroke="#222" stroke-width="1.05" fill="none"/>
<text x="168.5" y="1782.1" font-size="8.3" text-anchor="middle" fill="#222">0</text>
<text x="250.7" y="1782.1" font-size="8.3" text-anchor="middle" fill="#222">10<tspan font-size="6.5" dy="-4">3</tspan></text>
<text x="303.5" y="1782.1" font-size="8.3" text-anchor="middle" fill="#222">10<tspan font-size="6.5" dy="-4">4</tspan></text>
<text x="355.4" y="1782.1" font-size="8.3" text-anchor="middle" fill="#222">10<tspan font-size="6.5" dy="-4">5</tspan></text>
<path d="M144 1650.1h3.2M140.7 1666.7h6.5M144 1765.3h3.2M144 1757.2h3.2M144 1745.6h3.2M144 1744.1h3.2M144 1742.6h3.2M144 1741.1h3.2M144 1739.5h3.2M144 1737.9h3.2M144 1736.2h3.2M144 1734.4h3.2M144 1732.7h3.2M144 1730.9h3.2M140.7 1729.1h6.5M144 1727.3h3.2M144 1725.5h3.2M144 1723.8h3.2M144 1722h3.2M144 1720.3h3.2M144 1718.7h3.2M144 1717.1h3.2M144 1715.6h3.2M144 1714.1h3.2M144 1712.6h3.2M144 1701h3.2M144 1692.9h3.2M144 1686.9h3.2M144 1682h3.2M144 1678h3.2M144 1674.6h3.2M144 1671.7h3.2M144 1669h3.2M140.7 1666.7h6.5M144 1650.1h3.2M144 1640.4h3.2M144 1633.5h3.2M144 1628.1h3.2M144 1623.7h3.2M144 1620.1h3.2M144 1616.8h3.2M144 1614h3.2M140.7 1611.5h6.5M144 1595.7h3.2M144 1586.4h3.2M144 1579.8h3.2M144 1574.7h3.2M144 1570.6h3.2M144 1567h3.2M144 1564h3.2M144 1561.3h3.2M140.7 1558.9h6.5M144 1543.1h3.2" stroke="#222" stroke-width="1.05" fill="none"/>
<text x="133.7" y="1732.1" font-size="8.3" text-anchor="end" fill="#222">0</text>
<text x="134.2" y="1669.7" font-size="8.3" text-anchor="end" fill="#222">10<tspan font-size="6.5" dy="-4">3</tspan></text>
<text x="134.2" y="1614.5" font-size="8.3" text-anchor="end" fill="#222">10<tspan font-size="6.5" dy="-4">4</tspan></text>
<text x="134.2" y="1561.9" font-size="8.3" text-anchor="end" fill="#222">10<tspan font-size="6.5" dy="-4">5</tspan></text>
<rect x="147.2" y="1607.9" width="48.9" height="105.1" fill="none" stroke="#2E3192" stroke-width="1.7"/>
<rect x="209.5" y="1715.9" width="77.8" height="29.2" fill="none" stroke="#111" stroke-width="1.7"/>
<text x="206" y="1579" font-size="19" text-anchor="middle" fill="#393E99">tDC/pre-pDC</text>
<text x="206" y="1600.6" font-size="19" text-anchor="middle" fill="#393E99">12.6</text>
<text x="301.5" y="1738" font-size="19" fill="#111">38.7</text>
<text transform="translate(105.4 1680.9) rotate(-90)" font-size="25" text-anchor="middle" textLength="188.2" lengthAdjust="spacingAndGlyphs">Siglec-H (AF647)</text>
<line x1="99.6" y1="1586.8" x2="99.6" y2="1544.4" stroke="#000" stroke-width="1.3"/><path d="M99.6 1539.6 95.6 1547.6 103.6 1547.6Z" fill="#000"/>
<text x="132.7" y="1818.4" font-size="25" textLength="169.8" lengthAdjust="spacingAndGlyphs">CD27 (PE-Cy7)</text>
<line x1="308.8" y1="1809.9" x2="367.7" y2="1809.9" stroke="#000" stroke-width="1.3"/><path d="M372.5 1809.9 364.5 1805.9 364.5 1813.9Z" fill="#000"/>
<rect x="461.6" y="1716.5" width="62.1" height="39.8" fill="#E6F5EC"/>
<path d="M495 1733.1 491 1732.8 487.7 1731.6 486 1730.1 485.9 1728.1 488.3 1726.1 492.5 1725 497.5 1725.1 502 1726.5 503.9 1728.6 503.2 1730.6 500 1732.3Z M498 1734.7 491.5 1734.6 486 1733.2 482.9 1731.1 482.1 1729.6 482.2 1728.1 483.1 1726.6 485.3 1725.1 491 1723.4 498 1723.3 504 1724.8 507.7 1727.1 508.6 1728.6 508.4 1730.1 507.1 1731.6 504.5 1733Z M496.5 1736.1 489.5 1735.7 483 1733.7 479.6 1730.6 479.3 1728.6 479.8 1727.1 481.8 1725.1 484.5 1723.6 492.5 1721.9 501.5 1722.4 509.5 1725.1 513.1 1728.1 513.5 1729.6 512.6 1731.1 506 1734.4Z M499 1737.1 492.5 1737.2 486.5 1736.3 481.5 1734.5 478.2 1732.1 476.9 1729.1 478 1726.1 481.5 1723.5 486.5 1721.7 495.5 1720.7 505 1721.8 511.5 1723.8 527 1730.6 524.9 1731.6 517.5 1732.7 506 1736Z M499.5 1738.1 492 1738.2 484.5 1736.9 479 1734.6 475.6 1731.6 474.9 1729.6 474.9 1728.1 476.7 1725.1 481 1722.3 487 1720.5 496.5 1719.7 506.5 1720.9 534 1728.6 537.1 1730.6 536.3 1732.1 532.5 1733.4 517 1735Z M498.5 1739.1 490 1738.9 482.5 1737.4 477 1734.9 473.7 1731.6 473 1728.1 475.1 1724.6 479.5 1721.8 486 1719.7 497 1718.8 510 1720.3 537.1 1727.6 540.6 1729.1 541.9 1730.6 541.8 1731.6 540.5 1732.8 535 1734.6Z M504 1739.6 494 1740 485 1739 477.5 1736.4 472.9 1733.1 471.7 1731.1 471.2 1729.1 471.6 1727.1 473 1724.8 478 1721.3 485.5 1718.9 492.5 1718.1 499 1718 516.5 1720.3 540.5 1727.2 544 1728.8 545.5 1730.6 545.1 1732.1 543.9 1733.1 537.5 1735.3Z M503 1740.6 493 1740.8 483.5 1739.5 476 1736.8 471.2 1733.1 469.8 1730.6 469.6 1728.6 470.1 1726.6 471.5 1724.6 476.5 1721 484.5 1718.3 491.5 1717.3 499.5 1717.2 519 1719.4 525 1720.9 543.5 1726.9 546.9 1728.6 548.4 1730.6 548.1 1732.1 546.4 1733.6 540 1735.9Z M499 1741.6 489.5 1741.2 480 1739.3 473.5 1736.5 469.2 1732.6 468.3 1730.6 468.1 1728.1 470.2 1724.1 475.5 1720.4 483.5 1717.7 490 1716.7 499 1716.4 511.5 1717.2 520.5 1718.5 528 1720.3 545.5 1726.4 549.6 1728.6 551 1730.6 550.3 1732.6 548.4 1734.1 540 1736.8 515.5 1740.4Z" fill="none" stroke="#3a3a3a" stroke-width="0.7" stroke-linejoin="round"/>
<path d="M492.7 1711.1h0m8.4 0.8h0m-25.9 7.2h0m32.4-3h0m14.2 0.6h0m5.4-1.4h0m-69.9 8.3h0m15.2-1.3h0m56-2.1h0m4.9 1.7h0m8.2 1.5h0m9.9 4.4h0m1.4 0.1h0m5-0.7h0m0.2-1.6h0m3.1 2.1h0m0.7-1.7h0m0.1 0.8h0m0.1-0.2h0m0.2-3h0m2.3 3.5h0m0.6-3h0m0.2 2.1h0m0.4 1.3h0m0.1 0.2h0m2.6 0.3h0m0.2-1.7h0m0.4-2.9h0m0.6 4.5h0m0.7-0.9h0m1.2-1.4h0m0.5 2.3h0m0.3-2.2h0m0.6-0.7h0m0.4 2.9h0m0.3-0.7h0m0.2-1.3h0m0.6 1.8h0m0.2-1.4h0m0.3 1.6h0m0.6-0.1h0m0.1-0.1h0m0.9-0.9h0m0.1 0.6h0m0.6 0.1h0m0.1-0.3h0m0.3-2.7h0m1.3 1.3h0m0 0.5h0m0.8-0.2h0m0.3 1h0m0.7 0.8h0m0.7 0h0m0.5 0h0m0.3-0.7h0m0.1-0.7h0m0.2 0.7h0m1.5-1.2h0m0.3 0.4h0m0.1 0.8h0m0-0.7h0m0.3 0.5h0m0.9-1.6h0m0.1-1.9h0m0.8 3.4h0m0.4 0.5h0m0.4 0.4h0m0.5-0.4h0m0.2-1.8h0m2.4 0.8h0m0.2 0.8h0m0.5 0h0m1.7 0.6h0m0.6-2.7h0m1 2.3h0m0.6 0.6h0m0.9-4.1h0m0 0.3h0m1.2 2.3h0m2.6 0.9h0m0.9-0.5h0m0.6-0.1h0m0 0.4h0m1.9-1.3h0m0.5-1.1h0m0 2.5h0m6.1 0.5h0m2.9-0.4h0m0.2-1.7h0m6.5 0.9h0m0.4 0.1h0m1 1h0m-157.3 7.8h0m0.4-1.4h0m81.7 1.8h0m2.3-0.4h0m2.4 0.1h0m0.1-6.4h0m0.4 2.5h0m0-2.5h0m0.3-0.1h0m0.6 3.9h0m0.1-0.3h0m0.7-3.4h0m0.1 0.3h0m0.4-0.6h0m0.1 5.4h0m0-5.7h0m0.2 0.7h0m0 2.9h0m0 0.7h0m0.1-0.3h0m0 2.7h0m0.3-2.6h0m0.3-1.7h0m0-0.8h0m0.1 3.9h0m0.2-4h0m0.2 3.3h0m0.3-1.7h0m0 0.2h0m0.3 0.1h0m0.1 3.3h0m0 0h0m0.5-6h0m0.2-1.3h0m0.3 3.4h0m0.3 0.7h0m0.7-1h0m0.1-2.5h0m0 0.6h0m0.4 5.7h0m0.3-6.2h0m0.4 4.4h0m1.2-1.4h0m0.3-1h0m0.2-0.3h0m0.6 0.6h0m0.1 1.8h0m0.1-3.6h0m0.4 5.3h0m0.3-3.8h0m0 2.7h0m0-2.8h0m0.1 1.8h0m0 1.1h0m0.3-5.2h0m0.3 0.6h0m0.1 2.5h0m0 0h0m0 1h0m0.1-0.2h0m0.1-0.6h0m0.2-1h0m0.3 1.8h0m0.3-4.4h0m0.1 5.5h0m0-2.7h0m0.2 0.8h0m0-1.5h0m0 0.3h0m0.1 1.3h0m0.1-2.7h0m0.1 3h0m0.1-0.2h0m0.1 0h0m0.3-1.2h0m0.4-2.3h0m0.2 2.7h0m0.2 3.4h0m0-2.7h0m0.3 2.1h0m0-0.5h0m0.1-2.2h0m0-0.2h0m0.2-1.8h0m0 3.6h0m0.6-1h0m0-1.8h0m0-1.1h0m0 2.9h0m0.1-2h0m0.1 1.7h0m0-0.8h0m0.2-0.9h0m0 4.5h0m0.1-1.8h0m0-1.6h0m0.4 3.2h0m0.1-3.3h0m0.1 3.1h0m0.2-2.7h0m0-1h0m0 0h0m0.1-1.6h0m0.1 3.5h0m0.3 1.3h0m0.3 1.3h0m0.1-3.3h0m0.1-1.1h0m0 4.1h0m0-5.1h0m0.1 3.9h0m0.2 0.2h0m0-1.2h0m0 2h0m0.1-3.9h0m0.1 0.4h0m0 0.6h0m0.1 1h0m0.4 2.9h0m0-5.4h0m0.1 0.2h0m0 2.4h0m0.1 2.1h0m0 0h0m0-6.5h0m0.1 4.8h0m0.4-2.5h0m0 3.7h0m0-1.2h0m0.1-1.6h0m0.5 1.2h0m0.3-2.3h0m0 0.5h0m0.1-1.9h0m0 3.9h0m0.1 3h0m0-5.6h0m0 3.8h0m0.2-0.9h0m0.1-4.4h0m0 1.5h0m0.2-0.4h0m0.1 2.1h0m0 0.9h0m0.1-0.3h0m0.1-0.3h0m0.1-2.3h0m0 0.9h0m0.1-2.2h0m0.1 7.2h0m0-7.3h0m0 3.6h0m0.1 0.4h0m0 3h0m0.2-5.5h0m0 2.3h0m0.1-0.1h0m0-3.4h0m0.1-0.5h0m0 2.5h0m0 2.7h0m0 1.4h0m0.1-2.3h0m0.1-4.1h0m0.1 3.2h0m0.1 1.5h0m0.1 2h0m0.1-3.9h0m0.1-2.9h0m0-0.1h0m0 2.1h0m0.1 2.7h0m0.1-2.7h0m0.3 2.4h0m0-0.9h0m0-2.3h0m0 3.3h0m0.1-4h0m0.2-0.5h0m0.2 5.1h0m0.2-1.4h0m0-0.4h0m0.1 1.9h0m0.1-4.4h0m0.1 1h0m0-1.4h0m0 5.2h0m0.1-2.2h0m0.1 0.3h0m0.1-1.7h0m0.1 1.6h0m0.1 1.9h0m0.2-2.4h0m0 0.2h0m0.1 1.6h0m0-3h0m0.1-0.8h0m0.2 2h0m0 2.3h0m0-1.9h0m0.1 3.4h0m0.1-3h0m0.2-0.4h0m0-1.9h0m0.1-0.6h0m0 2.9h0m0.4 2.5h0m0-3.8h0m0-2.8h0m0 1.6h0m0.1 1.1h0m0-2h0m0 6.1h0m0.1-3.1h0m0-1.4h0m0.1 0.7h0m0.1 2.2h0m0.1-0.1h0m0.1-2.6h0m0.4-0.4h0m0-0.6h0m0.2 3.1h0m0 2.3h0m0.1-5.4h0m0.1 2.3h0m0.1-0.5h0m0 0.1h0m0-2.7h0m0.1 2.1h0m0.1 0.9h0m0.1 1.9h0m0-4.6h0m0 4.9h0m0.1-3.3h0m0 0.2h0m0-1.3h0m0.1 0.5h0m0.1 2.7h0m0-1.5h0m0-0.5h0m0.1-2.6h0m0 7.8h0m0-7.1h0m0.1-0.4h0m0.1 6.7h0m0-4.2h0m0-0.1h0m0.2 2.5h0m0-0.9h0m0.1-2.7h0m0-0.1h0m0.1 0.1h0m0.2 3h0m0-2.3h0m0 0.4h0m0.3-0.8h0m0 1.5h0m0 1.2h0m0.1 2.2h0m0.2-2.9h0m0 1.2h0m0.2-2.1h0m0.1 1.1h0m0.3-2.1h0m0.1 1.8h0m0.1-1.1h0m0-1.6h0m0 3.8h0m0.1 0.1h0m0.1-2.1h0m0-0.7h0m0.1 2.9h0m0-3.3h0m0 4.7h0m0.1-5.9h0m0 1.7h0m0-0.1h0m0.1-0.6h0m0.1 1h0m0.1-0.3h0m0.1-1.5h0m0 1h0m0.1 0.3h0m0.2-2.2h0m0.3 6.3h0m0-5.6h0m0.2 4.4h0m0.1-1h0m0 1.1h0m0 0.4h0m0-3.4h0m0.1 1h0m0 1.3h0m0.3-0.9h0m0.1-0.3h0m0.1-1.8h0m0.1 5h0m0-5.9h0m0.1 2h0m0.3 0.6h0m0 1.8h0m0.1-2.4h0m0.2 1.6h0m0.1 2.2h0m0.3-1.7h0m0-2h0m0.2-1h0m0-0.3h0m0 0.5h0m0 1.1h0m0.1 1.9h0m0.1 0.7h0m0.1-2.6h0m0.1-1.8h0m0.2 1.2h0m0.1 3.4h0m0-5.1h0m0-0.5h0m0.1 4.8h0m0 2.8h0m0-5.3h0m0.4 2.2h0m0.1-1.1h0m0.1 3.1h0m0-1.2h0m0.2-4.8h0m0 0.8h0m0.1 2h0m0.1-1.4h0m0.3 2.3h0m0 1.4h0m0.2-5.1h0m0-0.1h0m0 3.6h0m0.2-2.4h0m0.2 0h0m0-1.7h0m0 1.6h0m0.1 4h0m0.4-2.6h0m0.1 1.5h0m0.2 2.2h0m0-3.7h0m0 3.5h0m0.2 0.8h0m0-3.7h0m0.1-0.1h0m0 2.6h0m0.1-1.7h0m0-2.1h0m0.2 1.9h0m0.2 1.4h0m0-3.4h0m0.1-2h0m0 2.3h0m0.1 4.2h0m0.1 0.2h0m0.1-1.8h0m0 0.9h0m0.2-1.5h0m0.1-2.2h0m0 4h0m0.2-3.5h0m0 2.1h0m0.1-1.9h0m0.4-0.5h0m0.2 2.3h0m0.1-0.6h0m0-1.7h0m0 2.8h0m0 0.8h0m0.1-3.4h0m0.1-1.7h0m0 3.9h0m0-3.7h0m0.1 3.6h0m0.2-2.3h0m0.2 5.3h0m0.1-7.8h0m0.1 0.5h0m0.1-0.2h0m0.1 0.5h0m0.1 4.9h0m0.1-1.3h0m0.2 0.3h0m0.1-4.3h0m0 1.4h0m0.2 3.5h0m0.1-4.8h0m0.1 2.6h0m0.1-2.1h0m0.1 3.8h0m0 1.3h0m0.1-1.4h0m0-1.9h0m0.2-2.1h0m0 2.7h0m0.1 4.2h0m0-3.9h0m0-3.5h0m0.1 3h0m0.1-1.8h0m0.1 0.2h0m0.1 2.7h0m0.1 0.2h0m0.2 2.2h0m0.2-2.1h0m0.2-2.7h0m0-0.5h0m0.2 0.7h0m0-0.9h0m0.1 0.1h0m0.3 5.4h0m0.2-3.8h0m0 0.1h0m0.1-2h0m0.2 2.2h0m0.2-0.1h0m0 1h0m0.1-0.9h0m0-1.1h0m0-0.1h0m0 2.5h0m0.1-0.1h0m0.1-1.7h0m0.2 0h0m0.1-1.9h0m0.1 2.8h0m0.2-3h0m0.1 1.8h0m0-1.6h0m0 2.6h0m0.1-3.2h0m0.3 5.8h0m0.1-1.7h0m0.3 1.6h0m0-4.9h0m0.1 0.7h0m0 1.2h0m0.1 0.7h0m0.1 1.4h0m0.4-0.6h0m0 1.1h0m0-1.6h0m0.3-3.5h0m0.2 4.7h0m0 2h0m0-1h0m0.1-2.5h0m0.2-2.8h0m0 3.4h0m0-2h0m0.1 0.4h0m0.2 0.8h0m0.1-2.3h0m0.1-0.2h0m0 3.3h0m0.1-1.8h0m0 2.4h0m0.2-1.5h0m0.1 3.2h0m0.3-3.7h0m0.1 1.8h0m0-0.8h0m0.1-2.8h0m0 1.5h0m0.1 0.9h0m0 0.1h0m0 2.3h0m0.1-4.1h0m0 2.3h0m0.2 0.8h0m0.2 0h0m0.1-1h0m0.2 3h0m0-4.8h0m0.2 0.1h0m0.2-0.9h0m0.1 3.7h0m0.1 0.6h0m0-2.3h0m0.1 0.8h0m0.1 3.3h0m0.2-4.6h0m0.1 4.9h0m0.2-5.8h0m0 2.7h0m0.2-1.8h0m0-0.1h0m0.1 0.7h0m0-0.4h0m0 4.3h0m0.1-4.4h0m0.1 4.2h0m0-4.9h0m0.1 3.2h0m0 0.7h0m0.2-1.3h0m0.1-3.5h0m0.2 2.1h0m0-1.5h0m0.3 3.7h0m0-0.6h0m0.3 0.3h0m0.1-1.6h0m0.3 0.5h0m0.1 3.1h0m0.1-4.6h0m0.1 1.6h0m0.9 0.7h0m0.7-3.3h0m0.3 4.6h0m0.1 0.1h0m0.5-2.2h0m0-2.5h0m0.2-0.5h0m0.5 0.9h0m0.1 5.9h0m0.1-4.9h0m0.3 2.8h0m0.4-3.9h0m0.1-0.5h0m0.1 3.7h0m0.4-1.5h0m0.3-0.8h0m0.2-1.5h0m0 1.1h0m1.3 4.1h0m0.2-2.7h0m0.8 1.4h0m0.6-0.4h0m0.6-4.7h0m0.3 2.9h0m1.2-1.3h0m0.1-1.2h0m0.5 2.3h0m0.9 0.2h0m0.8 0.7h0m0-1.3h0m0.5 5.3h0m0-3.9h0m1.3-0.7h0m0.1-1.5h0m0.8 4.4h0m0.4-4.2h0m1.5-1.8h0m1.6 2.2h0m0 1.8h0m0.2-0.7h0m1.3-1.5h0m0.5 0.7h0m2.8 1.7h0m0.4-0.3h0m3.1 0.4h0m-174.3 4.5h0m13.5 0.1h0m8.8 5.6h0m2.8-2.2h0m0.5 1.3h0m1.7-0.8h0m2.7 1.5h0m9.5-0.5h0m13.5-0.6h0m5 0.4h0m31.5-4.3h0m10.8-0.9h0m1.5 0.6h0m0.4 1.2h0m0-2.1h0m5.3 2h0m8.1-2h0m4.7 1.8h0m2 1.1h0m4.1-2h0m0.3 0.7h0m0.7-1.6h0m0.4 1.1h0m1.4 2.9h0m3.5-2.6h0m0.4-0.9h0m2.3 1.2h0m17.7-1.2h0m15.4-0.1h0m-144.2 8.9h0m8.1-1.3h0m2.4 0.3h0m10.6 0.1h0m-6.4 8.1h0" stroke="#111" stroke-width="1.15" stroke-linecap="square" fill="none"/>
<rect x="443.5" y="1537.6" width="228" height="228" fill="none" stroke="#8c8c8c" stroke-width="1"/>
<line x1="443.5" y1="1537.1" x2="443.5" y2="1765.6" stroke="#222" stroke-width="1.1"/>
<line x1="443.5" y1="1765.6" x2="671.5" y2="1765.6" stroke="#222" stroke-width="1.1"/>
<path d="M555 1765.6v3.2M537.1 1765.6v6.5M445.1 1765.6v3.2M447 1765.6v3.2M449.3 1765.6v3.2M451.8 1765.6v3.2M454.8 1765.6v3.2M458.4 1765.6v3.2M463 1765.6v3.2M469.1 1765.6v3.2M477.8 1765.6v3.2M478.9 1765.6v3.2M480 1765.6v3.2M481.2 1765.6v3.2M482.4 1765.6v3.2M483.6 1765.6v3.2M484.9 1765.6v3.2M486.2 1765.6v3.2M487.5 1765.6v3.2M488.9 1765.6v3.2M490.2 1765.6v6.5M491.5 1765.6v3.2M492.9 1765.6v3.2M494.2 1765.6v3.2M495.5 1765.6v3.2M496.8 1765.6v3.2M498 1765.6v3.2M499.2 1765.6v3.2M500.4 1765.6v3.2M501.5 1765.6v3.2M502.6 1765.6v3.2M511.3 1765.6v3.2M517.4 1765.6v3.2M522 1765.6v3.2M525.6 1765.6v3.2M528.6 1765.6v3.2M531.1 1765.6v3.2M533.4 1765.6v3.2M535.3 1765.6v3.2M537.1 1765.6v6.5M555 1765.6v3.2M565.5 1765.6v3.2M572.9 1765.6v3.2M578.7 1765.6v3.2M583.4 1765.6v3.2M587.4 1765.6v3.2M590.8 1765.6v3.2M593.9 1765.6v3.2M596.6 1765.6v6.5M612.3 1765.6v3.2M621.5 1765.6v3.2M628 1765.6v3.2M633.1 1765.6v3.2M637.2 1765.6v3.2M640.7 1765.6v3.2M643.7 1765.6v3.2M646.4 1765.6v3.2M648.8 1765.6v6.5M664.5 1765.6v3.2" stroke="#222" stroke-width="1.05" fill="none"/>
<text x="490.2" y="1782.1" font-size="8.3" text-anchor="middle" fill="#222">0</text>
<text x="539.1" y="1782.1" font-size="8.3" text-anchor="middle" fill="#222">10<tspan font-size="6.5" dy="-4">3</tspan></text>
<text x="598.6" y="1782.1" font-size="8.3" text-anchor="middle" fill="#222">10<tspan font-size="6.5" dy="-4">4</tspan></text>
<text x="650.8" y="1782.1" font-size="8.3" text-anchor="middle" fill="#222">10<tspan font-size="6.5" dy="-4">5</tspan></text>
<path d="M440.3 1650.1h3.2M437 1666.7h6.5M440.3 1765.3h3.2M440.3 1757.2h3.2M440.3 1745.6h3.2M440.3 1744.1h3.2M440.3 1742.6h3.2M440.3 1741.1h3.2M440.3 1739.5h3.2M440.3 1737.9h3.2M440.3 1736.2h3.2M440.3 1734.4h3.2M440.3 1732.7h3.2M440.3 1730.9h3.2M437 1729.1h6.5M440.3 1727.3h3.2M440.3 1725.5h3.2M440.3 1723.8h3.2M440.3 1722h3.2M440.3 1720.3h3.2M440.3 1718.7h3.2M440.3 1717.1h3.2M440.3 1715.6h3.2M440.3 1714.1h3.2M440.3 1712.6h3.2M440.3 1701h3.2M440.3 1692.9h3.2M440.3 1686.9h3.2M440.3 1682h3.2M440.3 1678h3.2M440.3 1674.6h3.2M440.3 1671.7h3.2M440.3 1669h3.2M437 1666.7h6.5M440.3 1650.1h3.2M440.3 1640.4h3.2M440.3 1633.5h3.2M440.3 1628.1h3.2M440.3 1623.7h3.2M440.3 1620.1h3.2M440.3 1616.8h3.2M440.3 1614h3.2M437 1611.5h6.5M440.3 1595.7h3.2M440.3 1586.4h3.2M440.3 1579.8h3.2M440.3 1574.7h3.2M440.3 1570.6h3.2M440.3 1567h3.2M440.3 1564h3.2M440.3 1561.3h3.2M437 1558.9h6.5M440.3 1543.1h3.2" stroke="#222" stroke-width="1.05" fill="none"/>
<text x="430" y="1732.1" font-size="8.3" text-anchor="end" fill="#222">0</text>
<text x="430.5" y="1669.7" font-size="8.3" text-anchor="end" fill="#222">10<tspan font-size="6.5" dy="-4">3</tspan></text>
<text x="430.5" y="1614.5" font-size="8.3" text-anchor="end" fill="#222">10<tspan font-size="6.5" dy="-4">4</tspan></text>
<text x="430.5" y="1561.9" font-size="8.3" text-anchor="end" fill="#222">10<tspan font-size="6.5" dy="-4">5</tspan></text>
<rect x="461.6" y="1716.5" width="62.1" height="39.8" fill="none" stroke="#57BD7E" stroke-width="1.7"/>
<text x="493.2" y="1682.4" font-size="19" text-anchor="middle" fill="#52B878">CLP</text>
<text x="493.2" y="1704.1" font-size="19" text-anchor="middle" fill="#52B878">87.7</text>
<text transform="translate(402.5 1680.9) rotate(-90)" font-size="25" text-anchor="middle" textLength="188.2" lengthAdjust="spacingAndGlyphs">Siglec-H (AF647)</text>
<line x1="395.6" y1="1586.8" x2="395.6" y2="1544.4" stroke="#000" stroke-width="1.3"/><path d="M395.6 1539.6 391.6 1547.6 399.6 1547.6Z" fill="#000"/>
<text x="430.1" y="1818.4" font-size="25" textLength="133" lengthAdjust="spacingAndGlyphs">Ly6D (FITC)</text>
<line x1="571" y1="1809.9" x2="664.7" y2="1809.9" stroke="#000" stroke-width="1.3"/><path d="M669.5 1809.9 661.5 1805.9 661.5 1813.9Z" fill="#000"/>
<rect x="147.2" y="1942.6" width="48.9" height="82.7" fill="#E6E8F5"/>
<path d="M175.3 2042.5 165.8 2042.4 162.2 2041.5 161.2 2040.5 162.3 2039.5 166.4 2038.5 176.8 2038.6 180.9 2039.5 182.4 2040.5 180.9 2041.5Z M245.8 2042.5 209.8 2042.8 200.6 2042 196.1 2040.5 200.6 2039 208.8 2038.2 242.8 2038.3 249.8 2039 253 2040 253 2041 252 2041.5Z M224.3 2044 206.3 2043.9 188.3 2042.5 168.3 2043.6 160.3 2042.5 158 2041.5 157.4 2040.5 158 2039.5 160.8 2038.4 168.8 2037.3 187.8 2038.5 211.3 2037 244.8 2037.3 251.8 2038 256.8 2039 258.8 2040.5 256.7 2042 245.8 2043.6Z M243.3 2044.5 211.3 2044.9 187.3 2043.7 167.8 2044.3 158.3 2043 155.7 2042 154.4 2040.5 155.7 2039 158.3 2038 167.8 2036.7 187.3 2037.3 211.8 2036.1 245.3 2036.6 257.8 2038 261.2 2039 262.8 2040.5 261.2 2042 257.3 2043.1Z M228.3 2045.5 208.8 2045.6 186.8 2044.6 165.8 2044.9 155.8 2043.2 153 2042 151.9 2040.5 153 2039 155.8 2037.8 166.8 2036.1 186.8 2036.4 215.8 2035.3 249.3 2036.1 258.3 2037.1 263.7 2038.5 265.6 2039.5 266.2 2040.5 264.3 2042.2 259.3 2043.7 251.8 2044.7Z M234.3 2046 211.8 2046.3 186.8 2045.3 164.8 2045.3 154.3 2043.6 150.7 2042 149.7 2040.5 150.7 2039 154.3 2037.4 166.3 2035.6 186.8 2035.7 215.8 2034.7 250.3 2035.6 260.3 2036.7 266.3 2038.2 269 2040 269 2041 267.9 2042 263.3 2043.7 256.8 2044.8Z M236.3 2046.5 211.3 2046.8 186.3 2045.9 164.3 2045.8 152.3 2043.8 148.8 2042.1 147.7 2040.5 148.8 2038.9 152.3 2037.2 158.8 2035.8 165.8 2035.1 186.3 2035.1 215.8 2034.1 251.8 2035.1 261.3 2036.2 268.3 2037.8 271.8 2040 271.8 2041 270.8 2042 266.3 2043.8 258.3 2045.2Z M146.8 2038.9 149.8 2037.3 153.3 2036.2 164.3 2034.7 222.3 2033.7 245.3 2034.3 259.3 2035.3 270.3 2037.5 273.4 2039 274.4 2040.5 273.4 2042 270.3 2043.5 259.3 2045.7 245.3 2046.7 222.3 2047.3 164.3 2046.3 153.3 2044.8 149.8 2043.7 146.8 2042.1 M146.8 2037.7 155.3 2035.3 165.3 2034.2 207.8 2033.2 227.3 2033.3 251.3 2034.1 262.8 2035.3 273.3 2037.7 275.9 2039 276.9 2040.5 275.9 2042 273.3 2043.3 262.8 2045.7 251.3 2046.9 227.3 2047.7 207.8 2047.8 165.3 2046.8 155.3 2045.7 146.8 2043.3" fill="none" stroke="#3a3a3a" stroke-width="0.7" stroke-linejoin="round"/>
<path d="M176.3 1940h0m12-1.2h0m-17.4 12.3h0m31.7 0h0m0.1-4h0m-51.9 6h0m3.1 4.7h0m0.9-4.9h0m15.4 7.1h0m6.8-0.2h0m2.6-3.2h0m2 3.2h0m-14.1 4.4h0m4.2-3h0m0.8 1.5h0m1.9 0.7h0m0.9 1.4h0m1.8-2.3h0m3.3 0.2h0m0.4 2.3h0m3 2.3h0m0.9-1.8h0m0.7-3.4h0m1.9 5.2h0m4.1-4.7h0m-38 7.7h0m6.7 3.4h0m4-3.7h0m1.3 5.2h0m0.7 0.8h0m5.2-0.6h0m1.4-0.7h0m1.2-5h0m0.4-0.1h0m0.3 1.4h0m0.1 0.7h0m2.6 2.8h0m0.3 1.5h0m4.7-0.8h0m6.1-2.1h0m-30.7 7.9h0m2-0.2h0m1.5 1.2h0m0.4-5.7h0m4.8 6.6h0m2.1-6.2h0m0 6.7h0m0.1-0.7h0m5.1-4.7h0m0.3 0.7h0m1.2 3.9h0m0.6-4.3h0m4.1 1.2h0m0.9 1h0m15.3 2.7h0m0.1-6.6h0m-46.3 7.5h0m5.8 5.5h0m4.2 0.7h0m6.1-4.1h0m1.5 2.6h0m2.1-0.3h0m0.7-4.1h0m2.5 5h0m0.8 1.8h0m2.4 0.4h0m0.2-6.8h0m0.4 1.5h0m4.9 5.2h0m0.7-1.7h0m0.2-4.4h0m0.3 3.2h0m-25.3 8.1h0m0.1 0.4h0m3.2 2.5h0m5.2-0.8h0m1.9-2.7h0m0.3-0.2h0m4.1 0.2h0m1-2.1h0m1.3 4.2h0m2 1.2h0m0.4 0.3h0m0.4-4h0m1.6-3.1h0m0.5 2.6h0m0.1 1h0m0-0.1h0m1.3-0.6h0m8.5-1.6h0m3.6 2.5h0m-37.8 9.1h0m8.3-3.2h0m3.5 2.8h0m2.3-0.4h0m1.4 0.1h0m0.5-1.8h0m1.7-2.1h0m1.3 1.8h0m5.6 1.3h0m2.9 2.1h0m7.7-1.2h0m-36.9 9h0m14.9-2.5h0m7.6 0.4h0m0.6 0h0m2.5-0.5h0m6.5-2.4h0m-37.6 7.8h0m18.4 6.1h0m3.9-4.2h0m1.8 2.8h0m-22.2 10.4h0m42.7 0h0m2.3-0.2h0m2.7-1.5h0m10 0.6h0m-55.2 3.1h0m4.9 0.2h0m12.9-0.9h0m4.8 1.1h0m7.5-0.3h0m1.4 0h0m6.3-1.7h0m19.2 0.4h0m4.4 0h0m43.4 1.5h0m24.3 1.3h0m-118 11.7h0m3.3-0.2h0m5 1h0m2-1.1h0m2.9 0.6h0m2.1-0.5h0m13.4 0.8h0m43.2 0.2h0m10-0.1h0m10.5-0.4h0m18.4-4.5h0m21-0.5h0m-147.9 8h0m4.2-1.7h0m15.1 1.9h0m7.8-0.7h0m2.7 2.5h0m2.2-0.9h0m5.6-1.8h0m5.6 1.9h0m0.4-1.3h0m3.6-2.2h0m1.5 0.3h0m3.3 3.4h0m0.6-0.6h0m3.3 0.2h0m4.2-2.8h0m2.5 2.3h0m1.5-1.8h0m4.2-0.5h0m0.7 4.5h0m6.2-2.7h0m2.3 0.5h0m10.7 1.4h0m2.2-0.4h0m13.4 0.4h0m5.1-4.3h0" stroke="#111" stroke-width="1.15" stroke-linecap="square" fill="none"/>
<rect x="146.8" y="1849" width="228.6" height="227.8" fill="none" stroke="#8c8c8c" stroke-width="1"/>
<line x1="146.8" y1="1848.5" x2="146.8" y2="2076.8" stroke="#222" stroke-width="1.1"/>
<line x1="146.8" y1="2076.8" x2="375.4" y2="2076.8" stroke="#222" stroke-width="1.1"/>
<path d="M264.6 2076.8v3.2M248.7 2076.8v6.5M147.3 2076.8v3.2M149.2 2076.8v3.2M151.1 2076.8v3.2M153.1 2076.8v3.2M155.1 2076.8v3.2M157.2 2076.8v3.2M159.4 2076.8v3.2M161.6 2076.8v3.2M163.9 2076.8v3.2M166.2 2076.8v3.2M168.5 2076.8v6.5M170.8 2076.8v3.2M173.1 2076.8v3.2M175.4 2076.8v3.2M177.6 2076.8v3.2M179.8 2076.8v3.2M181.9 2076.8v3.2M183.9 2076.8v3.2M185.9 2076.8v3.2M187.8 2076.8v3.2M189.7 2076.8v3.2M204.6 2076.8v3.2M215 2076.8v3.2M222.8 2076.8v3.2M229 2076.8v3.2M234.1 2076.8v3.2M238.5 2076.8v3.2M242.3 2076.8v3.2M245.7 2076.8v3.2M248.7 2076.8v6.5M264.6 2076.8v3.2M273.9 2076.8v3.2M280.5 2076.8v3.2M285.6 2076.8v3.2M289.8 2076.8v3.2M293.3 2076.8v3.2M296.4 2076.8v3.2M299.1 2076.8v3.2M301.5 2076.8v6.5M317.1 2076.8v3.2M326.3 2076.8v3.2M332.7 2076.8v3.2M337.8 2076.8v3.2M341.9 2076.8v3.2M345.4 2076.8v3.2M348.4 2076.8v3.2M351 2076.8v3.2M353.4 2076.8v6.5M369 2076.8v3.2" stroke="#222" stroke-width="1.05" fill="none"/>
<text x="168.5" y="2093.3" font-size="8.3" text-anchor="middle" fill="#222">0</text>
<text x="250.7" y="2093.3" font-size="8.3" text-anchor="middle" fill="#222">10<tspan font-size="6.5" dy="-4">3</tspan></text>
<text x="303.5" y="2093.3" font-size="8.3" text-anchor="middle" fill="#222">10<tspan font-size="6.5" dy="-4">4</tspan></text>
<text x="355.4" y="2093.3" font-size="8.3" text-anchor="middle" fill="#222">10<tspan font-size="6.5" dy="-4">5</tspan></text>
<path d="M143.6 1961.1h3.2M140.3 1977.6h6.5M143.6 2076.6h3.2M143.6 2068.5h3.2M143.6 2056.8h3.2M143.6 2055.4h3.2M143.6 2053.9h3.2M143.6 2052.4h3.2M143.6 2050.8h3.2M143.6 2049.1h3.2M143.6 2047.4h3.2M143.6 2045.7h3.2M143.6 2043.9h3.2M143.6 2042.1h3.2M140.3 2040.3h6.5M143.6 2038.5h3.2M143.6 2036.7h3.2M143.6 2034.9h3.2M143.6 2033.2h3.2M143.6 2031.5h3.2M143.6 2029.8h3.2M143.6 2028.2h3.2M143.6 2026.7h3.2M143.6 2025.2h3.2M143.6 2023.8h3.2M143.6 2012.1h3.2M143.6 2004h3.2M143.6 1997.8h3.2M143.6 1993h3.2M143.6 1989h3.2M143.6 1985.6h3.2M143.6 1982.6h3.2M143.6 1980h3.2M140.3 1977.6h6.5M143.6 1961.1h3.2M143.6 1951.5h3.2M143.6 1944.7h3.2M143.6 1939.4h3.2M143.6 1935h3.2M143.6 1931.4h3.2M143.6 1928.2h3.2M143.6 1925.4h3.2M140.3 1922.9h6.5M143.6 1907h3.2M143.6 1897.8h3.2M143.6 1891.2h3.2M143.6 1886.1h3.2M143.6 1881.9h3.2M143.6 1878.4h3.2M143.6 1875.3h3.2M143.6 1872.6h3.2M140.3 1870.2h6.5M143.6 1854.3h3.2" stroke="#222" stroke-width="1.05" fill="none"/>
<text x="133.3" y="2043.3" font-size="8.3" text-anchor="end" fill="#222">0</text>
<text x="133.8" y="1980.6" font-size="8.3" text-anchor="end" fill="#222">10<tspan font-size="6.5" dy="-4">3</tspan></text>
<text x="133.8" y="1925.9" font-size="8.3" text-anchor="end" fill="#222">10<tspan font-size="6.5" dy="-4">4</tspan></text>
<text x="133.8" y="1873.2" font-size="8.3" text-anchor="end" fill="#222">10<tspan font-size="6.5" dy="-4">5</tspan></text>
<rect x="147.2" y="1942.6" width="48.9" height="82.7" fill="none" stroke="#2E3192" stroke-width="1.7"/>
<text x="206" y="1906.1" font-size="19" text-anchor="middle" fill="#393E99">tDC/pre-pDC</text>
<text x="206" y="1927.4" font-size="19" text-anchor="middle" fill="#393E99">2.93</text>
<text transform="translate(105.4 1993.4) rotate(-90)" font-size="25" text-anchor="middle" textLength="187.2" lengthAdjust="spacingAndGlyphs">Siglec-H (AF647)</text>
<line x1="99.6" y1="1899.8" x2="99.6" y2="1855.3" stroke="#000" stroke-width="1.3"/><path d="M99.6 1850.5 95.6 1858.5 103.6 1858.5Z" fill="#000"/>
<text x="132.7" y="2129.4" font-size="25" textLength="169.8" lengthAdjust="spacingAndGlyphs">CD27 (PE-Cy7)</text>
<line x1="308.8" y1="2121.5" x2="367.7" y2="2121.5" stroke="#000" stroke-width="1.3"/><path d="M372.5 2121.5 364.5 2117.5 364.5 2125.5Z" fill="#000"/>
<path d="M325.6 1030 325.6 901.5 470.1 901.5 470.1 908.3" fill="none" stroke="#222" stroke-width="1.2"/>
<path d="M470.1 914.3 466.1 906.3 474.1 906.3Z" fill="#000"/>
<path d="M509.5 975.7 509.5 901.8 761.6 901.8 761.6 908.3" fill="none" stroke="#222" stroke-width="1.2"/>
<path d="M761.6 914.3 757.6 906.3 765.6 906.3Z" fill="#000"/>
<path d="M810.3 955 810.3 900.2 1062.6 900.2 1062.6 908.3" fill="none" stroke="#222" stroke-width="1.2"/>
<path d="M1062.6 914.3 1058.6 906.3 1066.6 906.3Z" fill="#000"/>
<path d="M1118.8 987.5 1118.8 899.5 1370.9 899.5 1370.9 908.3" fill="none" stroke="#222" stroke-width="1.2"/>
<path d="M1370.9 914.3 1366.9 906.3 1374.9 906.3Z" fill="#000"/>
<path d="M1505.5 1099.3 1574.4 1099.3 1574.4 1201.6 156.3 1201.6 156.3 1221.3" fill="none" stroke="#222" stroke-width="1.2"/>
<path d="M156.3 1227.3 152.3 1219.3 160.3 1219.3Z" fill="#000"/>
<path d="M289.3 1402 289.3 1214.8 569 1214.8 569 1221.3" fill="none" stroke="#222" stroke-width="1.2"/>
<path d="M569 1227.3 565 1219.3 573 1219.3Z" fill="#000"/>
<path d="M508.9 1402 593.3 1402 593.3 1214.8 872.6 1214.8 872.6 1221.3" fill="none" stroke="#222" stroke-width="1.2"/>
<path d="M872.6 1227.3 868.6 1219.3 876.6 1219.3Z" fill="#000"/>
<path d="M160.2 1336.6 112.4 1336.6 112.4 1524.2 261.1 1524.2 261.1 1530.9" fill="none" stroke="#222" stroke-width="1.2"/>
<path d="M261.1 1536.9 257.1 1528.9 265.1 1528.9Z" fill="#000"/>
<path d="M160.2 1430.5 119.3 1430.5 119.3 1830.8 265.1 1830.8 265.1 1842.3" fill="none" stroke="#222" stroke-width="1.2"/>
<path d="M265.1 1848.3 261.1 1840.3 269.1 1840.3Z" fill="#000"/>
<path d="M279.9 1715.9 279.9 1523.8 559.2 1523.8 559.2 1530.9" fill="none" stroke="#222" stroke-width="1.2"/>
<path d="M559.2 1536.9 555.2 1528.9 563.2 1528.9Z" fill="#000"/>
<text x="849" y="1697.5" font-size="40" font-weight="bold">d</text>
<rect x="1034.6" y="2086.9" width="42.4" height="7.8" fill="#A6A6A6" stroke="#000" stroke-width="1.3"/>
<rect x="1034.6" y="2085.7" width="42.4" height="1.2" fill="#8EE6F8" stroke="#000" stroke-width="1.3"/>
<rect x="1034.6" y="2078.7" width="42.4" height="7" fill="#4DA3FF" stroke="#000" stroke-width="1.3"/>
<rect x="1034.6" y="2020.2" width="42.4" height="58.5" fill="#2A14FF" stroke="#000" stroke-width="1.3"/>
<rect x="1034.6" y="1970.3" width="42.4" height="49.9" fill="#1B1794" stroke="#000" stroke-width="1.3"/>
<rect x="1034.6" y="1948.1" width="42.4" height="22.2" fill="#EE8C84" stroke="#000" stroke-width="1.3"/>
<rect x="1034.6" y="1742.5" width="42.4" height="205.5" fill="#45A08F" stroke="#000" stroke-width="1.3"/>
<rect x="1034.6" y="1704.7" width="42.4" height="37.8" fill="#A228F2" stroke="#000" stroke-width="1.3"/>
<line x1="1055.8" y1="1703.7" x2="1055.8" y2="1712.2" stroke="#000" stroke-width="1.5"/><line x1="1051.5" y1="1712.2" x2="1060.1" y2="1712.2" stroke="#000" stroke-width="1.5"/>
<line x1="1055.8" y1="1742.5" x2="1055.8" y2="1764" stroke="#000" stroke-width="1.5"/><line x1="1051.5" y1="1764" x2="1060.1" y2="1764" stroke="#000" stroke-width="1.5"/>
<line x1="1055.8" y1="1946.1" x2="1055.8" y2="1952.6" stroke="#000" stroke-width="1.5"/><line x1="1051.5" y1="1952.6" x2="1060.1" y2="1952.6" stroke="#000" stroke-width="1.5"/>
<line x1="1055.8" y1="1969.3" x2="1055.8" y2="1976" stroke="#000" stroke-width="1.5"/><line x1="1051.5" y1="1976" x2="1060.1" y2="1976" stroke="#000" stroke-width="1.5"/>
<line x1="1055.8" y1="2019.2" x2="1055.8" y2="2024" stroke="#000" stroke-width="1.5"/><line x1="1051.5" y1="2024" x2="1060.1" y2="2024" stroke="#000" stroke-width="1.5"/>
<line x1="1051.5" y1="2078.2" x2="1060.1" y2="2078.2" stroke="#000" stroke-width="1.5"/>
<line x1="1051.5" y1="2086.2" x2="1060.1" y2="2086.2" stroke="#000" stroke-width="1.5"/>
<line x1="1011.7" y1="1704" x2="1011.7" y2="2095.5" stroke="#000" stroke-width="1.6"/>
<line x1="997.6" y1="2094.7" x2="1098.6" y2="2094.7" stroke="#000" stroke-width="1.6"/>
<line x1="997.6" y1="2094.7" x2="1011.7" y2="2094.7" stroke="#000" stroke-width="1.6"/>
<text x="985.5" y="2105.2" font-size="26.5" text-anchor="end">0</text>
<line x1="997.6" y1="2016.7" x2="1011.7" y2="2016.7" stroke="#000" stroke-width="1.6"/>
<text x="985.5" y="2027.2" font-size="26.5" text-anchor="end" textLength="27.9" lengthAdjust="spacingAndGlyphs">20</text>
<line x1="997.6" y1="1938.7" x2="1011.7" y2="1938.7" stroke="#000" stroke-width="1.6"/>
<text x="985.5" y="1949.2" font-size="26.5" text-anchor="end" textLength="27.9" lengthAdjust="spacingAndGlyphs">40</text>
<line x1="997.6" y1="1860.7" x2="1011.7" y2="1860.7" stroke="#000" stroke-width="1.6"/>
<text x="985.5" y="1871.2" font-size="26.5" text-anchor="end" textLength="27.9" lengthAdjust="spacingAndGlyphs">60</text>
<line x1="997.6" y1="1782.7" x2="1011.7" y2="1782.7" stroke="#000" stroke-width="1.6"/>
<text x="985.5" y="1793.2" font-size="26.5" text-anchor="end" textLength="27.9" lengthAdjust="spacingAndGlyphs">80</text>
<line x1="997.6" y1="1704.7" x2="1011.7" y2="1704.7" stroke="#000" stroke-width="1.6"/>
<text x="985.5" y="1715.2" font-size="26.5" text-anchor="end" textLength="41.9" lengthAdjust="spacingAndGlyphs">100</text>
<text transform="translate(921 1920.5) rotate(-90)" font-size="29" text-anchor="middle" textLength="326" lengthAdjust="spacingAndGlyphs">% of CD45.2<tspan font-size="17" dy="-12">+</tspan><tspan dy="12"> Lin</tspan><tspan font-size="17" dy="-12">–</tspan><tspan dy="12">MHCII</tspan><tspan font-size="17" dy="-12">+</tspan></text>
<rect x="1126.5" y="1713.7" width="26.3" height="20.2" fill="#A228F2" stroke="#222" stroke-width="1.3"/>
<text x="1168.1" y="1733" font-size="27.3">TC</text>
<rect x="1126.5" y="1750" width="26.3" height="20.2" fill="#45A08F" stroke="#222" stroke-width="1.3"/>
<text x="1168.1" y="1769.3" font-size="27.3">LTi cells</text>
<rect x="1126.5" y="1786.3" width="26.3" height="20.2" fill="#EE8C84" stroke="#222" stroke-width="1.3"/>
<text x="1168.1" y="1805.6" font-size="27.3">pDC</text>
<rect x="1126.5" y="1822.6" width="26.3" height="20.2" fill="#1B1794" stroke="#222" stroke-width="1.3"/>
<text x="1168.1" y="1841.9" font-size="27.3">DN DC</text>
<rect x="1126.5" y="1858.9" width="26.3" height="20.2" fill="#2A14FF" stroke="#222" stroke-width="1.3"/>
<text x="1168.1" y="1878.2" font-size="27.3">cDC2</text>
<rect x="1126.5" y="1895.2" width="26.3" height="20.2" fill="#4DA3FF" stroke="#222" stroke-width="1.3"/>
<text x="1168.1" y="1914.5" font-size="27.3">cDC1</text>
<rect x="1126.5" y="1931.5" width="26.3" height="20.2" fill="#8EE6F8" stroke="#222" stroke-width="1.3"/>
<text x="1168.1" y="1950.8" font-size="27.3">Mono/Mac</text>
<rect x="1126.5" y="1967.8" width="26.3" height="20.2" fill="#A6A6A6" stroke="#222" stroke-width="1.3"/>
<text x="1168.1" y="1987.1" font-size="27.3">Other</text>
<rect x="1510.8" y="1811.7" width="41.4" height="282.5" fill="#D5FBFA" stroke="#000" stroke-width="1.3"/>
<rect x="1510.8" y="1791" width="41.4" height="20.7" fill="#D98EF8" stroke="#000" stroke-width="1.3"/>
<rect x="1510.8" y="1747.4" width="41.4" height="43.7" fill="#CC33FF" stroke="#000" stroke-width="1.3"/>
<rect x="1510.8" y="1725.5" width="41.4" height="21.8" fill="#6B3D9A" stroke="#000" stroke-width="1.3"/>
<rect x="1510.8" y="1717.6" width="41.4" height="7.9" fill="#4B1A9E" stroke="#000" stroke-width="1.3"/>
<line x1="1531.7" y1="1807.7" x2="1531.7" y2="1827" stroke="#000" stroke-width="1.5"/><line x1="1527.4" y1="1827" x2="1536" y2="1827" stroke="#000" stroke-width="1.5"/>
<line x1="1531.7" y1="1790" x2="1531.7" y2="1800.3" stroke="#000" stroke-width="1.5"/><line x1="1527.4" y1="1800.3" x2="1536" y2="1800.3" stroke="#000" stroke-width="1.5"/>
<line x1="1531.7" y1="1745.4" x2="1531.7" y2="1759.6" stroke="#000" stroke-width="1.5"/><line x1="1527.4" y1="1759.6" x2="1536" y2="1759.6" stroke="#000" stroke-width="1.5"/>
<line x1="1531.7" y1="1724.5" x2="1531.7" y2="1732" stroke="#000" stroke-width="1.5"/><line x1="1527.4" y1="1732" x2="1536" y2="1732" stroke="#000" stroke-width="1.5"/>
<line x1="1527.4" y1="1719.8" x2="1536" y2="1719.8" stroke="#000" stroke-width="1.5"/>
<line x1="1487.9" y1="1717" x2="1487.9" y2="2095" stroke="#000" stroke-width="1.6"/>
<line x1="1474.2" y1="2094.2" x2="1574" y2="2094.2" stroke="#000" stroke-width="1.6"/>
<line x1="1474.2" y1="2094.2" x2="1487.9" y2="2094.2" stroke="#000" stroke-width="1.6"/>
<text x="1470" y="2104.7" font-size="26.5" text-anchor="end">0</text>
<line x1="1474.2" y1="2018.9" x2="1487.9" y2="2018.9" stroke="#000" stroke-width="1.6"/>
<text x="1470" y="2029.4" font-size="26.5" text-anchor="end" textLength="27.9" lengthAdjust="spacingAndGlyphs">20</text>
<line x1="1474.2" y1="1943.6" x2="1487.9" y2="1943.6" stroke="#000" stroke-width="1.6"/>
<text x="1470" y="1954.1" font-size="26.5" text-anchor="end" textLength="27.9" lengthAdjust="spacingAndGlyphs">40</text>
<line x1="1474.2" y1="1868.2" x2="1487.9" y2="1868.2" stroke="#000" stroke-width="1.6"/>
<text x="1470" y="1878.7" font-size="26.5" text-anchor="end" textLength="27.9" lengthAdjust="spacingAndGlyphs">60</text>
<line x1="1474.2" y1="1792.9" x2="1487.9" y2="1792.9" stroke="#000" stroke-width="1.6"/>
<text x="1470" y="1803.4" font-size="26.5" text-anchor="end" textLength="27.9" lengthAdjust="spacingAndGlyphs">80</text>
<line x1="1474.2" y1="1717.6" x2="1487.9" y2="1717.6" stroke="#000" stroke-width="1.6"/>
<text x="1470" y="1728.1" font-size="26.5" text-anchor="end" textLength="41.9" lengthAdjust="spacingAndGlyphs">100</text>
<text transform="translate(1412.5 1918.4) rotate(-90)" font-size="29" text-anchor="middle" textLength="244.4" lengthAdjust="spacingAndGlyphs">% of CD45.2<tspan font-size="17" dy="-12">+</tspan><tspan dy="12"> TCs</tspan></text>
<rect x="1628" y="1717.6" width="27.4" height="21.5" fill="#D5FBFA" stroke="#222" stroke-width="1.3"/>
<text x="1672.5" y="1742.2" font-size="27.3">NCAM1<tspan font-size="17" dy="-12">–</tspan><tspan dy="12">EpCAM</tspan><tspan font-size="17" dy="-12">–</tspan></text>
<rect x="1628" y="1754.1" width="27.4" height="21.5" fill="#D98EF8" stroke="#222" stroke-width="1.3"/>
<text x="1672.5" y="1773.9" font-size="27.3">TC I</text>
<rect x="1628" y="1790.6" width="27.4" height="21.5" fill="#CC33FF" stroke="#222" stroke-width="1.3"/>
<text x="1672.5" y="1810.4" font-size="27.3">TC II</text>
<rect x="1628" y="1827.1" width="27.4" height="21.5" fill="#6B3D9A" stroke="#222" stroke-width="1.3"/>
<text x="1672.5" y="1846.9" font-size="27.3">TC III</text>
<rect x="1628" y="1863.6" width="27.4" height="21.5" fill="#4B1A9E" stroke="#222" stroke-width="1.3"/>
<text x="1672.5" y="1883.4" font-size="27.3">TC IV</text>
<text x="2" y="2301.9" font-size="40" font-weight="bold">e</text>
<rect x="104.5" y="2276.2" width="26" height="25.3" fill="#E8E8E8" stroke="#222" stroke-width="1.3"/>
<text x="146.2" y="2297.8" font-size="28" textLength="235.7" lengthAdjust="spacingAndGlyphs">CD45.1 (wildtype)</text>
<rect x="447.8" y="2276.2" width="26" height="25.3" fill="#C65560" stroke="#222" stroke-width="1.3"/>
<text x="488.5" y="2297.8" font-size="28" textLength="99" lengthAdjust="spacingAndGlyphs">CD45.2</text>
<text x="602.3" y="2297.8" font-size="28" font-style="italic" textLength="50.2" lengthAdjust="spacingAndGlyphs">Tcf4</text>
<text x="655.5" y="2288" font-size="21" font-style="italic" textLength="122.6" lengthAdjust="spacingAndGlyphs">STOP/STOP</text>
<text x="235.2" y="2342.3" font-size="26" text-anchor="middle">mLN</text>
<rect x="167" y="2383.8" width="29.6" height="228.4" fill="#C65560" stroke="#111" stroke-width="1.7"/>
<rect x="167" y="2612.3" width="29.6" height="60.3" fill="#E9E9E9" stroke="#111" stroke-width="1.7"/>
<rect x="205.2" y="2383.8" width="29.6" height="203.9" fill="#C65560" stroke="#111" stroke-width="1.7"/>
<rect x="205.2" y="2587.7" width="29.6" height="84.9" fill="#E9E9E9" stroke="#111" stroke-width="1.7"/>
<rect x="243.8" y="2383.8" width="29.6" height="255.5" fill="#C65560" stroke="#111" stroke-width="1.7"/>
<rect x="243.8" y="2639.4" width="29.6" height="33.2" fill="#E9E9E9" stroke="#111" stroke-width="1.7"/>
<rect x="282" y="2383.8" width="29.6" height="248" fill="#C65560" stroke="#111" stroke-width="1.7"/>
<rect x="282" y="2631.9" width="29.6" height="40.7" fill="#E9E9E9" stroke="#111" stroke-width="1.7"/>
<line x1="181.8" y1="2361.6" x2="181.8" y2="2406.4" stroke="#000" stroke-width="1.5"/><line x1="177.2" y1="2361.6" x2="186.4" y2="2361.6" stroke="#000" stroke-width="1.5"/><line x1="177.2" y1="2406.4" x2="186.4" y2="2406.4" stroke="#000" stroke-width="1.5"/>
<line x1="181.8" y1="2588.3" x2="181.8" y2="2633.9" stroke="#000" stroke-width="1.5"/><line x1="177.2" y1="2588.3" x2="186.4" y2="2588.3" stroke="#000" stroke-width="1.5"/><line x1="177.2" y1="2633.9" x2="186.4" y2="2633.9" stroke="#000" stroke-width="1.5"/>
<line x1="220" y1="2373.7" x2="220" y2="2394.8" stroke="#000" stroke-width="1.5"/><line x1="215.4" y1="2373.7" x2="224.6" y2="2373.7" stroke="#000" stroke-width="1.5"/><line x1="215.4" y1="2394.8" x2="224.6" y2="2394.8" stroke="#000" stroke-width="1.5"/>
<line x1="220" y1="2576.4" x2="220" y2="2597.5" stroke="#000" stroke-width="1.5"/><line x1="215.4" y1="2576.4" x2="224.6" y2="2576.4" stroke="#000" stroke-width="1.5"/><line x1="215.4" y1="2597.5" x2="224.6" y2="2597.5" stroke="#000" stroke-width="1.5"/>
<line x1="258.6" y1="2374.9" x2="258.6" y2="2393.4" stroke="#000" stroke-width="1.5"/><line x1="254" y1="2374.9" x2="263.2" y2="2374.9" stroke="#000" stroke-width="1.5"/><line x1="254" y1="2393.4" x2="263.2" y2="2393.4" stroke="#000" stroke-width="1.5"/>
<line x1="258.6" y1="2628.7" x2="258.6" y2="2647.8" stroke="#000" stroke-width="1.5"/><line x1="254" y1="2628.7" x2="263.2" y2="2628.7" stroke="#000" stroke-width="1.5"/><line x1="254" y1="2647.8" x2="263.2" y2="2647.8" stroke="#000" stroke-width="1.5"/>
<line x1="296.8" y1="2370" x2="296.8" y2="2398.3" stroke="#000" stroke-width="1.5"/><line x1="292.2" y1="2370" x2="301.4" y2="2370" stroke="#000" stroke-width="1.5"/><line x1="292.2" y1="2398.3" x2="301.4" y2="2398.3" stroke="#000" stroke-width="1.5"/>
<line x1="296.8" y1="2616.3" x2="296.8" y2="2644.3" stroke="#000" stroke-width="1.5"/><line x1="292.2" y1="2616.3" x2="301.4" y2="2616.3" stroke="#000" stroke-width="1.5"/><line x1="292.2" y1="2644.3" x2="301.4" y2="2644.3" stroke="#000" stroke-width="1.5"/>
<line x1="152.7" y1="2528.5" x2="322.7" y2="2528.5" stroke="#000" stroke-width="2.6" stroke-dasharray="2.6 4.6"/>
<line x1="151.5" y1="2355.3" x2="151.5" y2="2673.4" stroke="#000" stroke-width="1.6"/>
<line x1="140.4" y1="2672.6" x2="327.1" y2="2672.6" stroke="#000" stroke-width="1.6"/>
<line x1="140.4" y1="2672.6" x2="151.5" y2="2672.6" stroke="#000" stroke-width="1.6"/>
<text x="135.4" y="2681.9" font-size="26" text-anchor="end">0</text>
<line x1="140.4" y1="2614.8" x2="151.5" y2="2614.8" stroke="#000" stroke-width="1.6"/>
<text x="135.4" y="2624.2" font-size="26" text-anchor="end">20</text>
<line x1="140.4" y1="2557.1" x2="151.5" y2="2557.1" stroke="#000" stroke-width="1.6"/>
<text x="135.4" y="2566.4" font-size="26" text-anchor="end">40</text>
<line x1="140.4" y1="2499.3" x2="151.5" y2="2499.3" stroke="#000" stroke-width="1.6"/>
<text x="135.4" y="2508.7" font-size="26" text-anchor="end">60</text>
<line x1="140.4" y1="2441.6" x2="151.5" y2="2441.6" stroke="#000" stroke-width="1.6"/>
<text x="135.4" y="2450.9" font-size="26" text-anchor="end">80</text>
<line x1="140.4" y1="2383.8" x2="151.5" y2="2383.8" stroke="#000" stroke-width="1.6"/>
<text x="135.4" y="2393.2" font-size="26" text-anchor="end">100</text>
<line x1="181.8" y1="2672.6" x2="181.8" y2="2684.1" stroke="#000" stroke-width="1.6"/>
<text x="183.8" y="2712.8" font-size="26.5" text-anchor="end">TC I</text>
<line x1="220" y1="2672.6" x2="220" y2="2684.1" stroke="#000" stroke-width="1.6"/>
<text x="220" y="2712.8" font-size="26.5" text-anchor="middle">II</text>
<line x1="258.6" y1="2672.6" x2="258.6" y2="2684.1" stroke="#000" stroke-width="1.6"/>
<text x="258.6" y="2712.8" font-size="26.5" text-anchor="middle">III</text>
<line x1="296.8" y1="2672.6" x2="296.8" y2="2684.1" stroke="#000" stroke-width="1.6"/>
<text x="296.8" y="2712.8" font-size="26.5" text-anchor="middle">IV</text>
<text x="456" y="2342.3" font-size="26" text-anchor="middle">pLN</text>
<rect x="407.6" y="2384.2" width="29.6" height="272.3" fill="#C65560" stroke="#111" stroke-width="1.7"/>
<rect x="407.6" y="2656.4" width="29.6" height="16.5" fill="#E9E9E9" stroke="#111" stroke-width="1.7"/>
<rect x="447.2" y="2384.2" width="29.6" height="227.2" fill="#C65560" stroke="#111" stroke-width="1.7"/>
<rect x="447.2" y="2611.4" width="29.6" height="61.5" fill="#E9E9E9" stroke="#111" stroke-width="1.7"/>
<rect x="486.4" y="2384.2" width="29.6" height="225.8" fill="#C65560" stroke="#111" stroke-width="1.7"/>
<rect x="486.4" y="2610" width="29.6" height="62.9" fill="#E9E9E9" stroke="#111" stroke-width="1.7"/>
<line x1="422.4" y1="2379.2" x2="422.4" y2="2388.8" stroke="#000" stroke-width="1.5"/><line x1="417.8" y1="2379.2" x2="427" y2="2379.2" stroke="#000" stroke-width="1.5"/><line x1="417.8" y1="2388.8" x2="427" y2="2388.8" stroke="#000" stroke-width="1.5"/>
<line x1="422.4" y1="2651" x2="422.4" y2="2660.8" stroke="#000" stroke-width="1.5"/><line x1="417.8" y1="2651" x2="427" y2="2651" stroke="#000" stroke-width="1.5"/><line x1="417.8" y1="2660.8" x2="427" y2="2660.8" stroke="#000" stroke-width="1.5"/>
<line x1="462" y1="2362.5" x2="462" y2="2406.1" stroke="#000" stroke-width="1.5"/><line x1="457.4" y1="2362.5" x2="466.6" y2="2362.5" stroke="#000" stroke-width="1.5"/><line x1="457.4" y1="2406.1" x2="466.6" y2="2406.1" stroke="#000" stroke-width="1.5"/>
<line x1="462" y1="2588.3" x2="462" y2="2632.8" stroke="#000" stroke-width="1.5"/><line x1="457.4" y1="2588.3" x2="466.6" y2="2588.3" stroke="#000" stroke-width="1.5"/><line x1="457.4" y1="2632.8" x2="466.6" y2="2632.8" stroke="#000" stroke-width="1.5"/>
<line x1="501.2" y1="2371.2" x2="501.2" y2="2397.7" stroke="#000" stroke-width="1.5"/><line x1="496.6" y1="2371.2" x2="505.8" y2="2371.2" stroke="#000" stroke-width="1.5"/><line x1="496.6" y1="2397.7" x2="505.8" y2="2397.7" stroke="#000" stroke-width="1.5"/>
<line x1="501.2" y1="2595.8" x2="501.2" y2="2623.2" stroke="#000" stroke-width="1.5"/><line x1="496.6" y1="2595.8" x2="505.8" y2="2595.8" stroke="#000" stroke-width="1.5"/><line x1="496.6" y1="2623.2" x2="505.8" y2="2623.2" stroke="#000" stroke-width="1.5"/>
<line x1="392.4" y1="2528.4" x2="529.3" y2="2528.4" stroke="#000" stroke-width="2.6" stroke-dasharray="2.6 4.6"/>
<line x1="391.2" y1="2355.3" x2="391.2" y2="2673.7" stroke="#000" stroke-width="1.6"/>
<line x1="380.6" y1="2672.9" x2="532.2" y2="2672.9" stroke="#000" stroke-width="1.6"/>
<line x1="380.6" y1="2672.9" x2="391.2" y2="2672.9" stroke="#000" stroke-width="1.6"/>
<text x="375.6" y="2682.2" font-size="26" text-anchor="end">0</text>
<line x1="380.6" y1="2615.2" x2="391.2" y2="2615.2" stroke="#000" stroke-width="1.6"/>
<text x="375.6" y="2624.5" font-size="26" text-anchor="end">20</text>
<line x1="380.6" y1="2557.4" x2="391.2" y2="2557.4" stroke="#000" stroke-width="1.6"/>
<text x="375.6" y="2566.7" font-size="26" text-anchor="end">40</text>
<line x1="380.6" y1="2499.7" x2="391.2" y2="2499.7" stroke="#000" stroke-width="1.6"/>
<text x="375.6" y="2509" font-size="26" text-anchor="end">60</text>
<line x1="380.6" y1="2441.9" x2="391.2" y2="2441.9" stroke="#000" stroke-width="1.6"/>
<text x="375.6" y="2451.2" font-size="26" text-anchor="end">80</text>
<line x1="380.6" y1="2384.2" x2="391.2" y2="2384.2" stroke="#000" stroke-width="1.6"/>
<text x="375.6" y="2393.5" font-size="26" text-anchor="end">100</text>
<line x1="422.4" y1="2672.9" x2="422.4" y2="2684.4" stroke="#000" stroke-width="1.6"/>
<text x="424.4" y="2712.8" font-size="26.5" text-anchor="end">TC I</text>
<line x1="462" y1="2672.9" x2="462" y2="2684.4" stroke="#000" stroke-width="1.6"/>
<text x="462" y="2712.8" font-size="26.5" text-anchor="middle">II</text>
<line x1="501.2" y1="2672.9" x2="501.2" y2="2684.4" stroke="#000" stroke-width="1.6"/>
<text x="501.2" y="2712.8" font-size="26.5" text-anchor="middle">III</text>
<text x="666.4" y="2342.3" font-size="26" text-anchor="middle">Spleen</text>
<rect x="617.7" y="2369.3" width="29.6" height="275.4" fill="#C65560" stroke="#111" stroke-width="1.7"/>
<rect x="617.7" y="2644.7" width="29.6" height="27.6" fill="#E9E9E9" stroke="#111" stroke-width="1.7"/>
<rect x="656.7" y="2369.3" width="29.6" height="232.7" fill="#C65560" stroke="#111" stroke-width="1.7"/>
<rect x="656.7" y="2602" width="29.6" height="70.3" fill="#E9E9E9" stroke="#111" stroke-width="1.7"/>
<rect x="696.1" y="2369.3" width="29.6" height="260.9" fill="#C65560" stroke="#111" stroke-width="1.7"/>
<rect x="696.1" y="2630.2" width="29.6" height="42.1" fill="#E9E9E9" stroke="#111" stroke-width="1.7"/>
<line x1="632.5" y1="2365.7" x2="632.5" y2="2373.2" stroke="#000" stroke-width="1.5"/><line x1="627.9" y1="2365.7" x2="637.1" y2="2365.7" stroke="#000" stroke-width="1.5"/><line x1="627.9" y1="2373.2" x2="637.1" y2="2373.2" stroke="#000" stroke-width="1.5"/>
<line x1="632.5" y1="2640.5" x2="632.5" y2="2648.1" stroke="#000" stroke-width="1.5"/><line x1="627.9" y1="2640.5" x2="637.1" y2="2640.5" stroke="#000" stroke-width="1.5"/><line x1="627.9" y1="2648.1" x2="637.1" y2="2648.1" stroke="#000" stroke-width="1.5"/>
<line x1="671.5" y1="2361.4" x2="671.5" y2="2377.5" stroke="#000" stroke-width="1.5"/><line x1="666.9" y1="2361.4" x2="676.1" y2="2361.4" stroke="#000" stroke-width="1.5"/><line x1="666.9" y1="2377.5" x2="676.1" y2="2377.5" stroke="#000" stroke-width="1.5"/>
<line x1="671.5" y1="2593.2" x2="671.5" y2="2609.6" stroke="#000" stroke-width="1.5"/><line x1="666.9" y1="2593.2" x2="676.1" y2="2593.2" stroke="#000" stroke-width="1.5"/><line x1="666.9" y1="2609.6" x2="676.1" y2="2609.6" stroke="#000" stroke-width="1.5"/>
<line x1="710.9" y1="2363.8" x2="710.9" y2="2375.4" stroke="#000" stroke-width="1.5"/><line x1="706.3" y1="2363.8" x2="715.5" y2="2363.8" stroke="#000" stroke-width="1.5"/><line x1="706.3" y1="2375.4" x2="715.5" y2="2375.4" stroke="#000" stroke-width="1.5"/>
<line x1="710.9" y1="2623.2" x2="710.9" y2="2635.3" stroke="#000" stroke-width="1.5"/><line x1="706.3" y1="2623.2" x2="715.5" y2="2623.2" stroke="#000" stroke-width="1.5"/><line x1="706.3" y1="2635.3" x2="715.5" y2="2635.3" stroke="#000" stroke-width="1.5"/>
<line x1="602.3" y1="2521" x2="739.1" y2="2521" stroke="#000" stroke-width="2.6" stroke-dasharray="2.6 4.6"/>
<line x1="601.4" y1="2355.3" x2="601.4" y2="2673.1" stroke="#000" stroke-width="1.6"/>
<line x1="590.4" y1="2672.3" x2="741.2" y2="2672.3" stroke="#000" stroke-width="1.6"/>
<line x1="590.4" y1="2672.3" x2="601.4" y2="2672.3" stroke="#000" stroke-width="1.6"/>
<text x="585.4" y="2681.6" font-size="26" text-anchor="end">0</text>
<line x1="590.4" y1="2611.7" x2="601.4" y2="2611.7" stroke="#000" stroke-width="1.6"/>
<text x="585.4" y="2621" font-size="26" text-anchor="end">20</text>
<line x1="590.4" y1="2551.1" x2="601.4" y2="2551.1" stroke="#000" stroke-width="1.6"/>
<text x="585.4" y="2560.4" font-size="26" text-anchor="end">40</text>
<line x1="590.4" y1="2490.5" x2="601.4" y2="2490.5" stroke="#000" stroke-width="1.6"/>
<text x="585.4" y="2499.8" font-size="26" text-anchor="end">60</text>
<line x1="590.4" y1="2429.9" x2="601.4" y2="2429.9" stroke="#000" stroke-width="1.6"/>
<text x="585.4" y="2439.2" font-size="26" text-anchor="end">80</text>
<line x1="590.4" y1="2369.3" x2="601.4" y2="2369.3" stroke="#000" stroke-width="1.6"/>
<text x="585.4" y="2378.6" font-size="26" text-anchor="end">100</text>
<line x1="632.5" y1="2672.3" x2="632.5" y2="2683.8" stroke="#000" stroke-width="1.6"/>
<text x="634.5" y="2712.8" font-size="26.5" text-anchor="end">TC I</text>
<line x1="671.5" y1="2672.3" x2="671.5" y2="2683.8" stroke="#000" stroke-width="1.6"/>
<text x="671.5" y="2712.8" font-size="26.5" text-anchor="middle">II</text>
<line x1="710.9" y1="2672.3" x2="710.9" y2="2683.8" stroke="#000" stroke-width="1.6"/>
<text x="710.9" y="2712.8" font-size="26.5" text-anchor="middle">III</text>
<text font-size="28.5" text-anchor="middle" textLength="268.4" lengthAdjust="spacingAndGlyphs" transform="translate(73.5 2510) rotate(-90)">% of engrafted cells</text>
</svg>
</body></html>
